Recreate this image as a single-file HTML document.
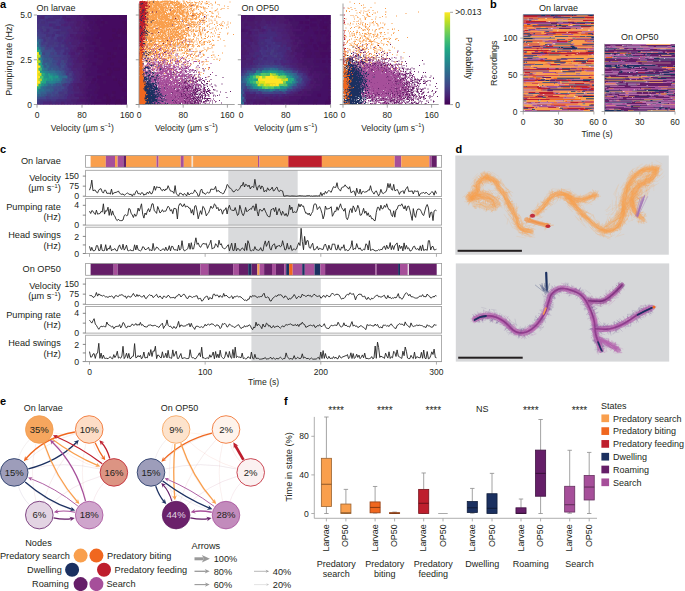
<!DOCTYPE html>
<html><head><meta charset="utf-8"><style>
html,body{margin:0;padding:0;background:#fff;overflow:hidden;width:685px;height:591px;}
svg{display:block;}
text{font-family:"Liberation Sans",sans-serif;}
</style></head><body>
<svg width="685" height="591" viewBox="0 0 685 591">
<text x="0" y="7.8" font-size="11" text-anchor="start" fill="#000" font-weight="bold">a</text>
<text x="490" y="7.8" font-size="11" text-anchor="start" fill="#000" font-weight="bold">b</text>
<text x="0" y="152.6" font-size="11" text-anchor="start" fill="#000" font-weight="bold">c</text>
<text x="455.5" y="152.6" font-size="11" text-anchor="start" fill="#000" font-weight="bold">d</text>
<text x="0" y="405.3" font-size="11" text-anchor="start" fill="#000" font-weight="bold">e</text>
<text x="284" y="404.8" font-size="11" text-anchor="start" fill="#000" font-weight="bold">f</text>
<rect x="37" y="15" width="90" height="89.5" fill="#46085c"/>
<path fill="#453580" d="M37 101.5h3.4v3h-3.4zM38.5 98.9h3.4v3h-3.4zM41.5 98.9h3.4v3h-3.4zM44.5 98.9h3.4v3h-3.4zM50.5 98.9h3.4v3h-3.4zM53.5 98.9h3.4v3h-3.4zM58 96.3h3.4v3h-3.4zM61 96.3h3.4v3h-3.4zM62.5 93.7h3.4v3h-3.4zM58 91.1h3.4v3h-3.4zM61 91.1h3.4v3h-3.4zM65.5 88.5h3.4v3h-3.4zM70 80.7h3.4v3h-3.4zM71.5 78.1h3.4v3h-3.4zM70 75.5h3.4v3h-3.4zM65.5 72.9h3.4v3h-3.4zM67 70.3h3.4v3h-3.4zM70 70.3h3.4v3h-3.4zM62.5 57.3h3.4v3h-3.4zM65.5 57.3h3.4v3h-3.4zM64 54.7h3.4v3h-3.4zM56.5 52.1h3.4v3h-3.4zM55 49.5h3.4v3h-3.4zM58 49.5h3.4v3h-3.4zM65.5 46.9h3.4v3h-3.4zM46 44.3h3.4v3h-3.4zM47.5 41.7h3.4v3h-3.4zM50.5 41.7h3.4v3h-3.4zM56.5 41.7h3.4v3h-3.4zM49 39.1h3.4v3h-3.4zM52 39.1h3.4v3h-3.4zM41.5 36.5h3.4v3h-3.4zM58 33.9h3.4v3h-3.4zM41.5 31.3h3.4v3h-3.4zM47.5 31.3h3.4v3h-3.4zM50.5 31.3h3.4v3h-3.4zM49 28.7h3.4v3h-3.4zM52 28.7h3.4v3h-3.4zM55 28.7h3.4v3h-3.4zM37 26.1h1.9v3h-1.9zM38.5 26.1h3.4v3h-3.4zM44.5 26.1h3.4v3h-3.4zM47.5 26.1h3.4v3h-3.4zM50.5 26.1h3.4v3h-3.4zM37 23.5h3.4v3h-3.4zM38.5 20.9h3.4v3h-3.4zM47.5 20.9h3.4v3h-3.4zM50.5 20.9h3.4v3h-3.4zM53.5 20.9h3.4v3h-3.4zM40 18.3h3.4v3h-3.4zM47.5 15.7h3.4v3h-3.4zM37 15h3.4v1.1h-3.4zM40 15h3.4v1.1h-3.4z"/>
<path fill="#453080" d="M40 101.5h3.4v3h-3.4zM47.5 98.9h3.4v3h-3.4zM64 96.3h3.4v3h-3.4zM65.5 93.7h3.4v3h-3.4zM71.5 72.9h3.4v3h-3.4zM68.5 67.7h3.4v3h-3.4zM65.5 62.5h3.4v3h-3.4zM65.5 52.1h3.4v3h-3.4zM53.5 46.9h3.4v3h-3.4zM56.5 46.9h3.4v3h-3.4zM59.5 46.9h3.4v3h-3.4zM62.5 46.9h3.4v3h-3.4zM58 44.3h3.4v3h-3.4zM59.5 41.7h3.4v3h-3.4zM43 39.1h3.4v3h-3.4zM55 39.1h3.4v3h-3.4zM61 39.1h3.4v3h-3.4zM50.5 36.5h3.4v3h-3.4zM49 33.9h3.4v3h-3.4zM61 33.9h3.4v3h-3.4zM44.5 31.3h3.4v3h-3.4zM53.5 31.3h3.4v3h-3.4zM40 28.7h3.4v3h-3.4zM58 28.7h3.4v3h-3.4zM40 23.5h3.4v3h-3.4zM43 23.5h3.4v3h-3.4zM46 23.5h3.4v3h-3.4zM55 23.5h3.4v3h-3.4zM58 23.5h3.4v3h-3.4zM37 20.9h1.9v3h-1.9zM44.5 20.9h3.4v3h-3.4zM56.5 20.9h3.4v3h-3.4zM37 18.3h3.4v3h-3.4zM43 18.3h3.4v3h-3.4zM55 18.3h3.4v3h-3.4zM58 18.3h3.4v3h-3.4zM37 15.7h1.9v3h-1.9zM50.5 15.7h3.4v3h-3.4zM59.5 15.7h3.4v3h-3.4zM46 15h3.4v1.1h-3.4zM49 15h3.4v1.1h-3.4zM52 15h3.4v1.1h-3.4zM55 15h3.4v1.1h-3.4z"/>
<path fill="#4a257a" d="M43 101.5h3.4v3h-3.4zM46 101.5h3.4v3h-3.4zM58 101.5h3.4v3h-3.4zM64 101.5h3.4v3h-3.4zM67 96.3h3.4v3h-3.4zM68.5 93.7h3.4v3h-3.4zM73 80.7h3.4v3h-3.4zM74.5 78.1h3.4v3h-3.4zM73 70.3h3.4v3h-3.4zM70 65.1h3.4v3h-3.4zM71.5 62.5h3.4v3h-3.4zM70 59.9h3.4v3h-3.4zM68.5 46.9h3.4v3h-3.4zM70 44.3h3.4v3h-3.4zM64 39.1h3.4v3h-3.4zM65.5 36.5h3.4v3h-3.4zM67 33.9h3.4v3h-3.4zM49 23.5h3.4v3h-3.4zM65.5 20.9h3.4v3h-3.4z"/>
<path fill="#4a2575" d="M49 101.5h3.4v3h-3.4zM55 101.5h3.4v3h-3.4zM70 101.5h3.4v3h-3.4zM65.5 98.9h3.4v3h-3.4zM68.5 98.9h3.4v3h-3.4zM70 96.3h3.4v3h-3.4zM73 96.3h3.4v3h-3.4zM76 96.3h3.4v3h-3.4zM71.5 93.7h3.4v3h-3.4zM73 91.1h3.4v3h-3.4zM76 91.1h3.4v3h-3.4zM71.5 88.5h3.4v3h-3.4zM76 85.9h3.4v3h-3.4zM71.5 83.3h3.4v3h-3.4zM76 80.7h3.4v3h-3.4zM77.5 78.1h3.4v3h-3.4zM76 75.5h3.4v3h-3.4zM74.5 72.9h3.4v3h-3.4zM77.5 72.9h3.4v3h-3.4zM76 70.3h3.4v3h-3.4zM71.5 67.7h3.4v3h-3.4zM74.5 67.7h3.4v3h-3.4zM71.5 57.3h3.4v3h-3.4zM77.5 52.1h3.4v3h-3.4zM71.5 46.9h3.4v3h-3.4zM67 44.3h3.4v3h-3.4zM73 44.3h3.4v3h-3.4zM65.5 41.7h3.4v3h-3.4zM67 39.1h3.4v3h-3.4zM68.5 36.5h3.4v3h-3.4zM68.5 31.3h3.4v3h-3.4zM71.5 31.3h3.4v3h-3.4zM74.5 31.3h3.4v3h-3.4zM67 28.7h3.4v3h-3.4zM70 28.7h3.4v3h-3.4zM56.5 26.1h3.4v3h-3.4zM74.5 26.1h3.4v3h-3.4zM61 23.5h3.4v3h-3.4zM67 23.5h3.4v3h-3.4zM68.5 20.9h3.4v3h-3.4zM71.5 20.9h3.4v3h-3.4zM41.5 15.7h3.4v3h-3.4zM65.5 15.7h3.4v3h-3.4zM68.5 15.7h3.4v3h-3.4zM67 15h3.4v1.1h-3.4z"/>
<path fill="#452a7a" d="M52 101.5h3.4v3h-3.4zM56.5 98.9h3.4v3h-3.4zM59.5 98.9h3.4v3h-3.4zM62.5 98.9h3.4v3h-3.4zM67 91.1h3.4v3h-3.4zM70 91.1h3.4v3h-3.4zM68.5 88.5h3.4v3h-3.4zM67 85.9h3.4v3h-3.4zM70 85.9h3.4v3h-3.4zM68.5 83.3h3.4v3h-3.4zM73 75.5h3.4v3h-3.4zM67 65.1h3.4v3h-3.4zM67 59.9h3.4v3h-3.4zM68.5 57.3h3.4v3h-3.4zM62.5 52.1h3.4v3h-3.4zM64 49.5h3.4v3h-3.4zM67 49.5h3.4v3h-3.4zM64 44.3h3.4v3h-3.4zM62.5 41.7h3.4v3h-3.4zM68.5 41.7h3.4v3h-3.4zM58 39.1h3.4v3h-3.4zM56.5 36.5h3.4v3h-3.4zM59.5 36.5h3.4v3h-3.4zM52 33.9h3.4v3h-3.4zM64 33.9h3.4v3h-3.4zM56.5 31.3h3.4v3h-3.4zM65.5 31.3h3.4v3h-3.4zM46 28.7h3.4v3h-3.4zM61 28.7h3.4v3h-3.4zM64 28.7h3.4v3h-3.4zM53.5 26.1h3.4v3h-3.4zM59.5 26.1h3.4v3h-3.4zM62.5 26.1h3.4v3h-3.4zM65.5 26.1h3.4v3h-3.4zM68.5 26.1h3.4v3h-3.4zM52 23.5h3.4v3h-3.4zM59.5 20.9h3.4v3h-3.4zM62.5 20.9h3.4v3h-3.4zM46 18.3h3.4v3h-3.4zM49 18.3h3.4v3h-3.4zM52 18.3h3.4v3h-3.4zM61 18.3h3.4v3h-3.4zM38.5 15.7h3.4v3h-3.4zM53.5 15.7h3.4v3h-3.4zM56.5 15.7h3.4v3h-3.4zM43 15h3.4v1.1h-3.4zM58 15h3.4v1.1h-3.4zM61 15h3.4v1.1h-3.4zM64 15h3.4v1.1h-3.4z"/>
<path fill="#4a2070" d="M61 101.5h3.4v3h-3.4zM73 101.5h3.4v3h-3.4zM71.5 98.9h3.4v3h-3.4zM74.5 98.9h3.4v3h-3.4zM79 91.1h3.4v3h-3.4zM74.5 88.5h3.4v3h-3.4zM77.5 88.5h3.4v3h-3.4zM73 85.9h3.4v3h-3.4zM74.5 83.3h3.4v3h-3.4zM80.5 72.9h3.4v3h-3.4zM79 70.3h3.4v3h-3.4zM80.5 67.7h3.4v3h-3.4zM73 65.1h3.4v3h-3.4zM76 65.1h3.4v3h-3.4zM79 65.1h3.4v3h-3.4zM74.5 62.5h3.4v3h-3.4zM77.5 62.5h3.4v3h-3.4zM80.5 62.5h3.4v3h-3.4zM73 59.9h3.4v3h-3.4zM73 54.7h3.4v3h-3.4zM76 54.7h3.4v3h-3.4zM73 49.5h3.4v3h-3.4zM79 49.5h3.4v3h-3.4zM74.5 46.9h3.4v3h-3.4zM76 44.3h3.4v3h-3.4zM71.5 41.7h3.4v3h-3.4zM74.5 41.7h3.4v3h-3.4zM73 39.1h3.4v3h-3.4zM76 39.1h3.4v3h-3.4zM71.5 36.5h3.4v3h-3.4zM73 33.9h3.4v3h-3.4zM73 28.7h3.4v3h-3.4zM76 28.7h3.4v3h-3.4zM71.5 26.1h3.4v3h-3.4zM77.5 26.1h3.4v3h-3.4zM73 23.5h3.4v3h-3.4zM74.5 20.9h3.4v3h-3.4zM70 18.3h3.4v3h-3.4zM73 18.3h3.4v3h-3.4zM62.5 15.7h3.4v3h-3.4zM74.5 15.7h3.4v3h-3.4zM80.5 15.7h3.4v3h-3.4zM70 15h3.4v1.1h-3.4zM73 15h3.4v1.1h-3.4zM76 15h3.4v1.1h-3.4z"/>
<path fill="#4a2075" d="M67 101.5h3.4v3h-3.4zM79 80.7h3.4v3h-3.4zM79 75.5h3.4v3h-3.4zM77.5 67.7h3.4v3h-3.4zM74.5 57.3h3.4v3h-3.4zM70 54.7h3.4v3h-3.4zM68.5 52.1h3.4v3h-3.4zM74.5 52.1h3.4v3h-3.4zM70 49.5h3.4v3h-3.4zM77.5 41.7h3.4v3h-3.4zM70 39.1h3.4v3h-3.4zM64 23.5h3.4v3h-3.4zM70 23.5h3.4v3h-3.4zM64 18.3h3.4v3h-3.4zM71.5 15.7h3.4v3h-3.4z"/>
<path fill="#4a1b70" d="M76 101.5h3.4v3h-3.4zM79 101.5h3.4v3h-3.4zM74.5 93.7h3.4v3h-3.4zM77.5 93.7h3.4v3h-3.4zM80.5 93.7h3.4v3h-3.4zM76 59.9h3.4v3h-3.4zM71.5 52.1h3.4v3h-3.4zM79 39.1h3.4v3h-3.4zM74.5 36.5h3.4v3h-3.4zM70 33.9h3.4v3h-3.4zM77.5 31.3h3.4v3h-3.4zM80.5 31.3h3.4v3h-3.4zM79 23.5h3.4v3h-3.4zM80.5 20.9h3.4v3h-3.4zM67 18.3h3.4v3h-3.4zM76 18.3h3.4v3h-3.4zM79 18.3h3.4v3h-3.4zM77.5 15.7h3.4v3h-3.4z"/>
<path fill="#4a1b6a" d="M82 101.5h3.4v3h-3.4zM77.5 98.9h3.4v3h-3.4zM79 96.3h3.4v3h-3.4zM82 96.3h3.4v3h-3.4zM82 91.1h3.4v3h-3.4zM80.5 88.5h3.4v3h-3.4zM79 85.9h3.4v3h-3.4zM82 85.9h3.4v3h-3.4zM77.5 83.3h3.4v3h-3.4zM80.5 83.3h3.4v3h-3.4zM83.5 83.3h3.4v3h-3.4zM82 80.7h3.4v3h-3.4zM80.5 78.1h3.4v3h-3.4zM83.5 78.1h3.4v3h-3.4zM82 75.5h3.4v3h-3.4zM83.5 72.9h3.4v3h-3.4zM82 70.3h3.4v3h-3.4zM83.5 67.7h3.4v3h-3.4zM83.5 62.5h3.4v3h-3.4zM79 59.9h3.4v3h-3.4zM82 59.9h3.4v3h-3.4zM77.5 57.3h3.4v3h-3.4zM80.5 57.3h3.4v3h-3.4zM79 54.7h3.4v3h-3.4zM80.5 52.1h3.4v3h-3.4zM83.5 52.1h3.4v3h-3.4zM76 49.5h3.4v3h-3.4zM83.5 46.9h3.4v3h-3.4zM79 44.3h3.4v3h-3.4zM82 44.3h3.4v3h-3.4zM80.5 41.7h3.4v3h-3.4zM83.5 41.7h3.4v3h-3.4zM77.5 36.5h3.4v3h-3.4zM76 33.9h3.4v3h-3.4zM79 33.9h3.4v3h-3.4zM83.5 31.3h3.4v3h-3.4zM79 28.7h3.4v3h-3.4zM82 28.7h3.4v3h-3.4zM80.5 26.1h3.4v3h-3.4zM86.5 26.1h3.4v3h-3.4zM76 23.5h3.4v3h-3.4zM82 23.5h3.4v3h-3.4zM77.5 20.9h3.4v3h-3.4zM82 18.3h3.4v3h-3.4zM82 15h3.4v1.1h-3.4z"/>
<path fill="#4a156a" d="M85 101.5h3.4v3h-3.4zM80.5 98.9h3.4v3h-3.4zM83.5 98.9h3.4v3h-3.4zM85 96.3h3.4v3h-3.4zM83.5 93.7h3.4v3h-3.4zM85 91.1h3.4v3h-3.4zM83.5 88.5h3.4v3h-3.4zM85 85.9h3.4v3h-3.4zM86.5 83.3h3.4v3h-3.4zM85 80.7h3.4v3h-3.4zM88 80.7h3.4v3h-3.4zM85 75.5h3.4v3h-3.4zM82 65.1h3.4v3h-3.4zM85 65.1h3.4v3h-3.4zM85 59.9h3.4v3h-3.4zM83.5 57.3h3.4v3h-3.4zM86.5 57.3h3.4v3h-3.4zM82 54.7h3.4v3h-3.4zM82 49.5h3.4v3h-3.4zM85 49.5h3.4v3h-3.4zM77.5 46.9h3.4v3h-3.4zM86.5 41.7h3.4v3h-3.4zM82 39.1h3.4v3h-3.4zM80.5 36.5h3.4v3h-3.4zM82 33.9h3.4v3h-3.4zM88 28.7h3.4v3h-3.4zM83.5 26.1h3.4v3h-3.4zM85 23.5h3.4v3h-3.4zM83.5 20.9h3.4v3h-3.4zM86.5 20.9h3.4v3h-3.4zM79 15h3.4v1.1h-3.4z"/>
<path fill="#451565" d="M88 101.5h3.4v3h-3.4zM86.5 98.9h3.4v3h-3.4zM88 96.3h3.4v3h-3.4zM89.5 93.7h3.4v3h-3.4zM86.5 88.5h3.4v3h-3.4zM89.5 88.5h3.4v3h-3.4zM86.5 78.1h3.4v3h-3.4zM89.5 78.1h3.4v3h-3.4zM88 75.5h3.4v3h-3.4zM91 75.5h3.4v3h-3.4zM85 70.3h3.4v3h-3.4zM88 70.3h3.4v3h-3.4zM86.5 67.7h3.4v3h-3.4zM88 65.1h3.4v3h-3.4zM86.5 62.5h3.4v3h-3.4zM89.5 62.5h3.4v3h-3.4zM85 54.7h3.4v3h-3.4zM86.5 52.1h3.4v3h-3.4zM88 49.5h3.4v3h-3.4zM91 49.5h3.4v3h-3.4zM80.5 46.9h3.4v3h-3.4zM86.5 46.9h3.4v3h-3.4zM85 44.3h3.4v3h-3.4zM88 44.3h3.4v3h-3.4zM91 44.3h3.4v3h-3.4zM85 39.1h3.4v3h-3.4zM83.5 36.5h3.4v3h-3.4zM85 33.9h3.4v3h-3.4zM88 33.9h3.4v3h-3.4zM86.5 31.3h3.4v3h-3.4zM85 28.7h3.4v3h-3.4zM85 18.3h3.4v3h-3.4zM83.5 15.7h3.4v3h-3.4zM85 15h3.4v1.1h-3.4zM88 15h3.4v1.1h-3.4z"/>
<path fill="#451065" d="M91 101.5h3.4v3h-3.4zM89.5 98.9h3.4v3h-3.4zM92.5 98.9h3.4v3h-3.4zM94 96.3h3.4v3h-3.4zM86.5 93.7h3.4v3h-3.4zM92.5 93.7h3.4v3h-3.4zM95.5 93.7h3.4v3h-3.4zM88 91.1h3.4v3h-3.4zM91 91.1h3.4v3h-3.4zM92.5 88.5h3.4v3h-3.4zM88 85.9h3.4v3h-3.4zM91 85.9h3.4v3h-3.4zM94 85.9h3.4v3h-3.4zM89.5 83.3h3.4v3h-3.4zM92.5 83.3h3.4v3h-3.4zM94 80.7h3.4v3h-3.4zM95.5 78.1h3.4v3h-3.4zM119.5 78.1h3.4v3h-3.4zM94 75.5h3.4v3h-3.4zM86.5 72.9h3.4v3h-3.4zM89.5 72.9h3.4v3h-3.4zM92.5 72.9h3.4v3h-3.4zM95.5 72.9h3.4v3h-3.4zM98.5 72.9h3.4v3h-3.4zM91 70.3h3.4v3h-3.4zM94 70.3h3.4v3h-3.4zM89.5 67.7h3.4v3h-3.4zM92.5 67.7h3.4v3h-3.4zM95.5 67.7h3.4v3h-3.4zM91 65.1h3.4v3h-3.4zM94 65.1h3.4v3h-3.4zM88 59.9h3.4v3h-3.4zM91 59.9h3.4v3h-3.4zM94 59.9h3.4v3h-3.4zM89.5 57.3h3.4v3h-3.4zM92.5 57.3h3.4v3h-3.4zM95.5 57.3h3.4v3h-3.4zM88 54.7h3.4v3h-3.4zM91 54.7h3.4v3h-3.4zM89.5 52.1h3.4v3h-3.4zM92.5 52.1h3.4v3h-3.4zM95.5 52.1h3.4v3h-3.4zM89.5 46.9h3.4v3h-3.4zM92.5 46.9h3.4v3h-3.4zM94 44.3h3.4v3h-3.4zM89.5 41.7h3.4v3h-3.4zM88 39.1h3.4v3h-3.4zM91 39.1h3.4v3h-3.4zM86.5 36.5h3.4v3h-3.4zM89.5 36.5h3.4v3h-3.4zM98.5 36.5h3.4v3h-3.4zM91 33.9h3.4v3h-3.4zM89.5 31.3h3.4v3h-3.4zM92.5 31.3h3.4v3h-3.4zM95.5 31.3h3.4v3h-3.4zM91 28.7h3.4v3h-3.4zM89.5 26.1h3.4v3h-3.4zM88 23.5h3.4v3h-3.4zM91 23.5h3.4v3h-3.4zM92.5 20.9h3.4v3h-3.4zM88 18.3h3.4v3h-3.4zM91 18.3h3.4v3h-3.4zM100 18.3h3.4v3h-3.4zM86.5 15.7h3.4v3h-3.4zM89.5 15.7h3.4v3h-3.4zM92.5 15.7h3.4v3h-3.4zM91 15h3.4v1.1h-3.4z"/>
<path fill="#450b60" d="M94 101.5h3.4v3h-3.4zM97 101.5h3.4v3h-3.4zM100 101.5h3.4v3h-3.4zM103 101.5h3.4v3h-3.4zM109 101.5h3.4v3h-3.4zM112 101.5h3.4v3h-3.4zM121 101.5h3.4v3h-3.4zM124 101.5h3v3h-3zM101.5 98.9h3.4v3h-3.4zM104.5 98.9h3.4v3h-3.4zM110.5 98.9h3.4v3h-3.4zM113.5 98.9h3.4v3h-3.4zM119.5 98.9h3.4v3h-3.4zM122.5 98.9h3.4v3h-3.4zM125.5 98.9h1.5v3h-1.5zM97 96.3h3.4v3h-3.4zM100 96.3h3.4v3h-3.4zM109 96.3h3.4v3h-3.4zM115 96.3h3.4v3h-3.4zM118 96.3h3.4v3h-3.4zM98.5 93.7h3.4v3h-3.4zM101.5 93.7h3.4v3h-3.4zM107.5 93.7h3.4v3h-3.4zM113.5 93.7h3.4v3h-3.4zM116.5 93.7h3.4v3h-3.4zM119.5 93.7h3.4v3h-3.4zM122.5 93.7h3.4v3h-3.4zM125.5 93.7h1.5v3h-1.5zM97 91.1h3.4v3h-3.4zM100 91.1h3.4v3h-3.4zM103 91.1h3.4v3h-3.4zM106 91.1h3.4v3h-3.4zM109 91.1h3.4v3h-3.4zM115 91.1h3.4v3h-3.4zM118 91.1h3.4v3h-3.4zM121 91.1h3.4v3h-3.4zM124 91.1h3v3h-3zM98.5 88.5h3.4v3h-3.4zM101.5 88.5h3.4v3h-3.4zM104.5 88.5h3.4v3h-3.4zM107.5 88.5h3.4v3h-3.4zM110.5 88.5h3.4v3h-3.4zM113.5 88.5h3.4v3h-3.4zM116.5 88.5h3.4v3h-3.4zM119.5 88.5h3.4v3h-3.4zM125.5 88.5h1.5v3h-1.5zM100 85.9h3.4v3h-3.4zM103 85.9h3.4v3h-3.4zM106 85.9h3.4v3h-3.4zM109 85.9h3.4v3h-3.4zM112 85.9h3.4v3h-3.4zM115 85.9h3.4v3h-3.4zM118 85.9h3.4v3h-3.4zM121 85.9h3.4v3h-3.4zM124 85.9h3v3h-3zM98.5 83.3h3.4v3h-3.4zM101.5 83.3h3.4v3h-3.4zM104.5 83.3h3.4v3h-3.4zM107.5 83.3h3.4v3h-3.4zM110.5 83.3h3.4v3h-3.4zM113.5 83.3h3.4v3h-3.4zM116.5 83.3h3.4v3h-3.4zM122.5 83.3h3.4v3h-3.4zM125.5 83.3h1.5v3h-1.5zM97 80.7h3.4v3h-3.4zM100 80.7h3.4v3h-3.4zM106 80.7h3.4v3h-3.4zM109 80.7h3.4v3h-3.4zM112 80.7h3.4v3h-3.4zM115 80.7h3.4v3h-3.4zM121 80.7h3.4v3h-3.4zM124 80.7h3v3h-3zM92.5 78.1h3.4v3h-3.4zM98.5 78.1h3.4v3h-3.4zM101.5 78.1h3.4v3h-3.4zM104.5 78.1h3.4v3h-3.4zM107.5 78.1h3.4v3h-3.4zM110.5 78.1h3.4v3h-3.4zM116.5 78.1h3.4v3h-3.4zM125.5 78.1h1.5v3h-1.5zM100 75.5h3.4v3h-3.4zM103 75.5h3.4v3h-3.4zM106 75.5h3.4v3h-3.4zM109 75.5h3.4v3h-3.4zM115 75.5h3.4v3h-3.4zM118 75.5h3.4v3h-3.4zM121 75.5h3.4v3h-3.4zM124 75.5h3v3h-3zM104.5 72.9h3.4v3h-3.4zM110.5 72.9h3.4v3h-3.4zM113.5 72.9h3.4v3h-3.4zM116.5 72.9h3.4v3h-3.4zM119.5 72.9h3.4v3h-3.4zM122.5 72.9h3.4v3h-3.4zM97 70.3h3.4v3h-3.4zM100 70.3h3.4v3h-3.4zM103 70.3h3.4v3h-3.4zM112 70.3h3.4v3h-3.4zM115 70.3h3.4v3h-3.4zM118 70.3h3.4v3h-3.4zM121 70.3h3.4v3h-3.4zM124 70.3h3v3h-3zM98.5 67.7h3.4v3h-3.4zM101.5 67.7h3.4v3h-3.4zM104.5 67.7h3.4v3h-3.4zM110.5 67.7h3.4v3h-3.4zM119.5 67.7h3.4v3h-3.4zM122.5 67.7h3.4v3h-3.4zM97 65.1h3.4v3h-3.4zM100 65.1h3.4v3h-3.4zM103 65.1h3.4v3h-3.4zM106 65.1h3.4v3h-3.4zM109 65.1h3.4v3h-3.4zM112 65.1h3.4v3h-3.4zM115 65.1h3.4v3h-3.4zM118 65.1h3.4v3h-3.4zM121 65.1h3.4v3h-3.4zM124 65.1h3v3h-3zM92.5 62.5h3.4v3h-3.4zM101.5 62.5h3.4v3h-3.4zM104.5 62.5h3.4v3h-3.4zM107.5 62.5h3.4v3h-3.4zM113.5 62.5h3.4v3h-3.4zM116.5 62.5h3.4v3h-3.4zM119.5 62.5h3.4v3h-3.4zM125.5 62.5h1.5v3h-1.5zM103 59.9h3.4v3h-3.4zM106 59.9h3.4v3h-3.4zM109 59.9h3.4v3h-3.4zM112 59.9h3.4v3h-3.4zM115 59.9h3.4v3h-3.4zM121 59.9h3.4v3h-3.4zM124 59.9h3v3h-3zM98.5 57.3h3.4v3h-3.4zM101.5 57.3h3.4v3h-3.4zM104.5 57.3h3.4v3h-3.4zM110.5 57.3h3.4v3h-3.4zM113.5 57.3h3.4v3h-3.4zM116.5 57.3h3.4v3h-3.4zM119.5 57.3h3.4v3h-3.4zM122.5 57.3h3.4v3h-3.4zM125.5 57.3h1.5v3h-1.5zM94 54.7h3.4v3h-3.4zM103 54.7h3.4v3h-3.4zM106 54.7h3.4v3h-3.4zM109 54.7h3.4v3h-3.4zM115 54.7h3.4v3h-3.4zM118 54.7h3.4v3h-3.4zM121 54.7h3.4v3h-3.4zM98.5 52.1h3.4v3h-3.4zM101.5 52.1h3.4v3h-3.4zM104.5 52.1h3.4v3h-3.4zM110.5 52.1h3.4v3h-3.4zM116.5 52.1h3.4v3h-3.4zM119.5 52.1h3.4v3h-3.4zM122.5 52.1h3.4v3h-3.4zM125.5 52.1h1.5v3h-1.5zM94 49.5h3.4v3h-3.4zM97 49.5h3.4v3h-3.4zM100 49.5h3.4v3h-3.4zM103 49.5h3.4v3h-3.4zM106 49.5h3.4v3h-3.4zM109 49.5h3.4v3h-3.4zM112 49.5h3.4v3h-3.4zM115 49.5h3.4v3h-3.4zM118 49.5h3.4v3h-3.4zM121 49.5h3.4v3h-3.4zM124 49.5h3v3h-3zM95.5 46.9h3.4v3h-3.4zM104.5 46.9h3.4v3h-3.4zM107.5 46.9h3.4v3h-3.4zM110.5 46.9h3.4v3h-3.4zM116.5 46.9h3.4v3h-3.4zM122.5 46.9h3.4v3h-3.4zM125.5 46.9h1.5v3h-1.5zM100 44.3h3.4v3h-3.4zM103 44.3h3.4v3h-3.4zM106 44.3h3.4v3h-3.4zM109 44.3h3.4v3h-3.4zM112 44.3h3.4v3h-3.4zM115 44.3h3.4v3h-3.4zM121 44.3h3.4v3h-3.4zM124 44.3h3v3h-3zM92.5 41.7h3.4v3h-3.4zM101.5 41.7h3.4v3h-3.4zM104.5 41.7h3.4v3h-3.4zM107.5 41.7h3.4v3h-3.4zM110.5 41.7h3.4v3h-3.4zM113.5 41.7h3.4v3h-3.4zM116.5 41.7h3.4v3h-3.4zM119.5 41.7h3.4v3h-3.4zM122.5 41.7h3.4v3h-3.4zM125.5 41.7h1.5v3h-1.5zM100 39.1h3.4v3h-3.4zM103 39.1h3.4v3h-3.4zM106 39.1h3.4v3h-3.4zM112 39.1h3.4v3h-3.4zM115 39.1h3.4v3h-3.4zM118 39.1h3.4v3h-3.4zM121 39.1h3.4v3h-3.4zM124 39.1h3v3h-3zM95.5 36.5h3.4v3h-3.4zM101.5 36.5h3.4v3h-3.4zM104.5 36.5h3.4v3h-3.4zM107.5 36.5h3.4v3h-3.4zM110.5 36.5h3.4v3h-3.4zM119.5 36.5h3.4v3h-3.4zM122.5 36.5h3.4v3h-3.4zM125.5 36.5h1.5v3h-1.5zM97 33.9h3.4v3h-3.4zM100 33.9h3.4v3h-3.4zM103 33.9h3.4v3h-3.4zM106 33.9h3.4v3h-3.4zM109 33.9h3.4v3h-3.4zM115 33.9h3.4v3h-3.4zM121 33.9h3.4v3h-3.4zM124 33.9h3v3h-3zM98.5 31.3h3.4v3h-3.4zM101.5 31.3h3.4v3h-3.4zM104.5 31.3h3.4v3h-3.4zM107.5 31.3h3.4v3h-3.4zM110.5 31.3h3.4v3h-3.4zM113.5 31.3h3.4v3h-3.4zM119.5 31.3h3.4v3h-3.4zM100 28.7h3.4v3h-3.4zM103 28.7h3.4v3h-3.4zM106 28.7h3.4v3h-3.4zM109 28.7h3.4v3h-3.4zM115 28.7h3.4v3h-3.4zM121 28.7h3.4v3h-3.4zM98.5 26.1h3.4v3h-3.4zM101.5 26.1h3.4v3h-3.4zM104.5 26.1h3.4v3h-3.4zM107.5 26.1h3.4v3h-3.4zM110.5 26.1h3.4v3h-3.4zM113.5 26.1h3.4v3h-3.4zM116.5 26.1h3.4v3h-3.4zM119.5 26.1h3.4v3h-3.4zM122.5 26.1h3.4v3h-3.4zM97 23.5h3.4v3h-3.4zM103 23.5h3.4v3h-3.4zM106 23.5h3.4v3h-3.4zM109 23.5h3.4v3h-3.4zM112 23.5h3.4v3h-3.4zM115 23.5h3.4v3h-3.4zM118 23.5h3.4v3h-3.4zM121 23.5h3.4v3h-3.4zM95.5 20.9h3.4v3h-3.4zM98.5 20.9h3.4v3h-3.4zM107.5 20.9h3.4v3h-3.4zM110.5 20.9h3.4v3h-3.4zM113.5 20.9h3.4v3h-3.4zM116.5 20.9h3.4v3h-3.4zM119.5 20.9h3.4v3h-3.4zM125.5 20.9h1.5v3h-1.5zM97 18.3h3.4v3h-3.4zM103 18.3h3.4v3h-3.4zM106 18.3h3.4v3h-3.4zM109 18.3h3.4v3h-3.4zM112 18.3h3.4v3h-3.4zM115 18.3h3.4v3h-3.4zM118 18.3h3.4v3h-3.4zM121 18.3h3.4v3h-3.4zM124 18.3h3v3h-3zM101.5 15.7h3.4v3h-3.4zM104.5 15.7h3.4v3h-3.4zM107.5 15.7h3.4v3h-3.4zM110.5 15.7h3.4v3h-3.4zM113.5 15.7h3.4v3h-3.4zM116.5 15.7h3.4v3h-3.4zM125.5 15.7h1.5v3h-1.5zM100 15h3.4v1.1h-3.4zM103 15h3.4v1.1h-3.4zM115 15h3.4v1.1h-3.4zM118 15h3.4v1.1h-3.4zM121 15h3.4v1.1h-3.4zM124 15h3v1.1h-3z"/>
<path fill="#450b5a" d="M106 101.5h3.4v3h-3.4zM115 101.5h3.4v3h-3.4zM118 101.5h3.4v3h-3.4zM107.5 98.9h3.4v3h-3.4zM116.5 98.9h3.4v3h-3.4zM106 96.3h3.4v3h-3.4zM112 96.3h3.4v3h-3.4zM124 96.3h3v3h-3zM104.5 93.7h3.4v3h-3.4zM112 91.1h3.4v3h-3.4zM122.5 88.5h3.4v3h-3.4zM119.5 83.3h3.4v3h-3.4zM118 80.7h3.4v3h-3.4zM113.5 78.1h3.4v3h-3.4zM122.5 78.1h3.4v3h-3.4zM97 75.5h3.4v3h-3.4zM107.5 72.9h3.4v3h-3.4zM125.5 72.9h1.5v3h-1.5zM109 70.3h3.4v3h-3.4zM107.5 67.7h3.4v3h-3.4zM113.5 67.7h3.4v3h-3.4zM116.5 67.7h3.4v3h-3.4zM125.5 67.7h1.5v3h-1.5zM110.5 62.5h3.4v3h-3.4zM122.5 62.5h3.4v3h-3.4zM118 59.9h3.4v3h-3.4zM107.5 57.3h3.4v3h-3.4zM112 54.7h3.4v3h-3.4zM124 54.7h3v3h-3zM107.5 52.1h3.4v3h-3.4zM113.5 46.9h3.4v3h-3.4zM119.5 46.9h3.4v3h-3.4zM109 39.1h3.4v3h-3.4zM113.5 36.5h3.4v3h-3.4zM116.5 36.5h3.4v3h-3.4zM112 33.9h3.4v3h-3.4zM116.5 31.3h3.4v3h-3.4zM122.5 31.3h3.4v3h-3.4zM125.5 31.3h1.5v3h-1.5zM112 28.7h3.4v3h-3.4zM118 28.7h3.4v3h-3.4zM124 28.7h3v3h-3zM125.5 26.1h1.5v3h-1.5zM124 23.5h3v3h-3zM101.5 20.9h3.4v3h-3.4zM122.5 20.9h3.4v3h-3.4zM119.5 15.7h3.4v3h-3.4zM122.5 15.7h3.4v3h-3.4zM106 15h3.4v1.1h-3.4zM112 15h3.4v1.1h-3.4z"/>
<path fill="#404085" d="M37 98.9h1.9v3h-1.9zM49 96.3h3.4v3h-3.4zM67 75.5h3.4v3h-3.4zM64 70.3h3.4v3h-3.4zM62.5 67.7h3.4v3h-3.4zM58 65.1h3.4v3h-3.4zM58 54.7h3.4v3h-3.4zM47.5 46.9h3.4v3h-3.4zM38.5 36.5h3.4v3h-3.4z"/>
<path fill="#451060" d="M95.5 98.9h3.4v3h-3.4zM98.5 98.9h3.4v3h-3.4zM91 96.3h3.4v3h-3.4zM103 96.3h3.4v3h-3.4zM121 96.3h3.4v3h-3.4zM110.5 93.7h3.4v3h-3.4zM94 91.1h3.4v3h-3.4zM95.5 88.5h3.4v3h-3.4zM97 85.9h3.4v3h-3.4zM95.5 83.3h3.4v3h-3.4zM91 80.7h3.4v3h-3.4zM103 80.7h3.4v3h-3.4zM112 75.5h3.4v3h-3.4zM101.5 72.9h3.4v3h-3.4zM106 70.3h3.4v3h-3.4zM95.5 62.5h3.4v3h-3.4zM98.5 62.5h3.4v3h-3.4zM97 59.9h3.4v3h-3.4zM100 59.9h3.4v3h-3.4zM97 54.7h3.4v3h-3.4zM100 54.7h3.4v3h-3.4zM113.5 52.1h3.4v3h-3.4zM98.5 46.9h3.4v3h-3.4zM101.5 46.9h3.4v3h-3.4zM97 44.3h3.4v3h-3.4zM118 44.3h3.4v3h-3.4zM95.5 41.7h3.4v3h-3.4zM98.5 41.7h3.4v3h-3.4zM94 39.1h3.4v3h-3.4zM97 39.1h3.4v3h-3.4zM92.5 36.5h3.4v3h-3.4zM94 33.9h3.4v3h-3.4zM118 33.9h3.4v3h-3.4zM94 28.7h3.4v3h-3.4zM97 28.7h3.4v3h-3.4zM92.5 26.1h3.4v3h-3.4zM95.5 26.1h3.4v3h-3.4zM94 23.5h3.4v3h-3.4zM100 23.5h3.4v3h-3.4zM89.5 20.9h3.4v3h-3.4zM104.5 20.9h3.4v3h-3.4zM94 18.3h3.4v3h-3.4zM95.5 15.7h3.4v3h-3.4zM98.5 15.7h3.4v3h-3.4zM94 15h3.4v1.1h-3.4zM97 15h3.4v1.1h-3.4zM109 15h3.4v1.1h-3.4z"/>
<path fill="#3a508a" d="M37 96.3h3.4v3h-3.4zM44.5 93.7h3.4v3h-3.4zM46 91.1h3.4v3h-3.4zM49 91.1h3.4v3h-3.4zM52 85.9h3.4v3h-3.4zM59.5 83.3h3.4v3h-3.4zM64 80.7h3.4v3h-3.4zM62.5 72.9h3.4v3h-3.4zM56.5 67.7h3.4v3h-3.4zM49 65.1h3.4v3h-3.4zM52 65.1h3.4v3h-3.4zM55 65.1h3.4v3h-3.4zM50.5 62.5h3.4v3h-3.4zM46 59.9h3.4v3h-3.4zM50.5 57.3h3.4v3h-3.4zM43 54.7h3.4v3h-3.4zM46 54.7h3.4v3h-3.4zM44.5 52.1h3.4v3h-3.4zM47.5 52.1h3.4v3h-3.4zM38.5 41.7h3.4v3h-3.4z"/>
<path fill="#40458a" d="M40 96.3h3.4v3h-3.4zM43 96.3h3.4v3h-3.4zM52 91.1h3.4v3h-3.4zM53.5 88.5h3.4v3h-3.4zM59.5 88.5h3.4v3h-3.4zM58 85.9h3.4v3h-3.4zM67 80.7h3.4v3h-3.4zM65.5 78.1h3.4v3h-3.4zM59.5 62.5h3.4v3h-3.4zM55 59.9h3.4v3h-3.4zM49 54.7h3.4v3h-3.4zM53.5 52.1h3.4v3h-3.4zM50.5 46.9h3.4v3h-3.4zM40 44.3h3.4v3h-3.4zM40 39.1h3.4v3h-3.4zM37 31.3h1.9v3h-1.9z"/>
<path fill="#453a85" d="M46 96.3h3.4v3h-3.4zM52 96.3h3.4v3h-3.4zM55 96.3h3.4v3h-3.4zM62.5 88.5h3.4v3h-3.4zM64 85.9h3.4v3h-3.4zM65.5 83.3h3.4v3h-3.4zM65.5 67.7h3.4v3h-3.4zM64 65.1h3.4v3h-3.4zM56.5 62.5h3.4v3h-3.4zM58 59.9h3.4v3h-3.4zM59.5 57.3h3.4v3h-3.4zM61 54.7h3.4v3h-3.4zM59.5 52.1h3.4v3h-3.4zM61 49.5h3.4v3h-3.4zM49 44.3h3.4v3h-3.4zM55 44.3h3.4v3h-3.4zM41.5 41.7h3.4v3h-3.4zM47.5 36.5h3.4v3h-3.4zM53.5 36.5h3.4v3h-3.4zM40 33.9h3.4v3h-3.4zM43 33.9h3.4v3h-3.4zM55 33.9h3.4v3h-3.4zM38.5 31.3h3.4v3h-3.4zM37 28.7h3.4v3h-3.4zM44.5 15.7h3.4v3h-3.4z"/>
<path fill="#306a8f" d="M37 93.7h1.9v3h-1.9zM50.5 83.3h3.4v3h-3.4zM58 80.7h3.4v3h-3.4zM61 75.5h3.4v3h-3.4zM64 75.5h3.4v3h-3.4zM56.5 72.9h3.4v3h-3.4zM46 65.1h3.4v3h-3.4zM44.5 62.5h3.4v3h-3.4zM37 44.3h3.4v3h-3.4z"/>
<path fill="#35608f" d="M38.5 93.7h3.4v3h-3.4zM40 91.1h3.4v3h-3.4zM43 91.1h3.4v3h-3.4zM44.5 88.5h3.4v3h-3.4zM47.5 88.5h3.4v3h-3.4zM59.5 72.9h3.4v3h-3.4zM58 70.3h3.4v3h-3.4zM50.5 67.7h3.4v3h-3.4zM41.5 62.5h3.4v3h-3.4zM41.5 57.3h3.4v3h-3.4zM40 54.7h3.4v3h-3.4zM37 39.1h3.4v3h-3.4z"/>
<path fill="#355a8a" d="M41.5 93.7h3.4v3h-3.4zM50.5 88.5h3.4v3h-3.4zM46 85.9h3.4v3h-3.4zM49 85.9h3.4v3h-3.4zM43 65.1h3.4v3h-3.4zM47.5 62.5h3.4v3h-3.4zM44.5 57.3h3.4v3h-3.4zM40 49.5h3.4v3h-3.4z"/>
<path fill="#404585" d="M47.5 93.7h3.4v3h-3.4zM53.5 93.7h3.4v3h-3.4zM68.5 78.1h3.4v3h-3.4zM62.5 62.5h3.4v3h-3.4zM61 59.9h3.4v3h-3.4zM52 54.7h3.4v3h-3.4zM55 54.7h3.4v3h-3.4zM41.5 52.1h3.4v3h-3.4zM52 49.5h3.4v3h-3.4zM43 44.3h3.4v3h-3.4z"/>
<path fill="#404a8a" d="M50.5 93.7h3.4v3h-3.4zM55 91.1h3.4v3h-3.4zM56.5 88.5h3.4v3h-3.4zM55 85.9h3.4v3h-3.4zM61 85.9h3.4v3h-3.4zM59.5 67.7h3.4v3h-3.4zM61 65.1h3.4v3h-3.4zM53.5 62.5h3.4v3h-3.4zM43 49.5h3.4v3h-3.4zM46 49.5h3.4v3h-3.4zM49 49.5h3.4v3h-3.4z"/>
<path fill="#454085" d="M56.5 93.7h3.4v3h-3.4zM68.5 72.9h3.4v3h-3.4zM53.5 57.3h3.4v3h-3.4zM56.5 57.3h3.4v3h-3.4zM50.5 52.1h3.4v3h-3.4zM44.5 46.9h3.4v3h-3.4zM44.5 41.7h3.4v3h-3.4zM37 33.9h3.4v3h-3.4z"/>
<path fill="#453a80" d="M59.5 93.7h3.4v3h-3.4zM64 91.1h3.4v3h-3.4zM62.5 83.3h3.4v3h-3.4zM64 59.9h3.4v3h-3.4zM52 44.3h3.4v3h-3.4zM61 44.3h3.4v3h-3.4zM53.5 41.7h3.4v3h-3.4zM46 39.1h3.4v3h-3.4zM44.5 36.5h3.4v3h-3.4zM43 28.7h3.4v3h-3.4zM41.5 26.1h3.4v3h-3.4z"/>
<path fill="#2a758f" d="M37 91.1h3.4v3h-3.4zM55 80.7h3.4v3h-3.4zM40 59.9h3.4v3h-3.4z"/>
<path fill="#209a8a" d="M37 88.5h1.9v3h-1.9zM50.5 78.1h3.4v3h-3.4zM47.5 72.9h3.4v3h-3.4z"/>
<path fill="#2a708f" d="M38.5 88.5h3.4v3h-3.4zM41.5 88.5h3.4v3h-3.4zM40 85.9h3.4v3h-3.4zM59.5 78.1h3.4v3h-3.4zM58 75.5h3.4v3h-3.4z"/>
<path fill="#25aa80" d="M37 85.9h3.4v3h-3.4z"/>
<path fill="#30658f" d="M43 85.9h3.4v3h-3.4zM47.5 83.3h3.4v3h-3.4zM55 70.3h3.4v3h-3.4zM38.5 46.9h3.4v3h-3.4z"/>
<path fill="#e4e41b" d="M37 83.3h1.9v3h-1.9z"/>
<path fill="#2aaf80" d="M38.5 83.3h3.4v3h-3.4zM40 80.7h3.4v3h-3.4zM41.5 78.1h3.4v3h-3.4zM37 49.5h3.4v3h-3.4z"/>
<path fill="#208f8a" d="M41.5 83.3h3.4v3h-3.4zM46 75.5h3.4v3h-3.4zM52 75.5h3.4v3h-3.4zM44.5 72.9h3.4v3h-3.4zM40 65.1h3.4v3h-3.4z"/>
<path fill="#2a7a8f" d="M44.5 83.3h3.4v3h-3.4zM53.5 72.9h3.4v3h-3.4zM46 70.3h3.4v3h-3.4zM37 41.7h1.9v3h-1.9z"/>
<path fill="#355a8f" d="M53.5 83.3h3.4v3h-3.4zM47.5 67.7h3.4v3h-3.4z"/>
<path fill="#3a558a" d="M56.5 83.3h3.4v3h-3.4zM61 80.7h3.4v3h-3.4zM62.5 78.1h3.4v3h-3.4zM61 70.3h3.4v3h-3.4zM53.5 67.7h3.4v3h-3.4zM43 59.9h3.4v3h-3.4zM49 59.9h3.4v3h-3.4zM47.5 57.3h3.4v3h-3.4zM41.5 46.9h3.4v3h-3.4zM37 36.5h1.9v3h-1.9z"/>
<path fill="#ffe425" d="M37 80.7h3.4v3h-3.4zM37 78.1h1.9v3h-1.9zM37 75.5h3.4v3h-3.4zM37 72.9h1.9v3h-1.9zM37 70.3h3.4v3h-3.4zM37 67.7h1.9v3h-1.9zM37 65.1h3.4v3h-3.4zM37 62.5h1.9v3h-1.9zM37 57.3h1.9v3h-1.9z"/>
<path fill="#20a585" d="M43 80.7h3.4v3h-3.4zM44.5 78.1h3.4v3h-3.4zM38.5 62.5h3.4v3h-3.4z"/>
<path fill="#25808f" d="M46 80.7h3.4v3h-3.4zM52 80.7h3.4v3h-3.4z"/>
<path fill="#25858f" d="M49 80.7h3.4v3h-3.4zM53.5 78.1h3.4v3h-3.4zM50.5 72.9h3.4v3h-3.4zM43 70.3h3.4v3h-3.4zM38.5 52.1h3.4v3h-3.4z"/>
<path fill="#aada30" d="M38.5 78.1h3.4v3h-3.4z"/>
<path fill="#20958a" d="M47.5 78.1h3.4v3h-3.4zM43 75.5h3.4v3h-3.4zM55 75.5h3.4v3h-3.4zM40 70.3h3.4v3h-3.4zM37 46.9h1.9v3h-1.9z"/>
<path fill="#2a808f" d="M56.5 78.1h3.4v3h-3.4zM41.5 67.7h3.4v3h-3.4z"/>
<path fill="#4ac56a" d="M40 75.5h3.4v3h-3.4z"/>
<path fill="#209f8a" d="M49 75.5h3.4v3h-3.4z"/>
<path fill="#d4df1b" d="M38.5 72.9h3.4v3h-3.4z"/>
<path fill="#25aa85" d="M41.5 72.9h3.4v3h-3.4z"/>
<path fill="#30708f" d="M49 70.3h3.4v3h-3.4zM52 70.3h3.4v3h-3.4zM44.5 67.7h3.4v3h-3.4z"/>
<path fill="#40bf70" d="M38.5 67.7h3.4v3h-3.4z"/>
<path fill="#45307a" d="M68.5 62.5h3.4v3h-3.4zM67 54.7h3.4v3h-3.4zM62.5 36.5h3.4v3h-3.4zM46 33.9h3.4v3h-3.4zM59.5 31.3h3.4v3h-3.4zM62.5 31.3h3.4v3h-3.4zM41.5 20.9h3.4v3h-3.4z"/>
<path fill="#b5df2a" d="M37 59.9h3.4v3h-3.4z"/>
<path fill="#3a4a8a" d="M52 59.9h3.4v3h-3.4z"/>
<path fill="#258a8f" d="M38.5 57.3h3.4v3h-3.4z"/>
<path fill="#badf2a" d="M37 54.7h3.4v3h-3.4z"/>
<path fill="#efe41b" d="M37 52.1h1.9v3h-1.9z"/>
<rect x="241" y="15" width="89.6" height="89.5" fill="#46085c"/>
<path fill="#306a8f" d="M241 101.5h3.4v3h-3.4zM257.5 88.5h3.4v3h-3.4zM244 80.7h3.4v3h-3.4zM295 80.7h3.4v3h-3.4zM275.5 67.7h3.4v3h-3.4z"/>
<path fill="#4a2575" d="M244 101.5h3.4v3h-3.4zM244 96.3h3.4v3h-3.4zM253 96.3h3.4v3h-3.4zM254.5 93.7h3.4v3h-3.4zM260.5 93.7h3.4v3h-3.4zM269.5 93.7h3.4v3h-3.4zM275.5 93.7h3.4v3h-3.4zM284.5 93.7h3.4v3h-3.4zM292 91.1h3.4v3h-3.4zM299.5 88.5h3.4v3h-3.4zM308.5 78.1h3.4v3h-3.4zM301 70.3h3.4v3h-3.4zM296.5 67.7h3.4v3h-3.4zM244 65.1h3.4v3h-3.4zM247 65.1h3.4v3h-3.4zM245.5 62.5h3.4v3h-3.4zM251.5 62.5h3.4v3h-3.4zM284.5 62.5h3.4v3h-3.4zM287.5 62.5h3.4v3h-3.4zM245.5 57.3h3.4v3h-3.4zM248.5 57.3h3.4v3h-3.4zM284.5 57.3h3.4v3h-3.4zM250 54.7h3.4v3h-3.4zM256 54.7h3.4v3h-3.4zM286 54.7h3.4v3h-3.4zM248.5 52.1h3.4v3h-3.4zM251.5 52.1h3.4v3h-3.4zM284.5 52.1h3.4v3h-3.4zM253 49.5h3.4v3h-3.4zM289 49.5h3.4v3h-3.4zM251.5 46.9h3.4v3h-3.4zM254.5 46.9h3.4v3h-3.4zM250 44.3h3.4v3h-3.4zM253 44.3h3.4v3h-3.4zM256 44.3h3.4v3h-3.4zM280 44.3h3.4v3h-3.4zM251.5 41.7h3.4v3h-3.4zM281.5 41.7h3.4v3h-3.4zM284.5 41.7h3.4v3h-3.4zM256 39.1h3.4v3h-3.4zM274 39.1h3.4v3h-3.4zM277 39.1h3.4v3h-3.4zM280 39.1h3.4v3h-3.4zM283 39.1h3.4v3h-3.4zM263.5 36.5h3.4v3h-3.4zM272.5 36.5h3.4v3h-3.4zM253 33.9h3.4v3h-3.4zM256 33.9h3.4v3h-3.4zM277 33.9h3.4v3h-3.4zM280 33.9h3.4v3h-3.4zM257.5 31.3h3.4v3h-3.4zM260.5 31.3h3.4v3h-3.4zM275.5 31.3h3.4v3h-3.4zM278.5 31.3h3.4v3h-3.4zM253 28.7h3.4v3h-3.4zM256 28.7h3.4v3h-3.4zM265 28.7h3.4v3h-3.4zM274 28.7h3.4v3h-3.4zM260.5 26.1h3.4v3h-3.4zM266.5 26.1h3.4v3h-3.4zM269.5 26.1h3.4v3h-3.4zM272.5 26.1h3.4v3h-3.4zM275.5 26.1h3.4v3h-3.4zM265 23.5h3.4v3h-3.4z"/>
<path fill="#4a1b6a" d="M247 101.5h3.4v3h-3.4zM256 101.5h3.4v3h-3.4zM265 101.5h3.4v3h-3.4zM268 101.5h3.4v3h-3.4zM283 101.5h3.4v3h-3.4zM245.5 98.9h3.4v3h-3.4zM248.5 98.9h3.4v3h-3.4zM254.5 98.9h3.4v3h-3.4zM257.5 98.9h3.4v3h-3.4zM260.5 98.9h3.4v3h-3.4zM263.5 98.9h3.4v3h-3.4zM266.5 98.9h3.4v3h-3.4zM272.5 98.9h3.4v3h-3.4zM275.5 98.9h3.4v3h-3.4zM278.5 98.9h3.4v3h-3.4zM265 96.3h3.4v3h-3.4zM283 96.3h3.4v3h-3.4zM286 96.3h3.4v3h-3.4zM293.5 93.7h3.4v3h-3.4zM296.5 93.7h3.4v3h-3.4zM299.5 93.7h3.4v3h-3.4zM301 91.1h3.4v3h-3.4zM302.5 88.5h3.4v3h-3.4zM305.5 88.5h3.4v3h-3.4zM308.5 88.5h3.4v3h-3.4zM310 85.9h3.4v3h-3.4zM308.5 83.3h3.4v3h-3.4zM311.5 83.3h3.4v3h-3.4zM313 80.7h3.4v3h-3.4zM311.5 78.1h3.4v3h-3.4zM311.5 72.9h3.4v3h-3.4zM307 70.3h3.4v3h-3.4zM305.5 67.7h3.4v3h-3.4zM298 65.1h3.4v3h-3.4zM301 65.1h3.4v3h-3.4zM304 65.1h3.4v3h-3.4zM296.5 62.5h3.4v3h-3.4zM299.5 62.5h3.4v3h-3.4zM242.5 57.3h3.4v3h-3.4zM299.5 57.3h3.4v3h-3.4zM241 52.1h1.9v3h-1.9zM242.5 52.1h3.4v3h-3.4zM290.5 52.1h3.4v3h-3.4zM241 49.5h3.4v3h-3.4zM244 49.5h3.4v3h-3.4zM292 49.5h3.4v3h-3.4zM242.5 46.9h3.4v3h-3.4zM290.5 46.9h3.4v3h-3.4zM293.5 46.9h3.4v3h-3.4zM241 44.3h3.4v3h-3.4zM247 44.3h3.4v3h-3.4zM292 44.3h3.4v3h-3.4zM295 44.3h3.4v3h-3.4zM242.5 41.7h3.4v3h-3.4zM290.5 41.7h3.4v3h-3.4zM296.5 41.7h3.4v3h-3.4zM250 39.1h3.4v3h-3.4zM292 39.1h3.4v3h-3.4zM298 39.1h3.4v3h-3.4zM241 36.5h1.9v3h-1.9zM242.5 36.5h3.4v3h-3.4zM245.5 36.5h3.4v3h-3.4zM248.5 36.5h3.4v3h-3.4zM241 33.9h3.4v3h-3.4zM247 33.9h3.4v3h-3.4zM289 33.9h3.4v3h-3.4zM292 33.9h3.4v3h-3.4zM241 31.3h1.9v3h-1.9zM242.5 31.3h3.4v3h-3.4zM287.5 31.3h3.4v3h-3.4zM290.5 31.3h3.4v3h-3.4zM247 28.7h3.4v3h-3.4zM289 28.7h3.4v3h-3.4zM241 26.1h1.9v3h-1.9zM242.5 26.1h3.4v3h-3.4zM251.5 26.1h3.4v3h-3.4zM257.5 26.1h3.4v3h-3.4zM284.5 26.1h3.4v3h-3.4zM287.5 26.1h3.4v3h-3.4zM241 23.5h3.4v3h-3.4zM247 23.5h3.4v3h-3.4zM250 23.5h3.4v3h-3.4zM253 23.5h3.4v3h-3.4zM286 23.5h3.4v3h-3.4zM289 23.5h3.4v3h-3.4zM241 20.9h1.9v3h-1.9zM242.5 20.9h3.4v3h-3.4zM245.5 20.9h3.4v3h-3.4zM248.5 20.9h3.4v3h-3.4zM251.5 20.9h3.4v3h-3.4zM257.5 20.9h3.4v3h-3.4zM278.5 20.9h3.4v3h-3.4zM281.5 20.9h3.4v3h-3.4zM287.5 20.9h3.4v3h-3.4zM244 18.3h3.4v3h-3.4zM253 18.3h3.4v3h-3.4zM256 18.3h3.4v3h-3.4zM259 18.3h3.4v3h-3.4zM265 18.3h3.4v3h-3.4zM268 18.3h3.4v3h-3.4zM277 18.3h3.4v3h-3.4zM280 18.3h3.4v3h-3.4zM283 18.3h3.4v3h-3.4zM245.5 15.7h3.4v3h-3.4zM254.5 15.7h3.4v3h-3.4zM257.5 15.7h3.4v3h-3.4zM260.5 15.7h3.4v3h-3.4zM263.5 15.7h3.4v3h-3.4zM266.5 15.7h3.4v3h-3.4zM269.5 15.7h3.4v3h-3.4zM278.5 15.7h3.4v3h-3.4zM281.5 15.7h3.4v3h-3.4zM247 15h3.4v1.1h-3.4zM253 15h3.4v1.1h-3.4zM262 15h3.4v1.1h-3.4zM265 15h3.4v1.1h-3.4zM268 15h3.4v1.1h-3.4zM274 15h3.4v1.1h-3.4zM277 15h3.4v1.1h-3.4zM283 15h3.4v1.1h-3.4z"/>
<path fill="#4a2070" d="M250 101.5h3.4v3h-3.4zM247 96.3h3.4v3h-3.4zM250 96.3h3.4v3h-3.4zM256 96.3h3.4v3h-3.4zM262 96.3h3.4v3h-3.4zM268 96.3h3.4v3h-3.4zM271 96.3h3.4v3h-3.4zM277 96.3h3.4v3h-3.4zM245.5 93.7h3.4v3h-3.4zM248.5 93.7h3.4v3h-3.4zM251.5 93.7h3.4v3h-3.4zM287.5 93.7h3.4v3h-3.4zM290.5 93.7h3.4v3h-3.4zM295 91.1h3.4v3h-3.4zM304 85.9h3.4v3h-3.4zM307 75.5h3.4v3h-3.4zM305.5 72.9h3.4v3h-3.4zM304 70.3h3.4v3h-3.4zM299.5 67.7h3.4v3h-3.4zM241 65.1h3.4v3h-3.4zM295 65.1h3.4v3h-3.4zM242.5 62.5h3.4v3h-3.4zM290.5 62.5h3.4v3h-3.4zM293.5 62.5h3.4v3h-3.4zM241 59.9h3.4v3h-3.4zM244 59.9h3.4v3h-3.4zM247 59.9h3.4v3h-3.4zM250 59.9h3.4v3h-3.4zM241 57.3h1.9v3h-1.9zM251.5 57.3h3.4v3h-3.4zM290.5 57.3h3.4v3h-3.4zM244 54.7h3.4v3h-3.4zM289 54.7h3.4v3h-3.4zM292 54.7h3.4v3h-3.4zM287.5 52.1h3.4v3h-3.4zM247 49.5h3.4v3h-3.4zM286 49.5h3.4v3h-3.4zM241 46.9h1.9v3h-1.9zM245.5 46.9h3.4v3h-3.4zM248.5 46.9h3.4v3h-3.4zM244 44.3h3.4v3h-3.4zM286 44.3h3.4v3h-3.4zM289 44.3h3.4v3h-3.4zM241 41.7h1.9v3h-1.9zM254.5 41.7h3.4v3h-3.4zM287.5 41.7h3.4v3h-3.4zM253 39.1h3.4v3h-3.4zM289 39.1h3.4v3h-3.4zM251.5 36.5h3.4v3h-3.4zM281.5 36.5h3.4v3h-3.4zM284.5 36.5h3.4v3h-3.4zM287.5 36.5h3.4v3h-3.4zM250 33.9h3.4v3h-3.4zM286 33.9h3.4v3h-3.4zM245.5 31.3h3.4v3h-3.4zM254.5 31.3h3.4v3h-3.4zM281.5 31.3h3.4v3h-3.4zM284.5 31.3h3.4v3h-3.4zM250 28.7h3.4v3h-3.4zM259 28.7h3.4v3h-3.4zM271 28.7h3.4v3h-3.4zM283 28.7h3.4v3h-3.4zM254.5 26.1h3.4v3h-3.4zM278.5 26.1h3.4v3h-3.4zM281.5 26.1h3.4v3h-3.4zM259 23.5h3.4v3h-3.4zM262 23.5h3.4v3h-3.4zM268 23.5h3.4v3h-3.4zM274 23.5h3.4v3h-3.4zM277 23.5h3.4v3h-3.4zM280 23.5h3.4v3h-3.4zM283 23.5h3.4v3h-3.4zM254.5 20.9h3.4v3h-3.4zM260.5 20.9h3.4v3h-3.4zM263.5 20.9h3.4v3h-3.4zM269.5 20.9h3.4v3h-3.4zM275.5 20.9h3.4v3h-3.4zM262 18.3h3.4v3h-3.4z"/>
<path fill="#4a156a" d="M253 101.5h3.4v3h-3.4zM259 101.5h3.4v3h-3.4zM262 101.5h3.4v3h-3.4zM271 101.5h3.4v3h-3.4zM274 101.5h3.4v3h-3.4zM277 101.5h3.4v3h-3.4zM280 101.5h3.4v3h-3.4zM286 101.5h3.4v3h-3.4zM269.5 98.9h3.4v3h-3.4zM281.5 98.9h3.4v3h-3.4zM284.5 98.9h3.4v3h-3.4zM287.5 98.9h3.4v3h-3.4zM290.5 98.9h3.4v3h-3.4zM293.5 98.9h3.4v3h-3.4zM289 96.3h3.4v3h-3.4zM292 96.3h3.4v3h-3.4zM295 96.3h3.4v3h-3.4zM298 96.3h3.4v3h-3.4zM302.5 93.7h3.4v3h-3.4zM305.5 93.7h3.4v3h-3.4zM308.5 93.7h3.4v3h-3.4zM298 91.1h3.4v3h-3.4zM304 91.1h3.4v3h-3.4zM313 85.9h3.4v3h-3.4zM314.5 83.3h3.4v3h-3.4zM317.5 83.3h3.4v3h-3.4zM310 80.7h3.4v3h-3.4zM317.5 78.1h3.4v3h-3.4zM313 75.5h3.4v3h-3.4zM316 75.5h3.4v3h-3.4zM308.5 72.9h3.4v3h-3.4zM314.5 72.9h3.4v3h-3.4zM317.5 72.9h3.4v3h-3.4zM313 70.3h3.4v3h-3.4zM308.5 67.7h3.4v3h-3.4zM310 65.1h3.4v3h-3.4zM298 59.9h3.4v3h-3.4zM301 59.9h3.4v3h-3.4zM307 59.9h3.4v3h-3.4zM296.5 57.3h3.4v3h-3.4zM295 54.7h3.4v3h-3.4zM298 54.7h3.4v3h-3.4zM301 54.7h3.4v3h-3.4zM296.5 52.1h3.4v3h-3.4zM299.5 52.1h3.4v3h-3.4zM301 49.5h3.4v3h-3.4zM296.5 46.9h3.4v3h-3.4zM293.5 41.7h3.4v3h-3.4zM299.5 41.7h3.4v3h-3.4zM290.5 36.5h3.4v3h-3.4zM293.5 36.5h3.4v3h-3.4zM296.5 36.5h3.4v3h-3.4zM248.5 31.3h3.4v3h-3.4zM244 28.7h3.4v3h-3.4zM292 28.7h3.4v3h-3.4zM295 28.7h3.4v3h-3.4zM298 28.7h3.4v3h-3.4zM290.5 26.1h3.4v3h-3.4zM244 23.5h3.4v3h-3.4zM284.5 20.9h3.4v3h-3.4zM241 18.3h3.4v3h-3.4zM247 18.3h3.4v3h-3.4zM250 18.3h3.4v3h-3.4zM286 18.3h3.4v3h-3.4zM241 15.7h1.9v3h-1.9zM242.5 15.7h3.4v3h-3.4zM248.5 15.7h3.4v3h-3.4zM251.5 15.7h3.4v3h-3.4zM272.5 15.7h3.4v3h-3.4zM241 15h3.4v1.1h-3.4zM256 15h3.4v1.1h-3.4zM271 15h3.4v1.1h-3.4zM280 15h3.4v1.1h-3.4zM286 15h3.4v1.1h-3.4z"/>
<path fill="#451565" d="M289 101.5h3.4v3h-3.4zM292 101.5h3.4v3h-3.4zM295 101.5h3.4v3h-3.4zM296.5 98.9h3.4v3h-3.4zM302.5 98.9h3.4v3h-3.4zM304 96.3h3.4v3h-3.4zM307 91.1h3.4v3h-3.4zM310 91.1h3.4v3h-3.4zM311.5 88.5h3.4v3h-3.4zM314.5 88.5h3.4v3h-3.4zM317.5 88.5h3.4v3h-3.4zM316 85.9h3.4v3h-3.4zM319 85.9h3.4v3h-3.4zM320.5 83.3h3.4v3h-3.4zM316 80.7h3.4v3h-3.4zM319 80.7h3.4v3h-3.4zM314.5 78.1h3.4v3h-3.4zM320.5 78.1h3.4v3h-3.4zM319 75.5h3.4v3h-3.4zM322 75.5h3.4v3h-3.4zM320.5 72.9h3.4v3h-3.4zM323.5 72.9h3.4v3h-3.4zM326.5 72.9h3.4v3h-3.4zM310 70.3h3.4v3h-3.4zM316 70.3h3.4v3h-3.4zM319 70.3h3.4v3h-3.4zM311.5 67.7h3.4v3h-3.4zM307 65.1h3.4v3h-3.4zM313 65.1h3.4v3h-3.4zM316 65.1h3.4v3h-3.4zM325 65.1h3.4v3h-3.4zM302.5 62.5h3.4v3h-3.4zM305.5 62.5h3.4v3h-3.4zM308.5 62.5h3.4v3h-3.4zM311.5 62.5h3.4v3h-3.4zM304 59.9h3.4v3h-3.4zM310 59.9h3.4v3h-3.4zM302.5 57.3h3.4v3h-3.4zM305.5 57.3h3.4v3h-3.4zM308.5 57.3h3.4v3h-3.4zM311.5 57.3h3.4v3h-3.4zM295 49.5h3.4v3h-3.4zM298 49.5h3.4v3h-3.4zM299.5 46.9h3.4v3h-3.4zM302.5 46.9h3.4v3h-3.4zM298 44.3h3.4v3h-3.4zM302.5 41.7h3.4v3h-3.4zM295 39.1h3.4v3h-3.4zM301 39.1h3.4v3h-3.4zM295 33.9h3.4v3h-3.4zM298 33.9h3.4v3h-3.4zM301 33.9h3.4v3h-3.4zM310 33.9h3.4v3h-3.4zM293.5 31.3h3.4v3h-3.4zM302.5 31.3h3.4v3h-3.4zM241 28.7h3.4v3h-3.4zM293.5 26.1h3.4v3h-3.4zM299.5 26.1h3.4v3h-3.4zM292 23.5h3.4v3h-3.4zM295 23.5h3.4v3h-3.4zM290.5 20.9h3.4v3h-3.4zM293.5 20.9h3.4v3h-3.4zM296.5 20.9h3.4v3h-3.4zM292 18.3h3.4v3h-3.4zM307 18.3h3.4v3h-3.4zM284.5 15.7h3.4v3h-3.4zM287.5 15.7h3.4v3h-3.4zM290.5 15.7h3.4v3h-3.4zM244 15h3.4v1.1h-3.4zM250 15h3.4v1.1h-3.4zM259 15h3.4v1.1h-3.4zM289 15h3.4v1.1h-3.4zM292 15h3.4v1.1h-3.4z"/>
<path fill="#451065" d="M298 101.5h3.4v3h-3.4zM301 101.5h3.4v3h-3.4zM304 101.5h3.4v3h-3.4zM307 101.5h3.4v3h-3.4zM310 101.5h3.4v3h-3.4zM316 101.5h3.4v3h-3.4zM319 101.5h3.4v3h-3.4zM322 101.5h3.4v3h-3.4zM299.5 98.9h3.4v3h-3.4zM305.5 98.9h3.4v3h-3.4zM308.5 98.9h3.4v3h-3.4zM311.5 98.9h3.4v3h-3.4zM317.5 98.9h3.4v3h-3.4zM320.5 98.9h3.4v3h-3.4zM323.5 98.9h3.4v3h-3.4zM301 96.3h3.4v3h-3.4zM307 96.3h3.4v3h-3.4zM310 96.3h3.4v3h-3.4zM313 96.3h3.4v3h-3.4zM316 96.3h3.4v3h-3.4zM319 96.3h3.4v3h-3.4zM322 96.3h3.4v3h-3.4zM325 96.3h3.4v3h-3.4zM311.5 93.7h3.4v3h-3.4zM314.5 93.7h3.4v3h-3.4zM320.5 93.7h3.4v3h-3.4zM323.5 93.7h3.4v3h-3.4zM326.5 93.7h3.4v3h-3.4zM313 91.1h3.4v3h-3.4zM316 91.1h3.4v3h-3.4zM319 91.1h3.4v3h-3.4zM322 91.1h3.4v3h-3.4zM325 91.1h3.4v3h-3.4zM320.5 88.5h3.4v3h-3.4zM323.5 88.5h3.4v3h-3.4zM326.5 88.5h3.4v3h-3.4zM329.5 88.5h1.1v3h-1.1zM322 85.9h3.4v3h-3.4zM325 85.9h3.4v3h-3.4zM323.5 83.3h3.4v3h-3.4zM326.5 83.3h3.4v3h-3.4zM322 80.7h3.4v3h-3.4zM325 80.7h3.4v3h-3.4zM323.5 78.1h3.4v3h-3.4zM326.5 78.1h3.4v3h-3.4zM329.5 78.1h1.1v3h-1.1zM325 75.5h3.4v3h-3.4zM322 70.3h3.4v3h-3.4zM328 70.3h2.6v3h-2.6zM314.5 67.7h3.4v3h-3.4zM317.5 67.7h3.4v3h-3.4zM320.5 67.7h3.4v3h-3.4zM326.5 67.7h3.4v3h-3.4zM329.5 67.7h1.1v3h-1.1zM319 65.1h3.4v3h-3.4zM322 65.1h3.4v3h-3.4zM328 65.1h2.6v3h-2.6zM314.5 62.5h3.4v3h-3.4zM317.5 62.5h3.4v3h-3.4zM320.5 62.5h3.4v3h-3.4zM323.5 62.5h3.4v3h-3.4zM326.5 62.5h3.4v3h-3.4zM313 59.9h3.4v3h-3.4zM319 59.9h3.4v3h-3.4zM325 59.9h3.4v3h-3.4zM314.5 57.3h3.4v3h-3.4zM317.5 57.3h3.4v3h-3.4zM320.5 57.3h3.4v3h-3.4zM323.5 57.3h3.4v3h-3.4zM326.5 57.3h3.4v3h-3.4zM329.5 57.3h1.1v3h-1.1zM304 54.7h3.4v3h-3.4zM310 54.7h3.4v3h-3.4zM313 54.7h3.4v3h-3.4zM325 54.7h3.4v3h-3.4zM302.5 52.1h3.4v3h-3.4zM311.5 52.1h3.4v3h-3.4zM304 49.5h3.4v3h-3.4zM310 49.5h3.4v3h-3.4zM313 49.5h3.4v3h-3.4zM316 49.5h3.4v3h-3.4zM328 49.5h2.6v3h-2.6zM305.5 46.9h3.4v3h-3.4zM308.5 46.9h3.4v3h-3.4zM311.5 46.9h3.4v3h-3.4zM301 44.3h3.4v3h-3.4zM307 44.3h3.4v3h-3.4zM310 44.3h3.4v3h-3.4zM316 44.3h3.4v3h-3.4zM305.5 41.7h3.4v3h-3.4zM311.5 41.7h3.4v3h-3.4zM314.5 41.7h3.4v3h-3.4zM304 39.1h3.4v3h-3.4zM307 39.1h3.4v3h-3.4zM313 39.1h3.4v3h-3.4zM319 39.1h3.4v3h-3.4zM322 39.1h3.4v3h-3.4zM299.5 36.5h3.4v3h-3.4zM302.5 36.5h3.4v3h-3.4zM305.5 36.5h3.4v3h-3.4zM311.5 36.5h3.4v3h-3.4zM314.5 36.5h3.4v3h-3.4zM320.5 36.5h3.4v3h-3.4zM304 33.9h3.4v3h-3.4zM307 33.9h3.4v3h-3.4zM313 33.9h3.4v3h-3.4zM322 33.9h3.4v3h-3.4zM296.5 31.3h3.4v3h-3.4zM299.5 31.3h3.4v3h-3.4zM305.5 31.3h3.4v3h-3.4zM308.5 31.3h3.4v3h-3.4zM311.5 31.3h3.4v3h-3.4zM301 28.7h3.4v3h-3.4zM307 28.7h3.4v3h-3.4zM310 28.7h3.4v3h-3.4zM316 28.7h3.4v3h-3.4zM322 28.7h3.4v3h-3.4zM296.5 26.1h3.4v3h-3.4zM302.5 26.1h3.4v3h-3.4zM308.5 26.1h3.4v3h-3.4zM317.5 26.1h3.4v3h-3.4zM298 23.5h3.4v3h-3.4zM301 23.5h3.4v3h-3.4zM304 23.5h3.4v3h-3.4zM307 23.5h3.4v3h-3.4zM316 23.5h3.4v3h-3.4zM311.5 20.9h3.4v3h-3.4zM314.5 20.9h3.4v3h-3.4zM323.5 20.9h3.4v3h-3.4zM289 18.3h3.4v3h-3.4zM295 18.3h3.4v3h-3.4zM298 18.3h3.4v3h-3.4zM301 18.3h3.4v3h-3.4zM304 18.3h3.4v3h-3.4zM319 18.3h3.4v3h-3.4zM293.5 15.7h3.4v3h-3.4zM296.5 15.7h3.4v3h-3.4zM299.5 15.7h3.4v3h-3.4zM302.5 15.7h3.4v3h-3.4zM308.5 15.7h3.4v3h-3.4zM311.5 15.7h3.4v3h-3.4zM323.5 15.7h3.4v3h-3.4zM295 15h3.4v1.1h-3.4zM298 15h3.4v1.1h-3.4zM301 15h3.4v1.1h-3.4zM304 15h3.4v1.1h-3.4zM307 15h3.4v1.1h-3.4zM310 15h3.4v1.1h-3.4z"/>
<path fill="#451060" d="M313 101.5h3.4v3h-3.4zM314.5 98.9h3.4v3h-3.4zM326.5 98.9h3.4v3h-3.4zM329.5 93.7h1.1v3h-1.1zM328 91.1h2.6v3h-2.6zM328 85.9h2.6v3h-2.6zM328 80.7h2.6v3h-2.6zM328 75.5h2.6v3h-2.6zM329.5 72.9h1.1v3h-1.1zM325 70.3h3.4v3h-3.4zM323.5 67.7h3.4v3h-3.4zM329.5 62.5h1.1v3h-1.1zM316 59.9h3.4v3h-3.4zM307 54.7h3.4v3h-3.4zM316 54.7h3.4v3h-3.4zM319 54.7h3.4v3h-3.4zM305.5 52.1h3.4v3h-3.4zM308.5 52.1h3.4v3h-3.4zM314.5 52.1h3.4v3h-3.4zM317.5 52.1h3.4v3h-3.4zM307 49.5h3.4v3h-3.4zM319 49.5h3.4v3h-3.4zM322 49.5h3.4v3h-3.4zM325 49.5h3.4v3h-3.4zM317.5 46.9h3.4v3h-3.4zM320.5 46.9h3.4v3h-3.4zM326.5 46.9h3.4v3h-3.4zM329.5 46.9h1.1v3h-1.1zM304 44.3h3.4v3h-3.4zM328 44.3h2.6v3h-2.6zM308.5 41.7h3.4v3h-3.4zM320.5 41.7h3.4v3h-3.4zM323.5 41.7h3.4v3h-3.4zM316 39.1h3.4v3h-3.4zM325 39.1h3.4v3h-3.4zM328 39.1h2.6v3h-2.6zM308.5 36.5h3.4v3h-3.4zM317.5 36.5h3.4v3h-3.4zM323.5 36.5h3.4v3h-3.4zM329.5 36.5h1.1v3h-1.1zM316 33.9h3.4v3h-3.4zM319 33.9h3.4v3h-3.4zM325 33.9h3.4v3h-3.4zM317.5 31.3h3.4v3h-3.4zM326.5 31.3h3.4v3h-3.4zM304 28.7h3.4v3h-3.4zM313 28.7h3.4v3h-3.4zM319 28.7h3.4v3h-3.4zM328 28.7h2.6v3h-2.6zM311.5 26.1h3.4v3h-3.4zM314.5 26.1h3.4v3h-3.4zM326.5 26.1h3.4v3h-3.4zM329.5 26.1h1.1v3h-1.1zM328 23.5h2.6v3h-2.6zM302.5 20.9h3.4v3h-3.4zM308.5 20.9h3.4v3h-3.4zM317.5 20.9h3.4v3h-3.4zM326.5 20.9h3.4v3h-3.4zM316 18.3h3.4v3h-3.4zM328 18.3h2.6v3h-2.6zM314.5 15.7h3.4v3h-3.4zM329.5 15.7h1.1v3h-1.1zM313 15h3.4v1.1h-3.4zM316 15h3.4v1.1h-3.4zM319 15h3.4v1.1h-3.4zM328 15h2.6v1.1h-2.6z"/>
<path fill="#450b60" d="M325 101.5h3.4v3h-3.4zM328 101.5h2.6v3h-2.6zM328 96.3h2.6v3h-2.6zM317.5 93.7h3.4v3h-3.4zM329.5 83.3h1.1v3h-1.1zM322 59.9h3.4v3h-3.4zM328 59.9h2.6v3h-2.6zM322 54.7h3.4v3h-3.4zM328 54.7h2.6v3h-2.6zM320.5 52.1h3.4v3h-3.4zM323.5 52.1h3.4v3h-3.4zM326.5 52.1h3.4v3h-3.4zM329.5 52.1h1.1v3h-1.1zM314.5 46.9h3.4v3h-3.4zM323.5 46.9h3.4v3h-3.4zM313 44.3h3.4v3h-3.4zM319 44.3h3.4v3h-3.4zM322 44.3h3.4v3h-3.4zM325 44.3h3.4v3h-3.4zM317.5 41.7h3.4v3h-3.4zM326.5 41.7h3.4v3h-3.4zM329.5 41.7h1.1v3h-1.1zM310 39.1h3.4v3h-3.4zM326.5 36.5h3.4v3h-3.4zM328 33.9h2.6v3h-2.6zM314.5 31.3h3.4v3h-3.4zM320.5 31.3h3.4v3h-3.4zM323.5 31.3h3.4v3h-3.4zM329.5 31.3h1.1v3h-1.1zM325 28.7h3.4v3h-3.4zM305.5 26.1h3.4v3h-3.4zM320.5 26.1h3.4v3h-3.4zM310 23.5h3.4v3h-3.4zM313 23.5h3.4v3h-3.4zM319 23.5h3.4v3h-3.4zM322 23.5h3.4v3h-3.4zM325 23.5h3.4v3h-3.4zM299.5 20.9h3.4v3h-3.4zM305.5 20.9h3.4v3h-3.4zM320.5 20.9h3.4v3h-3.4zM329.5 20.9h1.1v3h-1.1zM310 18.3h3.4v3h-3.4zM313 18.3h3.4v3h-3.4zM322 18.3h3.4v3h-3.4zM325 18.3h3.4v3h-3.4zM305.5 15.7h3.4v3h-3.4zM317.5 15.7h3.4v3h-3.4zM320.5 15.7h3.4v3h-3.4zM326.5 15.7h3.4v3h-3.4zM322 15h3.4v1.1h-3.4zM325 15h3.4v1.1h-3.4z"/>
<path fill="#2a7a8f" d="M241 98.9h1.9v3h-1.9zM272.5 88.5h3.4v3h-3.4zM286 85.9h3.4v3h-3.4zM248.5 83.3h3.4v3h-3.4zM290.5 83.3h3.4v3h-3.4zM293.5 78.1h3.4v3h-3.4z"/>
<path fill="#454085" d="M242.5 98.9h3.4v3h-3.4zM290.5 88.5h3.4v3h-3.4zM295 85.9h3.4v3h-3.4zM296.5 83.3h3.4v3h-3.4zM295 70.3h3.4v3h-3.4zM280 65.1h3.4v3h-3.4z"/>
<path fill="#4a1b70" d="M251.5 98.9h3.4v3h-3.4zM274 96.3h3.4v3h-3.4zM280 96.3h3.4v3h-3.4zM307 85.9h3.4v3h-3.4zM310 75.5h3.4v3h-3.4zM302.5 67.7h3.4v3h-3.4zM292 59.9h3.4v3h-3.4zM295 59.9h3.4v3h-3.4zM293.5 57.3h3.4v3h-3.4zM241 54.7h3.4v3h-3.4zM245.5 52.1h3.4v3h-3.4zM293.5 52.1h3.4v3h-3.4zM245.5 41.7h3.4v3h-3.4zM241 39.1h3.4v3h-3.4zM244 39.1h3.4v3h-3.4zM247 39.1h3.4v3h-3.4zM244 33.9h3.4v3h-3.4zM262 28.7h3.4v3h-3.4zM286 28.7h3.4v3h-3.4zM245.5 26.1h3.4v3h-3.4zM248.5 26.1h3.4v3h-3.4zM256 23.5h3.4v3h-3.4zM266.5 20.9h3.4v3h-3.4zM272.5 20.9h3.4v3h-3.4zM271 18.3h3.4v3h-3.4zM274 18.3h3.4v3h-3.4zM275.5 15.7h3.4v3h-3.4z"/>
<path fill="#450b5a" d="M329.5 98.9h1.1v3h-1.1zM323.5 26.1h3.4v3h-3.4z"/>
<path fill="#35658f" d="M241 96.3h3.4v3h-3.4zM284.5 88.5h3.4v3h-3.4z"/>
<path fill="#4a2075" d="M259 96.3h3.4v3h-3.4zM281.5 93.7h3.4v3h-3.4zM305.5 83.3h3.4v3h-3.4zM307 80.7h3.4v3h-3.4zM292 65.1h3.4v3h-3.4zM241 62.5h1.9v3h-1.9zM248.5 62.5h3.4v3h-3.4zM289 59.9h3.4v3h-3.4zM287.5 57.3h3.4v3h-3.4zM247 54.7h3.4v3h-3.4zM250 49.5h3.4v3h-3.4zM248.5 41.7h3.4v3h-3.4zM286 39.1h3.4v3h-3.4zM254.5 36.5h3.4v3h-3.4zM283 33.9h3.4v3h-3.4zM251.5 31.3h3.4v3h-3.4zM277 28.7h3.4v3h-3.4zM280 28.7h3.4v3h-3.4zM271 23.5h3.4v3h-3.4z"/>
<path fill="#2a758f" d="M241 93.7h1.9v3h-1.9zM278.5 88.5h3.4v3h-3.4zM245.5 83.3h3.4v3h-3.4zM292 75.5h3.4v3h-3.4zM251.5 72.9h3.4v3h-3.4zM259 70.3h3.4v3h-3.4zM283 70.3h3.4v3h-3.4z"/>
<path fill="#453580" d="M242.5 93.7h3.4v3h-3.4zM259 91.1h3.4v3h-3.4zM293.5 88.5h3.4v3h-3.4zM298 85.9h3.4v3h-3.4zM301 75.5h3.4v3h-3.4zM290.5 67.7h3.4v3h-3.4zM283 65.1h3.4v3h-3.4zM257.5 62.5h3.4v3h-3.4zM263.5 62.5h3.4v3h-3.4zM266.5 62.5h3.4v3h-3.4zM272.5 62.5h3.4v3h-3.4zM278.5 62.5h3.4v3h-3.4zM265 59.9h3.4v3h-3.4zM271 59.9h3.4v3h-3.4zM260.5 57.3h3.4v3h-3.4zM278.5 57.3h3.4v3h-3.4zM262 54.7h3.4v3h-3.4zM265 54.7h3.4v3h-3.4zM271 54.7h3.4v3h-3.4zM260.5 52.1h3.4v3h-3.4zM275.5 52.1h3.4v3h-3.4zM259 49.5h3.4v3h-3.4zM265 49.5h3.4v3h-3.4zM266.5 46.9h3.4v3h-3.4zM272.5 46.9h3.4v3h-3.4zM265 44.3h3.4v3h-3.4zM277 44.3h3.4v3h-3.4zM272.5 41.7h3.4v3h-3.4z"/>
<path fill="#4a257a" d="M257.5 93.7h3.4v3h-3.4zM244 91.1h3.4v3h-3.4zM247 91.1h3.4v3h-3.4zM289 91.1h3.4v3h-3.4zM241 67.7h1.9v3h-1.9zM289 65.1h3.4v3h-3.4zM281.5 62.5h3.4v3h-3.4zM280 59.9h3.4v3h-3.4zM286 59.9h3.4v3h-3.4zM254.5 57.3h3.4v3h-3.4zM283 54.7h3.4v3h-3.4zM256 49.5h3.4v3h-3.4zM257.5 46.9h3.4v3h-3.4zM284.5 46.9h3.4v3h-3.4zM257.5 36.5h3.4v3h-3.4zM260.5 36.5h3.4v3h-3.4zM275.5 36.5h3.4v3h-3.4zM278.5 36.5h3.4v3h-3.4zM263.5 31.3h3.4v3h-3.4z"/>
<path fill="#452a7a" d="M263.5 93.7h3.4v3h-3.4zM266.5 93.7h3.4v3h-3.4zM272.5 93.7h3.4v3h-3.4zM278.5 93.7h3.4v3h-3.4zM253 91.1h3.4v3h-3.4zM296.5 88.5h3.4v3h-3.4zM301 85.9h3.4v3h-3.4zM304 80.7h3.4v3h-3.4zM305.5 78.1h3.4v3h-3.4zM302.5 72.9h3.4v3h-3.4zM298 70.3h3.4v3h-3.4zM242.5 67.7h3.4v3h-3.4zM293.5 67.7h3.4v3h-3.4zM250 65.1h3.4v3h-3.4zM254.5 62.5h3.4v3h-3.4zM253 59.9h3.4v3h-3.4zM256 59.9h3.4v3h-3.4zM274 59.9h3.4v3h-3.4zM283 59.9h3.4v3h-3.4zM263.5 57.3h3.4v3h-3.4zM281.5 57.3h3.4v3h-3.4zM253 54.7h3.4v3h-3.4zM259 54.7h3.4v3h-3.4zM254.5 52.1h3.4v3h-3.4zM257.5 52.1h3.4v3h-3.4zM281.5 52.1h3.4v3h-3.4zM277 49.5h3.4v3h-3.4zM280 49.5h3.4v3h-3.4zM283 49.5h3.4v3h-3.4zM263.5 46.9h3.4v3h-3.4zM278.5 46.9h3.4v3h-3.4zM281.5 46.9h3.4v3h-3.4zM287.5 46.9h3.4v3h-3.4zM259 44.3h3.4v3h-3.4zM262 44.3h3.4v3h-3.4zM268 44.3h3.4v3h-3.4zM283 44.3h3.4v3h-3.4zM257.5 41.7h3.4v3h-3.4zM263.5 41.7h3.4v3h-3.4zM275.5 41.7h3.4v3h-3.4zM278.5 41.7h3.4v3h-3.4zM259 39.1h3.4v3h-3.4zM262 39.1h3.4v3h-3.4zM271 39.1h3.4v3h-3.4zM266.5 36.5h3.4v3h-3.4zM259 33.9h3.4v3h-3.4zM262 33.9h3.4v3h-3.4zM265 33.9h3.4v3h-3.4zM268 33.9h3.4v3h-3.4zM271 33.9h3.4v3h-3.4zM274 33.9h3.4v3h-3.4zM266.5 31.3h3.4v3h-3.4zM269.5 31.3h3.4v3h-3.4zM272.5 31.3h3.4v3h-3.4zM268 28.7h3.4v3h-3.4zM263.5 26.1h3.4v3h-3.4z"/>
<path fill="#3a558a" d="M241 91.1h3.4v3h-3.4zM241 83.3h1.9v3h-1.9zM299.5 78.1h3.4v3h-3.4zM241 75.5h3.4v3h-3.4zM250 70.3h3.4v3h-3.4zM257.5 67.7h3.4v3h-3.4z"/>
<path fill="#453080" d="M250 91.1h3.4v3h-3.4zM286 91.1h3.4v3h-3.4zM302.5 83.3h3.4v3h-3.4zM302.5 78.1h3.4v3h-3.4zM304 75.5h3.4v3h-3.4zM241 70.3h3.4v3h-3.4zM245.5 67.7h3.4v3h-3.4zM248.5 67.7h3.4v3h-3.4zM260.5 62.5h3.4v3h-3.4zM275.5 62.5h3.4v3h-3.4zM262 59.9h3.4v3h-3.4zM268 59.9h3.4v3h-3.4zM277 59.9h3.4v3h-3.4zM257.5 57.3h3.4v3h-3.4zM266.5 57.3h3.4v3h-3.4zM269.5 57.3h3.4v3h-3.4zM272.5 57.3h3.4v3h-3.4zM275.5 57.3h3.4v3h-3.4zM268 54.7h3.4v3h-3.4zM280 54.7h3.4v3h-3.4zM263.5 52.1h3.4v3h-3.4zM272.5 52.1h3.4v3h-3.4zM278.5 52.1h3.4v3h-3.4zM262 49.5h3.4v3h-3.4zM268 49.5h3.4v3h-3.4zM260.5 46.9h3.4v3h-3.4zM269.5 46.9h3.4v3h-3.4zM275.5 46.9h3.4v3h-3.4zM271 44.3h3.4v3h-3.4zM274 44.3h3.4v3h-3.4zM266.5 41.7h3.4v3h-3.4zM269.5 41.7h3.4v3h-3.4zM265 39.1h3.4v3h-3.4zM268 39.1h3.4v3h-3.4zM269.5 36.5h3.4v3h-3.4z"/>
<path fill="#453a85" d="M256 91.1h3.4v3h-3.4zM242.5 88.5h3.4v3h-3.4zM299.5 83.3h3.4v3h-3.4zM301 80.7h3.4v3h-3.4zM241 72.9h1.9v3h-1.9zM299.5 72.9h3.4v3h-3.4zM259 65.1h3.4v3h-3.4z"/>
<path fill="#404585" d="M262 91.1h3.4v3h-3.4zM265 91.1h3.4v3h-3.4zM271 91.1h3.4v3h-3.4zM283 91.1h3.4v3h-3.4zM248.5 88.5h3.4v3h-3.4zM242.5 72.9h3.4v3h-3.4zM251.5 67.7h3.4v3h-3.4zM254.5 67.7h3.4v3h-3.4zM284.5 67.7h3.4v3h-3.4z"/>
<path fill="#40458a" d="M268 91.1h3.4v3h-3.4zM287.5 88.5h3.4v3h-3.4zM292 85.9h3.4v3h-3.4zM265 65.1h3.4v3h-3.4zM268 65.1h3.4v3h-3.4zM271 65.1h3.4v3h-3.4z"/>
<path fill="#404085" d="M274 91.1h3.4v3h-3.4zM277 91.1h3.4v3h-3.4zM244 85.9h3.4v3h-3.4zM296.5 72.9h3.4v3h-3.4zM292 70.3h3.4v3h-3.4zM287.5 67.7h3.4v3h-3.4zM262 65.1h3.4v3h-3.4zM277 65.1h3.4v3h-3.4z"/>
<path fill="#453a80" d="M280 91.1h3.4v3h-3.4zM245.5 88.5h3.4v3h-3.4zM244 70.3h3.4v3h-3.4zM256 65.1h3.4v3h-3.4zM269.5 62.5h3.4v3h-3.4zM274 54.7h3.4v3h-3.4zM269.5 52.1h3.4v3h-3.4zM271 49.5h3.4v3h-3.4z"/>
<path fill="#35608f" d="M241 88.5h1.9v3h-1.9zM275.5 88.5h3.4v3h-3.4zM293.5 83.3h3.4v3h-3.4zM241 80.7h3.4v3h-3.4zM244 75.5h3.4v3h-3.4zM293.5 72.9h3.4v3h-3.4zM266.5 67.7h3.4v3h-3.4z"/>
<path fill="#404a8a" d="M251.5 88.5h3.4v3h-3.4zM298 75.5h3.4v3h-3.4zM253 70.3h3.4v3h-3.4zM281.5 67.7h3.4v3h-3.4z"/>
<path fill="#3a508a" d="M254.5 88.5h3.4v3h-3.4zM241 85.9h3.4v3h-3.4zM242.5 83.3h3.4v3h-3.4zM298 80.7h3.4v3h-3.4zM296.5 78.1h3.4v3h-3.4zM247 70.3h3.4v3h-3.4zM260.5 67.7h3.4v3h-3.4zM278.5 67.7h3.4v3h-3.4z"/>
<path fill="#30658f" d="M260.5 88.5h3.4v3h-3.4zM289 85.9h3.4v3h-3.4zM242.5 78.1h3.4v3h-3.4zM295 75.5h3.4v3h-3.4zM286 70.3h3.4v3h-3.4zM263.5 67.7h3.4v3h-3.4z"/>
<path fill="#30708f" d="M263.5 88.5h3.4v3h-3.4zM290.5 72.9h3.4v3h-3.4zM269.5 67.7h3.4v3h-3.4z"/>
<path fill="#2a708f" d="M266.5 88.5h3.4v3h-3.4zM281.5 88.5h3.4v3h-3.4zM250 85.9h3.4v3h-3.4zM248.5 72.9h3.4v3h-3.4zM272.5 67.7h3.4v3h-3.4z"/>
<path fill="#25858f" d="M269.5 88.5h3.4v3h-3.4zM277 70.3h3.4v3h-3.4z"/>
<path fill="#355a8a" d="M247 85.9h3.4v3h-3.4zM241 78.1h1.9v3h-1.9zM289 70.3h3.4v3h-3.4z"/>
<path fill="#208a8f" d="M253 85.9h3.4v3h-3.4zM284.5 72.9h3.4v3h-3.4z"/>
<path fill="#208f8f" d="M256 85.9h3.4v3h-3.4zM283 85.9h3.4v3h-3.4zM247 80.7h3.4v3h-3.4zM289 75.5h3.4v3h-3.4z"/>
<path fill="#209f8a" d="M259 85.9h3.4v3h-3.4zM254.5 72.9h3.4v3h-3.4zM268 70.3h3.4v3h-3.4z"/>
<path fill="#4ac56a" d="M262 85.9h3.4v3h-3.4z"/>
<path fill="#65ca60" d="M265 85.9h3.4v3h-3.4zM278.5 83.3h3.4v3h-3.4zM281.5 83.3h3.4v3h-3.4z"/>
<path fill="#50c56a" d="M268 85.9h3.4v3h-3.4z"/>
<path fill="#5aca65" d="M271 85.9h3.4v3h-3.4z"/>
<path fill="#2aaf80" d="M274 85.9h3.4v3h-3.4zM287.5 78.1h3.4v3h-3.4z"/>
<path fill="#35ba7a" d="M277 85.9h3.4v3h-3.4z"/>
<path fill="#20958a" d="M280 85.9h3.4v3h-3.4zM251.5 83.3h3.4v3h-3.4zM262 70.3h3.4v3h-3.4z"/>
<path fill="#25aa80" d="M254.5 83.3h3.4v3h-3.4zM289 80.7h3.4v3h-3.4z"/>
<path fill="#bfdf25" d="M257.5 83.3h3.4v3h-3.4zM269.5 72.9h3.4v3h-3.4z"/>
<path fill="#80d450" d="M260.5 83.3h3.4v3h-3.4z"/>
<path fill="#dae41b" d="M263.5 83.3h3.4v3h-3.4zM262 80.7h3.4v3h-3.4z"/>
<path fill="#c5df20" d="M266.5 83.3h3.4v3h-3.4z"/>
<path fill="#f4e420" d="M269.5 83.3h3.4v3h-3.4z"/>
<path fill="#fae425" d="M272.5 83.3h3.4v3h-3.4z"/>
<path fill="#ffe425" d="M275.5 83.3h3.4v3h-3.4zM265 80.7h3.4v3h-3.4zM268 80.7h3.4v3h-3.4zM271 80.7h3.4v3h-3.4zM274 80.7h3.4v3h-3.4zM277 80.7h3.4v3h-3.4zM280 80.7h3.4v3h-3.4zM257.5 78.1h3.4v3h-3.4zM260.5 78.1h3.4v3h-3.4zM263.5 78.1h3.4v3h-3.4zM266.5 78.1h3.4v3h-3.4zM269.5 78.1h3.4v3h-3.4zM272.5 78.1h3.4v3h-3.4zM275.5 78.1h3.4v3h-3.4zM278.5 78.1h3.4v3h-3.4zM259 75.5h3.4v3h-3.4zM265 75.5h3.4v3h-3.4zM268 75.5h3.4v3h-3.4zM271 75.5h3.4v3h-3.4z"/>
<path fill="#5ac565" d="M284.5 83.3h3.4v3h-3.4z"/>
<path fill="#208f8a" d="M287.5 83.3h3.4v3h-3.4zM265 70.3h3.4v3h-3.4zM280 70.3h3.4v3h-3.4z"/>
<path fill="#25af80" d="M250 80.7h3.4v3h-3.4z"/>
<path fill="#40ba75" d="M253 80.7h3.4v3h-3.4zM275.5 72.9h3.4v3h-3.4z"/>
<path fill="#9fda3a" d="M256 80.7h3.4v3h-3.4zM277 75.5h3.4v3h-3.4z"/>
<path fill="#e4e41b" d="M259 80.7h3.4v3h-3.4zM274 75.5h3.4v3h-3.4z"/>
<path fill="#75cf55" d="M283 80.7h3.4v3h-3.4z"/>
<path fill="#20aa85" d="M286 80.7h3.4v3h-3.4zM281.5 72.9h3.4v3h-3.4z"/>
<path fill="#258a8f" d="M292 80.7h3.4v3h-3.4z"/>
<path fill="#25808f" d="M245.5 78.1h3.4v3h-3.4zM247 75.5h3.4v3h-3.4zM287.5 72.9h3.4v3h-3.4z"/>
<path fill="#20a585" d="M248.5 78.1h3.4v3h-3.4zM254.5 78.1h3.4v3h-3.4zM250 75.5h3.4v3h-3.4zM286 75.5h3.4v3h-3.4zM257.5 72.9h3.4v3h-3.4zM278.5 72.9h3.4v3h-3.4z"/>
<path fill="#25aa85" d="M251.5 78.1h3.4v3h-3.4zM290.5 78.1h3.4v3h-3.4z"/>
<path fill="#badf25" d="M281.5 78.1h3.4v3h-3.4z"/>
<path fill="#cadf20" d="M284.5 78.1h3.4v3h-3.4z"/>
<path fill="#4abf70" d="M253 75.5h3.4v3h-3.4z"/>
<path fill="#aada35" d="M256 75.5h3.4v3h-3.4z"/>
<path fill="#9ada3a" d="M262 75.5h3.4v3h-3.4z"/>
<path fill="#7ad450" d="M280 75.5h3.4v3h-3.4z"/>
<path fill="#6acf5a" d="M283 75.5h3.4v3h-3.4z"/>
<path fill="#355a8f" d="M245.5 72.9h3.4v3h-3.4z"/>
<path fill="#55c565" d="M260.5 72.9h3.4v3h-3.4zM263.5 72.9h3.4v3h-3.4z"/>
<path fill="#45bf70" d="M266.5 72.9h3.4v3h-3.4z"/>
<path fill="#9ada40" d="M272.5 72.9h3.4v3h-3.4z"/>
<path fill="#2a808f" d="M256 70.3h3.4v3h-3.4z"/>
<path fill="#209f85" d="M271 70.3h3.4v3h-3.4z"/>
<path fill="#209a8a" d="M274 70.3h3.4v3h-3.4z"/>
<path fill="#45307a" d="M253 65.1h3.4v3h-3.4zM286 65.1h3.4v3h-3.4zM259 59.9h3.4v3h-3.4zM277 54.7h3.4v3h-3.4zM266.5 52.1h3.4v3h-3.4zM274 49.5h3.4v3h-3.4zM260.5 41.7h3.4v3h-3.4z"/>
<path fill="#3a4a8a" d="M274 65.1h3.4v3h-3.4z"/>
<line x1="37" y1="104.5" x2="37" y2="107.7" stroke="#8a8a8a" stroke-width="0.8"/>
<text x="37" y="118.3" font-size="8.5" text-anchor="middle" fill="#231f20">0</text>
<line x1="82" y1="104.5" x2="82" y2="107.7" stroke="#8a8a8a" stroke-width="0.8"/>
<text x="82" y="118.3" font-size="8.5" text-anchor="middle" fill="#231f20">80</text>
<line x1="127" y1="104.5" x2="127" y2="107.7" stroke="#8a8a8a" stroke-width="0.8"/>
<text x="127" y="118.3" font-size="8.5" text-anchor="middle" fill="#231f20">160</text>
<text x="82.3" y="130.8" font-size="8.6" text-anchor="middle" fill="#231f20">Velocity (µm s<tspan dy="-3.6" font-size="5.6">−1</tspan><tspan dy="3.6">)</tspan></text>
<line x1="139" y1="104.5" x2="139" y2="107.7" stroke="#8a8a8a" stroke-width="0.8"/>
<text x="139" y="118.3" font-size="8.5" text-anchor="middle" fill="#231f20">0</text>
<line x1="183.2" y1="104.5" x2="183.2" y2="107.7" stroke="#8a8a8a" stroke-width="0.8"/>
<text x="183.2" y="118.3" font-size="8.5" text-anchor="middle" fill="#231f20">80</text>
<line x1="227.4" y1="104.5" x2="227.4" y2="107.7" stroke="#8a8a8a" stroke-width="0.8"/>
<text x="227.4" y="118.3" font-size="8.5" text-anchor="middle" fill="#231f20">160</text>
<text x="186.5" y="130.8" font-size="8.6" text-anchor="middle" fill="#231f20">Velocity (µm s<tspan dy="-3.6" font-size="5.6">−1</tspan><tspan dy="3.6">)</tspan></text>
<line x1="241" y1="104.5" x2="241" y2="107.7" stroke="#8a8a8a" stroke-width="0.8"/>
<text x="241" y="118.3" font-size="8.5" text-anchor="middle" fill="#231f20">0</text>
<line x1="285.8" y1="104.5" x2="285.8" y2="107.7" stroke="#8a8a8a" stroke-width="0.8"/>
<text x="285.8" y="118.3" font-size="8.5" text-anchor="middle" fill="#231f20">80</text>
<line x1="330.6" y1="104.5" x2="330.6" y2="107.7" stroke="#8a8a8a" stroke-width="0.8"/>
<text x="330.6" y="118.3" font-size="8.5" text-anchor="middle" fill="#231f20">160</text>
<text x="285.8" y="130.8" font-size="8.6" text-anchor="middle" fill="#231f20">Velocity (µm s<tspan dy="-3.6" font-size="5.6">−1</tspan><tspan dy="3.6">)</tspan></text>
<line x1="343" y1="104.5" x2="343" y2="107.7" stroke="#8a8a8a" stroke-width="0.8"/>
<text x="343" y="118.3" font-size="8.5" text-anchor="middle" fill="#231f20">0</text>
<line x1="387.3" y1="104.5" x2="387.3" y2="107.7" stroke="#8a8a8a" stroke-width="0.8"/>
<text x="387.3" y="118.3" font-size="8.5" text-anchor="middle" fill="#231f20">80</text>
<line x1="431.6" y1="104.5" x2="431.6" y2="107.7" stroke="#8a8a8a" stroke-width="0.8"/>
<text x="431.6" y="118.3" font-size="8.5" text-anchor="middle" fill="#231f20">160</text>
<text x="392.8" y="130.8" font-size="8.6" text-anchor="middle" fill="#231f20">Velocity (µm s<tspan dy="-3.6" font-size="5.6">−1</tspan><tspan dy="3.6">)</tspan></text>
<line x1="33.8" y1="15" x2="37" y2="15" stroke="#8a8a8a" stroke-width="0.8"/>
<line x1="33.8" y1="59.75" x2="37" y2="59.75" stroke="#8a8a8a" stroke-width="0.8"/>
<line x1="33.8" y1="104.5" x2="37" y2="104.5" stroke="#8a8a8a" stroke-width="0.8"/>
<line x1="135.8" y1="15" x2="139" y2="15" stroke="#8a8a8a" stroke-width="0.8"/>
<line x1="135.8" y1="59.75" x2="139" y2="59.75" stroke="#8a8a8a" stroke-width="0.8"/>
<line x1="135.8" y1="104.5" x2="139" y2="104.5" stroke="#8a8a8a" stroke-width="0.8"/>
<line x1="237.8" y1="15" x2="241" y2="15" stroke="#8a8a8a" stroke-width="0.8"/>
<line x1="237.8" y1="59.75" x2="241" y2="59.75" stroke="#8a8a8a" stroke-width="0.8"/>
<line x1="237.8" y1="104.5" x2="241" y2="104.5" stroke="#8a8a8a" stroke-width="0.8"/>
<line x1="339.8" y1="15" x2="343" y2="15" stroke="#8a8a8a" stroke-width="0.8"/>
<line x1="339.8" y1="59.75" x2="343" y2="59.75" stroke="#8a8a8a" stroke-width="0.8"/>
<line x1="339.8" y1="104.5" x2="343" y2="104.5" stroke="#8a8a8a" stroke-width="0.8"/>
<text x="32" y="18.2" font-size="8.5" text-anchor="end" fill="#231f20">5.0</text>
<text x="32" y="62.8" font-size="8.5" text-anchor="end" fill="#231f20">2.5</text>
<text x="32" y="107.5" font-size="8.5" text-anchor="end" fill="#231f20">0</text>
<text x="12.3" y="59.7" font-size="8.9" text-anchor="middle" fill="#231f20" transform="rotate(-90 12.3 59.7)">Pumping rate (Hz)</text>
<text x="36.5" y="11.2" font-size="9" text-anchor="start" fill="#231f20">On larvae</text>
<text x="241.5" y="11.2" font-size="9" text-anchor="start" fill="#231f20">On OP50</text>
<path transform="scale(0.5)" fill="none" stroke="#F99F4D" stroke-width="2.4" d="m284 2h2m8 0h2m1 0h2m4 0h2m1 0h2m0 0h2m4 0h2m8 0h2m1 0h2m0 0h2m-1 0h2m-1 0h2m0 0h2m0 0h2m1 0h2m0 0h2m6 0h2m3 0h2m-1 0h2m9 0h2m0 0h2m10 0h2m-99 1h2m1 0h2m-1 0h2m-1 0h2m1 0h2m-1 0h2m4 0h2m-1 0h2m-1 0h2m0 0h2m-1 0h2m-1 0h2m0 0h2m-1 0h2m0 0h2m0 0h2m-1 0h2m-1 0h2m2 0h2m3 0h2m-1 0h2m-1 0h2m0 0h2m0 0h2m2 0h2m-1 0h2m3 0h2m2 0h2m0 0h2m-1 0h2m1 0h2m3 0h2m0 0h2m-1 0h2m15 0h2m24 0h2m3 0h2m7 0h2m-130 1h2m0 0h2m1 0h2m7 0h2m1 0h2m-1 0h2m-1 0h2m-1 0h2m2 0h2m-1 0h2m1 0h2m0 0h2m-1 0h2m0 0h2m0 0h2m-1 0h2m0 0h2m4 0h2m-1 0h2m-1 0h2m0 0h2m0 0h2m-1 0h2m3 0h2m2 0h2m1 0h2m3 0h2m-1 0h2m-1 0h2m3 0h2m6 0h2m4 0h2m13 0h2m14 0h2m7 0h2m2 0h2m11 0h2m27 0h2m-177 1h2m1 0h2m1 0h2m1 0h2m0 0h2m-1 0h2m-1 0h2m-1 0h2m0 0h2m2 0h2m-1 0h2m-1 0h2m1 0h2m1 0h2m0 0h2m-1 0h2m0 0h2m1 0h2m-1 0h2m-1 0h2m-1 0h2m6 0h2m1 0h2m-1 0h2m3 0h2m0 0h2m0 0h2m-1 0h2m0 0h2m0 0h2m-1 0h2m-1 0h2m2 0h2m-1 0h2m17 0h2m1 0h2m1 0h2m1 0h2m4 0h2m1 0h2m-114 1h2m2 0h2m-1 0h2m0 0h2m-1 0h2m-1 0h2m-1 0h2m0 0h2m0 0h2m1 0h2m-1 0h2m-1 0h2m-1 0h2m1 0h2m-1 0h2m1 0h2m0 0h2m-1 0h2m-1 0h2m-1 0h2m-1 0h2m1 0h2m6 0h2m-1 0h2m-1 0h2m2 0h2m3 0h2m-1 0h2m4 0h2m0 0h2m8 0h2m0 0h2m-1 0h2m7 0h2m0 0h2m3 0h2m0 0h2m3 0h2m0 0h2m7 0h2m2 0h2m1 0h2m8 0h2m19 0h2m-150 1h2m2 0h2m-1 0h2m0 0h2m-1 0h2m6 0h2m-1 0h2m-1 0h2m-1 0h2m0 0h2m2 0h2m1 0h2m4 0h2m0 0h2m1 0h2m5 0h2m0 0h2m1 0h2m-1 0h2m2 0h2m-1 0h2m-1 0h2m0 0h2m1 0h2m1 0h2m-1 0h2m1 0h2m1 0h2m-1 0h2m4 0h2m3 0h2m33 0h2m8 0h2m0 0h2m5 0h2m-141 1h2m0 0h2m1 0h2m-1 0h2m1 0h2m2 0h2m-1 0h2m1 0h2m3 0h2m3 0h2m0 0h2m-1 0h2m0 0h2m0 0h2m1 0h2m-1 0h2m3 0h2m0 0h2m-1 0h2m0 0h2m-1 0h2m-1 0h2m0 0h2m-1 0h2m7 0h2m-1 0h2m7 0h2m1 0h2m-1 0h2m0 0h2m0 0h2m2 0h2m2 0h2m8 0h2m8 0h2m19 0h2m-131 1h2m-1 0h2m3 0h2m2 0h2m1 0h2m2 0h2m-1 0h2m-1 0h2m0 0h2m-1 0h2m-1 0h2m2 0h2m-1 0h2m1 0h2m1 0h2m0 0h2m2 0h2m1 0h2m-1 0h2m-1 0h2m1 0h2m-1 0h2m1 0h2m1 0h2m-1 0h2m4 0h2m4 0h2m-1 0h2m0 0h2m-1 0h2m-1 0h2m-1 0h2m4 0h2m6 0h2m6 0h2m5 0h2m0 0h2m12 0h2m14 0h2m16 0h2m-152 1h2m2 0h2m0 0h2m-1 0h2m0 0h2m0 0h2m1 0h2m6 0h2m0 0h2m0 0h2m-1 0h2m-1 0h2m-1 0h2m-1 0h2m-1 0h2m-1 0h2m1 0h2m1 0h2m1 0h2m-1 0h2m9 0h2m-1 0h2m2 0h2m1 0h2m0 0h2m1 0h2m2 0h2m2 0h2m0 0h2m1 0h2m5 0h2m-1 0h2m3 0h2m2 0h2m0 0h2m2 0h2m1 0h2m4 0h2m25 0h2m-1 0h2m12 0h2m-158 1h2m0 0h2m0 0h2m-1 0h2m1 0h2m2 0h2m-1 0h2m-1 0h2m0 0h2m-1 0h2m-1 0h2m-1 0h2m-1 0h2m-1 0h2m1 0h2m4 0h2m0 0h2m2 0h2m-1 0h2m1 0h2m2 0h2m0 0h2m-1 0h2m4 0h2m0 0h2m-1 0h2m9 0h2m-1 0h2m0 0h2m-1 0h2m6 0h2m0 0h2m1 0h2m4 0h2m3 0h2m0 0h2m0 0h2m2 0h2m0 0h2m4 0h2m-113 1h2m0 0h2m0 0h2m0 0h2m3 0h2m6 0h2m-1 0h2m3 0h2m0 0h2m-1 0h2m-1 0h2m0 0h2m-1 0h2m0 0h2m-1 0h2m4 0h2m-1 0h2m-1 0h2m-1 0h2m-1 0h2m-1 0h2m1 0h2m-1 0h2m2 0h2m-1 0h2m2 0h2m4 0h2m9 0h2m-1 0h2m6 0h2m-1 0h2m-1 0h2m9 0h2m3 0h2m1 0h2m4 0h2m52 0h2m-168 1h2m-1 0h2m1 0h2m3 0h2m-1 0h2m0 0h2m0 0h2m1 0h2m-1 0h2m3 0h2m3 0h2m-1 0h2m3 0h2m-1 0h2m-1 0h2m0 0h2m-1 0h2m-1 0h2m-1 0h2m5 0h2m-1 0h2m15 0h2m4 0h2m-1 0h2m-1 0h2m0 0h2m0 0h2m0 0h2m-1 0h2m4 0h2m3 0h2m1 0h2m1 0h2m0 0h2m8 0h2m-1 0h2m0 0h2m2 0h2m15 0h2m37 0h2m-175 1h2m-1 0h2m0 0h2m0 0h2m-1 0h2m-1 0h2m-1 0h2m4 0h2m0 0h2m2 0h2m1 0h2m1 0h2m2 0h2m2 0h2m0 0h2m-1 0h2m1 0h2m1 0h2m9 0h2m1 0h2m0 0h2m5 0h2m0 0h2m2 0h2m-1 0h2m1 0h2m2 0h2m1 0h2m-1 0h2m-1 0h2m0 0h2m-1 0h2m-1 0h2m27 0h2m-1 0h2m2 0h2m-1 0h2m-124 1h2m-1 0h2m3 0h2m0 0h2m-1 0h2m3 0h2m0 0h2m-1 0h2m-1 0h2m-1 0h2m1 0h2m-1 0h2m-1 0h2m-1 0h2m-1 0h2m-1 0h2m-1 0h2m1 0h2m1 0h2m0 0h2m0 0h2m-1 0h2m-1 0h2m0 0h2m0 0h2m-1 0h2m0 0h2m0 0h2m1 0h2m-1 0h2m4 0h2m-1 0h2m1 0h2m-1 0h2m1 0h2m-1 0h2m-1 0h2m1 0h2m1 0h2m0 0h2m0 0h2m1 0h2m4 0h2m-1 0h2m2 0h2m13 0h2m1 0h2m5 0h2m-122 1h2m-1 0h2m0 0h2m6 0h2m0 0h2m0 0h2m0 0h2m1 0h2m5 0h2m0 0h2m0 0h2m-1 0h2m-1 0h2m3 0h2m5 0h2m-1 0h2m-1 0h2m-1 0h2m5 0h2m1 0h2m-1 0h2m1 0h2m5 0h2m2 0h2m1 0h2m1 0h2m0 0h2m9 0h2m1 0h2m2 0h2m0 0h2m8 0h2m11 0h2m0 0h2m0 0h2m11 0h2m-143 1h2m-1 0h2m0 0h2m0 0h2m0 0h2m3 0h2m4 0h2m0 0h2m-1 0h2m-1 0h2m-1 0h2m-1 0h2m1 0h2m-1 0h2m-1 0h2m0 0h2m0 0h2m0 0h2m2 0h2m0 0h2m0 0h2m5 0h2m-1 0h2m-1 0h2m1 0h2m5 0h2m4 0h2m-1 0h2m1 0h2m2 0h2m0 0h2m18 0h2m-1 0h2m24 0h2m4 0h2m28 0h2m2 0h2m6 0h2m-173 1h2m0 0h2m1 0h2m0 0h2m-1 0h2m-1 0h2m-1 0h2m-1 0h2m-1 0h2m-1 0h2m2 0h2m-1 0h2m-1 0h2m1 0h2m0 0h2m-1 0h2m0 0h2m-1 0h2m2 0h2m2 0h2m-1 0h2m0 0h2m1 0h2m1 0h2m4 0h2m-1 0h2m-1 0h2m2 0h2m-1 0h2m2 0h2m-1 0h2m-1 0h2m1 0h2m1 0h2m4 0h2m1 0h2m2 0h2m-1 0h2m-1 0h2m-1 0h2m-1 0h2m9 0h2m3 0h2m0 0h2m1 0h2m13 0h2m25 0h2m-153 1h2m0 0h2m-1 0h2m0 0h2m0 0h2m2 0h2m-1 0h2m-1 0h2m1 0h2m-1 0h2m0 0h2m-1 0h2m-1 0h2m3 0h2m-1 0h2m0 0h2m0 0h2m4 0h2m0 0h2m-1 0h2m-1 0h2m-1 0h2m-1 0h2m2 0h2m5 0h2m-1 0h2m0 0h2m4 0h2m5 0h2m1 0h2m1 0h2m6 0h2m0 0h2m3 0h2m2 0h2m1 0h2m3 0h2m8 0h2m43 0h2m-162 1h2m0 0h2m0 0h2m-1 0h2m-1 0h2m1 0h2m0 0h2m-1 0h2m0 0h2m1 0h2m1 0h2m2 0h2m-1 0h2m0 0h2m0 0h2m-1 0h2m1 0h2m-1 0h2m1 0h2m-1 0h2m3 0h2m1 0h2m1 0h2m0 0h2m0 0h2m10 0h2m1 0h2m2 0h2m-1 0h2m-1 0h2m1 0h2m-1 0h2m-1 0h2m0 0h2m2 0h2m41 0h2m21 0h2m-151 1h2m-1 0h2m0 0h2m1 0h2m1 0h2m0 0h2m4 0h2m1 0h2m-1 0h2m-1 0h2m-1 0h2m1 0h2m-1 0h2m-1 0h2m0 0h2m1 0h2m-1 0h2m-1 0h2m-1 0h2m1 0h2m0 0h2m-1 0h2m6 0h2m4 0h2m0 0h2m1 0h2m1 0h2m-1 0h2m0 0h2m1 0h2m0 0h2m1 0h2m4 0h2m-1 0h2m8 0h2m4 0h2m1 0h2m1 0h2m41 0h2m-149 1h2m-1 0h2m-1 0h2m4 0h2m2 0h2m0 0h2m2 0h2m0 0h2m0 0h2m0 0h2m0 0h2m1 0h2m1 0h2m0 0h2m-1 0h2m0 0h2m0 0h2m-1 0h2m-1 0h2m-1 0h2m-1 0h2m-1 0h2m1 0h2m-1 0h2m1 0h2m1 0h2m1 0h2m2 0h2m-1 0h2m-1 0h2m1 0h2m-1 0h2m5 0h2m3 0h2m0 0h2m0 0h2m-1 0h2m0 0h2m0 0h2m1 0h2m7 0h2m1 0h2m11 0h2m28 0h2m-149 1h2m0 0h2m2 0h2m-1 0h2m-1 0h2m-1 0h2m-1 0h2m-1 0h2m-1 0h2m0 0h2m0 0h2m-1 0h2m1 0h2m-1 0h2m0 0h2m-1 0h2m1 0h2m0 0h2m1 0h2m-1 0h2m-1 0h2m0 0h2m1 0h2m2 0h2m-1 0h2m-1 0h2m0 0h2m-1 0h2m9 0h2m-1 0h2m0 0h2m0 0h2m-1 0h2m1 0h2m-1 0h2m1 0h2m1 0h2m-1 0h2m-1 0h2m3 0h2m1 0h2m10 0h2m3 0h2m23 0h2m7 0h2m0 0h2m-140 1h2m-1 0h2m-1 0h2m4 0h2m1 0h2m-1 0h2m-1 0h2m-1 0h2m-1 0h2m-1 0h2m-1 0h2m1 0h2m3 0h2m0 0h2m-1 0h2m0 0h2m-1 0h2m2 0h2m-1 0h2m0 0h2m2 0h2m-1 0h2m-1 0h2m0 0h2m-1 0h2m10 0h2m0 0h2m0 0h2m2 0h2m-1 0h2m1 0h2m1 0h2m0 0h2m-1 0h2m-1 0h2m-1 0h2m1 0h2m-1 0h2m6 0h2m-1 0h2m0 0h2m22 0h2m21 0h2m10 0h2m-155 1h2m0 0h2m1 0h2m1 0h2m-1 0h2m-1 0h2m-1 0h2m1 0h2m0 0h2m4 0h2m0 0h2m-1 0h2m3 0h2m2 0h2m0 0h2m-1 0h2m1 0h2m0 0h2m-1 0h2m0 0h2m0 0h2m-1 0h2m0 0h2m6 0h2m-1 0h2m0 0h2m1 0h2m-1 0h2m-1 0h2m2 0h2m0 0h2m1 0h2m0 0h2m0 0h2m1 0h2m-1 0h2m0 0h2m2 0h2m-1 0h2m7 0h2m2 0h2m15 0h2m1 0h2m5 0h2m-130 1h2m-1 0h2m1 0h2m0 0h2m0 0h2m-1 0h2m-1 0h2m1 0h2m-1 0h2m2 0h2m-1 0h2m-1 0h2m0 0h2m2 0h2m-1 0h2m-1 0h2m-1 0h2m-1 0h2m-1 0h2m0 0h2m0 0h2m0 0h2m-1 0h2m2 0h2m8 0h2m1 0h2m0 0h2m0 0h2m2 0h2m3 0h2m4 0h2m0 0h2m1 0h2m3 0h2m-1 0h2m-1 0h2m0 0h2m-1 0h2m-1 0h2m16 0h2m-1 0h2m28 0h2m-141 1h2m2 0h2m0 0h2m0 0h2m-1 0h2m0 0h2m-1 0h2m-1 0h2m-1 0h2m0 0h2m0 0h2m-1 0h2m-1 0h2m0 0h2m2 0h2m-1 0h2m-1 0h2m1 0h2m1 0h2m2 0h2m-1 0h2m3 0h2m2 0h2m1 0h2m1 0h2m-1 0h2m0 0h2m2 0h2m11 0h2m-1 0h2m-1 0h2m-1 0h2m2 0h2m8 0h2m-1 0h2m2 0h2m2 0h2m-1 0h2m0 0h2m2 0h2m0 0h2m3 0h2m1 0h2m1 0h2m19 0h2m-143 1h2m2 0h2m0 0h2m-1 0h2m0 0h2m0 0h2m-1 0h2m2 0h2m-1 0h2m2 0h2m0 0h2m-1 0h2m4 0h2m-1 0h2m-1 0h2m-1 0h2m1 0h2m-1 0h2m2 0h2m-1 0h2m0 0h2m4 0h2m-1 0h2m0 0h2m1 0h2m0 0h2m-1 0h2m-1 0h2m0 0h2m3 0h2m0 0h2m-1 0h2m-1 0h2m4 0h2m-1 0h2m-1 0h2m-1 0h2m0 0h2m4 0h2m2 0h2m8 0h2m-1 0h2m-1 0h2m-1 0h2m-1 0h2m6 0h2m0 0h2m3 0h2m-1 0h2m28 0h2m-156 1h2m-1 0h2m3 0h2m-1 0h2m0 0h2m0 0h2m6 0h2m1 0h2m-1 0h2m-1 0h2m0 0h2m0 0h2m0 0h2m-1 0h2m0 0h2m-1 0h2m-1 0h2m0 0h2m2 0h2m0 0h2m0 0h2m-1 0h2m-1 0h2m1 0h2m-1 0h2m-1 0h2m-1 0h2m-1 0h2m0 0h2m0 0h2m-1 0h2m-1 0h2m1 0h2m3 0h2m7 0h2m0 0h2m1 0h2m-1 0h2m6 0h2m9 0h2m-1 0h2m7 0h2m0 0h2m2 0h2m7 0h2m-128 1h2m0 0h2m-1 0h2m0 0h2m5 0h2m-1 0h2m-1 0h2m-1 0h2m4 0h2m-1 0h2m1 0h2m0 0h2m1 0h2m2 0h2m0 0h2m2 0h2m0 0h2m-1 0h2m-1 0h2m2 0h2m2 0h2m7 0h2m1 0h2m2 0h2m2 0h2m6 0h2m4 0h2m4 0h2m0 0h2m8 0h2m0 0h2m13 0h2m9 0h2m-135 1h2m0 0h2m1 0h2m-1 0h2m-1 0h2m-1 0h2m1 0h2m0 0h2m-1 0h2m-1 0h2m2 0h2m0 0h2m-1 0h2m-1 0h2m-1 0h2m0 0h2m1 0h2m-1 0h2m1 0h2m-1 0h2m-1 0h2m-1 0h2m-1 0h2m1 0h2m0 0h2m1 0h2m0 0h2m-1 0h2m-1 0h2m-1 0h2m-1 0h2m-1 0h2m3 0h2m1 0h2m1 0h2m-1 0h2m0 0h2m1 0h2m-1 0h2m-1 0h2m0 0h2m0 0h2m5 0h2m0 0h2m0 0h2m3 0h2m-1 0h2m5 0h2m0 0h2m-1 0h2m2 0h2m0 0h2m-1 0h2m5 0h2m5 0h2m5 0h2m-132 1h2m0 0h2m0 0h2m0 0h2m-1 0h2m-1 0h2m0 0h2m-1 0h2m-1 0h2m-1 0h2m2 0h2m2 0h2m0 0h2m0 0h2m1 0h2m0 0h2m1 0h2m-1 0h2m-1 0h2m-1 0h2m2 0h2m-1 0h2m-1 0h2m1 0h2m1 0h2m2 0h2m2 0h2m-1 0h2m0 0h2m-1 0h2m2 0h2m-1 0h2m-1 0h2m-1 0h2m0 0h2m2 0h2m0 0h2m-1 0h2m4 0h2m-1 0h2m0 0h2m4 0h2m3 0h2m0 0h2m-1 0h2m-1 0h2m1 0h2m0 0h2m3 0h2m3 0h2m23 0h2m8 0h2m-1 0h2m-153 1h2m-1 0h2m-1 0h2m0 0h2m-1 0h2m-1 0h2m2 0h2m-1 0h2m-1 0h2m-1 0h2m0 0h2m-1 0h2m-1 0h2m-1 0h2m0 0h2m-1 0h2m0 0h2m-1 0h2m-1 0h2m1 0h2m3 0h2m-1 0h2m-1 0h2m0 0h2m-1 0h2m0 0h2m1 0h2m-1 0h2m0 0h2m0 0h2m-1 0h2m-1 0h2m0 0h2m0 0h2m-1 0h2m5 0h2m-1 0h2m-1 0h2m6 0h2m-1 0h2m8 0h2m0 0h2m-1 0h2m2 0h2m1 0h2m5 0h2m-1 0h2m-1 0h2m1 0h2m3 0h2m27 0h2m2 0h2m-144 1h2m0 0h2m2 0h2m3 0h2m-1 0h2m0 0h2m1 0h2m-1 0h2m1 0h2m0 0h2m-1 0h2m-1 0h2m-1 0h2m-1 0h2m-1 0h2m-1 0h2m-1 0h2m2 0h2m-1 0h2m0 0h2m-1 0h2m0 0h2m-1 0h2m0 0h2m0 0h2m-1 0h2m0 0h2m-1 0h2m-1 0h2m-1 0h2m-1 0h2m0 0h2m-1 0h2m5 0h2m0 0h2m0 0h2m-1 0h2m-1 0h2m-1 0h2m2 0h2m0 0h2m-1 0h2m4 0h2m3 0h2m-1 0h2m-1 0h2m0 0h2m19 0h2m0 0h2m-1 0h2m12 0h2m10 0h2m6 0h2m2 0h2m-157 1h2m0 0h2m-1 0h2m5 0h2m-1 0h2m1 0h2m-1 0h2m0 0h2m-1 0h2m0 0h2m-1 0h2m-1 0h2m-1 0h2m2 0h2m1 0h2m-1 0h2m1 0h2m-1 0h2m-1 0h2m-1 0h2m1 0h2m-1 0h2m-1 0h2m2 0h2m-1 0h2m-1 0h2m3 0h2m3 0h2m2 0h2m-1 0h2m0 0h2m2 0h2m3 0h2m-1 0h2m-1 0h2m2 0h2m6 0h2m13 0h2m-1 0h2m5 0h2m14 0h2m29 0h2m-158 1h2m2 0h2m0 0h2m0 0h2m0 0h2m-1 0h2m0 0h2m-1 0h2m-1 0h2m-1 0h2m-1 0h2m1 0h2m-1 0h2m0 0h2m0 0h2m-1 0h2m-1 0h2m-1 0h2m-1 0h2m4 0h2m1 0h2m2 0h2m2 0h2m0 0h2m-1 0h2m-1 0h2m12 0h2m5 0h2m-1 0h2m0 0h2m5 0h2m6 0h2m-1 0h2m2 0h2m4 0h2m5 0h2m3 0h2m9 0h2m-1 0h2m-127 1h2m1 0h2m1 0h2m1 0h2m1 0h2m-1 0h2m2 0h2m-1 0h2m-1 0h2m4 0h2m-1 0h2m0 0h2m0 0h2m2 0h2m-1 0h2m0 0h2m-1 0h2m0 0h2m-1 0h2m3 0h2m-1 0h2m-1 0h2m-1 0h2m-1 0h2m-1 0h2m-1 0h2m-1 0h2m0 0h2m5 0h2m0 0h2m4 0h2m2 0h2m1 0h2m3 0h2m1 0h2m-1 0h2m-1 0h2m-1 0h2m-1 0h2m0 0h2m1 0h2m1 0h2m7 0h2m0 0h2m0 0h2m8 0h2m8 0h2m-133 1h2m1 0h2m3 0h2m0 0h2m3 0h2m1 0h2m3 0h2m0 0h2m0 0h2m-1 0h2m2 0h2m5 0h2m3 0h2m-1 0h2m-1 0h2m0 0h2m-1 0h2m2 0h2m2 0h2m1 0h2m-1 0h2m-1 0h2m-1 0h2m-1 0h2m-1 0h2m0 0h2m0 0h2m4 0h2m3 0h2m4 0h2m2 0h2m3 0h2m1 0h2m-1 0h2m1 0h2m0 0h2m0 0h2m2 0h2m12 0h2m10 0h2m10 0h2m-149 1h2m-1 0h2m1 0h2m-1 0h2m-1 0h2m0 0h2m-1 0h2m-1 0h2m0 0h2m-1 0h2m0 0h2m-1 0h2m-1 0h2m-1 0h2m-1 0h2m-1 0h2m-1 0h2m1 0h2m0 0h2m-1 0h2m-1 0h2m-1 0h2m6 0h2m0 0h2m0 0h2m-1 0h2m0 0h2m1 0h2m1 0h2m1 0h2m-1 0h2m2 0h2m0 0h2m1 0h2m-1 0h2m-1 0h2m0 0h2m-1 0h2m-1 0h2m-1 0h2m0 0h2m-1 0h2m1 0h2m3 0h2m-1 0h2m3 0h2m-1 0h2m-1 0h2m-1 0h2m-1 0h2m5 0h2m0 0h2m0 0h2m4 0h2m-1 0h2m5 0h2m5 0h2m-125 1h2m0 0h2m0 0h2m0 0h2m-1 0h2m0 0h2m0 0h2m4 0h2m0 0h2m-1 0h2m0 0h2m-1 0h2m-1 0h2m-1 0h2m-1 0h2m2 0h2m-1 0h2m0 0h2m0 0h2m-1 0h2m1 0h2m-1 0h2m0 0h2m-1 0h2m3 0h2m2 0h2m-1 0h2m1 0h2m0 0h2m2 0h2m1 0h2m-1 0h2m1 0h2m-1 0h2m0 0h2m2 0h2m6 0h2m1 0h2m-1 0h2m0 0h2m27 0h2m6 0h2m10 0h2m-140 1h2m-1 0h2m-1 0h2m0 0h2m0 0h2m-1 0h2m0 0h2m0 0h2m-1 0h2m1 0h2m0 0h2m-1 0h2m-1 0h2m-1 0h2m-1 0h2m0 0h2m0 0h2m2 0h2m-1 0h2m7 0h2m5 0h2m0 0h2m-1 0h2m1 0h2m-1 0h2m-1 0h2m0 0h2m1 0h2m-1 0h2m-1 0h2m6 0h2m4 0h2m10 0h2m-1 0h2m1 0h2m-1 0h2m4 0h2m15 0h2m0 0h2m-1 0h2m-1 0h2m1 0h2m1 0h2m19 0h2m-147 1h2m-1 0h2m2 0h2m-1 0h2m0 0h2m0 0h2m0 0h2m0 0h2m-1 0h2m-1 0h2m1 0h2m-1 0h2m1 0h2m2 0h2m0 0h2m-1 0h2m1 0h2m0 0h2m-1 0h2m-1 0h2m4 0h2m0 0h2m5 0h2m2 0h2m0 0h2m1 0h2m2 0h2m1 0h2m4 0h2m6 0h2m3 0h2m0 0h2m42 0h2m4 0h2m-143 1h2m1 0h2m0 0h2m0 0h2m0 0h2m-1 0h2m-1 0h2m-1 0h2m-1 0h2m-1 0h2m2 0h2m-1 0h2m1 0h2m1 0h2m1 0h2m-1 0h2m-1 0h2m0 0h2m3 0h2m-1 0h2m-1 0h2m-1 0h2m0 0h2m1 0h2m-1 0h2m0 0h2m3 0h2m2 0h2m2 0h2m-1 0h2m0 0h2m-1 0h2m0 0h2m-1 0h2m1 0h2m-1 0h2m0 0h2m2 0h2m1 0h2m2 0h2m-1 0h2m2 0h2m7 0h2m2 0h2m8 0h2m3 0h2m3 0h2m5 0h2m31 0h2m-159 1h2m1 0h2m-1 0h2m0 0h2m3 0h2m2 0h2m-1 0h2m-1 0h2m-1 0h2m0 0h2m5 0h2m-1 0h2m-1 0h2m0 0h2m-1 0h2m-1 0h2m-1 0h2m-1 0h2m0 0h2m-1 0h2m0 0h2m0 0h2m-1 0h2m2 0h2m-1 0h2m2 0h2m0 0h2m2 0h2m5 0h2m2 0h2m-1 0h2m1 0h2m-1 0h2m7 0h2m-1 0h2m2 0h2m-1 0h2m4 0h2m-1 0h2m1 0h2m0 0h2m6 0h2m10 0h2m21 0h2m-1 0h2m20 0h2m-176 1h2m1 0h2m3 0h2m0 0h2m0 0h2m7 0h2m1 0h2m1 0h2m-1 0h2m-1 0h2m-1 0h2m0 0h2m1 0h2m-1 0h2m0 0h2m-1 0h2m0 0h2m0 0h2m0 0h2m5 0h2m-1 0h2m-1 0h2m-1 0h2m1 0h2m0 0h2m2 0h2m-1 0h2m4 0h2m-1 0h2m0 0h2m4 0h2m3 0h2m2 0h2m0 0h2m-1 0h2m2 0h2m3 0h2m0 0h2m3 0h2m3 0h2m2 0h2m1 0h2m2 0h2m1 0h2m-128 1h2m-1 0h2m-1 0h2m1 0h2m3 0h2m-1 0h2m-1 0h2m-1 0h2m0 0h2m0 0h2m-1 0h2m-1 0h2m-1 0h2m0 0h2m0 0h2m0 0h2m-1 0h2m-1 0h2m-1 0h2m-1 0h2m0 0h2m2 0h2m-1 0h2m0 0h2m0 0h2m-1 0h2m1 0h2m-1 0h2m-1 0h2m-1 0h2m0 0h2m1 0h2m0 0h2m0 0h2m-1 0h2m-1 0h2m-1 0h2m1 0h2m0 0h2m-1 0h2m-1 0h2m3 0h2m-1 0h2m-1 0h2m7 0h2m-1 0h2m14 0h2m2 0h2m2 0h2m-1 0h2m1 0h2m10 0h2m16 0h2m17 0h2m3 0h2m10 0h2m-180 1h2m0 0h2m0 0h2m0 0h2m-1 0h2m-1 0h2m0 0h2m-1 0h2m2 0h2m2 0h2m-1 0h2m0 0h2m-1 0h2m2 0h2m2 0h2m-1 0h2m0 0h2m-1 0h2m-1 0h2m1 0h2m-1 0h2m-1 0h2m-1 0h2m-1 0h2m3 0h2m-1 0h2m-1 0h2m2 0h2m0 0h2m0 0h2m1 0h2m1 0h2m9 0h2m-1 0h2m2 0h2m1 0h2m8 0h2m0 0h2m1 0h2m39 0h2m10 0h2m-153 1h2m0 0h2m-1 0h2m-1 0h2m2 0h2m0 0h2m-1 0h2m-1 0h2m-1 0h2m-1 0h2m2 0h2m0 0h2m-1 0h2m-1 0h2m2 0h2m0 0h2m0 0h2m-1 0h2m0 0h2m0 0h2m0 0h2m-1 0h2m0 0h2m0 0h2m0 0h2m1 0h2m2 0h2m0 0h2m0 0h2m0 0h2m1 0h2m0 0h2m3 0h2m2 0h2m3 0h2m1 0h2m-1 0h2m1 0h2m11 0h2m5 0h2m1 0h2m5 0h2m11 0h2m8 0h2m21 0h2m12 0h2m-173 1h2m0 0h2m-1 0h2m1 0h2m2 0h2m1 0h2m-1 0h2m-1 0h2m1 0h2m-1 0h2m2 0h2m5 0h2m1 0h2m0 0h2m-1 0h2m0 0h2m0 0h2m-1 0h2m0 0h2m3 0h2m-1 0h2m1 0h2m-1 0h2m-1 0h2m-1 0h2m-1 0h2m0 0h2m2 0h2m0 0h2m0 0h2m0 0h2m-1 0h2m2 0h2m6 0h2m-1 0h2m3 0h2m-1 0h2m5 0h2m1 0h2m-1 0h2m1 0h2m1 0h2m1 0h2m3 0h2m5 0h2m22 0h2m8 0h2m-158 1h2m-1 0h2m-1 0h2m-1 0h2m-1 0h2m-1 0h2m-1 0h2m2 0h2m-1 0h2m-1 0h2m-1 0h2m1 0h2m-1 0h2m-1 0h2m-1 0h2m0 0h2m1 0h2m-1 0h2m-1 0h2m-1 0h2m4 0h2m-1 0h2m5 0h2m-1 0h2m-1 0h2m-1 0h2m-1 0h2m-1 0h2m-1 0h2m2 0h2m-1 0h2m1 0h2m0 0h2m-1 0h2m-1 0h2m-1 0h2m3 0h2m0 0h2m5 0h2m-1 0h2m1 0h2m1 0h2m-1 0h2m2 0h2m1 0h2m2 0h2m-1 0h2m-1 0h2m-1 0h2m8 0h2m0 0h2m-1 0h2m22 0h2m25 0h2m9 0h2m-173 1h2m-1 0h2m-1 0h2m3 0h2m-1 0h2m-1 0h2m-1 0h2m-1 0h2m1 0h2m-1 0h2m-1 0h2m0 0h2m-1 0h2m0 0h2m2 0h2m-1 0h2m1 0h2m0 0h2m0 0h2m1 0h2m1 0h2m-1 0h2m3 0h2m1 0h2m-1 0h2m1 0h2m0 0h2m3 0h2m-1 0h2m1 0h2m13 0h2m1 0h2m2 0h2m4 0h2m4 0h2m-1 0h2m5 0h2m6 0h2m37 0h2m4 0h2m2 0h2m-161 1h2m1 0h2m1 0h2m1 0h2m-1 0h2m-1 0h2m-1 0h2m-1 0h2m-1 0h2m-1 0h2m0 0h2m3 0h2m-1 0h2m-1 0h2m1 0h2m-1 0h2m2 0h2m0 0h2m2 0h2m0 0h2m-1 0h2m0 0h2m-1 0h2m-1 0h2m-1 0h2m-1 0h2m-1 0h2m2 0h2m1 0h2m0 0h2m0 0h2m-1 0h2m2 0h2m5 0h2m4 0h2m5 0h2m0 0h2m5 0h2m-1 0h2m0 0h2m-1 0h2m29 0h2m-1 0h2m29 0h2m-164 1h2m-1 0h2m-1 0h2m-1 0h2m-1 0h2m-1 0h2m-1 0h2m3 0h2m2 0h2m-1 0h2m4 0h2m0 0h2m-1 0h2m-1 0h2m-1 0h2m1 0h2m6 0h2m-1 0h2m-1 0h2m-1 0h2m1 0h2m-1 0h2m1 0h2m2 0h2m1 0h2m-1 0h2m0 0h2m1 0h2m0 0h2m0 0h2m3 0h2m0 0h2m-1 0h2m-1 0h2m1 0h2m3 0h2m2 0h2m-1 0h2m10 0h2m4 0h2m2 0h2m4 0h2m0 0h2m12 0h2m-131 1h2m1 0h2m0 0h2m-1 0h2m0 0h2m0 0h2m-1 0h2m-1 0h2m-1 0h2m4 0h2m0 0h2m0 0h2m-1 0h2m4 0h2m1 0h2m0 0h2m-1 0h2m-1 0h2m-1 0h2m-1 0h2m-1 0h2m-1 0h2m0 0h2m-1 0h2m-1 0h2m-1 0h2m-1 0h2m0 0h2m1 0h2m1 0h2m0 0h2m-1 0h2m-1 0h2m1 0h2m4 0h2m2 0h2m0 0h2m-1 0h2m0 0h2m2 0h2m0 0h2m0 0h2m9 0h2m0 0h2m-1 0h2m0 0h2m7 0h2m2 0h2m17 0h2m11 0h2m23 0h2m-176 1h2m-1 0h2m1 0h2m-1 0h2m0 0h2m2 0h2m-1 0h2m1 0h2m1 0h2m0 0h2m1 0h2m-1 0h2m-1 0h2m7 0h2m0 0h2m-1 0h2m3 0h2m-1 0h2m0 0h2m0 0h2m2 0h2m0 0h2m10 0h2m2 0h2m-1 0h2m0 0h2m-1 0h2m-1 0h2m-1 0h2m0 0h2m4 0h2m7 0h2m1 0h2m12 0h2m15 0h2m-127 1h2m0 0h2m1 0h2m0 0h2m0 0h2m1 0h2m1 0h2m0 0h2m-1 0h2m0 0h2m0 0h2m3 0h2m0 0h2m-1 0h2m1 0h2m0 0h2m1 0h2m0 0h2m-1 0h2m1 0h2m-1 0h2m3 0h2m4 0h2m6 0h2m0 0h2m3 0h2m6 0h2m-1 0h2m8 0h2m16 0h2m5 0h2m4 0h2m1 0h2m16 0h2m25 0h2m-172 1h2m5 0h2m-1 0h2m1 0h2m-1 0h2m-1 0h2m1 0h2m-1 0h2m0 0h2m-1 0h2m0 0h2m4 0h2m-1 0h2m2 0h2m-1 0h2m-1 0h2m-1 0h2m4 0h2m-1 0h2m0 0h2m2 0h2m4 0h2m-1 0h2m2 0h2m3 0h2m1 0h2m1 0h2m-1 0h2m-1 0h2m0 0h2m-1 0h2m0 0h2m8 0h2m0 0h2m0 0h2m0 0h2m20 0h2m30 0h2m10 0h2m-159 1h2m0 0h2m1 0h2m-1 0h2m-1 0h2m-1 0h2m0 0h2m1 0h2m-1 0h2m1 0h2m0 0h2m-1 0h2m11 0h2m5 0h2m6 0h2m2 0h2m4 0h2m-1 0h2m-1 0h2m2 0h2m5 0h2m-1 0h2m1 0h2m-1 0h2m2 0h2m8 0h2m0 0h2m3 0h2m13 0h2m8 0h2m14 0h2m11 0h2m-155 1h2m-1 0h2m-1 0h2m1 0h2m-1 0h2m-1 0h2m-1 0h2m3 0h2m1 0h2m3 0h2m-1 0h2m2 0h2m0 0h2m0 0h2m-1 0h2m-1 0h2m-1 0h2m1 0h2m0 0h2m-1 0h2m1 0h2m2 0h2m1 0h2m-1 0h2m0 0h2m-1 0h2m0 0h2m0 0h2m5 0h2m-1 0h2m1 0h2m0 0h2m-1 0h2m9 0h2m4 0h2m3 0h2m8 0h2m11 0h2m3 0h2m13 0h2m-138 1h2m0 0h2m-1 0h2m2 0h2m2 0h2m4 0h2m-1 0h2m1 0h2m1 0h2m-1 0h2m0 0h2m3 0h2m-1 0h2m-1 0h2m0 0h2m1 0h2m-1 0h2m-1 0h2m-1 0h2m0 0h2m3 0h2m-1 0h2m-1 0h2m-1 0h2m-1 0h2m-1 0h2m0 0h2m-1 0h2m1 0h2m-1 0h2m0 0h2m-1 0h2m1 0h2m7 0h2m5 0h2m1 0h2m0 0h2m-1 0h2m-1 0h2m-1 0h2m4 0h2m3 0h2m0 0h2m2 0h2m39 0h2m-153 1h2m0 0h2m2 0h2m-1 0h2m3 0h2m-1 0h2m-1 0h2m-1 0h2m-1 0h2m2 0h2m0 0h2m0 0h2m0 0h2m0 0h2m0 0h2m0 0h2m8 0h2m0 0h2m1 0h2m-1 0h2m1 0h2m-1 0h2m1 0h2m2 0h2m1 0h2m0 0h2m5 0h2m3 0h2m3 0h2m1 0h2m-1 0h2m3 0h2m-1 0h2m3 0h2m0 0h2m14 0h2m1 0h2m4 0h2m2 0h2m-128 1h2m1 0h2m0 0h2m-1 0h2m2 0h2m3 0h2m0 0h2m3 0h2m-1 0h2m-1 0h2m-1 0h2m-1 0h2m1 0h2m1 0h2m3 0h2m-1 0h2m0 0h2m0 0h2m2 0h2m0 0h2m-1 0h2m3 0h2m5 0h2m-1 0h2m-1 0h2m1 0h2m3 0h2m7 0h2m-1 0h2m0 0h2m0 0h2m-1 0h2m3 0h2m-1 0h2m7 0h2m1 0h2m3 0h2m1 0h2m3 0h2m3 0h2m22 0h2m-149 1h2m-1 0h2m0 0h2m3 0h2m2 0h2m-1 0h2m-1 0h2m-1 0h2m-1 0h2m0 0h2m0 0h2m-1 0h2m-1 0h2m0 0h2m-1 0h2m-1 0h2m-1 0h2m1 0h2m0 0h2m-1 0h2m6 0h2m-1 0h2m0 0h2m1 0h2m9 0h2m-1 0h2m-1 0h2m0 0h2m1 0h2m-1 0h2m-1 0h2m1 0h2m-1 0h2m0 0h2m0 0h2m3 0h2m4 0h2m-1 0h2m5 0h2m5 0h2m6 0h2m0 0h2m4 0h2m15 0h2m-1 0h2m-136 1h2m-1 0h2m0 0h2m-1 0h2m1 0h2m-1 0h2m-1 0h2m0 0h2m0 0h2m-1 0h2m3 0h2m0 0h2m-1 0h2m0 0h2m0 0h2m0 0h2m-1 0h2m-1 0h2m2 0h2m2 0h2m0 0h2m-1 0h2m0 0h2m0 0h2m-1 0h2m0 0h2m0 0h2m1 0h2m-1 0h2m8 0h2m-1 0h2m1 0h2m0 0h2m-1 0h2m-1 0h2m5 0h2m2 0h2m9 0h2m3 0h2m2 0h2m14 0h2m11 0h2m-132 1h2m3 0h2m-1 0h2m-1 0h2m1 0h2m0 0h2m-1 0h2m6 0h2m0 0h2m0 0h2m0 0h2m3 0h2m-1 0h2m0 0h2m-1 0h2m-1 0h2m0 0h2m0 0h2m0 0h2m-1 0h2m5 0h2m-1 0h2m2 0h2m-1 0h2m2 0h2m-1 0h2m-1 0h2m4 0h2m-1 0h2m-1 0h2m-1 0h2m3 0h2m-1 0h2m3 0h2m1 0h2m1 0h2m22 0h2m1 0h2m11 0h2m-1 0h2m6 0h2m15 0h2m-160 1h2m0 0h2m0 0h2m3 0h2m-1 0h2m-1 0h2m0 0h2m-1 0h2m0 0h2m0 0h2m2 0h2m-1 0h2m-1 0h2m0 0h2m-1 0h2m-1 0h2m-1 0h2m0 0h2m0 0h2m3 0h2m0 0h2m4 0h2m-1 0h2m-1 0h2m3 0h2m-1 0h2m0 0h2m-1 0h2m3 0h2m0 0h2m-1 0h2m-1 0h2m-1 0h2m0 0h2m-1 0h2m-1 0h2m1 0h2m-1 0h2m-1 0h2m4 0h2m-1 0h2m2 0h2m35 0h2m14 0h2m7 0h2m23 0h2m-175 1h2m3 0h2m-1 0h2m-1 0h2m1 0h2m0 0h2m5 0h2m0 0h2m0 0h2m0 0h2m1 0h2m1 0h2m-1 0h2m-1 0h2m3 0h2m3 0h2m0 0h2m-1 0h2m-1 0h2m0 0h2m3 0h2m-1 0h2m2 0h2m-1 0h2m-1 0h2m5 0h2m-1 0h2m4 0h2m-1 0h2m-1 0h2m-1 0h2m-1 0h2m9 0h2m0 0h2m11 0h2m-1 0h2m10 0h2m-119 1h2m2 0h2m0 0h2m9 0h2m3 0h2m0 0h2m10 0h2m3 0h2m1 0h2m1 0h2m4 0h2m-1 0h2m1 0h2m3 0h2m2 0h2m4 0h2m10 0h2m0 0h2m5 0h2m4 0h2m4 0h2m6 0h2m-1 0h2m2 0h2m-1 0h2m6 0h2m13 0h2m27 0h2m-174 1h2m-1 0h2m0 0h2m3 0h2m-1 0h2m-1 0h2m-1 0h2m-1 0h2m0 0h2m3 0h2m1 0h2m-1 0h2m0 0h2m2 0h2m-1 0h2m2 0h2m-1 0h2m1 0h2m7 0h2m-1 0h2m3 0h2m2 0h2m0 0h2m0 0h2m0 0h2m1 0h2m0 0h2m0 0h2m-1 0h2m2 0h2m0 0h2m2 0h2m1 0h2m-1 0h2m0 0h2m0 0h2m3 0h2m11 0h2m9 0h2m33 0h2m1 0h2m26 0h2m-186 1h2m-1 0h2m0 0h2m-1 0h2m0 0h2m-1 0h2m0 0h2m0 0h2m-1 0h2m-1 0h2m0 0h2m-1 0h2m1 0h2m0 0h2m0 0h2m0 0h2m2 0h2m-1 0h2m0 0h2m-1 0h2m0 0h2m2 0h2m0 0h2m0 0h2m-1 0h2m3 0h2m-1 0h2m-1 0h2m1 0h2m1 0h2m3 0h2m-1 0h2m2 0h2m3 0h2m1 0h2m1 0h2m-1 0h2m0 0h2m-1 0h2m0 0h2m5 0h2m2 0h2m7 0h2m0 0h2m11 0h2m6 0h2m-129 1h2m4 0h2m-1 0h2m0 0h2m-1 0h2m-1 0h2m3 0h2m1 0h2m1 0h2m-1 0h2m8 0h2m-1 0h2m0 0h2m1 0h2m-1 0h2m-1 0h2m0 0h2m3 0h2m0 0h2m2 0h2m-1 0h2m5 0h2m0 0h2m2 0h2m-1 0h2m0 0h2m-1 0h2m-1 0h2m-1 0h2m18 0h2m12 0h2m4 0h2m-116 1h2m-1 0h2m-1 0h2m0 0h2m2 0h2m1 0h2m2 0h2m-1 0h2m4 0h2m1 0h2m0 0h2m0 0h2m2 0h2m1 0h2m3 0h2m-1 0h2m0 0h2m0 0h2m6 0h2m-1 0h2m1 0h2m-1 0h2m2 0h2m-1 0h2m0 0h2m1 0h2m9 0h2m0 0h2m5 0h2m-1 0h2m2 0h2m0 0h2m-1 0h2m14 0h2m4 0h2m13 0h2m10 0h2m-144 1h2m0 0h2m1 0h2m-1 0h2m0 0h2m1 0h2m-1 0h2m2 0h2m-1 0h2m9 0h2m0 0h2m-1 0h2m-1 0h2m-1 0h2m-1 0h2m-1 0h2m1 0h2m2 0h2m1 0h2m2 0h2m-1 0h2m-1 0h2m1 0h2m-1 0h2m-1 0h2m0 0h2m-1 0h2m0 0h2m-1 0h2m3 0h2m1 0h2m0 0h2m-1 0h2m0 0h2m9 0h2m12 0h2m22 0h2m4 0h2m6 0h2m11 0h2m-156 1h2m0 0h2m-1 0h2m0 0h2m6 0h2m2 0h2m-1 0h2m0 0h2m4 0h2m2 0h2m-1 0h2m-1 0h2m-1 0h2m-1 0h2m-1 0h2m-1 0h2m0 0h2m-1 0h2m6 0h2m-1 0h2m0 0h2m0 0h2m1 0h2m-1 0h2m4 0h2m5 0h2m-1 0h2m-1 0h2m-1 0h2m4 0h2m1 0h2m0 0h2m20 0h2m30 0h2m13 0h2m0 0h2m-151 1h2m2 0h2m-1 0h2m-1 0h2m2 0h2m-1 0h2m-1 0h2m6 0h2m-1 0h2m1 0h2m1 0h2m3 0h2m1 0h2m-1 0h2m4 0h2m0 0h2m-1 0h2m0 0h2m4 0h2m0 0h2m1 0h2m-1 0h2m0 0h2m0 0h2m5 0h2m-1 0h2m0 0h2m1 0h2m4 0h2m30 0h2m10 0h2m21 0h2m-157 1h2m-1 0h2m1 0h2m0 0h2m-1 0h2m3 0h2m0 0h2m-1 0h2m0 0h2m2 0h2m-1 0h2m2 0h2m0 0h2m1 0h2m-1 0h2m4 0h2m0 0h2m0 0h2m-1 0h2m0 0h2m2 0h2m-1 0h2m6 0h2m0 0h2m11 0h2m1 0h2m-1 0h2m4 0h2m-1 0h2m-1 0h2m0 0h2m-1 0h2m20 0h2m8 0h2m-120 1h2m-1 0h2m-1 0h2m-1 0h2m1 0h2m-1 0h2m1 0h2m-1 0h2m-1 0h2m2 0h2m-1 0h2m0 0h2m-1 0h2m0 0h2m1 0h2m0 0h2m1 0h2m0 0h2m0 0h2m8 0h2m-1 0h2m0 0h2m0 0h2m0 0h2m2 0h2m1 0h2m-1 0h2m0 0h2m2 0h2m5 0h2m-1 0h2m1 0h2m0 0h2m0 0h2m4 0h2m23 0h2m11 0h2m0 0h2m-127 1h2m1 0h2m-1 0h2m-1 0h2m0 0h2m0 0h2m1 0h2m0 0h2m-1 0h2m0 0h2m0 0h2m-1 0h2m-1 0h2m0 0h2m-1 0h2m-1 0h2m-1 0h2m0 0h2m2 0h2m2 0h2m0 0h2m-1 0h2m0 0h2m-1 0h2m-1 0h2m9 0h2m-1 0h2m0 0h2m-1 0h2m-1 0h2m2 0h2m4 0h2m0 0h2m6 0h2m5 0h2m3 0h2m1 0h2m-1 0h2m4 0h2m17 0h2m33 0h2m-160 1h2m-1 0h2m-1 0h2m5 0h2m3 0h2m0 0h2m-1 0h2m0 0h2m-1 0h2m-1 0h2m-1 0h2m0 0h2m-1 0h2m10 0h2m10 0h2m-1 0h2m0 0h2m-1 0h2m5 0h2m5 0h2m1 0h2m-1 0h2m0 0h2m3 0h2m0 0h2m7 0h2m-1 0h2m4 0h2m5 0h2m-1 0h2m-106 1h2m0 0h2m-1 0h2m11 0h2m0 0h2m0 0h2m3 0h2m1 0h2m3 0h2m-1 0h2m5 0h2m0 0h2m2 0h2m1 0h2m0 0h2m1 0h2m1 0h2m2 0h2m1 0h2m-1 0h2m-1 0h2m3 0h2m2 0h2m9 0h2m0 0h2m2 0h2m1 0h2m2 0h2m-1 0h2m7 0h2m2 0h2m26 0h2m-145 1h2m0 0h2m-1 0h2m5 0h2m3 0h2m0 0h2m-1 0h2m2 0h2m0 0h2m0 0h2m6 0h2m9 0h2m2 0h2m-1 0h2m0 0h2m-1 0h2m-1 0h2m-1 0h2m1 0h2m1 0h2m2 0h2m1 0h2m15 0h2m1 0h2m8 0h2m21 0h2m13 0h2m7 0h2m7 0h2m10 0h2m-167 1h2m0 0h2m1 0h2m0 0h2m0 0h2m-1 0h2m3 0h2m-1 0h2m0 0h2m-1 0h2m-1 0h2m3 0h2m-1 0h2m0 0h2m-1 0h2m9 0h2m-1 0h2m0 0h2m-1 0h2m1 0h2m2 0h2m1 0h2m1 0h2m6 0h2m0 0h2m2 0h2m-1 0h2m3 0h2m0 0h2m8 0h2m-1 0h2m9 0h2m4 0h2m-108 1h2m1 0h2m2 0h2m-1 0h2m-1 0h2m-1 0h2m-1 0h2m1 0h2m0 0h2m0 0h2m4 0h2m-1 0h2m0 0h2m1 0h2m1 0h2m-1 0h2m0 0h2m0 0h2m1 0h2m2 0h2m4 0h2m2 0h2m-1 0h2m3 0h2m7 0h2m9 0h2m4 0h2m5 0h2m3 0h2m14 0h2m0 0h2m6 0h2m1 0h2m7 0h2m-140 1h2m-1 0h2m0 0h2m-1 0h2m0 0h2m0 0h2m0 0h2m3 0h2m5 0h2m1 0h2m-1 0h2m8 0h2m2 0h2m2 0h2m2 0h2m-1 0h2m3 0h2m-1 0h2m-1 0h2m0 0h2m-1 0h2m3 0h2m11 0h2m1 0h2m0 0h2m1 0h2m15 0h2m1 0h2m4 0h2m3 0h2m6 0h2m7 0h2m1 0h2m-138 1h2m-1 0h2m-1 0h2m1 0h2m-1 0h2m0 0h2m1 0h2m3 0h2m5 0h2m0 0h2m0 0h2m8 0h2m5 0h2m1 0h2m-1 0h2m3 0h2m2 0h2m5 0h2m2 0h2m-1 0h2m1 0h2m1 0h2m2 0h2m0 0h2m4 0h2m7 0h2m1 0h2m15 0h2m8 0h2m4 0h2m2 0h2m-138 1h2m-1 0h2m0 0h2m3 0h2m0 0h2m4 0h2m-1 0h2m-1 0h2m1 0h2m0 0h2m-1 0h2m8 0h2m1 0h2m4 0h2m1 0h2m-1 0h2m3 0h2m-1 0h2m1 0h2m-1 0h2m-1 0h2m4 0h2m3 0h2m4 0h2m-1 0h2m1 0h2m-1 0h2m0 0h2m5 0h2m13 0h2m11 0h2m2 0h2m2 0h2m-123 1h2m3 0h2m2 0h2m-1 0h2m-1 0h2m1 0h2m0 0h2m-1 0h2m4 0h2m-1 0h2m5 0h2m5 0h2m-1 0h2m-1 0h2m-1 0h2m5 0h2m1 0h2m6 0h2m2 0h2m-1 0h2m2 0h2m0 0h2m0 0h2m3 0h2m-1 0h2m-1 0h2m32 0h2m-118 1h2m0 0h2m-1 0h2m2 0h2m-1 0h2m1 0h2m-1 0h2m2 0h2m5 0h2m1 0h2m2 0h2m8 0h2m-1 0h2m0 0h2m8 0h2m2 0h2m2 0h2m2 0h2m-1 0h2m4 0h2m-1 0h2m8 0h2m2 0h2m0 0h2m4 0h2m14 0h2m11 0h2m13 0h2m-140 1h2m1 0h2m8 0h2m1 0h2m0 0h2m-1 0h2m-1 0h2m-1 0h2m1 0h2m-1 0h2m0 0h2m0 0h2m0 0h2m6 0h2m0 0h2m2 0h2m-1 0h2m-1 0h2m0 0h2m1 0h2m0 0h2m-1 0h2m-1 0h2m-1 0h2m2 0h2m0 0h2m-1 0h2m3 0h2m-1 0h2m5 0h2m7 0h2m0 0h2m-1 0h2m0 0h2m2 0h2m-1 0h2m1 0h2m0 0h2m4 0h2m10 0h2m3 0h2m9 0h2m-138 1h2m-1 0h2m-1 0h2m-1 0h2m1 0h2m1 0h2m2 0h2m0 0h2m2 0h2m0 0h2m2 0h2m2 0h2m2 0h2m1 0h2m-1 0h2m1 0h2m0 0h2m2 0h2m0 0h2m0 0h2m-1 0h2m2 0h2m-1 0h2m-1 0h2m4 0h2m-1 0h2m-1 0h2m0 0h2m2 0h2m-1 0h2m-1 0h2m4 0h2m0 0h2m0 0h2m7 0h2m1 0h2m22 0h2m1 0h2m19 0h2m-1 0h2m-143 1h2m2 0h2m-1 0h2m0 0h2m2 0h2m0 0h2m3 0h2m3 0h2m1 0h2m3 0h2m2 0h2m0 0h2m-1 0h2m1 0h2m3 0h2m1 0h2m11 0h2m20 0h2m2 0h2m9 0h2m9 0h2m26 0h2m1 0h2m-147 1h2m2 0h2m-1 0h2m1 0h2m-1 0h2m1 0h2m4 0h2m-1 0h2m0 0h2m1 0h2m8 0h2m1 0h2m1 0h2m8 0h2m-1 0h2m-1 0h2m3 0h2m0 0h2m1 0h2m0 0h2m0 0h2m-1 0h2m10 0h2m5 0h2m1 0h2m1 0h2m8 0h2m1 0h2m7 0h2m0 0h2m49 0h2m-168 1h2m1 0h2m0 0h2m2 0h2m0 0h2m-1 0h2m2 0h2m1 0h2m-1 0h2m5 0h2m2 0h2m1 0h2m0 0h2m0 0h2m11 0h2m3 0h2m-1 0h2m8 0h2m8 0h2m3 0h2m9 0h2m5 0h2m9 0h2m2 0h2m-117 1h2m1 0h2m-1 0h2m10 0h2m2 0h2m6 0h2m-1 0h2m-1 0h2m6 0h2m3 0h2m-1 0h2m-1 0h2m1 0h2m4 0h2m-1 0h2m1 0h2m-1 0h2m5 0h2m6 0h2m-1 0h2m0 0h2m5 0h2m2 0h2m1 0h2m10 0h2m35 0h2m-143 1h2m1 0h2m1 0h2m-1 0h2m1 0h2m-1 0h2m-1 0h2m1 0h2m1 0h2m1 0h2m11 0h2m3 0h2m2 0h2m1 0h2m1 0h2m-1 0h2m2 0h2m8 0h2m7 0h2m1 0h2m3 0h2m-1 0h2m0 0h2m2 0h2m43 0h2m-131 1h2m9 0h2m-1 0h2m-1 0h2m7 0h2m3 0h2m0 0h2m-1 0h2m0 0h2m2 0h2m4 0h2m-1 0h2m4 0h2m7 0h2m3 0h2m11 0h2m4 0h2m5 0h2m30 0h2m6 0h2m6 0h2m-143 1h2m1 0h2m-1 0h2m-1 0h2m1 0h2m0 0h2m-1 0h2m1 0h2m-1 0h2m-1 0h2m0 0h2m2 0h2m0 0h2m2 0h2m-1 0h2m-1 0h2m-1 0h2m-1 0h2m4 0h2m-1 0h2m1 0h2m-1 0h2m5 0h2m1 0h2m-1 0h2m8 0h2m-1 0h2m1 0h2m5 0h2m12 0h2m10 0h2m34 0h2m-137 1h2m0 0h2m3 0h2m2 0h2m-1 0h2m5 0h2m4 0h2m0 0h2m10 0h2m-1 0h2m-1 0h2m11 0h2m4 0h2m33 0h2m2 0h2m6 0h2m22 0h2m-134 1h2m-1 0h2m0 0h2m3 0h2m1 0h2m-1 0h2m1 0h2m-1 0h2m0 0h2m0 0h2m4 0h2m-1 0h2m-1 0h2m4 0h2m-1 0h2m-1 0h2m3 0h2m0 0h2m-1 0h2m1 0h2m11 0h2m13 0h2m2 0h2m10 0h2m4 0h2m27 0h2m-129 1h2m-1 0h2m-1 0h2m1 0h2m-1 0h2m2 0h2m-1 0h2m11 0h2m5 0h2m11 0h2m-1 0h2m-1 0h2m6 0h2m4 0h2m5 0h2m-1 0h2m9 0h2m0 0h2m3 0h2m2 0h2m5 0h2m32 0h2m-134 1h2m4 0h2m9 0h2m2 0h2m-1 0h2m3 0h2m2 0h2m-1 0h2m6 0h2m7 0h2m0 0h2m0 0h2m0 0h2m6 0h2m1 0h2m9 0h2m4 0h2m7 0h2m30 0h2m-114 1h2m0 0h2m8 0h2m-1 0h2m0 0h2m2 0h2m5 0h2m1 0h2m2 0h2m1 0h2m0 0h2m1 0h2m-1 0h2m-1 0h2m1 0h2m3 0h2m1 0h2m0 0h2m2 0h2m2 0h2m2 0h2m9 0h2m-1 0h2m0 0h2m0 0h2m14 0h2m4 0h2m2 0h2m7 0h2m-132 1h2m0 0h2m2 0h2m0 0h2m-1 0h2m0 0h2m0 0h2m4 0h2m2 0h2m3 0h2m1 0h2m2 0h2m7 0h2m-1 0h2m11 0h2m28 0h2m3 0h2m9 0h2m1 0h2m2 0h2m4 0h2m1 0h2m-122 1h2m-1 0h2m-1 0h2m5 0h2m4 0h2m-1 0h2m-1 0h2m-1 0h2m1 0h2m-1 0h2m-1 0h2m-1 0h2m4 0h2m0 0h2m-1 0h2m-1 0h2m10 0h2m1 0h2m2 0h2m2 0h2m0 0h2m1 0h2m23 0h2m18 0h2m0 0h2m32 0h2m-144 1h2m7 0h2m2 0h2m6 0h2m4 0h2m0 0h2m10 0h2m12 0h2m7 0h2m16 0h2m33 0h2m-119 1h2m4 0h2m2 0h2m3 0h2m0 0h2m6 0h2m-1 0h2m-1 0h2m1 0h2m0 0h2m-1 0h2m2 0h2m0 0h2m3 0h2m1 0h2m2 0h2m-1 0h2m8 0h2m4 0h2m15 0h2m2 0h2m70 0h2m-158 1h2m-1 0h2m0 0h2m-1 0h2m-1 0h2m3 0h2m1 0h2m0 0h2m3 0h2m-1 0h2m0 0h2m0 0h2m5 0h2m-1 0h2m2 0h2m-1 0h2m3 0h2m3 0h2m8 0h2m7 0h2m8 0h2m1 0h2m4 0h2m13 0h2m-108 1h2m-1 0h2m1 0h2m-1 0h2m-1 0h2m5 0h2m-1 0h2m0 0h2m4 0h2m2 0h2m7 0h2m4 0h2m0 0h2m-1 0h2m8 0h2m-1 0h2m0 0h2m1 0h2m16 0h2m9 0h2m3 0h2m3 0h2m0 0h2m19 0h2m-125 1h2m5 0h2m2 0h2m0 0h2m3 0h2m2 0h2m1 0h2m-1 0h2m4 0h2m1 0h2m1 0h2m4 0h2m-1 0h2m1 0h2m0 0h2m3 0h2m42 0h2m5 0h2m16 0h2m-126 1h2m8 0h2m1 0h2m1 0h2m0 0h2m0 0h2m8 0h2m-1 0h2m0 0h2m2 0h2m-1 0h2m55 0h2m17 0h2m10 0h2m15 0h2m0 0h2m-144 1h2m0 0h2m1 0h2m0 0h2m0 0h2m1 0h2m0 0h2m10 0h2m7 0h2m4 0h2m8 0h2m1 0h2m0 0h2m2 0h2m19 0h2m7 0h2m3 0h2m4 0h2m3 0h2m2 0h2m9 0h2m14 0h2m12 0h2m-155 1h2m3 0h2m6 0h2m14 0h2m-1 0h2m4 0h2m9 0h2m1 0h2m2 0h2m2 0h2m2 0h2m8 0h2m-1 0h2m16 0h2m-89 1h2m2 0h2m-1 0h2m15 0h2m2 0h2m7 0h2m4 0h2m19 0h2m6 0h2m4 0h2m15 0h2m9 0h2m0 0h2m8 0h2m-120 1h2m12 0h2m7 0h2m5 0h2m-1 0h2m19 0h2m-1 0h2m2 0h2m27 0h2m56 0h2m-144 1h2m1 0h2m-1 0h2m2 0h2m2 0h2m12 0h2m0 0h2m5 0h2m11 0h2m4 0h2m6 0h2m10 0h2m9 0h2m9 0h2m-1 0h2m15 0h2m20 0h2m-136 1h2m0 0h2m3 0h2m2 0h2m2 0h2m2 0h2m0 0h2m2 0h2m3 0h2m1 0h2m-1 0h2m2 0h2m2 0h2m3 0h2m-1 0h2m5 0h2m0 0h2m2 0h2m4 0h2m31 0h2m-108 1h2m-1 0h2m3 0h2m4 0h2m-1 0h2m3 0h2m3 0h2m1 0h2m6 0h2m4 0h2m1 0h2m1 0h2m2 0h2m1 0h2m3 0h2m24 0h2m8 0h2m-86 1h2m6 0h2m11 0h2m1 0h2m-1 0h2m2 0h2m3 0h2m-1 0h2m10 0h2m7 0h2m1 0h2m12 0h2m3 0h2m12 0h2m46 0h2m4 0h2m-159 1h2m0 0h2m0 0h2m7 0h2m1 0h2m3 0h2m19 0h2m3 0h2m0 0h2m-1 0h2m16 0h2m15 0h2m1 0h2m19 0h2m2 0h2m30 0h2m4 0h2m-144 1h2m-1 0h2m8 0h2m0 0h2m-1 0h2m25 0h2m1 0h2m23 0h2m21 0h2m-92 1h2m-1 0h2m1 0h2m10 0h2m1 0h2m4 0h2m1 0h2m0 0h2m1 0h2m0 0h2m15 0h2m1 0h2m8 0h2m38 0h2m38 0h2m-153 1h2m3 0h2m-1 0h2m-1 0h2m9 0h2m13 0h2m3 0h2m16 0h2m5 0h2m43 0h2m15 0h2m-119 1h2m1 0h2m36 0h2m11 0h2m6 0h2m-1 0h2m2 0h2m5 0h2m25 0h2m7 0h2m4 0h2m2 0h2m-126 1h2m-1 0h2m3 0h2m1 0h2m0 0h2m12 0h2m5 0h2m1 0h2m3 0h2m1 0h2m67 0h2m2 0h2m-105 1h2m0 0h2m8 0h2m-1 0h2m0 0h2m4 0h2m7 0h2m6 0h2m10 0h2m3 0h2m-76 1h2m10 0h2m-1 0h2m6 0h2m12 0h2m9 0h2m10 0h2m5 0h2m11 0h2m2 0h2m4 0h2m11 0h2m-90 1h2m5 0h2m17 0h2m-1 0h2m11 0h2m1 0h2m9 0h2m21 0h2m-80 1h2m0 0h2m-1 0h2m4 0h2m4 0h2m17 0h2m5 0h2m66 0h2m-110 1h2m15 0h2m5 0h2m-1 0h2m7 0h2m0 0h2m34 0h2m9 0h2m30 0h2m-133 1h2m10 0h2m11 0h2m5 0h2m12 0h2m38 0h2m34 0h2m-114 1h2m1 0h2m6 0h2m7 0h2m4 0h2m1 0h2m20 0h2m6 0h2m6 0h2m14 0h2m3 0h2m-93 1h2m8 0h2m21 0h2m16 0h2m-53 1h2m3 0h2m0 0h2m-1 0h2m8 0h2m9 0h2m26 0h2m23 0h2m-90 1h2m11 0h2m20 0h2m27 0h2m12 0h2m-76 1h2m11 0h2m8 0h2m4 0h2m0 0h2m-1 0h2m1 0h2m26 0h2m64 0h2m-128 1h2m11 0h2m2 0h2m8 0h2m2 0h2m2 0h2m8 0h2m6 0h2m14 0h2m30 0h2m-109 1h2m29 0h2m2 0h2m6 0h2m4 0h2m3 0h2m5 0h2m-1 0h2m62 0h2m5 0h2m-123 1h2m9 0h2m4 0h2m14 0h2m12 0h2m50 0h2m8 0h2m-104 1h2m16 0h2m2 0h2m8 0h2m1 0h2m0 0h2m9 0h2m-1 0h2m62 0h2m-134 1h2m-1 0h2m1 0h2m16 0h2m36 0h2m-57 1h2m15 0h2m23 0h2m-52 1h2m6 0h2m23 0h2m10 0h2m2 0h2m7 0h2m21 0h2m-83 1h2m18 0h2m-19 1h2m6 0h2m8 0h2m30 0h2m14 0h2m-67 1h2m7 0h2m4 0h2m53 0h2m0 0h2m37 0h2m3 0h2m-97 1h2m8 0h2m23 0h2m3 0h2m49 0h2m-87 1h2m14 0h2m1 0h2m73 0h2m-101 1h2m5 0h2m25 0h2m-56 1h2m4 0h2m9 0h2m41 0h2m23 1h2m26 0h2m-95 1h2m40 0h2m-54 1h2m12 0h2m2 0h2m65 0h2m5 0h2m-84 1h2m16 0h2m7 0h2m-34 1h2m91 0h2m18 0h2m-133 1h2m12 0h2m-12 1h2m72 0h2m-14 1h2m9 0h2m16 0h2m-83 1h2m8 0h2m4 0h2m30 0h2m43 0h2m-60 1h2m8 0h2m16 0h2m3 1h2m-52 1h2m8 0h2m4 0h2m59 0h2m-113 1h2m40 0h2m7 0h2m21 0h2m16 0h2m41 1h2m-115 1h2m57 0h2m15 0h2m-56 1h2m22 0h2m20 0h2m11 0h2m-96 1h2m12 0h2m14 0h2m-25 1h2m2 1h2m33 0h2m10 1h2m-58 2h2m30 0h2"/>
<path transform="scale(0.5)" fill="none" stroke="#651E68" stroke-width="2.4" d="m383 11h2m-45 9h2m-38 4h2m6 0h2m71 7h2m21 2h2m-1 1h2m-61 3h2m53 4h2m-43 1h2m33 6h2m-57 2h2m29 0h2m-1 5h2m-65 2h2m94 3h2m-95 5h2m-15 2h2m29 14h2m-10 6h2m48 3h2m-25 2h2m-62 2h2m22 5h2m-1 0h2m59 3h2m-50 1h2m-5 2h2m69 0h2m-102 1h2m52 2h2m44 0h2m-106 9h2m4 4h2m72 2h2m-61 5h2m45 1h2m-43 1h2m71 1h2m-77 1h2m45 2h2m-5 3h2m6 0h2m31 0h2m-77 1h2m34 0h2m-50 1h2m63 1h2m0 0h2m20 0h2m-70 1h2m49 0h2m-20 1h2m9 0h2m3 0h2m17 0h2m-71 1h2m30 0h2m-40 1h2m28 0h2m28 0h2m-51 1h2m1 0h2m9 0h2m20 0h2m6 0h2m-49 1h2m6 0h2m2 0h2m-43 1h2m29 0h2m-8 1h2m1 0h2m4 0h2m-13 1h2m7 0h2m34 0h2m39 0h2m-76 1h2m18 0h2m1 0h2m9 0h2m6 0h2m6 0h2m-71 1h2m-1 0h2m39 0h2m-1 0h2m59 0h2m-80 1h2m3 0h2m23 0h2m2 0h2m-38 1h2m16 0h2m2 0h2m1 0h2m4 0h2m33 0h2m-78 1h2m10 0h2m-1 0h2m12 0h2m2 0h2m22 0h2m-1 0h2m-72 1h2m21 0h2m32 0h2m0 0h2m22 0h2m33 0h2m-107 1h2m8 0h2m23 0h2m13 0h2m7 0h2m-1 0h2m-95 1h2m36 0h2m23 0h2m12 0h2m-1 0h2m3 0h2m0 0h2m10 0h2m-70 1h2m7 0h2m6 0h2m9 0h2m2 0h2m1 0h2m2 0h2m-44 1h2m3 0h2m6 0h2m5 0h2m10 0h2m20 0h2m8 0h2m12 0h2m8 0h2m-90 1h2m14 0h2m5 0h2m-1 0h2m13 0h2m7 0h2m1 0h2m5 0h2m6 0h2m-69 1h2m17 0h2m-1 0h2m4 0h2m2 0h2m11 0h2m1 0h2m0 0h2m-1 0h2m-1 0h2m0 0h2m7 0h2m2 0h2m6 0h2m-1 0h2m-88 1h2m8 0h2m21 0h2m13 0h2m-1 0h2m0 0h2m-1 0h2m12 0h2m11 0h2m7 0h2m8 0h2m-95 1h2m14 0h2m20 0h2m11 0h2m5 0h2m2 0h2m2 0h2m1 0h2m18 0h2m-56 1h2m7 0h2m-1 0h2m1 0h2m3 0h2m5 0h2m15 0h2m4 0h2m-97 1h2m2 0h2m29 0h2m8 0h2m6 0h2m-1 0h2m4 0h2m14 0h2m0 0h2m9 0h2m-86 1h2m18 0h2m3 0h2m3 0h2m12 0h2m4 0h2m0 0h2m0 0h2m11 0h2m15 0h2m-85 1h2m34 0h2m-1 0h2m3 0h2m0 0h2m3 0h2m-1 0h2m-1 0h2m-1 0h2m0 0h2m-1 0h2m28 0h2m6 0h2m0 0h2m-64 1h2m27 0h2m-1 0h2m4 0h2m2 0h2m1 0h2m25 0h2m19 0h2m-126 1h2m1 0h2m8 0h2m-1 0h2m6 0h2m18 0h2m3 0h2m1 0h2m3 0h2m1 0h2m4 0h2m6 0h2m-1 0h2m5 0h2m5 0h2m-86 1h2m10 0h2m13 0h2m-1 0h2m0 0h2m-1 0h2m-1 0h2m1 0h2m4 0h2m22 0h2m4 0h2m2 0h2m0 0h2m7 0h2m-1 0h2m2 0h2m4 0h2m8 0h2m-99 1h2m-1 0h2m9 0h2m11 0h2m-1 0h2m3 0h2m8 0h2m1 0h2m0 0h2m6 0h2m8 0h2m2 0h2m-100 1h2m21 0h2m11 0h2m7 0h2m-1 0h2m1 0h2m5 0h2m5 0h2m10 0h2m-1 0h2m1 0h2m-1 0h2m-1 0h2m0 0h2m4 0h2m13 0h2m-1 0h2m22 0h2m-135 1h2m26 0h2m9 0h2m3 0h2m-1 0h2m0 0h2m0 0h2m9 0h2m5 0h2m2 0h2m0 0h2m-1 0h2m-1 0h2m2 0h2m-1 0h2m-1 0h2m-1 0h2m3 0h2m4 0h2m3 0h2m3 0h2m11 0h2m7 0h2m-90 1h2m5 0h2m4 0h2m1 0h2m-1 0h2m-1 0h2m0 0h2m3 0h2m-1 0h2m-1 0h2m0 0h2m0 0h2m2 0h2m0 0h2m0 0h2m3 0h2m8 0h2m11 0h2m20 0h2m-99 1h2m2 0h2m9 0h2m4 0h2m0 0h2m3 0h2m0 0h2m7 0h2m5 0h2m1 0h2m4 0h2m-1 0h2m0 0h2m3 0h2m16 0h2m-1 0h2m-100 1h2m33 0h2m0 0h2m5 0h2m2 0h2m-1 0h2m1 0h2m0 0h2m1 0h2m-1 0h2m-1 0h2m0 0h2m-1 0h2m1 0h2m2 0h2m0 0h2m7 0h2m0 0h2m1 0h2m8 0h2m-92 1h2m5 0h2m9 0h2m5 0h2m2 0h2m1 0h2m-1 0h2m2 0h2m13 0h2m-1 0h2m0 0h2m1 0h2m2 0h2m4 0h2m4 0h2m4 0h2m-1 0h2m9 0h2m6 0h2m-89 1h2m-1 0h2m2 0h2m0 0h2m2 0h2m0 0h2m17 0h2m2 0h2m-1 0h2m-1 0h2m2 0h2m-1 0h2m3 0h2m4 0h2m2 0h2m1 0h2m-1 0h2m0 0h2m-1 0h2m3 0h2m4 0h2m-81 1h2m5 0h2m-1 0h2m-1 0h2m0 0h2m2 0h2m2 0h2m1 0h2m4 0h2m0 0h2m4 0h2m-1 0h2m-1 0h2m-1 0h2m0 0h2m5 0h2m10 0h2m-1 0h2m0 0h2m3 0h2m4 0h2m-1 0h2m4 0h2m0 0h2m3 0h2m10 0h2m-111 1h2m1 0h2m2 0h2m3 0h2m1 0h2m5 0h2m4 0h2m-1 0h2m4 0h2m2 0h2m4 0h2m1 0h2m0 0h2m3 0h2m5 0h2m1 0h2m7 0h2m7 0h2m5 0h2m1 0h2m6 0h2m7 0h2m0 0h2m-127 1h2m11 0h2m7 0h2m4 0h2m1 0h2m2 0h2m3 0h2m3 0h2m-1 0h2m1 0h2m-1 0h2m-1 0h2m0 0h2m5 0h2m-1 0h2m1 0h2m-1 0h2m3 0h2m3 0h2m0 0h2m2 0h2m0 0h2m1 0h2m2 0h2m0 0h2m0 0h2m15 0h2m0 0h2m0 0h2m-96 1h2m-1 0h2m-1 0h2m10 0h2m7 0h2m0 0h2m1 0h2m1 0h2m1 0h2m2 0h2m0 0h2m-1 0h2m0 0h2m3 0h2m0 0h2m-1 0h2m-1 0h2m0 0h2m4 0h2m1 0h2m-1 0h2m3 0h2m-1 0h2m8 0h2m-1 0h2m0 0h2m-1 0h2m22 0h2m-107 1h2m-1 0h2m4 0h2m4 0h2m8 0h2m-1 0h2m-1 0h2m0 0h2m-1 0h2m2 0h2m0 0h2m0 0h2m1 0h2m0 0h2m5 0h2m7 0h2m2 0h2m1 0h2m0 0h2m5 0h2m3 0h2m1 0h2m1 0h2m-1 0h2m-1 0h2m-1 0h2m0 0h2m41 0h2m-155 1h2m2 0h2m4 0h2m0 0h2m-1 0h2m2 0h2m11 0h2m-1 0h2m2 0h2m-1 0h2m-1 0h2m0 0h2m11 0h2m0 0h2m2 0h2m-1 0h2m1 0h2m-1 0h2m-1 0h2m0 0h2m6 0h2m1 0h2m0 0h2m0 0h2m-1 0h2m1 0h2m14 0h2m30 0h2m-115 1h2m8 0h2m1 0h2m-1 0h2m-1 0h2m-1 0h2m9 0h2m-1 0h2m-1 0h2m0 0h2m5 0h2m2 0h2m-1 0h2m-1 0h2m1 0h2m3 0h2m4 0h2m3 0h2m10 0h2m-1 0h2m7 0h2m4 0h2m-1 0h2m30 0h2m-133 1h2m1 0h2m2 0h2m2 0h2m0 0h2m0 0h2m8 0h2m2 0h2m-1 0h2m1 0h2m0 0h2m-1 0h2m1 0h2m0 0h2m-1 0h2m9 0h2m4 0h2m6 0h2m-1 0h2m3 0h2m2 0h2m1 0h2m6 0h2m1 0h2m10 0h2m0 0h2m-104 1h2m11 0h2m6 0h2m10 0h2m-1 0h2m2 0h2m2 0h2m0 0h2m-1 0h2m0 0h2m3 0h2m4 0h2m-1 0h2m-1 0h2m3 0h2m-1 0h2m-1 0h2m13 0h2m0 0h2m5 0h2m4 0h2m-128 1h2m27 0h2m1 0h2m1 0h2m1 0h2m3 0h2m0 0h2m4 0h2m0 0h2m0 0h2m4 0h2m1 0h2m0 0h2m0 0h2m-1 0h2m-1 0h2m-1 0h2m0 0h2m0 0h2m0 0h2m3 0h2m-1 0h2m4 0h2m0 0h2m0 0h2m-1 0h2m-1 0h2m0 0h2m4 0h2m1 0h2m6 0h2m-119 1h2m16 0h2m3 0h2m9 0h2m1 0h2m11 0h2m0 0h2m4 0h2m-1 0h2m3 0h2m6 0h2m2 0h2m0 0h2m-1 0h2m4 0h2m0 0h2m0 0h2m2 0h2m5 0h2m0 0h2m-1 0h2m2 0h2m-1 0h2m9 0h2m4 0h2m-131 1h2m-1 0h2m20 0h2m15 0h2m4 0h2m4 0h2m-1 0h2m-1 0h2m5 0h2m-1 0h2m2 0h2m0 0h2m-1 0h2m3 0h2m-1 0h2m3 0h2m4 0h2m-1 0h2m1 0h2m0 0h2m0 0h2m5 0h2m-1 0h2m11 0h2m0 0h2m9 0h2m0 0h2m8 0h2m9 0h2m-143 1h2m-1 0h2m11 0h2m2 0h2m2 0h2m-1 0h2m5 0h2m7 0h2m1 0h2m3 0h2m7 0h2m4 0h2m4 0h2m-1 0h2m1 0h2m-1 0h2m1 0h2m-1 0h2m-1 0h2m0 0h2m0 0h2m-1 0h2m2 0h2m-1 0h2m2 0h2m6 0h2m8 0h2m1 0h2m-1 0h2m2 0h2m17 0h2m-126 1h2m21 0h2m0 0h2m8 0h2m-1 0h2m0 0h2m3 0h2m-1 0h2m0 0h2m1 0h2m0 0h2m0 0h2m-1 0h2m1 0h2m-1 0h2m-1 0h2m1 0h2m3 0h2m0 0h2m0 0h2m-1 0h2m-1 0h2m-1 0h2m-1 0h2m14 0h2m0 0h2m21 0h2m2 0h2m-108 1h2m-1 0h2m5 0h2m2 0h2m1 0h2m1 0h2m2 0h2m1 0h2m-1 0h2m6 0h2m2 0h2m0 0h2m0 0h2m4 0h2m-1 0h2m2 0h2m3 0h2m0 0h2m0 0h2m2 0h2m4 0h2m2 0h2m2 0h2m4 0h2m5 0h2m-108 1h2m0 0h2m-1 0h2m0 0h2m0 0h2m16 0h2m-1 0h2m-1 0h2m0 0h2m-1 0h2m1 0h2m-1 0h2m0 0h2m1 0h2m-1 0h2m0 0h2m-1 0h2m-1 0h2m2 0h2m3 0h2m-1 0h2m-1 0h2m1 0h2m-1 0h2m0 0h2m0 0h2m3 0h2m7 0h2m-1 0h2m1 0h2m0 0h2m-1 0h2m0 0h2m10 0h2m-117 1h2m21 0h2m0 0h2m2 0h2m4 0h2m0 0h2m0 0h2m0 0h2m6 0h2m0 0h2m1 0h2m5 0h2m1 0h2m7 0h2m1 0h2m0 0h2m0 0h2m0 0h2m-1 0h2m-1 0h2m0 0h2m4 0h2m-1 0h2m-1 0h2m2 0h2m0 0h2m0 0h2m1 0h2m-1 0h2m1 0h2m-1 0h2m47 0h2m-146 1h2m11 0h2m-1 0h2m3 0h2m11 0h2m4 0h2m1 0h2m9 0h2m0 0h2m4 0h2m0 0h2m0 0h2m-1 0h2m0 0h2m0 0h2m0 0h2m1 0h2m0 0h2m0 0h2m0 0h2m3 0h2m4 0h2m2 0h2m2 0h2m-72 1h2m3 0h2m0 0h2m2 0h2m5 0h2m2 0h2m6 0h2m-1 0h2m1 0h2m-1 0h2m0 0h2m1 0h2m-1 0h2m1 0h2m-1 0h2m-1 0h2m1 0h2m-1 0h2m0 0h2m2 0h2m-1 0h2m2 0h2m-1 0h2m2 0h2m-1 0h2m2 0h2m0 0h2m1 0h2m-1 0h2m-1 0h2m0 0h2m-131 1h2m23 0h2m-1 0h2m2 0h2m23 0h2m-1 0h2m-1 0h2m2 0h2m-1 0h2m-1 0h2m-1 0h2m1 0h2m0 0h2m3 0h2m0 0h2m2 0h2m6 0h2m-1 0h2m0 0h2m4 0h2m0 0h2m2 0h2m1 0h2m7 0h2m2 0h2m2 0h2m12 0h2m-103 1h2m0 0h2m1 0h2m1 0h2m2 0h2m-1 0h2m2 0h2m0 0h2m12 0h2m1 0h2m-1 0h2m-1 0h2m-1 0h2m0 0h2m3 0h2m0 0h2m2 0h2m0 0h2m-1 0h2m-1 0h2m13 0h2m16 0h2m-92 1h2m4 0h2m-1 0h2m0 0h2m0 0h2m1 0h2m1 0h2m-1 0h2m2 0h2m-1 0h2m-1 0h2m2 0h2m-1 0h2m3 0h2m-1 0h2m2 0h2m-1 0h2m-1 0h2m-1 0h2m6 0h2m-1 0h2m0 0h2m0 0h2m1 0h2m-1 0h2m0 0h2m-1 0h2m2 0h2m0 0h2m1 0h2m1 0h2m0 0h2m0 0h2m-105 1h2m10 0h2m11 0h2m1 0h2m7 0h2m1 0h2m0 0h2m0 0h2m7 0h2m6 0h2m4 0h2m-1 0h2m0 0h2m1 0h2m-1 0h2m0 0h2m0 0h2m3 0h2m-1 0h2m4 0h2m0 0h2m0 0h2m0 0h2m13 0h2m-1 0h2m2 0h2m-1 0h2m20 0h2m-127 1h2m4 0h2m15 0h2m-1 0h2m-1 0h2m0 0h2m0 0h2m2 0h2m-1 0h2m0 0h2m-1 0h2m-1 0h2m2 0h2m1 0h2m4 0h2m0 0h2m-1 0h2m-1 0h2m-1 0h2m2 0h2m-1 0h2m-1 0h2m-1 0h2m0 0h2m4 0h2m2 0h2m-1 0h2m7 0h2m1 0h2m7 0h2m1 0h2m2 0h2m1 0h2m2 0h2m-131 1h2m11 0h2m0 0h2m4 0h2m12 0h2m2 0h2m1 0h2m2 0h2m5 0h2m6 0h2m4 0h2m-1 0h2m-1 0h2m1 0h2m0 0h2m-1 0h2m1 0h2m1 0h2m0 0h2m-1 0h2m0 0h2m4 0h2m-1 0h2m-1 0h2m-1 0h2m2 0h2m-1 0h2m2 0h2m1 0h2m2 0h2m0 0h2m1 0h2m18 0h2m-140 1h2m17 0h2m29 0h2m0 0h2m-1 0h2m1 0h2m-1 0h2m-1 0h2m1 0h2m-1 0h2m1 0h2m5 0h2m0 0h2m6 0h2m3 0h2m1 0h2m1 0h2m0 0h2m0 0h2m3 0h2m-1 0h2m-1 0h2m3 0h2m2 0h2m22 0h2m-124 1h2m2 0h2m10 0h2m3 0h2m3 0h2m4 0h2m1 0h2m1 0h2m2 0h2m-1 0h2m0 0h2m0 0h2m1 0h2m-1 0h2m0 0h2m1 0h2m-1 0h2m0 0h2m0 0h2m0 0h2m1 0h2m0 0h2m-1 0h2m5 0h2m4 0h2m1 0h2m12 0h2m-117 1h2m16 0h2m10 0h2m4 0h2m3 0h2m-1 0h2m6 0h2m-1 0h2m5 0h2m5 0h2m1 0h2m5 0h2m-1 0h2m-1 0h2m-1 0h2m0 0h2m3 0h2m0 0h2m0 0h2m-1 0h2m4 0h2m-1 0h2m-1 0h2m-1 0h2m-1 0h2m-1 0h2m-1 0h2m0 0h2m2 0h2m3 0h2m4 0h2m5 0h2m4 0h2m16 0h2m-132 1h2m9 0h2m1 0h2m-1 0h2m0 0h2m0 0h2m4 0h2m2 0h2m1 0h2m-1 0h2m1 0h2m0 0h2m-1 0h2m-1 0h2m-1 0h2m-1 0h2m0 0h2m-1 0h2m0 0h2m6 0h2m-1 0h2m0 0h2m1 0h2m-1 0h2m-1 0h2m3 0h2m-1 0h2m0 0h2m-1 0h2m1 0h2m-1 0h2m-1 0h2m-1 0h2m1 0h2m2 0h2m10 0h2m-101 1h2m10 0h2m18 0h2m-1 0h2m4 0h2m4 0h2m3 0h2m2 0h2m8 0h2m7 0h2m1 0h2m-1 0h2m1 0h2m1 0h2m1 0h2"/>
<path transform="scale(0.5)" fill="none" stroke="#A64F9A" stroke-width="2.4" d="m338 76h2m15 3h2m13 1h2m-5 2h2m-27 1h2m31 0h2m2 0h2m-96 1h2m77 1h2m-55 4h2m26 0h2m-47 1h2m12 0h2m31 0h2m16 0h2m-31 2h2m-45 1h2m26 0h2m-9 3h2m10 0h2m-25 1h2m48 0h2m-30 1h2m0 0h2m-22 1h2m2 0h2m71 0h2m-91 1h2m16 0h2m25 0h2m5 0h2m11 0h2m-37 1h2m26 0h2m-44 2h2m3 0h2m33 0h2m36 0h2m-93 1h2m16 0h2m-2 1h2m18 0h2m5 1h2m2 0h2m-37 1h2m27 0h2m-49 1h2m28 0h2m4 0h2m0 0h2m14 0h2m-48 1h2m14 0h2m2 0h2m63 0h2m-76 1h2m9 0h2m30 0h2m2 0h2m-66 1h2m16 0h2m28 0h2m-48 1h2m-1 0h2m16 0h2m11 0h2m5 0h2m19 0h2m20 0h2m20 0h2m-96 1h2m-1 0h2m12 0h2m-1 0h2m-35 1h2m53 0h2m-34 1h2m7 0h2m45 0h2m49 0h2m-128 1h2m30 0h2m36 0h2m6 0h2m-79 1h2m4 0h2m-1 0h2m14 0h2m5 0h2m40 0h2m1 0h2m-80 1h2m1 0h2m3 0h2m0 0h2m1 0h2m4 0h2m1 0h2m13 0h2m1 0h2m18 0h2m4 0h2m-1 0h2m-71 1h2m20 0h2m3 0h2m15 0h2m13 0h2m14 0h2m8 0h2m39 0h2m-126 1h2m5 0h2m5 0h2m7 0h2m14 0h2m3 0h2m8 0h2m1 0h2m-52 1h2m14 0h2m16 0h2m1 0h2m1 0h2m4 0h2m12 0h2m15 0h2m5 0h2m-91 1h2m7 0h2m5 0h2m13 0h2m29 0h2m-1 0h2m1 0h2m-1 0h2m3 0h2m8 0h2m-88 1h2m26 0h2m1 0h2m6 0h2m-1 0h2m2 0h2m9 0h2m8 0h2m-1 0h2m1 0h2m0 0h2m17 0h2m10 0h2m0 0h2m-1 0h2m0 0h2m-87 1h2m0 0h2m0 0h2m0 0h2m1 0h2m9 0h2m0 0h2m9 0h2m27 0h2m27 0h2m3 0h2m-109 1h2m3 0h2m-1 0h2m3 0h2m10 0h2m-1 0h2m4 0h2m29 0h2m7 0h2m2 0h2m-78 1h2m-1 0h2m-1 0h2m6 0h2m0 0h2m7 0h2m-1 0h2m0 0h2m3 0h2m1 0h2m-1 0h2m2 0h2m1 0h2m8 0h2m4 0h2m0 0h2m14 0h2m5 0h2m-92 1h2m7 0h2m-1 0h2m1 0h2m8 0h2m8 0h2m3 0h2m2 0h2m5 0h2m14 0h2m3 0h2m23 0h2m16 0h2m21 0h2m-123 1h2m-1 0h2m7 0h2m6 0h2m3 0h2m15 0h2m14 0h2m7 0h2m6 0h2m6 0h2m-97 1h2m5 0h2m0 0h2m1 0h2m2 0h2m0 0h2m2 0h2m-1 0h2m-1 0h2m-1 0h2m3 0h2m2 0h2m7 0h2m2 0h2m2 0h2m-1 0h2m7 0h2m4 0h2m1 0h2m-73 1h2m8 0h2m5 0h2m1 0h2m8 0h2m10 0h2m6 0h2m0 0h2m2 0h2m23 0h2m-77 1h2m26 0h2m2 0h2m12 0h2m2 0h2m4 0h2m-62 1h2m2 0h2m3 0h2m5 0h2m1 0h2m-1 0h2m2 0h2m2 0h2m1 0h2m-1 0h2m2 0h2m2 0h2m0 0h2m1 0h2m4 0h2m-1 0h2m5 0h2m0 0h2m6 0h2m5 0h2m4 0h2m-1 0h2m3 0h2m2 0h2m-88 1h2m0 0h2m5 0h2m-1 0h2m5 0h2m3 0h2m2 0h2m-1 0h2m0 0h2m6 0h2m-1 0h2m2 0h2m16 0h2m14 0h2m0 0h2m1 0h2m2 0h2m-95 1h2m3 0h2m0 0h2m2 0h2m14 0h2m-1 0h2m0 0h2m3 0h2m1 0h2m3 0h2m2 0h2m-1 0h2m2 0h2m0 0h2m-1 0h2m3 0h2m-1 0h2m0 0h2m1 0h2m2 0h2m5 0h2m28 0h2m1 0h2m-106 1h2m3 0h2m0 0h2m0 0h2m11 0h2m8 0h2m-1 0h2m2 0h2m4 0h2m1 0h2m8 0h2m1 0h2m3 0h2m5 0h2m-1 0h2m6 0h2m-1 0h2m2 0h2m20 0h2m18 0h2m-133 1h2m-1 0h2m7 0h2m-1 0h2m4 0h2m-1 0h2m7 0h2m1 0h2m-1 0h2m0 0h2m0 0h2m-1 0h2m0 0h2m1 0h2m3 0h2m1 0h2m-1 0h2m9 0h2m7 0h2m5 0h2m4 0h2m2 0h2m-83 1h2m4 0h2m-1 0h2m7 0h2m6 0h2m-1 0h2m0 0h2m-1 0h2m2 0h2m0 0h2m-1 0h2m-1 0h2m0 0h2m3 0h2m0 0h2m-1 0h2m0 0h2m0 0h2m0 0h2m12 0h2m-1 0h2m2 0h2m2 0h2m-1 0h2m2 0h2m-80 1h2m-1 0h2m7 0h2m6 0h2m6 0h2m3 0h2m1 0h2m2 0h2m3 0h2m6 0h2m3 0h2m0 0h2m3 0h2m3 0h2m5 0h2m4 0h2m-91 1h2m1 0h2m10 0h2m-1 0h2m0 0h2m1 0h2m5 0h2m1 0h2m3 0h2m0 0h2m0 0h2m6 0h2m-1 0h2m4 0h2m13 0h2m-1 0h2m1 0h2m-1 0h2m13 0h2m1 0h2m3 0h2m-99 1h2m-1 0h2m6 0h2m12 0h2m1 0h2m4 0h2m0 0h2m1 0h2m6 0h2m1 0h2m1 0h2m1 0h2m2 0h2m0 0h2m0 0h2m0 0h2m9 0h2m3 0h2m14 0h2m7 0h2m-109 1h2m2 0h2m5 0h2m0 0h2m3 0h2m6 0h2m3 0h2m-1 0h2m-1 0h2m-1 0h2m2 0h2m0 0h2m-1 0h2m1 0h2m0 0h2m0 0h2m4 0h2m6 0h2m0 0h2m11 0h2m-1 0h2m-1 0h2m2 0h2m-1 0h2m6 0h2m4 0h2m-1 0h2m-101 1h2m0 0h2m-1 0h2m2 0h2m-1 0h2m3 0h2m0 0h2m4 0h2m8 0h2m1 0h2m4 0h2m0 0h2m0 0h2m0 0h2m-1 0h2m4 0h2m-1 0h2m-1 0h2m22 0h2m2 0h2m9 0h2m-97 1h2m5 0h2m-1 0h2m-1 0h2m1 0h2m1 0h2m5 0h2m8 0h2m1 0h2m0 0h2m0 0h2m0 0h2m0 0h2m2 0h2m5 0h2m0 0h2m3 0h2m3 0h2m0 0h2m-1 0h2m4 0h2m0 0h2m1 0h2m6 0h2m2 0h2m18 0h2m-114 1h2m4 0h2m-1 0h2m6 0h2m11 0h2m5 0h2m7 0h2m-1 0h2m1 0h2m3 0h2m0 0h2m-1 0h2m0 0h2m9 0h2m3 0h2m-1 0h2m3 0h2m-82 1h2m2 0h2m1 0h2m0 0h2m1 0h2m0 0h2m0 0h2m0 0h2m4 0h2m-1 0h2m3 0h2m1 0h2m-1 0h2m1 0h2m0 0h2m-1 0h2m4 0h2m9 0h2m10 0h2m2 0h2m1 0h2m6 0h2m1 0h2m12 0h2m36 0h2m-138 1h2m2 0h2m1 0h2m4 0h2m2 0h2m4 0h2m-1 0h2m-1 0h2m-1 0h2m-1 0h2m0 0h2m-1 0h2m0 0h2m-1 0h2m3 0h2m2 0h2m-1 0h2m0 0h2m2 0h2m1 0h2m17 0h2m1 0h2m1 0h2m31 0h2m-112 1h2m-1 0h2m0 0h2m2 0h2m-1 0h2m-1 0h2m1 0h2m1 0h2m-1 0h2m7 0h2m1 0h2m1 0h2m2 0h2m-1 0h2m6 0h2m-1 0h2m-1 0h2m0 0h2m4 0h2m4 0h2m3 0h2m5 0h2m3 0h2m8 0h2m-1 0h2m-93 1h2m0 0h2m2 0h2m-1 0h2m0 0h2m1 0h2m-1 0h2m4 0h2m-1 0h2m1 0h2m0 0h2m0 0h2m1 0h2m-1 0h2m-1 0h2m1 0h2m0 0h2m1 0h2m6 0h2m2 0h2m1 0h2m0 0h2m6 0h2m0 0h2m3 0h2m5 0h2m1 0h2m-1 0h2m6 0h2m-93 1h2m4 0h2m0 0h2m3 0h2m4 0h2m4 0h2m2 0h2m-1 0h2m4 0h2m-1 0h2m11 0h2m-1 0h2m0 0h2m0 0h2m-1 0h2m-1 0h2m5 0h2m0 0h2m4 0h2m-1 0h2m3 0h2m6 0h2m0 0h2m7 0h2m-1 0h2m6 0h2m5 0h2m-114 1h2m-1 0h2m-1 0h2m3 0h2m5 0h2m1 0h2m-1 0h2m3 0h2m-1 0h2m1 0h2m8 0h2m1 0h2m1 0h2m2 0h2m-1 0h2m5 0h2m5 0h2m1 0h2m3 0h2m5 0h2m-1 0h2m1 0h2m6 0h2m-90 1h2m4 0h2m2 0h2m-1 0h2m1 0h2m4 0h2m-1 0h2m1 0h2m-1 0h2m4 0h2m8 0h2m-1 0h2m0 0h2m0 0h2m-1 0h2m-1 0h2m-1 0h2m2 0h2m1 0h2m13 0h2m1 0h2m0 0h2m3 0h2m1 0h2m5 0h2m-90 1h2m-1 0h2m-1 0h2m-1 0h2m-1 0h2m0 0h2m0 0h2m2 0h2m-1 0h2m7 0h2m0 0h2m3 0h2m-1 0h2m0 0h2m-1 0h2m-1 0h2m-1 0h2m-1 0h2m-1 0h2m-1 0h2m2 0h2m-1 0h2m1 0h2m4 0h2m-1 0h2m6 0h2m-1 0h2m-1 0h2m1 0h2m1 0h2m-1 0h2m0 0h2m0 0h2m1 0h2m0 0h2m5 0h2m-86 1h2m-1 0h2m3 0h2m6 0h2m7 0h2m-1 0h2m-1 0h2m1 0h2m0 0h2m-1 0h2m5 0h2m-1 0h2m0 0h2m1 0h2m1 0h2m0 0h2m1 0h2m1 0h2m2 0h2m-1 0h2m3 0h2m1 0h2m0 0h2m-1 0h2m0 0h2m6 0h2m1 0h2m-1 0h2m2 0h2m3 0h2m-101 1h2m0 0h2m-1 0h2m4 0h2m-1 0h2m0 0h2m-1 0h2m0 0h2m-1 0h2m-1 0h2m1 0h2m0 0h2m-1 0h2m0 0h2m-1 0h2m1 0h2m-1 0h2m1 0h2m1 0h2m3 0h2m0 0h2m1 0h2m-1 0h2m1 0h2m3 0h2m-1 0h2m1 0h2m3 0h2m-1 0h2m-1 0h2m-1 0h2m5 0h2m0 0h2m14 0h2m-96 1h2m-1 0h2m0 0h2m0 0h2m6 0h2m0 0h2m2 0h2m0 0h2m0 0h2m-1 0h2m-1 0h2m2 0h2m-1 0h2m1 0h2m3 0h2m2 0h2m6 0h2m0 0h2m2 0h2m0 0h2m-1 0h2m-1 0h2m4 0h2m-1 0h2m-1 0h2m-1 0h2m19 0h2m0 0h2m32 0h2m-115 1h2m2 0h2m0 0h2m-1 0h2m6 0h2m0 0h2m3 0h2m1 0h2m1 0h2m-1 0h2m-1 0h2m4 0h2m2 0h2m0 0h2m-1 0h2m7 0h2m8 0h2m2 0h2m1 0h2m9 0h2m0 0h2m1 0h2m1 0h2m4 0h2m-98 1h2m5 0h2m4 0h2m-1 0h2m-1 0h2m0 0h2m-1 0h2m-1 0h2m0 0h2m3 0h2m1 0h2m2 0h2m1 0h2m-1 0h2m0 0h2m1 0h2m-1 0h2m16 0h2m1 0h2m0 0h2m10 0h2m-91 1h2m0 0h2m-1 0h2m-1 0h2m-1 0h2m0 0h2m1 0h2m-1 0h2m0 0h2m0 0h2m0 0h2m4 0h2m0 0h2m-1 0h2m0 0h2m0 0h2m3 0h2m1 0h2m0 0h2m7 0h2m2 0h2m3 0h2m-1 0h2m0 0h2m0 0h2m0 0h2m0 0h2m-1 0h2m2 0h2m-1 0h2m1 0h2m0 0h2m4 0h2m1 0h2m14 0h2m-104 1h2m0 0h2m2 0h2m4 0h2m1 0h2m0 0h2m-1 0h2m0 0h2m-1 0h2m-1 0h2m0 0h2m2 0h2m1 0h2m1 0h2m-1 0h2m3 0h2m-1 0h2m0 0h2m1 0h2m4 0h2m10 0h2m9 0h2m3 0h2m-1 0h2m10 0h2m8 0h2m9 0h2m0 0h2m-104 1h2m-1 0h2m1 0h2m-1 0h2m1 0h2m0 0h2m-1 0h2m-1 0h2m0 0h2m-1 0h2m2 0h2m-1 0h2m-1 0h2m3 0h2m0 0h2m0 0h2m-1 0h2m0 0h2m0 0h2m-1 0h2m-1 0h2m-1 0h2m6 0h2m1 0h2m14 0h2m-1 0h2m-1 0h2m3 0h2m6 0h2m2 0h2m11 0h2m-114 1h2m-1 0h2m-1 0h2m-1 0h2m8 0h2m4 0h2m0 0h2m1 0h2m-1 0h2m-1 0h2m1 0h2m0 0h2m1 0h2m-1 0h2m0 0h2m-1 0h2m-1 0h2m0 0h2m-1 0h2m-1 0h2m4 0h2m-1 0h2m-1 0h2m-1 0h2m0 0h2m-1 0h2m3 0h2m0 0h2m1 0h2m-1 0h2m1 0h2m-1 0h2m0 0h2m3 0h2m0 0h2m16 0h2m-97 1h2m2 0h2m-1 0h2m1 0h2m-1 0h2m4 0h2m-1 0h2m0 0h2m0 0h2m0 0h2m0 0h2m1 0h2m0 0h2m-1 0h2m0 0h2m3 0h2m2 0h2m1 0h2m-1 0h2m0 0h2m3 0h2m-1 0h2m2 0h2m1 0h2m0 0h2m1 0h2m2 0h2m6 0h2m1 0h2m12 0h2m0 0h2m0 0h2m-99 1h2m-1 0h2m2 0h2m0 0h2m1 0h2m-1 0h2m1 0h2m-1 0h2m0 0h2m8 0h2m1 0h2m1 0h2m1 0h2m2 0h2m-1 0h2m-1 0h2m-1 0h2m0 0h2m0 0h2m0 0h2m3 0h2m-1 0h2m4 0h2m3 0h2m7 0h2m0 0h2m24 0h2m-106 1h2m0 0h2m-1 0h2m2 0h2m0 0h2m2 0h2m-1 0h2m-1 0h2m2 0h2m1 0h2m-1 0h2m1 0h2m-1 0h2m2 0h2m0 0h2m-1 0h2m-1 0h2m0 0h2m-1 0h2m-1 0h2m0 0h2m-1 0h2m0 0h2m-1 0h2m0 0h2m0 0h2m3 0h2m2 0h2m0 0h2m-1 0h2m0 0h2m0 0h2m0 0h2m16 0h2m18 0h2m-109 1h2m2 0h2m-1 0h2m1 0h2m-1 0h2m0 0h2m-1 0h2m-1 0h2m-1 0h2m2 0h2m0 0h2m2 0h2m-1 0h2m0 0h2m-1 0h2m-1 0h2m-1 0h2m2 0h2m1 0h2m-1 0h2m-1 0h2m1 0h2m-1 0h2m-1 0h2m1 0h2m0 0h2m2 0h2m0 0h2m0 0h2m1 0h2m-1 0h2m-1 0h2m0 0h2m4 0h2m0 0h2m1 0h2m2 0h2m0 0h2m-82 1h2m2 0h2m1 0h2m2 0h2m-1 0h2m8 0h2m3 0h2m0 0h2m0 0h2m1 0h2m3 0h2m-1 0h2m-1 0h2m1 0h2m2 0h2m0 0h2m-1 0h2m-1 0h2m-1 0h2m3 0h2m-1 0h2m5 0h2m-1 0h2m1 0h2m-1 0h2m12 0h2m3 0h2m8 0h2m3 0h2m-108 1h2m1 0h2m2 0h2m0 0h2m0 0h2m-1 0h2m1 0h2m1 0h2m0 0h2m0 0h2m0 0h2m4 0h2m2 0h2m-1 0h2m0 0h2m-1 0h2m-1 0h2m0 0h2m1 0h2m0 0h2m-1 0h2m4 0h2m0 0h2m0 0h2m-1 0h2m1 0h2m-1 0h2m-1 0h2m7 0h2m-1 0h2m0 0h2m-1 0h2m3 0h2m1 0h2m-1 0h2m1 0h2m8 0h2m-1 0h2m-100 1h2m5 0h2m-1 0h2m1 0h2m0 0h2m4 0h2m2 0h2m-1 0h2m0 0h2m3 0h2m2 0h2m0 0h2m-1 0h2m-1 0h2m-1 0h2m7 0h2m-1 0h2m-1 0h2m1 0h2m11 0h2m-1 0h2m2 0h2m1 0h2m0 0h2m1 0h2m10 0h2m-1 0h2m-1 0h2m5 0h2m5 0h2m-106 1h2m0 0h2m-1 0h2m0 0h2m4 0h2m-1 0h2m2 0h2m1 0h2m1 0h2m2 0h2m1 0h2m-1 0h2m-1 0h2m1 0h2m-1 0h2m-1 0h2m0 0h2m0 0h2m2 0h2m-1 0h2m-1 0h2m2 0h2m-1 0h2m0 0h2m2 0h2m1 0h2m-1 0h2m1 0h2m2 0h2m3 0h2m1 0h2m3 0h2m1 0h2m0 0h2m0 0h2m11 0h2m-107 1h2m0 0h2m1 0h2m5 0h2m1 0h2m-1 0h2m0 0h2m3 0h2m1 0h2m0 0h2m-1 0h2m0 0h2m-1 0h2m-1 0h2m-1 0h2m0 0h2m2 0h2m0 0h2m2 0h2m0 0h2m0 0h2m4 0h2m-1 0h2m-1 0h2m2 0h2m-1 0h2m1 0h2m6 0h2m-1 0h2m21 0h2m6 0h2m0 0h2m0 0h2m1 0h2m-112 1h2m-1 0h2m4 0h2m0 0h2m1 0h2m-1 0h2m2 0h2m-1 0h2m-1 0h2m0 0h2m0 0h2m-1 0h2m6 0h2m0 0h2m1 0h2m-1 0h2m-1 0h2m0 0h2m1 0h2m5 0h2m1 0h2m2 0h2m-1 0h2m0 0h2m3 0h2m9 0h2m-1 0h2m0 0h2m-1 0h2m2 0h2m5 0h2m7 0h2m7 0h2m0 0h2m-115 1h2m1 0h2m-1 0h2m1 0h2m3 0h2m0 0h2m0 0h2m-1 0h2m0 0h2m-1 0h2m-1 0h2m0 0h2m0 0h2m2 0h2m-1 0h2m2 0h2m-1 0h2m1 0h2m-1 0h2m1 0h2m1 0h2m2 0h2m-1 0h2m-1 0h2m2 0h2m0 0h2m-1 0h2m-1 0h2m-1 0h2m0 0h2m-1 0h2m-1 0h2m2 0h2m4 0h2m0 0h2m2 0h2m7 0h2m6 0h2m8 0h2m-111 1h2m-1 0h2m0 0h2m1 0h2m2 0h2m-1 0h2m1 0h2m4 0h2m1 0h2m0 0h2m-1 0h2m2 0h2m0 0h2m0 0h2m2 0h2m-1 0h2m-1 0h2m-1 0h2m3 0h2m-1 0h2m0 0h2m4 0h2m1 0h2m2 0h2m-1 0h2m-1 0h2m-1 0h2m0 0h2m-1 0h2m-1 0h2m1 0h2m1 0h2m13 0h2m4 0h2m11 0h2m-112 1h2m4 0h2m1 0h2m-1 0h2m0 0h2m0 0h2m0 0h2m-1 0h2m1 0h2m-1 0h2m4 0h2m2 0h2m4 0h2m3 0h2m0 0h2m-1 0h2m-1 0h2m1 0h2m-1 0h2m1 0h2m0 0h2m-1 0h2m-1 0h2m-1 0h2m-1 0h2m0 0h2m3 0h2m-1 0h2m-1 0h2m-1 0h2m0 0h2m-1 0h2m6 0h2m5 0h2m-84 1h2m3 0h2m1 0h2m0 0h2m1 0h2m0 0h2m0 0h2m0 0h2m5 0h2m0 0h2m1 0h2m-1 0h2m-1 0h2m0 0h2m-1 0h2m0 0h2m-1 0h2m-1 0h2m1 0h2m1 0h2m2 0h2m1 0h2m3 0h2m-1 0h2m-1 0h2m0 0h2m0 0h2m0 0h2m1 0h2m0 0h2m-1 0h2m3 0h2m-1 0h2m3 0h2m-1 0h2m3 0h2m1 0h2m15 0h2m-114 1h2m1 0h2m0 0h2m-1 0h2m-1 0h2m1 0h2m-1 0h2m3 0h2m0 0h2m0 0h2m-1 0h2m-1 0h2m-1 0h2m0 0h2m1 0h2m-1 0h2m0 0h2m-1 0h2m0 0h2m-1 0h2m-1 0h2m-1 0h2m2 0h2m0 0h2m-1 0h2m-1 0h2m4 0h2m0 0h2m1 0h2m1 0h2m6 0h2m-1 0h2m9 0h2m-1 0h2m9 0h2m0 0h2m1 0h2m11 0h2m-111 1h2m0 0h2m5 0h2m0 0h2m0 0h2m3 0h2m-1 0h2m-1 0h2m2 0h2m-1 0h2m4 0h2m0 0h2m1 0h2m-1 0h2m-1 0h2m0 0h2m0 0h2m-1 0h2m0 0h2m3 0h2m5 0h2m0 0h2m6 0h2m-1 0h2m19 0h2m-1 0h2m20 0h2m-113 1h2m5 0h2m-1 0h2m0 0h2m0 0h2m4 0h2m-1 0h2m-1 0h2m3 0h2m0 0h2m-1 0h2m1 0h2m1 0h2m0 0h2m2 0h2m0 0h2m-1 0h2m0 0h2m-1 0h2m1 0h2m0 0h2m2 0h2m0 0h2m8 0h2m-1 0h2m5 0h2m5 0h2m13 0h2m0 0h2m9 0h2m-115 1h2m2 0h2m1 0h2m-1 0h2m4 0h2m1 0h2m-1 0h2m3 0h2m2 0h2m-1 0h2m1 0h2m1 0h2m4 0h2m0 0h2m2 0h2m1 0h2m-1 0h2m1 0h2m1 0h2m1 0h2m-1 0h2m1 0h2m3 0h2m-1 0h2m-1 0h2m1 0h2m12 0h2m3 0h2m27 0h2m-1 0h2m-122 1h2m-1 0h2m6 0h2m2 0h2m-1 0h2m3 0h2m-1 0h2m-1 0h2m1 0h2m-1 0h2m-1 0h2m2 0h2m-1 0h2m1 0h2m0 0h2m8 0h2m-1 0h2m0 0h2m1 0h2m0 0h2m2 0h2m4 0h2m6 0h2m-1 0h2m-1 0h2m-1 0h2m0 0h2m1 0h2m-1 0h2m11 0h2m10 0h2m1 0h2m8 0h2m-123 1h2m2 0h2m-1 0h2m3 0h2m1 0h2m0 0h2m-1 0h2m1 0h2m1 0h2m4 0h2m-1 0h2m-1 0h2m1 0h2m2 0h2m1 0h2m-1 0h2m-1 0h2m-1 0h2m2 0h2m0 0h2m-1 0h2m0 0h2m0 0h2m0 0h2m0 0h2m-1 0h2m-1 0h2m0 0h2m-1 0h2m-1 0h2m0 0h2m0 0h2m2 0h2m3 0h2m0 0h2m3 0h2m-86 1h2m0 0h2m1 0h2m1 0h2m1 0h2m-1 0h2m-1 0h2m1 0h2m0 0h2m-1 0h2m1 0h2m-1 0h2m0 0h2m3 0h2m-1 0h2m1 0h2m0 0h2m-1 0h2m1 0h2m0 0h2m2 0h2m-1 0h2m-1 0h2m-1 0h2m-1 0h2m-1 0h2m1 0h2m1 0h2m-1 0h2m4 0h2m0 0h2m8 0h2m-1 0h2m1 0h2m-1 0h2m-1 0h2m3 0h2m4 0h2m0 0h2m2 0h2m2 0h2m11 0h2m-118 1h2m1 0h2m2 0h2m7 0h2m-1 0h2m2 0h2m0 0h2m0 0h2m-1 0h2m1 0h2m-1 0h2m1 0h2m0 0h2m0 0h2m-1 0h2m0 0h2m-1 0h2m-1 0h2m0 0h2m1 0h2m0 0h2m-1 0h2m0 0h2m-1 0h2m-1 0h2m-1 0h2m-1 0h2m2 0h2m0 0h2m-1 0h2m0 0h2m5 0h2m1 0h2m2 0h2m15 0h2m-1 0h2m1 0h2m-95 1h2m0 0h2m-1 0h2m-1 0h2m-1 0h2m6 0h2m-1 0h2m6 0h2m0 0h2m2 0h2m-1 0h2m2 0h2m1 0h2m-1 0h2m0 0h2m0 0h2m-1 0h2m-1 0h2m0 0h2m-1 0h2m-1 0h2m-1 0h2m0 0h2m-1 0h2m3 0h2m3 0h2m-1 0h2m-1 0h2m2 0h2m1 0h2m0 0h2m4 0h2m0 0h2m0 0h2m0 0h2m0 0h2m-1 0h2m22 0h2m-118 1h2m2 0h2m0 0h2m-1 0h2m-1 0h2m2 0h2m-1 0h2m-1 0h2m-1 0h2m-1 0h2m3 0h2m-1 0h2m-1 0h2m0 0h2m0 0h2m0 0h2m-1 0h2m-1 0h2m0 0h2m0 0h2m1 0h2m-1 0h2m0 0h2m-1 0h2m-1 0h2m-1 0h2m-1 0h2m0 0h2m-1 0h2m-1 0h2m-1 0h2m7 0h2m1 0h2m0 0h2m0 0h2m0 0h2m-1 0h2m3 0h2m7 0h2m2 0h2m-1 0h2m-89 1h2m-1 0h2m-1 0h2m-1 0h2m4 0h2m-1 0h2m-1 0h2m1 0h2m0 0h2m1 0h2m5 0h2m-1 0h2m0 0h2m-1 0h2m1 0h2m0 0h2m2 0h2m1 0h2m-1 0h2m-1 0h2m1 0h2m3 0h2m3 0h2m-1 0h2m0 0h2m-1 0h2m1 0h2m3 0h2m-1 0h2m3 0h2m4 0h2m0 0h2m-1 0h2m4 0h2m8 0h2m17 0h2m-123 1h2m-1 0h2m-1 0h2m-1 0h2m0 0h2m-1 0h2m0 0h2m1 0h2m1 0h2m1 0h2m0 0h2m2 0h2m5 0h2m-1 0h2m0 0h2m0 0h2m-1 0h2m0 0h2m-1 0h2m1 0h2m0 0h2m0 0h2m-1 0h2m0 0h2m0 0h2m0 0h2m5 0h2m-1 0h2m0 0h2m2 0h2m-1 0h2m-1 0h2m-1 0h2m1 0h2m4 0h2m3 0h2m-86 1h2m0 0h2m2 0h2m1 0h2m0 0h2m5 0h2m-1 0h2m-1 0h2m-1 0h2m0 0h2m-1 0h2m-1 0h2m1 0h2m1 0h2m0 0h2m-1 0h2m-1 0h2m1 0h2m-1 0h2m2 0h2m3 0h2m0 0h2m0 0h2m3 0h2m3 0h2m-1 0h2m-1 0h2m-1 0h2m2 0h2m-1 0h2m-1 0h2m-1 0h2m0 0h2m2 0h2m6 0h2m-1 0h2m1 0h2m3 0h2m-95 1h2m-1 0h2m-1 0h2m0 0h2m6 0h2m-1 0h2m0 0h2m5 0h2m0 0h2m2 0h2m-1 0h2m-1 0h2m0 0h2m-1 0h2m-1 0h2m2 0h2m-1 0h2m-1 0h2m-1 0h2m-1 0h2m3 0h2m-1 0h2m0 0h2m0 0h2m-1 0h2m-1 0h2m1 0h2m0 0h2m-1 0h2m7 0h2m1 0h2m4 0h2m0 0h2m3 0h2m-89 1h2m6 0h2m0 0h2m-1 0h2m2 0h2m-1 0h2m-1 0h2m1 0h2m-1 0h2m-1 0h2m1 0h2m2 0h2m1 0h2m0 0h2m2 0h2m0 0h2m-1 0h2m1 0h2m-1 0h2m5 0h2m0 0h2m-1 0h2m2 0h2m1 0h2m0 0h2m-1 0h2m0 0h2m2 0h2m0 0h2m11 0h2m4 0h2m10 0h2m24 0h2m-131 1h2m-1 0h2m0 0h2m-1 0h2m-1 0h2m-1 0h2m-1 0h2m0 0h2m0 0h2m-1 0h2m2 0h2m0 0h2m0 0h2m-1 0h2m3 0h2m-1 0h2m1 0h2m-1 0h2m-1 0h2m1 0h2m-1 0h2m0 0h2m0 0h2m3 0h2m2 0h2m-1 0h2m-1 0h2m-1 0h2m6 0h2m6 0h2m-1 0h2m1 0h2m0 0h2m1 0h2m2 0h2m4 0h2m0 0h2m1 0h2m-96 1h2m3 0h2m-1 0h2m-1 0h2m0 0h2m2 0h2m0 0h2m-1 0h2m-1 0h2m0 0h2m-1 0h2m5 0h2m0 0h2m0 0h2m-1 0h2m-1 0h2m2 0h2m0 0h2m1 0h2m2 0h2m-1 0h2m-1 0h2m-1 0h2m4 0h2m0 0h2m-1 0h2m-1 0h2m4 0h2m-1 0h2m2 0h2m-1 0h2m3 0h2m2 0h2m-1 0h2m14 0h2m-99 1h2m2 0h2m1 0h2m-1 0h2m-1 0h2m-1 0h2m1 0h2m-1 0h2m-1 0h2m-1 0h2m2 0h2m3 0h2m1 0h2m2 0h2m1 0h2m-1 0h2m-1 0h2m-1 0h2m-1 0h2m-1 0h2m-1 0h2m-1 0h2m1 0h2m-1 0h2m-1 0h2m-1 0h2m0 0h2m-1 0h2m0 0h2m-1 0h2m0 0h2m1 0h2m-1 0h2m-1 0h2m-1 0h2m-1 0h2m2 0h2m-1 0h2m-1 0h2m0 0h2m1 0h2m13 0h2m0 0h2m1 0h2m3 0h2m5 0h2m-106 1h2m1 0h2m0 0h2m0 0h2m1 0h2m9 0h2m0 0h2m0 0h2m-1 0h2m-1 0h2m-1 0h2m-1 0h2m-1 0h2m0 0h2m-1 0h2m0 0h2m-1 0h2m-1 0h2m1 0h2m-1 0h2m0 0h2m2 0h2m0 0h2m0 0h2m-1 0h2m1 0h2m0 0h2m0 0h2m-1 0h2m-1 0h2m2 0h2m-1 0h2m4 0h2m4 0h2m3 0h2m-1 0h2m7 0h2m4 0h2m-103 1h2m-1 0h2m2 0h2m-1 0h2m2 0h2m0 0h2m0 0h2m-1 0h2m-1 0h2m1 0h2m2 0h2m1 0h2m-1 0h2m1 0h2m-1 0h2m2 0h2m5 0h2m0 0h2m0 0h2m-1 0h2m4 0h2m5 0h2m-1 0h2m0 0h2m1 0h2m0 0h2m2 0h2m1 0h2m-1 0h2m0 0h2m3 0h2m0 0h2m-1 0h2m-1 0h2m19 0h2m-110 1h2m0 0h2m2 0h2m-1 0h2m-1 0h2m-1 0h2m0 0h2m0 0h2m-1 0h2m0 0h2m0 0h2m-1 0h2m-1 0h2m-1 0h2m0 0h2m-1 0h2m-1 0h2m3 0h2m0 0h2m1 0h2m0 0h2m0 0h2m1 0h2m4 0h2m0 0h2m1 0h2m1 0h2m1 0h2m0 0h2m3 0h2m8 0h2m3 0h2m8 0h2m0 0h2m-95 1h2m2 0h2m1 0h2m-1 0h2m1 0h2m0 0h2m1 0h2m4 0h2m0 0h2m-1 0h2m-1 0h2m0 0h2m1 0h2m-1 0h2m0 0h2m0 0h2m2 0h2m1 0h2m1 0h2m-1 0h2m1 0h2m-1 0h2m-1 0h2m-1 0h2m-1 0h2m2 0h2m-1 0h2m0 0h2m2 0h2m2 0h2m1 0h2m0 0h2m0 0h2m0 0h2m1 0h2m8 0h2m-1 0h2m0 0h2m18 0h2m-1 0h2m18 0h2m-136 1h2m3 0h2m-1 0h2m0 0h2m2 0h2m-1 0h2m-1 0h2m1 0h2m-1 0h2m-1 0h2m5 0h2m-1 0h2m0 0h2m-1 0h2m-1 0h2m-1 0h2m-1 0h2m0 0h2m-1 0h2m0 0h2m-1 0h2m1 0h2m-1 0h2m-1 0h2m-1 0h2m-1 0h2m-1 0h2m1 0h2m1 0h2m0 0h2m0 0h2m2 0h2m3 0h2m-1 0h2m-1 0h2m3 0h2m1 0h2m9 0h2m0 0h2m1 0h2m2 0h2m4 0h2m-105 1h2m5 0h2m5 0h2m-1 0h2m0 0h2m4 0h2m1 0h2m1 0h2m-1 0h2m0 0h2m-1 0h2m0 0h2m-1 0h2m-1 0h2m3 0h2m-1 0h2m-1 0h2m1 0h2m4 0h2m-1 0h2m1 0h2m0 0h2m3 0h2m0 0h2m2 0h2m0 0h2m-1 0h2m-1 0h2m1 0h2m0 0h2m-1 0h2m-1 0h2m13 0h2m-98 1h2m-1 0h2m0 0h2m1 0h2m0 0h2m-1 0h2m-1 0h2m2 0h2m-1 0h2m-1 0h2m0 0h2m2 0h2m-1 0h2m0 0h2m-1 0h2m3 0h2m0 0h2m0 0h2m0 0h2m0 0h2m-1 0h2m-1 0h2m1 0h2m1 0h2m-1 0h2m2 0h2m1 0h2m0 0h2m0 0h2m-1 0h2m4 0h2m-1 0h2m-1 0h2m3 0h2m4 0h2m1 0h2m1 0h2m0 0h2m7 0h2m7 0h2m29 0h2m-137 1h2m1 0h2m2 0h2m1 0h2m1 0h2m-1 0h2m0 0h2m-1 0h2m0 0h2m3 0h2m2 0h2m-1 0h2m-1 0h2m-1 0h2m0 0h2m-1 0h2m0 0h2m2 0h2m0 0h2m-1 0h2m0 0h2m-1 0h2m-1 0h2m-1 0h2m0 0h2m-1 0h2m-1 0h2m2 0h2m-1 0h2m-1 0h2m-1 0h2m3 0h2m3 0h2m1 0h2m0 0h2m0 0h2m-1 0h2m-1 0h2m-1 0h2m3 0h2m-1 0h2m1 0h2m-1 0h2m0 0h2m49 0h2m-145 1h2m1 0h2m0 0h2m-1 0h2m-1 0h2m0 0h2m-1 0h2m0 0h2m1 0h2m1 0h2m0 0h2m1 0h2m-1 0h2m1 0h2m-1 0h2m0 0h2m0 0h2m1 0h2m-1 0h2m4 0h2m-1 0h2m0 0h2m-1 0h2m-1 0h2m-1 0h2m0 0h2m1 0h2m0 0h2m0 0h2m3 0h2m0 0h2m3 0h2m2 0h2m-1 0h2m-1 0h2m2 0h2m6 0h2m1 0h2m6 0h2m11 0h2m-113 1h2m11 0h2m0 0h2m0 0h2m0 0h2m1 0h2m2 0h2m-1 0h2m-1 0h2m-1 0h2m-1 0h2m-1 0h2m0 0h2m0 0h2m0 0h2m3 0h2m1 0h2m-1 0h2m-1 0h2m-1 0h2m-1 0h2m-1 0h2m-1 0h2m0 0h2m0 0h2m-1 0h2m-1 0h2m1 0h2m-1 0h2m0 0h2m3 0h2m-1 0h2m1 0h2m-1 0h2m-1 0h2m0 0h2m3 0h2m-1 0h2m3 0h2m1 0h2m2 0h2m2 0h2m13 0h2m-114 1h2m0 0h2m-1 0h2m2 0h2m0 0h2m-1 0h2m0 0h2m0 0h2m-1 0h2m-1 0h2m-1 0h2m-1 0h2m2 0h2m-1 0h2m1 0h2m-1 0h2m0 0h2m2 0h2m-1 0h2m-1 0h2m-1 0h2m1 0h2m0 0h2m4 0h2m1 0h2m0 0h2m0 0h2m0 0h2m-1 0h2m-1 0h2m1 0h2m-1 0h2m2 0h2m1 0h2m3 0h2m-1 0h2m-1 0h2m-1 0h2m1 0h2m-1 0h2m4 0h2m18 0h2m0 0h2m10 0h2m-120 1h2m9 0h2m2 0h2m0 0h2m3 0h2m2 0h2m0 0h2m-1 0h2m0 0h2m2 0h2m-1 0h2m0 0h2m4 0h2m0 0h2m-1 0h2m1 0h2m-1 0h2m-1 0h2m-1 0h2m3 0h2m-1 0h2m-1 0h2m3 0h2m3 0h2m4 0h2m1 0h2m6 0h2m6 0h2m21 0h2m-124 1h2m0 0h2m2 0h2m2 0h2m-1 0h2m2 0h2m-1 0h2m1 0h2m0 0h2m-1 0h2m2 0h2m1 0h2m0 0h2m0 0h2m0 0h2m-1 0h2m1 0h2m0 0h2m-1 0h2m3 0h2m0 0h2m0 0h2m0 0h2m-1 0h2m-1 0h2m1 0h2m-1 0h2m3 0h2m3 0h2m-1 0h2m0 0h2m7 0h2m-1 0h2m-1 0h2m9 0h2m-95 1h2m0 0h2m0 0h2m-1 0h2m6 0h2m1 0h2m2 0h2m-1 0h2m-1 0h2m3 0h2m-1 0h2m-1 0h2m2 0h2m0 0h2m-1 0h2m-1 0h2m0 0h2m0 0h2m3 0h2m1 0h2m0 0h2m-1 0h2m1 0h2m1 0h2m-1 0h2m0 0h2m1 0h2m1 0h2m-1 0h2m0 0h2m6 0h2m-1 0h2m2 0h2m7 0h2m10 0h2m-1 0h2m7 0h2m13 0h2m-132 1h2m8 0h2m2 0h2m2 0h2m1 0h2m1 0h2m1 0h2m1 0h2m0 0h2m-1 0h2m5 0h2m1 0h2m2 0h2m8 0h2m2 0h2m6 0h2m0 0h2m15 0h2"/>
<path transform="scale(0.5)" fill="none" stroke="#BE1E2D" stroke-width="2.4" d="m280 3h2m-1 0h2m-1 0h2m-1 0h2m0 0h2m1 0h2m3 0h2m-17 1h2m-1 0h2m-1 0h2m0 0h2m-1 0h2m-1 0h2m1 0h2m0 0h2m-1 0h2m-13 1h2m-1 0h2m-1 0h2m0 0h2m-1 0h2m-1 0h2m-1 0h2m-1 0h2m-1 0h2m-1 0h2m1 0h2m-15 1h2m-1 0h2m-1 0h2m-1 0h2m-1 0h2m-1 0h2m0 0h2m1 0h2m2 0h2m-1 0h2m2 0h2m-21 1h2m-1 0h2m-1 0h2m-1 0h2m-1 0h2m-1 0h2m-1 0h2m-1 0h2m1 0h2m-1 0h2m0 0h2m-16 1h2m-1 0h2m-1 0h2m-1 0h2m-1 0h2m-1 0h2m-1 0h2m-1 0h2m-1 0h2m0 0h2m2 0h2m-16 1h2m-1 0h2m-1 0h2m-1 0h2m0 0h2m-1 0h2m-1 0h2m-1 0h2m0 0h2m1 0h2m-14 1h2m-1 0h2m-1 0h2m-1 0h2m-1 0h2m-1 0h2m-1 0h2m1 0h2m-1 0h2m-1 0h2m3 0h2m-19 1h2m-1 0h2m-1 0h2m-1 0h2m-1 0h2m-1 0h2m-1 0h2m-1 0h2m-1 0h2m0 0h2m0 0h2m-1 0h2m0 0h2m-17 1h2m-1 0h2m0 0h2m-1 0h2m-1 0h2m1 0h2m2 0h2m-1 0h2m-14 1h2m-1 0h2m-1 0h2m-1 0h2m0 0h2m0 0h2m-1 0h2m-1 0h2m3 0h2m2 0h2m-1 0h2m-22 1h2m0 0h2m-1 0h2m-1 0h2m1 0h2m-1 0h2m-1 0h2m8 0h2m-21 1h2m0 0h2m-1 0h2m-1 0h2m-1 0h2m-1 0h2m-1 0h2m0 0h2m-1 0h2m-11 1h2m-1 0h2m0 0h2m-1 0h2m-1 0h2m-1 0h2m-1 0h2m-1 0h2m-1 0h2m5 0h2m-18 1h2m-1 0h2m-1 0h2m-1 0h2m-1 0h2m-1 0h2m-1 0h2m-1 0h2m0 0h2m-1 0h2m-1 0h2m-1 0h2m0 0h2m-17 1h2m-1 0h2m-1 0h2m0 0h2m-1 0h2m0 0h2m-1 0h2m-1 0h2m-11 1h2m-1 0h2m-1 0h2m-1 0h2m-1 0h2m-1 0h2m0 0h2m-1 0h2m-1 0h2m-1 0h2m-1 0h2m-1 0h2m-13 1h2m-1 0h2m-1 0h2m-1 0h2m-1 0h2m0 0h2m-1 0h2m0 0h2m-1 0h2m-1 0h2m-14 1h2m-1 0h2m-1 0h2m-1 0h2m-1 0h2m-1 0h2m0 0h2m-1 0h2m0 0h2m-1 0h2m0 0h2m-14 1h2m-1 0h2m-1 0h2m-1 0h2m0 0h2m-1 0h2m-1 0h2m-1 0h2m-1 0h2m-12 1h2m0 0h2m-1 0h2m-1 0h2m-1 0h2m-1 0h2m-1 0h2m0 0h2m-1 0h2m-1 0h2m-13 1h2m-1 0h2m0 0h2m-1 0h2m-1 0h2m-1 0h2m-1 0h2m0 0h2m-1 0h2m-1 0h2m-13 1h2m-1 0h2m-1 0h2m-1 0h2m0 0h2m-1 0h2m-1 0h2m0 0h2m-1 0h2m-1 0h2m0 0h2m1 0h2m-18 1h2m-1 0h2m-1 0h2m-1 0h2m-1 0h2m-1 0h2m-1 0h2m2 0h2m5 0h2m-19 1h2m-1 0h2m-1 0h2m-1 0h2m-1 0h2m-1 0h2m1 0h2m-1 0h2m0 0h2m0 0h2m-1 0h2m-15 1h2m-1 0h2m-1 0h2m-1 0h2m-1 0h2m-1 0h2m-1 0h2m2 0h2m-1 0h2m-14 1h2m-1 0h2m-1 0h2m-1 0h2m-1 0h2m-1 0h2m0 0h2m-1 0h2m-1 0h2m-1 0h2m-1 0h2m-13 1h2m-1 0h2m-1 0h2m-1 0h2m-1 0h2m0 0h2m-1 0h2m1 0h2m3 0h2m0 0h2m-19 1h2m-1 0h2m-1 0h2m-1 0h2m-1 0h2m-1 0h2m-1 0h2m-1 0h2m-1 0h2m0 0h2m-12 1h2m-1 0h2m-1 0h2m-1 0h2m-1 0h2m-1 0h2m-1 0h2m0 0h2m-1 0h2m-11 1h2m-1 0h2m-1 0h2m-1 0h2m-1 0h2m-1 0h2m-1 0h2m0 0h2m-1 0h2m-10 1h2m-1 0h2m-1 0h2m-1 0h2m-1 0h2m-1 0h2m-1 0h2m1 0h2m-1 0h2m0 0h2m-15 1h2m-1 0h2m-1 0h2m-1 0h2m-1 0h2m-1 0h2m-1 0h2m-1 0h2m-1 0h2m-1 0h2m-1 0h2m-12 1h2m-1 0h2m-1 0h2m-1 0h2m-1 0h2m-1 0h2m-1 0h2m0 0h2m-1 0h2m-1 0h2m-1 0h2m-1 0h2m2 0h2m-18 1h2m0 0h2m0 0h2m-1 0h2m-1 0h2m-1 0h2m-1 0h2m2 0h2m-1 0h2m-15 1h2m-1 0h2m0 0h2m-1 0h2m2 0h2m0 0h2m-1 0h2m-1 0h2m-14 1h2m-1 0h2m-1 0h2m-1 0h2m-1 0h2m0 0h2m-1 0h2m-1 0h2m-1 0h2m-1 0h2m1 0h2m0 0h2m-15 1h2m-1 0h2m-1 0h2m-1 0h2m-1 0h2m-1 0h2m-1 0h2m-10 1h2m-1 0h2m-1 0h2m-1 0h2m-1 0h2m-1 0h2m-1 0h2m0 0h2m-1 0h2m-11 1h2m-1 0h2m0 0h2m-1 0h2m-1 0h2m-1 0h2m0 0h2m5 0h2m-17 1h2m-1 0h2m0 0h2m-1 0h2m-1 0h2m-1 0h2m1 0h2m0 0h2m-12 1h2m-1 0h2m-1 0h2m-1 0h2m-1 0h2m-1 0h2m0 0h2m-9 1h2m-1 0h2m0 0h2m-1 0h2m-1 0h2m-1 0h2m-1 0h2m-1 0h2m-11 1h2m-1 0h2m-1 0h2m-1 0h2m-1 0h2m-1 0h2m-1 0h2m-1 0h2m0 0h2m-1 0h2m-12 1h2m-1 0h2m-1 0h2m-1 0h2m-1 0h2m-1 0h2m-1 0h2m-1 0h2m-1 0h2m0 0h2m-12 1h2m-1 0h2m-1 0h2m-1 0h2m1 0h2m-1 0h2m3 0h2m-1 0h2m-15 1h2m-1 0h2m-1 0h2m-1 0h2m0 0h2m-1 0h2m-1 0h2m-1 0h2m-1 0h2m-1 0h2m-12 1h2m-1 0h2m-1 0h2m-1 0h2m-1 0h2m-1 0h2m-1 0h2m0 0h2m1 0h2m1 0h2m-15 1h2m-1 0h2m-1 0h2m-1 0h2m0 0h2m-1 0h2m-1 0h2m6 0h2m-18 1h2m0 0h2m1 0h2m-1 0h2m-1 0h2m1 0h2m-12 1h2m-1 0h2m-1 0h2m-1 0h2m-1 0h2m-1 0h2m-1 0h2m-1 0h2m2 0h2m-13 1h2m0 0h2m-1 0h2m-1 0h2m-1 0h2m-1 0h2m2 0h2m-1 0h2m-12 1h2m-1 0h2m0 0h2m0 0h2m-8 1h2m-1 0h2m-1 0h2m-1 0h2m-1 0h2m0 0h2m0 0h2m-1 0h2m0 0h2m-13 1h2m-1 0h2m-1 0h2m0 0h2m-1 0h2m-1 0h2m0 0h2m-10 1h2m-1 0h2m-1 0h2m-1 0h2m-1 0h2m0 0h2m-1 0h2m-1 0h2m-10 1h2m-1 0h2m-1 0h2m0 0h2m-1 0h2m-1 0h2m-1 0h2m1 0h2m-12 1h2m-1 0h2m-1 0h2m-1 0h2m-1 0h2m-1 0h2m-1 0h2m-1 0h2m5 0h2m-16 1h2m-1 0h2m-1 0h2m-1 0h2m-1 0h2m-1 0h2m-1 0h2m0 0h2m-9 1h2m-1 0h2m-1 0h2m-1 0h2m-1 0h2m2 0h2m0 0h2m-13 1h2m-1 0h2m-1 0h2m-1 0h2m-1 0h2m-1 0h2m-1 0h2m1 0h2m-11 1h2m-1 0h2m-1 0h2m-1 0h2m1 0h2m-1 0h2m2 0h2m0 0h2m-15 1h2m-1 0h2m-1 0h2m-1 0h2m-1 0h2m-1 0h2m-1 0h2m0 0h2m0 0h2m-11 1h2m-1 0h2m0 0h2m-1 0h2m-1 0h2m-1 0h2m-1 0h2m-10 1h2m-1 0h2m-1 0h2m-1 0h2m-1 0h2m0 0h2m-1 0h2m-1 0h2m3 0h2m-15 1h2m-1 0h2m-1 0h2m-1 0h2m-1 0h2m-1 0h2m-1 0h2m-1 0h2m-1 0h2m-1 0h2m5 0h2m-18 1h2m-1 0h2m-1 0h2m-1 0h2m-1 0h2m0 0h2m3 0h2m-13 1h2m-1 0h2m-1 0h2m-1 0h2m1 0h2m-1 0h2m-8 1h2m-1 0h2m-1 0h2m-1 0h2m-1 0h2m-1 0h2m1 0h2m-11 1h2m-1 0h2m-1 0h2m-1 0h2m0 0h2m-1 0h2m-1 0h2m1 0h2m-1 0h2m-13 1h2m0 0h2m-1 0h2m-1 0h2m-1 0h2m-1 0h2m-8 1h2m0 0h2m-1 0h2m-1 0h2m-4 1h2m-1 0h2m2 0h2m2 0h2m-13 1h2m-1 0h2m0 0h2m-1 0h2m0 0h2m-1 0h2m-1 0h2m-1 0h2m-11 1h2m1 0h2m-1 0h2m-1 0h2m1 0h2m-1 0h2m-11 1h2m0 0h2m0 0h2m5 0h2m-13 1h2m-1 0h2m-1 0h2m-1 0h2m-1 0h2m0 0h2m-1 0h2m-1 0h2m0 0h2m-12 1h2m-1 0h2m-1 0h2m-1 0h2m-1 0h2m-6 1h2m-1 0h2m-1 0h2m-1 0h2m-1 0h2m-1 0h2m-1 0h2m-8 1h2m0 0h2m0 0h2m-1 0h2m0 0h2m-9 1h2m-1 0h2m0 0h2m-1 0h2m1 0h2m-1 0h2m-1 0h2m-10 1h2m-1 0h2m0 0h2m-5 1h2m-1 0h2m-4 1h2m0 0h2m-1 0h2m-1 0h2m-1 0h2m-1 0h2m-8 1h2m2 0h2m-1 0h2m2 0h2m-10 1h2m0 0h2m0 0h2m-1 0h2m2 0h2m-1 0h2m-12 1h2m-1 0h2m1 0h2m0 0h2m-9 1h2m-1 0h2m1 0h2m0 0h2m3 0h2m-12 1h2m-1 0h2m0 0h2m-1 0h2m-1 0h2m-8 1h2m2 0h2m2 0h2m-1 0h2m-10 1h2m-1 0h2m-1 0h2m-4 1h2m-1 0h2m0 0h2m0 0h2m-7 1h2m-1 0h2m-1 0h2m1 0h2m-7 1h2m0 0h2m2 0h2m-8 1h2m0 0h2m-4 1h2m-1 0h2m-1 0h2m-1 0h2m2 0h2m-10 1h2m1 0h2m1 0h2m-1 0h2m2 0h2m-12 1h2m-1 0h2m0 0h2m-1 0h2m-1 0h2m-5 1h2m-4 1h2m-1 0h2m0 0h2m-4 1h2m-1 0h2m-1 0h2m-1 0h2m-6 1h2m-1 0h2m0 0h2m-1 0h2m0 0h2m-9 1h2m-1 0h2m2 0h2m0 0h2m-9 1h2m-1 0h2m-1 0h2m0 0h2m2 0h2m-7 1h2m-1 0h2m-6 1h2m0 0h2m0 0h2m-1 1h2m0 0h2m-9 1h2m-1 0h2m-1 0h2m1 0h2m-6 1h2m0 0h2m-1 0h2m-1 0h2m-7 1h2m-1 0h2m-1 0h2m-1 0h2m-4 1h2m-1 0h2m1 0h2m-6 1h2m-1 0h2m-1 0h2m-1 1h2m-5 1h2m1 0h2m-6 1h2m-1 0h2m-1 0h2m1 0h2m-7 1h2m-2 1h2m0 0h2m-1 0h2m-4 1h2m-1 0h2m-2 1h2m-1 0h2m-5 1h2m1 0h2m-4 1h2m0 0h2m-1 0h2m-6 1h2m3 0h2m-7 1h2m-1 0h2m-3 1h2m0 0h2m-1 0h2m-5 1h2m0 1h2m1 0h2m-3 1h2m-4 1h2m-2 2h2m-1 0h2m0 1h2m-5 1h2m0 0h2m-4 1h2m-1 0h2m-5 2h2m-1 0h2m-1 0h2m-1 0h2m-2 2h2m-4 1h2m-2 2h2m-1 0h2m-4 2h2m0 2h2"/>
<path transform="scale(0.5)" fill="none" stroke="#1B3060" stroke-width="2.4" d="m306 4h2m-24 3h2m-5 1h2m-1 0h2m-4 7h2m-3 1h2m4 4h2m0 0h2m-4 1h2m-3 3h2m-1 0h2m6 0h2m-14 3h2m7 1h2m-8 3h2m-4 2h2m6 0h2m-11 3h2m2 1h2m8 1h2m-18 1h2m0 1h2m-1 1h2m21 0h2m-20 2h2m-2 1h2m5 0h2m5 0h2m-1 0h2m-25 3h2m8 3h2m-11 3h2m-3 3h2m1 0h2m6 0h2m-4 3h2m-3 2h2m3 0h2m0 2h2m-13 1h2m4 0h2m0 0h2m-8 1h2m10 0h2m-17 2h2m5 0h2m1 0h2m-11 2h2m9 1h2m-16 1h2m9 0h2m-2 5h2m-11 2h2m8 2h2m7 2h2m-23 1h2m-2 2h2m4 2h2m0 0h2m-7 7h2m-4 4h2m-3 1h2m9 4h2m-3 1h2m9 0h2m-23 1h2m15 0h2m-13 1h2m0 0h2m3 1h2m-15 2h2m0 0h2m3 0h2m7 0h2m-11 1h2m-6 1h2m7 0h2m-10 3h2m5 0h2m2 2h2m-16 1h2m6 0h2m-10 2h2m8 2h2m-1 0h2m-1 2h2m3 0h2m-15 4h2m-3 3h2m13 0h2m5 0h2m-7 1h2m0 0h2m11 1h2m-38 1h2m8 1h2m2 0h2m1 0h2m-17 1h2m8 0h2m-4 1h2m2 0h2m-1 0h2m-10 1h2m-1 0h2m-1 0h2m5 0h2m-1 0h2m22 0h2m-40 1h2m-2 1h2m35 0h2m-40 1h2m2 0h2m11 0h2m-21 2h2m14 0h2m0 0h2m-15 2h2m3 0h2m8 0h2m-11 1h2m0 0h2m9 0h2m1 0h2m-17 1h2m1 0h2m10 0h2m-23 1h2m18 0h2m-17 1h2m-9 1h2m0 0h2m-1 0h2m9 0h2m-1 0h2m-5 1h2m1 0h2m4 0h2m8 0h2m-32 1h2m9 0h2m0 0h2m13 0h2m-33 1h2m1 0h2m-1 0h2m5 0h2m0 0h2m18 0h2m-34 1h2m0 0h2m0 0h2m13 0h2m0 0h2m0 0h2m-25 1h2m-1 0h2m0 0h2m3 0h2m3 0h2m9 0h2m2 0h2m-25 1h2m-1 0h2m-4 1h2m2 0h2m0 0h2m0 0h2m3 0h2m1 0h2m7 0h2m-27 1h2m-1 0h2m5 0h2m20 0h2m-32 1h2m0 0h2m-1 0h2m0 0h2m3 0h2m1 0h2m-13 1h2m-1 0h2m1 0h2m2 0h2m9 0h2m-1 0h2m-27 1h2m-1 0h2m4 0h2m-1 0h2m1 0h2m-1 0h2m13 0h2m-26 1h2m2 0h2m4 0h2m-1 0h2m-1 0h2m8 0h2m-28 1h2m-1 0h2m1 0h2m2 0h2m5 0h2m-1 0h2m0 0h2m-17 1h2m1 0h2m3 0h2m-1 0h2m2 0h2m-18 1h2m0 0h2m-1 0h2m0 0h2m-1 0h2m4 0h2m-1 0h2m12 0h2m-28 1h2m-1 0h2m-1 0h2m-1 0h2m0 0h2m3 0h2m1 0h2m12 0h2m-30 1h2m-1 0h2m0 0h2m-1 0h2m0 0h2m-1 0h2m-1 0h2m-1 0h2m-1 0h2m-1 0h2m1 0h2m1 0h2m3 0h2m9 0h2m-32 1h2m0 0h2m-1 0h2m-1 0h2m-1 0h2m-1 0h2m-1 0h2m-1 0h2m-1 0h2m6 0h2m0 0h2m-1 0h2m1 0h2m-28 1h2m0 0h2m0 0h2m-1 0h2m0 0h2m1 0h2m-1 0h2m-1 0h2m-1 0h2m0 0h2m1 0h2m2 0h2m0 0h2m4 0h2m-32 1h2m4 0h2m2 0h2m0 0h2m1 0h2m0 0h2m8 0h2m-29 1h2m-1 0h2m-1 0h2m1 0h2m-1 0h2m-1 0h2m3 0h2m0 0h2m3 0h2m0 0h2m0 0h2m-23 1h2m0 0h2m1 0h2m-1 0h2m-1 0h2m2 0h2m-1 0h2m1 0h2m-1 0h2m-1 0h2m1 0h2m5 0h2m-29 1h2m3 0h2m-1 0h2m0 0h2m0 0h2m-1 0h2m0 0h2m1 0h2m-20 1h2m-1 0h2m-1 0h2m0 0h2m0 0h2m-1 0h2m0 0h2m-1 0h2m0 0h2m3 0h2m0 0h2m1 0h2m-1 0h2m0 0h2m2 0h2m-31 1h2m0 0h2m0 0h2m-1 0h2m-1 0h2m0 0h2m0 0h2m0 0h2m-1 0h2m0 0h2m-1 0h2m-1 0h2m1 0h2m-1 0h2m5 0h2m-30 1h2m0 0h2m-1 0h2m0 0h2m0 0h2m0 0h2m-1 0h2m0 0h2m2 0h2m0 0h2m0 0h2m3 0h2m-1 0h2m-1 0h2m0 0h2m-30 1h2m0 0h2m-1 0h2m0 0h2m0 0h2m-1 0h2m0 0h2m-1 0h2m2 0h2m0 0h2m6 0h2m2 0h2m0 0h2m11 0h2m-47 1h2m3 0h2m-1 0h2m-1 0h2m0 0h2m1 0h2m0 0h2m4 0h2m-1 0h2m-1 0h2m-1 0h2m3 0h2m6 0h2m-37 1h2m-1 0h2m-1 0h2m-1 0h2m-1 0h2m-1 0h2m1 0h2m0 0h2m0 0h2m0 0h2m-1 0h2m1 0h2m1 0h2m2 0h2m1 0h2m-1 0h2m-1 0h2m-30 1h2m-1 0h2m1 0h2m-1 0h2m-1 0h2m0 0h2m-1 0h2m10 0h2m-1 0h2m0 0h2m0 0h2m-1 0h2m2 0h2m-36 1h2m-1 0h2m1 0h2m0 0h2m1 0h2m-1 0h2m0 0h2m1 0h2m-1 0h2m-1 0h2m1 0h2m3 0h2m2 0h2m3 0h2m-36 1h2m-1 0h2m0 0h2m-1 0h2m-1 0h2m-1 0h2m0 0h2m-1 0h2m-1 0h2m0 0h2m-1 0h2m-1 0h2m-1 0h2m-1 0h2m-1 0h2m-1 0h2m-1 0h2m-1 0h2m0 0h2m-1 0h2m0 0h2m6 0h2m-35 1h2m-1 0h2m-1 0h2m-1 0h2m-1 0h2m1 0h2m-1 0h2m1 0h2m1 0h2m1 0h2m0 0h2m0 0h2m-1 0h2m-1 0h2m11 0h2m-38 1h2m-1 0h2m0 0h2m-1 0h2m-1 0h2m-1 0h2m0 0h2m-1 0h2m-1 0h2m-1 0h2m-1 0h2m1 0h2m1 0h2m-1 0h2m0 0h2m1 0h2m2 0h2m0 0h2m-32 1h2m-1 0h2m-1 0h2m-1 0h2m-1 0h2m0 0h2m1 0h2m-1 0h2m-1 0h2m-1 0h2m0 0h2m3 0h2m0 0h2m2 0h2m2 0h2m-31 1h2m-1 0h2m-1 0h2m-1 0h2m-1 0h2m-1 0h2m-1 0h2m-1 0h2m-1 0h2m1 0h2m-1 0h2m-1 0h2m-1 0h2m-1 0h2m-1 0h2m0 0h2m1 0h2m-1 0h2m-1 0h2m-1 0h2m6 0h2m1 0h2m-37 1h2m0 0h2m0 0h2m-1 0h2m0 0h2m0 0h2m-1 0h2m0 0h2m-1 0h2m0 0h2m-1 0h2m0 0h2m-1 0h2m-1 0h2m-1 0h2m-1 0h2m0 0h2m0 0h2m4 0h2m-33 1h2m-1 0h2m-1 0h2m-1 0h2m-1 0h2m0 0h2m-1 0h2m1 0h2m-1 0h2m0 0h2m-1 0h2m1 0h2m0 0h2m-1 0h2m-1 0h2m6 0h2m6 0h2m-41 1h2m-1 0h2m-1 0h2m-1 0h2m-1 0h2m0 0h2m0 0h2m0 0h2m-1 0h2m0 0h2m-1 0h2m-1 0h2m-1 0h2m-1 0h2m-1 0h2m2 0h2m10 0h2m-34 1h2m-1 0h2m0 0h2m-1 0h2m-1 0h2m-1 0h2m-1 0h2m-1 0h2m0 0h2m1 0h2m0 0h2m0 0h2m0 0h2m0 0h2m0 0h2m-1 0h2m3 0h2m5 0h2m-39 1h2m-1 0h2m-1 0h2m-1 0h2m-1 0h2m-1 0h2m-1 0h2m0 0h2m-1 0h2m-1 0h2m-1 0h2m-1 0h2m-1 0h2m-1 0h2m-1 0h2m-1 0h2m2 0h2m0 0h2m-1 0h2m2 0h2m0 0h2m1 0h2m1 0h2m2 0h2m-41 1h2m-1 0h2m-1 0h2m-1 0h2m-1 0h2m-1 0h2m-1 0h2m0 0h2m-1 0h2m-1 0h2m-1 0h2m-1 0h2m0 0h2m-1 0h2m-1 0h2m-1 0h2m2 0h2m1 0h2m2 0h2m17 0h2m-48 1h2m-1 0h2m0 0h2m-1 0h2m-1 0h2m-1 0h2m-1 0h2m-1 0h2m-1 0h2m-1 0h2m-1 0h2m7 0h2m0 0h2m1 0h2m0 0h2m3 0h2m3 0h2m1 0h2m-43 1h2m-1 0h2m-1 0h2m-1 0h2m-1 0h2m-1 0h2m-1 0h2m1 0h2m-1 0h2m-1 0h2m-1 0h2m-1 0h2m-1 0h2m0 0h2m-1 0h2m-1 0h2m-1 0h2m-1 0h2m0 0h2m-1 0h2m-1 0h2m-1 0h2m0 0h2m2 0h2m1 0h2m8 0h2m-46 1h2m-1 0h2m-1 0h2m-1 0h2m-1 0h2m0 0h2m-1 0h2m-1 0h2m0 0h2m-1 0h2m-1 0h2m-1 0h2m-1 0h2m-1 0h2m-1 0h2m-1 0h2m-1 0h2m-1 0h2m1 0h2m0 0h2m0 0h2m0 0h2m0 0h2m-32 1h2m-1 0h2m-1 0h2m0 0h2m-1 0h2m0 0h2m-1 0h2m-1 0h2m-1 0h2m-1 0h2m-1 0h2m-1 0h2m-1 0h2m0 0h2m-1 0h2m0 0h2m-1 0h2m3 0h2m-1 0h2m0 0h2m7 0h2m-39 1h2m1 0h2m1 0h2m-1 0h2m-1 0h2m-1 0h2m-1 0h2m-1 0h2m-1 0h2m-1 0h2m-1 0h2m0 0h2m2 0h2m0 0h2m0 0h2m-1 0h2m-1 0h2m3 0h2m-32 1h2m1 0h2m-1 0h2m-1 0h2m-1 0h2m-1 0h2m-1 0h2m-1 0h2m0 0h2m-1 0h2m-1 0h2m0 0h2m-1 0h2m0 0h2m0 0h2m-1 0h2m-1 0h2m-1 0h2m13 0h2m3 0h2m-46 1h2m-1 0h2m-1 0h2m-1 0h2m-1 0h2m-1 0h2m-1 0h2m-1 0h2m-1 0h2m-1 0h2m-1 0h2m0 0h2m-1 0h2m-1 0h2m1 0h2m0 0h2m-1 0h2m1 0h2m0 0h2m13 0h2m-40 1h2m-1 0h2m0 0h2m0 0h2m0 0h2m1 0h2m0 0h2m-1 0h2m0 0h2m2 0h2m-1 0h2m-1 0h2m-1 0h2m1 0h2m0 0h2m-1 0h2m-32 1h2m-1 0h2m-1 0h2m-1 0h2m-1 0h2m-1 0h2m-1 0h2m1 0h2m-1 0h2m-1 0h2m-1 0h2m-1 0h2m-1 0h2m0 0h2m0 0h2m1 0h2m0 0h2m0 0h2m-1 0h2m-1 0h2m0 0h2m-1 0h2m2 0h2m8 0h2m2 0h2m-50 1h2m-1 0h2m-1 0h2m-1 0h2m-1 0h2m-1 0h2m-1 0h2m-1 0h2m-1 0h2m-1 0h2m-1 0h2m0 0h2m-1 0h2m-1 0h2m-1 0h2m0 0h2m1 0h2m-1 0h2m-1 0h2m0 0h2m-1 0h2m-1 0h2m2 0h2m2 0h2m2 0h2m21 0h2m-63 1h2m-1 0h2m-1 0h2m-1 0h2m-1 0h2m-1 0h2m-1 0h2m-1 0h2m-1 0h2m-1 0h2m-1 0h2m-1 0h2m-1 0h2m-1 0h2m-1 0h2m-1 0h2m6 0h2m-1 0h2m0 0h2m-1 0h2m-1 0h2m-1 0h2m-31 1h2m-1 0h2m-1 0h2m0 0h2m0 0h2m-1 0h2m-1 0h2m-1 0h2m0 0h2m0 0h2m1 0h2m0 0h2m-1 0h2m0 0h2m-1 0h2m-1 0h2m4 0h2m-1 0h2m8 0h2m0 0h2m-44 1h2m-1 0h2m-1 0h2m-1 0h2m0 0h2m0 0h2m-1 0h2m-1 0h2m-1 0h2m-1 0h2m0 0h2m-1 0h2m1 0h2m0 0h2m-22 1h2m-1 0h2m-1 0h2m-1 0h2m-1 0h2m-1 0h2m-1 0h2m-1 0h2m-1 0h2m-1 0h2m-1 0h2m-1 0h2m-1 0h2m-1 0h2m-1 0h2m-1 0h2m-1 0h2m-1 0h2m-1 0h2m0 0h2m5 0h2m4 0h2m0 0h2m-36 1h2m-1 0h2m0 0h2m-1 0h2m-1 0h2m-1 0h2m-1 0h2m-1 0h2m-1 0h2m-1 0h2m-1 0h2m-1 0h2m1 0h2m-1 0h2m-1 0h2m-1 0h2m-1 0h2m0 0h2m2 0h2m5 0h2m13 0h2m-48 1h2m0 0h2m-1 0h2m-1 0h2m-1 0h2m-1 0h2m-1 0h2m-1 0h2m-1 0h2m-1 0h2m0 0h2m-1 0h2m-1 0h2m-1 0h2m-1 0h2m-1 0h2m1 0h2m-1 0h2m1 0h2m9 0h2m13 0h2m-50 1h2m0 0h2m-1 0h2m0 0h2m3 0h2m2 0h2m-1 0h2m5 0h2m4 0h2"/>
<path transform="scale(0.5)" fill="none" stroke="#F0671F" stroke-width="2.4" d="m278 12h2m-1 4h2m-3 1h2m1 1h2m-3 3h2m-3 7h2m-2 20h2m-1 38h2m-2 7h2m-1 2h2m-1 0h2m-5 1h2m-1 1h2m0 0h2m-6 1h2m-1 0h2m0 0h2m-2 1h2m-5 3h2m-1 0h2m2 0h2m0 0h2m-7 1h2m-1 0h2m-1 0h2m2 0h2m-10 1h2m0 0h2m-1 0h2m-4 1h2m-1 0h2m-1 0h2m-3 2h2m-3 1h2m-1 0h2m0 0h2m-1 0h2m-5 1h2m-1 0h2m-5 1h2m-1 0h2m-1 0h2m0 0h2m-5 1h2m-1 0h2m-1 0h2m-3 1h2m1 0h2m-6 1h2m-1 0h2m-1 0h2m-1 0h2m-6 1h2m-1 0h2m-1 0h2m-1 0h2m-1 0h2m-1 0h2m-7 1h2m1 0h2m-5 1h2m-1 0h2m-1 0h2m-4 1h2m-1 1h2m-1 0h2m-1 0h2m-1 0h2m-1 0h2m-7 1h2m0 0h2m-1 0h2m0 0h2m-7 1h2m0 0h2m-1 0h2m-1 0h2m-6 1h2m0 0h2m-1 0h2m-1 0h2m-5 1h2m0 0h2m0 0h2m-7 1h2m-1 0h2m-1 0h2m1 0h2m-7 1h2m-1 0h2m-1 0h2m-1 0h2m-1 0h2m-1 0h2m0 0h2m-8 1h2m0 0h2m-1 0h2m-5 1h2m-1 0h2m-1 0h2m-1 0h2m-6 1h2m-1 0h2m-1 0h2m-1 0h2m-1 0h2m-6 1h2m-1 0h2m-1 0h2m-1 0h2m-1 0h2m-1 0h2m-1 0h2m-7 1h2m-1 0h2m-4 1h2m-1 0h2m-1 0h2m-1 0h2m-1 0h2m1 0h2m-9 1h2m-1 0h2m-1 0h2m-1 0h2m-1 0h2m-6 1h2m-1 0h2m-1 0h2m0 0h2m0 0h2m-7 1h2m-1 0h2m-1 0h2m-1 0h2m-5 1h2m-1 0h2m-1 0h2m-5 1h2m-1 0h2m-1 0h2m-1 0h2m-1 0h2m1 0h2m-9 1h2m-1 0h2m-1 0h2m-1 0h2m-1 0h2m-6 1h2m-1 0h2m-1 0h2m-1 0h2m-1 0h2m1 0h2m-9 1h2m-1 0h2m-1 0h2m-1 0h2m-4 1h2m-1 0h2m-1 0h2m-1 0h2m-6 1h2m-1 0h2m-1 0h2m-1 0h2m-5 1h2m-1 0h2m-1 0h2m0 0h2m-1 0h2m-7 1h2m-1 0h2m-1 0h2m-1 0h2m-1 0h2m0 0h2m-8 1h2m-1 0h2m-1 0h2m-1 0h2m-1 0h2m-1 0h2m0 0h2m-8 1h2m-1 0h2m-1 0h2m0 0h2m-1 0h2m-7 1h2m-1 0h2m-1 0h2m0 0h2m2 0h2m-11 1h2m-1 0h2m-1 0h2m-1 0h2m-1 0h2m-1 0h2m-1 0h2m-1 0h2m-9 1h2m-1 0h2m-1 0h2m-1 0h2m-5 1h2m-1 0h2m-1 0h2m-1 0h2m-1 0h2m-1 0h2m-7 1h2m0 0h2m-1 0h2m-1 0h2m-1 0h2m-7 1h2m-1 0h2m-1 0h2m-1 0h2m-1 0h2m-1 0h2m1 0h2m0 0h2m-11 1h2m-1 0h2m-1 0h2m-1 0h2m-1 0h2m-6 1h2m-1 0h2m-1 0h2m-1 0h2m0 0h2m-8 1h2m-1 0h2m-1 0h2m0 0h2m-1 0h2m-1 0h2m-8 1h2m-1 0h2m-1 0h2m-1 0h2m0 0h2m-1 0h2m0 0h2m-10 1h2m-1 0h2m-1 0h2m0 0h2m-1 0h2m-1 0h2m0 0h2m-10 1h2m-1 0h2m-1 0h2m-1 0h2m-1 0h2m-1 0h2m-1 0h2m0 0h2m-10 1h2m-1 0h2m-1 0h2m-1 0h2m-1 0h2m-6 1h2m-1 0h2m-1 0h2m-1 0h2m-1 0h2m0 0h2m-1 0h2m-9 1h2m-1 0h2m-1 0h2m-1 0h2m-1 0h2m-1 0h2m-1 0h2m-1 0h2m-9 1h2m-1 0h2m-1 0h2m0 0h2m0 0h2m-7 1h2m-1 0h2m-1 0h2m-1 0h2m-1 0h2m-7 1h2m-1 0h2m-1 0h2m0 0h2m-1 0h2m-1 0h2m-1 0h2m-9 1h2m-1 0h2m-1 0h2m-1 0h2m-1 0h2m-1 0h2m-1 0h2m-8 1h2m0 0h2m-1 0h2m-1 0h2m-1 0h2m2 0h2m-1 0h2m-1 0h2m-13 1h2m-1 0h2m-1 0h2m-1 0h2m-1 0h2m-1 0h2m-1 0h2m-1 0h2m2 0h2m-13 1h2m-1 0h2m-1 0h2m-1 0h2m-1 0h2m-1 0h2m0 0h2m-9 1h2m-1 0h2m-1 0h2m-1 0h2m2 0h2m-1 0h2m1 0h2m-13 1h2m-1 0h2m-1 0h2m-1 0h2m-1 0h2m-1 0h2m-1 0h2m-1 0h2m0 0h2m-11 1h2m-1 0h2m1 0h2m-1 0h2m-1 0h2m0 0h2m-10 1h2m-1 0h2m-1 0h2m-1 0h2m-1 0h2m-1 0h2m-1 0h2m4 0h2m-14 1h2m-1 0h2m-1 0h2m-1 0h2m-1 0h2m0 0h2m0 0h2m0 0h2m-12 1h2m-1 0h2m-1 0h2m-1 0h2m-1 0h2m-1 0h2m-1 0h2m0 0h2m-9 1h2m-1 0h2m-1 0h2m-1 0h2m-1 0h2m2 0h2m-11 1h2m-1 0h2m-1 0h2m-1 0h2m-1 0h2m-1 0h2m0 0h2m-9 1h2m-1 0h2m-1 0h2m-1 0h2m-1 0h2m-1 0h2m-1 0h2m0 0h2m-10 1h2m-1 0h2m-1 0h2m0 0h2m3 0h2m-10 1h2m-1 0h2m-1 0h2m-1 0h2m-1 0h2m-1 0h2m9 0h2m-19 1h2m-1 0h2m-1 0h2m-1 0h2m-1 0h2m1 0h2m-9 1h2m-1 0h2m-1 0h2m-1 0h2m-1 0h2m-1 0h2m0 0h2m-8 1h2m-1 0h2m0 0h2m-1 0h2m-1 0h2m1 0h2m-11 1h2m-1 0h2m0 0h2m-1 0h2m-1 0h2m-1 0h2m-1 0h2m0 0h2m-11 1h2m-1 0h2m-1 0h2m-1 0h2m-1 0h2m0 0h2m-1 0h2m-1 0h2m-9 1h2m0 0h2m-1 0h2m-1 0h2m-1 0h2m0 0h2m0 0h2m-12 1h2m-1 0h2m-1 0h2m-1 0h2m-1 0h2m-1 0h2m-1 0h2m-1 0h2m1 0h2m-1 0h2m0 0h2m-15 1h2m-1 0h2m-1 0h2m-1 0h2m-1 0h2m-1 0h2m0 0h2m-1 0h2m-10 1h2m-1 0h2m-1 0h2m-1 0h2m0 0h2m-1 0h2m-1 0h2m-1 0h2m-1 0h2m0 0h2m-1 0h2m-14 1h2m0 0h2m-1 0h2m-1 0h2m-1 0h2m-1 0h2m2 0h2m0 0h2m-14 1h2m-1 0h2m-1 0h2m-1 0h2m-1 0h2m-1 0h2m0 0h2m-1 0h2m-1 0h2m-11 1h2m-1 0h2m-1 0h2m-1 0h2m-1 0h2m-1 0h2m0 0h2m1 0h2m1 0h2m0 0h2m-16 1h2m-1 0h2m-1 0h2m-1 0h2m-1 0h2m-1 0h2m-1 0h2m-1 0h2m3 0h2m-15 1h2m-1 0h2m-1 0h2m-1 0h2m-1 0h2m-1 0h2m0 0h2m-1 0h2m0 0h2m-12 1h2m-1 0h2m-1 0h2m-1 0h2m-1 0h2m2 0h2m-10 1h2m-1 0h2m-1 0h2m-1 0h2m-1 0h2m-1 0h2m-1 0h2m0 0h2m0 0h2m-12 1h2m-1 0h2m-1 0h2m-1 0h2m-1 0h2m-1 0h2m0 0h2m-1 0h2m-1 0h2m0 0h2m-13 1h2m-1 0h2m-1 0h2m-1 0h2m-1 0h2m-1 0h2m-1 0h2m-1 0h2m0 0h2m-11 1h2m-1 0h2m-1 0h2m-1 0h2m-1 0h2m-1 0h2m-1 0h2m-1 0h2m-1 0h2m-9 1h2m-1 0h2m-1 0h2m-1 0h2m-1 0h2m-1 0h2m-1 0h2m-1 0h2m-1 0h2m5 0h2m-18 1h2m-1 0h2m-1 0h2m-1 0h2m-1 0h2m-1 0h2m0 0h2m-1 0h2m-1 0h2m-11 1h2m-1 0h2m-1 0h2m-1 0h2m-1 0h2m-1 0h2m-1 0h2m0 0h2m-1 0h2m2 0h2m-15 1h2m-1 0h2m-1 0h2m-1 0h2m-1 0h2m-1 0h2m-1 0h2m-1 0h2m-1 0h2m0 0h2m-12 1h2m-1 0h2m-1 0h2m-1 0h2m-1 0h2m-1 0h2m-1 0h2m-1 0h2m-1 0h2m-10 1h2m-1 0h2m-1 0h2m-1 0h2m-1 0h2m-1 0h2m-1 0h2m0 0h2m-1 0h2m-1 0h2m-1 0h2m-12 1h2m-1 0h2m-1 0h2m0 0h2m-1 0h2m-1 0h2m-1 0h2m-1 0h2m-1 0h2m1 0h2m-15 1h2m-1 0h2m-1 0h2m-1 0h2m-1 0h2m-1 0h2m-1 0h2m-1 0h2m-1 0h2m0 0h2m-1 0h2m0 0h2m3 0h2m-20 1h2m-1 0h2m-1 0h2m-1 0h2m-1 0h2m-1 0h2m-1 0h2m-1 0h2m0 0h2m-1 0h2m-12 1h2m-1 0h2m-1 0h2m-1 0h2m-1 0h2m-1 0h2m-1 0h2m-1 0h2m0 0h2m-1 0h2m-1 0h2m-13 1h2m-1 0h2m-1 0h2m-1 0h2m0 0h2m-1 0h2m-1 0h2m-1 0h2m-1 0h2m-1 0h2m-12 1h2m-1 0h2m0 0h2m-1 0h2m-1 0h2m0 0h2m0 0h2m-1 0h2"/>
<path transform="scale(0.5)" fill="none" stroke="#F99F4D" stroke-width="2.4" d="m699 4h2m48 2h2m-43 1h2m8 0h2m6 3h2m-6 1h2m-23 4h2m26 0h2m10 0h2m-48 1h2m29 0h2m-31 1h2m10 0h2m59 0h2m-69 2h2m32 1h2m-47 1h2m17 0h2m32 0h2m-26 1h2m4 0h2m6 0h2m-45 1h2m4 0h2m31 0h2m21 1h2m14 0h2m-1 0h2m63 0h2m-120 1h2m18 0h2m-27 1h2m5 0h2m4 0h2m19 0h2m1 0h2m59 1h2m-80 1h2m-1 0h2m8 1h2m24 0h2m-39 1h2m-1 0h2m-35 1h2m2 0h2m4 0h2m12 0h2m8 0h2m-2 1h2m55 0h2m-57 1h2m0 0h2m23 0h2m-59 1h2m5 0h2m12 0h2m21 0h2m18 0h2m-58 1h2m14 0h2m26 0h2m-31 2h2m-41 1h2m15 0h2m9 0h2m-1 0h2m7 0h2m19 0h2m-22 1h2m11 0h2m-29 3h2m3 0h2m-16 1h2m4 0h2m31 0h2m2 1h2m-27 1h2m17 0h2m-46 1h2m18 0h2m-1 0h2m16 0h2m2 0h2m1 0h2m12 0h2m3 0h2m-67 1h2m14 0h2m12 0h2m20 0h2m29 0h2m-90 1h2m8 0h2m5 0h2m10 0h2m4 0h2m22 0h2m13 0h2m-82 1h2m28 0h2m9 0h2m2 0h2m-37 1h2m23 0h2m13 0h2m6 0h2m6 0h2m11 0h2m-55 2h2m10 0h2m1 0h2m23 0h2m-46 1h2m18 0h2m5 0h2m-22 1h2m10 0h2m-30 1h2m4 0h2m9 0h2m9 0h2m29 0h2m1 0h2m-75 1h2m23 0h2m-1 0h2m14 0h2m1 0h2m27 0h2m-67 1h2m20 0h2m9 0h2m24 0h2m-4 1h2m-1 0h2m24 0h2m2 0h2m-63 1h2m5 0h2m2 0h2m12 0h2m21 0h2m7 0h2m-62 1h2m3 0h2m-1 0h2m5 0h2m5 0h2m4 0h2m-62 1h2m34 0h2m68 0h2m-102 1h2m15 0h2m-1 0h2m20 0h2m11 0h2m-51 1h2m4 0h2m41 0h2m-39 2h2m0 0h2m2 0h2m15 0h2m22 0h2m1 0h2m4 0h2m17 0h2m-91 1h2m3 0h2m44 0h2m9 0h2m13 0h2m-74 1h2m2 0h2m15 0h2m3 0h2m-1 0h2m4 0h2m1 0h2m0 0h2m43 0h2m-80 1h2m2 0h2m5 0h2m7 0h2m0 0h2m0 0h2m20 0h2m5 0h2m-30 1h2m10 0h2m-1 0h2m1 0h2m3 0h2m13 0h2m-72 1h2m2 0h2m2 0h2m10 0h2m16 0h2m0 0h2m14 0h2m25 0h2m-94 1h2m15 0h2m-1 0h2m18 0h2m17 0h2m4 0h2m-51 1h2m16 0h2m1 0h2m20 0h2m-58 1h2m6 0h2m27 0h2m0 0h2m19 0h2m-1 0h2m6 0h2m3 0h2m-76 1h2m17 0h2m25 0h2m3 0h2m2 0h2m6 0h2m-47 1h2m3 0h2m4 0h2m9 0h2m81 0h2m-92 1h2m8 0h2m21 0h2m18 0h2m-59 1h2m9 0h2m2 0h2m14 0h2m15 0h2m1 0h2m7 0h2m11 0h2m-93 1h2m14 0h2m14 0h2m0 0h2m28 0h2m0 0h2m3 0h2m16 0h2m-95 1h2m12 0h2m13 0h2m7 0h2m1 0h2m7 0h2m28 0h2m10 0h2m-94 1h2m9 0h2m4 0h2m9 0h2m4 0h2m-39 1h2m29 0h2m1 0h2m8 0h2m21 0h2m32 0h2m-80 1h2m-1 0h2m3 0h2m12 0h2m-1 0h2m0 0h2m3 0h2m-1 0h2m-55 1h2m11 0h2m1 0h2m7 0h2m10 0h2m4 0h2m0 0h2m1 0h2m0 0h2m28 0h2m-1 0h2m-69 1h2m11 0h2m2 0h2m14 0h2m6 0h2m10 0h2m13 0h2m-25 1h2m-63 1h2m9 0h2m37 0h2m35 0h2m-82 1h2m7 0h2m6 0h2m2 0h2m10 0h2m3 0h2m17 0h2m-1 0h2m4 0h2m-58 1h2m21 0h2m13 0h2m7 0h2m11 0h2m-79 1h2m9 0h2m7 0h2m-1 0h2m1 0h2m11 0h2m4 0h2m7 0h2m28 0h2m-40 1h2m7 0h2m21 0h2m6 0h2m-77 1h2m1 0h2m-1 0h2m8 0h2m17 0h2m20 0h2m0 0h2m-51 1h2m5 0h2m3 0h2m2 0h2m0 0h2m13 0h2m-24 1h2m0 0h2m2 0h2m6 0h2m16 0h2m-47 1h2m0 0h2m14 0h2m23 0h2m8 0h2m24 0h2m-76 1h2m16 0h2m29 0h2m-1 0h2m-48 1h2m0 0h2m22 0h2m-1 0h2m8 0h2m8 0h2m25 0h2m-96 1h2m16 0h2m10 0h2m0 0h2m4 0h2m15 0h2m0 0h2m-56 1h2m19 0h2m7 0h2m1 0h2m-1 0h2m14 0h2m12 0h2m1 0h2m-67 1h2m17 0h2m5 0h2m9 0h2m8 0h2m9 0h2m-52 1h2m4 0h2m1 0h2m3 0h2m4 0h2m0 0h2m22 0h2m2 0h2m18 0h2m-80 1h2m48 0h2m9 0h2m17 0h2m-66 1h2m31 0h2m14 0h2m2 0h2m-65 1h2m5 0h2m22 0h2m-47 1h2m7 0h2m15 0h2m-1 0h2m8 0h2m21 0h2m0 0h2m-1 0h2m-61 1h2m25 0h2m2 0h2m1 0h2m4 0h2m11 0h2m24 0h2m18 0h2m11 0h2m-115 1h2m21 0h2m6 0h2m40 0h2m2 0h2m-62 1h2m1 0h2m5 0h2m9 0h2m4 0h2m1 0h2m-29 2h2m4 0h2m15 0h2m-1 0h2m2 0h2m14 0h2m24 0h2m-94 1h2m37 0h2m15 0h2m12 0h2m1 0h2m26 0h2m-104 1h2m3 0h2m2 0h2m3 0h2m13 0h2m11 0h2m11 0h2m-34 1h2m10 0h2m8 0h2m12 0h2m-50 1h2m39 0h2m-36 1h2m-1 0h2m15 0h2m1 0h2m0 0h2m4 0h2m32 0h2m-34 1h2m0 0h2m4 0h2m3 0h2m-65 1h2m3 0h2m1 0h2m2 0h2m5 0h2m14 0h2m3 0h2m0 0h2m28 0h2m41 0h2m-115 1h2m0 0h2m28 0h2m5 0h2m0 0h2m10 0h2m19 0h2m3 0h2m4 0h2m-86 1h2m17 0h2m-1 0h2m35 0h2m-1 0h2m-53 1h2m3 0h2m24 0h2m2 0h2m19 0h2m9 0h2m-51 1h2m5 0h2m17 0h2m-37 1h2m1 0h2m6 0h2m2 0h2m4 0h2m3 0h2m20 0h2m-67 1h2m0 0h2m16 0h2m7 0h2m8 0h2m-1 0h2m-1 0h2m-17 1h2m7 0h2m1 0h2m59 0h2m-100 1h2m6 0h2m13 0h2m-1 0h2m31 0h2m7 0h2m-63 1h2m8 0h2m2 0h2m13 0h2m4 0h2m4 0h2m0 0h2m24 0h2m-1 0h2m19 0h2m12 0h2m-98 1h2m43 0h2m-48 1h2m9 0h2m4 0h2m18 0h2m-53 1h2m2 0h2m14 0h2m-1 0h2m2 0h2m0 0h2m5 0h2m0 0h2m3 0h2m7 0h2m4 0h2m9 0h2m41 1h2m-97 1h2m14 0h2m57 0h2m-70 1h2m55 0h2m0 0h2m20 0h2m-65 1h2m47 0h2m-88 1h2m8 0h2m19 0h2m16 0h2m21 0h2m-78 1h2m19 0h2m11 0h2m7 0h2m9 0h2m3 0h2m16 0h2m-58 1h2m5 0h2m10 0h2m6 0h2m49 0h2m-83 1h2m3 0h2m3 0h2m5 0h2m2 0h2m7 0h2m11 0h2m1 0h2m-52 1h2m15 0h2m70 0h2m-98 1h2m12 0h2m70 0h2m-93 1h2m3 0h2m5 0h2m8 0h2m21 0h2m-27 1h2m0 0h2m3 0h2m0 0h2m11 0h2m12 0h2m5 0h2m-41 1h2m6 0h2m0 0h2m11 0h2m22 0h2m-15 1h2m42 0h2m3 0h2m-99 1h2m25 0h2m9 0h2m1 0h2m16 0h2"/>
<path transform="scale(0.5)" fill="none" stroke="#651E68" stroke-width="2.4" d="m780 89h2m-58 1h2m30 1h2m-45 1h2m1 3h2m29 0h2m-31 1h2m13 0h2m-24 1h2m12 2h2m-6 1h2m1 0h2m-4 1h2m-29 1h2m22 0h2m74 0h2m-32 1h2m-37 1h2m-26 1h2m12 0h2m4 0h2m34 0h2m-55 1h2m41 1h2m14 0h2m-58 1h2m-8 1h2m8 0h2m-3 1h2m56 0h2m-65 1h2m4 0h2m36 0h2m18 0h2m-63 1h2m2 0h2m10 0h2m21 0h2m-43 1h2m49 0h2m-57 1h2m0 0h2m32 0h2m56 0h2m-104 1h2m4 0h2m15 0h2m5 0h2m15 0h2m9 0h2m6 0h2m-71 1h2m15 0h2m4 0h2m8 0h2m20 0h2m30 0h2m6 0h2m-93 1h2m2 0h2m41 0h2m20 0h2m7 0h2m-85 1h2m3 0h2m8 0h2m27 0h2m6 0h2m13 0h2m8 0h2m-76 1h2m4 0h2m21 0h2m0 0h2m6 0h2m2 0h2m24 0h2m1 0h2m8 0h2m-86 1h2m1 0h2m0 0h2m19 0h2m5 0h2m14 0h2m5 0h2m2 0h2m6 0h2m-70 1h2m0 0h2m4 0h2m25 0h2m3 0h2m0 0h2m0 0h2m3 0h2m97 0h2m-147 1h2m3 0h2m6 0h2m9 0h2m8 0h2m3 0h2m0 0h2m13 0h2m2 0h2m7 0h2m6 0h2m5 0h2m12 0h2m-74 1h2m26 0h2m8 0h2m22 0h2m4 0h2m-1 0h2m7 0h2m5 0h2m-109 1h2m7 0h2m0 0h2m0 0h2m2 0h2m-1 0h2m-1 0h2m-1 0h2m1 0h2m21 0h2m12 0h2m-57 1h2m7 0h2m1 0h2m-1 0h2m2 0h2m11 0h2m13 0h2m2 0h2m0 0h2m10 0h2m-74 1h2m-1 0h2m2 0h2m3 0h2m4 0h2m7 0h2m4 0h2m36 0h2m-71 1h2m15 0h2m6 0h2m-1 0h2m-1 0h2m3 0h2m10 0h2m0 0h2m0 0h2m-1 0h2m0 0h2m4 0h2m-1 0h2m4 0h2m1 0h2m0 0h2m42 0h2m-111 1h2m1 0h2m0 0h2m0 0h2m5 0h2m12 0h2m16 0h2m-1 0h2m0 0h2m6 0h2m9 0h2m3 0h2m18 0h2m-1 0h2m3 0h2m43 0h2m-144 1h2m9 0h2m-1 0h2m1 0h2m4 0h2m4 0h2m0 0h2m4 0h2m3 0h2m-1 0h2m0 0h2m5 0h2m2 0h2m1 0h2m1 0h2m8 0h2m3 0h2m9 0h2m6 0h2m-101 1h2m-1 0h2m10 0h2m16 0h2m0 0h2m0 0h2m-1 0h2m9 0h2m-1 0h2m1 0h2m11 0h2m3 0h2m0 0h2m1 0h2m1 0h2m4 0h2m2 0h2m5 0h2m-99 1h2m-1 0h2m5 0h2m1 0h2m0 0h2m1 0h2m13 0h2m3 0h2m5 0h2m2 0h2m-1 0h2m-1 0h2m2 0h2m2 0h2m0 0h2m2 0h2m-1 0h2m-1 0h2m3 0h2m0 0h2m3 0h2m6 0h2m0 0h2m21 0h2m29 0h2m-144 1h2m-1 0h2m1 0h2m5 0h2m2 0h2m-1 0h2m7 0h2m7 0h2m2 0h2m3 0h2m1 0h2m7 0h2m2 0h2m0 0h2m3 0h2m6 0h2m31 0h2m7 0h2m-117 1h2m4 0h2m6 0h2m0 0h2m1 0h2m1 0h2m-1 0h2m6 0h2m5 0h2m5 0h2m0 0h2m-1 0h2m0 0h2m0 0h2m12 0h2m-1 0h2m7 0h2m10 0h2m-84 1h2m3 0h2m-1 0h2m-1 0h2m7 0h2m-1 0h2m1 0h2m16 0h2m3 0h2m-1 0h2m0 0h2m6 0h2m1 0h2m5 0h2m5 0h2m7 0h2m-1 0h2m4 0h2m-94 1h2m-1 0h2m-1 0h2m-1 0h2m4 0h2m16 0h2m-1 0h2m-1 0h2m-1 0h2m0 0h2m2 0h2m-1 0h2m-1 0h2m0 0h2m4 0h2m4 0h2m2 0h2m5 0h2m0 0h2m0 0h2m7 0h2m8 0h2m-87 1h2m2 0h2m0 0h2m1 0h2m-1 0h2m2 0h2m2 0h2m3 0h2m7 0h2m0 0h2m0 0h2m8 0h2m-1 0h2m0 0h2m-1 0h2m-1 0h2m3 0h2m-1 0h2m3 0h2m0 0h2m11 0h2m-1 0h2m12 0h2m5 0h2m1 0h2m1 0h2m1 0h2m14 0h2m-123 1h2m0 0h2m1 0h2m4 0h2m8 0h2m2 0h2m0 0h2m3 0h2m2 0h2m-1 0h2m-1 0h2m1 0h2m4 0h2m1 0h2m0 0h2m0 0h2m9 0h2m-1 0h2m0 0h2m4 0h2m1 0h2m-1 0h2m4 0h2m0 0h2m0 0h2m12 0h2m21 0h2m-123 1h2m2 0h2m0 0h2m9 0h2m0 0h2m1 0h2m2 0h2m4 0h2m0 0h2m0 0h2m3 0h2m1 0h2m4 0h2m0 0h2m-1 0h2m2 0h2m1 0h2m6 0h2m1 0h2m27 0h2m3 0h2m1 0h2m0 0h2m2 0h2m5 0h2m-133 1h2m-1 0h2m2 0h2m1 0h2m1 0h2m-1 0h2m5 0h2m5 0h2m4 0h2m-1 0h2m9 0h2m2 0h2m2 0h2m9 0h2m0 0h2m6 0h2m-1 0h2m0 0h2m0 0h2m-1 0h2m2 0h2m-1 0h2m9 0h2m5 0h2m19 0h2m-116 1h2m3 0h2m4 0h2m-1 0h2m-1 0h2m1 0h2m-1 0h2m3 0h2m7 0h2m3 0h2m-1 0h2m0 0h2m0 0h2m0 0h2m2 0h2m0 0h2m-1 0h2m2 0h2m-1 0h2m3 0h2m1 0h2m1 0h2m0 0h2m-1 0h2m-1 0h2m9 0h2m-1 0h2m0 0h2m6 0h2m7 0h2m5 0h2m-119 1h2m4 0h2m0 0h2m0 0h2m-1 0h2m0 0h2m3 0h2m9 0h2m0 0h2m0 0h2m5 0h2m7 0h2m5 0h2m1 0h2m-1 0h2m0 0h2m-1 0h2m5 0h2m-1 0h2m1 0h2m-1 0h2m14 0h2m1 0h2m-96 1h2m1 0h2m1 0h2m0 0h2m5 0h2m0 0h2m1 0h2m-1 0h2m1 0h2m2 0h2m0 0h2m0 0h2m3 0h2m1 0h2m-1 0h2m2 0h2m-1 0h2m4 0h2m7 0h2m14 0h2m2 0h2m3 0h2m16 0h2m-1 0h2m18 0h2m-122 1h2m4 0h2m3 0h2m4 0h2m0 0h2m1 0h2m0 0h2m-1 0h2m1 0h2m4 0h2m0 0h2m-1 0h2m10 0h2m0 0h2m-1 0h2m-1 0h2m3 0h2m-1 0h2m1 0h2m0 0h2m3 0h2m-1 0h2m-1 0h2m-1 0h2m2 0h2m0 0h2m1 0h2m12 0h2m8 0h2m2 0h2m16 0h2m-132 1h2m0 0h2m-1 0h2m3 0h2m-1 0h2m6 0h2m-1 0h2m-1 0h2m1 0h2m-1 0h2m-1 0h2m0 0h2m5 0h2m4 0h2m2 0h2m0 0h2m-1 0h2m6 0h2m6 0h2m2 0h2m2 0h2m6 0h2m5 0h2m25 0h2m-1 0h2m6 0h2m15 0h2m-135 1h2m0 0h2m0 0h2m2 0h2m3 0h2m-1 0h2m-1 0h2m2 0h2m0 0h2m2 0h2m0 0h2m-1 0h2m-1 0h2m2 0h2m1 0h2m0 0h2m2 0h2m0 0h2m-1 0h2m0 0h2m4 0h2m6 0h2m-1 0h2m6 0h2m-1 0h2m-1 0h2m-1 0h2m4 0h2m2 0h2m0 0h2m29 0h2m-1 0h2m24 0h2m2 0h2m-154 1h2m0 0h2m0 0h2m2 0h2m0 0h2m-1 0h2m1 0h2m0 0h2m3 0h2m5 0h2m1 0h2m0 0h2m-1 0h2m-1 0h2m-1 0h2m-1 0h2m-1 0h2m0 0h2m0 0h2m0 0h2m0 0h2m-1 0h2m3 0h2m2 0h2m3 0h2m0 0h2m2 0h2m0 0h2m4 0h2m0 0h2m9 0h2m5 0h2m0 0h2m0 0h2m-1 0h2m20 0h2m-126 1h2m1 0h2m0 0h2m-1 0h2m3 0h2m3 0h2m6 0h2m-1 0h2m-1 0h2m0 0h2m3 0h2m-1 0h2m0 0h2m0 0h2m0 0h2m1 0h2m1 0h2m0 0h2m-1 0h2m3 0h2m0 0h2m-1 0h2m10 0h2m3 0h2m11 0h2m1 0h2m10 0h2m-1 0h2m11 0h2m-1 0h2m1 0h2m-1 0h2m-122 1h2m1 0h2m-1 0h2m3 0h2m3 0h2m4 0h2m0 0h2m0 0h2m3 0h2m2 0h2m-1 0h2m0 0h2m-1 0h2m0 0h2m0 0h2m7 0h2m0 0h2m1 0h2m-1 0h2m3 0h2m-1 0h2m4 0h2m2 0h2m0 0h2m-1 0h2m0 0h2m2 0h2m0 0h2m1 0h2m0 0h2m0 0h2m8 0h2m3 0h2m-1 0h2m5 0h2m2 0h2m5 0h2m-122 1h2m-1 0h2m5 0h2m-1 0h2m1 0h2m0 0h2m4 0h2m1 0h2m0 0h2m6 0h2m0 0h2m2 0h2m0 0h2m1 0h2m-1 0h2m-1 0h2m0 0h2m-1 0h2m-1 0h2m9 0h2m0 0h2m0 0h2m7 0h2m-1 0h2m-1 0h2m3 0h2m11 0h2m1 0h2m5 0h2m-1 0h2m0 0h2m16 0h2m-133 1h2m0 0h2m5 0h2m4 0h2m1 0h2m-1 0h2m6 0h2m5 0h2m6 0h2m-1 0h2m-1 0h2m-1 0h2m-1 0h2m1 0h2m0 0h2m5 0h2m-1 0h2m-1 0h2m-1 0h2m1 0h2m5 0h2m-1 0h2m3 0h2m0 0h2m-1 0h2m0 0h2m4 0h2m1 0h2m0 0h2m-1 0h2m-1 0h2m2 0h2m0 0h2m0 0h2m0 0h2m-1 0h2m2 0h2m3 0h2m-1 0h2m5 0h2m-125 1h2m3 0h2m-1 0h2m2 0h2m0 0h2m3 0h2m0 0h2m2 0h2m-1 0h2m0 0h2m3 0h2m0 0h2m5 0h2m1 0h2m0 0h2m1 0h2m-1 0h2m0 0h2m0 0h2m2 0h2m1 0h2m0 0h2m-1 0h2m2 0h2m0 0h2m0 0h2m1 0h2m-1 0h2m0 0h2m-1 0h2m8 0h2m-1 0h2m0 0h2m-1 0h2m0 0h2m-1 0h2m3 0h2m8 0h2m0 0h2m2 0h2m8 0h2m1 0h2m-130 1h2m3 0h2m2 0h2m1 0h2m12 0h2m1 0h2m0 0h2m-1 0h2m-1 0h2m3 0h2m0 0h2m0 0h2m1 0h2m4 0h2m0 0h2m-1 0h2m1 0h2m2 0h2m3 0h2m0 0h2m0 0h2m-1 0h2m-1 0h2m6 0h2m0 0h2m-1 0h2m4 0h2m0 0h2m1 0h2m-1 0h2m1 0h2m-1 0h2m-1 0h2m12 0h2m7 0h2m23 0h2m3 0h2m10 0h2m-159 1h2m1 0h2m0 0h2m3 0h2m0 0h2m0 0h2m-1 0h2m0 0h2m3 0h2m7 0h2m-1 0h2m8 0h2m0 0h2m-1 0h2m0 0h2m6 0h2m-1 0h2m-1 0h2m0 0h2m7 0h2m-1 0h2m0 0h2m-1 0h2m1 0h2m-1 0h2m3 0h2m-1 0h2m2 0h2m0 0h2m1 0h2m-1 0h2m13 0h2m14 0h2m-133 1h2m0 0h2m-1 0h2m-1 0h2m0 0h2m-1 0h2m4 0h2m1 0h2m-1 0h2m3 0h2m2 0h2m3 0h2m0 0h2m-1 0h2m-1 0h2m0 0h2m5 0h2m-1 0h2m-1 0h2m4 0h2m-1 0h2m0 0h2m7 0h2m3 0h2m-1 0h2m0 0h2m-1 0h2m0 0h2m6 0h2m0 0h2m4 0h2m2 0h2m-1 0h2m0 0h2m1 0h2m0 0h2m9 0h2m0 0h2m1 0h2m34 0h2m-156 1h2m-1 0h2m1 0h2m-1 0h2m1 0h2m-1 0h2m1 0h2m2 0h2m-1 0h2m-1 0h2m7 0h2m-1 0h2m1 0h2m-1 0h2m0 0h2m-1 0h2m-1 0h2m4 0h2m1 0h2m-1 0h2m0 0h2m-1 0h2m-1 0h2m-1 0h2m0 0h2m1 0h2m-1 0h2m-1 0h2m-1 0h2m0 0h2m0 0h2m8 0h2m-1 0h2m-1 0h2m-1 0h2m1 0h2m0 0h2m-1 0h2m-1 0h2m7 0h2m2 0h2m2 0h2m10 0h2m5 0h2m4 0h2m18 0h2m1 0h2m12 0h2m-166 1h2m4 0h2m6 0h2m-1 0h2m-1 0h2m4 0h2m1 0h2m2 0h2m4 0h2m-1 0h2m2 0h2m1 0h2m4 0h2m-1 0h2m0 0h2m2 0h2m-1 0h2m3 0h2m1 0h2m1 0h2m-1 0h2m-1 0h2m0 0h2m0 0h2m1 0h2m-1 0h2m-1 0h2m-1 0h2m4 0h2m-1 0h2m0 0h2m1 0h2m-1 0h2m11 0h2m0 0h2m2 0h2m0 0h2m-1 0h2m12 0h2m40 0h2m-173 1h2m3 0h2m-1 0h2m3 0h2m1 0h2m4 0h2m5 0h2m-1 0h2m2 0h2m0 0h2m-1 0h2m-1 0h2m1 0h2m3 0h2m-1 0h2m0 0h2m0 0h2m2 0h2m1 0h2m-1 0h2m0 0h2m0 0h2m0 0h2m3 0h2m-1 0h2m0 0h2m-1 0h2m2 0h2m-1 0h2m0 0h2m0 0h2m0 0h2m4 0h2m4 0h2m1 0h2m3 0h2m3 0h2m0 0h2m0 0h2m1 0h2m17 0h2m35 0h2m-172 1h2m1 0h2m-1 0h2m3 0h2m0 0h2m0 0h2m2 0h2m-1 0h2m1 0h2m0 0h2m-1 0h2m-1 0h2m2 0h2m0 0h2m2 0h2m-1 0h2m-1 0h2m0 0h2m-1 0h2m1 0h2m0 0h2m6 0h2m5 0h2m-1 0h2m-1 0h2m0 0h2m0 0h2m6 0h2m0 0h2m1 0h2m0 0h2m-1 0h2m9 0h2m1 0h2m-1 0h2m12 0h2m12 0h2m6 0h2m3 0h2m6 0h2m-149 1h2m6 0h2m2 0h2m2 0h2m0 0h2m1 0h2m0 0h2m7 0h2m2 0h2m6 0h2m0 0h2m0 0h2m1 0h2m-1 0h2m-1 0h2m1 0h2m-1 0h2m5 0h2m3 0h2m0 0h2m1 0h2m-1 0h2m-1 0h2m7 0h2m0 0h2m-1 0h2m3 0h2m-1 0h2m-1 0h2m-1 0h2m-1 0h2m0 0h2m0 0h2m1 0h2m-1 0h2m0 0h2m1 0h2m4 0h2m18 0h2m2 0h2m4 0h2m-1 0h2m-149 1h2m2 0h2m0 0h2m2 0h2m2 0h2m1 0h2m10 0h2m2 0h2m2 0h2m6 0h2m1 0h2m3 0h2m-1 0h2m1 0h2m-1 0h2m-1 0h2m-1 0h2m2 0h2m0 0h2m3 0h2m0 0h2m-1 0h2m2 0h2m0 0h2m0 0h2m-1 0h2m0 0h2m4 0h2m0 0h2m-1 0h2m2 0h2m5 0h2m0 0h2m-1 0h2m1 0h2m4 0h2m6 0h2m0 0h2m-1 0h2m3 0h2m-1 0h2m4 0h2m-1 0h2m1 0h2m6 0h2m-152 1h2m1 0h2m3 0h2m2 0h2m-1 0h2m-1 0h2m0 0h2m6 0h2m8 0h2m8 0h2m-1 0h2m4 0h2m-1 0h2m-1 0h2m1 0h2m-1 0h2m-1 0h2m-1 0h2m-1 0h2m-1 0h2m0 0h2m-1 0h2m-1 0h2m2 0h2m0 0h2m0 0h2m-1 0h2m0 0h2m1 0h2m-1 0h2m0 0h2m0 0h2m3 0h2m-1 0h2m2 0h2m1 0h2m-1 0h2m0 0h2m0 0h2m6 0h2m-1 0h2m15 0h2m11 0h2m17 0h2m-164 1h2m-1 0h2m4 0h2m19 0h2m2 0h2m-1 0h2m0 0h2m0 0h2m-1 0h2m4 0h2m5 0h2m-1 0h2m3 0h2m-1 0h2m-1 0h2m1 0h2m-1 0h2m1 0h2m-1 0h2m2 0h2m0 0h2m-1 0h2m1 0h2m-1 0h2m-1 0h2m-1 0h2m0 0h2m0 0h2m2 0h2m1 0h2m0 0h2m-1 0h2m-1 0h2m-1 0h2m0 0h2m-1 0h2m-1 0h2m1 0h2m1 0h2m8 0h2m11 0h2m7 0h2m14 0h2m3 0h2m4 0h2m-164 1h2m6 0h2m-1 0h2m-1 0h2m-1 0h2m5 0h2m-1 0h2m1 0h2m-1 0h2m-1 0h2m1 0h2m3 0h2m2 0h2m0 0h2m5 0h2m-1 0h2m-1 0h2m-1 0h2m-1 0h2m1 0h2m-1 0h2m1 0h2m2 0h2m0 0h2m1 0h2m1 0h2m0 0h2m-1 0h2m2 0h2m1 0h2m-1 0h2m-1 0h2m-1 0h2m1 0h2m-1 0h2m-1 0h2m2 0h2m-1 0h2m-1 0h2m-1 0h2m-1 0h2m1 0h2m1 0h2m-1 0h2m12 0h2m-1 0h2m-1 0h2m5 0h2m5 0h2m2 0h2m3 0h2m6 0h2m4 0h2m-158 1h2m5 0h2m0 0h2m-1 0h2m3 0h2m1 0h2m0 0h2m-1 0h2m2 0h2m-1 0h2m6 0h2m2 0h2m-1 0h2m-1 0h2m-1 0h2m-1 0h2m1 0h2m-1 0h2m1 0h2m0 0h2m-1 0h2m0 0h2m2 0h2m-1 0h2m0 0h2m0 0h2m0 0h2m0 0h2m-1 0h2m-1 0h2m-1 0h2m-1 0h2m-1 0h2m-1 0h2m4 0h2m0 0h2m-1 0h2m-1 0h2m0 0h2m8 0h2m-1 0h2m-1 0h2m0 0h2m1 0h2m1 0h2m0 0h2m0 0h2m6 0h2m0 0h2m0 0h2m14 0h2m14 0h2m-151 1h2m0 0h2m1 0h2m5 0h2m3 0h2m0 0h2m1 0h2m3 0h2m-1 0h2m2 0h2m4 0h2m-1 0h2m-1 0h2m1 0h2m-1 0h2m4 0h2m1 0h2m-1 0h2m1 0h2m-1 0h2m0 0h2m-1 0h2m-1 0h2m1 0h2m0 0h2m-1 0h2m1 0h2m-1 0h2m-1 0h2m4 0h2m-1 0h2m1 0h2m0 0h2m1 0h2m1 0h2m-1 0h2m-1 0h2m-1 0h2m3 0h2m1 0h2m3 0h2m2 0h2m2 0h2m1 0h2m4 0h2m-1 0h2m4 0h2m2 0h2m-134 1h2m0 0h2m6 0h2m-1 0h2m2 0h2m-1 0h2m-1 0h2m0 0h2m-1 0h2m0 0h2m3 0h2m1 0h2m2 0h2m2 0h2m-1 0h2m3 0h2m-1 0h2m-1 0h2m-1 0h2m-1 0h2m0 0h2m3 0h2m-1 0h2m0 0h2m3 0h2m1 0h2m-1 0h2m0 0h2m2 0h2m0 0h2m-1 0h2m2 0h2m6 0h2m-1 0h2m-1 0h2m0 0h2m-1 0h2m2 0h2m-1 0h2m4 0h2m3 0h2m10 0h2m1 0h2m-1 0h2m4 0h2m14 0h2m-154 1h2m3 0h2m-1 0h2m-1 0h2m7 0h2m4 0h2m1 0h2m2 0h2m3 0h2m-1 0h2m-1 0h2m-1 0h2m-1 0h2m-1 0h2m-1 0h2m-1 0h2m0 0h2m-1 0h2m-1 0h2m0 0h2m0 0h2m0 0h2m0 0h2m-1 0h2m1 0h2m2 0h2m-1 0h2m1 0h2m2 0h2m0 0h2m-1 0h2m5 0h2m0 0h2m1 0h2m3 0h2m1 0h2m-1 0h2m-1 0h2m6 0h2m2 0h2m2 0h2m-1 0h2m3 0h2m3 0h2m15 0h2m2 0h2m4 0h2m0 0h2m22 0h2m-174 1h2m2 0h2m12 0h2m1 0h2m-1 0h2m-1 0h2m-1 0h2m2 0h2m0 0h2m2 0h2m1 0h2m-1 0h2m3 0h2m2 0h2m0 0h2m-1 0h2m-1 0h2m2 0h2m-1 0h2m0 0h2m-1 0h2m-1 0h2m-1 0h2m-1 0h2m1 0h2m-1 0h2m0 0h2m-1 0h2m-1 0h2m-1 0h2m-1 0h2m1 0h2m1 0h2m0 0h2m3 0h2m-1 0h2m0 0h2m-1 0h2m-1 0h2m0 0h2m-1 0h2m2 0h2m11 0h2m-1 0h2m1 0h2m-1 0h2m0 0h2m3 0h2m14 0h2m-144 1h2m5 0h2m2 0h2m0 0h2m4 0h2m6 0h2m11 0h2m0 0h2m2 0h2m-1 0h2m1 0h2m2 0h2m-1 0h2m-1 0h2m0 0h2m1 0h2m-1 0h2m0 0h2m-1 0h2m-1 0h2m-1 0h2m0 0h2m2 0h2m-1 0h2m-1 0h2m0 0h2m-1 0h2m-1 0h2m-1 0h2m2 0h2m-1 0h2m4 0h2m-1 0h2m1 0h2m1 0h2m-1 0h2m4 0h2m2 0h2m-1 0h2m1 0h2m1 0h2m14 0h2m-1 0h2m-124 1h2m2 0h2m0 0h2m1 0h2m1 0h2m-1 0h2m1 0h2m1 0h2m1 0h2m4 0h2m7 0h2m1 0h2m1 0h2m1 0h2m1 0h2m-1 0h2m-1 0h2m6 0h2m1 0h2m-1 0h2m1 0h2m-1 0h2m0 0h2m3 0h2m2 0h2m2 0h2m0 0h2m-1 0h2m0 0h2m-1 0h2m0 0h2m0 0h2m2 0h2m13 0h2m5 0h2m25 0h2m5 0h2m-161 1h2m14 0h2m-1 0h2m3 0h2m3 0h2m0 0h2m0 0h2m0 0h2m0 0h2m-1 0h2m2 0h2m-1 0h2m-1 0h2m-1 0h2m0 0h2m1 0h2m0 0h2m-1 0h2m1 0h2m5 0h2m0 0h2m0 0h2m-1 0h2m5 0h2m3 0h2m2 0h2m-1 0h2m0 0h2m-1 0h2m-1 0h2m1 0h2m1 0h2m2 0h2m2 0h2m-1 0h2m-1 0h2m2 0h2m-1 0h2m3 0h2m19 0h2m-141 1h2m0 0h2m-1 0h2m6 0h2m11 0h2m1 0h2m3 0h2m-1 0h2m0 0h2m0 0h2m-1 0h2m12 0h2m-1 0h2m-1 0h2m-1 0h2m1 0h2m8 0h2m-1 0h2m-1 0h2m-1 0h2m2 0h2m-1 0h2m8 0h2m5 0h2m0 0h2m1 0h2m0 0h2m6 0h2m0 0h2m0 0h2m-1 0h2m2 0h2m-1 0h2m2 0h2m2 0h2m5 0h2m-1 0h2m6 0h2m-144 1h2m2 0h2m8 0h2m-1 0h2m5 0h2m0 0h2m1 0h2m-1 0h2m0 0h2m0 0h2m3 0h2m5 0h2m2 0h2m-1 0h2m0 0h2m3 0h2m-1 0h2m11 0h2m-1 0h2m0 0h2m-1 0h2m0 0h2m-1 0h2m1 0h2m-1 0h2m-1 0h2m0 0h2m-1 0h2m5 0h2m2 0h2m-1 0h2m2 0h2m-1 0h2m2 0h2m8 0h2m3 0h2m14 0h2m36 0h2m-176 1h2m1 0h2m-1 0h2m0 0h2m2 0h2m0 0h2m3 0h2m-1 0h2m4 0h2m4 0h2m2 0h2m-1 0h2m2 0h2m0 0h2m0 0h2m0 0h2m2 0h2m3 0h2m0 0h2m0 0h2m3 0h2m-1 0h2m0 0h2m-1 0h2m-1 0h2m4 0h2m-1 0h2m2 0h2m-1 0h2m4 0h2m3 0h2m4 0h2m-1 0h2m2 0h2m5 0h2m8 0h2m0 0h2m-1 0h2m0 0h2m2 0h2m0 0h2m8 0h2m-138 1h2m8 0h2m12 0h2m-1 0h2m1 0h2m2 0h2m-1 0h2m2 0h2m4 0h2m6 0h2m0 0h2m6 0h2m2 0h2m-1 0h2m0 0h2m-1 0h2m-1 0h2m7 0h2m-1 0h2m0 0h2m2 0h2m-1 0h2m7 0h2m0 0h2m2 0h2m-1 0h2m0 0h2m-1 0h2m-1 0h2m0 0h2m-1 0h2m0 0h2m2 0h2m5 0h2m0 0h2m0 0h2m-131 1h2m20 0h2m3 0h2m0 0h2m1 0h2m0 0h2m-1 0h2m-1 0h2m2 0h2m-1 0h2m-1 0h2m-1 0h2m0 0h2m1 0h2m0 0h2m11 0h2m3 0h2m-1 0h2m0 0h2m-1 0h2m3 0h2m0 0h2m1 0h2m0 0h2m-1 0h2m0 0h2m1 0h2m2 0h2m1 0h2m6 0h2m-1 0h2m4 0h2m13 0h2m-1 0h2m5 0h2m14 0h2m-149 1h2m0 0h2m0 0h2m7 0h2m20 0h2m5 0h2m0 0h2m1 0h2m3 0h2m-1 0h2m0 0h2m1 0h2m0 0h2m-1 0h2m3 0h2m9 0h2m-1 0h2m0 0h2m2 0h2m-1 0h2m-1 0h2m0 0h2m-1 0h2m-1 0h2m-1 0h2m0 0h2m-1 0h2m-1 0h2m-1 0h2m6 0h2m4 0h2m-1 0h2m-1 0h2m-1 0h2m7 0h2m1 0h2m20 0h2m22 0h2m-177 1h2m10 0h2m8 0h2m6 0h2m2 0h2m9 0h2m0 0h2m2 0h2m-1 0h2m-1 0h2m-1 0h2m-1 0h2m2 0h2m3 0h2m0 0h2m0 0h2m1 0h2m3 0h2m0 0h2m1 0h2m0 0h2m0 0h2m-1 0h2m-1 0h2m-1 0h2m0 0h2m3 0h2m0 0h2m5 0h2m-1 0h2m2 0h2m-1 0h2m-1 0h2m2 0h2m5 0h2m3 0h2m-1 0h2m4 0h2m1 0h2m0 0h2m1 0h2m2 0h2m0 0h2m7 0h2m-148 1h2m6 0h2m2 0h2m2 0h2m2 0h2m1 0h2m2 0h2m-1 0h2m-1 0h2m2 0h2m10 0h2m3 0h2m2 0h2m2 0h2m-1 0h2m0 0h2m6 0h2m1 0h2m3 0h2m0 0h2m1 0h2m-1 0h2m4 0h2m7 0h2m2 0h2m2 0h2m0 0h2m3 0h2m10 0h2m6 0h2m-148 1h2m-1 0h2m8 0h2m4 0h2m8 0h2m7 0h2m0 0h2m2 0h2m6 0h2m6 0h2m0 0h2m-1 0h2m0 0h2m2 0h2m-1 0h2m-1 0h2m1 0h2m2 0h2m-1 0h2m3 0h2m-1 0h2m-1 0h2m1 0h2m3 0h2m1 0h2m-1 0h2m-1 0h2m-1 0h2m6 0h2m0 0h2m-1 0h2m-1 0h2m0 0h2m0 0h2m3 0h2m4 0h2m0 0h2m-1 0h2m8 0h2m7 0h2m-145 1h2m15 0h2m1 0h2m1 0h2m9 0h2m0 0h2m1 0h2m-1 0h2m1 0h2m3 0h2m0 0h2m0 0h2m1 0h2m6 0h2m-1 0h2m2 0h2m0 0h2m0 0h2m-1 0h2m1 0h2m-1 0h2m4 0h2m0 0h2m5 0h2m3 0h2m-1 0h2m-1 0h2m-1 0h2m-1 0h2m-1 0h2m1 0h2m-1 0h2m-1 0h2m0 0h2m5 0h2m3 0h2m-1 0h2m10 0h2m28 0h2m-169 1h2m14 0h2m-1 0h2m8 0h2m3 0h2m1 0h2m5 0h2m1 0h2m2 0h2m-1 0h2m6 0h2m7 0h2m2 0h2m2 0h2m0 0h2m1 0h2m0 0h2m0 0h2m-1 0h2m1 0h2m1 0h2m-1 0h2m5 0h2m-1 0h2m2 0h2m5 0h2m1 0h2m-1 0h2m2 0h2m3 0h2m0 0h2m2 0h2m2 0h2m1 0h2m6 0h2m-145 1h2m4 0h2m4 0h2m-1 0h2m0 0h2m4 0h2m8 0h2m15 0h2m-1 0h2m11 0h2m1 0h2m0 0h2m0 0h2m3 0h2m-1 0h2m-1 0h2m-1 0h2m1 0h2m-1 0h2m-1 0h2m-1 0h2m1 0h2m5 0h2m0 0h2m-1 0h2m2 0h2m1 0h2m10 0h2m0 0h2m0 0h2m-1 0h2m12 0h2m5 0h2m0 0h2m19 0h2m6 0h2m-170 1h2m6 0h2m1 0h2m6 0h2m-1 0h2m6 0h2m-1 0h2m-1 0h2m11 0h2m0 0h2m1 0h2m0 0h2m-1 0h2m-1 0h2m0 0h2m4 0h2m3 0h2m5 0h2m3 0h2m-1 0h2m3 0h2m-1 0h2m0 0h2m0 0h2m-1 0h2m-1 0h2m-1 0h2m3 0h2m-1 0h2m2 0h2m-1 0h2m0 0h2m-1 0h2m0 0h2m1 0h2m11 0h2m5 0h2m-1 0h2m0 0h2m9 0h2m7 0h2m12 0h2m-170 1h2m0 0h2m2 0h2m1 0h2m3 0h2m2 0h2m7 0h2m7 0h2m2 0h2m5 0h2m0 0h2m-1 0h2m-1 0h2m3 0h2m2 0h2m2 0h2m5 0h2m2 0h2m2 0h2m1 0h2m-1 0h2m2 0h2m-1 0h2m0 0h2m0 0h2m1 0h2m4 0h2m0 0h2m5 0h2m-1 0h2m6 0h2m0 0h2m-1 0h2m9 0h2m8 0h2m-1 0h2m7 0h2m13 0h2m-167 1h2m6 0h2m-1 0h2m3 0h2m0 0h2m8 0h2m3 0h2m0 0h2m1 0h2m0 0h2m5 0h2m2 0h2m13 0h2m1 0h2m3 0h2m5 0h2m-1 0h2m3 0h2m4 0h2m-1 0h2m0 0h2m6 0h2m3 0h2m0 0h2m5 0h2m0 0h2m-118 1h2m6 0h2m6 0h2m-1 0h2m-1 0h2m2 0h2m-1 0h2m0 0h2m2 0h2m5 0h2m0 0h2m-1 0h2m-1 0h2m-1 0h2m4 0h2m-1 0h2m2 0h2m3 0h2m4 0h2m-1 0h2m-1 0h2m-1 0h2m-1 0h2m-1 0h2m-1 0h2m3 0h2m-1 0h2m0 0h2m5 0h2m-1 0h2m0 0h2m-1 0h2m-1 0h2m-1 0h2m2 0h2m1 0h2m15 0h2m15 0h2m5 0h2m20 0h2m-172 1h2m-1 0h2m12 0h2m6 0h2m1 0h2m1 0h2m0 0h2m5 0h2m0 0h2m5 0h2m2 0h2m0 0h2m1 0h2m0 0h2m7 0h2m2 0h2m3 0h2m2 0h2m1 0h2m4 0h2m0 0h2m1 0h2m1 0h2m3 0h2m-1 0h2m0 0h2m1 0h2m-1 0h2m-1 0h2m3 0h2m-1 0h2m3 0h2m1 0h2m1 0h2m10 0h2m-1 0h2m3 0h2m-1 0h2m-1 0h2m-137 1h2m6 0h2m1 0h2m2 0h2m10 0h2m11 0h2m1 0h2m2 0h2m-1 0h2m-1 0h2m2 0h2m0 0h2m1 0h2m5 0h2m-1 0h2m-1 0h2m2 0h2m4 0h2m-1 0h2m-1 0h2m0 0h2m2 0h2m-1 0h2m3 0h2m8 0h2m1 0h2m0 0h2m6 0h2m0 0h2m3 0h2m-136 1h2m28 0h2m3 0h2m2 0h2m2 0h2m1 0h2m6 0h2m1 0h2m1 0h2m1 0h2m1 0h2m-1 0h2m-1 0h2m-1 0h2m0 0h2m-1 0h2m1 0h2m1 0h2m13 0h2m2 0h2m0 0h2m9 0h2m4 0h2m4 0h2m10 0h2m34 0h2m-171 1h2m5 0h2m11 0h2m4 0h2m6 0h2m0 0h2m2 0h2m5 0h2m8 0h2m2 0h2m-1 0h2m16 0h2m5 0h2m-1 0h2m-1 0h2m0 0h2m7 0h2m0 0h2m-1 0h2m7 0h2m1 0h2m7 0h2m1 0h2m-1 0h2m1 0h2m7 0h2m9 0h2m2 0h2m5 0h2m-163 1h2m23 0h2m3 0h2m13 0h2m5 0h2m-1 0h2m-1 0h2m-1 0h2m3 0h2m0 0h2m8 0h2m0 0h2m0 0h2m-1 0h2m-1 0h2m7 0h2m-1 0h2m6 0h2m0 0h2m4 0h2m-1 0h2m-1 0h2m5 0h2m1 0h2m0 0h2m-1 0h2m0 0h2m5 0h2m-1 0h2m3 0h2m14 0h2m-125 1h2m7 0h2m-1 0h2m1 0h2m1 0h2m0 0h2m4 0h2m-1 0h2m14 0h2m2 0h2m8 0h2m2 0h2m3 0h2m0 0h2m5 0h2m0 0h2m-1 0h2m2 0h2m26 0h2m3 0h2m6 0h2m9 0h2m4 0h2m9 0h2m-143 1h2m6 0h2m0 0h2m1 0h2m-1 0h2m-1 0h2m15 0h2m0 0h2m0 0h2m-1 0h2m6 0h2m-1 0h2m6 0h2m1 0h2m6 0h2m9 0h2m0 0h2m2 0h2m-1 0h2m3 0h2m3 0h2m3 0h2m-1 0h2m8 0h2m-1 0h2m15 0h2m-157 1h2m18 0h2m9 0h2m0 0h2m-1 0h2m-1 0h2m5 0h2m0 0h2m7 0h2m15 0h2m5 0h2m-1 0h2m0 0h2m1 0h2m3 0h2m0 0h2m0 0h2m-1 0h2m2 0h2m6 0h2m2 0h2m0 0h2m-1 0h2m-1 0h2m-1 0h2m20 0h2m3 0h2m-1 0h2m-137 1h2m8 0h2m15 0h2m-1 0h2m1 0h2m3 0h2m7 0h2m4 0h2m1 0h2m11 0h2m1 0h2m15 0h2m-1 0h2m4 0h2m8 0h2m5 0h2m4 0h2m6 0h2m0 0h2m17 0h2m-152 1h2m10 0h2m11 0h2m0 0h2m1 0h2m4 0h2m7 0h2m1 0h2m6 0h2m-1 0h2m0 0h2m2 0h2m9 0h2m9 0h2m6 0h2m1 0h2m-1 0h2m-1 0h2m0 0h2m4 0h2m3 0h2m19 0h2m5 0h2m1 0h2m-127 1h2m16 0h2m0 0h2m3 0h2m-1 0h2m7 0h2m0 0h2m-1 0h2m-1 0h2m2 0h2m-1 0h2m-1 0h2m0 0h2m-1 0h2m-1 0h2m1 0h2m-1 0h2m2 0h2m0 0h2m1 0h2m5 0h2m3 0h2m-1 0h2m2 0h2m-1 0h2m5 0h2m8 0h2m2 0h2m3 0h2m1 0h2m11 0h2m-154 1h2m21 0h2m27 0h2m3 0h2m7 0h2m3 0h2m-1 0h2m2 0h2m7 0h2m3 0h2m2 0h2m3 0h2m-1 0h2m-1 0h2m-1 0h2m1 0h2m0 0h2m10 0h2m0 0h2m1 0h2m2 0h2m0 0h2m8 0h2m10 0h2m-122 1h2m13 0h2m0 0h2m9 0h2m1 0h2m1 0h2m5 0h2m-1 0h2m2 0h2m1 0h2m1 0h2m4 0h2m1 0h2m11 0h2m6 0h2m14 0h2m9 0h2m23 0h2m-127 1h2m6 0h2m4 0h2m1 0h2m2 0h2m0 0h2m1 0h2m1 0h2m-1 0h2m5 0h2m6 0h2m0 0h2m0 0h2m0 0h2m2 0h2m0 0h2m2 0h2m2 0h2m2 0h2m11 0h2m2 0h2m2 0h2m-106 1h2m5 0h2m9 0h2m1 0h2m-1 0h2m0 0h2m1 0h2m6 0h2m21 0h2m1 0h2m2 0h2m3 0h2m0 0h2m2 0h2m6 0h2m-1 0h2m30 0h2m-1 0h2m10 0h2m1 0h2m9 0h2m-172 1h2m27 0h2m3 0h2m21 0h2m15 0h2m7 0h2m-1 0h2m1 0h2m7 0h2m1 0h2m10 0h2m8 0h2m24 0h2m22 0h2m-165 1h2m9 0h2m35 0h2m14 0h2m1 0h2m2 0h2m3 0h2m-1 0h2m3 0h2m0 0h2m3 0h2m-1 0h2m2 0h2m2 0h2m-1 0h2m7 0h2m0 0h2m-1 0h2m11 0h2m0 0h2m5 0h2m27 0h2m-151 1h2m12 0h2m34 0h2m0 0h2m0 0h2m15 0h2m-1 0h2m0 0h2m3 0h2m6 0h2m2 0h2m-1 0h2m11 0h2m1 0h2m1 0h2m26 0h2m-162 1h2m-1 0h2m7 0h2m9 0h2m16 0h2m12 0h2m12 0h2m-1 0h2m-1 0h2m5 0h2m0 0h2m1 0h2m10 0h2m0 0h2m0 0h2m20 0h2m5 0h2m8 0h2m2 0h2m4 0h2m-123 1h2m0 0h2m15 0h2m7 0h2m9 0h2m1 0h2m3 0h2m6 0h2m10 0h2m9 0h2m9 0h2m7 0h2m2 0h2m0 0h2m4 0h2m0 0h2m0 0h2m14 0h2m-111 1h2m3 0h2m1 0h2m14 0h2m4 0h2m9 0h2m11 0h2m0 0h2m1 0h2m0 0h2m44 0h2"/>
<path transform="scale(0.5)" fill="none" stroke="#A64F9A" stroke-width="2.4" d="m734 89h2m-25 12h2m15 3h2m64 0h2m-75 1h2m56 0h2m-76 1h2m32 1h2m16 0h2m15 0h2m-47 2h2m-25 1h2m18 0h2m37 0h2m-62 2h2m10 0h2m-18 1h2m115 0h2m-99 2h2m13 0h2m7 0h2m41 0h2m-89 1h2m13 0h2m16 0h2m-25 1h2m-1 0h2m17 0h2m6 0h2m33 0h2m-39 1h2m25 0h2m1 0h2m32 0h2m-87 1h2m5 0h2m5 1h2m8 0h2m17 0h2m17 0h2m-60 1h2m18 0h2m4 0h2m-45 1h2m38 0h2m-26 1h2m0 0h2m-12 1h2m15 0h2m14 0h2m10 0h2m-1 0h2m0 0h2m-1 0h2m5 0h2m-66 1h2m7 0h2m4 0h2m6 0h2m2 0h2m5 0h2m8 0h2m2 0h2m1 0h2m4 0h2m2 0h2m8 0h2m-72 1h2m12 0h2m2 0h2m15 0h2m5 0h2m-28 1h2m9 0h2m0 0h2m2 0h2m14 0h2m0 0h2m-1 0h2m-1 0h2m2 0h2m6 0h2m9 0h2m-54 1h2m3 0h2m0 0h2m7 0h2m1 0h2m7 0h2m-1 0h2m-1 0h2m0 0h2m-1 0h2m12 0h2m0 0h2m12 0h2m-1 0h2m-89 1h2m3 0h2m8 0h2m2 0h2m0 0h2m9 0h2m-1 0h2m6 0h2m26 0h2m17 0h2m-75 1h2m1 0h2m2 0h2m4 0h2m3 0h2m3 0h2m5 0h2m-1 0h2m3 0h2m8 0h2m21 0h2m-88 1h2m3 0h2m2 0h2m1 0h2m2 0h2m0 0h2m3 0h2m19 0h2m10 0h2m17 0h2m-82 1h2m0 0h2m0 0h2m-1 0h2m0 0h2m2 0h2m7 0h2m7 0h2m0 0h2m1 0h2m4 0h2m0 0h2m-1 0h2m11 0h2m15 0h2m17 0h2m-82 1h2m4 0h2m2 0h2m12 0h2m-1 0h2m-1 0h2m2 0h2m-1 0h2m1 0h2m-1 0h2m0 0h2m0 0h2m1 0h2m-1 0h2m-1 0h2m6 0h2m0 0h2m2 0h2m-1 0h2m10 0h2m-67 1h2m0 0h2m3 0h2m7 0h2m3 0h2m-1 0h2m-1 0h2m1 0h2m2 0h2m2 0h2m-1 0h2m-1 0h2m3 0h2m2 0h2m9 0h2m1 0h2m4 0h2m1 0h2m-1 0h2m9 0h2m-98 1h2m4 0h2m12 0h2m-1 0h2m-1 0h2m-1 0h2m1 0h2m-1 0h2m0 0h2m3 0h2m7 0h2m0 0h2m9 0h2m-1 0h2m-1 0h2m-1 0h2m4 0h2m1 0h2m1 0h2m0 0h2m0 0h2m15 0h2m-93 1h2m2 0h2m-1 0h2m0 0h2m1 0h2m-1 0h2m4 0h2m10 0h2m1 0h2m11 0h2m-1 0h2m-1 0h2m0 0h2m-1 0h2m1 0h2m0 0h2m6 0h2m-1 0h2m3 0h2m0 0h2m6 0h2m5 0h2m2 0h2m-1 0h2m-75 1h2m1 0h2m7 0h2m0 0h2m-1 0h2m3 0h2m-1 0h2m2 0h2m-1 0h2m1 0h2m0 0h2m1 0h2m4 0h2m-1 0h2m0 0h2m-1 0h2m6 0h2m-1 0h2m3 0h2m-81 1h2m25 0h2m-1 0h2m-1 0h2m2 0h2m3 0h2m-1 0h2m-1 0h2m-1 0h2m-1 0h2m-1 0h2m2 0h2m0 0h2m5 0h2m3 0h2m0 0h2m-1 0h2m-1 0h2m-1 0h2m0 0h2m1 0h2m-1 0h2m3 0h2m3 0h2m6 0h2m1 0h2m4 0h2m-92 1h2m3 0h2m-1 0h2m-1 0h2m3 0h2m1 0h2m-1 0h2m4 0h2m4 0h2m-1 0h2m-1 0h2m1 0h2m-1 0h2m3 0h2m0 0h2m-1 0h2m0 0h2m6 0h2m-1 0h2m1 0h2m8 0h2m0 0h2m11 0h2m1 0h2m-90 1h2m4 0h2m5 0h2m4 0h2m1 0h2m1 0h2m-1 0h2m0 0h2m2 0h2m1 0h2m0 0h2m-1 0h2m3 0h2m-1 0h2m-1 0h2m-1 0h2m-1 0h2m-1 0h2m0 0h2m-1 0h2m3 0h2m1 0h2m-1 0h2m0 0h2m-1 0h2m0 0h2m-1 0h2m3 0h2m1 0h2m1 0h2m8 0h2m-92 1h2m3 0h2m3 0h2m-1 0h2m0 0h2m5 0h2m4 0h2m-1 0h2m-1 0h2m5 0h2m-1 0h2m10 0h2m-1 0h2m2 0h2m0 0h2m1 0h2m1 0h2m-1 0h2m4 0h2m-1 0h2m11 0h2m1 0h2m-1 0h2m0 0h2m3 0h2m-89 1h2m11 0h2m-1 0h2m3 0h2m1 0h2m0 0h2m-1 0h2m3 0h2m0 0h2m-1 0h2m-1 0h2m2 0h2m2 0h2m-1 0h2m3 0h2m-1 0h2m0 0h2m1 0h2m8 0h2m0 0h2m0 0h2m0 0h2m1 0h2m0 0h2m5 0h2m3 0h2m-1 0h2m-1 0h2m-97 1h2m0 0h2m8 0h2m-1 0h2m0 0h2m4 0h2m2 0h2m1 0h2m2 0h2m2 0h2m3 0h2m6 0h2m1 0h2m1 0h2m-1 0h2m-1 0h2m-1 0h2m-1 0h2m-1 0h2m-1 0h2m3 0h2m-1 0h2m0 0h2m4 0h2m6 0h2m2 0h2m2 0h2m0 0h2m1 0h2m4 0h2m-1 0h2m-88 1h2m4 0h2m2 0h2m-1 0h2m-1 0h2m-1 0h2m-1 0h2m2 0h2m-1 0h2m1 0h2m0 0h2m-1 0h2m-1 0h2m3 0h2m-1 0h2m-1 0h2m-1 0h2m0 0h2m0 0h2m-1 0h2m0 0h2m1 0h2m-1 0h2m1 0h2m-1 0h2m13 0h2m1 0h2m0 0h2m-90 1h2m7 0h2m11 0h2m0 0h2m0 0h2m2 0h2m-1 0h2m0 0h2m-1 0h2m2 0h2m-1 0h2m1 0h2m-1 0h2m-1 0h2m0 0h2m-1 0h2m1 0h2m1 0h2m-1 0h2m1 0h2m0 0h2m0 0h2m2 0h2m1 0h2m4 0h2m1 0h2m-1 0h2m1 0h2m-1 0h2m3 0h2m-87 1h2m11 0h2m-1 0h2m3 0h2m1 0h2m1 0h2m0 0h2m1 0h2m-1 0h2m-1 0h2m-1 0h2m-1 0h2m-1 0h2m2 0h2m0 0h2m0 0h2m0 0h2m-1 0h2m-1 0h2m-1 0h2m-1 0h2m2 0h2m-1 0h2m0 0h2m0 0h2m-1 0h2m-1 0h2m5 0h2m-1 0h2m2 0h2m-1 0h2m0 0h2m-1 0h2m-1 0h2m1 0h2m-1 0h2m8 0h2m1 0h2m-1 0h2m-1 0h2m2 0h2m5 0h2m1 0h2m-115 1h2m5 0h2m5 0h2m1 0h2m2 0h2m2 0h2m2 0h2m-1 0h2m2 0h2m1 0h2m5 0h2m-1 0h2m0 0h2m-1 0h2m-1 0h2m1 0h2m-1 0h2m-1 0h2m-1 0h2m0 0h2m0 0h2m-1 0h2m1 0h2m-1 0h2m2 0h2m-1 0h2m1 0h2m0 0h2m-1 0h2m-1 0h2m-1 0h2m2 0h2m1 0h2m-1 0h2m9 0h2m-1 0h2m0 0h2m6 0h2m16 0h2m-115 1h2m1 0h2m6 0h2m0 0h2m0 0h2m-1 0h2m5 0h2m-1 0h2m-1 0h2m-1 0h2m0 0h2m-1 0h2m2 0h2m-1 0h2m-1 0h2m1 0h2m3 0h2m0 0h2m0 0h2m-1 0h2m-1 0h2m0 0h2m-1 0h2m-1 0h2m-1 0h2m-1 0h2m2 0h2m3 0h2m0 0h2m-1 0h2m-1 0h2m2 0h2m0 0h2m-1 0h2m-1 0h2m2 0h2m0 0h2m10 0h2m-107 1h2m6 0h2m8 0h2m5 0h2m1 0h2m-1 0h2m-1 0h2m-1 0h2m1 0h2m-1 0h2m-1 0h2m-1 0h2m1 0h2m-1 0h2m0 0h2m-1 0h2m-1 0h2m1 0h2m-1 0h2m1 0h2m-1 0h2m-1 0h2m-1 0h2m-1 0h2m-1 0h2m-1 0h2m0 0h2m-1 0h2m2 0h2m0 0h2m-1 0h2m-1 0h2m-1 0h2m0 0h2m1 0h2m-1 0h2m2 0h2m1 0h2m0 0h2m0 0h2m1 0h2m6 0h2m4 0h2m2 0h2m-109 1h2m-1 0h2m4 0h2m1 0h2m-1 0h2m3 0h2m1 0h2m-1 0h2m1 0h2m-1 0h2m-1 0h2m2 0h2m0 0h2m0 0h2m2 0h2m0 0h2m-1 0h2m0 0h2m-1 0h2m2 0h2m3 0h2m-1 0h2m-1 0h2m0 0h2m-1 0h2m0 0h2m0 0h2m-1 0h2m0 0h2m-1 0h2m1 0h2m-1 0h2m0 0h2m-1 0h2m-1 0h2m-1 0h2m-1 0h2m-1 0h2m0 0h2m1 0h2m2 0h2m-1 0h2m-1 0h2m2 0h2m0 0h2m12 0h2m-110 1h2m1 0h2m4 0h2m-1 0h2m-1 0h2m-1 0h2m0 0h2m4 0h2m-1 0h2m-1 0h2m4 0h2m1 0h2m1 0h2m-1 0h2m-1 0h2m-1 0h2m0 0h2m0 0h2m-1 0h2m1 0h2m2 0h2m-1 0h2m-1 0h2m-1 0h2m-1 0h2m1 0h2m0 0h2m-1 0h2m-1 0h2m-1 0h2m-1 0h2m0 0h2m-1 0h2m-1 0h2m0 0h2m0 0h2m-1 0h2m8 0h2m3 0h2m3 0h2m2 0h2m-90 1h2m0 0h2m3 0h2m0 0h2m-1 0h2m-1 0h2m1 0h2m-1 0h2m-1 0h2m2 0h2m0 0h2m-1 0h2m-1 0h2m-1 0h2m1 0h2m-1 0h2m-1 0h2m2 0h2m-1 0h2m0 0h2m1 0h2m-1 0h2m0 0h2m-1 0h2m0 0h2m-1 0h2m1 0h2m2 0h2m-1 0h2m1 0h2m0 0h2m-1 0h2m-1 0h2m-1 0h2m-1 0h2m-1 0h2m-1 0h2m-1 0h2m-1 0h2m1 0h2m-1 0h2m5 0h2m-1 0h2m1 0h2m2 0h2m1 0h2m2 0h2m17 0h2m-123 1h2m6 0h2m14 0h2m-1 0h2m0 0h2m-1 0h2m-1 0h2m-1 0h2m0 0h2m1 0h2m-1 0h2m-1 0h2m-1 0h2m-1 0h2m0 0h2m0 0h2m0 0h2m-1 0h2m-1 0h2m-1 0h2m-1 0h2m-1 0h2m-1 0h2m0 0h2m0 0h2m-1 0h2m2 0h2m-1 0h2m-1 0h2m1 0h2m0 0h2m-1 0h2m0 0h2m0 0h2m-1 0h2m5 0h2m1 0h2m-1 0h2m-1 0h2m1 0h2m0 0h2m1 0h2m2 0h2m4 0h2m22 0h2m-128 1h2m6 0h2m6 0h2m3 0h2m1 0h2m1 0h2m-1 0h2m-1 0h2m0 0h2m-1 0h2m-1 0h2m0 0h2m-1 0h2m-1 0h2m0 0h2m0 0h2m-1 0h2m0 0h2m0 0h2m-1 0h2m0 0h2m-1 0h2m-1 0h2m-1 0h2m-1 0h2m-1 0h2m-1 0h2m0 0h2m-1 0h2m0 0h2m0 0h2m2 0h2m0 0h2m0 0h2m2 0h2m4 0h2m0 0h2m-1 0h2m4 0h2m0 0h2m-1 0h2m1 0h2m1 0h2m0 0h2m-1 0h2m-1 0h2m3 0h2m1 0h2m0 0h2m-113 1h2m3 0h2m11 0h2m0 0h2m-1 0h2m-1 0h2m0 0h2m0 0h2m0 0h2m-1 0h2m-1 0h2m0 0h2m-1 0h2m-1 0h2m1 0h2m2 0h2m-1 0h2m2 0h2m-1 0h2m0 0h2m0 0h2m-1 0h2m-1 0h2m0 0h2m-1 0h2m0 0h2m-1 0h2m0 0h2m-1 0h2m-1 0h2m1 0h2m0 0h2m-1 0h2m-1 0h2m-1 0h2m5 0h2m0 0h2m-1 0h2m3 0h2m-1 0h2m29 0h2m9 0h2m-133 1h2m4 0h2m6 0h2m1 0h2m-1 0h2m2 0h2m-1 0h2m1 0h2m0 0h2m-1 0h2m-1 0h2m0 0h2m5 0h2m-1 0h2m1 0h2m0 0h2m2 0h2m1 0h2m0 0h2m0 0h2m-1 0h2m-1 0h2m-1 0h2m-1 0h2m2 0h2m0 0h2m1 0h2m-1 0h2m-1 0h2m-1 0h2m3 0h2m-1 0h2m4 0h2m2 0h2m4 0h2m-1 0h2m-93 1h2m-1 0h2m11 0h2m-1 0h2m3 0h2m0 0h2m0 0h2m-1 0h2m-1 0h2m-1 0h2m0 0h2m0 0h2m0 0h2m0 0h2m0 0h2m-1 0h2m1 0h2m-1 0h2m-1 0h2m-1 0h2m-1 0h2m-1 0h2m0 0h2m0 0h2m2 0h2m-1 0h2m0 0h2m-1 0h2m-1 0h2m-1 0h2m0 0h2m-1 0h2m-1 0h2m0 0h2m-1 0h2m-1 0h2m0 0h2m0 0h2m0 0h2m0 0h2m0 0h2m1 0h2m-1 0h2m2 0h2m-1 0h2m9 0h2m13 0h2m3 0h2m-123 1h2m1 0h2m2 0h2m0 0h2m5 0h2m5 0h2m0 0h2m0 0h2m-1 0h2m-1 0h2m0 0h2m-1 0h2m0 0h2m6 0h2m1 0h2m0 0h2m1 0h2m-1 0h2m-1 0h2m-1 0h2m-1 0h2m-1 0h2m-1 0h2m1 0h2m-1 0h2m-1 0h2m0 0h2m-1 0h2m0 0h2m0 0h2m2 0h2m-1 0h2m-1 0h2m0 0h2m-1 0h2m-1 0h2m2 0h2m-1 0h2m0 0h2m2 0h2m2 0h2m16 0h2m-106 1h2m-1 0h2m4 0h2m7 0h2m2 0h2m-1 0h2m0 0h2m2 0h2m-1 0h2m-1 0h2m0 0h2m0 0h2m-1 0h2m5 0h2m0 0h2m-1 0h2m0 0h2m2 0h2m-1 0h2m-1 0h2m-1 0h2m-1 0h2m-1 0h2m-1 0h2m1 0h2m0 0h2m-1 0h2m-1 0h2m-1 0h2m1 0h2m-1 0h2m-1 0h2m-1 0h2m1 0h2m-1 0h2m-1 0h2m-1 0h2m1 0h2m6 0h2m-1 0h2m0 0h2m-1 0h2m6 0h2m-107 1h2m12 0h2m-1 0h2m1 0h2m8 0h2m-1 0h2m-1 0h2m2 0h2m1 0h2m-1 0h2m-1 0h2m-1 0h2m-1 0h2m0 0h2m-1 0h2m-1 0h2m0 0h2m1 0h2m1 0h2m-1 0h2m-1 0h2m0 0h2m-1 0h2m-1 0h2m0 0h2m-1 0h2m1 0h2m1 0h2m2 0h2m-1 0h2m0 0h2m-1 0h2m5 0h2m-1 0h2m-1 0h2m2 0h2m0 0h2m0 0h2m-1 0h2m-1 0h2m0 0h2m4 0h2m0 0h2m-1 0h2m-109 1h2m2 0h2m-1 0h2m2 0h2m4 0h2m1 0h2m6 0h2m-1 0h2m-1 0h2m1 0h2m0 0h2m0 0h2m-1 0h2m0 0h2m-1 0h2m-1 0h2m-1 0h2m-1 0h2m0 0h2m-1 0h2m-1 0h2m1 0h2m0 0h2m-1 0h2m-1 0h2m-1 0h2m-1 0h2m0 0h2m0 0h2m1 0h2m1 0h2m-1 0h2m-1 0h2m0 0h2m-1 0h2m0 0h2m3 0h2m4 0h2m2 0h2m0 0h2m-1 0h2m-1 0h2m1 0h2m3 0h2m6 0h2m0 0h2m-106 1h2m3 0h2m0 0h2m3 0h2m1 0h2m4 0h2m-1 0h2m1 0h2m-1 0h2m1 0h2m0 0h2m-1 0h2m3 0h2m-1 0h2m0 0h2m-1 0h2m-1 0h2m0 0h2m-1 0h2m-1 0h2m-1 0h2m-1 0h2m1 0h2m-1 0h2m-1 0h2m-1 0h2m-1 0h2m0 0h2m-1 0h2m-1 0h2m0 0h2m-1 0h2m-1 0h2m-1 0h2m0 0h2m-1 0h2m-1 0h2m-1 0h2m-1 0h2m-1 0h2m-1 0h2m1 0h2m2 0h2m4 0h2m7 0h2m-1 0h2m1 0h2m-1 0h2m11 0h2m22 0h2m-142 1h2m0 0h2m0 0h2m11 0h2m-1 0h2m0 0h2m1 0h2m-1 0h2m2 0h2m0 0h2m0 0h2m0 0h2m0 0h2m-1 0h2m-1 0h2m-1 0h2m-1 0h2m-1 0h2m0 0h2m-1 0h2m-1 0h2m-1 0h2m-1 0h2m-1 0h2m0 0h2m1 0h2m0 0h2m-1 0h2m-1 0h2m0 0h2m-1 0h2m-1 0h2m-1 0h2m-1 0h2m-1 0h2m-1 0h2m0 0h2m-1 0h2m-1 0h2m-1 0h2m-1 0h2m-1 0h2m-1 0h2m1 0h2m-1 0h2m-1 0h2m-1 0h2m-1 0h2m0 0h2m-1 0h2m0 0h2m0 0h2m8 0h2m1 0h2m3 0h2m7 0h2m1 0h2m2 0h2m-121 1h2m3 0h2m1 0h2m0 0h2m3 0h2m5 0h2m-1 0h2m1 0h2m0 0h2m-1 0h2m1 0h2m-1 0h2m0 0h2m0 0h2m-1 0h2m2 0h2m-1 0h2m-1 0h2m0 0h2m-1 0h2m1 0h2m-1 0h2m4 0h2m-1 0h2m-1 0h2m-1 0h2m-1 0h2m-1 0h2m1 0h2m0 0h2m-1 0h2m-1 0h2m-1 0h2m0 0h2m1 0h2m0 0h2m3 0h2m-1 0h2m2 0h2m3 0h2m0 0h2m-1 0h2m4 0h2m4 0h2m5 0h2m-110 1h2m0 0h2m-1 0h2m0 0h2m-1 0h2m4 0h2m2 0h2m-1 0h2m-1 0h2m-1 0h2m-1 0h2m-1 0h2m0 0h2m0 0h2m-1 0h2m-1 0h2m-1 0h2m-1 0h2m-1 0h2m-1 0h2m-1 0h2m2 0h2m-1 0h2m1 0h2m-1 0h2m-1 0h2m-1 0h2m-1 0h2m2 0h2m-1 0h2m-1 0h2m-1 0h2m-1 0h2m-1 0h2m1 0h2m-1 0h2m-1 0h2m0 0h2m-1 0h2m-1 0h2m1 0h2m-1 0h2m-1 0h2m-1 0h2m-1 0h2m0 0h2m-1 0h2m-1 0h2m-1 0h2m6 0h2m0 0h2m1 0h2m10 0h2m-1 0h2m-1 0h2m-107 1h2m3 0h2m0 0h2m0 0h2m-1 0h2m1 0h2m1 0h2m0 0h2m6 0h2m-1 0h2m0 0h2m0 0h2m-1 0h2m-1 0h2m-1 0h2m-1 0h2m-1 0h2m-1 0h2m4 0h2m-1 0h2m-1 0h2m-1 0h2m0 0h2m0 0h2m0 0h2m1 0h2m-1 0h2m1 0h2m0 0h2m-1 0h2m-1 0h2m-1 0h2m0 0h2m-1 0h2m1 0h2m4 0h2m-1 0h2m1 0h2m1 0h2m-1 0h2m0 0h2m8 0h2m-1 0h2m-1 0h2m2 0h2m-106 1h2m2 0h2m0 0h2m5 0h2m-1 0h2m0 0h2m-1 0h2m0 0h2m1 0h2m-1 0h2m0 0h2m0 0h2m2 0h2m0 0h2m-1 0h2m-1 0h2m3 0h2m-1 0h2m-1 0h2m-1 0h2m-1 0h2m-1 0h2m2 0h2m-1 0h2m-1 0h2m-1 0h2m-1 0h2m-1 0h2m-1 0h2m0 0h2m-1 0h2m-1 0h2m0 0h2m-1 0h2m-1 0h2m1 0h2m-1 0h2m-1 0h2m7 0h2m1 0h2m-1 0h2m-1 0h2m0 0h2m0 0h2m0 0h2m7 0h2m18 0h2m-108 1h2m0 0h2m2 0h2m4 0h2m-1 0h2m0 0h2m0 0h2m1 0h2m1 0h2m-1 0h2m-1 0h2m-1 0h2m-1 0h2m1 0h2m-1 0h2m1 0h2m1 0h2m0 0h2m-1 0h2m-1 0h2m2 0h2m-1 0h2m-1 0h2m-1 0h2m-1 0h2m-1 0h2m-1 0h2m-1 0h2m-1 0h2m2 0h2m-1 0h2m0 0h2m-1 0h2m-1 0h2m-1 0h2m2 0h2m-1 0h2m-1 0h2m0 0h2m-1 0h2m6 0h2m5 0h2m1 0h2m5 0h2m23 0h2m-136 1h2m7 0h2m7 0h2m1 0h2m0 0h2m3 0h2m-1 0h2m0 0h2m-1 0h2m0 0h2m-1 0h2m-1 0h2m-1 0h2m1 0h2m-1 0h2m-1 0h2m-1 0h2m0 0h2m-1 0h2m-1 0h2m-1 0h2m1 0h2m-1 0h2m-1 0h2m-1 0h2m-1 0h2m1 0h2m2 0h2m0 0h2m-1 0h2m-1 0h2m-1 0h2m-1 0h2m-1 0h2m1 0h2m-1 0h2m0 0h2m-1 0h2m-1 0h2m-1 0h2m0 0h2m-1 0h2m-1 0h2m-1 0h2m0 0h2m1 0h2m-1 0h2m-1 0h2m2 0h2m1 0h2m0 0h2m-1 0h2m2 0h2m1 0h2m0 0h2m11 0h2m-104 1h2m-1 0h2m0 0h2m-1 0h2m-1 0h2m2 0h2m-1 0h2m3 0h2m0 0h2m-1 0h2m-1 0h2m3 0h2m-1 0h2m-1 0h2m1 0h2m-1 0h2m1 0h2m-1 0h2m-1 0h2m-1 0h2m0 0h2m-1 0h2m0 0h2m-1 0h2m-1 0h2m-1 0h2m1 0h2m-1 0h2m-1 0h2m-1 0h2m0 0h2m-1 0h2m-1 0h2m-1 0h2m1 0h2m1 0h2m3 0h2m-1 0h2m-1 0h2m4 0h2m1 0h2m0 0h2m0 0h2m0 0h2m9 0h2m-114 1h2m9 0h2m-1 0h2m1 0h2m3 0h2m2 0h2m2 0h2m-1 0h2m2 0h2m2 0h2m-1 0h2m-1 0h2m-1 0h2m-1 0h2m3 0h2m-1 0h2m0 0h2m-1 0h2m1 0h2m-1 0h2m-1 0h2m-1 0h2m-1 0h2m-1 0h2m-1 0h2m-1 0h2m0 0h2m1 0h2m-1 0h2m-1 0h2m-1 0h2m-1 0h2m-1 0h2m0 0h2m-1 0h2m0 0h2m1 0h2m2 0h2m0 0h2m2 0h2m-1 0h2m2 0h2m-1 0h2m0 0h2m23 0h2m-126 1h2m7 0h2m-1 0h2m4 0h2m4 0h2m0 0h2m-1 0h2m4 0h2m-1 0h2m-1 0h2m0 0h2m0 0h2m2 0h2m0 0h2m-1 0h2m0 0h2m0 0h2m-1 0h2m-1 0h2m0 0h2m-1 0h2m-1 0h2m-1 0h2m0 0h2m-1 0h2m-1 0h2m-1 0h2m-1 0h2m-1 0h2m0 0h2m0 0h2m-1 0h2m0 0h2m-1 0h2m1 0h2m-1 0h2m-1 0h2m0 0h2m1 0h2m0 0h2m-1 0h2m0 0h2m0 0h2m1 0h2m1 0h2m-1 0h2m0 0h2m-1 0h2m4 0h2m10 0h2m2 0h2m11 0h2m-120 1h2m0 0h2m-1 0h2m0 0h2m3 0h2m3 0h2m3 0h2m2 0h2m0 0h2m-1 0h2m-1 0h2m-1 0h2m1 0h2m-1 0h2m-1 0h2m-1 0h2m1 0h2m1 0h2m-1 0h2m-1 0h2m-1 0h2m0 0h2m2 0h2m-1 0h2m-1 0h2m0 0h2m-1 0h2m0 0h2m-1 0h2m-1 0h2m-1 0h2m-1 0h2m-1 0h2m0 0h2m-1 0h2m1 0h2m0 0h2m2 0h2m-1 0h2m1 0h2m-1 0h2m1 0h2m0 0h2m1 0h2m2 0h2m4 0h2m9 0h2m6 0h2m-123 1h2m4 0h2m6 0h2m1 0h2m0 0h2m0 0h2m2 0h2m-1 0h2m-1 0h2m-1 0h2m7 0h2m0 0h2m-1 0h2m-1 0h2m0 0h2m0 0h2m1 0h2m1 0h2m-1 0h2m-1 0h2m0 0h2m-1 0h2m2 0h2m-1 0h2m3 0h2m0 0h2m0 0h2m0 0h2m1 0h2m-1 0h2m2 0h2m0 0h2m2 0h2m2 0h2m-1 0h2m10 0h2m0 0h2m-107 1h2m4 0h2m4 0h2m2 0h2m6 0h2m0 0h2m3 0h2m-1 0h2m-1 0h2m0 0h2m0 0h2m3 0h2m0 0h2m-1 0h2m-1 0h2m0 0h2m-1 0h2m0 0h2m3 0h2m-1 0h2m0 0h2m-1 0h2m-1 0h2m1 0h2m-1 0h2m-1 0h2m-1 0h2m-1 0h2m1 0h2m-1 0h2m3 0h2m10 0h2m3 0h2m4 0h2m1 0h2m-114 1h2m6 0h2m6 0h2m-1 0h2m7 0h2m2 0h2m7 0h2m-1 0h2m1 0h2m0 0h2m0 0h2m0 0h2m-1 0h2m0 0h2m-1 0h2m-1 0h2m-1 0h2m2 0h2m1 0h2m-1 0h2m-1 0h2m-1 0h2m0 0h2m0 0h2m-1 0h2m2 0h2m-1 0h2m-1 0h2m-1 0h2m-1 0h2m2 0h2m1 0h2m1 0h2m2 0h2m1 0h2m-1 0h2m3 0h2m0 0h2m2 0h2m0 0h2m7 0h2m-121 1h2m13 0h2m4 0h2m0 0h2m-1 0h2m-1 0h2m0 0h2m-1 0h2m3 0h2m4 0h2m-1 0h2m-1 0h2m3 0h2m-1 0h2m3 0h2m-1 0h2m0 0h2m-1 0h2m3 0h2m-1 0h2m-1 0h2m-1 0h2m1 0h2m-1 0h2m0 0h2m0 0h2m-1 0h2m0 0h2m1 0h2m1 0h2m-1 0h2m0 0h2m0 0h2m0 0h2m-1 0h2m9 0h2m11 0h2m0 0h2m-113 1h2m-1 0h2m8 0h2m8 0h2m2 0h2m-1 0h2m-1 0h2m2 0h2m-1 0h2m0 0h2m-1 0h2m-1 0h2m3 0h2m-1 0h2m-1 0h2m1 0h2m1 0h2m-1 0h2m-1 0h2m3 0h2m-1 0h2m2 0h2m0 0h2m1 0h2m-1 0h2m-1 0h2m0 0h2m-1 0h2m-1 0h2m0 0h2m1 0h2m5 0h2m0 0h2m6 0h2m-1 0h2m3 0h2m-1 0h2m11 0h2m-109 1h2m10 0h2m0 0h2m6 0h2m0 0h2m0 0h2m0 0h2m1 0h2m-1 0h2m0 0h2m-1 0h2m1 0h2m3 0h2m0 0h2m-1 0h2m1 0h2m0 0h2m1 0h2m0 0h2m0 0h2m-1 0h2m0 0h2m-1 0h2m1 0h2m-1 0h2m5 0h2m0 0h2m1 0h2m-1 0h2m4 0h2m2 0h2m-1 0h2m3 0h2m-96 1h2m1 0h2m2 0h2m-1 0h2m7 0h2m0 0h2m0 0h2m-1 0h2m0 0h2m1 0h2m2 0h2m-1 0h2m0 0h2m1 0h2m0 0h2m0 0h2m-1 0h2m-1 0h2m-1 0h2m2 0h2m-1 0h2m0 0h2m1 0h2m2 0h2m0 0h2m-1 0h2m4 0h2m0 0h2m3 0h2m-1 0h2m0 0h2m0 0h2m-1 0h2m-1 0h2m-1 0h2m-1 0h2m-1 0h2m-1 0h2m-1 0h2m-1 0h2m5 0h2m6 0h2m5 0h2m-115 1h2m5 0h2m1 0h2m11 0h2m-1 0h2m-1 0h2m3 0h2m-1 0h2m-1 0h2m0 0h2m-1 0h2m1 0h2m3 0h2m-1 0h2m0 0h2m0 0h2m1 0h2m1 0h2m6 0h2m0 0h2m-1 0h2m-1 0h2m0 0h2m-1 0h2m8 0h2m0 0h2m-1 0h2m-1 0h2m6 0h2m2 0h2m0 0h2m-1 0h2m0 0h2m-100 1h2m4 0h2m-1 0h2m8 0h2m4 0h2m2 0h2m-1 0h2m6 0h2m-1 0h2m1 0h2m0 0h2m-1 0h2m6 0h2m0 0h2m0 0h2m-1 0h2m2 0h2m2 0h2m-1 0h2m-1 0h2m1 0h2m-1 0h2m-1 0h2m-1 0h2m-1 0h2m1 0h2m-1 0h2m0 0h2m4 0h2m0 0h2m0 0h2m1 0h2m6 0h2m1 0h2m-113 1h2m10 0h2m18 0h2m2 0h2m-1 0h2m2 0h2m-1 0h2m1 0h2m1 0h2m-1 0h2m-1 0h2m-1 0h2m0 0h2m-1 0h2m-1 0h2m-1 0h2m-1 0h2m-1 0h2m0 0h2m1 0h2m-1 0h2m-1 0h2m1 0h2m1 0h2m0 0h2m0 0h2m7 0h2m0 0h2m14 0h2m-97 1h2m0 0h2m-1 0h2m8 0h2m9 0h2m-1 0h2m-1 0h2m0 0h2m1 0h2m0 0h2m-1 0h2m-1 0h2m0 0h2m0 0h2m0 0h2m0 0h2m-1 0h2m0 0h2m2 0h2m3 0h2m6 0h2m6 0h2m0 0h2m7 0h2m5 0h2m11 0h2m-111 1h2m5 0h2m8 0h2m2 0h2m1 0h2m-1 0h2m0 0h2m0 0h2m1 0h2m-1 0h2m1 0h2m-1 0h2m-1 0h2m2 0h2m5 0h2m-1 0h2m1 0h2m1 0h2m-1 0h2m-1 0h2m-1 0h2m-1 0h2m-1 0h2m0 0h2m-1 0h2m-1 0h2m-1 0h2m0 0h2m1 0h2m1 0h2m2 0h2m0 0h2m-1 0h2m2 0h2m0 0h2m1 0h2m0 0h2m1 0h2m2 0h2m0 0h2m6 0h2m-1 0h2m1 0h2m0 0h2m-96 1h2m18 0h2m-1 0h2m3 0h2m1 0h2m1 0h2m1 0h2m-1 0h2m2 0h2m3 0h2m1 0h2m8 0h2m-1 0h2m6 0h2m1 0h2m-1 0h2m1 0h2m1 0h2m0 0h2m-1 0h2m7 0h2m1 0h2m-101 1h2m6 0h2m-1 0h2m3 0h2m5 0h2m3 0h2m0 0h2m-1 0h2m-1 0h2m4 0h2m-1 0h2m4 0h2m8 0h2m5 0h2m6 0h2m2 0h2m-1 0h2m3 0h2m3 0h2m4 0h2m2 0h2m7 0h2m-1 0h2m-94 1h2m8 0h2m2 0h2m-1 0h2m1 0h2m-1 0h2m2 0h2m0 0h2m0 0h2m5 0h2m0 0h2m0 0h2m-1 0h2m-1 0h2m0 0h2m2 0h2m24 0h2m-1 0h2m4 0h2m10 0h2m10 0h2m-126 1h2m30 0h2m3 0h2m-1 0h2m0 0h2m7 0h2m10 0h2m0 0h2m-1 0h2m2 0h2m-1 0h2m-1 0h2m1 0h2m5 0h2m0 0h2m2 0h2m-1 0h2m5 0h2m-1 0h2m3 0h2m36 0h2m-124 1h2m4 0h2m4 0h2m0 0h2m-1 0h2m2 0h2m4 0h2m-1 0h2m-1 0h2m5 0h2m5 0h2m1 0h2m-1 0h2m2 0h2m0 0h2m1 0h2m-1 0h2m2 0h2m1 0h2m0 0h2m0 0h2m3 0h2m-1 0h2m0 0h2m5 0h2m1 0h2m3 0h2m-109 1h2m0 0h2m20 0h2m0 0h2m-1 0h2m22 0h2m-1 0h2m-1 0h2m-1 0h2m-1 0h2m0 0h2m-1 0h2m1 0h2m7 0h2m0 0h2m1 0h2m0 0h2m-1 0h2m4 0h2m13 0h2m1 0h2m0 0h2m3 0h2m0 0h2m0 0h2m3 0h2m-96 1h2m19 0h2m0 0h2m10 0h2m0 0h2m1 0h2m0 0h2m1 0h2m4 0h2m-1 0h2m7 0h2m1 0h2m-1 0h2m0 0h2m0 0h2m-93 1h2m13 0h2m4 0h2m0 0h2m0 0h2m1 0h2m-1 0h2m9 0h2m9 0h2m0 0h2m4 0h2m3 0h2m-1 0h2m-1 0h2m4 0h2m-1 0h2m-1 0h2m-1 0h2m4 0h2m0 0h2m0 0h2m10 0h2m28 0h2m8 0h2m-121 1h2m17 0h2m7 0h2m0 0h2m8 0h2m0 0h2m-1 0h2m0 0h2m8 0h2m2 0h2m0 0h2m-1 0h2m22 0h2m-80 1h2m4 0h2m3 0h2m-1 0h2m-1 0h2m0 0h2m-1 0h2m9 0h2m-1 0h2m6 0h2m6 0h2m9 0h2m9 0h2m0 0h2m0 0h2m4 0h2m8 0h2m3 0h2m-118 1h2m24 0h2m4 0h2m5 0h2m1 0h2m15 0h2m14 0h2m1 0h2m-1 0h2m2 0h2m0 0h2m-1 0h2m0 0h2m3 0h2m3 0h2m31 0h2m-126 1h2m23 0h2m-1 0h2m13 0h2m2 0h2m1 0h2m7 0h2m18 0h2m13 0h2m20 0h2m-102 1h2m18 0h2m21 0h2m0 0h2m0 0h2m2 0h2m1 0h2m13 0h2m0 0h2m1 0h2m1 0h2m7 0h2m-1 0h2m-89 1h2m2 0h2m-1 0h2m13 0h2m-1 0h2m15 0h2m0 0h2m0 0h2m6 0h2m0 0h2m17 0h2m5 0h2m-75 1h2m10 0h2m13 0h2m16 0h2m-1 0h2m13 0h2m-1 0h2m-1 0h2m5 0h2m-76 1h2m28 0h2m6 0h2m4 0h2m6 0h2m-45 1h2m0 0h2m12 0h2m2 0h2m10 0h2m1 0h2m12 0h2m0 0h2m5 0h2m27 0h2m-112 1h2m1 0h2m31 0h2m24 0h2m11 0h2m-63 1h2m16 0h2m44 0h2m-74 1h2m28 0h2m5 0h2m0 0h2m-1 0h2m9 0h2m-1 0h2m0 0h2m8 0h2m18 0h2m3 0h2m-84 1h2m24 0h2m6 0h2m38 0h2m-58 1h2m14 0h2m2 0h2m2 0h2m0 0h2m7 0h2m3 0h2m-1 0h2m5 0h2m8 0h2m-62 1h2m25 0h2m3 0h2m36 0h2"/>
<path transform="scale(0.5)" fill="none" stroke="#1B3060" stroke-width="2.4" d="m705 94h2m-5 13h2m-15 3h2m3 1h2m16 1h2m12 0h2m-29 1h2m16 1h2m1 0h2m-19 1h2m-18 1h2m6 0h2m1 1h2m-6 1h2m3 0h2m1 0h2m11 0h2m-24 1h2m28 0h2m-36 1h2m12 0h2m-14 1h2m13 0h2m-14 1h2m1 0h2m0 0h2m8 0h2m-24 1h2m8 0h2m2 0h2m1 0h2m16 0h2m-33 1h2m3 0h2m13 0h2m-21 1h2m4 0h2m5 0h2m21 0h2m-38 1h2m2 0h2m1 0h2m-1 0h2m11 0h2m11 0h2m-32 1h2m-1 0h2m1 0h2m23 0h2m-34 1h2m3 0h2m-4 1h2m1 0h2m-1 0h2m0 0h2m10 0h2m-28 1h2m0 0h2m10 0h2m1 0h2m-1 0h2m0 0h2m1 0h2m6 0h2m-31 1h2m1 0h2m-1 0h2m0 0h2m0 0h2m4 0h2m0 0h2m1 0h2m-20 1h2m7 0h2m0 0h2m-1 0h2m5 0h2m0 0h2m-22 1h2m1 0h2m6 0h2m0 0h2m6 0h2m-21 1h2m0 0h2m-1 0h2m1 0h2m4 0h2m10 0h2m-1 0h2m-33 1h2m0 0h2m7 0h2m1 0h2m6 0h2m1 0h2m3 0h2m0 0h2m-32 1h2m-1 0h2m1 0h2m3 0h2m3 0h2m-1 0h2m-1 0h2m-1 0h2m0 0h2m-23 1h2m2 0h2m5 0h2m1 0h2m0 0h2m1 0h2m6 0h2m-1 0h2m3 0h2m-27 1h2m0 0h2m4 0h2m-1 0h2m0 0h2m0 0h2m1 0h2m-1 0h2m-25 1h2m3 0h2m0 0h2m-1 0h2m1 0h2m2 0h2m-1 0h2m-1 0h2m-1 0h2m2 0h2m2 0h2m4 0h2m-37 1h2m1 0h2m4 0h2m-1 0h2m2 0h2m-1 0h2m-1 0h2m0 0h2m10 0h2m-1 0h2m-1 0h2m1 0h2m-36 1h2m-1 0h2m2 0h2m-1 0h2m2 0h2m2 0h2m0 0h2m0 0h2m1 0h2m1 0h2m5 0h2m1 0h2m-36 1h2m-1 0h2m9 0h2m0 0h2m-1 0h2m-1 0h2m-1 0h2m-1 0h2m-1 0h2m2 0h2m1 0h2m6 0h2m-36 1h2m0 0h2m1 0h2m-1 0h2m-1 0h2m-1 0h2m-1 0h2m-1 0h2m-1 0h2m0 0h2m0 0h2m0 0h2m0 0h2m1 0h2m0 0h2m2 0h2m8 0h2m-40 1h2m1 0h2m2 0h2m6 0h2m-1 0h2m3 0h2m2 0h2m0 0h2m0 0h2m8 0h2m-42 1h2m0 0h2m0 0h2m0 0h2m-1 0h2m1 0h2m1 0h2m-1 0h2m0 0h2m-1 0h2m2 0h2m-1 0h2m0 0h2m-1 0h2m1 0h2m-1 0h2m-1 0h2m2 0h2m9 0h2m-46 1h2m-1 0h2m0 0h2m2 0h2m1 0h2m-1 0h2m-1 0h2m-1 0h2m1 0h2m-1 0h2m4 0h2m3 0h2m2 0h2m-32 1h2m2 0h2m0 0h2m5 0h2m-1 0h2m1 0h2m-1 0h2m-1 0h2m-1 0h2m1 0h2m0 0h2m0 0h2m10 0h2m0 0h2m-45 1h2m4 0h2m0 0h2m6 0h2m1 0h2m1 0h2m0 0h2m-1 0h2m1 0h2m-1 0h2m-1 0h2m0 0h2m4 0h2m2 0h2m-44 1h2m-1 0h2m1 0h2m1 0h2m2 0h2m-1 0h2m2 0h2m-1 0h2m-1 0h2m-1 0h2m0 0h2m-1 0h2m0 0h2m6 0h2m-1 0h2m13 0h2m-49 1h2m0 0h2m0 0h2m-1 0h2m2 0h2m1 0h2m-1 0h2m-1 0h2m-1 0h2m-1 0h2m-1 0h2m0 0h2m-1 0h2m-1 0h2m-1 0h2m3 0h2m-1 0h2m2 0h2m10 0h2m-42 1h2m0 0h2m-1 0h2m0 0h2m-1 0h2m0 0h2m-1 0h2m1 0h2m-1 0h2m1 0h2m-1 0h2m3 0h2m-1 0h2m1 0h2m-1 0h2m-1 0h2m-1 0h2m-1 0h2m-1 0h2m1 0h2m-42 1h2m2 0h2m-1 0h2m-1 0h2m0 0h2m2 0h2m-1 0h2m-1 0h2m0 0h2m0 0h2m1 0h2m-1 0h2m-1 0h2m-1 0h2m0 0h2m-1 0h2m-1 0h2m1 0h2m-1 0h2m2 0h2m-1 0h2m-36 1h2m0 0h2m0 0h2m-1 0h2m-1 0h2m-1 0h2m-1 0h2m2 0h2m2 0h2m2 0h2m-1 0h2m0 0h2m-1 0h2m16 0h2m-47 1h2m2 0h2m-1 0h2m-1 0h2m-1 0h2m0 0h2m0 0h2m0 0h2m0 0h2m-1 0h2m0 0h2m1 0h2m1 0h2m0 0h2m-1 0h2m2 0h2m1 0h2m1 0h2m2 0h2m17 0h2m-59 1h2m-1 0h2m3 0h2m0 0h2m-1 0h2m0 0h2m-1 0h2m4 0h2m0 0h2m-1 0h2m1 0h2m-1 0h2m-1 0h2m0 0h2m1 0h2m0 0h2m1 0h2m-40 1h2m-1 0h2m0 0h2m0 0h2m1 0h2m-1 0h2m-1 0h2m0 0h2m0 0h2m-1 0h2m-1 0h2m-1 0h2m-1 0h2m-1 0h2m-1 0h2m0 0h2m0 0h2m-1 0h2m0 0h2m0 0h2m0 0h2m-1 0h2m-34 1h2m1 0h2m0 0h2m-1 0h2m-1 0h2m0 0h2m-1 0h2m-1 0h2m0 0h2m-1 0h2m-1 0h2m-1 0h2m-1 0h2m-1 0h2m-1 0h2m-1 0h2m-1 0h2m0 0h2m-1 0h2m0 0h2m-1 0h2m2 0h2m0 0h2m-1 0h2m-34 1h2m0 0h2m-1 0h2m0 0h2m-1 0h2m-1 0h2m-1 0h2m-1 0h2m0 0h2m0 0h2m-1 0h2m0 0h2m-1 0h2m-1 0h2m-1 0h2m-1 0h2m-1 0h2m-1 0h2m-1 0h2m-1 0h2m-1 0h2m1 0h2m1 0h2m2 0h2m0 0h2m1 0h2m-41 1h2m3 0h2m-1 0h2m-1 0h2m-1 0h2m4 0h2m-1 0h2m-1 0h2m-1 0h2m-1 0h2m-1 0h2m-1 0h2m2 0h2m-1 0h2m0 0h2m-1 0h2m1 0h2m-1 0h2m8 0h2m-47 1h2m-1 0h2m1 0h2m0 0h2m0 0h2m0 0h2m-1 0h2m0 0h2m-1 0h2m-1 0h2m0 0h2m-1 0h2m-1 0h2m1 0h2m1 0h2m0 0h2m-1 0h2m-1 0h2m0 0h2m-1 0h2m-1 0h2m1 0h2m2 0h2m-43 1h2m1 0h2m0 0h2m-1 0h2m-1 0h2m-1 0h2m2 0h2m0 0h2m-1 0h2m-1 0h2m-1 0h2m1 0h2m0 0h2m1 0h2m-1 0h2m1 0h2m-1 0h2m-1 0h2m0 0h2m3 0h2m3 0h2m-44 1h2m1 0h2m-1 0h2m0 0h2m-1 0h2m-1 0h2m0 0h2m-1 0h2m-1 0h2m-1 0h2m-1 0h2m-1 0h2m-1 0h2m-1 0h2m-1 0h2m-1 0h2m-1 0h2m-1 0h2m-1 0h2m-1 0h2m1 0h2m1 0h2m4 0h2m6 0h2m5 0h2m-53 1h2m-1 0h2m0 0h2m-1 0h2m-1 0h2m-1 0h2m-1 0h2m-1 0h2m-1 0h2m-1 0h2m-1 0h2m-1 0h2m-1 0h2m1 0h2m0 0h2m1 0h2m0 0h2m2 0h2m-1 0h2m-1 0h2m-1 0h2m2 0h2m1 0h2m3 0h2m1 0h2m-44 1h2m0 0h2m-1 0h2m-1 0h2m-1 0h2m1 0h2m1 0h2m1 0h2m-1 0h2m-1 0h2m0 0h2m-1 0h2m-1 0h2m0 0h2m2 0h2m2 0h2m-1 0h2m2 0h2m-39 1h2m-1 0h2m2 0h2m-1 0h2m0 0h2m-1 0h2m-1 0h2m-1 0h2m-1 0h2m0 0h2m0 0h2m-1 0h2m-1 0h2m-1 0h2m0 0h2m-1 0h2m-1 0h2m-1 0h2m-1 0h2m-1 0h2m-1 0h2m-1 0h2m1 0h2m1 0h2m6 0h2m-44 1h2m1 0h2m3 0h2m-1 0h2m-1 0h2m-1 0h2m-1 0h2m-1 0h2m-1 0h2m-1 0h2m1 0h2m-1 0h2m-1 0h2m0 0h2m0 0h2m-1 0h2m-1 0h2m-1 0h2m-1 0h2m0 0h2m0 0h2m-1 0h2m2 0h2m-1 0h2m-40 1h2m0 0h2m0 0h2m1 0h2m-1 0h2m-1 0h2m-1 0h2m-1 0h2m0 0h2m-1 0h2m-1 0h2m-1 0h2m-1 0h2m-1 0h2m-1 0h2m0 0h2m0 0h2m0 0h2m-1 0h2m0 0h2m-1 0h2m7 0h2m-1 0h2m-1 0h2m-41 1h2m2 0h2m-1 0h2m-1 0h2m-1 0h2m-1 0h2m1 0h2m-1 0h2m-1 0h2m0 0h2m-1 0h2m-1 0h2m0 0h2m-1 0h2m0 0h2m0 0h2m-1 0h2m-1 0h2m0 0h2m-1 0h2m1 0h2m-1 0h2m-34 1h2m-1 0h2m0 0h2m-1 0h2m-1 0h2m0 0h2m1 0h2m-1 0h2m-1 0h2m-1 0h2m-1 0h2m0 0h2m-1 0h2m-1 0h2m-1 0h2m-1 0h2m-1 0h2m-1 0h2m5 0h2m-1 0h2m6 0h2m2 0h2m-46 1h2m0 0h2m1 0h2m1 0h2m1 0h2m0 0h2m-1 0h2m0 0h2m-1 0h2m-1 0h2m3 0h2m-1 0h2m1 0h2m0 0h2m-1 0h2m-1 0h2m0 0h2m8 0h2m-1 0h2m-47 1h2m-1 0h2m2 0h2m-1 0h2m0 0h2m2 0h2m-1 0h2m-1 0h2m-1 0h2m-1 0h2m-1 0h2m-1 0h2m-1 0h2m0 0h2m-1 0h2m1 0h2m-1 0h2m3 0h2m4 0h2m6 0h2m-47 1h2m-1 0h2m-1 0h2m0 0h2m0 0h2m-1 0h2m-1 0h2m-1 0h2m-1 0h2m-1 0h2m0 0h2m-1 0h2m-1 0h2m-1 0h2m0 0h2m0 0h2m-1 0h2m5 0h2m-1 0h2m-1 0h2m-1 0h2m3 0h2m2 0h2m-42 1h2m-1 0h2m-1 0h2m-1 0h2m1 0h2m2 0h2m-1 0h2m-1 0h2m-1 0h2m-1 0h2m-1 0h2m-1 0h2m-1 0h2m-1 0h2m-1 0h2m1 0h2m-1 0h2m0 0h2m-1 0h2m0 0h2m-1 0h2m0 0h2m-1 0h2m13 0h2m-48 1h2m0 0h2m-1 0h2m0 0h2m-1 0h2m-1 0h2m-1 0h2m-1 0h2m0 0h2m-1 0h2m-1 0h2m-1 0h2m-1 0h2m-1 0h2m-1 0h2m-1 0h2m-1 0h2m-1 0h2m0 0h2m-1 0h2m0 0h2m-1 0h2m0 0h2m0 0h2m-1 0h2m1 0h2m-1 0h2m2 0h2m-1 0h2m-1 0h2m-42 1h2m-1 0h2m1 0h2m-1 0h2m1 0h2m-1 0h2m0 0h2m-1 0h2m-1 0h2m-1 0h2m-1 0h2m-1 0h2m-1 0h2m-1 0h2m-1 0h2m-1 0h2m0 0h2m0 0h2m-1 0h2m-1 0h2m-1 0h2m1 0h2m3 0h2m-1 0h2m2 0h2m-43 1h2m-1 0h2m-1 0h2m0 0h2m0 0h2m-1 0h2m0 0h2m0 0h2m-1 0h2m-1 0h2m3 0h2m0 0h2m-1 0h2m-1 0h2m0 0h2m-1 0h2m-1 0h2m2 0h2m5 0h2m-39 1h2m0 0h2m0 0h2m-1 0h2m-1 0h2m-1 0h2m0 0h2m-1 0h2m-1 0h2m-1 0h2m0 0h2m-1 0h2m-1 0h2m0 0h2m-1 0h2m-1 0h2m-1 0h2m-1 0h2m-1 0h2m-1 0h2m-1 0h2m0 0h2m1 0h2m-1 0h2m-1 0h2m1 0h2m-1 0h2m0 0h2m7 0h2m-50 1h2m-1 0h2m1 0h2m-1 0h2m-1 0h2m-1 0h2m-1 0h2m0 0h2m-1 0h2m0 0h2m-1 0h2m-1 0h2m-1 0h2m-1 0h2m-1 0h2m-1 0h2m-1 0h2m-1 0h2m1 0h2m-1 0h2m-1 0h2m1 0h2m-1 0h2m-1 0h2m1 0h2m7 0h2m-45 1h2m-1 0h2m-1 0h2m2 0h2m-1 0h2m-1 0h2m1 0h2m-1 0h2m-1 0h2m-1 0h2m0 0h2m-1 0h2m-1 0h2m-1 0h2m0 0h2m0 0h2m-1 0h2m0 0h2m-1 0h2m0 0h2m-1 0h2m0 0h2m2 0h2m-1 0h2m-1 0h2m-40 1h2m1 0h2m-1 0h2m2 0h2m-1 0h2m-1 0h2m-1 0h2m1 0h2m-1 0h2m-1 0h2m-1 0h2m-1 0h2m-1 0h2m-1 0h2m-1 0h2m0 0h2m-1 0h2m-1 0h2m0 0h2m2 0h2m-1 0h2m-1 0h2m2 0h2m-1 0h2m-38 1h2m-1 0h2m0 0h2m-1 0h2m-1 0h2m1 0h2m0 0h2m-1 0h2m1 0h2m-1 0h2m-1 0h2m-1 0h2m-1 0h2m-1 0h2m0 0h2m-1 0h2m0 0h2m-1 0h2m0 0h2m0 0h2m0 0h2m2 0h2m-1 0h2m3 0h2m2 0h2m-48 1h2m1 0h2m-1 0h2m-1 0h2m2 0h2m-1 0h2m-1 0h2m0 0h2m-1 0h2m1 0h2m1 0h2m-1 0h2m-1 0h2m0 0h2m0 0h2m-1 0h2m-1 0h2m-1 0h2m2 0h2m-1 0h2m0 0h2m-39 1h2m1 0h2m0 0h2m-1 0h2m-1 0h2m-1 0h2m-1 0h2m0 0h2m-1 0h2m-1 0h2m-1 0h2m-1 0h2m0 0h2m-1 0h2m-1 0h2m-1 0h2m-1 0h2m1 0h2m4 0h2m0 0h2m-1 0h2m2 0h2m-39 1h2m-1 0h2m-1 0h2m-1 0h2m-1 0h2m-1 0h2m0 0h2m2 0h2m-1 0h2m-1 0h2m-1 0h2m-1 0h2m1 0h2m-1 0h2m-1 0h2m1 0h2m-1 0h2m-1 0h2m0 0h2m-1 0h2m0 0h2m1 0h2m-31 1h2m-1 0h2m-1 0h2m-1 0h2m2 0h2m-1 0h2m-1 0h2m-1 0h2m0 0h2m0 0h2m-1 0h2m0 0h2m-1 0h2m0 0h2m0 0h2m-1 0h2m-1 0h2m-1 0h2m-1 0h2m2 0h2m2 0h2m-1 0h2m8 0h2m-50 1h2m0 0h2m-1 0h2m0 0h2m-1 0h2m-1 0h2m0 0h2m-1 0h2m-1 0h2m-1 0h2m-1 0h2m-1 0h2m-1 0h2m-1 0h2m0 0h2m-1 0h2m-1 0h2m0 0h2m-1 0h2m-1 0h2m2 0h2m-1 0h2m-1 0h2m0 0h2m4 0h2m-41 1h2m-1 0h2m-1 0h2m-1 0h2m0 0h2m3 0h2m2 0h2m-1 0h2m0 0h2m-1 0h2m-1 0h2m0 0h2m-1 0h2m0 0h2m0 0h2m-1 0h2m-1 0h2m0 0h2m0 0h2m-1 0h2m-29 1h2m2 0h2m1 0h2m-1 0h2m0 0h2m-1 0h2m0 0h2m-1 0h2m1 0h2m-1 0h2m-1 0h2m1 0h2m-1 0h2m-1 0h2m-27 1h2m-1 0h2m-1 0h2m1 0h2m-1 0h2m-1 0h2m-1 0h2m-1 0h2m-1 0h2m0 0h2m0 0h2m-1 0h2m-1 0h2m-1 0h2m-1 0h2m-1 0h2m-1 0h2m0 0h2m-1 0h2m1 0h2m0 0h2m-33 1h2m5 0h2m1 0h2m0 0h2m-1 0h2m0 0h2m0 0h2m-1 0h2m-1 0h2m-1 0h2m-1 0h2m0 0h2m-1 0h2m0 0h2m-1 0h2m1 0h2m-1 0h2m3 0h2m-38 1h2m0 0h2m0 0h2m4 0h2m0 0h2m0 0h2m0 0h2m-1 0h2m-1 0h2m-1 0h2m0 0h2m-1 0h2m-1 0h2m-1 0h2m-1 0h2m14 0h2m-43 1h2m-1 0h2m-1 0h2m0 0h2m0 0h2m-1 0h2m-1 0h2m0 0h2m-1 0h2m0 0h2m0 0h2m1 0h2m-1 0h2m1 0h2m-1 0h2m-1 0h2m0 0h2m-1 0h2m-1 0h2m-1 0h2m0 0h2m-1 0h2m7 0h2m-45 1h2m0 0h2m0 0h2m-1 0h2m-1 0h2m2 0h2m1 0h2m-1 0h2m0 0h2m0 0h2m-1 0h2m3 0h2m2 0h2m4 0h2m-33 1h2m0 0h2m0 0h2m-1 0h2m-1 0h2m0 0h2m-1 0h2m-1 0h2m0 0h2m1 0h2m0 0h2m-1 0h2m-1 0h2m-1 0h2m2 0h2m1 0h2m-1 0h2m0 0h2m0 0h2m3 0h2m-40 1h2m-1 0h2m0 0h2m0 0h2m-1 0h2m0 0h2m-1 0h2m-1 0h2m-1 0h2m1 0h2m-1 0h2m1 0h2m0 0h2m-1 0h2m-1 0h2m0 0h2m-1 0h2m3 0h2m1 0h2m7 0h2m-41 1h2m2 0h2m0 0h2m-1 0h2m-1 0h2m0 0h2m-1 0h2m-1 0h2m-1 0h2m-1 0h2m-1 0h2m-1 0h2m-1 0h2m0 0h2m1 0h2m3 0h2m-1 0h2m7 0h2m-44 1h2m1 0h2m-1 0h2m0 0h2m0 0h2m-1 0h2m0 0h2m0 0h2m-1 0h2m1 0h2m1 0h2m-1 0h2m-1 0h2m-1 0h2m-1 0h2m1 0h2m0 0h2m3 0h2m0 0h2m-31 1h2m0 0h2m0 0h2m-1 0h2m3 0h2m-1 0h2m0 0h2m-1 0h2m-1 0h2m0 0h2m-1 0h2m0 0h2m3 0h2m-1 0h2m5 0h2m-41 1h2m10 0h2m1 0h2m-1 0h2m-1 0h2m2 0h2m0 0h2m7 0h2m-1 0h2m3 0h2m2 0h2m-44 1h2m2 0h2m-1 0h2m0 0h2m0 0h2m-1 0h2m-1 0h2m-1 0h2m0 0h2m-1 0h2m-1 0h2m-1 0h2m-1 0h2m1 0h2m0 0h2m13 0h2m-40 1h2m0 0h2m-1 0h2m-1 0h2m0 0h2m-1 0h2m0 0h2m-1 0h2m-1 0h2m1 0h2m-1 0h2m-1 0h2m-1 0h2m-1 0h2m-1 0h2m1 0h2m-1 0h2m1 0h2m0 0h2m-1 0h2m-1 0h2m2 0h2m-32 1h2m-1 0h2m0 0h2m-1 0h2m3 0h2m-1 0h2m-1 0h2m1 0h2m-1 0h2m1 0h2m7 0h2m0 0h2m17 0h2m-55 1h2m0 0h2m2 0h2m2 0h2m-1 0h2m-1 0h2m-1 0h2m-1 0h2m1 0h2m-1 0h2m0 0h2m0 0h2m-1 0h2m-1 0h2m0 0h2m-1 0h2m-1 0h2m0 0h2m6 0h2m-40 1h2m-1 0h2m-1 0h2m2 0h2m2 0h2m-1 0h2m0 0h2m0 0h2m1 0h2m-1 0h2m-1 0h2m1 0h2m-1 0h2m4 0h2m5 0h2m-39 1h2m0 0h2m1 0h2m-1 0h2m2 0h2m-1 0h2m-1 0h2m5 0h2m-1 0h2m1 0h2m-1 0h2m0 0h2m-1 0h2m1 0h2m1 0h2m0 0h2m-1 0h2m5 0h2m-44 1h2m0 0h2m0 0h2m1 0h2m3 0h2m-1 0h2m-1 0h2m1 0h2m4 0h2m3 0h2m2 0h2m-29 1h2m-1 0h2m2 0h2m-1 0h2m1 0h2m-1 0h2m0 0h2m0 0h2m-1 0h2m-1 0h2m1 0h2m2 0h2m-1 0h2m0 0h2m-1 0h2m6 0h2m-1 0h2m-42 1h2m6 0h2m2 0h2m1 0h2m1 0h2m2 0h2"/>
<path transform="scale(0.5)" fill="none" stroke="#F0671F" stroke-width="2.4" d="m694 84h2m-8 15h2m-2 1h2m-1 2h2m-4 1h2m2 0h2m-4 2h2m-5 2h2m1 0h2m-2 2h2m-1 1h2m-3 2h2m-3 1h2m5 3h2m-6 1h2m-2 1h2m-7 1h2m8 1h2m-12 1h2m7 0h2m-8 1h2m1 0h2m-1 0h2m-9 2h2m5 0h2m4 0h2m-15 2h2m3 0h2m7 0h2m-16 2h2m5 0h2m-9 1h2m-1 0h2m0 0h2m0 0h2m-5 1h2m0 0h2m0 0h2m-5 1h2m4 1h2m-1 0h2m-11 1h2m6 0h2m-11 1h2m1 1h2m11 0h2m-9 1h2m-8 1h2m4 0h2m-11 1h2m0 0h2m-1 1h2m10 0h2m-15 1h2m1 0h2m-5 1h2m4 0h2m-9 1h2m-1 0h2m0 0h2m0 0h2m-8 1h2m0 0h2m-1 0h2m-1 0h2m6 0h2m-6 1h2m-10 1h2m-1 0h2m-1 0h2m3 0h2m7 0h2m-14 1h2m1 0h2m-8 1h2m3 0h2m-8 1h2m1 1h2m13 0h2m-15 1h2m-1 0h2m4 0h2m-14 1h2m0 0h2m0 0h2m-1 0h2m2 0h2m-1 0h2m-1 0h2m-1 0h2m-13 1h2m3 0h2m-1 0h2m-9 1h2m-1 0h2m0 0h2m-1 0h2m-1 0h2m-4 1h2m3 1h2m0 0h2m-7 1h2m11 0h2m-19 1h2m-1 0h2m-1 0h2m1 0h2m1 0h2m-1 0h2m-11 1h2m0 0h2m0 0h2m-6 1h2m-1 0h2m0 0h2m-1 0h2m-1 0h2m2 0h2m0 0h2m-13 1h2m1 0h2m0 0h2m-1 0h2m0 0h2m4 0h2m-15 1h2m-1 0h2m0 0h2m-1 0h2m2 0h2m-12 1h2m-1 0h2m-1 0h2m5 0h2m3 0h2m-15 1h2m-1 0h2m-1 0h2m-1 0h2m1 0h2m0 0h2m4 0h2m-17 1h2m1 0h2m-1 0h2m-5 1h2m2 0h2m-1 0h2m-1 0h2m4 0h2m-14 1h2m0 0h2m0 0h2m3 0h2m-12 1h2m-1 0h2m-1 0h2m-1 0h2m0 0h2m2 0h2m-11 1h2m0 0h2m-1 0h2m0 0h2m-1 0h2m-8 1h2m-1 0h2m-1 0h2m-1 0h2m-1 0h2m4 0h2m-10 1h2m-1 0h2m-1 0h2m0 0h2m0 0h2m-1 0h2m-1 0h2m-12 1h2m-1 0h2m-1 0h2m0 0h2m-1 0h2m-1 0h2m0 0h2m-1 0h2m-11 1h2m-1 0h2m0 0h2m-1 0h2m7 0h2m-15 1h2m0 0h2m0 0h2m-1 0h2m-1 0h2m-1 0h2m0 0h2m2 0h2m-14 1h2m0 0h2m-1 0h2m0 0h2m-1 0h2m0 0h2m-11 1h2m-1 0h2m-1 0h2m1 0h2m0 0h2m-1 0h2m10 0h2m-21 1h2m0 0h2m0 0h2m-1 0h2m-1 0h2m8 0h2m-17 1h2m-1 0h2m0 0h2m-1 0h2m2 0h2m1 0h2m-14 1h2m-1 0h2m1 0h2m2 0h2m-9 1h2m-2 1h2m2 0h2m-3 1h2m2 0h2m-8 1h2m-1 0h2m0 0h2m-7 1h2m3 0h2m5 0h2m-12 1h2m2 0h2m0 0h2m-11 1h2m-1 0h2m9 0h2m-12 1h2m-1 0h2m-1 0h2m-5 1h2m4 0h2m0 0h2m-9 1h2m0 0h2m2 0h2m-1 0h2m-1 0h2m-5 1h2m-1 1h2m-1 0h2m-1 0h2m4 0h2m-17 1h2m-1 0h2m-1 0h2m10 0h2m-17 1h2m0 0h2m0 1h2m1 0h2m-3 1h2m-1 0h2m-5 1h2m-1 0h2m-6 1h2m7 0h2m-10 1h2m0 0h2m3 0h2m0 0h2m-8 1h2m-6 4h2m8 0h2m-12 1h2m1 0h2m2 3h2m-1 0h2m1 0h2m-11 1h2m1 0h2m1 0h2m-10 1h2m0 0h2"/>
<path transform="scale(0.5)" fill="none" stroke="#BE1E2D" stroke-width="2.4" d="m687 16h2m-2 14h2m-1 0h2m-2 7h2m-3 4h2m-2 3h2m-1 0h2m-2 1h2m-3 2h2m-2 14h2m-1 3h2m-3 4h2m-1 3h2m-3 3h2m-1 2h2m-1 2h2m-3 1h2m-3 6h2m-2 3h2m-3 2h2m-1 0h2m-3 1h2m-1 5h2m-2 1h2m1 0h2m-4 1h2m-4 9h2m-1 1h2m-3 5h2m-1 3h2m-3 2h2m-2 2h2m-1 0h2m-3 2h2m-1 1h2m-2 2h2m-3 1h2m-1 2h2"/>
<line x1="139" y1="3.5" x2="139" y2="104.5" stroke="#8a8a8a" stroke-width="0.8"/>
<line x1="135.8" y1="104.5" x2="234.7" y2="104.5" stroke="#8a8a8a" stroke-width="0.8"/>
<line x1="343" y1="3.5" x2="343" y2="104.5" stroke="#8a8a8a" stroke-width="0.8"/>
<line x1="339.8" y1="104.5" x2="438.7" y2="104.5" stroke="#8a8a8a" stroke-width="0.8"/>
<defs><linearGradient id="cb" x1="0" y1="1" x2="0" y2="0"><stop offset="0" stop-color="#440154"/><stop offset="0.1" stop-color="#482475"/><stop offset="0.2" stop-color="#414487"/><stop offset="0.3" stop-color="#355f8d"/><stop offset="0.4" stop-color="#2a788e"/><stop offset="0.5" stop-color="#21918c"/><stop offset="0.6" stop-color="#22a884"/><stop offset="0.7" stop-color="#44bf70"/><stop offset="0.8" stop-color="#7ad151"/><stop offset="0.9" stop-color="#bddf26"/><stop offset="1" stop-color="#fde725"/></linearGradient></defs>
<rect x="444.5" y="12.3" width="5.6" height="92.3" fill="url(#cb)"/>
<line x1="450.1" y1="12.3" x2="453" y2="12.3" stroke="#8a8a8a" stroke-width="0.8"/>
<line x1="450.1" y1="104.6" x2="453" y2="104.6" stroke="#8a8a8a" stroke-width="0.8"/>
<text x="455.3" y="15.4" font-size="8.5" text-anchor="start" fill="#231f20">&gt;0.013</text>
<text x="455.3" y="107.7" font-size="8.5" text-anchor="start" fill="#231f20">0</text>
<text x="466.3" y="58.2" font-size="9.1" text-anchor="middle" fill="#231f20" transform="rotate(90 466.3 58.2)">Probability</text>
<g transform="translate(523.2 111.5) scale(1 -0.73)">
<path fill="#F99F4D" transform="translate(0 -0.1)" d="M36.6 0h21.8v1.2h-21.8zM58.4 0h6.6v1.2h-6.6zM65 0h5.7v1.2h-5.7zM60.4 1h6.4v1.2h-6.4zM0 2h8.7v1.2h-8.7zM11.8 2h24.6v1.2h-24.6zM36.4 2h2.4v1.2h-2.4zM55.4 2h1.6v1.2h-1.6zM64.7 2h6v1.2h-6zM10 3h7.9v1.2h-7.9zM17.9 3h26.3v1.2h-26.3zM8 4h28.4v1.2h-28.4zM11 5h1.4v1.2h-1.4zM14 5h10.9v1.2h-10.9zM33.1 5h37.6v1.2h-37.6zM2.3 6h13.4v1.2h-13.4zM36.9 6h1v1.2h-1zM44.3 6h1.5v1.2h-1.5zM0 7h4.2v1.2h-4.2zM4.2 7h4.3v1.2h-4.3zM9.3 7h0.8v1.2h-0.8zM57.4 7h13.3v1.2h-13.3zM0 8h9.2v1.2h-9.2zM23.9 8h3.6v1.2h-3.6zM42.4 8h23.6v1.2h-23.6zM0 9h13.7v1.2h-13.7zM54.6 9h12.8v1.2h-12.8zM27 10h32.4v1.2h-32.4zM62 10h8.7v1.2h-8.7zM0 11h2.3v1.2h-2.3zM3.2 11h1.9v1.2h-1.9zM9 11h0.8v1.2h-0.8zM9.8 11h18.6v1.2h-18.6zM55.1 11h15.6v1.2h-15.6zM0 13h23.6v1.2h-23.6zM24.6 13h17.4v1.2h-17.4zM3.8 14h28.5v1.2h-28.5zM66.6 14h4.1v1.2h-4.1zM0 15h14.7v1.2h-14.7zM17.3 15h27.5v1.2h-27.5zM44.8 15h25.2v1.2h-25.2zM70 15h0.7v1.2h-0.7zM57.8 16h12.9v1.2h-12.9zM4.1 17h5v1.2h-5zM9.1 17h53.7v1.2h-53.7zM51.8 18h18.9v1.2h-18.9zM49.8 19h20.9v1.2h-20.9zM0 20h12.1v1.2h-12.1zM20 20h4.7v1.2h-4.7zM36.2 20h18.6v1.2h-18.6zM3.1 21h10.8v1.2h-10.8zM29.8 21h20.5v1.2h-20.5zM50.3 21h10v1.2h-10zM15.1 22h21.2v1.2h-21.2zM36.3 22h6.2v1.2h-6.2zM43.3 22h8.7v1.2h-8.7zM2.5 23h12.8v1.2h-12.8zM46.2 23h24.5v1.2h-24.5zM0 24h5.1v1.2h-5.1zM0 25h5.4v1.2h-5.4zM12.1 25h3.7v1.2h-3.7zM32.6 25h19.2v1.2h-19.2zM36.3 26h7.6v1.2h-7.6zM45.1 26h22.1v1.2h-22.1zM0 27h42.4v1.2h-42.4zM42.4 27h5.4v1.2h-5.4zM52.3 27h1.9v1.2h-1.9zM57.4 27h1.2v1.2h-1.2zM62 27h8.7v1.2h-8.7zM0 28h23.3v1.2h-23.3zM23.3 28h0.8v1.2h-0.8zM29.7 28h6v1.2h-6zM35.7 28h10.4v1.2h-10.4zM46.1 28h0.8v1.2h-0.8zM46.9 28h12.6v1.2h-12.6zM12.3 29h5.2v1.2h-5.2zM0 30h8.1v1.2h-8.1zM23.4 30h0.8v1.2h-0.8zM0 31h14.7v1.2h-14.7zM27.3 31h4.4v1.2h-4.4zM31.7 31h26.4v1.2h-26.4zM34.2 32h5.4v1.2h-5.4zM67 32h3.7v1.2h-3.7zM0 33h13.7v1.2h-13.7zM17.7 34h5.7v1.2h-5.7zM0 35h18.9v1.2h-18.9zM20.2 35h1.5v1.2h-1.5zM31.5 35h4.6v1.2h-4.6zM0 36h0.8v1.2h-0.8zM0.8 36h8v1.2h-8zM8.8 36h27.1v1.2h-27.1zM41.4 36h4.4v1.2h-4.4zM66.5 36h2.4v1.2h-2.4zM0 37h42.7v1.2h-42.7zM42.7 37h9.1v1.2h-9.1zM36.3 39h2.8v1.2h-2.8zM40.4 39h25.4v1.2h-25.4zM2.4 40h24.2v1.2h-24.2zM36.7 40h0.8v1.2h-0.8zM67.1 40h0.8v1.2h-0.8zM11.7 41h41.6v1.2h-41.6zM53.3 41h6.7v1.2h-6.7zM67.1 42h3.6v1.2h-3.6zM21.8 43h5.5v1.2h-5.5zM0 44h0.8v1.2h-0.8zM12.1 44h0.8v1.2h-0.8zM40.3 44h2.9v1.2h-2.9zM50.8 44h19.9v1.2h-19.9zM5.2 45h1.1v1.2h-1.1zM17 45h13.2v1.2h-13.2zM0 46h19v1.2h-19zM27.9 46h21.4v1.2h-21.4zM49.3 46h15.2v1.2h-15.2zM64.5 46h0.8v1.2h-0.8zM68.3 46h2.4v1.2h-2.4zM0 47h4.7v1.2h-4.7zM21.2 47h38.2v1.2h-38.2zM59.4 47h11.3v1.2h-11.3zM0 48h9.4v1.2h-9.4zM12.8 48h57.9v1.2h-57.9zM0 50h0.8v1.2h-0.8zM11.9 50h53.7v1.2h-53.7zM0 51h6.3v1.2h-6.3zM9.1 51h5.4v1.2h-5.4zM21 51h31.8v1.2h-31.8zM57 51h13.7v1.2h-13.7zM0 52h0.8v1.2h-0.8zM13.1 52h2.5v1.2h-2.5zM15.6 52h16.4v1.2h-16.4zM42.8 52h27.9v1.2h-27.9zM6.8 53h12.6v1.2h-12.6zM32.9 53h3.6v1.2h-3.6zM36.5 53h34.2v1.2h-34.2zM0 54h39.2v1.2h-39.2zM51.9 54h18.8v1.2h-18.8zM25.8 55h19.4v1.2h-19.4zM58.3 55h4.3v1.2h-4.3zM1.3 56h42.8v1.2h-42.8zM46.9 57h23.8v1.2h-23.8zM0.8 58h8.2v1.2h-8.2zM9 58h4.3v1.2h-4.3zM54.3 58h1.5v1.2h-1.5zM6.9 59h6.3v1.2h-6.3zM14.2 60h55.5v1.2h-55.5zM69.7 60h1v1.2h-1zM0 61h1.7v1.2h-1.7zM10.3 61h37.5v1.2h-37.5zM47.8 61h17.7v1.2h-17.7zM2 62h49.2v1.2h-49.2zM54.7 62h16v1.2h-16zM8 63h19v1.2h-19zM37.2 64h33.5v1.2h-33.5zM11.8 65h10.2v1.2h-10.2zM27.9 65h17.2v1.2h-17.2zM49.1 65h5.5v1.2h-5.5zM0 66h24.3v1.2h-24.3zM27.3 66h9.8v1.2h-9.8zM41.5 66h18.2v1.2h-18.2zM69 66h1.7v1.2h-1.7zM3.9 67h27.1v1.2h-27.1zM42.6 67h13.3v1.2h-13.3zM62.8 67h7.9v1.2h-7.9zM3.5 68h13.5v1.2h-13.5zM49.1 68h0.9v1.2h-0.9zM37.2 69h12v1.2h-12zM49.2 69h1.1v1.2h-1.1zM28.6 70h42.1v1.2h-42.1zM22.5 71h10.7v1.2h-10.7zM44.3 71h11.3v1.2h-11.3zM55.6 71h7.9v1.2h-7.9zM66 71h4.7v1.2h-4.7zM24 72h13.1v1.2h-13.1zM37.1 72h0.8v1.2h-0.8zM60.6 72h3.9v1.2h-3.9zM0 73h4.1v1.2h-4.1zM15.5 73h55.2v1.2h-55.2zM0 74h68.7v1.2h-68.7zM69.9 74h0.8v1.2h-0.8zM10.2 75h60.5v1.2h-60.5zM35.8 76h5.6v1.2h-5.6zM65.5 76h5.2v1.2h-5.2zM48.4 77h22.3v1.2h-22.3zM0 78h6.5v1.2h-6.5zM6.5 78h10.7v1.2h-10.7zM21.7 78h29.9v1.2h-29.9zM3.1 80h5.1v1.2h-5.1zM3.9 81h14.2v1.2h-14.2zM23.8 81h10.9v1.2h-10.9zM38 81h10.6v1.2h-10.6zM51.8 81h4.6v1.2h-4.6zM0.8 82h10.7v1.2h-10.7zM32.1 82h1.7v1.2h-1.7zM48.3 82h16.3v1.2h-16.3zM27.5 83h43.2v1.2h-43.2zM0 84h19.7v1.2h-19.7zM21.1 84h4.4v1.2h-4.4zM26.3 84h7v1.2h-7zM33.3 84h5.8v1.2h-5.8zM52.8 84h9.2v1.2h-9.2zM0 85h13.4v1.2h-13.4zM15.4 85h2.6v1.2h-2.6zM18.8 85h15.2v1.2h-15.2zM54 87h16.7v1.2h-16.7zM52.1 88h16.8v1.2h-16.8zM0 89h2.8v1.2h-2.8zM30 89h17.4v1.2h-17.4zM64.6 90h6.1v1.2h-6.1zM0 91h1.6v1.2h-1.6zM1.6 91h6.2v1.2h-6.2zM8.6 91h13.2v1.2h-13.2zM28.6 91h12.5v1.2h-12.5zM41.1 91h5.4v1.2h-5.4zM50 91h9.2v1.2h-9.2zM17 92h0.8v1.2h-0.8zM17.8 92h6v1.2h-6zM48 92h0.8v1.2h-0.8zM51.1 92h8v1.2h-8zM0 93h44.4v1.2h-44.4zM44.4 93h26.3v1.2h-26.3zM0.9 94h2v1.2h-2zM3.7 94h25.4v1.2h-25.4zM44.4 94h21.6v1.2h-21.6zM66 94h4.7v1.2h-4.7zM9.3 95h12.3v1.2h-12.3zM48.3 95h15.7v1.2h-15.7zM43.8 96h17.7v1.2h-17.7zM0 97h25.1v1.2h-25.1zM36 97h6.1v1.2h-6.1zM49.8 97h11.8v1.2h-11.8zM62.4 97h6.9v1.2h-6.9zM70.1 97h0.6v1.2h-0.6zM0 98h33.7v1.2h-33.7zM22 99h2.4v1.2h-2.4zM27.5 99h25.4v1.2h-25.4zM52.5 100h4.1v1.2h-4.1zM56.6 100h11.7v1.2h-11.7zM0 101h15.1v1.2h-15.1zM15.1 101h11.5v1.2h-11.5zM27.4 101h24.5v1.2h-24.5zM7.2 102h24.6v1.2h-24.6zM0 103h70.7v1.2h-70.7zM30.1 104h40.6v1.2h-40.6zM50.2 105h7.4v1.2h-7.4zM6.7 106h3.5v1.2h-3.5zM11.9 106h8.6v1.2h-8.6zM20.5 106h2.5v1.2h-2.5zM32.5 106h13.6v1.2h-13.6zM69.6 106h1.1v1.2h-1.1zM18.1 107h11.4v1.2h-11.4zM55.4 107h2.6v1.2h-2.6zM0 108h9v1.2h-9zM9 108h3.2v1.2h-3.2zM12.2 108h8.6v1.2h-8.6zM54.3 108h11.6v1.2h-11.6zM65.9 108h2.3v1.2h-2.3zM69 108h1.7v1.2h-1.7zM1.5 109h1.3v1.2h-1.3zM3.6 109h18.5v1.2h-18.5zM26 109h19.8v1.2h-19.8zM7.2 110h2.9v1.2h-2.9zM10.1 110h19.3v1.2h-19.3zM29.4 110h40.4v1.2h-40.4zM29.6 111h19.7v1.2h-19.7zM58.9 111h11.8v1.2h-11.8zM0 112h5.3v1.2h-5.3zM17.2 112h7.9v1.2h-7.9zM25.1 112h25.9v1.2h-25.9zM51 112h19.7v1.2h-19.7zM58.3 113h12.4v1.2h-12.4zM3.7 114h5.9v1.2h-5.9zM9.6 114h12.7v1.2h-12.7zM17.6 115h19.2v1.2h-19.2zM48 115h22.7v1.2h-22.7zM33.5 116h4.9v1.2h-4.9zM68.1 116h2.6v1.2h-2.6zM45 117h4.5v1.2h-4.5zM33.9 118h1.8v1.2h-1.8zM38 118h32.7v1.2h-32.7zM0 119h3.8v1.2h-3.8zM7.2 119h6.3v1.2h-6.3zM48.4 119h1.8v1.2h-1.8zM50.2 119h1.9v1.2h-1.9zM63.8 119h6.9v1.2h-6.9zM0 122h2.8v1.2h-2.8zM51 122h19.7v1.2h-19.7zM23.1 123h21.6v1.2h-21.6zM64.5 123h1v1.2h-1zM65.5 123h5.2v1.2h-5.2zM12.4 124h41.8v1.2h-41.8zM54.2 124h5.6v1.2h-5.6zM0 125h33.9v1.2h-33.9zM16.2 126h23.6v1.2h-23.6zM52.2 126h18.5v1.2h-18.5zM31.3 127h31.9v1.2h-31.9zM0 128h30v1.2h-30zM37.8 130h32.9v1.2h-32.9zM53.5 131h10.9v1.2h-10.9z"/>
<path fill="#F0671F" transform="translate(0 -0.1)" d="M8.9 1h0.8v1.2h-0.8zM45.2 1h0.8v1.2h-0.8zM0 3h9.2v1.2h-9.2zM66.8 3h1.6v1.2h-1.6zM60.7 4h1.2v1.2h-1.2zM30.8 7h14v1.2h-14zM13.7 9h40.9v1.2h-40.9zM30.8 12h3.2v1.2h-3.2zM42 13h16.3v1.2h-16.3zM40.7 14h3.1v1.2h-3.1zM26.6 16h31.2v1.2h-31.2zM1 18h21.7v1.2h-21.7zM22.7 19h18.3v1.2h-18.3zM43.4 19h6.4v1.2h-6.4zM0 21h3.1v1.2h-3.1zM10 22h5.1v1.2h-5.1zM63.4 22h7.3v1.2h-7.3zM0 23h2.5v1.2h-2.5zM51.8 25h14.7v1.2h-14.7zM67.2 26h3.5v1.2h-3.5zM8.1 30h15.3v1.2h-15.3zM21.6 32h3.5v1.2h-3.5zM39.6 32h17.5v1.2h-17.5zM64.5 34h6.2v1.2h-6.2zM21.7 35h9.8v1.2h-9.8zM0 38h1.6v1.2h-1.6zM2.4 38h6v1.2h-6zM16.2 38h14.6v1.2h-14.6zM31.8 38h2.6v1.2h-2.6zM37.2 38h1.3v1.2h-1.3zM62 38h8.7v1.2h-8.7zM0 39h19.1v1.2h-19.1zM39.1 39h1.3v1.2h-1.3zM65.8 39h0.8v1.2h-0.8zM37.5 40h0.8v1.2h-0.8zM44.3 43h2.2v1.2h-2.2zM14.5 44h25.8v1.2h-25.8zM10.7 45h6.3v1.2h-6.3zM30.2 45h3.7v1.2h-3.7zM57 45h13.7v1.2h-13.7zM4.7 47h3.5v1.2h-3.5zM8.2 47h4.5v1.2h-4.5zM9.4 48h3.4v1.2h-3.4zM10.6 50h1.3v1.2h-1.3zM65.6 50h5.1v1.2h-5.1zM14.5 51h6.5v1.2h-6.5zM0 53h1.6v1.2h-1.6zM44.1 56h8.3v1.2h-8.3zM46.9 59h0.8v1.2h-0.8zM60 59h10.7v1.2h-10.7zM1.2 60h8.9v1.2h-8.9zM1.7 61h8.6v1.2h-8.6zM19.9 64h6.2v1.2h-6.2zM0 65h9.4v1.2h-9.4zM9.4 65h1.4v1.2h-1.4zM10.8 65h1v1.2h-1zM22 65h5.9v1.2h-5.9zM45.1 65h4v1.2h-4zM54.6 65h3.2v1.2h-3.2zM68 65h2.7v1.2h-2.7zM61.1 66h5.1v1.2h-5.1zM66.2 66h2.8v1.2h-2.8zM55.9 67h2.4v1.2h-2.4zM0 68h3.5v1.2h-3.5zM17 68h31.3v1.2h-31.3zM9.4 72h3.4v1.2h-3.4zM68.7 74h1.2v1.2h-1.2zM0 76h0.8v1.2h-0.8zM18.4 76h17.4v1.2h-17.4zM41.4 76h0.8v1.2h-0.8zM45.3 76h20.2v1.2h-20.2zM0 79h8.5v1.2h-8.5zM34.8 80h8.6v1.2h-8.6zM0 81h1.1v1.2h-1.1zM35.5 81h2.5v1.2h-2.5zM48.6 81h3.2v1.2h-3.2zM56.4 81h6.1v1.2h-6.1zM15 82h13.1v1.2h-13.1zM8.6 87h11.2v1.2h-11.2zM36.8 87h0.8v1.2h-0.8zM0 90h19.9v1.2h-19.9zM22.6 90h3.2v1.2h-3.2zM28.5 90h3.1v1.2h-3.1zM31.6 90h17v1.2h-17zM48.6 90h16v1.2h-16zM7.8 91h0.8v1.2h-0.8zM46.5 91h0.8v1.2h-0.8zM42.1 97h5.2v1.2h-5.2zM42.2 98h2.3v1.2h-2.3zM24.4 99h3.1v1.2h-3.1zM31.8 100h17.4v1.2h-17.4zM51.9 101h16v1.2h-16zM0 105h6.1v1.2h-6.1zM10.4 105h10.6v1.2h-10.6zM25.4 105h13.3v1.2h-13.3zM57.6 105h5.6v1.2h-5.6zM64.2 105h4v1.2h-4zM70.4 105h0.3v1.2h-0.3zM46.1 106h18.8v1.2h-18.8zM0 111h1.3v1.2h-1.3zM49.3 111h9.6v1.2h-9.6zM0 113h12.9v1.2h-12.9zM47.6 113h5.3v1.2h-5.3zM66.5 114h4.2v1.2h-4.2zM0 115h10.9v1.2h-10.9zM36.8 115h10.4v1.2h-10.4zM0 116h10.1v1.2h-10.1zM11.3 116h19.3v1.2h-19.3zM0 117h9.2v1.2h-9.2zM0.8 118h14.3v1.2h-14.3zM13.5 119h3.4v1.2h-3.4zM16.9 119h20v1.2h-20zM36.9 119h11.5v1.2h-11.5zM56.6 119h7.2v1.2h-7.2zM45.6 120h1.3v1.2h-1.3zM44.7 123h18.3v1.2h-18.3zM8.8 124h3.6v1.2h-3.6zM33.9 125h0.8v1.2h-0.8zM39 125h9v1.2h-9zM14.6 126h1.6v1.2h-1.6zM44.3 126h7.9v1.2h-7.9zM0 127h5.8v1.2h-5.8zM9.9 127h21.4v1.2h-21.4zM63.2 127h7.5v1.2h-7.5z"/>
<path fill="#BE1E2D" transform="translate(0 -0.1)" d="M13.2 1h13.6v1.2h-13.6zM57 2h7.7v1.2h-7.7zM44.2 3h21.8v1.2h-21.8zM39.9 4h20.8v1.2h-20.8zM0 5h1.9v1.2h-1.9zM1.9 5h9.1v1.2h-9.1zM24.9 5h8.2v1.2h-8.2zM70.4 6h0.3v1.2h-0.3zM27.5 8h14.9v1.2h-14.9zM67.4 9h3.3v1.2h-3.3zM28.4 11h9.3v1.2h-9.3zM37.7 11h17.4v1.2h-17.4zM3.2 12h4.6v1.2h-4.6zM11.4 12h3.3v1.2h-3.3zM24.8 12h0.8v1.2h-0.8zM47 12h23.7v1.2h-23.7zM61.4 13h9.3v1.2h-9.3zM0 16h19.8v1.2h-19.8zM19.8 16h6.8v1.2h-6.8zM22.7 18h17.4v1.2h-17.4zM0 19h19v1.2h-19zM12.1 20h0.8v1.2h-0.8zM12.9 20h1.6v1.2h-1.6zM24.7 20h11.5v1.2h-11.5zM54.8 20h4.5v1.2h-4.5zM13.9 21h15.9v1.2h-15.9zM60.3 21h10.4v1.2h-10.4zM15.3 23h30.9v1.2h-30.9zM16.4 24h15.8v1.2h-15.8zM46.6 24h6.4v1.2h-6.4zM5.4 25h6.7v1.2h-6.7zM15.8 25h4.9v1.2h-4.9zM20.7 25h9.6v1.2h-9.6zM1 26h35.3v1.2h-35.3zM43.9 26h1.2v1.2h-1.2zM55 27h2.4v1.2h-2.4zM17.5 29h1.7v1.2h-1.7zM53.8 29h10.5v1.2h-10.5zM66 29h4.7v1.2h-4.7zM50.9 30h19.8v1.2h-19.8zM14.7 31h2.4v1.2h-2.4zM17.1 31h10.2v1.2h-10.2zM67.8 31h2.9v1.2h-2.9zM0 32h20.8v1.2h-20.8zM58.3 32h7.9v1.2h-7.9zM13.7 33h4.5v1.2h-4.5zM37.5 33h20.8v1.2h-20.8zM58.3 33h12.4v1.2h-12.4zM3.8 34h11.8v1.2h-11.8zM47 34h3.3v1.2h-3.3zM52.7 34h11.8v1.2h-11.8zM36.1 35h32.9v1.2h-32.9zM35.9 36h1v1.2h-1zM51.8 37h18.9v1.2h-18.9zM1.6 38h0.8v1.2h-0.8zM8.4 38h7.8v1.2h-7.8zM38.5 38h22.7v1.2h-22.7zM66.6 39h4.1v1.2h-4.1zM45.4 40h19.9v1.2h-19.9zM60 41h10.7v1.2h-10.7zM0 42h14.5v1.2h-14.5zM21.1 42h1v1.2h-1zM32.2 42h15.9v1.2h-15.9zM0 43h17.7v1.2h-17.7zM13.7 44h0.8v1.2h-0.8zM43.2 44h7.6v1.2h-7.6zM65.3 46h3v1.2h-3zM5 49h30.6v1.2h-30.6zM66.9 49h3.8v1.2h-3.8zM0.8 50h9.8v1.2h-9.8zM1.6 52h8.6v1.2h-8.6zM32 52h3v1.2h-3zM1.6 53h5.2v1.2h-5.2zM0 56h1.3v1.2h-1.3zM52.4 56h8.9v1.2h-8.9zM63.3 56h7.4v1.2h-7.4zM0 57h46.9v1.2h-46.9zM23.3 58h2.6v1.2h-2.6zM58.8 58h11.9v1.2h-11.9zM13.2 59h33.7v1.2h-33.7zM47.7 59h12.3v1.2h-12.3zM27.8 63h24.1v1.2h-24.1zM26.1 64h7.6v1.2h-7.6zM57.8 65h10.2v1.2h-10.2zM50 68h9.6v1.2h-9.6zM59.6 68h11.1v1.2h-11.1zM0 69h21.6v1.2h-21.6zM50.3 69h1.9v1.2h-1.9zM64.8 69h0.8v1.2h-0.8zM65.6 69h5.1v1.2h-5.1zM15 70h12.8v1.2h-12.8zM27.8 70h0.8v1.2h-0.8zM42.2 76h3.1v1.2h-3.1zM0 77h25.8v1.2h-25.8zM37.3 77h3.3v1.2h-3.3zM40.6 77h7.8v1.2h-7.8zM51.6 78h0.8v1.2h-0.8zM52.4 78h13.1v1.2h-13.1zM23.8 79h1.2v1.2h-1.2zM26 79h44.3v1.2h-44.3zM0 80h3.1v1.2h-3.1zM8.2 80h8.8v1.2h-8.8zM20.1 80h14.7v1.2h-14.7zM43.4 80h12.4v1.2h-12.4zM56.6 80h14.1v1.2h-14.1zM18.1 81h5.7v1.2h-5.7zM62.5 81h8.2v1.2h-8.2zM0 83h21.6v1.2h-21.6zM21.6 83h5.9v1.2h-5.9zM39.1 84h13.7v1.2h-13.7zM62 84h7.6v1.2h-7.6zM13.4 85h2v1.2h-2zM0 86h39.9v1.2h-39.9zM54.2 86h16.5v1.2h-16.5zM40.3 87h8.5v1.2h-8.5zM22.6 88h7.2v1.2h-7.2zM5.7 89h3.5v1.2h-3.5zM17 89h13v1.2h-13zM51.9 89h18.8v1.2h-18.8zM0 92h16v1.2h-16zM59.1 92h11.6v1.2h-11.6zM26.7 95h18.3v1.2h-18.3zM0 96h19.4v1.2h-19.4zM33.7 96h10.1v1.2h-10.1zM61.5 96h9.2v1.2h-9.2zM25.1 97h10.9v1.2h-10.9zM44.5 98h21.9v1.2h-21.9zM45 102h11.7v1.2h-11.7zM8.2 105h1.2v1.2h-1.2zM21 105h4.4v1.2h-4.4zM63.2 105h1v1.2h-1zM0 107h18.1v1.2h-18.1zM29.5 107h25.9v1.2h-25.9zM61.9 107h8.8v1.2h-8.8zM20.8 108h33.5v1.2h-33.5zM45.8 109h13.4v1.2h-13.4zM0 110h7.2v1.2h-7.2zM1.3 111h3.7v1.2h-3.7zM7 111h7v1.2h-7zM0 114h3.7v1.2h-3.7zM22.3 114h11.6v1.2h-11.6zM57.4 114h7.2v1.2h-7.2zM64.6 114h1.9v1.2h-1.9zM10.9 115h6.7v1.2h-6.7zM47.2 115h0.8v1.2h-0.8zM10.1 116h1.2v1.2h-1.2zM30.6 116h2.9v1.2h-2.9zM38.4 116h4.4v1.2h-4.4zM57.3 116h5.6v1.2h-5.6zM62.9 116h5.2v1.2h-5.2zM67.6 120h3.1v1.2h-3.1zM0 121h7.5v1.2h-7.5zM2.8 122h29.9v1.2h-29.9zM0 123h23.1v1.2h-23.1zM0 124h5.7v1.2h-5.7zM8 124h0.8v1.2h-0.8zM59.8 124h10.9v1.2h-10.9zM48 125h22.7v1.2h-22.7zM5.8 127h3.3v1.2h-3.3zM9.1 127h0.8v1.2h-0.8zM61.5 128h9.2v1.2h-9.2zM0 129h14.3v1.2h-14.3zM41 129h17.2v1.2h-17.2zM58.2 129h12.5v1.2h-12.5zM0 130h31.8v1.2h-31.8zM34.7 130h3.1v1.2h-3.1zM0 131h17.9v1.2h-17.9zM22.2 131h5.1v1.2h-5.1zM31.6 131h2.6v1.2h-2.6zM34.2 131h14.5v1.2h-14.5zM50.1 131h3.4v1.2h-3.4zM64.4 131h1.5v1.2h-1.5zM69.7 131h1v1.2h-1z"/>
<path fill="#1B3060" transform="translate(0 -0.1)" d="M0 0h1.5v1.2h-1.5zM8.9 0h27.7v1.2h-27.7zM44.3 1h0.9v1.2h-0.9zM66.8 1h3.6v1.2h-3.6zM8.7 2h3.1v1.2h-3.1zM9.2 3h0.8v1.2h-0.8zM0 4h5.1v1.2h-5.1zM36.4 4h3.5v1.2h-3.5zM61.9 4h8.8v1.2h-8.8zM66 8h4.7v1.2h-4.7zM59.4 10h2.6v1.2h-2.6zM2.3 11h0.9v1.2h-0.9zM58.3 13h3.1v1.2h-3.1zM0 14h3v1.2h-3zM39.9 14h0.8v1.2h-0.8zM47.6 14h2.4v1.2h-2.4zM14.7 15h2.6v1.2h-2.6zM0 17h1.4v1.2h-1.4zM62.8 17h7.9v1.2h-7.9zM19 19h3.7v1.2h-3.7zM59.3 20h11.4v1.2h-11.4zM5.1 24h11.3v1.2h-11.3zM32.2 24h2.6v1.2h-2.6zM37 24h9.6v1.2h-9.6zM53 24h8.2v1.2h-8.2zM63.8 24h6.9v1.2h-6.9zM0 26h1v1.2h-1zM47.8 27h4.5v1.2h-4.5zM58.6 27h2.2v1.2h-2.2zM60.8 27h1.2v1.2h-1.2zM65.2 29h0.8v1.2h-0.8zM24.2 30h3.7v1.2h-3.7zM27.9 30h23v1.2h-23zM2 34h1.8v1.2h-1.8zM15.6 34h2.1v1.2h-2.1zM23.4 34h1.4v1.2h-1.4zM34.4 34h12.6v1.2h-12.6zM50.3 34h2.4v1.2h-2.4zM18.9 35h1.3v1.2h-1.3zM69 35h1.7v1.2h-1.7zM45.8 36h20.7v1.2h-20.7zM68.9 36h1.8v1.2h-1.8zM19.1 39h7.8v1.2h-7.8zM26.9 39h7.7v1.2h-7.7zM38.3 40h7.1v1.2h-7.1zM22.1 42h4.3v1.2h-4.3zM48.1 42h19v1.2h-19zM17.7 43h4.1v1.2h-4.1zM59.8 43h10.9v1.2h-10.9zM0 45h5.2v1.2h-5.2zM33.9 45h23.1v1.2h-23.1zM3.2 49h0.8v1.2h-0.8zM35.6 49h0.8v1.2h-0.8zM6.3 51h2.8v1.2h-2.8zM39.2 54h12.7v1.2h-12.7zM56.6 55h1.7v1.2h-1.7zM32.1 58h3.5v1.2h-3.5zM38.8 58h8.7v1.2h-8.7zM0 63h8v1.2h-8zM27 63h0.8v1.2h-0.8zM62.4 63h8.3v1.2h-8.3zM11.5 64h2.5v1.2h-2.5zM14 64h5.9v1.2h-5.9zM33.7 64h3.5v1.2h-3.5zM0 67h3.9v1.2h-3.9zM31 67h11.6v1.2h-11.6zM58.3 67h4.5v1.2h-4.5zM48.3 68h0.8v1.2h-0.8zM21.6 69h15.6v1.2h-15.6zM52.2 69h12.6v1.2h-12.6zM0 70h15v1.2h-15zM0 72h9.4v1.2h-9.4zM21.1 72h2.9v1.2h-2.9zM37.9 72h5.7v1.2h-5.7zM52.8 72h7.8v1.2h-7.8zM66.6 72h4.1v1.2h-4.1zM4.1 73h11.4v1.2h-11.4zM0.8 76h13.1v1.2h-13.1zM25.8 77h4.1v1.2h-4.1zM29.9 77h7.4v1.2h-7.4zM17 80h3.1v1.2h-3.1zM1.1 81h2.8v1.2h-2.8zM34.7 81h0.8v1.2h-0.8zM0 82h0.8v1.2h-0.8zM28.1 82h0.8v1.2h-0.8zM28.9 82h3.2v1.2h-3.2zM46.2 82h2.1v1.2h-2.1zM64.6 82h6.1v1.2h-6.1zM69.6 84h1.1v1.2h-1.1zM34 85h5.5v1.2h-5.5zM39.5 85h23.4v1.2h-23.4zM39.9 86h14.3v1.2h-14.3zM0 87h8.6v1.2h-8.6zM19.8 87h6.9v1.2h-6.9zM35.2 87h1.6v1.2h-1.6zM37.6 87h2.7v1.2h-2.7zM48.8 87h5.2v1.2h-5.2zM29.8 88h22.3v1.2h-22.3zM47.4 89h3.7v1.2h-3.7zM21.8 91h6.8v1.2h-6.8zM49 91h1v1.2h-1zM59.2 91h11.5v1.2h-11.5zM31.9 92h16.1v1.2h-16.1zM0 94h0.9v1.2h-0.9zM2.9 94h0.8v1.2h-0.8zM0 95h9.3v1.2h-9.3zM21.6 95h1v1.2h-1zM45 95h3.3v1.2h-3.3zM68.4 95h2.3v1.2h-2.3zM47.3 97h2.5v1.2h-2.5zM33.7 98h8.5v1.2h-8.5zM66.4 98h4.3v1.2h-4.3zM0 99h9.5v1.2h-9.5zM0 100h31.8v1.2h-31.8zM49.2 100h3.3v1.2h-3.3zM68.3 100h2.4v1.2h-2.4zM26.6 101h0.8v1.2h-0.8zM67.9 101h2.8v1.2h-2.8zM0 102h7.2v1.2h-7.2zM31.8 102h13.2v1.2h-13.2zM56.7 102h5.5v1.2h-5.5zM63 102h1.5v1.2h-1.5zM64.5 102h0.8v1.2h-0.8zM65.3 102h0.8v1.2h-0.8zM66.1 102h4.6v1.2h-4.6zM4.2 104h4.4v1.2h-4.4zM0 106h6.7v1.2h-6.7zM10.2 106h1.7v1.2h-1.7zM64.9 106h4.7v1.2h-4.7zM22.1 109h3.9v1.2h-3.9zM70.6 110h0.1v1.2h-0.1zM5 111h2v1.2h-2zM12.9 113h12.2v1.2h-12.2zM33.9 114h1v1.2h-1zM9.2 117h3.5v1.2h-3.5zM32.6 117h4.9v1.2h-4.9zM37.5 117h7.5v1.2h-7.5zM49.5 117h21.2v1.2h-21.2zM0 118h0.8v1.2h-0.8zM15.1 118h16.7v1.2h-16.7zM31.8 118h2.1v1.2h-2.1zM35.7 118h2.3v1.2h-2.3zM3.8 119h3.4v1.2h-3.4zM53.3 121h10.7v1.2h-10.7zM64 121h6.7v1.2h-6.7zM32.7 122h12.1v1.2h-12.1zM5.7 124h2.3v1.2h-2.3zM32.1 128h29.4v1.2h-29.4zM31.8 130h2.9v1.2h-2.9zM17.9 131h4.3v1.2h-4.3zM27.3 131h4.3v1.2h-4.3zM48.7 131h1.4v1.2h-1.4zM65.9 131h3.8v1.2h-3.8z"/>
<path fill="#651E68" transform="translate(0 -0.1)" d="M38.8 2h16.6v1.2h-16.6zM66 3h0.8v1.2h-0.8zM13.5 8h10.4v1.2h-10.4zM5.1 11h3.9v1.2h-3.9zM14.7 12h2.5v1.2h-2.5zM23.6 13h1v1.2h-1zM1.4 17h2.7v1.2h-2.7zM0 18h1v1.2h-1zM14.5 20h5.5v1.2h-5.5zM0 22h10v1.2h-10zM42.5 22h0.8v1.2h-0.8zM52 22h11.4v1.2h-11.4zM54.2 27h0.8v1.2h-0.8zM24.1 28h5.6v1.2h-5.6zM59.5 28h11.2v1.2h-11.2zM19.2 29h34.6v1.2h-34.6zM20.8 32h0.8v1.2h-0.8zM25.1 32h9.1v1.2h-9.1zM57.1 32h1.2v1.2h-1.2zM66.2 32h0.8v1.2h-0.8zM0 34h2v1.2h-2zM30.8 38h1v1.2h-1zM35.4 39h0.9v1.2h-0.9zM0 40h2.4v1.2h-2.4zM26.6 40h10.1v1.2h-10.1zM65.3 40h1.8v1.2h-1.8zM67.9 40h2.8v1.2h-2.8zM14.5 42h6.6v1.2h-6.6zM26.4 42h5.8v1.2h-5.8zM27.3 43h16.2v1.2h-16.2zM12.9 44h0.8v1.2h-0.8zM6.3 45h4.4v1.2h-4.4zM19 46h8.9v1.2h-8.9zM12.7 47h8.5v1.2h-8.5zM0 49h3.2v1.2h-3.2zM4 49h1v1.2h-1zM36.4 49h7.3v1.2h-7.3zM43.7 49h3.2v1.2h-3.2zM46.9 49h20v1.2h-20zM52.8 51h4.2v1.2h-4.2zM32 53h0.9v1.2h-0.9zM0 55h16.3v1.2h-16.3zM16.3 55h9.5v1.2h-9.5zM45.2 55h11.4v1.2h-11.4zM13.3 58h10v1.2h-10zM47.5 58h6v1.2h-6zM0 60h1.2v1.2h-1.2zM10.1 60h4.1v1.2h-4.1zM0 62h2v1.2h-2zM51.2 62h3.5v1.2h-3.5zM0 64h11.5v1.2h-11.5zM37.1 66h4.4v1.2h-4.4zM59.7 66h1.4v1.2h-1.4zM17 71h2.8v1.2h-2.8zM33.2 71h11.1v1.2h-11.1zM43.6 72h9.2v1.2h-9.2zM64.5 72h2.1v1.2h-2.1zM0 75h4.6v1.2h-4.6zM4.6 75h5.6v1.2h-5.6zM65.5 78h5.2v1.2h-5.2zM8.5 79h15.3v1.2h-15.3zM25 79h1v1.2h-1zM70.3 79h0.4v1.2h-0.4zM11.5 82h3.5v1.2h-3.5zM33.8 82h12.4v1.2h-12.4zM25.5 84h0.8v1.2h-0.8zM18 85h0.8v1.2h-0.8zM26.7 87h8.5v1.2h-8.5zM0 88h22.6v1.2h-22.6zM68.9 88h1.8v1.2h-1.8zM9.2 89h7.8v1.2h-7.8zM51.1 89h0.8v1.2h-0.8zM19.9 90h2.7v1.2h-2.7zM25.8 90h2.7v1.2h-2.7zM47.3 91h1.7v1.2h-1.7zM22.6 95h4.1v1.2h-4.1zM61.6 97h0.8v1.2h-0.8zM9.5 99h2.1v1.2h-2.1zM52.9 99h17.8v1.2h-17.8zM6.1 105h2.1v1.2h-2.1zM9.4 105h1v1.2h-1zM68.2 105h2.2v1.2h-2.2zM23 106h9.5v1.2h-9.5zM0 109h1.5v1.2h-1.5zM14 111h15.6v1.2h-15.6zM5.3 112h5.8v1.2h-5.8zM11.1 112h0.8v1.2h-0.8zM35.5 113h12.1v1.2h-12.1zM52.9 113h1.2v1.2h-1.2zM34.9 114h22.5v1.2h-22.5zM12.7 117h0.8v1.2h-0.8zM13.5 117h15.4v1.2h-15.4zM27.6 120h6.5v1.2h-6.5zM48.9 120h12.2v1.2h-12.2zM61.1 120h0.8v1.2h-0.8zM7.5 121h1.5v1.2h-1.5zM9 121h26.4v1.2h-26.4zM39.8 121h13.5v1.2h-13.5zM44.8 122h6.2v1.2h-6.2zM0 126h11.9v1.2h-11.9zM11.9 126h2.7v1.2h-2.7zM30 128h2.1v1.2h-2.1zM14.3 129h26.7v1.2h-26.7z"/>
<path fill="#A64F9A" transform="translate(0 -0.1)" d="M1.5 0h7.4v1.2h-7.4zM0 1h8.9v1.2h-8.9zM9.7 1h3.5v1.2h-3.5zM26.8 1h17.5v1.2h-17.5zM46 1h14.4v1.2h-14.4zM70.4 1h0.3v1.2h-0.3zM68.4 3h2.3v1.2h-2.3zM5.1 4h2.9v1.2h-2.9zM12.4 5h1.6v1.2h-1.6zM0 6h2.3v1.2h-2.3zM15.7 6h21.2v1.2h-21.2zM37.9 6h6.4v1.2h-6.4zM45.8 6h24.6v1.2h-24.6zM8.5 7h0.8v1.2h-0.8zM10.1 7h11.6v1.2h-11.6zM21.7 7h9.1v1.2h-9.1zM44.8 7h12.6v1.2h-12.6zM9.2 8h4.3v1.2h-4.3zM0 10h27v1.2h-27zM0 12h3.2v1.2h-3.2zM7.8 12h3.6v1.2h-3.6zM17.2 12h7.6v1.2h-7.6zM25.6 12h5.2v1.2h-5.2zM34 12h2.3v1.2h-2.3zM36.3 12h10.7v1.2h-10.7zM3 14h0.8v1.2h-0.8zM32.3 14h7.6v1.2h-7.6zM43.8 14h3.8v1.2h-3.8zM50 14h7.3v1.2h-7.3zM57.3 14h9.3v1.2h-9.3zM40.1 18h11.7v1.2h-11.7zM41 19h2.4v1.2h-2.4zM34.8 24h2.2v1.2h-2.2zM61.2 24h2.6v1.2h-2.6zM30.3 25h2.3v1.2h-2.3zM66.5 25h4.2v1.2h-4.2zM0 29h12.3v1.2h-12.3zM64.3 29h0.9v1.2h-0.9zM58.1 31h9.7v1.2h-9.7zM18.2 33h19.3v1.2h-19.3zM24.8 34h9.6v1.2h-9.6zM36.9 36h4.5v1.2h-4.5zM34.4 38h2.8v1.2h-2.8zM61.2 38h0.8v1.2h-0.8zM34.6 39h0.8v1.2h-0.8zM0 41h11.7v1.2h-11.7zM43.5 43h0.8v1.2h-0.8zM46.5 43h13.3v1.2h-13.3zM0.8 44h11.3v1.2h-11.3zM0.8 52h0.8v1.2h-0.8zM10.2 52h2.9v1.2h-2.9zM35 52h7.8v1.2h-7.8zM19.4 53h12.6v1.2h-12.6zM62.6 55h8.1v1.2h-8.1zM61.3 56h2v1.2h-2zM0 58h0.8v1.2h-0.8zM25.9 58h6.2v1.2h-6.2zM35.6 58h3.2v1.2h-3.2zM53.5 58h0.8v1.2h-0.8zM55.8 58h3v1.2h-3zM0 59h6.9v1.2h-6.9zM65.5 61h5.2v1.2h-5.2zM51.9 63h10.5v1.2h-10.5zM24.3 66h3v1.2h-3zM0 71h17v1.2h-17zM19.8 71h2.7v1.2h-2.7zM63.5 71h2.5v1.2h-2.5zM12.8 72h8.3v1.2h-8.3zM13.9 76h4.5v1.2h-4.5zM17.2 78h4.5v1.2h-4.5zM55.8 80h0.8v1.2h-0.8zM19.7 84h1.4v1.2h-1.4zM62.9 85h7.8v1.2h-7.8zM2.8 89h2.9v1.2h-2.9zM16 92h1v1.2h-1zM23.8 92h8.1v1.2h-8.1zM48.8 92h2.3v1.2h-2.3zM29.1 94h15.3v1.2h-15.3zM64 95h4.4v1.2h-4.4zM19.4 96h14.3v1.2h-14.3zM69.3 97h0.8v1.2h-0.8zM11.6 99h10.4v1.2h-10.4zM62.2 102h0.8v1.2h-0.8zM0 104h3.4v1.2h-3.4zM3.4 104h0.8v1.2h-0.8zM8.6 104h21.5v1.2h-21.5zM38.7 105h11.5v1.2h-11.5zM58 107h3.9v1.2h-3.9zM68.2 108h0.8v1.2h-0.8zM2.8 109h0.8v1.2h-0.8zM59.2 109h3.4v1.2h-3.4zM62.6 109h8.1v1.2h-8.1zM69.8 110h0.8v1.2h-0.8zM11.9 112h5.3v1.2h-5.3zM25.1 113h9.5v1.2h-9.5zM34.6 113h0.9v1.2h-0.9zM54.1 113h4.2v1.2h-4.2zM42.8 116h14.5v1.2h-14.5zM28.9 117h3.7v1.2h-3.7zM52.1 119h4.5v1.2h-4.5zM0 120h27.6v1.2h-27.6zM34.1 120h11.5v1.2h-11.5zM46.9 120h2v1.2h-2zM61.9 120h5.7v1.2h-5.7zM35.4 121h4.4v1.2h-4.4zM63 123h1.5v1.2h-1.5zM34.7 125h4.3v1.2h-4.3zM39.8 126h4.5v1.2h-4.5z"/>
<path fill="#f4eeee" d="M37.5 55h1.3v1h-1zM24.3 90h1.6v1h-1zM25.3 84h1.4v1h-1zM62.6 68h1.2v1h-1zM21.6 127h2v1h-1zM29.4 93h1.8v1h-1zM17.1 8h1.8v1h-1zM14.3 94h1.2v1h-1zM60.4 25h1.6v1h-1zM44.4 25h1.2v1h-1zM46.8 33h0.9v1h-1zM65.7 61h1.7v1h-1zM64.5 111h1.4v1h-1zM33.4 110h1.8v1h-1zM5.5 18h1.1v1h-1zM65.3 85h0.8v1h-1zM68.4 77h0.9v1h-1zM65.6 111h1.5v1h-1zM46.8 117h1.6v1h-1zM8.2 61h1v1h-1zM4.3 126h1.2v1h-1zM47.3 128h1.1v1h-1zM46.5 106h0.9v1h-1zM68.6 95h1v1h-1zM4.3 91h1.6v1h-1zM19.2 23h1.9v1h-1zM35.5 5h1.3v1h-1zM15.2 15h1.9v1h-1zM50.7 20h1.6v1h-1zM53.3 79h1.3v1h-1zM1.9 67h0.8v1h-1zM25.1 123h1.5v1h-1zM20.6 45h1.9v1h-1zM1.2 12h1.1v1h-1zM15.6 34h1.6v1h-1zM1.1 1h0.8v1h-1zM30.5 93h1.6v1h-1zM1.9 95h1.2v1h-1zM43 108h1.7v1h-1zM27.4 113h1.9v1h-1zM58.2 113h1.3v1h-1zM14.8 37h0.9v1h-1zM14.3 35h1.1v1h-1zM68.5 77h1.5v1h-1zM47.7 83h1.4v1h-1zM55.4 18h1.4v1h-1z"/>
</g>
<rect x="523.2" y="14.4" width="70.7" height="0.9" fill="#1B3060"/>
<g transform="translate(604.6 111.5) scale(1 -0.73)">
<path fill="#F99F4D" transform="translate(0 -0.1)" d="M42.9 1h19.8v1.2h-19.8zM63.8 1h6.6v1.2h-6.6zM4.7 2h11.6v1.2h-11.6zM1.3 8h9.6v1.2h-9.6zM22.1 8h3.7v1.2h-3.7zM43 9h3v1.2h-3zM56.9 9h13.5v1.2h-13.5zM43.9 14h1.9v1.2h-1.9zM47.9 14h4.2v1.2h-4.2zM39.5 16h18.6v1.2h-18.6zM68.1 16h2.3v1.2h-2.3zM10.8 17h0.8v1.2h-0.8zM65 19h5.4v1.2h-5.4zM0 20h9.3v1.2h-9.3zM12.6 20h0.8v1.2h-0.8zM15.2 20h8.1v1.2h-8.1zM24.1 20h6v1.2h-6zM34.5 22h7.8v1.2h-7.8zM0 25h4.2v1.2h-4.2zM4.8 27h45.2v1.2h-45.2zM23.8 29h0.8v1.2h-0.8zM66.2 29h0.8v1.2h-0.8zM67 29h1.8v1.2h-1.8zM4.1 31h4.8v1.2h-4.8zM36.4 31h10.4v1.2h-10.4zM56.9 31h5v1.2h-5zM61.9 31h8.5v1.2h-8.5zM0 36h13.8v1.2h-13.8zM44.5 39h13.8v1.2h-13.8zM11.6 40h3.2v1.2h-3.2zM20.2 41h21.5v1.2h-21.5zM0 42h42.8v1.2h-42.8zM42.8 42h15.4v1.2h-15.4zM1.9 45h15.9v1.2h-15.9zM36.7 45h3.3v1.2h-3.3zM44.3 45h4.2v1.2h-4.2zM0 46h22.4v1.2h-22.4zM22.4 46h15.1v1.2h-15.1zM53.3 46h3.1v1.2h-3.1zM23.4 47h19.4v1.2h-19.4zM36.5 48h29.5v1.2h-29.5zM58.9 56h3v1.2h-3zM56.9 59h13.5v1.2h-13.5zM0 60h1.1v1.2h-1.1zM7.4 60h3.9v1.2h-3.9zM37.2 66h29v1.2h-29zM0 68h4.1v1.2h-4.1zM6.9 68h7v1.2h-7zM19.2 68h0.8v1.2h-0.8zM31.4 68h11.4v1.2h-11.4zM47.8 68h0.8v1.2h-0.8zM23.1 70h0.8v1.2h-0.8zM56.7 76h10.1v1.2h-10.1zM19.2 77h6.9v1.2h-6.9zM0 78h2.6v1.2h-2.6zM2.6 78h4.3v1.2h-4.3zM36.7 82h0.8v1.2h-0.8zM22.5 84h6v1.2h-6zM70.2 85h0.2v1.2h-0.2zM15.8 86h3.8v1.2h-3.8zM49.2 86h17.5v1.2h-17.5zM35.5 88h8.3v1.2h-8.3zM41.8 91h13.8v1.2h-13.8zM55.6 91h9.8v1.2h-9.8z"/>
<path fill="#F0671F" transform="translate(0 -0.1)" d="M23.5 1h5.5v1.2h-5.5zM28.5 6h7v1.2h-7zM11.8 14h4.1v1.2h-4.1zM27.7 14h16.2v1.2h-16.2zM56.5 23h5.4v1.2h-5.4zM0 24h0.8v1.2h-0.8zM21.3 24h2.5v1.2h-2.5zM51.3 24h2.9v1.2h-2.9zM55.7 24h7.1v1.2h-7.1zM68.4 24h0.8v1.2h-0.8zM53.8 34h9.6v1.2h-9.6zM31.4 37h2.7v1.2h-2.7zM0 38h11v1.2h-11zM67.4 38h3v1.2h-3zM17.8 45h2.5v1.2h-2.5zM4.1 47h2.1v1.2h-2.1zM45.9 47h1.9v1.2h-1.9zM45 55h6v1.2h-6zM63.6 57h6.8v1.2h-6.8zM57.7 60h12.7v1.2h-12.7zM15.7 62h2.1v1.2h-2.1zM21.1 64h1.6v1.2h-1.6zM25.1 65h0.8v1.2h-0.8zM1.3 73h6.1v1.2h-6.1zM0 74h9.1v1.2h-9.1zM10 74h2.1v1.2h-2.1zM23.6 74h0.9v1.2h-0.9zM51.9 74h4.3v1.2h-4.3zM15.2 79h6.1v1.2h-6.1zM23.4 79h3.4v1.2h-3.4zM0 80h22.9v1.2h-22.9zM33 80h8.4v1.2h-8.4zM42.6 80h11v1.2h-11zM61 80h9.4v1.2h-9.4zM11.1 85h5.4v1.2h-5.4zM10.9 88h7.5v1.2h-7.5z"/>
<path fill="#BE1E2D" transform="translate(0 -0.1)" d="M9.2 0h2.8v1.2h-2.8zM47.8 10h2v1.2h-2zM30.6 12h7.5v1.2h-7.5zM0 26h1.6v1.2h-1.6zM14 26h1.2v1.2h-1.2zM16.3 26h7.6v1.2h-7.6zM46.3 26h0.8v1.2h-0.8zM68.4 26h0.8v1.2h-0.8zM33.4 53h7v1.2h-7zM32.9 70h2.6v1.2h-2.6zM6.1 75h1.1v1.2h-1.1zM8 75h0.8v1.2h-0.8zM35.6 75h2.2v1.2h-2.2zM39.2 75h1.1v1.2h-1.1zM43.1 75h0.8v1.2h-0.8z"/>
<path fill="#1B3060" transform="translate(0 -0.1)" d="M0 0h9.2v1.2h-9.2zM12 0h3.7v1.2h-3.7zM15.7 0h0.8v1.2h-0.8zM24.1 0h39.6v1.2h-39.6zM63.7 0h2v1.2h-2zM0 1h19.3v1.2h-19.3zM65.5 2h1.6v1.2h-1.6zM67.1 2h3.3v1.2h-3.3zM0 3h1.8v1.2h-1.8zM9.4 3h0.8v1.2h-0.8zM10.2 3h3.6v1.2h-3.6zM34.3 3h22.6v1.2h-22.6zM60.5 3h6.3v1.2h-6.3zM66.8 3h3.6v1.2h-3.6zM0 4h1v1.2h-1zM24.3 4h9.2v1.2h-9.2zM54.6 4h8.6v1.2h-8.6zM49.4 5h10.1v1.2h-10.1zM62.5 5h0.8v1.2h-0.8zM0 6h2v1.2h-2zM20.8 6h1.3v1.2h-1.3zM22.1 6h6.4v1.2h-6.4zM26.6 7h39.4v1.2h-39.4zM0 8h1.3v1.2h-1.3zM10.9 8h7.1v1.2h-7.1zM18 8h4.1v1.2h-4.1zM35.3 8h0.8v1.2h-0.8zM44.8 11h10v1.2h-10zM54.8 11h8.1v1.2h-8.1zM0 12h27v1.2h-27zM53.7 12h2.8v1.2h-2.8zM29 13h2.4v1.2h-2.4zM68.4 13h2v1.2h-2zM7.6 14h4.2v1.2h-4.2zM15.9 14h8.7v1.2h-8.7zM24.6 14h3.1v1.2h-3.1zM45.8 14h2.1v1.2h-2.1zM30.8 15h28.3v1.2h-28.3zM0 16h3.8v1.2h-3.8zM35.2 17h0.8v1.2h-0.8zM0 18h0.8v1.2h-0.8zM10 18h2.7v1.2h-2.7zM29.3 19h0.8v1.2h-0.8zM9.3 20h2v1.2h-2zM23.3 20h0.8v1.2h-0.8zM30.1 20h16.7v1.2h-16.7zM49.2 21h4.8v1.2h-4.8zM0 22h4v1.2h-4zM7.7 22h2.7v1.2h-2.7zM61.9 23h8.5v1.2h-8.5zM54.2 24h1.5v1.2h-1.5zM5 25h1.8v1.2h-1.8zM10.3 25h10v1.2h-10zM60.6 25h3.2v1.2h-3.2zM1.6 26h2.9v1.2h-2.9zM62 26h6.4v1.2h-6.4zM0 27h4.8v1.2h-4.8zM50 27h0.8v1.2h-0.8zM50.8 27h3.6v1.2h-3.6zM0 28h14.6v1.2h-14.6zM14.6 28h3.1v1.2h-3.1zM27.5 28h19.1v1.2h-19.1zM46.6 28h17.3v1.2h-17.3zM40.8 29h25.4v1.2h-25.4zM44 30h0.8v1.2h-0.8zM66.4 30h4v1.2h-4zM69.8 32h0.6v1.2h-0.6zM36.6 33h7v1.2h-7zM0 34h5.7v1.2h-5.7zM68.8 34h0.8v1.2h-0.8zM23.4 36h9.3v1.2h-9.3zM12.3 37h9v1.2h-9zM66.1 39h4v1.2h-4zM70.1 39h0.3v1.2h-0.3zM19.4 40h25.5v1.2h-25.5zM3.7 41h4.1v1.2h-4.1zM7.8 41h9v1.2h-9zM25.9 43h0.9v1.2h-0.9zM0 44h2.3v1.2h-2.3zM2.3 44h18.9v1.2h-18.9zM52.9 44h17.5v1.2h-17.5zM0 45h1.9v1.2h-1.9zM21.5 45h3.3v1.2h-3.3zM34.1 45h2.6v1.2h-2.6zM40 45h4.3v1.2h-4.3zM48.5 45h13.6v1.2h-13.6zM49.8 47h20.6v1.2h-20.6zM0 49h4.7v1.2h-4.7zM12.1 49h2.1v1.2h-2.1zM27.1 49h0.8v1.2h-0.8zM30.2 49h2.6v1.2h-2.6zM42.2 49h8.6v1.2h-8.6zM0 50h0.8v1.2h-0.8zM32.5 50h1.4v1.2h-1.4zM33.9 50h15.8v1.2h-15.8zM49.7 50h0.8v1.2h-0.8zM50.5 50h19.9v1.2h-19.9zM59.1 51h11.3v1.2h-11.3zM7.7 53h0.8v1.2h-0.8zM13.7 53h4.5v1.2h-4.5zM22.1 53h6.4v1.2h-6.4zM31.3 53h2.1v1.2h-2.1zM40.4 53h8.8v1.2h-8.8zM50 53h15.1v1.2h-15.1zM14.2 54h3.8v1.2h-3.8zM58.5 54h3.7v1.2h-3.7zM62.2 54h8.2v1.2h-8.2zM8.1 55h4.7v1.2h-4.7zM16.3 55h4v1.2h-4zM65 55h3.2v1.2h-3.2zM15.1 56h1.8v1.2h-1.8zM61.9 56h0.8v1.2h-0.8zM37.8 58h4.9v1.2h-4.9zM0 59h1v1.2h-1zM4.1 59h11.1v1.2h-11.1zM22.7 59h1.4v1.2h-1.4zM24.1 59h7v1.2h-7zM40.3 59h16.6v1.2h-16.6zM11.3 60h4.1v1.2h-4.1zM15.4 60h14.5v1.2h-14.5zM0 61h10v1.2h-10zM10 61h2.4v1.2h-2.4zM19.4 61h5.6v1.2h-5.6zM28.7 61h6.5v1.2h-6.5zM55.5 61h6.4v1.2h-6.4zM68.7 61h1.7v1.2h-1.7zM0 62h6.9v1.2h-6.9zM10 62h0.8v1.2h-0.8zM10.8 62h4.1v1.2h-4.1zM17.8 62h17.2v1.2h-17.2zM35 62h18v1.2h-18zM68.5 62h1.9v1.2h-1.9zM0 63h15.8v1.2h-15.8zM17.8 63h3.5v1.2h-3.5zM22.1 63h28.8v1.2h-28.8zM0 67h17.5v1.2h-17.5zM17.4 69h4.6v1.2h-4.6zM36.3 69h34.1v1.2h-34.1zM66.9 70h0.8v1.2h-0.8zM50 71h13.4v1.2h-13.4zM64.2 71h6.2v1.2h-6.2zM0 72h16.4v1.2h-16.4zM40.2 72h3.9v1.2h-3.9zM49.4 72h21v1.2h-21zM46.2 73h8.8v1.2h-8.8zM9.1 74h0.9v1.2h-0.9zM8.8 75h26.8v1.2h-26.8zM37.8 75h1.4v1.2h-1.4zM21.4 76h2.2v1.2h-2.2zM24.4 76h3.5v1.2h-3.5zM41.2 76h4.1v1.2h-4.1zM19.9 78h6.6v1.2h-6.6zM42.2 78h4v1.2h-4zM57.2 78h0.9v1.2h-0.9zM58.1 78h12.3v1.2h-12.3zM0 79h10.8v1.2h-10.8zM10.8 79h4.4v1.2h-4.4zM26.8 79h3.8v1.2h-3.8zM36.3 79h22.5v1.2h-22.5zM58.8 79h3.8v1.2h-3.8zM64.5 79h5.7v1.2h-5.7zM53.6 80h4.4v1.2h-4.4zM12.4 81h23.5v1.2h-23.5zM33.1 82h3.6v1.2h-3.6zM37.5 82h2.3v1.2h-2.3zM39.8 82h15.9v1.2h-15.9zM0 83h4.3v1.2h-4.3zM0 84h9.1v1.2h-9.1zM12 84h10.5v1.2h-10.5zM52.8 84h1v1.2h-1zM53.8 84h11.3v1.2h-11.3zM65.1 84h5.3v1.2h-5.3zM23.8 85h4.6v1.2h-4.6zM0 86h12.5v1.2h-12.5zM32.6 86h6.6v1.2h-6.6zM0 88h2.4v1.2h-2.4zM8 88h2.9v1.2h-2.9zM18.4 88h17.1v1.2h-17.1zM43.8 88h5v1.2h-5zM51.4 88h9.6v1.2h-9.6zM61.8 88h1.2v1.2h-1.2zM66.9 88h3.5v1.2h-3.5zM66.7 89h3.7v1.2h-3.7z"/>
<path fill="#651E68" transform="translate(0 -0.1)" d="M16.5 0h2.4v1.2h-2.4zM18.9 0h5.2v1.2h-5.2zM65.7 0h4.7v1.2h-4.7zM19.3 1h4.2v1.2h-4.2zM29 1h13.9v1.2h-13.9zM62.7 1h1.1v1.2h-1.1zM0.8 2h3.9v1.2h-3.9zM16.3 2h27.5v1.2h-27.5zM43.8 2h12.3v1.2h-12.3zM56.1 2h7.5v1.2h-7.5zM13.8 3h20.5v1.2h-20.5zM1 4h23.3v1.2h-23.3zM63.2 4h7.2v1.2h-7.2zM0 5h1.7v1.2h-1.7zM1.7 5h6.9v1.2h-6.9zM8.6 5h10.1v1.2h-10.1zM18.7 5h0.8v1.2h-0.8zM26.4 5h10.9v1.2h-10.9zM37.3 5h12.1v1.2h-12.1zM59.5 5h3v1.2h-3zM63.3 5h2.5v1.2h-2.5zM49 6h0.8v1.2h-0.8zM12 7h10.2v1.2h-10.2zM66 7h4.4v1.2h-4.4zM25.8 8h9.5v1.2h-9.5zM36.1 8h6.5v1.2h-6.5zM7.7 10h9.9v1.2h-9.9zM20.9 10h16.4v1.2h-16.4zM37.3 10h4.3v1.2h-4.3zM49.8 10h1.5v1.2h-1.5zM59 10h5.6v1.2h-5.6zM1.8 11h0.8v1.2h-0.8zM22 11h4.1v1.2h-4.1zM26.1 11h3.9v1.2h-3.9zM30 11h2.4v1.2h-2.4zM32.4 11h5.2v1.2h-5.2zM37.6 11h6.4v1.2h-6.4zM44 11h0.8v1.2h-0.8zM62.9 11h2.8v1.2h-2.8zM27 12h3.6v1.2h-3.6zM0 13h13.4v1.2h-13.4zM13.4 13h15.6v1.2h-15.6zM31.4 13h4.1v1.2h-4.1zM41.2 13h1.8v1.2h-1.8zM43 13h8.1v1.2h-8.1zM51.1 13h2.1v1.2h-2.1zM53.2 13h9.3v1.2h-9.3zM62.5 13h5.9v1.2h-5.9zM0 14h4.6v1.2h-4.6zM0 15h9.1v1.2h-9.1zM14.4 15h1.2v1.2h-1.2zM15.6 15h15.2v1.2h-15.2zM63.5 15h6.9v1.2h-6.9zM3.8 16h2.9v1.2h-2.9zM6.7 16h28.9v1.2h-28.9zM35.6 16h3.9v1.2h-3.9zM58.1 16h9.2v1.2h-9.2zM67.3 16h0.8v1.2h-0.8zM14.3 17h7.8v1.2h-7.8zM6.9 18h3.1v1.2h-3.1zM18.4 18h25.8v1.2h-25.8zM51.1 18h7.2v1.2h-7.2zM58.3 18h12.1v1.2h-12.1zM0 19h15.7v1.2h-15.7zM16.5 19h7.6v1.2h-7.6zM24.1 19h5.2v1.2h-5.2zM30.1 19h34.9v1.2h-34.9zM11.3 20h1.3v1.2h-1.3zM46.8 20h12.7v1.2h-12.7zM0 21h2.5v1.2h-2.5zM13.1 21h5.5v1.2h-5.5zM18.6 21h1.9v1.2h-1.9zM23.9 21h21.3v1.2h-21.3zM63.7 21h6.7v1.2h-6.7zM4 22h3.7v1.2h-3.7zM10.4 22h8.9v1.2h-8.9zM19.3 22h15.2v1.2h-15.2zM42.3 22h9.2v1.2h-9.2zM51.5 22h14.6v1.2h-14.6zM66.9 22h3.5v1.2h-3.5zM0 23h14.9v1.2h-14.9zM0.8 24h20.5v1.2h-20.5zM23.8 24h27.5v1.2h-27.5zM69.2 24h0.8v1.2h-0.8zM70 24h0.4v1.2h-0.4zM32 25h5.3v1.2h-5.3zM38.2 25h0.9v1.2h-0.9zM39.1 25h4.7v1.2h-4.7zM44.6 25h1v1.2h-1zM45.6 25h13.7v1.2h-13.7zM63.8 25h0.8v1.2h-0.8zM64.6 25h5.8v1.2h-5.8zM4.5 26h9.5v1.2h-9.5zM23.9 26h22.4v1.2h-22.4zM47.1 26h14.9v1.2h-14.9zM54.4 27h3.3v1.2h-3.3zM57.7 27h12.7v1.2h-12.7zM0 29h23.8v1.2h-23.8zM32.3 29h8.5v1.2h-8.5zM68.8 29h1.6v1.2h-1.6zM0 30h1.6v1.2h-1.6zM14.7 30h0.8v1.2h-0.8zM31.7 30h1.4v1.2h-1.4zM39.7 30h4.3v1.2h-4.3zM44.8 30h8.9v1.2h-8.9zM62.5 30h3.9v1.2h-3.9zM0 31h4.1v1.2h-4.1zM35.2 31h1.2v1.2h-1.2zM2.3 32h23.3v1.2h-23.3zM25.6 32h41v1.2h-41zM66.6 32h3.2v1.2h-3.2zM0 33h36.6v1.2h-36.6zM43.6 33h6.7v1.2h-6.7zM12.9 34h0.8v1.2h-0.8zM19.9 34h6.2v1.2h-6.2zM63.4 34h5.4v1.2h-5.4zM69.6 34h0.8v1.2h-0.8zM0 35h15.2v1.2h-15.2zM15.2 35h22v1.2h-22zM37.2 35h14.1v1.2h-14.1zM51.3 35h19.1v1.2h-19.1zM13.8 36h5v1.2h-5zM18.8 36h4.6v1.2h-4.6zM32.7 36h33.8v1.2h-33.8zM21.3 37h2.2v1.2h-2.2zM35.4 37h9.1v1.2h-9.1zM44.5 37h25.9v1.2h-25.9zM11 38h56.4v1.2h-56.4zM0 39h1.6v1.2h-1.6zM13 39h7.2v1.2h-7.2zM21.3 39h18.9v1.2h-18.9zM0 40h2.5v1.2h-2.5zM2.5 40h9.1v1.2h-9.1zM14.8 40h3v1.2h-3zM17.8 40h0.8v1.2h-0.8zM44.9 40h17.2v1.2h-17.2zM68.3 40h2.1v1.2h-2.1zM0 41h3.7v1.2h-3.7zM16.8 41h3.4v1.2h-3.4zM41.7 41h11v1.2h-11zM52.7 41h17.7v1.2h-17.7zM58.2 42h9.2v1.2h-9.2zM0 43h21.7v1.2h-21.7zM21.7 43h4.2v1.2h-4.2zM26.8 43h0.9v1.2h-0.9zM27.7 43h3.7v1.2h-3.7zM32.2 43h3.8v1.2h-3.8zM36 43h3v1.2h-3zM21.2 44h31.7v1.2h-31.7zM20.3 45h1.2v1.2h-1.2zM62.1 45h6.1v1.2h-6.1zM68.2 45h2.2v1.2h-2.2zM46 46h0.8v1.2h-0.8zM46.8 46h6.5v1.2h-6.5zM56.4 46h14v1.2h-14zM0 47h4.1v1.2h-4.1zM6.2 47h7.2v1.2h-7.2zM13.4 47h10v1.2h-10zM42.8 47h3.1v1.2h-3.1zM47.8 47h2v1.2h-2zM0 48h17.4v1.2h-17.4zM17.4 48h19.1v1.2h-19.1zM66 48h4.4v1.2h-4.4zM4.7 49h7.4v1.2h-7.4zM27.9 49h2.3v1.2h-2.3zM34.1 49h8.1v1.2h-8.1zM54.1 49h16.3v1.2h-16.3zM0.8 50h30.9v1.2h-30.9zM31.7 50h0.8v1.2h-0.8zM13.2 51h1.6v1.2h-1.6zM14.8 51h29v1.2h-29zM43.8 51h13.7v1.2h-13.7zM0 52h70.4v1.2h-70.4zM0 53h7.7v1.2h-7.7zM18.2 53h3.9v1.2h-3.9zM44 54h10.3v1.2h-10.3zM57.7 54h0.8v1.2h-0.8zM0 55h7.1v1.2h-7.1zM12.8 55h3.5v1.2h-3.5zM20.3 55h4v1.2h-4zM24.3 55h9.5v1.2h-9.5zM33.8 55h11.2v1.2h-11.2zM51 55h14v1.2h-14zM68.2 55h2.2v1.2h-2.2zM0 56h15.1v1.2h-15.1zM29.9 56h13.2v1.2h-13.2zM48.2 56h8.7v1.2h-8.7zM56.9 56h2v1.2h-2zM62.7 56h7.7v1.2h-7.7zM0 57h19.9v1.2h-19.9zM19.9 57h6.8v1.2h-6.8zM39.7 57h23.9v1.2h-23.9zM0 58h18v1.2h-18zM18 58h19.8v1.2h-19.8zM42.7 58h18.9v1.2h-18.9zM67.1 58h3.3v1.2h-3.3zM31.1 59h9.2v1.2h-9.2zM1.1 60h6.3v1.2h-6.3zM34 60h19.2v1.2h-19.2zM53.2 60h3.7v1.2h-3.7zM56.9 60h0.8v1.2h-0.8zM12.4 61h7v1.2h-7zM25 61h3.7v1.2h-3.7zM35.2 61h8.4v1.2h-8.4zM43.6 61h11.9v1.2h-11.9zM61.9 61h6.8v1.2h-6.8zM6.9 62h3.1v1.2h-3.1zM14.9 62h0.8v1.2h-0.8zM53 62h15.5v1.2h-15.5zM15.8 63h1.2v1.2h-1.2zM50.9 63h4.2v1.2h-4.2zM55.1 63h14.4v1.2h-14.4zM69.5 63h0.9v1.2h-0.9zM1.3 64h3.9v1.2h-3.9zM5.2 64h15.9v1.2h-15.9zM35.7 64h1v1.2h-1zM36.7 64h3.3v1.2h-3.3zM47.5 64h22.9v1.2h-22.9zM0 65h25.1v1.2h-25.1zM25.9 65h10.4v1.2h-10.4zM36.3 65h1.6v1.2h-1.6zM37.9 65h26.6v1.2h-26.6zM64.5 65h2.6v1.2h-2.6zM67.1 65h3.3v1.2h-3.3zM33.6 66h3.6v1.2h-3.6zM66.2 66h4.2v1.2h-4.2zM17.5 67h52.9v1.2h-52.9zM4.1 68h1.9v1.2h-1.9zM20 68h11.4v1.2h-11.4zM48.6 68h21.8v1.2h-21.8zM0 69h16.4v1.2h-16.4zM22 69h14.3v1.2h-14.3zM0 70h23.1v1.2h-23.1zM23.9 70h9v1.2h-9zM42.4 70h24.5v1.2h-24.5zM67.7 70h2.7v1.2h-2.7zM0 71h36.6v1.2h-36.6zM36.6 71h13.4v1.2h-13.4zM63.4 71h0.8v1.2h-0.8zM16.4 72h21.6v1.2h-21.6zM38 72h2.2v1.2h-2.2zM25.8 73h2.2v1.2h-2.2zM40.8 73h5.4v1.2h-5.4zM56.2 74h14.2v1.2h-14.2zM7.2 75h0.8v1.2h-0.8zM40.3 75h2.8v1.2h-2.8zM43.9 75h26.5v1.2h-26.5zM23.6 76h0.8v1.2h-0.8zM27.9 76h13.3v1.2h-13.3zM45.3 76h11.4v1.2h-11.4zM66.8 76h3.6v1.2h-3.6zM0 77h13.6v1.2h-13.6zM26.1 77h44.3v1.2h-44.3zM9.2 78h2.3v1.2h-2.3zM38.8 78h2v1.2h-2zM46.2 78h11v1.2h-11zM30.6 79h5.7v1.2h-5.7zM22.9 80h10.1v1.2h-10.1zM58 80h0.8v1.2h-0.8zM58.8 80h2.2v1.2h-2.2zM0 81h9.5v1.2h-9.5zM57.8 81h2.9v1.2h-2.9zM62.1 81h5.8v1.2h-5.8zM67.9 81h2.5v1.2h-2.5zM0 82h22.6v1.2h-22.6zM22.6 82h10.5v1.2h-10.5zM55.7 82h0.8v1.2h-0.8zM56.5 82h13.9v1.2h-13.9zM4.3 83h2.8v1.2h-2.8zM7.1 83h24.6v1.2h-24.6zM31.7 83h12.2v1.2h-12.2zM43.9 83h7.5v1.2h-7.5zM51.4 83h19v1.2h-19zM9.1 84h2.9v1.2h-2.9zM28.5 84h24.3v1.2h-24.3zM0 85h1.6v1.2h-1.6zM1.6 85h0.8v1.2h-0.8zM2.4 85h8.7v1.2h-8.7zM16.5 85h7.3v1.2h-7.3zM28.4 85h2.9v1.2h-2.9zM45.5 85h0.9v1.2h-0.9zM46.4 85h9.4v1.2h-9.4zM61.1 85h9.1v1.2h-9.1zM12.5 86h2.5v1.2h-2.5zM19.6 86h13v1.2h-13zM0.9 87h3.8v1.2h-3.8zM69.7 87h0.7v1.2h-0.7zM48.8 88h2.6v1.2h-2.6zM61 88h0.8v1.2h-0.8zM0 89h2.9v1.2h-2.9zM2.9 89h2.9v1.2h-2.9zM10.8 89h5.5v1.2h-5.5zM16.3 89h4.4v1.2h-4.4zM20.7 89h1.9v1.2h-1.9zM36 89h23.3v1.2h-23.3zM59.3 89h7.4v1.2h-7.4zM0 90h18.9v1.2h-18.9zM21.2 90h0.8v1.2h-0.8zM22.8 90h7.8v1.2h-7.8zM30.6 90h13.8v1.2h-13.8zM44.4 90h16.6v1.2h-16.6zM61 90h2.9v1.2h-2.9zM63.9 90h6.5v1.2h-6.5zM0 91h28v1.2h-28zM66.2 91h4.2v1.2h-4.2z"/>
<path fill="#A64F9A" transform="translate(0 -0.1)" d="M0 2h0.8v1.2h-0.8zM63.6 2h1.9v1.2h-1.9zM1.8 3h7.6v1.2h-7.6zM56.9 3h3.6v1.2h-3.6zM33.5 4h7.2v1.2h-7.2zM40.7 4h13.9v1.2h-13.9zM19.5 5h6.9v1.2h-6.9zM65.8 5h4.6v1.2h-4.6zM2 6h18.8v1.2h-18.8zM35.5 6h5.8v1.2h-5.8zM41.3 6h7.7v1.2h-7.7zM49.8 6h1.6v1.2h-1.6zM51.4 6h19v1.2h-19zM0 7h12v1.2h-12zM22.2 7h4.4v1.2h-4.4zM42.6 8h27.8v1.2h-27.8zM0 9h43v1.2h-43zM46 9h6.4v1.2h-6.4zM52.4 9h3.1v1.2h-3.1zM55.5 9h1.4v1.2h-1.4zM0 10h5.9v1.2h-5.9zM5.9 10h1.8v1.2h-1.8zM17.6 10h3.3v1.2h-3.3zM41.6 10h6.2v1.2h-6.2zM51.3 10h7.7v1.2h-7.7zM64.6 10h5.8v1.2h-5.8zM0 11h1.8v1.2h-1.8zM2.6 11h14.8v1.2h-14.8zM17.4 11h0.8v1.2h-0.8zM18.2 11h3.8v1.2h-3.8zM65.7 11h4.7v1.2h-4.7zM38.1 12h15.6v1.2h-15.6zM56.5 12h13.9v1.2h-13.9zM35.5 13h5.7v1.2h-5.7zM4.6 14h3v1.2h-3zM52.1 14h18.3v1.2h-18.3zM9.1 15h5.3v1.2h-5.3zM59.1 15h4.4v1.2h-4.4zM0 17h3.9v1.2h-3.9zM3.9 17h2.6v1.2h-2.6zM6.5 17h4.3v1.2h-4.3zM11.6 17h1.9v1.2h-1.9zM13.5 17h0.8v1.2h-0.8zM22.1 17h0.8v1.2h-0.8zM22.9 17h3v1.2h-3zM25.9 17h9.3v1.2h-9.3zM36 17h9.8v1.2h-9.8zM45.8 17h24.6v1.2h-24.6zM0.8 18h6.1v1.2h-6.1zM12.7 18h5.7v1.2h-5.7zM44.2 18h6.9v1.2h-6.9zM15.7 19h0.8v1.2h-0.8zM13.4 20h1.8v1.2h-1.8zM59.5 20h10.9v1.2h-10.9zM2.5 21h10.6v1.2h-10.6zM20.5 21h3.4v1.2h-3.4zM45.2 21h4v1.2h-4zM54 21h9.7v1.2h-9.7zM66.1 22h0.8v1.2h-0.8zM14.9 23h41.6v1.2h-41.6zM62.8 24h0.8v1.2h-0.8zM63.6 24h4.8v1.2h-4.8zM4.2 25h0.8v1.2h-0.8zM6.8 25h3.5v1.2h-3.5zM20.3 25h7.3v1.2h-7.3zM27.6 25h4.4v1.2h-4.4zM37.3 25h0.9v1.2h-0.9zM43.8 25h0.8v1.2h-0.8zM59.3 25h1.3v1.2h-1.3zM15.2 26h1.1v1.2h-1.1zM69.2 26h1.2v1.2h-1.2zM17.7 28h9.8v1.2h-9.8zM63.9 28h6.5v1.2h-6.5zM24.6 29h7.7v1.2h-7.7zM1.6 30h13.1v1.2h-13.1zM15.5 30h16.2v1.2h-16.2zM33.1 30h6.6v1.2h-6.6zM53.7 30h8.8v1.2h-8.8zM8.9 31h26.3v1.2h-26.3zM46.8 31h10.1v1.2h-10.1zM0 32h2.3v1.2h-2.3zM50.3 33h20.1v1.2h-20.1zM5.7 34h4.3v1.2h-4.3zM10 34h2.9v1.2h-2.9zM13.7 34h6.2v1.2h-6.2zM26.1 34h27.7v1.2h-27.7zM66.5 36h3.9v1.2h-3.9zM0 37h2.5v1.2h-2.5zM2.5 37h9.8v1.2h-9.8zM23.5 37h5.9v1.2h-5.9zM29.4 37h2v1.2h-2zM34.1 37h1.3v1.2h-1.3zM1.6 39h11.4v1.2h-11.4zM20.2 39h1.1v1.2h-1.1zM40.2 39h4.3v1.2h-4.3zM58.3 39h7.8v1.2h-7.8zM18.6 40h0.8v1.2h-0.8zM62.1 40h0.8v1.2h-0.8zM62.9 40h5.4v1.2h-5.4zM67.4 42h3v1.2h-3zM31.4 43h0.8v1.2h-0.8zM39 43h31.4v1.2h-31.4zM24.8 45h9.3v1.2h-9.3zM37.5 46h8.5v1.2h-8.5zM14.2 49h12.9v1.2h-12.9zM32.8 49h1.3v1.2h-1.3zM50.8 49h3.3v1.2h-3.3zM0 51h9.1v1.2h-9.1zM9.1 51h4.1v1.2h-4.1zM57.5 51h0.8v1.2h-0.8zM58.3 51h0.8v1.2h-0.8zM8.5 53h5.2v1.2h-5.2zM28.5 53h2.8v1.2h-2.8zM49.2 53h0.8v1.2h-0.8zM65.1 53h5.3v1.2h-5.3zM0 54h14.2v1.2h-14.2zM18 54h26v1.2h-26zM54.3 54h3.4v1.2h-3.4zM7.1 55h1v1.2h-1zM16.9 56h13v1.2h-13zM43.1 56h5.1v1.2h-5.1zM26.7 57h13v1.2h-13zM61.6 58h5.5v1.2h-5.5zM1 59h3.1v1.2h-3.1zM15.2 59h7.5v1.2h-7.5zM29.9 60h4.1v1.2h-4.1zM17 63h0.8v1.2h-0.8zM21.3 63h0.8v1.2h-0.8zM0 64h1.3v1.2h-1.3zM22.7 64h13v1.2h-13zM40 64h7.5v1.2h-7.5zM0 66h33.6v1.2h-33.6zM6 68h0.9v1.2h-0.9zM13.9 68h5.3v1.2h-5.3zM42.8 68h5v1.2h-5zM16.4 69h1v1.2h-1zM35.5 70h6.9v1.2h-6.9zM44.1 72h5.3v1.2h-5.3zM0 73h1.3v1.2h-1.3zM7.4 73h18.4v1.2h-18.4zM28 73h12.8v1.2h-12.8zM55 73h15.4v1.2h-15.4zM12.1 74h7.6v1.2h-7.6zM19.7 74h3.9v1.2h-3.9zM24.5 74h17.3v1.2h-17.3zM41.8 74h10.1v1.2h-10.1zM0 75h6.1v1.2h-6.1zM0 76h21.4v1.2h-21.4zM13.6 77h5.6v1.2h-5.6zM6.9 78h2.3v1.2h-2.3zM11.5 78h8.4v1.2h-8.4zM26.5 78h2.7v1.2h-2.7zM29.2 78h9.6v1.2h-9.6zM40.8 78h1.4v1.2h-1.4zM21.3 79h2.1v1.2h-2.1zM62.6 79h1.9v1.2h-1.9zM70.2 79h0.2v1.2h-0.2zM41.4 80h1.2v1.2h-1.2zM9.5 81h2.9v1.2h-2.9zM35.9 81h21.9v1.2h-21.9zM60.7 81h1.4v1.2h-1.4zM31.3 85h14.2v1.2h-14.2zM55.8 85h5.3v1.2h-5.3zM15 86h0.8v1.2h-0.8zM39.2 86h10v1.2h-10zM66.7 86h3.7v1.2h-3.7zM0 87h0.9v1.2h-0.9zM4.7 87h50.5v1.2h-50.5zM55.2 87h14.5v1.2h-14.5zM2.4 88h5.6v1.2h-5.6zM63 88h1.5v1.2h-1.5zM64.5 88h2.4v1.2h-2.4zM5.8 89h5v1.2h-5zM22.6 89h5.5v1.2h-5.5zM28.1 89h7.9v1.2h-7.9zM18.9 90h2.3v1.2h-2.3zM22 90h0.8v1.2h-0.8zM28 91h13.8v1.2h-13.8zM65.4 91h0.8v1.2h-0.8z"/>
<path fill="#f4eeee" d="M51.8 2h1.1v1h-1zM5.6 78h1.6v1h-1zM10.7 71h0.9v1h-1zM54.3 76h0.8v1h-1zM1.7 84h1.4v1h-1zM66.2 18h1.5v1h-1zM42.9 9h0.9v1h-1zM18.8 78h1.2v1h-1zM45.7 74h1.3v1h-1zM18.3 27h1.5v1h-1zM27.6 19h0.8v1h-1zM56.4 7h1.4v1h-1zM31.1 54h1.9v1h-1zM41.5 28h1.8v1h-1zM17.3 90h1.6v1h-1zM55.1 51h1.7v1h-1zM41.4 40h1.3v1h-1zM13.1 77h1.8v1h-1zM24.9 81h1.2v1h-1zM45.2 23h0.9v1h-1zM12.5 63h0.9v1h-1zM54 69h1.8v1h-1zM34.9 60h1.8v1h-1zM59.4 72h0.9v1h-1zM27.2 60h0.9v1h-1zM46.4 81h1.6v1h-1zM46.9 1h0.8v1h-1zM34.4 72h0.8v1h-1zM24.3 53h1.2v1h-1zM24.9 43h1.6v1h-1zM28.6 29h1.8v1h-1zM42 35h1.1v1h-1z"/>
</g>
<line x1="523.2" y1="111.5" x2="593.9" y2="111.5" stroke="#8a8a8a" stroke-width="0.7"/>
<line x1="523.2" y1="111.5" x2="523.2" y2="114.5" stroke="#8a8a8a" stroke-width="0.7"/>
<text x="523.2" y="124.6" font-size="8.5" text-anchor="middle" fill="#231f20">0</text>
<line x1="558.55" y1="111.5" x2="558.55" y2="114.5" stroke="#8a8a8a" stroke-width="0.7"/>
<text x="558.55" y="124.6" font-size="8.5" text-anchor="middle" fill="#231f20">30</text>
<line x1="593.9" y1="111.5" x2="593.9" y2="114.5" stroke="#8a8a8a" stroke-width="0.7"/>
<text x="593.9" y="124.6" font-size="8.5" text-anchor="middle" fill="#231f20">60</text>
<line x1="604.6" y1="111.5" x2="675" y2="111.5" stroke="#8a8a8a" stroke-width="0.7"/>
<line x1="604.6" y1="111.5" x2="604.6" y2="114.5" stroke="#8a8a8a" stroke-width="0.7"/>
<text x="604.6" y="124.6" font-size="8.5" text-anchor="middle" fill="#231f20">0</text>
<line x1="639.8" y1="111.5" x2="639.8" y2="114.5" stroke="#8a8a8a" stroke-width="0.7"/>
<text x="639.8" y="124.6" font-size="8.5" text-anchor="middle" fill="#231f20">30</text>
<line x1="675" y1="111.5" x2="675" y2="114.5" stroke="#8a8a8a" stroke-width="0.7"/>
<text x="675" y="124.6" font-size="8.5" text-anchor="middle" fill="#231f20">60</text>
<line x1="523.2" y1="14.6" x2="523.2" y2="111.5" stroke="#8a8a8a" stroke-width="0.7"/>
<line x1="604.6" y1="43.8" x2="604.6" y2="111.5" stroke="#8a8a8a" stroke-width="0.7"/>
<line x1="520.2" y1="111.5" x2="523.2" y2="111.5" stroke="#8a8a8a" stroke-width="0.7"/>
<text x="517.5" y="114.6" font-size="8.5" text-anchor="end" fill="#231f20">0</text>
<line x1="520.2" y1="74.8" x2="523.2" y2="74.8" stroke="#8a8a8a" stroke-width="0.7"/>
<text x="517.5" y="77.9" font-size="8.5" text-anchor="end" fill="#231f20">50</text>
<line x1="520.2" y1="38.1" x2="523.2" y2="38.1" stroke="#8a8a8a" stroke-width="0.7"/>
<text x="517.5" y="41.2" font-size="8.5" text-anchor="end" fill="#231f20">100</text>
<line x1="601.6" y1="111.5" x2="604.6" y2="111.5" stroke="#8a8a8a" stroke-width="0.7"/>
<line x1="601.6" y1="74.8" x2="604.6" y2="74.8" stroke="#8a8a8a" stroke-width="0.7"/>
<text x="497.5" y="63.3" font-size="9" text-anchor="middle" fill="#231f20" transform="rotate(-90 497.5 63.3)">Recordings</text>
<text x="597" y="137" font-size="8.6" text-anchor="middle" fill="#231f20">Time (s)</text>
<text x="558.4" y="11.4" font-size="9" text-anchor="middle" fill="#231f20">On larvae</text>
<text x="639.8" y="39.6" font-size="9" text-anchor="middle" fill="#231f20">On OP50</text>
<rect x="228.28" y="170.3" width="69.39" height="26.1" fill="#d9dadc"/>
<rect x="228.28" y="198.5" width="69.39" height="26.6" fill="#d9dadc"/>
<rect x="228.28" y="227.2" width="69.39" height="26.4" fill="#d9dadc"/>
<rect x="85.6" y="155.4" width="356" height="11.9" fill="#fff"/>
<rect x="90.6" y="155.4" width="15.2" height="11.9" fill="#F99F4D"/>
<rect x="105.8" y="155.4" width="9.2" height="11.9" fill="#A64F9A"/>
<rect x="115" y="155.4" width="2.6" height="11.9" fill="#F99F4D"/>
<rect x="117.6" y="155.4" width="5.8" height="11.9" fill="#A64F9A"/>
<rect x="123.4" y="155.4" width="2.6" height="11.9" fill="#651E68"/>
<rect x="126" y="155.4" width="30.5" height="11.9" fill="#F99F4D"/>
<rect x="156.5" y="155.4" width="2.1" height="11.9" fill="#A64F9A"/>
<rect x="158.6" y="155.4" width="22.1" height="11.9" fill="#F99F4D"/>
<rect x="180.7" y="155.4" width="3.1" height="11.9" fill="#A64F9A"/>
<rect x="183.8" y="155.4" width="7.9" height="11.9" fill="#F99F4D"/>
<rect x="191.7" y="155.4" width="1.4" height="11.9" fill="#f3e3d3"/>
<rect x="193.1" y="155.4" width="64.9" height="11.9" fill="#F99F4D"/>
<rect x="258" y="155.4" width="1.5" height="11.9" fill="#A64F9A"/>
<rect x="259.5" y="155.4" width="28.8" height="11.9" fill="#F99F4D"/>
<rect x="288.3" y="155.4" width="33.6" height="11.9" fill="#BE1E2D"/>
<rect x="321.9" y="155.4" width="72.8" height="11.9" fill="#F99F4D"/>
<rect x="394.7" y="155.4" width="6.6" height="11.9" fill="#A64F9A"/>
<rect x="401.3" y="155.4" width="28.1" height="11.9" fill="#F99F4D"/>
<rect x="429.4" y="155.4" width="2.1" height="11.9" fill="#A64F9A"/>
<rect x="431.5" y="155.4" width="5.2" height="11.9" fill="#651E68"/>
<rect x="85.6" y="155.4" width="356" height="11.9" fill="none" stroke="#9a9a9a" stroke-width="0.8"/>
<rect x="85.6" y="170.3" width="356" height="26.1" fill="none" stroke="#9a9a9a" stroke-width="0.8"/>
<rect x="85.6" y="198.5" width="356" height="26.6" fill="none" stroke="#9a9a9a" stroke-width="0.8"/>
<rect x="85.6" y="227.2" width="356" height="26.4" fill="none" stroke="#9a9a9a" stroke-width="0.8"/>
<line x1="82.8" y1="196.2" x2="85.6" y2="196.2" stroke="#666" stroke-width="0.8"/>
<text x="79" y="199.35" font-size="8.75" text-anchor="end" fill="#231f20">0</text>
<line x1="82.8" y1="186.15" x2="85.6" y2="186.15" stroke="#666" stroke-width="0.8"/>
<text x="79" y="189.3" font-size="8.75" text-anchor="end" fill="#231f20">75</text>
<line x1="82.8" y1="176.1" x2="85.6" y2="176.1" stroke="#666" stroke-width="0.8"/>
<text x="79" y="179.25" font-size="8.75" text-anchor="end" fill="#231f20">150</text>
<line x1="82.8" y1="225" x2="85.6" y2="225" stroke="#666" stroke-width="0.8"/>
<text x="79" y="228.15" font-size="8.75" text-anchor="end" fill="#231f20">0</text>
<line x1="82.8" y1="215.15" x2="85.6" y2="215.15" stroke="#666" stroke-width="0.8"/>
<line x1="82.8" y1="205.3" x2="85.6" y2="205.3" stroke="#666" stroke-width="0.8"/>
<text x="79" y="208.45" font-size="8.75" text-anchor="end" fill="#231f20">4</text>
<line x1="82.8" y1="253.5" x2="85.6" y2="253.5" stroke="#666" stroke-width="0.8"/>
<text x="79" y="256.65" font-size="8.75" text-anchor="end" fill="#231f20">0</text>
<line x1="82.8" y1="244.95" x2="85.6" y2="244.95" stroke="#666" stroke-width="0.8"/>
<line x1="82.8" y1="236.4" x2="85.6" y2="236.4" stroke="#666" stroke-width="0.8"/>
<text x="79" y="239.55" font-size="8.75" text-anchor="end" fill="#231f20">2</text>
<text x="60.8" y="164.1" font-size="9.2" text-anchor="end" fill="#231f20">On larvae</text>
<text x="60.8" y="181" font-size="9.2" text-anchor="end" fill="#231f20">Velocity</text>
<text x="60.8" y="191.2" font-size="9.2" text-anchor="end" fill="#231f20">(µm s<tspan dy="-3.6" font-size="5.6">−1</tspan><tspan dy="3.6">)</tspan></text>
<text x="60.8" y="209.8" font-size="9.2" text-anchor="end" fill="#231f20">Pumping rate</text>
<text x="60.8" y="220" font-size="9.2" text-anchor="end" fill="#231f20">(Hz)</text>
<text x="60.8" y="238" font-size="9.2" text-anchor="end" fill="#231f20">Head swings</text>
<text x="60.8" y="248.5" font-size="9.2" text-anchor="end" fill="#231f20">(Hz)</text>
<polyline fill="none" stroke="#222" stroke-width="0.9" stroke-linejoin="round" points="89.5,190.2 90.7,186.8 91.8,180.1 93,190.8 94.1,190.2 95.3,190.2 96.4,192.2 97.6,192.9 98.8,190.1 99.9,188.9 101.1,188.8 102.2,191.9 103.4,193.1 104.5,190.2 105.7,190.3 106.8,193.3 108,193.3 109.2,193.1 110.3,194.2 111.5,189.1 112.6,194.4 113.8,192.8 114.9,192.6 116.1,192.3 117.3,192 118.4,190.9 119.6,193.2 120.7,193.9 121.9,194.5 123,193.8 124.2,195.3 125.4,194.5 126.5,193.5 127.7,193 128.8,194 130,194.6 131.1,194.2 132.3,196.2 133.4,193.9 134.6,194.9 135.8,191.5 136.9,190.6 138.1,193.9 139.2,193.3 140.4,194.7 141.5,192.7 142.7,192.9 143.9,195.3 145,194 146.2,194.5 147.3,192.1 148.5,193.6 149.6,191.4 150.8,193.7 152,193.7 153.1,190.7 154.3,186.1 155.4,190.3 156.6,186.7 157.7,187.3 158.9,187.5 160,187.3 161.2,189.9 162.4,190.8 163.5,189 164.7,190.9 165.8,189 167,189.3 168.1,185.7 169.3,188.5 170.5,191.1 171.6,191.2 172.8,191.6 173.9,193.4 175.1,185.6 176.2,193.2 177.4,194.9 178.6,196.1 179.7,193.2 180.9,193.3 182,194 183.2,195.4 184.3,193.5 185.5,194.4 186.6,196 187.8,192.4 189,195 190.1,193.8 191.3,193.2 192.4,193.5 193.6,192.8 194.7,189.9 195.9,191.8 197.1,193.1 198.2,196.2 199.4,195.5 200.5,190.4 201.7,189 202.8,193 204,192.8 205.2,194.4 206.3,193.5 207.5,192.1 208.6,193 209.8,192.6 210.9,189 212.1,189.3 213.2,189.4 214.4,189.2 215.6,186.4 216.7,191.7 217.9,190.6 219,190.9 220.2,192.5 221.3,192.7 222.5,193.7 223.7,193.5 224.8,191 226,188.7 227.1,184.5 228.3,185.5 229.4,187.9 230.6,188.2 231.7,189.5 232.9,191.6 234.1,191.9 235.2,190.4 236.4,189.5 237.5,190.4 238.7,189.7 239.8,188.6 241,185.5 242.2,185.8 243.3,182.3 244.5,187 245.6,184.3 246.8,184.9 247.9,186.7 249.1,185 250.3,189 251.4,186.9 252.6,186.5 253.7,187.6 254.9,179.3 256,186.3 257.2,190.2 258.3,186.2 259.5,185.3 260.7,189.1 261.8,185.9 263,187.2 264.1,191.9 265.3,190.4 266.4,191.6 267.6,187.8 268.8,190.1 269.9,190.1 271.1,189 272.2,187.1 273.4,191 274.5,190.5 275.7,188.2 276.9,187 278,190.1 279.2,191.7 280.3,190.2 281.5,190.6 282.6,191 283.8,196.2 284.9,196.1 286.1,195.8 287.3,195.7 288.4,195.9 289.6,196.1 290.7,196.1 291.9,195.9 293,196 294.2,196 295.4,196.1 296.5,196.2 297.7,196 298.8,195.8 300,195.7 301.1,195.9 302.3,195.8 303.5,196 304.6,196 305.8,196.1 306.9,195.7 308.1,195.8 309.2,195.5 310.4,196.1 311.5,195.9 312.7,196.2 313.9,195.9 315,196 316.2,195.8 317.3,196 318.5,195.8 319.6,196.1 320.8,192.4 322,195.8 323.1,193.3 324.3,194.4 325.4,191.4 326.6,193.4 327.7,191.7 328.9,190.3 330.1,191.6 331.2,192.3 332.4,189.2 333.5,186.6 334.7,187.4 335.8,187.4 337,182.7 338.1,188.3 339.3,189.4 340.5,191.1 341.6,187.7 342.8,187.1 343.9,186.9 345.1,184.8 346.2,186.6 347.4,187.2 348.6,189.1 349.7,186.7 350.9,192.6 352,192.2 353.2,191.1 354.3,191.4 355.5,195.6 356.7,188.2 357.8,192.4 359,193.7 360.1,189.1 361.3,194.2 362.4,191.6 363.6,191.4 364.7,192.3 365.9,191.8 367.1,191.6 368.2,189.9 369.4,190.2 370.5,185.7 371.7,190.7 372.8,192.3 374,194.1 375.2,191.6 376.3,190.9 377.5,193.7 378.6,195.9 379.8,193.6 380.9,189.3 382.1,192.8 383.3,193.5 384.4,192.7 385.6,192.1 386.7,190 387.9,183.4 389,187.8 390.2,183.6 391.3,189 392.5,190.3 393.7,184.4 394.8,190.6 396,190.5 397.1,189.3 398.3,191.5 399.4,194.4 400.6,191.8 401.8,191.7 402.9,190.6 404.1,193.6 405.2,190 406.4,188.3 407.5,186.6 408.7,191.6 409.9,191.2 411,191.3 412.2,190.8 413.3,194 414.5,190.7 415.6,191.2 416.8,191.4 417.9,190.9 419.1,196 420.3,193.7 421.4,193.1 422.6,192.9 423.7,192.4 424.9,193.7 426,192.1 427.2,193.3 428.4,194.4 429.5,194.6 430.7,192.9 431.8,191.8 433,192.2 434.1,195.2 435.3,190.8 436.5,193.6"/>
<polyline fill="none" stroke="#222" stroke-width="0.9" stroke-linejoin="round" points="89.5,211.2 90.7,213.5 91.8,210.6 93,211.2 94.1,213.2 95.3,214.5 96.4,210.1 97.6,214.2 98.8,213.7 99.9,213.6 101.1,211.4 102.2,212.1 103.4,203.8 104.5,214.1 105.7,210.6 106.8,211.2 108,207.2 109.2,215.4 110.3,208.9 111.5,215.3 112.6,210.9 113.8,215.2 114.9,216.2 116.1,219.5 117.3,220.6 118.4,219.1 119.6,220.6 120.7,220.6 121.9,220.6 123,220 124.2,215.7 125.4,214.6 126.5,215.8 127.7,215.2 128.8,208.5 130,209.1 131.1,213.2 132.3,215 133.4,217.5 134.6,213.9 135.8,216.3 136.9,214.4 138.1,208.1 139.2,211.1 140.4,207.7 141.5,203.8 142.7,214.3 143.9,218.1 145,213 146.2,214.8 147.3,211.1 148.5,208.6 149.6,211.9 150.8,208.5 152,203.8 153.1,203.9 154.3,210.8 155.4,211.6 156.6,213.4 157.7,206.5 158.9,209.6 160,213 161.2,211.9 162.4,209.7 163.5,211.8 164.7,211.1 165.8,211.2 167,208.4 168.1,206.2 169.3,207.7 170.5,211.1 171.6,209.6 172.8,213.7 173.9,208.4 175.1,208.5 176.2,208.9 177.4,219 178.6,206.3 179.7,203.8 180.9,203.8 182,206.3 183.2,206.2 184.3,203.8 185.5,207.1 186.6,206.3 187.8,206.4 189,208.2 190.1,208.2 191.3,213.2 192.4,209.6 193.6,215.1 194.7,206.2 195.9,205.6 197.1,211.3 198.2,218.8 199.4,214.4 200.5,210.7 201.7,214.4 202.8,206.4 204,207.5 205.2,210.8 206.3,215.9 207.5,213.7 208.6,212.9 209.8,209.4 210.9,206.1 212.1,208.3 213.2,207.8 214.4,203.9 215.6,205 216.7,208.8 217.9,207.4 219,210.9 220.2,209.1 221.3,209.7 222.5,214.2 223.7,210.2 224.8,210.1 226,207.7 227.1,214 228.3,208.2 229.4,205.2 230.6,209.2 231.7,210.3 232.9,210.3 234.1,210.6 235.2,207.5 236.4,211.7 237.5,215.5 238.7,214 239.8,205.3 241,209.5 242.2,213.8 243.3,215.7 244.5,212.6 245.6,207.4 246.8,211.8 247.9,210.7 249.1,210 250.3,208.7 251.4,209.3 252.6,206.2 253.7,206 254.9,210.7 256,203.8 257.2,211.4 258.3,216 259.5,209.6 260.7,209.6 261.8,211.2 263,210.3 264.1,208.1 265.3,211.1 266.4,213.4 267.6,216 268.8,216.7 269.9,216.8 271.1,209.6 272.2,209.3 273.4,208.1 274.5,211.6 275.7,207.4 276.9,215 278,211.2 279.2,208.5 280.3,211.9 281.5,215.3 282.6,211.2 283.8,213.7 284.9,215.7 286.1,213.4 287.3,216.4 288.4,214.2 289.6,205.1 290.7,209.7 291.9,207 293,212.9 294.2,211.7 295.4,212.4 296.5,212.3 297.7,208.9 298.8,203.8 300,207 301.1,204.2 302.3,206.3 303.5,206 304.6,210.3 305.8,213.3 306.9,212.9 308.1,214.8 309.2,213 310.4,215.9 311.5,213.5 312.7,211.6 313.9,204.6 315,203.8 316.2,204.4 317.3,209.6 318.5,208.1 319.6,206.6 320.8,209.5 322,213.4 323.1,218.9 324.3,215.1 325.4,206 326.6,209.3 327.7,208.8 328.9,208.6 330.1,208 331.2,206.7 332.4,216.3 333.5,214.2 334.7,211.2 335.8,211.5 337,206.8 338.1,210.3 339.3,207.2 340.5,203.8 341.6,207.7 342.8,209.3 343.9,211.2 345.1,208.3 346.2,217.5 347.4,219.7 348.6,216.4 349.7,210.4 350.9,208.5 352,212.7 353.2,205.9 354.3,208 355.5,211.8 356.7,209.4 357.8,205.3 359,208.4 360.1,215.2 361.3,215.1 362.4,212.6 363.6,208.3 364.7,213.3 365.9,211.1 367.1,215.4 368.2,212.8 369.4,216.8 370.5,215.5 371.7,218.8 372.8,218.5 374,220.5 375.2,220.6 376.3,212.4 377.5,207.3 378.6,207.3 379.8,210.4 380.9,205.2 382.1,209 383.3,208.4 384.4,205.4 385.6,207.3 386.7,203.8 387.9,207.7 389,209.8 390.2,209.8 391.3,214.6 392.5,216.6 393.7,210.8 394.8,217.2 396,209.8 397.1,209.2 398.3,205.6 399.4,205.3 400.6,205.8 401.8,203.8 402.9,206.5 404.1,209 405.2,205.7 406.4,210.6 407.5,206.5 408.7,206 409.9,210.2 411,215.2 412.2,220.4 413.3,208.6 414.5,215.2 415.6,217.4 416.8,210.9 417.9,209 419.1,209.1 420.3,209.6 421.4,211.8 422.6,214.7 423.7,215.5 424.9,210.9 426,206.9 427.2,204.5 428.4,207.8 429.5,217.6 430.7,212.4 431.8,212.1 433,220.6 434.1,211 435.3,210.1 436.5,210.7"/>
<polyline fill="none" stroke="#222" stroke-width="0.9" stroke-linejoin="round" points="89.5,246.3 90.7,250.7 91.8,247.3 93,250.7 94.1,250.8 95.3,250.1 96.4,245.6 97.6,245.7 98.8,250.7 99.9,250.4 101.1,244.3 102.2,250.4 103.4,250.7 104.5,250.5 105.7,244.7 106.8,250.8 108,248.3 109.2,249.1 110.3,245.5 111.5,250.9 112.6,249.5 113.8,249.5 114.9,248.5 116.1,250.7 117.3,250.9 118.4,247.1 119.6,244.9 120.7,248.5 121.9,249.5 123,244.2 124.2,250.1 125.4,248.3 126.5,245.1 127.7,250.5 128.8,250.9 130,249.7 131.1,250.5 132.3,250.6 133.4,250.7 134.6,244.8 135.8,250 136.9,245.1 138.1,249.8 139.2,250.3 140.4,250.9 141.5,250.1 142.7,246.7 143.9,247.2 145,249.6 146.2,249.4 147.3,248.7 148.5,247.2 149.6,250.5 150.8,249.8 152,250.8 153.1,243.4 154.3,250.4 155.4,249.4 156.6,247 157.7,247.6 158.9,249.4 160,250.5 161.2,250.5 162.4,249.1 163.5,248.8 164.7,250.6 165.8,247.1 167,250.5 168.1,249.9 169.3,245.7 170.5,250.9 171.6,246.3 172.8,246.5 173.9,249.6 175.1,250 176.2,249.5 177.4,250.9 178.6,245.1 179.7,250.2 180.9,248.7 182,240.7 183.2,248.6 184.3,250.9 185.5,250.3 186.6,249.5 187.8,248.6 189,243.2 190.1,249.3 191.3,242.7 192.4,249 193.6,248.9 194.7,243.6 195.9,237.8 197.1,244.4 198.2,242.9 199.4,246 200.5,247.4 201.7,245.3 202.8,243.6 204,243.6 205.2,244.2 206.3,243.4 207.5,248.4 208.6,245.7 209.8,243.5 210.9,240.2 212.1,249.1 213.2,248 214.4,247.8 215.6,243.7 216.7,245.1 217.9,247.3 219,240.2 220.2,244.9 221.3,243.7 222.5,247.6 223.7,248.3 224.8,248.9 226,247.7 227.1,246.1 228.3,244.7 229.4,250.8 230.6,246.7 231.7,243.2 232.9,250.4 234.1,250.4 235.2,243.1 236.4,250.9 237.5,248.5 238.7,248.8 239.8,250.7 241,249.7 242.2,247.9 243.3,248.7 244.5,250.7 245.6,243.3 246.8,250.4 247.9,240.7 249.1,243.8 250.3,250.6 251.4,250.8 252.6,249.9 253.7,250.6 254.9,246.6 256,249.5 257.2,249.9 258.3,250.4 259.5,250 260.7,247.6 261.8,250.5 263,250.8 264.1,244.9 265.3,240.9 266.4,246.4 267.6,243.6 268.8,240.9 269.9,248.2 271.1,250.1 272.2,246 273.4,244.4 274.5,243.8 275.7,249.1 276.9,246 278,246.4 279.2,245.1 280.3,246.9 281.5,246 282.6,240.7 283.8,245.6 284.9,250 286.1,249.5 287.3,243.2 288.4,248.9 289.6,248.8 290.7,245.3 291.9,250.5 293,249.6 294.2,248.7 295.4,249.9 296.5,249 297.7,245.4 298.8,242.7 300,245.5 301.1,228.3 302.3,241.5 303.5,249.8 304.6,236.4 305.8,244.9 306.9,240.7 308.1,240.7 309.2,247.5 310.4,248.3 311.5,245.3 312.7,243.2 313.9,250.1 315,249.5 316.2,248.6 317.3,246.3 318.5,249.9 319.6,248.2 320.8,248.8 322,249.4 323.1,249.4 324.3,245.2 325.4,244 326.6,247.5 327.7,250.5 328.9,245.2 330.1,249.1 331.2,249.8 332.4,244 333.5,244.2 334.7,244.1 335.8,249.6 337,249.8 338.1,244.8 339.3,249.5 340.5,250.2 341.6,246.9 342.8,248.2 343.9,244.7 345.1,250.6 346.2,249.3 347.4,250.7 348.6,250.5 349.7,248.8 350.9,246.9 352,240.7 353.2,249.9 354.3,248.5 355.5,249.1 356.7,243.6 357.8,247.3 359,249.2 360.1,247.8 361.3,250.2 362.4,250.5 363.6,249 364.7,249.9 365.9,243.8 367.1,244.8 368.2,250 369.4,240.7 370.5,250.5 371.7,249.8 372.8,249.3 374,250.1 375.2,250.9 376.3,250.7 377.5,250.6 378.6,249.5 379.8,250.3 380.9,249.3 382.1,249.7 383.3,246.9 384.4,246.1 385.6,249.6 386.7,245.2 387.9,248.7 389,247.9 390.2,242.6 391.3,249.7 392.5,245.5 393.7,249.5 394.8,245.4 396,244.4 397.1,242.9 398.3,250.8 399.4,245.1 400.6,248.5 401.8,246.1 402.9,250.9 404.1,242.9 405.2,249.3 406.4,245.4 407.5,248.8 408.7,247.8 409.9,250.9 411,250.9 412.2,249.4 413.3,246.7 414.5,246.1 415.6,249 416.8,249.3 417.9,248.5 419.1,250.4 420.3,245.8 421.4,250.7 422.6,244.9 423.7,250.5 424.9,249.8 426,249.5 427.2,250.4 428.4,240.7 429.5,240.7 430.7,250 431.8,246.8 433,246.3 434.1,250 435.3,249.7 436.5,249.2"/>
<rect x="251.41" y="278.3" width="69.39" height="26.1" fill="#d9dadc"/>
<rect x="251.41" y="306.5" width="69.39" height="26.6" fill="#d9dadc"/>
<rect x="251.41" y="335.2" width="69.39" height="26.4" fill="#d9dadc"/>
<rect x="85.6" y="263.4" width="356" height="11.9" fill="#fff"/>
<rect x="90.6" y="263.4" width="23.1" height="11.9" fill="#651E68"/>
<rect x="113.7" y="263.4" width="3.9" height="11.9" fill="#A64F9A"/>
<rect x="117.6" y="263.4" width="82.8" height="11.9" fill="#651E68"/>
<rect x="200.4" y="263.4" width="7.9" height="11.9" fill="#A64F9A"/>
<rect x="208.3" y="263.4" width="24.9" height="11.9" fill="#651E68"/>
<rect x="233.2" y="263.4" width="5.8" height="11.9" fill="#A64F9A"/>
<rect x="239" y="263.4" width="9.2" height="11.9" fill="#651E68"/>
<rect x="248.2" y="263.4" width="3.4" height="11.9" fill="#1B3060"/>
<rect x="251.6" y="263.4" width="5.8" height="11.9" fill="#651E68"/>
<rect x="257.4" y="263.4" width="2.1" height="11.9" fill="#F99F4D"/>
<rect x="259.5" y="263.4" width="4.6" height="11.9" fill="#A64F9A"/>
<rect x="264.1" y="263.4" width="7.9" height="11.9" fill="#651E68"/>
<rect x="272" y="263.4" width="3.9" height="11.9" fill="#A64F9A"/>
<rect x="275.9" y="263.4" width="8.4" height="11.9" fill="#651E68"/>
<rect x="284.3" y="263.4" width="1.9" height="11.9" fill="#A64F9A"/>
<rect x="286.2" y="263.4" width="2.9" height="11.9" fill="#1B3060"/>
<rect x="289.1" y="263.4" width="3.6" height="11.9" fill="#F0671F"/>
<rect x="292.7" y="263.4" width="9.5" height="11.9" fill="#A64F9A"/>
<rect x="302.2" y="263.4" width="2.6" height="11.9" fill="#1B3060"/>
<rect x="304.8" y="263.4" width="9.7" height="11.9" fill="#A64F9A"/>
<rect x="314.5" y="263.4" width="5.8" height="11.9" fill="#1B3060"/>
<rect x="320.3" y="263.4" width="4.8" height="11.9" fill="#A64F9A"/>
<rect x="325.1" y="263.4" width="50.4" height="11.9" fill="#651E68"/>
<rect x="375.5" y="263.4" width="1.1" height="11.9" fill="#A64F9A"/>
<rect x="376.6" y="263.4" width="21.5" height="11.9" fill="#651E68"/>
<rect x="398.1" y="263.4" width="1.9" height="11.9" fill="#1B3060"/>
<rect x="400" y="263.4" width="7.8" height="11.9" fill="#A64F9A"/>
<rect x="407.8" y="263.4" width="1.2" height="11.9" fill="#e8dde6"/>
<rect x="409" y="263.4" width="27.7" height="11.9" fill="#651E68"/>
<rect x="85.6" y="263.4" width="356" height="11.9" fill="none" stroke="#9a9a9a" stroke-width="0.8"/>
<rect x="85.6" y="278.3" width="356" height="26.1" fill="none" stroke="#9a9a9a" stroke-width="0.8"/>
<rect x="85.6" y="306.5" width="356" height="26.6" fill="none" stroke="#9a9a9a" stroke-width="0.8"/>
<rect x="85.6" y="335.2" width="356" height="26.4" fill="none" stroke="#9a9a9a" stroke-width="0.8"/>
<line x1="82.8" y1="304.2" x2="85.6" y2="304.2" stroke="#666" stroke-width="0.8"/>
<text x="79" y="307.35" font-size="8.75" text-anchor="end" fill="#231f20">0</text>
<line x1="82.8" y1="294.15" x2="85.6" y2="294.15" stroke="#666" stroke-width="0.8"/>
<text x="79" y="297.3" font-size="8.75" text-anchor="end" fill="#231f20">75</text>
<line x1="82.8" y1="284.1" x2="85.6" y2="284.1" stroke="#666" stroke-width="0.8"/>
<text x="79" y="287.25" font-size="8.75" text-anchor="end" fill="#231f20">150</text>
<line x1="82.8" y1="333" x2="85.6" y2="333" stroke="#666" stroke-width="0.8"/>
<text x="79" y="336.15" font-size="8.75" text-anchor="end" fill="#231f20">0</text>
<line x1="82.8" y1="323.15" x2="85.6" y2="323.15" stroke="#666" stroke-width="0.8"/>
<line x1="82.8" y1="313.3" x2="85.6" y2="313.3" stroke="#666" stroke-width="0.8"/>
<text x="79" y="316.45" font-size="8.75" text-anchor="end" fill="#231f20">4</text>
<line x1="82.8" y1="361.5" x2="85.6" y2="361.5" stroke="#666" stroke-width="0.8"/>
<text x="79" y="364.65" font-size="8.75" text-anchor="end" fill="#231f20">0</text>
<line x1="82.8" y1="352.95" x2="85.6" y2="352.95" stroke="#666" stroke-width="0.8"/>
<line x1="82.8" y1="344.4" x2="85.6" y2="344.4" stroke="#666" stroke-width="0.8"/>
<text x="79" y="347.55" font-size="8.75" text-anchor="end" fill="#231f20">2</text>
<text x="60.8" y="272.1" font-size="9.2" text-anchor="end" fill="#231f20">On OP50</text>
<text x="60.8" y="289" font-size="9.2" text-anchor="end" fill="#231f20">Velocity</text>
<text x="60.8" y="299.2" font-size="9.2" text-anchor="end" fill="#231f20">(µm s<tspan dy="-3.6" font-size="5.6">−1</tspan><tspan dy="3.6">)</tspan></text>
<text x="60.8" y="317.8" font-size="9.2" text-anchor="end" fill="#231f20">Pumping rate</text>
<text x="60.8" y="328" font-size="9.2" text-anchor="end" fill="#231f20">(Hz)</text>
<text x="60.8" y="346" font-size="9.2" text-anchor="end" fill="#231f20">Head swings</text>
<text x="60.8" y="356.5" font-size="9.2" text-anchor="end" fill="#231f20">(Hz)</text>
<polyline fill="none" stroke="#222" stroke-width="0.9" stroke-linejoin="round" points="89.5,295.4 90.7,295.6 91.8,295.7 93,297.3 94.1,297.2 95.3,295.8 96.4,292.5 97.6,296.1 98.8,293.8 99.9,295.1 101.1,295.2 102.2,296.2 103.4,295.4 104.5,296 105.7,297 106.8,296.7 108,297.5 109.2,296.4 110.3,296.6 111.5,296 112.6,296.5 113.8,298.4 114.9,296.2 116.1,295.5 117.3,296.3 118.4,296.6 119.6,294.9 120.7,295.2 121.9,294.6 123,295.4 124.2,296.5 125.4,296 126.5,298.4 127.7,296.3 128.8,296.2 130,297.2 131.1,296.9 132.3,295.1 133.4,293.4 134.6,295.8 135.8,296.8 136.9,294.4 138.1,296.4 139.2,294.9 140.4,296.3 141.5,296.9 142.7,296.8 143.9,295.2 145,297.8 146.2,298.7 147.3,297 148.5,295.5 149.6,294.7 150.8,295.6 152,295.4 153.1,297.6 154.3,296.7 155.4,295.4 156.6,294.3 157.7,296.9 158.9,297.4 160,295.9 161.2,297.4 162.4,298.9 163.5,296.2 164.7,296.3 165.8,297.5 167,297 168.1,295.2 169.3,296.1 170.5,298 171.6,297.6 172.8,297.6 173.9,297.4 175.1,298.4 176.2,296.3 177.4,296.1 178.6,294.3 179.7,294.6 180.9,297 182,295.9 183.2,294.4 184.3,294.3 185.5,296.1 186.6,298.2 187.8,298.6 189,296.1 190.1,296.2 191.3,296.9 192.4,297.5 193.6,296.6 194.7,296.6 195.9,295.9 197.1,295.8 198.2,299.1 199.4,298.5 200.5,298.3 201.7,301.1 202.8,300.6 204,298.6 205.2,297 206.3,296.3 207.5,296.4 208.6,299.9 209.8,297.4 210.9,298.3 212.1,298.9 213.2,294.4 214.4,294 215.6,296.1 216.7,294.9 217.9,295.4 219,297.3 220.2,295.4 221.3,296.9 222.5,297.2 223.7,293.4 224.8,296.3 226,295.1 227.1,296 228.3,297.3 229.4,298 230.6,296.8 231.7,295.8 232.9,298.8 234.1,296.6 235.2,296.9 236.4,296.3 237.5,296.1 238.7,297 239.8,296.6 241,297 242.2,298.3 243.3,299 244.5,300.5 245.6,300 246.8,300.9 247.9,299.1 249.1,299.2 250.3,295.9 251.4,297.3 252.6,295.5 253.7,296.1 254.9,295.8 256,296.5 257.2,297.6 258.3,296.8 259.5,296.9 260.7,296.5 261.8,296.6 263,294.4 264.1,293.2 265.3,297.4 266.4,297.6 267.6,296.9 268.8,297.7 269.9,300.7 271.1,301.1 272.2,299.2 273.4,297.6 274.5,296.8 275.7,295.9 276.9,296.4 278,294.8 279.2,295.1 280.3,294.7 281.5,295.1 282.6,296.9 283.8,298 284.9,295.9 286.1,296.5 287.3,297.7 288.4,299.9 289.6,298.3 290.7,299.1 291.9,297.3 293,296.8 294.2,294.5 295.4,296.4 296.5,298.8 297.7,297.2 298.8,296.2 300,297.5 301.1,297.2 302.3,294 303.5,295.5 304.6,295.5 305.8,296.5 306.9,296 308.1,295 309.2,295.9 310.4,295.4 311.5,297.2 312.7,295.8 313.9,294.3 315,294.6 316.2,296 317.3,296.5 318.5,296.1 319.6,295.7 320.8,298.1 322,297.5 323.1,295.7 324.3,295.8 325.4,297.4 326.6,295.2 327.7,295.6 328.9,296.7 330.1,296.5 331.2,294.5 332.4,293 333.5,294.3 334.7,295.4 335.8,294.5 337,294.2 338.1,294.5 339.3,295.2 340.5,297.6 341.6,299.2 342.8,298.2 343.9,298.5 345.1,297.2 346.2,295.2 347.4,294.4 348.6,295 349.7,292.9 350.9,293.3 352,294.6 353.2,293.4 354.3,295.6 355.5,299.9 356.7,296.4 357.8,295.2 359,294.1 360.1,294.3 361.3,294.3 362.4,296.6 363.6,296.6 364.7,296.1 365.9,298.9 367.1,299.4 368.2,297.2 369.4,299.1 370.5,299.8 371.7,298.1 372.8,298.9 374,297.5 375.2,296.4 376.3,295.5 377.5,295.1 378.6,296.9 379.8,296.5 380.9,297.2 382.1,296.7 383.3,295.8 384.4,295.3 385.6,298.1 386.7,298.6 387.9,295.4 389,297.9 390.2,297.2 391.3,298.7 392.5,297.8 393.7,298.2 394.8,297.3 396,298 397.1,296.2 398.3,293.6 399.4,297.9 400.6,297.6 401.8,299.3 402.9,298.3 404.1,295.8 405.2,293.8 406.4,292.7 407.5,293.8 408.7,295.9 409.9,294.3 411,296.7 412.2,296.8 413.3,296.8 414.5,298 415.6,298.1 416.8,298.1 417.9,297.9 419.1,296.4 420.3,296.1 421.4,296.5 422.6,294.6 423.7,296.7 424.9,296.5 426,296.9 427.2,294 428.4,295.6 429.5,296.2 430.7,298 431.8,297.8 433,296.3 434.1,297.1 435.3,295.5 436.5,296"/>
<polyline fill="none" stroke="#222" stroke-width="0.9" stroke-linejoin="round" points="89.5,320.2 90.7,321.7 91.8,323.1 93,320.7 94.1,318.7 95.3,324.1 96.4,325.3 97.6,327.5 98.8,329.3 99.9,327.5 101.1,326.1 102.2,326.7 103.4,326.2 104.5,326.6 105.7,326.9 106.8,322 108,324.5 109.2,324.9 110.3,326 111.5,326.8 112.6,326.1 113.8,328.7 114.9,327 116.1,326.5 117.3,326.3 118.4,326.5 119.6,324.6 120.7,327.9 121.9,326 123,322.5 124.2,323.4 125.4,326.7 126.5,328.1 127.7,326.1 128.8,326.3 130,326.5 131.1,325.8 132.3,323.9 133.4,325.3 134.6,325.1 135.8,323.5 136.9,325.4 138.1,324.3 139.2,325.3 140.4,322.4 141.5,325.3 142.7,324.6 143.9,326.3 145,326.7 146.2,327 147.3,326.8 148.5,325 149.6,325.1 150.8,324.9 152,325.8 153.1,325.8 154.3,325.4 155.4,325.4 156.6,326.4 157.7,326.6 158.9,327.5 160,325.7 161.2,324.6 162.4,323.2 163.5,328.5 164.7,326 165.8,325.3 167,319.9 168.1,325.2 169.3,326.6 170.5,326 171.6,327.7 172.8,328.4 173.9,326.3 175.1,328.1 176.2,328.2 177.4,325.5 178.6,321.4 179.7,327.2 180.9,324.9 182,325.5 183.2,326.2 184.3,326 185.5,326.1 186.6,324.7 187.8,324.9 189,323.4 190.1,326.9 191.3,323.3 192.4,326.6 193.6,327.4 194.7,329.4 195.9,326.4 197.1,326.2 198.2,326.4 199.4,327.3 200.5,327.2 201.7,326.6 202.8,327.6 204,326.6 205.2,324.3 206.3,326 207.5,324.4 208.6,324.2 209.8,325.2 210.9,323.9 212.1,324 213.2,324.2 214.4,325.5 215.6,326.4 216.7,324.7 217.9,325.3 219,325.9 220.2,328.6 221.3,327.3 222.5,323.6 223.7,324.3 224.8,323.3 226,324.7 227.1,327.1 228.3,326.3 229.4,324 230.6,325 231.7,326 232.9,326.2 234.1,327.5 235.2,327 236.4,326.3 237.5,325 238.7,324.7 239.8,326.8 241,328.6 242.2,327.5 243.3,327.5 244.5,325.6 245.6,327.1 246.8,325.7 247.9,326.4 249.1,324.8 250.3,325.5 251.4,328.1 252.6,329.7 253.7,327.1 254.9,327.7 256,322.2 257.2,325.9 258.3,323.9 259.5,325.2 260.7,326.6 261.8,328.7 263,324 264.1,326.5 265.3,326.7 266.4,323.1 267.6,324 268.8,326.4 269.9,325.4 271.1,327.7 272.2,327.5 273.4,325.6 274.5,327.5 275.7,326.7 276.9,326.3 278,326 279.2,327.2 280.3,328.2 281.5,327 282.6,325.7 283.8,327.1 284.9,325.6 286.1,324.6 287.3,325.1 288.4,324.5 289.6,324.3 290.7,323.9 291.9,324.9 293,325.3 294.2,325.3 295.4,324.4 296.5,326 297.7,324.3 298.8,326.5 300,323.9 301.1,324.4 302.3,322.2 303.5,324.2 304.6,324.5 305.8,327.3 306.9,326.9 308.1,326.1 309.2,325.6 310.4,325.1 311.5,325.5 312.7,325.9 313.9,324.8 315,327.4 316.2,327.1 317.3,325.6 318.5,326 319.6,324.6 320.8,326.3 322,326.6 323.1,325.5 324.3,323.7 325.4,326.6 326.6,328.3 327.7,328.4 328.9,328.5 330.1,326.7 331.2,325.2 332.4,325.7 333.5,325.6 334.7,325.1 335.8,325.2 337,325.4 338.1,322.2 339.3,324.5 340.5,326.7 341.6,326.9 342.8,326.1 343.9,322.8 345.1,325.8 346.2,325 347.4,326.5 348.6,326.4 349.7,327.1 350.9,324.2 352,321.6 353.2,326.2 354.3,324.9 355.5,326.4 356.7,325.9 357.8,327.5 359,327 360.1,326 361.3,325.6 362.4,326.9 363.6,327.3 364.7,328.6 365.9,329.6 367.1,324.5 368.2,325.4 369.4,325.2 370.5,325 371.7,325.6 372.8,325.9 374,326 375.2,324 376.3,325.6 377.5,324.4 378.6,327.1 379.8,327.7 380.9,326.8 382.1,328.1 383.3,325 384.4,325.3 385.6,325.2 386.7,326.2 387.9,325.5 389,326.6 390.2,324.6 391.3,323.9 392.5,325.9 393.7,327 394.8,328.1 396,328.5 397.1,325.5 398.3,324.8 399.4,323.6 400.6,324.3 401.8,324.2 402.9,324.4 404.1,325.8 405.2,321.9 406.4,324.6 407.5,325.2 408.7,326.7 409.9,327.3 411,322.9 412.2,325.7 413.3,326.5 414.5,326 415.6,326 416.8,324.7 417.9,325.8 419.1,325 420.3,325.4 421.4,325.5 422.6,325.9 423.7,326.8 424.9,326.8 426,327.6 427.2,324.7 428.4,326.1 429.5,325.7 430.7,327.1 431.8,327.2 433,326.8 434.1,324.6 435.3,325.1 436.5,325.1"/>
<polyline fill="none" stroke="#222" stroke-width="0.9" stroke-linejoin="round" points="89.5,351.6 90.7,357.2 91.8,356.9 93,354 94.1,353.6 95.3,358.4 96.4,353.7 97.6,353.1 98.8,343.3 99.9,358.3 101.1,353.1 102.2,358.6 103.4,355.1 104.5,358.3 105.7,358.4 106.8,358.2 108,358.8 109.2,357.5 110.3,356.7 111.5,358.4 112.6,358.8 113.8,354.6 114.9,357.6 116.1,355.6 117.3,351.2 118.4,358.1 119.6,357.3 120.7,358.2 121.9,356 123,346.3 124.2,358.6 125.4,356.7 126.5,353.2 127.7,358.2 128.8,353.4 130,358.8 131.1,358.2 132.3,356.3 133.4,356.2 134.6,343.6 135.8,357.8 136.9,357.4 138.1,355.5 139.2,357 140.4,355.3 141.5,358.9 142.7,357.2 143.9,352 145,358.1 146.2,357.4 147.3,357.9 148.5,352.5 149.6,355.7 150.8,349.6 152,356.5 153.1,351 154.3,351.2 155.4,346.2 156.6,358.6 157.7,355 158.9,355.4 160,357.2 161.2,358 162.4,351.8 163.5,357.5 164.7,357.1 165.8,353.2 167,357.9 168.1,350.3 169.3,357.7 170.5,357.8 171.6,358.4 172.8,349.9 173.9,356.4 175.1,353.8 176.2,351.2 177.4,358.4 178.6,358.5 179.7,356 180.9,353.5 182,358.5 183.2,358.2 184.3,357.7 185.5,358.1 186.6,358.6 187.8,358.5 189,358.2 190.1,349.7 191.3,356.3 192.4,358 193.6,357.7 194.7,358.8 195.9,358.6 197.1,356.7 198.2,355.2 199.4,352.8 200.5,356.7 201.7,347.2 202.8,358.1 204,357.6 205.2,358.8 206.3,358.2 207.5,357.9 208.6,358.6 209.8,354.8 210.9,357.3 212.1,355.3 213.2,352 214.4,358.8 215.6,351.5 216.7,357.6 217.9,354.1 219,357.9 220.2,350.2 221.3,356.5 222.5,357.7 223.7,358.7 224.8,357.1 226,351.7 227.1,354.8 228.3,357.5 229.4,351.4 230.6,357.3 231.7,358.3 232.9,349.5 234.1,358.1 235.2,347.1 236.4,357.6 237.5,356.4 238.7,357.2 239.8,357.1 241,357.9 242.2,353.1 243.3,358.6 244.5,358 245.6,358.9 246.8,358.6 247.9,356.8 249.1,357.3 250.3,358.8 251.4,352.1 252.6,358.1 253.7,359.2 254.9,354.3 256,358.4 257.2,358.3 258.3,358.3 259.5,359.2 260.7,359.1 261.8,359 263,358.7 264.1,358.4 265.3,357.5 266.4,359.2 267.6,358.8 268.8,358.9 269.9,357.6 271.1,357.6 272.2,359.2 273.4,357.7 274.5,358.7 275.7,359.2 276.9,358.2 278,359.1 279.2,358.2 280.3,357.2 281.5,358.3 282.6,359.3 283.8,358.4 284.9,358.6 286.1,352.9 287.3,356.7 288.4,357.9 289.6,359.3 290.7,358 291.9,359.3 293,358.8 294.2,355.6 295.4,358.9 296.5,358.6 297.7,357.2 298.8,358.2 300,358.6 301.1,358.1 302.3,353.8 303.5,358.3 304.6,357.1 305.8,357.9 306.9,358.8 308.1,358.2 309.2,359.3 310.4,358.7 311.5,358 312.7,359.1 313.9,359.2 315,359 316.2,359.1 317.3,358 318.5,357.4 319.6,359.3 320.8,352 322,358.5 323.1,350.6 324.3,358.4 325.4,353.5 326.6,357.9 327.7,358.8 328.9,356.3 330.1,358.6 331.2,358.1 332.4,358.6 333.5,356.6 334.7,358.4 335.8,357 337,358.8 338.1,358.6 339.3,355.5 340.5,357.5 341.6,358.1 342.8,356.5 343.9,356.6 345.1,355.8 346.2,355.8 347.4,354.5 348.6,358.7 349.7,357.4 350.9,352.8 352,358.5 353.2,353.5 354.3,358.5 355.5,357.3 356.7,354.2 357.8,357.4 359,355.1 360.1,358.7 361.3,357.2 362.4,354.9 363.6,357.8 364.7,353.1 365.9,358.6 367.1,358.3 368.2,358.8 369.4,358.6 370.5,358.3 371.7,356.6 372.8,358.8 374,358 375.2,346 376.3,358.3 377.5,342.1 378.6,347.4 379.8,357.5 380.9,356 382.1,357 383.3,357.3 384.4,358.5 385.6,353.1 386.7,355.9 387.9,358.1 389,351.8 390.2,358.5 391.3,356.8 392.5,357.8 393.7,351.3 394.8,352.5 396,356.5 397.1,349.9 398.3,356.2 399.4,356.9 400.6,357.7 401.8,358.4 402.9,351.2 404.1,355.7 405.2,347 406.4,351.3 407.5,358 408.7,358.6 409.9,358.5 411,355.3 412.2,357.5 413.3,358.6 414.5,352.1 415.6,358.7 416.8,356.6 417.9,357.2 419.1,357.7 420.3,357.8 421.4,352.3 422.6,358.3 423.7,350 424.9,358.1 426,358.8 427.2,351.5 428.4,358.8 429.5,358.4 430.7,355.8 431.8,351.8 433,354.5 434.1,349.1 435.3,357.4 436.5,357.8"/>
<line x1="82.8" y1="361.6" x2="441.6" y2="361.6" stroke="#9a9a9a" stroke-width="0.8"/>
<line x1="89.5" y1="361.6" x2="89.5" y2="364.6" stroke="#9a9a9a" stroke-width="0.8"/>
<text x="89.5" y="374.8" font-size="8.5" text-anchor="middle" fill="#231f20">0</text>
<line x1="205.15" y1="361.6" x2="205.15" y2="364.6" stroke="#9a9a9a" stroke-width="0.8"/>
<text x="205.15" y="374.8" font-size="8.5" text-anchor="middle" fill="#231f20">100</text>
<line x1="320.8" y1="361.6" x2="320.8" y2="364.6" stroke="#9a9a9a" stroke-width="0.8"/>
<text x="320.8" y="374.8" font-size="8.5" text-anchor="middle" fill="#231f20">200</text>
<line x1="436.45" y1="361.6" x2="436.45" y2="364.6" stroke="#9a9a9a" stroke-width="0.8"/>
<text x="436.45" y="374.8" font-size="8.5" text-anchor="middle" fill="#231f20">300</text>
<line x1="89.5" y1="253.6" x2="89.5" y2="256.8" stroke="#9a9a9a" stroke-width="0.8"/>
<line x1="205.15" y1="253.6" x2="205.15" y2="256.8" stroke="#9a9a9a" stroke-width="0.8"/>
<line x1="320.8" y1="253.6" x2="320.8" y2="256.8" stroke="#9a9a9a" stroke-width="0.8"/>
<line x1="436.45" y1="253.6" x2="436.45" y2="256.8" stroke="#9a9a9a" stroke-width="0.8"/>
<text x="263.6" y="385" font-size="8.6" text-anchor="middle" fill="#231f20">Time (s)</text>
<rect x="455.3" y="155.5" width="213.5" height="99.2" fill="#d6d7d9"/>
<rect x="455.8" y="263.4" width="213.4" height="98.2" fill="#d6d7d9"/>
<rect x="457.6" y="249.8" width="64.3" height="2" fill="#231f20"/>
<rect x="458.2" y="356.7" width="64.5" height="2" fill="#231f20"/>
<polyline fill="none" stroke="#f7a04e" stroke-opacity="0.35" stroke-width="4.5" stroke-linecap="round" stroke-linejoin="round" points="486.3,176.8 487.6,177.2 489.4,177.8 491.4,178.5 493.4,179.4 495,180.4 496.2,181.6 497.1,183.1 497.8,184.7 498.6,186.3 499.4,187.7 500.3,188.9 501.2,190 502,191.1 502.9,192.3 503.8,193.6 504.7,195.2 505.6,196.9 506.4,198.7 507.3,200.5 508.2,202.3 509.1,204 510,205.7 510.8,207.5 511.7,209.2 512.6,211.1 513.5,213.1 514.4,215.2 515.2,217.4 516.1,219.4 517,221.3 517.8,223 518.4,224.6 519.2,226.1 520.1,227.5 521.3,228.6 523.1,229.5 525.4,230.2 527.9,230.8 530,231.2 531.5,231.5"/>
<polyline fill="none" stroke="#f7a04e" stroke-opacity="0.3" stroke-width="0.8" stroke-linejoin="round" points="484.2,177.4 486.5,177.6 488.9,178 491,178.8 492.5,180.4 493.8,182.5 495.1,184.6 496.4,186.3 497.1,187.8 497.4,189.2 497.9,190.3 499.1,190.6 500.8,190.4 502.5,190 503.4,190.4 503.4,191.8 503.2,194.2 503.8,196.8 505.2,199.1 506.7,201 507.7,202.7 508.1,204.4 508.4,206.3 509,208 509.9,209.5 511.1,210.7 512.5,212.2 514,213.8 515.2,216.3 516.2,219.1 516.5,222.1 516.9,224.3 517.3,225.8 518.2,226.8 518.9,227.9 519.9,228.6 521.5,229.2 524.2,229.4 527.5,229.5 530.9,229.3 533.8,228.6"/>
<polyline fill="none" stroke="#f7a04e" stroke-opacity="0.3" stroke-width="0.8" stroke-linejoin="round" points="487.7,177.7 487.7,178.5 489,179.3 491.4,180.2 494.2,181.3 496,182.6 496.7,184.4 496.7,186.4 496.8,188.1 497.5,189.4 498.6,190.4 499.9,191.3 500.9,192 502.2,192.4 503.8,192.2 505.6,191.9 507,192.3 507.8,194 508,196.3 508.1,198.9 508.2,201.4 508.6,203.8 509.5,206.2 510.9,208.2 512.5,210.2 513.8,211.9 514.8,213.6 515.4,215.1 516,217 516.5,218.8 517.3,221 518,222.9 518.6,225.2 519,227.2 519.8,229 521.2,230.2 523.4,230.9 525.9,231.4 528.1,231.8 530.6,232.7 533,233.9"/>
<polyline fill="none" stroke="#f7a04e" stroke-opacity="0.3" stroke-width="0.8" stroke-linejoin="round" points="485.5,177.7 486.9,177.7 489,177.6 491.3,177.8 493.8,178.5 495.2,179.4 496,180.2 496.2,180.8 497.1,182.1 498,184.4 498.9,187.5 499.1,190 499.5,191.7 500.5,192.7 502.2,193.7 503.8,195.1 504.6,196.8 504.9,198.5 505.3,200 506.2,201.3 507.6,202.7 509.1,204.5 510.2,206.6 510.7,208.9 511,210.8 511.6,212.4 512.8,214.2 514.2,216.1 515.9,218 517,219.4 517.6,220.6 517.5,221.9 517.4,223.4 517.8,225.1 518.9,226.8 520.2,228.1 522.1,229.1 524.5,229.8 527.3,230.1 529.9,229.7 531.9,228.6"/>
<polyline fill="none" stroke="#f7a04e" stroke-opacity="0.3" stroke-width="0.8" stroke-linejoin="round" points="485,178.2 486.3,177.2 488,176.1 489.9,175.8 492.4,177 494.7,179.5 496.6,182.7 498,185.6 499.2,187.9 500.2,189.5 500.8,190.6 501.2,191.3 501.8,191.4 502.8,191.3 503.7,191.5 504.1,192.7 504.2,194.6 504.4,196.6 505.3,198.5 506.3,200 507.3,201.5 508,203 508.7,205 509.7,207.3 511.2,209.5 512.8,211.5 514.2,213 515.4,214.7 516.3,216.3 517.3,217.9 517.9,219.2 517.9,220.7 517.5,222.6 517.8,225 519.3,227.5 521.9,229.8 525.1,231.7 528.2,232.7 530.5,232.8 531.3,232.5 530.8,232.3"/>
<polyline fill="none" stroke="#f7a04e" stroke-opacity="0.3" stroke-width="0.8" stroke-linejoin="round" points="482.4,179.4 486.2,178.1 489.7,177.3 492,177.5 493.3,178.3 494.1,179.6 495.1,181.2 496.5,183 498,184.7 499.3,186.1 500.2,187.2 500.9,188.2 501.2,189.2 501.4,190.3 502,191.5 503.5,192.8 505.1,194.2 506.4,196.2 506.9,198.6 507.1,201 507.2,203.2 507.5,204.8 508.2,206.4 509.3,208 511,209.7 512.8,211.7 514.4,214.1 515.6,216.6 516.9,218.9 518.3,220.8 519.3,222.5 519.4,224 518.6,225.5 518.1,226.5 518.4,227.2 520.3,227.7 523.2,228.2 526.6,228.6 529,229.2 529.8,230.2 529,231.8"/>
<polyline fill="none" stroke="#f7a04e" stroke-opacity="0.3" stroke-width="0.8" stroke-linejoin="round" points="488,183.7 488.8,180.5 490.1,178.9 491.3,179.1 492.2,179.9 492.8,180.8 493.4,182 494.8,183.5 496.8,185.2 498.8,186 500,186.8 500.4,187.4 500.4,188.8 500.4,190 500.6,191.6 501.1,193.2 502.3,194.8 503.9,196.4 505.5,197.9 506.8,199.6 508.2,201 510,202.7 512.1,204.9 513.3,207.7 513.3,210.3 512.9,212.3 512.8,213.7 513.2,215.3 513.8,217.5 514.4,220.4 515.3,222.9 516.2,224.9 517.6,226.1 518.9,227 520.3,227.8 521.3,228.5 523.3,229 526.1,229.3 529.3,229.7 531.6,230.5 532.9,231.8"/>
<polyline fill="none" stroke="#f7a04e" stroke-opacity="0.3" stroke-width="0.8" stroke-linejoin="round" points="481.5,174.4 484.6,177.3 487.9,179.7 490.7,181 492.8,180.9 494.1,180.3 495,180.5 496,182.2 497.5,184.3 499.3,185.9 500.8,186.9 501.8,188 502.5,189.5 503.1,191.2 503.7,192.6 503.9,194 504.7,195.6 505.6,197.2 507.1,198.9 507.9,201.1 508.5,203.8 509,206.5 510,208.2 511.5,208.8 512.9,208.8 513.9,209.2 514.2,210.7 514.5,213.3 515.2,216.7 516.4,219.9 517.5,222.7 518.3,224.6 518.8,225.9 519.4,226.7 520.4,227.7 522,229.1 524.4,230.3 527.3,231.1 530,231.2 532.1,230.9 533.1,230.5"/>
<polyline fill="none" stroke="#f7a04e" stroke-opacity="0.3" stroke-width="0.8" stroke-linejoin="round" points="484.9,180 487.3,179.2 489.5,178.8 491.1,178.8 492.6,179.1 494.1,179.7 495.2,180.7 496.3,182.1 497.1,183.6 498.1,185.2 499.2,186.5 500.3,187.5 501.3,188.3 502.1,189.3 503,190.7 504.2,192.6 505.9,195.1 507.6,197.9 509.1,200.1 509.8,201.4 510,201.9 509.8,202.5 510,203.5 510.7,205.1 511.7,206.9 512.9,208.8 514.2,211 515.7,213.2 516.7,215.7 517.1,218.5 516.9,221.3 517,223.4 517.6,225.1 518.5,226.4 519.3,227.5 519.9,228.7 521.2,230 523.5,231.3 526.9,231.9 530.3,231.8 533.2,230.9"/>
<path fill="none" stroke="#f7a04e" stroke-opacity="0.35" stroke-width="0.6" d="M496.15 179.33l2.19 -0.06M506.08 194.44l3.97 -2.19M508.56 206.46l-1.85 0.92M528.17 229.21l1.6 -3.42M510.48 203.31l2.18 0.72M498.12 188.62l-3.2 1.18M494.82 182.48l-1.57 0.29M493.85 181.47l-3.01 0.37M513.14 208.57l1.32 -1.18M510.48 203.31l1.6 -2.27M499.05 189.91l-3.91 -1.55M513.14 208.57l1.29 -3.09M520.46 225.25l2.75 -0.93M510.3 209.92l-3.44 1.24M501.6 193.13l-4.8 0.05M509.6 201.59l3.13 -0.13M504.14 197.56l-3.92 2.08M505.02 199.36l-2.75 1.26M500.79 192.06l-2.66 3.34M516.7 216.74l1.95 0.93M517.55 218.76l3.04 -0.39M488.03 175.73l-0.96 -3.36M501.6 193.13l-2.52 4.31M487.08 178.73l-2.02 4.02M523.59 228l2.67 -3.72M499.27 184.03l2.35 -1.32M517.55 218.76l1.41 -1M512.03 213.7l-2.2 0.4M490.78 179.96l-0.69 3.56M522.67 231.01l-0.57 4.56M506.8 203.01l-3.95 2.4M516.32 223.62l-2.25 1.16M490.78 179.96l-2.18 1.34M514.04 210.46l4.4 -3.14M498.48 182.43l2.77 -1.9M505.17 192.83l3.22 -0.47M495.66 183.81l-4.13 0.78M511.36 205.03l3.34 -0.98M497.22 187.05l-3.57 2.11M504.24 191.4l4.47 -2.05M519.86 223.96l3.98 -1.04M517.55 218.76l2.26 -1.04M493.85 181.47l-3.02 4.08M513.8 217.98l-1.02 1.64M505.17 192.83l3.28 -1.13M522 227.19l2.69 -4.4M527.57 232.31l-1.1 2.1M517.86 227.02l-1.78 1.07M513.14 208.57l2.69 -0.43M485.79 178.29l4.48 2.87M487.08 178.73l0.27 4.06M521.13 226.31l3.38 -3.72M514.94 212.49l2.9 -2.51M500.79 192.06l-1.48 0.35M488.84 179.29l0.47 1.53M519.23 222.41l1.18 -1.65M490.78 179.96l0 3.22M505.17 192.83l5.18 -1.32M486.81 175.31l1.43 -3.82M517.86 227.02l-4.24 -0.35"/>
<polyline fill="none" stroke="#f7a04e" stroke-opacity="0.35" stroke-width="4.5" stroke-linecap="round" stroke-linejoin="round" points="487,176.5 485.8,177.2 484.1,178.2 482.1,179.3 480.3,180.6 479,181.9 478.3,183.2 478.1,184.7 478.1,186.2 478,187.7 477.5,189.2 476.6,190.7 475.4,192.2 474.2,193.6 473,194.9 472,196 471.3,196.8 470.7,197.4 470.2,197.9 469.8,198.2 469.5,198.5"/>
<polyline fill="none" stroke="#f7a04e" stroke-opacity="0.3" stroke-width="0.8" stroke-linejoin="round" points="485,177.7 484.6,177.3 483.3,177.6 481.6,178.9 480,180.6 479.2,182.2 479,183.6 478.9,185 478.5,186.6 478.2,188.1 478.1,189.8 477.7,191.5 477,193.5 475.2,195.2 473.6,196.4 472.1,197 471.6,196.9 471.1,196.7 471.4,196.7 472.5,197.1 474.7,197.7"/>
<polyline fill="none" stroke="#f7a04e" stroke-opacity="0.3" stroke-width="0.8" stroke-linejoin="round" points="491.1,174 488.4,176.2 485.8,178.2 483.7,179.8 481.9,181.1 480.3,182.2 479,183.4 478,185.1 477.4,187.2 477.3,189.5 477.3,191.3 476.8,192.6 475.7,193.3 474.4,193.7 473.1,194.1 472.3,195 471.7,195.9 471.4,197.2 471.3,198.2 471.8,199.5 472.8,200.8"/>
<polyline fill="none" stroke="#f7a04e" stroke-opacity="0.3" stroke-width="0.8" stroke-linejoin="round" points="489.7,181.4 488.7,179.6 486.9,178.3 484.2,178.3 481.4,178.7 479,179.8 477.8,180.9 477.2,182.5 476.9,184.5 477.1,186.6 477.2,188.1 476.9,188.9 475.5,189.7 473.8,190.8 472.4,192.3 471.9,193.7 472.1,195 472.3,196.8 471.8,198.7 469.9,200.4 467,201.6"/>
<polyline fill="none" stroke="#f7a04e" stroke-opacity="0.3" stroke-width="0.8" stroke-linejoin="round" points="485.3,176.6 484.3,177.3 482.8,178.2 481.2,178.8 479.4,179.8 478,181 477,183 476.6,185.2 476.6,187.4 477,189.2 476.9,190.3 476.3,191.1 475.4,192 475.3,193.3 475.2,194.7 475.1,196 474.1,196.4 472.9,196.2 472,195.8 472.3,196.5 473.3,198.1"/>
<polyline fill="none" stroke="#f7a04e" stroke-opacity="0.3" stroke-width="0.8" stroke-linejoin="round" points="484.8,170.8 484.6,175.1 483.5,178.5 482.1,180.7 480.8,182.1 479.7,182.7 478.8,183.3 477.7,183.7 476.9,184.8 476.6,185.7 476.9,186.9 477.3,187.9 476.8,189.7 475.6,191.9 473.8,194.4 472.3,196.3 471.1,197.2 470.3,197.2 470.2,197.3 471.2,198.3 473.1,200.3"/>
<polyline fill="none" stroke="#f7a04e" stroke-opacity="0.3" stroke-width="0.8" stroke-linejoin="round" points="490.1,172.7 487.2,175.2 484.5,177.1 482.4,178.4 481,180 479.8,182.1 479.5,184.3 479.4,186 479.5,187.2 478.7,188.1 477.3,189.3 475.6,190.6 474.5,192.2 473.7,193.9 472.8,195.7 471.8,197.2 470.9,198.4 470.7,199.1 470.8,199 471,197.7 471.2,195.5"/>
<polyline fill="none" stroke="#f7a04e" stroke-opacity="0.3" stroke-width="0.8" stroke-linejoin="round" points="486.1,177.3 485.8,176.6 484.4,177 482.5,178.7 480.4,180.9 478.9,182.7 478.1,183.8 477.5,184.4 476.8,185.2 476.4,186.4 476.2,188 476.3,189.9 476,192 475.1,194 473.7,195.4 472.3,196.3 471.4,196.8 471,197.2 471.2,197.6 471.8,198.1 472.7,198.6"/>
<polyline fill="none" stroke="#f7a04e" stroke-opacity="0.3" stroke-width="0.8" stroke-linejoin="round" points="480.6,179.8 483,178 483.5,178 482.4,179.8 481.1,182.2 480.1,183.8 479.7,184.4 479.4,184.9 479.2,185.7 479.2,187.2 478.7,188.8 477.6,190.5 475.6,192.1 473.4,194.2 471.5,196.1 470.7,197.5 470.8,198.1 471.3,198.2 471.4,198.3 470.7,198.1 469.2,197.6"/>
<path fill="none" stroke="#f7a04e" stroke-opacity="0.35" stroke-width="0.6" d="M472.39 197.92l3.49 2.74M476.63 193.2l2.95 3.59M479.21 179.49l-1.66 -1.96M468.72 197.07l-2.82 -0.89M474.26 191.13l-2.76 -2.5M470.83 194.95l-4.26 -0.54M472.39 197.92l2.27 3.16M476.63 193.2l2.32 0.54M471.74 198.58l2.05 4.16M476.45 187.28l-1.74 -0.28M487.8 177.86l2.44 3.19M481.21 178.06l-1 -1.66M470.83 194.95l-2.3 -2.05M477.58 181.21l-2.98 -1.39M486.2 175.14l-2.48 -1.97M481.21 178.06l-2.72 -2.71M483.26 176.83l-3 -4.12M474.14 195.98l2.02 1.33M473.17 197.05l3.28 2.15M481.21 178.06l-2.58 -1.92M487.8 177.86l4.1 3.42M470.14 195.71l-3.24 -1.39M476.63 193.2l1.14 3.05M471.74 198.58l-0.48 2.76M471.22 199.06l2.21 0.91M481.21 178.06l0.59 -4.77M475.36 189.7l-3.93 -2.4M471.8 193.87l1.21 -4.08M471.22 199.06l1.66 0.95M472.39 197.92l2.43 1.42M487.8 177.86l0.58 1.79M474.14 195.98l2.89 2.75M486.2 175.14l0.1 -2.34M481.42 181.74l1.14 2.74M476.51 186.1l-5.47 0.48M476.16 188.38l-2.94 -3.73M476.51 186.1l-1.27 -1.83M487.8 177.86l2.33 3.2M483.26 176.83l-0.51 -2.59M476.63 193.2l1.28 1.21M481.42 181.74l2.58 4.36M473.02 192.55l-3.56 -0.29M476.51 186.1l-2.67 -0.09M477.85 191.63l2.55 4.79M475.34 194.68l3.45 -0.73M471.74 198.58l1.13 1.04M480.42 182.59l3.29 1.29M478.84 190.02l1.49 0.67M469.13 196.71l-0.24 -4.89M477.85 191.63l1.7 2.7M473.17 197.05l0.97 4.41M479.9 183.49l1.83 -1.12M476.63 193.2l2.39 2.75M485.04 175.83l1.19 -3.52M471.74 198.58l0.78 2.46M474.14 195.98l4.07 1.92M486.58 178.58l0.96 2.89M476.51 186.1l-5.1 -0.57M476.45 187.28l-4.34 -2.52M483.26 176.83l-2.36 -2.48"/>
<polyline fill="none" stroke="#f7a04e" stroke-opacity="0.3" stroke-width="8" stroke-linecap="round" stroke-linejoin="round" points="469.5,198 471,197.5 473.2,196.7 475.7,195.9 478.2,195.3 480.4,195 482.3,195.2 484.1,195.6 485.9,196.3 487.6,197.1 489.2,198 490.9,199.1 492.6,200.4 494.2,201.8 495.5,203 496.5,203.8"/>
<polyline fill="none" stroke="#f7a04e" stroke-opacity="0.28" stroke-width="0.8" stroke-linejoin="round" points="468.3,205.5 470.5,200.9 472.8,197.3 475.2,195.1 478.1,194.3 481.2,194.1 484.2,193.9 486.7,193.9 488.6,193.9 489.9,194.4 491.2,195.3 492,196.8 492.9,199 493.5,201.8 494.5,204.6 495.5,207.2"/>
<polyline fill="none" stroke="#f7a04e" stroke-opacity="0.28" stroke-width="0.8" stroke-linejoin="round" points="474.3,193.4 472.3,196.5 472.7,198.4 475.1,199.1 478.2,198.7 480.3,198.2 481.7,197.6 483,197.8 484.7,198.1 486.5,198.5 488.2,198.4 489.8,198.5 491.7,199.1 494.5,200.8 498.2,203.8 502.4,207.8"/>
<polyline fill="none" stroke="#f7a04e" stroke-opacity="0.28" stroke-width="0.8" stroke-linejoin="round" points="470.8,202.7 471.2,201.2 473,199.5 475.8,197.7 478,196 479.6,194.8 481.1,194.8 483.1,195.3 485.2,195.8 487.2,196.5 489,197.7 490.8,200 493,202.3 495.3,203.6 497.5,202.3 499.2,198.9"/>
<polyline fill="none" stroke="#f7a04e" stroke-opacity="0.28" stroke-width="0.8" stroke-linejoin="round" points="478.8,194.6 475.2,196.3 472.9,197.9 472.5,198.8 473.3,198.4 476,197.3 479.3,196.8 482.9,197.1 485.7,198 487.6,198.7 489.1,199.3 490.4,199.5 491.8,199.7 493.3,199.6 495.4,200.2 497.6,201.2"/>
<polyline fill="none" stroke="#f7a04e" stroke-opacity="0.28" stroke-width="0.8" stroke-linejoin="round" points="477.4,202.6 474.6,199.9 473.7,197.9 474.8,197 476.7,196.7 478.6,196.5 480.8,196.8 483.7,197 487.3,198.3 490.4,199.3 492.2,200.4 492.4,200.6 491.6,201.1 491,201.8 490.7,202.6 490.6,202.9"/>
<polyline fill="none" stroke="#f7a04e" stroke-opacity="0.28" stroke-width="0.8" stroke-linejoin="round" points="467.3,195.2 469.7,196 472,196.2 473.8,196.1 475.8,195.6 477.6,194.9 479.2,194.1 480.7,193.9 482.6,194.6 484.8,196.3 486.6,198.2 488.1,200.1 489.9,201.3 491.7,201.7 493.3,200.7 494.2,198.6"/>
<polyline fill="none" stroke="#f7a04e" stroke-opacity="0.28" stroke-width="0.8" stroke-linejoin="round" points="470.8,197.5 472.3,197.1 474,196 475.9,194.6 478.6,193.9 481.7,194.2 485.2,195.1 488,196.3 489.6,197.7 489.8,199.3 489.1,200.5 488.9,201.3 489.9,201.7 492.6,202.4 496.8,203.8 501.9,205.8"/>
<polyline fill="none" stroke="#f7a04e" stroke-opacity="0.28" stroke-width="0.8" stroke-linejoin="round" points="468,195.4 469.5,196.4 471.6,196.7 474.2,196.4 477.3,195.6 480.6,194.7 483.6,194.3 485.5,194.8 486.7,195.9 487.3,197 488.3,197.7 489.6,198.2 491.4,199.3 493.4,201.6 494.8,205.5 495.7,210.6"/>
<polyline fill="none" stroke="#f7a04e" stroke-opacity="0.28" stroke-width="0.8" stroke-linejoin="round" points="472.9,192.8 473.8,194.9 476.1,195.4 478.7,194.6 480.6,194.1 480.7,194.9 480.4,196.5 481.6,198.1 484.3,199.1 487.8,199.3 490.1,198.7 491.5,198.3 491.9,198.8 492.7,200.7 493.9,203.9 495.7,207.6"/>
<polyline fill="none" stroke="#f7a04e" stroke-opacity="0.28" stroke-width="0.8" stroke-linejoin="round" points="468.3,204.1 470.8,200.9 473.2,198 475,196.2 476.7,195.5 478.4,195.9 480.4,196.4 482.2,196.6 483.8,196.2 485.7,195.6 488.3,194.8 491.3,195.1 493.9,196.5 495.8,198.8 497,200.6 497.8,201.6"/>
<polyline fill="none" stroke="#f7a04e" stroke-opacity="0.28" stroke-width="0.8" stroke-linejoin="round" points="468.7,204.4 470.2,201.3 472.9,198.8 476.2,197.2 479.1,196.6 481.2,196.8 483.3,197.5 486.2,198.4 489.4,198.7 491.3,198.7 491.3,198.4 490.3,198.5 490.5,198.7 491.4,199.4 492.2,200.4 491.7,201.3"/>
<polyline fill="none" stroke="#f7a04e" stroke-opacity="0.28" stroke-width="0.8" stroke-linejoin="round" points="470.9,198.4 471.4,198.5 472.6,197.6 474.3,196.2 476.1,195.1 478.3,194.8 480.9,195.5 484.4,196.5 487.5,197.2 490,197.3 491.5,196.8 492.7,197.1 494.1,197.7 495.8,198.3 497.8,197.4 499.8,195.4"/>
<path fill="none" stroke="#f7a04e" stroke-opacity="0.35" stroke-width="0.6" d="M494.4 198.27l0.83 -1.47M487.69 200.36l-0.53 1.58M481.63 197.89l-0.72 3.37M477.85 192.48l2.28 -3.36M476.37 198.62l4.52 1.89M490.76 202.53l-1.32 3.27M485.16 193.02l1.02 -2.17M478.51 198.04l-2.49 3.14M492.59 196.86l1.83 -0.4M483.01 192.46l0.11 -3.84M489.16 201.29l-1.9 1.77M483.13 198.24l-0.86 1.42M477.85 192.48l-1.5 -3.23M468.62 195.34l0.22 -3.53M486.25 199.59l1.42 2.69M496.04 199.67l2.14 -4.15M493.7 205.09l-0.48 4.12M487.69 200.36l-1.26 1.2M496.04 199.67l4.51 -1.85M494.4 198.27l1.22 -1.97M494.4 198.27l3.6 -1.12M488.89 194.66l4.4 -1.19M490.76 202.53l-3.45 0.54M483.01 192.46l-1.79 -3.81M496.04 199.67l4.17 -1.8M487.69 200.36l0 2.51M492.32 203.86l-2.12 0.91M487.11 193.79l2.42 -4.18M480.15 197.79l-1.57 3.96M492.32 203.86l-0.25 2.68M488.89 194.66l0.85 -1.65M477.85 192.48l0.1 -2.15M488.89 194.66l3.62 0.59M486.25 199.59l-1.49 3.47M489.16 201.29l-2.31 0.17M476.37 198.62l1.14 1.21M478.51 198.04l0.57 2.15M486.25 199.59l-3.1 0.91M480.65 192.21l-1.43 -3.43M486.25 199.59l-1.21 2.66M472.3 194.07l1.12 -2.85M485.16 193.02l0.15 -2.58M470.08 194.86l-2.46 -3M497.36 200.84l2.74 -3.54M474.97 193.2l-0.32 -2.42M486.25 199.59l-0.74 3.01M470.08 194.86l-0.81 -2.77M494.4 198.27l3.85 -2.89M471.95 200.13l0.01 3.63M480.65 192.21l-1.3 -2.84"/>
<polyline fill="none" stroke="#f7a04e" stroke-opacity="0.2" stroke-width="6" stroke-linecap="round" stroke-linejoin="round" points="474.6,203.8 476,204.1 478,204.5 480.4,205 482.8,205.5 485,206 487.2,206.5 489.5,207 491.7,207.5 493.6,207.9 495,208.2"/>
<polyline fill="none" stroke="#f7a04e" stroke-opacity="0.22" stroke-width="0.8" stroke-linejoin="round" points="473.5,203.6 474.4,204.7 476.2,205.5 478.2,206.4 480.2,207.3 482.1,208.6 485,209.4 488.6,210 492.2,209.9 494,210 494.1,210.3"/>
<polyline fill="none" stroke="#f7a04e" stroke-opacity="0.22" stroke-width="0.8" stroke-linejoin="round" points="477.7,197.4 478.5,200.4 480,203.2 482.3,205.3 484.6,206.3 486.9,206.7 488.7,206.9 490.7,207.3 491.9,207 492.2,205.4 491.3,202.5"/>
<polyline fill="none" stroke="#f7a04e" stroke-opacity="0.22" stroke-width="0.8" stroke-linejoin="round" points="476.4,203.6 476.5,204.6 477.5,204.9 479.5,204.4 482.6,204 485.6,204 488.2,205 490.3,206.2 492,207.2 493.3,207.1 494,205.9"/>
<polyline fill="none" stroke="#f7a04e" stroke-opacity="0.22" stroke-width="0.8" stroke-linejoin="round" points="478.3,201.3 478.3,202.4 479.9,203.8 482.6,205.2 485.1,206.7 486.5,208 487.1,208.9 488.4,209 491.1,208 495.7,205.5 500.9,202"/>
<polyline fill="none" stroke="#f7a04e" stroke-opacity="0.22" stroke-width="0.8" stroke-linejoin="round" points="476.3,204.2 477.2,204.1 478.8,204.3 481,205 483.3,206.1 485.5,206.8 487.4,206.6 489.3,206.3 491,206.5 492.7,207.7 494.1,209.5"/>
<polyline fill="none" stroke="#f7a04e" stroke-opacity="0.22" stroke-width="0.8" stroke-linejoin="round" points="480.1,209.6 479.4,207.6 479.6,205.7 480.7,204.7 482,204.8 483.9,206.1 486.2,207.4 489.1,208.2 491.8,208.1 494,207.5 495.7,206.6"/>
<polyline fill="none" stroke="#f7a04e" stroke-opacity="0.22" stroke-width="0.8" stroke-linejoin="round" points="473.4,202.5 475.2,203.9 476.7,204.6 477.6,204.7 479.1,204.6 481.2,204.9 484.1,205.4 486.6,205.9 488.7,205.9 490,205.6 491,204.7"/>
<polyline fill="none" stroke="#f7a04e" stroke-opacity="0.22" stroke-width="0.8" stroke-linejoin="round" points="482.9,202.2 480.1,204 479.7,205.7 481.5,206.8 484.9,207.4 488.1,207.4 491.2,207.2 493.6,206.6 495.7,205.9 497.4,205.3 498.9,204.8"/>
<path fill="none" stroke="#f7a04e" stroke-opacity="0.35" stroke-width="0.6" d="M474.17 205.85l0.81 3.12M476.45 202.04l0.39 -1.73M486.73 208.53l-1.01 3.12M475.59 206.15l0.85 2.5M476.45 202.04l0.73 -3.5M492.19 205.43l2.65 -1.15M475.03 201.75l0.41 -2.12M478.46 202.47l-0.4 -2.78M486.73 208.53l-0.55 3.11M480.8 202.96l2.45 -1.92M474.17 205.85l-0.66 1.55M483.22 203.47l0.48 -2.33M492.19 205.43l2.15 -3.17M492.19 205.43l1.67 -2.67M493.19 209.95l-2.62 2.33M474.17 205.85l-1.67 0.83M474.17 205.85l1.46 3.05M483.22 203.47l-0.96 -2.09M486.73 208.53l0.09 1.91M489.06 209.04l-1.57 1.16M475.59 206.15l0.49 2.82M478.46 202.47l1.83 -1.26M493.19 209.95l-1.61 1.88M485.45 203.95l-0.18 -2.4M491.29 209.53l1.13 2.97M483.22 203.47l0.62 -2.75M484.55 208.05l-0.53 2.77M489.96 204.94l1.04 -1.39M494.1 205.85l1.55 -3.45M492.19 205.43l3.38 -1.55"/>
<polyline fill="none" stroke="#f39040" stroke-opacity="0.6" stroke-width="4.5" stroke-linecap="round" stroke-linejoin="round" points="526.4,219.5 527.7,219.9 529.5,220.5 531.6,221.1 533.8,221.8 536,222.5 538.4,223.2 541.1,223.9 543.7,224.6 546,225.3 547.6,225.7"/>
<polyline fill="none" stroke="#f39040" stroke-opacity="0.5" stroke-width="0.8" stroke-linejoin="round" points="529.7,215.1 529.5,218.1 530.4,220 532.1,220.8 534.2,221.1 536.2,221.7 538.4,222.2 541,223.1 543.5,224 545.4,225.1 546.3,226.1"/>
<polyline fill="none" stroke="#f39040" stroke-opacity="0.5" stroke-width="0.8" stroke-linejoin="round" points="527.2,218.9 527.1,218.7 528.3,219 530.5,219.8 532.9,221 535.2,222.2 537.2,223.2 540,223.8 543.4,224.1 547.3,224.1 551,223.9"/>
<polyline fill="none" stroke="#f39040" stroke-opacity="0.5" stroke-width="0.8" stroke-linejoin="round" points="528.6,219.4 529.5,219.4 531,219.6 532.9,220.2 534.6,221.1 536.1,222.1 537.7,223.1 540,224.1 543,225 546.5,225.7 549.9,226.1"/>
<polyline fill="none" stroke="#f39040" stroke-opacity="0.5" stroke-width="0.8" stroke-linejoin="round" points="525.5,223.2 527,222.2 528.9,221.9 531.4,222.2 534.2,222.7 537.1,223.2 539.7,223.6 542.1,223.9 544.3,223.9 546.4,223.8 548.1,223.5"/>
<polyline fill="none" stroke="#f39040" stroke-opacity="0.5" stroke-width="0.8" stroke-linejoin="round" points="524.4,220.5 526.6,220.8 529.3,221.2 532.1,221.5 534.6,222 536.8,222.3 538.7,222.8 541.2,223.1 543.6,223.4 546.3,223.6 548.7,223.8"/>
<polyline fill="none" stroke="#f39040" stroke-opacity="0.5" stroke-width="0.8" stroke-linejoin="round" points="527.1,218.7 527.1,219.6 528.1,220.4 530.3,221 533.4,221.5 536.5,222 539.5,222.7 542.3,223.8 545.5,225 549.4,225.5 553.7,225.1"/>
<path fill="none" stroke="#f39040" stroke-opacity="0.35" stroke-width="0.6" d="M527.19 221.4l-0.97 1.71M541.47 222.4l1.07 -1.77M529.93 218.97l1.52 -3.09M529.93 218.97l0.84 -3.71M529.93 218.97l0.91 -2M545.58 226.78l0.49 2.39M546.4 223.74l0.9 -2.01M535.57 224.01l-2.61 2.8M545.58 226.78l-0.72 3.59M529.93 218.97l1.98 -3.13M528.98 221.98l-3.3 2.05M526.88 218l1.39 -1.25"/>
<polyline fill="none" stroke="#f7a04e" stroke-opacity="0.35" stroke-width="4.5" stroke-linecap="round" stroke-linejoin="round" points="535.9,214 536.7,213.3 537.7,212.3 539,211.1 540.3,209.7 541.8,208.2 543.4,206.3 545.2,204.1 547.1,201.8 548.9,199.7 550.5,198 551.7,196.8 552.6,195.9 553.5,195.3 554.5,194.9 555.8,194.5 557.4,194.2 559.3,194 561.3,193.9 563.5,194.1 565.6,194.5 567.7,195.4 569.9,196.9 572.2,198.4 574.6,199.7 577.2,200.3 580.3,200.1 583.8,199.3 587.4,198.3 590.5,197.2 592.8,196.4 594.1,195.9 594.6,195.4 594.7,195 594.7,194.7 594.7,194.5"/>
<polyline fill="none" stroke="#f7a04e" stroke-opacity="0.3" stroke-width="0.8" stroke-linejoin="round" points="534.7,215.8 536.6,215.2 538.3,213.8 539.6,211.8 540.8,210 542.3,208.8 544.2,207.6 546,205.9 547.3,203.6 548.2,201 548.9,198.7 549.6,196.8 550.7,195.7 552.2,195 554,194.4 555.6,193.7 557.5,193.2 559.3,193.3 561.3,193.7 563.3,194.1 565.3,194.3 567.2,195.1 569.3,196.5 571.9,197.9 574.9,198.8 577.7,199 580.6,198.9 583.7,198.6 587.5,198.6 591.4,198.2 594.7,197.6 597,196.9 598.3,196.2 598.4,195.2 597.3,193.1 595.5,190.1"/>
<polyline fill="none" stroke="#f7a04e" stroke-opacity="0.3" stroke-width="0.8" stroke-linejoin="round" points="539.5,217.2 538.5,215.3 538.4,213.6 539.4,212 541.1,210.3 542.9,208.6 544.5,206.6 545.7,204.3 546.9,201.5 548.2,198.7 549.7,196 551,194 552.1,192.3 552.8,191.7 553.4,191.5 554.3,192.2 556.3,193.1 558.7,194.1 561.6,194.5 563.7,194.4 566,194.1 568.2,194.8 571.1,196.9 573.8,199.7 576,201.7 578,202.2 580.2,201.1 583,199.7 585.8,198.3 588.3,197.6 590.2,196.8 591.8,196.5 593.1,196.1 594.2,195.8 595.2,195.4 596.3,194.9"/>
<polyline fill="none" stroke="#f7a04e" stroke-opacity="0.3" stroke-width="0.8" stroke-linejoin="round" points="534.8,215.2 536,214.3 537.1,213.7 538,213.1 539.4,211.8 541.3,209.1 544.1,205.7 547.2,201.9 549.8,199.1 551.3,197.4 552.2,197 553.1,196.8 554,196 554.8,194.7 555.4,193.1 556.5,192 558.1,191.3 560.3,191.4 562.2,192.1 564.1,193.2 565.4,194.6 566.7,196.1 568.4,197.8 570.5,199.7 573,201.6 575.5,203 578.5,202.5 582,200.8 585.8,198.4 589.5,196.9 592.5,196.3 594.2,196.4 594.8,196.3 594.9,195.8 595,194.9 595.3,193.9"/>
<polyline fill="none" stroke="#f7a04e" stroke-opacity="0.3" stroke-width="0.8" stroke-linejoin="round" points="533.7,210.7 535.3,212.8 537.1,213.2 539,212.1 540.7,210.4 542.2,208.9 543.4,207.4 544.5,205.7 545.7,203.6 547.6,201.4 550.2,199.5 552.3,197.7 553.5,196.1 553.7,195 553.9,194.6 555,194.4 556.7,194.2 558.8,193.9 561.1,194.1 563.6,194.7 566.2,195.3 568.4,196.2 570.5,197.4 572.6,198.8 574.9,199.7 577.8,200.2 581.2,200.1 584.8,199.5 587.7,198.4 590,197.1 591.2,195.9 592.5,195 593.7,194.8 594.9,195 594.9,195.5 594.2,196"/>
<polyline fill="none" stroke="#f7a04e" stroke-opacity="0.3" stroke-width="0.8" stroke-linejoin="round" points="531.4,210.4 532.9,211.6 534.8,211.5 537.1,210.2 539.4,209 541.5,208.2 543.4,207.1 545.3,205 547.2,202.2 548.7,199.4 549.6,197.3 549.8,195.7 549.6,194.7 550,194.6 551.4,194.6 553.6,194.2 556.2,193 558.5,191.9 560.9,191.8 563.6,192.6 566.5,193.8 568.8,194.8 570.6,195.8 572.1,196.7 574.1,197.7 577,198.7 580.7,199.1 584.5,198.9 587.9,198 590.9,197.4 593.4,196.7 594.9,196.2 595.6,195.2 595.7,195.2 595.5,196.4 595.2,199"/>
<polyline fill="none" stroke="#f7a04e" stroke-opacity="0.3" stroke-width="0.8" stroke-linejoin="round" points="537.2,216.9 537.3,214.8 537.5,213.4 537.7,212.5 538.3,211.7 539.7,210.1 541.7,207.9 544.4,205 546.8,202.6 548.8,200.5 550.2,198.7 551.4,196.7 552.7,194.8 553.9,193.3 554.5,192.8 555.2,193.1 556.6,193.4 558.5,193.3 560.5,192.8 562.5,192.7 564.6,193.1 567.1,194.2 570,195.8 573.4,197.5 576.8,198.9 579.7,199.5 582.2,199.1 584.4,198.2 586.6,197.3 588.9,196.4 591,195.9 592.7,195.4 593.7,195.1 594.9,194.8 596.4,194.6 598.7,194.3"/>
<polyline fill="none" stroke="#f7a04e" stroke-opacity="0.3" stroke-width="0.8" stroke-linejoin="round" points="537.6,215 536.9,213.7 536.8,212.3 537,210.8 537.7,209.3 538.9,207.6 540.9,205.9 543.5,203.7 546.2,201.4 548.4,199.1 550.5,197.4 552.4,196.5 554,195.8 554.9,195 555.2,194.8 556,195.1 557.8,195.8 560.3,195.8 563,195.1 565.2,194.1 567.4,193.8 569.2,194.9 571.1,197 572.2,199 573.2,200.3 574.5,200.6 577.5,199.9 581.6,198.6 586.1,197.4 589.9,196.6 592.7,196 593.9,195.7 594.4,195.2 594.2,195 593.3,194.2 592,192.9"/>
<polyline fill="none" stroke="#f7a04e" stroke-opacity="0.3" stroke-width="0.8" stroke-linejoin="round" points="534.9,210.5 537.1,212.1 538.5,212.8 539.5,212.9 540.6,212 542.2,210.8 544.1,208.5 546.1,205.5 547.8,202.2 549.7,199.3 551.6,197.5 553.2,196.4 553.9,195.7 554.1,195.1 554.3,194.9 555.6,194.8 557.9,195 560.7,195 563.2,195.5 565.2,195.9 566.4,196.2 567.7,196.2 569.2,196.9 571.5,198.1 574.3,199.8 577.7,200.7 581.6,200.3 585.8,198.9 589.6,197.4 592.6,196.4 594.7,196.3 595.6,196.2 596.1,196 596.2,195.2 596.4,194.4 596.7,193.3"/>
<path fill="none" stroke="#f7a04e" stroke-opacity="0.35" stroke-width="0.6" d="M571.45 199.79l-0.73 2.08M591.01 198.69l2.53 1.85M561.22 195.49l-1.35 5.22M538.79 213.45l1.44 0.62M542.99 209.23l1.12 2.85M544.02 203.12l-3.56 -1.2M542.99 209.23l1.43 1.35M544.02 203.12l-3.64 -1.94M551.6 199.12l5.2 -0.15M548.33 202.83l4.49 2.03M536.62 211.17l-5.22 -0.44M571.45 199.79l0.53 4.71M596.16 195.8l2.43 0.19M552.86 193.9l-0.97 -4.97M559.27 192.4l0.16 -2.59M559.27 192.4l-1.34 -2.12M548.33 202.83l1.56 1.52M559.35 195.54l-2.17 4.93M571.45 199.79l-0.48 4.13M554.94 196.38l-2.4 4.62M552.86 193.9l-3.81 -3.43M542.99 209.23l4.21 0.5M593.11 195.01l-2.77 1.75M551.73 194.67l-3.31 -1.9M577.3 201.87l0 1.58M572.92 197.01l2.39 -2.95M557.26 192.62l-0.15 -2.87M545.93 200.79l1.92 -1.85M584.26 200.85l-0.3 1.7M538.79 213.45l2.62 4.11M596.26 194.65l2.71 2.48M592.19 194.95l-2 -3.58M550.08 200.76l3.41 1.54M596.16 195.8l4.77 0.5M561.45 192.34l-0.13 -4.24M557.62 195.75l1.25 3.32M569.04 198.17l-0.07 2.09M593.11 194.46l-4.97 1.04M557.62 195.75l-0.78 1.45M561.45 192.34l0.14 -3.76M540.06 212.23l4.83 -0.25M566.88 196.76l-0.43 2.09M593.08 194.65l-0.25 -1.56M574.22 201.2l-0.37 4.57M568.6 194.13l2.17 -4.04M596.16 195.8l2.63 1.39M593.41 197.85l2.04 2.37M583.36 197.83l0.93 -1.25M540.61 207.17l-2.78 -0.74M584.26 200.85l1.92 3.53M548.33 202.83l3.1 3.45M564.96 195.94l0.91 3.17M596.26 194.65l2.38 -4.03M552.86 193.9l-1.52 -4.35M552.77 197.98l1.17 1.32M589.97 195.72l-0.95 -2M589.97 195.72l-1.49 -1.29M570.8 195.56l1.35 -3.91M557.26 192.62l0.77 -2.12M551.73 194.67l-3.15 -3.83"/>
<polyline fill="none" stroke="#f7a04e" stroke-opacity="0.35" stroke-width="4.5" stroke-linecap="round" stroke-linejoin="round" points="565.6,196 567.8,198.2 570.8,201.5 574.4,205.1 577.9,208.8 581,212 583.6,214.7 586,217.1 588.3,219.4 590.5,221.6 592.8,223.6 595.1,225.6 597.5,227.6 599.8,229.3 602.2,230.6 604.5,231.4 606.9,231.5 609.4,231 611.9,230 614.1,228.8 616.1,227.5 617.7,226 619.1,224.3 620.2,222.4 621.2,220.2 622,217.8 622.6,215 623,211.9 623.3,208.6 623.5,205.2 624,202 624.6,198.9 625.2,195.7 625.9,192.5 626.8,189.5 627.8,186.7 629,184 630.4,181.5 632,179.1 633.7,176.9 635.6,175 637.7,173.4 640.1,172 642.6,170.8 645,169.9 647.3,169.2 649.5,168.8 651.8,168.8 653.9,168.9 655.7,169.1 657,169.2"/>
<polyline fill="none" stroke="#f7a04e" stroke-opacity="0.3" stroke-width="0.8" stroke-linejoin="round" points="565.5,197.8 568.1,198.3 571,200.6 573.6,204.3 576.4,208.5 579.2,211.6 581.9,213.8 584.7,215.7 587.8,218.4 591.3,221.5 594.3,224.4 596.4,226.4 597.6,227.7 598.9,228.7 600.3,229.5 601.8,230.3 603.3,230.5 605.3,230.6 608.2,230.1 611.8,229.4 615.5,228.4 618.3,227 619.9,225.3 620.6,223.1 621.4,220.8 622.3,217.8 622.9,214.6 623.2,211.1 623.5,207.9 624.2,205 625,202.4 625.7,199.6 626.4,196.6 626.9,193.4 627.3,190.4 627.6,187.3 628.6,184.7 629.7,182.1 631.2,179.8 632.8,177.2 635.2,174.8 637.9,172.5 640.7,170.7 643,169.5 645,169.2 647,169.5 649.4,170 652.1,169.7 653.8,168.6 653.6,167.1 651.4,165.3"/>
<polyline fill="none" stroke="#f7a04e" stroke-opacity="0.3" stroke-width="0.8" stroke-linejoin="round" points="560.8,194.4 565.2,196.1 569.5,199.3 573.4,203.1 577.4,207.2 581.4,210.7 584.7,214 587.4,217.2 589.6,220.2 591.5,222.6 593,224.4 594.8,226.2 597,228.2 599.8,229.9 602.2,230.5 604.1,229.9 605.8,229.1 607.7,228.6 610.1,228.7 612.7,228.4 615.6,227.5 618.1,226 620.1,224.2 621.4,222.3 622.4,219.9 623,217.4 623.4,214.4 623.2,211.3 623.1,208.2 622.8,205.3 623,202.3 623,198.7 623.2,194.7 623.8,190.8 624.7,188.1 625.5,185.7 626.4,183 628,179.7 630.2,176.7 632.6,174.8 634.8,173.7 636.9,172.7 639.4,171.4 641.9,170.4 644.7,169.8 647.3,169.5 650,169.3 652.5,169.3 654.8,169.1 656.3,168.9 656.9,168.3"/>
<polyline fill="none" stroke="#f7a04e" stroke-opacity="0.3" stroke-width="0.8" stroke-linejoin="round" points="566.8,192.6 568.9,196.1 572.1,200.4 575.8,204.9 579.1,209 581.7,212.3 583.3,214.7 585.1,216.7 586.9,218.7 589.6,220.9 592.8,223.5 596.2,226.2 599,228.7 601.4,230.6 603.9,231.6 606.8,231.6 609.9,230.9 612.6,230.2 614.5,229.5 616.1,229 617.5,227.8 619,226.4 620.5,224.5 621.8,222.3 622.8,219.4 623.4,216.3 623.4,213.2 622.9,210.4 622.5,207.8 622.6,204.8 623.7,201.8 624.8,199 625.6,196.5 625.8,193.9 626.3,190.6 627,186.7 628.3,183.2 629.4,180.5 631.1,179 633.1,177.8 635.7,176.5 638.5,174.8 641.2,173 643.8,171.1 646.4,169.5 649.2,168.9 651.7,169.2 653.9,170 655.7,170 657.8,168.7 659.9,166.3"/>
<polyline fill="none" stroke="#f7a04e" stroke-opacity="0.3" stroke-width="0.8" stroke-linejoin="round" points="564.9,195.5 567.3,198.3 570.5,202.1 574.1,206.2 577.7,210.4 580.9,213.7 583.4,215.8 585.8,217.3 587.9,218.9 590,221 592,223.5 594.2,226 597.1,228.2 600.2,229.3 603.3,230.1 605.6,230.3 607.8,230.7 610,230.5 612.8,229.8 615.1,228.5 617.1,227 618.4,225.5 619.5,223.7 620.1,222 620.4,220.4 620.9,218.8 621.7,216.4 622.5,213.1 622.9,209.3 622.8,205.3 622.7,201.4 623,197.9 623.7,194.4 624.5,191.4 625.5,188.5 627,186.5 629,184.7 631.5,182.4 633.4,179.2 635,175.9 636.4,173.6 638,172.4 640,171.8 642.1,171 644.5,170.1 646.7,169.3 648.9,169 650.6,168.8 652.4,168.8 654.2,169.1 656.3,169.7"/>
<polyline fill="none" stroke="#f7a04e" stroke-opacity="0.3" stroke-width="0.8" stroke-linejoin="round" points="571.1,191.5 570,195.5 571.1,200 573.9,204.1 577.1,207.5 579.8,210.1 581.7,212.4 583.8,215 586.3,217.6 589.6,220.2 593.1,222.5 596.7,224.7 599.2,226.7 601,228.4 602.1,229.8 603.4,230.8 605.3,231.1 607.7,231.4 610.2,231.1 612.6,230.6 614.7,229.3 616.6,227.8 618.2,225.4 619.2,222.5 619.7,219.1 620.3,215.9 621.3,212.6 622.8,209.5 624,206.5 624.8,204 625.2,201.7 625.8,198.9 626.3,195.4 626.8,191.5 627,188 627.5,185.2 628.3,183.3 629.3,181.8 630.8,180.1 632.6,177.8 635,175.4 637.3,173.3 639.6,171.7 642,170.6 645.1,170.2 648.3,170.1 651,169.8 652.8,169.4 654,169 654.9,169.1 655.5,169.5"/>
<polyline fill="none" stroke="#f7a04e" stroke-opacity="0.3" stroke-width="0.8" stroke-linejoin="round" points="563.8,192.6 566.6,196.9 570.3,201.6 574.2,206 577.9,209.8 581.1,212.9 584.3,215.3 587.3,217.2 590,218.8 592.2,220.3 594.1,222.4 595.8,225.1 597.7,227.9 600,230.3 602.8,231.4 605.4,231.7 607.4,231.4 609,231.3 610.7,231 613,230.3 615.2,229 617.1,227 618.7,224.6 620.3,221.8 621.5,219.6 622.5,217.5 622.9,215.7 622.9,212.8 622.8,209.3 622.9,205.2 623.4,201.5 624.2,197.9 625.2,194.3 626.5,191 628,188.3 629.7,185.8 631.4,183.3 632.9,180.7 634.1,178.2 635.1,176.1 636.1,174.1 637.8,172.6 640.2,171 643.1,169.9 645.8,168.8 648,168.3 649.8,167.7 651.4,167.6 653.1,167.9 655.1,169.2 657,171.2"/>
<polyline fill="none" stroke="#f7a04e" stroke-opacity="0.3" stroke-width="0.8" stroke-linejoin="round" points="559.2,190.1 563.4,195.4 567.9,201.1 572.2,206.5 576.3,210.9 579.7,214.1 582.6,216.1 585.1,217.9 587.6,219.4 590.2,221.1 593,222.9 595.7,224.9 598.3,226.9 600.6,228.6 602.9,230.2 605.5,231.5 608.5,232.2 611.2,232.1 612.8,231.4 613.7,230.3 614.8,229.1 616.6,227.6 618.7,226 620.4,223.9 621.7,221.6 622.9,218.8 624,215.6 624.4,212.1 624.5,208.8 624.5,205.7 624.9,203.1 625.7,200.1 626.2,197 626.8,193.5 627,190.4 627.5,187.5 628.1,184.9 629.4,182.4 630.9,179.6 633.2,176.3 635.4,173.2 638,171.2 640.5,170.4 643.1,170.6 645.8,170.9 648.4,171.3 651.2,171.8 653.9,172.1 656.4,171.7 658.1,169.8 658.9,166.7"/>
<polyline fill="none" stroke="#f7a04e" stroke-opacity="0.3" stroke-width="0.8" stroke-linejoin="round" points="564.9,198.6 567.6,199.5 571,201.7 574.8,204.8 578.3,208.1 581.3,211.2 583.8,214 586.5,216.8 588.9,219.4 590.9,221.8 592.5,224 594.2,226.1 596.7,227.7 599.7,228.9 603,229.6 605.6,230.4 607.6,230.9 609.4,230.9 611.7,230 614.3,228.8 616.7,227.4 618.4,226.1 619.5,224.6 620,222.8 620.4,220.5 620.8,217.3 621.7,213.8 622.2,210.3 622.9,207.4 623.4,204.9 624.1,202.4 624.2,199.6 624.5,196.5 624.9,193.6 626.3,190.9 627.9,188.4 629.8,185.9 631.4,183.7 633,182 634.7,180.5 636.9,178.5 639.1,176.2 641.3,174 643.5,172 646,170.2 648.2,169 649.9,168.5 651.1,168.9 652.4,169.3 654.2,169.4 656.1,169.2"/>
<path fill="none" stroke="#f7a04e" stroke-opacity="0.35" stroke-width="0.6" d="M618.94 227.01l1.21 3.57M606.61 229.92l1.41 -1.93M638.52 174.73l-0.66 1.64M598.44 226.29l0.97 -4.89M584.72 213.57l1.38 -1.26M634.64 173.75l-2.38 -2.63M649.56 170.4l-1.26 3.51M620.46 217.46l-4.61 2.6M626.13 199.15l3.25 -2.67M622.45 201.71l-3.03 -0.89M602.65 229.15l-1.55 -3.13M584.72 213.57l3.14 -2.9M624.18 215.21l4.13 0.01M579.03 207.73l2.32 -2.37M596.55 228.82l-2.51 2.57M622.65 220.74l3.86 3.74M596.16 224.38l1.89 0.1M582.46 215.76l-2.39 4.23M575.49 204.06l0.69 -1.77M604.46 232.97l-0.64 4.26M579.87 213.1l-2.24 2.3M598.44 226.29l1.39 -2.07M655.83 167.54l0.86 -2.11M596.16 224.38l3.11 -1.09M621.69 208.44l-2.29 0.59M584.72 213.57l2.19 -1.02M632.6 175.8l-3.41 -0.88M655.6 170.68l-0.42 3.92M566.74 194.91l4.42 -2.44M649.49 167.25l0.07 -2.96M591.78 224.8l0.72 3.32M608.87 229.49l-1.74 -4.09M621.99 205.01l-2.89 0.93M611.14 228.65l-1.85 -1.71M568.89 197.16l4.33 -1.07M612.61 231.43l2.16 1.56M589.35 218.31l2.71 -2.86M651.89 167.21l0.39 -2.87M624.83 208.71l3.66 1.07M630.42 184.79l2.94 2.73M615.04 230.14l3.1 1.01M609.97 232.44l1.42 4.54M600.62 227.94l1.28 -4.25M566.61 199.33l-3.16 1.53M621.99 205.01l-3.57 -2.94M624.56 212.02l1.5 -0.13M622.45 201.71l-1.18 -1.22M564.46 197.09l-1 2.33M584.86 218.25l-1.4 0.67M601.69 232.15l1.83 5.16M629.23 187.37l1.65 1.51M599.05 230.67l0.17 1.61M626.73 196.02l2.59 4.31M617.7 223.53l-1.62 0.48M633.24 180.06l1.34 1.88M620.42 225.13l0.92 4.83M632.6 175.8l-0.02 -4.98M617.7 223.53l-1.02 -1.16M651.89 167.21l0.17 -5.37M654.08 167.35l-0.95 -1.36"/>
<polyline fill="none" stroke="#f7a04e" stroke-opacity="0.35" stroke-width="4.5" stroke-linecap="round" stroke-linejoin="round" points="657,170 656.3,171.3 655.3,173.1 654.2,175.1 652.7,177.2 651.1,178.9 649.1,180.1 646.7,181.1 644.1,182 641.7,183.1 639.5,184.7 637.5,186.9 635.5,189.6 633.8,192.5 632.5,195.4 631.7,198.3 631.7,201.1 632.2,204.1 633.2,206.9 634.4,209.6 635.6,212 637,214 638.8,215.9 640.7,217.5 642.3,218.7 643.4,219.7"/>
<polyline fill="none" stroke="#f7a04e" stroke-opacity="0.3" stroke-width="0.8" stroke-linejoin="round" points="655.7,167.4 656.1,170.1 656.1,173.5 655.4,176.9 653.9,179 651.8,179.7 648.9,179.8 645.7,180.6 642.3,181.9 640.2,183.6 639.3,185.1 639.3,187.3 638.4,190.1 636.8,193.2 634.7,196.1 632.8,198.6 631.9,201.1 632.5,203.7 634,206.2 635.5,209 636.1,211.7 636.4,214.7 637.4,216.9 639.3,218.1 641.7,218.2 644.1,217.7"/>
<polyline fill="none" stroke="#f7a04e" stroke-opacity="0.3" stroke-width="0.8" stroke-linejoin="round" points="656.7,166.2 657,168.5 656.7,171.2 655.4,174.1 653.5,177.3 651.3,180.3 649.5,182.5 647.5,183.5 645.2,183.8 641.9,184.2 638.5,185.2 635.2,187.1 632.8,189.3 631.2,191.8 630.7,194.6 630.8,197.8 631.6,201.3 632,204.8 632.4,208.4 632.7,211.3 633.8,213.4 635.5,214.4 638.2,215.3 640.8,216.2 642.6,217.9 643.3,219.8"/>
<polyline fill="none" stroke="#f7a04e" stroke-opacity="0.3" stroke-width="0.8" stroke-linejoin="round" points="656.6,170.2 656.2,171.3 655.9,173.2 655.4,175.7 654.3,178.2 652.3,179.9 649.8,180.9 646.7,181.5 643.6,182.2 640.7,183.3 638.7,184.8 637.2,186.8 635.5,189.4 633.6,192.3 631.8,195.7 630.6,199.3 630,203.1 630.4,206.3 631.7,208.8 633.5,210.6 635.4,212.4 637.3,214.3 639.2,216.2 640.7,217.7 641.9,218.3 642.4,218"/>
<polyline fill="none" stroke="#f7a04e" stroke-opacity="0.3" stroke-width="0.8" stroke-linejoin="round" points="656.8,172.9 656.8,173.2 656.8,174.1 656.5,175.4 655.5,176.8 653.3,178.6 650.4,180.6 647.2,182.6 644.3,184.1 642,185.3 640.3,186.7 638.8,188.7 637.1,191.1 635,193.6 633.1,195.9 632,197.9 632.1,199.9 632.8,201.8 633.8,204.2 634.8,207.2 635.8,210.5 637.2,213.1 638.8,214.9 640.5,216 642,217.1 643,218.2"/>
<polyline fill="none" stroke="#f7a04e" stroke-opacity="0.3" stroke-width="0.8" stroke-linejoin="round" points="654.2,170.7 654.1,171.6 653.2,172.8 651.8,174.2 650.8,175.9 650.1,177.3 649,178.3 646.8,179 643.8,179.9 640.7,181.3 638,183.7 635.7,187.1 633.4,191 631.7,194.5 630.5,197.3 630.1,198.8 630.3,200.5 631.3,202.6 632.7,205.6 634.3,208.7 635.5,211.9 636.7,214.4 638.5,216.5 640.8,218.2 643,220 644.6,222"/>
<polyline fill="none" stroke="#f7a04e" stroke-opacity="0.3" stroke-width="0.8" stroke-linejoin="round" points="659.8,167 657.2,169.2 655.6,172 655,174.9 654.3,177.5 652.6,179.5 650,180.6 647.1,181.6 644.4,182.8 641.8,184.7 639.3,186.8 636.6,188.6 634.2,190.4 632.6,192.2 631.9,194.8 631.8,197.7 631.7,200.9 632.2,204.2 633.4,207.5 635,210.8 636.3,213.6 637.3,215.8 639,217.5 641.3,219 644.3,220.6 647,222.5"/>
<polyline fill="none" stroke="#f7a04e" stroke-opacity="0.3" stroke-width="0.8" stroke-linejoin="round" points="656.5,173 655.3,172.5 653.5,173.4 651.7,175.4 650.6,177.6 650.2,179.3 649.3,180.3 647.3,181.1 644.3,182.1 641.5,183.3 639.3,184.5 637.7,186.2 635.8,188.2 633.9,190.8 632.4,193.6 631.9,196.5 632.4,199.2 633.3,202.2 634.2,205.1 634.9,208.4 635.1,211.5 635.8,214 637.4,215.8 640.1,217.7 642.5,220.5 644.4,224.1"/>
<polyline fill="none" stroke="#f7a04e" stroke-opacity="0.3" stroke-width="0.8" stroke-linejoin="round" points="655,166.6 655.8,169.1 655.3,172.3 653.5,175.8 651.3,178.4 649.1,179.9 647.1,180.5 645,181.3 643.3,182.4 641.9,183.8 641,185 639.6,186.7 637.7,189.1 635.2,192.3 632.7,195.7 630.6,198.7 630.1,201.5 630.7,204.8 632.7,207.8 634.7,210.3 636.7,211.9 638.8,213.5 641.4,215.7 643.4,218.1 644.4,219.8 644.1,220.5"/>
<path fill="none" stroke="#f7a04e" stroke-opacity="0.35" stroke-width="0.6" d="M638.33 183.65l-2.97 -0.55M635.78 208.92l0.88 -1.58M635.23 193.13l3.83 2.76M651.92 180.24l0.47 1.51M634.2 188.76l-5.24 0.92M644.79 183.4l2.19 2.91M648.51 178.67l-2.57 -2.02M646.16 179.58l-0.77 -2.38M649.66 181.6l0.84 2.67M642.61 184.35l3.67 2.27M643.29 217.55l3 -1.75M644.79 183.4l0.65 4.9M641.26 219.95l0.38 3.75M638.17 212.95l5.1 -0.85M643.29 217.55l2.15 -4.23M646.16 179.58l1.03 -4.01M640.73 181.83l-3.72 -2.27M631.76 207.58l-2.1 -2.42M635.9 215.14l-2.24 2.85M630.74 204.56l-2.95 -1.48M646.16 179.58l-3.19 -4.03M656.71 173.85l2.13 0.48M646.16 179.58l0.87 -4.09M639.68 218.7l-1.53 4.16M632.98 210.36l-3.65 -1.73M655.45 176.03l4.57 -0.74M644.79 183.4l-0.29 1.87M632.36 191.83l-3.82 -2.19M639.84 214.69l3.64 -3.47M640.73 181.83l-0.94 -4.24M633.72 203.56l5.11 -1.6M634.64 206.31l2.67 -0.59M632.36 191.83l-2.32 -4.78M655.63 169.23l-2.75 0.05M644.79 183.4l2.47 2.96M635.78 208.92l2.21 0.12M647.21 182.55l-1.5 3.7M632.36 191.83l-3.49 -2.45M634.64 206.31l3.2 -4.09M635.23 193.13l0.3 2.05M638.33 183.65l-1.26 -1.74M635.23 193.13l2.16 -0.35M638.17 212.95l0.84 -2.34M650.28 177.56l-1.49 -5.23M638.33 183.65l-0.41 -2.26M636.24 185.98l-1.4 -5.15M648.51 178.67l-0.29 -3.56M636.24 185.98l-4.22 -3.42M648.51 178.67l0.79 -5M632.36 191.83l-3.72 -0.36M635.9 215.14l-2.93 -0.18M650.28 177.56l-4.63 -1.73M633.72 203.56l1.16 -1.33M643.29 217.55l2.62 -4M632.36 191.83l-2.96 -3.97M632.36 191.83l-1.59 0.44M635.9 215.14l0.93 3.85M638.78 187.86l1.53 1.71M640.73 181.83l-2.77 -2.16M638.78 187.86l2.12 0.29"/>
<polyline fill="none" stroke="#f7a04e" stroke-opacity="0.2" stroke-width="6" stroke-linecap="round" stroke-linejoin="round" points="604,228 605.5,227 607.5,225.7 609.9,224.1 612.5,222.2 615,220 617.5,217.4 620.1,214.4 622.8,211.2 625.4,208 628,205 630.7,202.1 633.4,199 636.1,196.2 638.4,193.7 640,192"/>
<polyline fill="none" stroke="#f7a04e" stroke-opacity="0.25" stroke-width="0.8" stroke-linejoin="round" points="603.8,229.9 604.2,228 605.5,225.9 607.7,223.9 610.7,222.2 613.9,220 616.6,216.6 619,212.5 621.2,209 623.6,206.2 626.1,203.9 629.1,201.3 632.4,198.5 635.1,196.2 636,194.7 635,193.7"/>
<polyline fill="none" stroke="#f7a04e" stroke-opacity="0.25" stroke-width="0.8" stroke-linejoin="round" points="605.9,225.3 607,226.3 608.7,226.5 610.9,225.8 613,223.8 615.3,220.8 617.8,217 620.8,213.1 623.7,209.8 626.4,207.2 629.1,205.2 632.1,203 635.4,200.6 638.8,198.2 642.6,196.5 646.5,195.6"/>
<polyline fill="none" stroke="#f7a04e" stroke-opacity="0.25" stroke-width="0.8" stroke-linejoin="round" points="603.3,228.6 603.8,227.5 605.7,226 608.7,223.8 612.4,221 615.6,218 618.7,215.1 621.6,212.4 624.4,209.7 626.7,206.6 628.1,203 629.3,199.6 630.7,197 632.9,195 635.9,192.5 639.1,189.3"/>
<polyline fill="none" stroke="#f7a04e" stroke-opacity="0.25" stroke-width="0.8" stroke-linejoin="round" points="610.6,231.6 608.7,228.2 608.5,225.4 610.5,223.3 613.5,221.5 616.9,219.4 619.6,216.5 621.9,212.9 623.7,209.1 625.7,205.4 628.1,202.5 631.1,199.9 634.4,197.4 637.1,194.5 638.5,191.4 638.7,188.6"/>
<polyline fill="none" stroke="#f7a04e" stroke-opacity="0.25" stroke-width="0.8" stroke-linejoin="round" points="601.6,227.7 604.2,227.2 606.6,226.2 608.9,225 611.4,223.5 614.2,221.1 617.3,217.5 620.3,213.1 622.7,209.3 624.8,206.6 627.2,204.1 630.3,201.4 634,198.6 636.9,197.1 638,197.1 637.2,198.4"/>
<polyline fill="none" stroke="#f7a04e" stroke-opacity="0.25" stroke-width="0.8" stroke-linejoin="round" points="606.7,233 606.3,227.6 607.3,223.8 609.5,222.2 612.6,221.5 615.5,220.7 618.3,218.4 620.4,214.8 621.9,210.7 623.2,206.8 625.3,203.3 628.7,199.7 632.1,196.2 634.2,192.9 634,190.2 631.9,188.1"/>
<polyline fill="none" stroke="#f7a04e" stroke-opacity="0.25" stroke-width="0.8" stroke-linejoin="round" points="605.9,221.5 605.2,225.5 605.7,227 607.7,225.7 611,223.1 614.6,220.7 618.1,219.2 620.7,217.5 622.8,215.3 624.5,211.6 626.7,207.5 629.7,202.9 633.2,199 636,196.1 636.9,194.6 635.7,194.2"/>
<polyline fill="none" stroke="#f7a04e" stroke-opacity="0.25" stroke-width="0.8" stroke-linejoin="round" points="604.2,226.8 606.5,226 608.5,224.3 609.8,221.8 611,219.3 613.1,217 616,215 619.2,213 622.3,211.1 625.3,208.7 628.5,205.8 631.6,202.3 634.9,198.9 637.7,195.6 639.9,192.2 641.1,188.8"/>
<path fill="none" stroke="#f7a04e" stroke-opacity="0.35" stroke-width="0.6" d="M637.65 197.6l1.43 2.25M611.12 220.59l-1.51 -3.59M624.39 212.53l2.08 2.32M613.87 223.76l2.02 1.75M606.6 228.79l1.49 1.6M637.65 197.6l1.29 1.48M621.16 209.85l-2.25 -1.58M608.67 222.4l-0.28 -1.77M616.51 221.46l2.51 2.69M602.84 226.25l-0.25 -2.91M636.85 192.31l-2.31 -0.88M608.67 222.4l-0.79 -3.57M613.87 223.76l0.28 2.46M627.02 209.35l2.15 0.69M637.65 197.6l0.41 1.59M606.34 223.97l0.38 -3.06M639.92 195.17l1.55 0.81M626.44 203.59l-2.6 -2.15M618.49 213.07l-2.38 -2.16M613.87 223.76l2.06 0.35M627.02 209.35l0.71 3.61M637.65 197.6l2.7 2.75M637.65 197.6l1.7 1.56M626.44 203.59l-0.77 -1.55M636.85 192.31l-1.42 -2.53M605.16 229.75l2.58 1.61M623.84 206.61l-2.81 -2.49M611.18 225.77l0.29 2.35M634.58 194.73l-1.37 -0.91M608.68 227.45l1.82 1.13"/>
<path fill="none" stroke="#f7a04e" stroke-opacity="0.2" stroke-width="0.7" stroke-linecap="round" d="M496.2 190.4l4.6 3.6M492.5 178l3.5 8.8M514 224.7l6.3 8.3M511.6 208.6l5.7 9.2M515.1 217.7l5.7 4M493.6 176.4l3.5 9M521.3 224l3.1 5.5M497.9 186.2l5.7 5.8M516 210.6l1 7.4M516.9 223.2l4.2 7.3M518.3 227.3l6.4 4.2M514 228.3l7.1 2.7M517.5 216.6l2 5.4M500 189.6l5.4 7.8M515.6 225.9l5.3 8M509.2 206.8l1.1 6.9M492.8 176.1l6.2 6M502.7 188.5l3.5 6M504.2 198.7l2.7 6.1M486.4 174.2l5.4 0.5M483.3 181.5l10.3 -1M518.8 225.7l4.3 3.9M501.1 192.6l3.4 4.1M497.7 188.6l6.2 1.4M493.5 182.7l3.1 6M484 173.8l8.4 4.6M499.8 192l4.8 5.9M506.4 195.3l2.2 7.6M504.2 200.5l5.7 3.9M504.4 195.8l2.8 6.7M493.3 179.8l6.3 2.8M518.5 217l3.5 4.1M505 198.1l7.8 7.1M512 211.7l2.3 5.5M495.5 180.6l5.6 5.4M503 199.6l4 8.7M511.9 222.8l8.9 5.7M494.9 181.4l4.5 8.5M492.8 182.4l3.5 3.8M494.9 176l4.1 9.9M488.3 183.5l10.5 3.2M484.7 176.9l9.6 0.2M511.1 218.5l8.5 5.7M516.3 203.5l0.4 5.7M505.3 187.9l7.5 4.8M495.2 178.3l1.1 5.3M524.7 229.9l8.7 2.6M523.3 228.4l7.2 2.3M520.3 219.7l3.3 7.8M525.2 232.1l6.5 -0.7M496.7 182.3l2.4 8.3M524.9 235.7l10 1.7M518.2 229.1l7.9 3.9M514.1 221.4l2.1 5.3M482 182.2l7.2 1M483.6 176.8l10.2 3.3M519 228.5l9.9 3.1M518.1 206.2l-2.2 8.4M520.4 219.9l2.8 8.2M503.2 183.7l3.6 5.5M493.3 181.2l2.5 6.4M491 179l5.2 4.5M524.7 230l5.7 1M495.2 192.5l4.1 3.8M499.9 188.8l3 10.2M503.8 195.6l3.2 5.2M514.4 213l2.4 9.2M527.2 234.6l6.1 -0.9M502.4 192.2l3.6 8.8M505.7 191.1l-1.4 10.7M513.9 227.5l5.6 5.3M489.9 180.7l9.3 1.6M505.7 194l6.9 7.3M511.6 222.7l5.1 2.9M496.7 189.9l8.3 4.8M487.7 177.4l10.3 3M510.7 211.8l7.5 6M505.5 197.8l4.3 3M524.2 228.6l7.9 -0.7M511.8 201.3l1.2 5.8M515 216.3l2.8 5.4M497.7 180.3l2.1 7.2M486.1 179.6l8.7 -1M499 180.7l-1 6.5M524.7 232.7l5.2 2.9M520.8 229.3l10 3.7M523.2 230.8l9.8 2.5M499.4 190.9l5 2.9M518.1 213.7l3.2 4.7M508.6 219.9l4 7.9M491.8 176.3l7.2 3.2M504.1 214.4l3.8 5.2M515.1 210.6l6.2 6.9M486.9 174.8l3.6 4.7M509 200.1l3.8 7.6M499.7 189.9l4.1 3.4M504.1 202.9l10.4 0.8M507.8 207.5l4.7 6.2M521.8 229.1l6.4 5.5M526.6 225.1l9.3 1M501 193.3l5 5.7M504.5 197.7l3 8.2M528.8 235.3l5.5 -0.9M488.6 177.9l5.5 2M507.2 197.7l3.3 4.3M501.3 194.1l3.7 5.8M496.7 181.2l6.5 8.1M510.6 207.7l1.2 6.2M514.4 205.4l0.8 7.5M487.1 173.9l5.9 3M482.6 174.2l8.5 -0.9M508.1 211l4.7 6M517.7 227.7l8.1 5.5M508.1 214.4l4.4 7.5M519.8 232.5l8.4 1.7M514.2 212.9l2.1 7.2M503.9 191.5l3.4 8.2M516.1 206.5l0.3 10M524.2 233.6l7.5 -1.5M498.8 188l6.9 7M501.1 191.5l4.4 8.1M506.1 199.8l2.5 10.4M510.8 213.7l8.7 1.9M492.3 176.8l5.3 6.6M516.8 226.6l6.1 6M487.6 178.2l8.7 4.7M495.5 186.2l3.3 6.8M491.9 172l7.3 4.7M510 206l5.4 8.6M512.6 201.6l1.4 8M499.6 181.3l4.3 4.8M507.4 198l1.4 10.6M507.8 204.1l7.6 6.6M500.3 178.6l5.5 9.5M490.2 181.7l7.9 -0.6M516.2 224.1l8.4 7M523.4 232.7l4.8 -2.8M489.2 174.4l3.6 5.2M497.2 179.3l2.6 5.5M504.2 204.5l4 7.6M493.7 178.8l4.4 3.4M525.8 230.3l7.4 2.5M514.3 221.7l8.6 4.1M489.2 175.5l6 7.8M517.7 216l-2 7.6M512.1 213.1l5.6 5.9M501.7 188.7l5.5 6.6M495 183.5l6 7.9M495.7 184.1l5.6 7.8M517.7 219l-0.1 10.2M513.9 210.9l3.1 4M484 177.8l6.9 4M516.5 215.4l-0.5 7.9M523.8 223.2l4.3 4.5M515.8 219.8l6.4 7.8M507.9 194.5l2.5 4.9M517.8 228.6l7.6 2.7M497.8 181.5l0.2 5.3M516.7 236.3l8.5 1.6M508.9 214.9l6 5.1M519.1 227.8l5.2 2.7M485.2 175.8l9.3 0.1M506.4 187.6l4.7 8.5M512.3 199.9l-2.8 6.2M515.3 221.8l7.6 4.8M514.6 215.1l2 8.9M486.5 175.5l5.6 8.2M516.9 212.9l0.5 6.1M509.2 200.3l2.2 5.8M503.4 192.8l2.2 5.7M521.3 230.7l7.7 -1.9M518.6 215.2l0.4 6.6M516.5 221.5l2.6 4.4M518.2 215.5l0.6 7M524.5 228.5l8.8 2.4M495.1 183.8l5.9 9.2M488.1 177.1l5.5 3.6M494.1 181.8l3.5 6.6M502.9 188.1l2.3 7M501 200.3l6.5 7.1M505.2 192.5l1.5 6M512.7 211.2l0.8 5.7M505.2 203l6.8 6.1M524.1 219.7l-4.5 9.6M483.7 178.3l10.4 1.8M506.2 192.1l1.6 8M516.2 221.9l4.5 8.3M485.3 181.3l9 1.6M497.5 187.6l3.4 3.7M481.1 178l9.6 2.8M491.4 180.2l4.1 3.4M507.4 203.7l5 8.2M513.4 210.4l-0.1 10.5M519.1 224.6l8.3 7.2M499.4 190.9l4.6 6M522.3 232l7.7 0.5M507.9 201.6l5.3 3.7M483.7 181.3l9.6 -2.1M518.4 223.9l4.8 5M529.7 237.3l4.5 -2.2M518.4 232.8l9.4 1.3M515.3 209.6l3.1 10M512.8 217.1l1.4 7.5M487.9 175.1l5.6 3.5M498.2 181.7l1.3 7.5M519 224.4l3.7 3.6M521.4 229.9l6.4 5.3M526.7 230.3l8.2 -1.2M506.9 208.7l3.6 5M520.5 232l5.6 4.6M516.4 220.4l2.9 4.4M521.3 227l7 -1M503.8 196.1l3.5 9M487.9 175.5l5.2 9.6M496 181l0.7 7.5M509.3 201.7l3.4 5.3M493.6 180l0.8 7.6M510.5 216.4l3 4.2M502.1 185.2l4.4 4.8M507.6 188.8l4.4 7.5M522.2 231.1l5.5 -0M521.4 219l1.4 4.9M510.2 204.2l7.2 7.4M521.2 232.8l8.8 -3.8M517.2 213.4l3.2 7.1M513.4 217.3l1.4 5.5M498.8 181.5l5.3 5.7M519.3 214.3l3.2 8.7M509.3 205.1l4.1 4M513.1 219.2l5.8 7.5M502.9 196.4l4.1 5.1M506.8 199.7l4.7 5.5M521.2 222l-1 8.2M489.8 179.4l6.7 4.1M514.1 207.7l-1.8 6.8M505.2 196.2l4.6 7.1M524.6 227.5l6.7 -2.8M528 229.8l3.6 4.1M517.7 216.6l2.5 10.2M507.7 203.6l5.8 8.2M497.9 177.3l4 4.9M510.6 215.6l3.2 6.6M502.2 194l3 5.2M522.1 231.9l5.7 -0.5M495.9 178.2l7.9 6.9M505.9 200.3l6.7 8.7M509.4 209.2l3.6 5.2M505.1 209.9l4.8 5.7M512.2 206.3l4 8.3M491.7 179.9l4 6.2M521.9 228.9l10.7 0.1M488.3 177.5l6.7 4.7M497.4 190.2l4.1 5.6M508.4 201.1l5.2 8.3M509.6 206.2l2.7 5M498.3 180.6l5.5 4.4M522.8 226.8l5.9 3.2M529.2 227.3l6.2 2.3M526.3 229.2l6.9 2.1M502.3 191.4l3.8 4.7M518.3 228.1l6.7 2.4M506.1 189.1l1 6.8M501.1 179l-1.8 7.2M513.8 205.6l0.4 9.1M487.7 177l9.3 5.6M516.3 206.9l-1.4 10.3M520 232.7l6.7 -0.5M515.1 223.3l7.8 6.6M515.8 227.6l3.3 4.9M485.6 174.3l5.2 4.5M521.6 234.5l10.2 2.4M508.3 199.6l2.6 7.4M505.7 198.8l0.5 5.4M489.1 171.2l6.8 5.9M507.1 193.5l3.7 5.2M507.6 207.9l5.2 7.8M484.2 175.7l10.4 2.6M504.1 189.1l5.6 9.1M492.6 181.6l6 3.9M523.9 233.6l7.1 -1.7M505 201.4l5.2 8.5M508.9 200.1l-0.7 7.4M521.5 221.3l1.2 9.4M484.6 172.3l6 7.6M501.8 191.9l4.3 8.5M522.2 232.9l7.9 2.5M517.9 228.2l10.6 0.5M513.7 221.7l3.7 5M504.8 203.6l6.2 8.3M498.9 182.6l-0.2 8.8M499.7 199.1l6.6 4.8M499.2 182l3.2 4M505.3 201.5l-1 7.1M498.2 186.1l5.6 4M496.1 180.1l1.8 8.3M508.3 218.1l-1.3 5.9M507.9 213l5.5 7.4M505.2 202.1l4.8 7.4M491.9 177.7l6.3 4.1M489.5 181.3l9 -0.4"/>
<path fill="none" stroke="#f7a04e" stroke-opacity="0.2" stroke-width="0.7" stroke-linecap="round" d="M531.9 210.9l10.5 -2.6M582.5 202.7l9.6 -0.6M541.1 213.5l3.1 -6.1M547 202.1l5.4 -8.9M589 192.8l7.2 0.5M569.6 200.9l9.4 0.1M577.6 201l7.4 1.1M538.5 215.2l5.5 -4.4M539.8 211.4l4.9 -3.8M588.3 195.3l4.1 -3.1M586.2 198.3l8.8 -2.4M550.7 195.7l8.8 1.8M551.5 199.4l3.5 -4.4M573.8 199.2l6.9 3.3M561.7 189.6l8.4 -0.5M577.6 202l7.5 -1.1M574.4 199.5l5.2 -1.1M579.6 198l7 3.8M570.1 203.7l9.5 0.4M531.4 212.8l5.3 -3.7M581.5 196.4l8.9 -4.6M543.8 207l6 -8.8M564.2 193.5l4.1 4.3M573.4 198.9l6.8 -2.7M598 199.2l-5.3 -9.3M583.6 196.7l6.5 0.1M574.1 199.1l9.1 -3.3M566.1 197.4l8.9 2M559 192l9.3 5.3M543.6 200.2l5.5 -2.5M569.5 201.7l9.9 1.3M564 189l7.2 5.4M567.3 193.3l4.5 2.5M573.1 204.3l5.6 1.1M584.2 204.3l5.4 -8.3M531.9 213.9l8 -6.1M572.5 201.1l5.8 1.6M539.8 205.5l7.6 -6.3M583.4 197.1l6 -4.4M552.9 200.5l7.3 -3.7M575.2 204.5l5.1 -1.5M571.1 195.4l5.2 5.7M570.9 192.7l8.8 6.2M581.7 202.7l5.3 -1M564 198.8l8.1 -0.7M548.7 199.8l4.8 -6.4M542.5 205l6.1 -0.7M568.9 198.1l5.7 5.3M536.4 211.2l7.9 -3.2M544.4 204.7l3.6 -6.9M551.4 191.8l10.2 0.8M548.4 200.4l2.8 -8.5M533.7 213.6l5.4 -2.5M544.7 204.9l5.2 -4.6M554.2 204.4l3.9 -4.6M585.7 201.4l5.8 -2.7M589.1 195.1l9.8 -0.4M551.4 197.3l6.7 -2.2M589 193.1l5.8 -0.3M562 188.8l9.4 4.5M573.5 195.7l7.6 0.7M573.5 201l5.3 1.4M532.1 215.3l3.8 -6M571.9 196.4l8.5 2.7M594.3 199.9l1.1 -9.1M540.1 211.5l3.5 -3.7M555.1 197.2l7.1 0.1M552.6 197.9l8.4 -4M583.6 197.2l7.6 -2.5M567.5 191.6l5.1 6.2M562.6 197.4l6.9 2M547.5 206.5l3.1 -5.6M556.4 195.6l5.2 -3.5M571.7 199.1l9.4 -1.3M572.4 198.3l6.2 4.2M538.1 214.4l4 -6M545.7 206.2l4.4 -7.1M567.6 193.1l8.4 7M544.8 210.3l8.6 -6.7M550.2 198.6l7.2 -3.3M539.3 211.9l5.7 -7.9M545 197.9l7.5 -5.9M581.9 197.8l6.9 -2.8M549.8 198.6l3.6 -3.9M594.9 200.2l-2.2 -10.5M560.4 197.1l6.5 3.1M543.2 208l5.6 -3.9M547.9 201.1l6.5 -5.1M558.7 189.2l5.9 1.4M579.9 201.2l5.6 -1.9M534.2 217.9l4.9 -8M577.9 205l5.3 0.4M583.1 199.1l4.2 -2.8M542.2 203.3l4.9 -2.9M555.3 191.7l8.5 1.9M533.5 215.2l3.6 -4.2M543.8 201.6l3.8 -4.3M576.5 197.7l9.2 2.9M563.2 192.2l4.2 5.1M580 199l10.4 -2.2M570.6 196.2l6.3 4.9M555.4 195.8l5.8 2.4M552.6 193.2l5.7 -1.4M568 195.5l4.3 6.7M544.5 202.4l8.6 -5.7M538.2 211.1l4.1 -5.7M583.7 196.1l4.9 -1.4M567.7 196.7l8.1 5.9M592.1 200.6l6.9 -4.3M556.7 194.3l10.2 1.3M571.2 194.7l8.2 6M594.3 197.7l1.1 -5.3M541.2 211.4l3.5 -4.3M535.7 213.5l1.5 -8.4M544.3 197.5l6.2 -5.1M570.6 202.1l6.8 -5.5M554.8 193l9.6 2.2M578.5 196.2l8.6 0.3M584.6 200.1l4.3 -3.3M582.7 202.1l8.8 -5.9M572.4 200.8l7 0.6M539.2 211.7l8.5 -6.2M550 195.5l7.9 -5.2M543 204.3l4.5 -4.8M537.1 214.3l6.3 -6.3M558.1 196.7l6.7 -3.1M583.3 201.4l8.5 3.1M537.7 213.5l5.3 -2.5M572.8 194.9l4.3 4.1M575.9 199l5.2 0.2M566.9 194.5l5.2 2M543 204.2l4.8 -7.1M558.1 192.1l9.6 2.5M579.3 204.1l5 -3.3M565.9 194.1l5 6.1M585.5 194.8l5.2 3.1M588.7 198.4l4 -3.4M540 210.6l4.5 -8.5M580.4 202.7l9.4 -4.4M575.5 198.8l4.4 3.4M545 204.1l7 -6.3M568.7 194.6l4.1 5.3M538.1 209.1l6.4 -5.3M594.5 199.5l-2.9 -7.8M568.8 195.4l5.6 0.5M543.6 201.9l7.6 -7.6M542.8 209.6l6.4 -7.2M580.5 201.7l6.1 -5.2M558.6 190.8l5.7 -0.9M554.8 192.7l9.6 2.4M535.1 215l5.1 -2.7M566 191.8l9.5 3.3M542.6 207.6l4.9 -2.5M559.2 190.5l9.5 5M584.7 200l9.7 -2.5M583.3 199.7l7.7 -1.4M541.9 208.5l6.1 -8.8M592.2 201.2l4.4 -3.5M550.3 199.1l4.7 -3.9M546 203.8l1.9 -6.6M586.4 195.1l9.6 1.8M592.6 190.2l5.9 4.7M558.1 193.8l7.4 2.6M554.7 196.2l7 -0.9M549.8 205.4l1.5 -10.3M582.2 201.9l5.4 -1.6M563.6 194.5l6.2 2M575.7 193.5l4.6 4.5M557.6 195.4l5.9 -4.4M575.6 200.9l8.2 -3.5M558.5 194.2l6.3 0.3M568.9 194.9l4.4 6M531.8 213.7l8.5 -5.1M558.8 190.4l5.7 3.9M540.6 206.4l4.1 -3.8M544.6 207.3l9.2 -5.4M576.3 202.9l4.4 -8.9M547.2 204.5l3.5 -7.1M579.4 199.7l10.5 -0.3M565.6 196.5l8 7.3M575.2 203.1l4.7 -3.2M534.2 212.8l4.2 -9.4M542.7 202.5l2.9 -4.7M586.5 199.1l9.8 -3.5M582.9 202.7l4.3 -3.8M565.2 192.9l5.2 0.7M590.3 202.2l6.4 -6M536.4 214l4.3 -7.1M589.1 195.7l6.8 -1.8M591.7 199.2l3.6 -7.7M559.7 191.2l9.8 0.5M548.5 201.7l6.5 -6.5M547.6 205.1l0.9 -9.1M530.7 213.8l5.2 -6.9M560.4 191.8l4.5 3.3M590.3 197.5l3.9 -5.6M539.8 205.3l4.9 -5.6M543.5 208.6l5.3 -5.9M576.2 198.6l7.6 -0.9M543.5 204.2l6.5 -7M542.3 209.4l2.3 -5.3M574.5 200.9l6.8 -4.4M586.3 200.7l5.1 -2.1M587 204.5l4 -3.2M564 193l7.1 3.1M537.6 215.6l2.1 -7.8M584.5 197.5l8.8 -0.4M547.8 204.8l3.9 -7.9M552.4 194.1l4.4 -2.4M556.8 196.4l9 -3.3M556.5 195.7l8.2 -2M565.3 193.5l5.5 4.1M551.3 200.1l1.3 -4.9M574.4 203.2l5 2.1M581.8 198.9l6.8 -0.8M577.2 197.7l6.3 1.5M557.4 192.3l8.9 -0.3M587.3 198.5l6.9 -5.2M537.5 209.5l8.2 -7.1M558.9 192.1l6.7 1.9M586.1 196.7l7.2 -0.1M554.5 197.2l5.7 -3.2M533.1 213l6.7 -6.6M554.5 194.7l5.2 -0.3M576.3 198.8l4.4 -3.2M546.3 194.4l9 -3.9M546.9 199.2l8.6 -5.1M585.1 198l7.7 -1.4M567.9 195.8l5.4 6.5M590.4 197.3l5.9 -2.8M569.3 202.2l7.3 0.8M570.9 201l8.3 5.3M583.2 196.1l8.1 -3.7M557.9 194.7l9.9 1.1M537.4 212.7l0.5 -10.1M550.1 202.3l8 -5.5M586.8 203l4.9 -4.5M537.3 219l5.6 -2.3M544.7 208.9l0.4 -10.7M560.8 194.1l5.4 -0.1M552.6 199l4.7 -3.5M552.7 194.3l6.7 -0.3M557.5 195.6l7.3 4M577.7 199.3l6.1 -3.8M563.9 190.7l5.6 5.9M558.4 197.4l6.3 3.2M541.6 206.6l3.7 -3.8M555.5 194.5l7.4 2.3M563.9 194.9l5.5 3.7M537.3 205.4l7.2 -4.9M553.5 200.6l0.3 -6.1M559.2 192.3l7 -0.3M544.5 204.7l4.2 -3.4M568.5 195.2l9.3 4M562.4 189.8l5.3 1.9M592.9 200.1l5.4 -5.9M568.3 191.5l7.8 6.3M572.4 194.2l1.5 9.9M574.7 201.6l8 -1.9M591.5 196.6l2.2 -5.8M569.3 197.9l7 5.2M552.6 188.7l6.3 0.7M557.2 195l5.4 -1.1M589.4 196.1l8.6 -1.1M557.8 193.9l8.9 5.5M593.9 200.2l3.8 -9.6M535.1 216.8l4.1 -6.9M538.2 206.6l7.4 -2.2M537.6 214.7l1.4 -8.4M572.6 191.8l6.8 5.8M541.8 208.1l5.2 -2.1M575.8 196.7l8.7 1.5M570.1 195l7 5.9M575.4 195.9l6.5 8.5M542.4 203.7l2.1 -5.3M546.5 196.8l8.1 -3.4M570 195.2l4.7 2.2M540.7 213.8l3.2 -7.9"/>
<path fill="none" stroke="#f7a04e" stroke-opacity="0.2" stroke-width="0.7" stroke-linecap="round" d="M623.8 201.1l-0.5 -7.2M620.5 187.7l4.1 -3M589.3 221l2.6 5M622.7 204.6l-0.6 -9.3M583.4 213.4l6.3 6M585.7 220.2l6.3 4.4M627 191.8l3.7 -4.7M636.9 172l9 3M631 185l8.4 -4.8M571.6 201.3l6.7 0.7M613.3 228.9l6.2 -0.5M631.5 178l7.8 -3.1M610.1 226.9l9.9 -2.9M607.4 229.1l6.1 -5.1M622.5 194.6l8.4 -6M576.4 209l4.5 5.1M638.6 170.6l7.9 -3.8M632.3 178.4l6.9 -5.8M575.1 215.8l3.3 4.7M562.7 193.5l6.9 5.7M617.9 207.9l2.9 -8.8M622.9 218.3l1.6 -5.6M569.5 197.6l2.3 4.8M585.4 215.5l7.3 6.9M615 227.2l7.3 -7.4M628.4 173.1l5.7 -4.4M626.2 184.9l6.1 -6.7M630.2 183.8l0.2 -6M620.8 202.1l0.2 -5.4M630.3 195.9l-6.3 -7.1M588.2 216.1l5.3 8.6M618 224.9l1.4 -6.6M623.7 190l5.7 -9M618.3 218.5l0.3 -5.4M601.6 229.2l10 3.2M577.2 213.3l5.1 1.9M576.6 205.7l6.1 6.4M580.3 214.2l6 9M648 168.1l10.7 -2.5M624 184.6l3.2 -5.3M634 180.4l4.5 -3.9M629.4 183.6l4.4 -4M575.1 209.6l8.2 6M630.8 181.2l5 -4.6M585 216.2l6.2 6.8M629.8 184.1l1.9 -10.3M631.5 181.6l3.7 -6.3M587.6 217.6l7.3 8M606.7 230.2l5.9 -1.8M638.9 171l5.7 -3M628.9 193.2l1.1 -7.9M569.8 203.6l5.6 5.7M621 218.8l0.9 -7.5M622.6 195l4.4 -6.9M639.3 172.7l9.2 -3M563 194.5l5.9 6.5M591.7 223.1l4.4 4.4M622.8 203.5l-1.3 -6.1M594.7 224.2l5.7 4M606 231.4l6.4 -4.5M631.3 177.4l5.7 -2M613.1 229.7l7.6 -4.2M637.8 171.5l6.7 -4.1M640.9 168l5.2 -3.5M644.5 167.1l5.3 3.2M584.2 213.8l6.2 3.5M579.4 215.4l9.6 3.5M579.8 208.2l1.6 8.1M636 170.6l6.9 -2.6M571.4 202.5l3.6 4.2M641.8 176.7l7.5 -5.5M626.9 189.8l2.3 -8.7M650.3 166.3l9.8 1.7M641.6 175.1l7.3 -4.2M640.3 172.1l6.1 -7.7M592.2 223.1l5.7 4.8M580.8 212.5l3.2 7.3M613.8 227.4l7.5 -4.1M633.9 181.2l3.9 -4.6M599.8 230.6l7.4 -3.5M597.1 227.4l9.6 5.1M625.1 193.9l3 -5.5M572.1 200.3l4.2 4.3M623 223.7l2.7 -9M646.7 169.3l10.3 0.9M602.3 228.2l9.9 4.1M628.8 183.4l6.1 -6.2M595.5 233.3l7.6 3.3M623.3 198.6l7.3 -4.7M634.5 172.3l6.9 -2.9M654.6 164.7l6.5 2.2M592.2 219.8l6.4 5.7M633.9 188.2l-2.3 -8M624.8 201.1l1.7 -5.7M626.6 208.2l2.3 -7.6M627.5 175.5l5.3 -4.7M629.9 190.7l4.3 -3.4M562.4 198.5l9.1 5.9M648.3 175.3l9.6 -3.2M597.9 220.1l3.8 10M574.3 206.4l6.2 4.3M598.3 227.8l6.4 3.8M615.6 225.8l6.6 -5.4M584.1 217.4l8.9 3.7M620 231l-4 -10.1M571.9 203.9l8.3 6.4M567.3 195.3l5 2.5M566.8 195.8l4 3.8M619.5 219l2 -7.5M628.4 179.8l6.7 -7.9M623.5 203.9l3.4 -9.6M619 198.3l6.8 -7.9M591.9 228.2l10.6 -1.8M628.1 179l5.1 -7.5M637.5 174l7.5 -4.8M622.7 219.5l1.8 -9.3M566.3 201l8.3 5.9M643.9 166.9l8.8 -1.2M584.5 214l5.1 5.4M636.1 181.8l-0.4 -8M639.3 172.4l10.9 -0.8M650.5 166.8l10.9 -1M630.2 187l2.4 -4.5M646.7 168.1l10.3 0.5M573.9 194.5l0.5 7.8M586.3 212.3l6.6 2.4M573 196.8l1.2 5M610.2 230.4l7.5 0.1M582.6 209.7l4.6 6.2M627.2 196.7l4.9 -6.3M633.5 180.8l1.5 -7.5M570.7 203.4l6.6 2.3M623.6 221.2l-1 -7M623.8 199.8l2 -8.4M634.2 178.9l4.9 -4.8M621.9 202.3l4.6 -3.9M583.4 213.6l3.3 9.5M620.6 222.5l3.5 -7.2M632.5 176.1l7.3 -4M627.9 210.1l-0.5 -7.2M628.9 207.4l-0.1 -10.4M581.7 213.8l5.5 6.6M625 187.1l7.6 -5.7M623.1 195.2l3.7 -9.5M618.7 218.9l5.9 -6.2M622 189.7l4.2 -3.9M622.4 225.5l2.3 -5.7M625.3 196.8l4 -4.3M581 216.7l8.6 3.8M625.5 195l4.8 -7.3M623.1 200.5l6.6 -3.3M622.5 210.2l0.8 -6.8M607.1 232.6l6.6 -3M583.7 213.5l3.6 4.9M622.1 213.8l2.6 -6.8M626.6 192.8l1 -5.5M626.9 211.2l-2.7 -7.8M597.2 223.2l5 4.4M633.4 179.9l3.6 -4.5M578.7 211.1l2.9 6M609.4 232.3l8.9 -2M571.4 202.3l8.2 7.1M625.5 204.7l-1.4 -6.3M565.8 196.7l7.4 4.1M624.9 186.2l7.2 -4.7M580.1 207.2l2.6 5.2M626.8 203.7l2.3 -8.1M646.8 167.6l9.2 2.1M617 216.1l2.9 -7.3M629.2 194.9l4.4 -6.1M624.7 221.6l1.8 -9.3M635.9 171l8.1 -1.8M573.7 205.8l4.1 4.5M617.3 229.7l5 -8.7M623.1 209.5l-1.6 -5.8M622.7 202.3l2.8 -10.6M632.7 193.1l-0.7 -9.5M610.6 228l3.5 -4.2M602.4 232.4l8 -2.6M626.1 190.7l2.9 -4.4M603.2 228.4l8 -1.1M600.8 233.4l8 -1.2M585.7 220l6.8 6.9M645.9 169.3l9 -3.1M625.1 209.7l1.5 -7.1M604.7 232.1l7.4 -3.1M636 175.3l7 -6.1M640 178l3 -5M626.3 189.5l2.8 -9.3M620.3 219.2l6.8 -8.1M626.4 191.9l0.7 -6.8M627.3 206.8l0.5 -9.5M640.2 171.5l7.7 -5.5M570.5 198.7l7.6 7.9M580.7 209.6l2.1 6.3M630.3 185.4l7 -3.7M567.3 198l8.5 2.3M644.2 166.8l9.4 -0M641.9 174.1l6.1 -8.4M584.6 214.2l6.4 6.4M569.3 192.7l3.1 6.2M613.1 229.4l6.7 -7.9M627.8 201l1.7 -6.8M576.8 206.5l8.1 6.3M620.9 206.8l0.3 -9.8M570.7 206.7l5.2 3.7M651.3 167.9l7.5 -0.2M612.9 226.7l7.5 1.1M605 232.6l8 -1.9M595.8 227.4l4.9 5.1M601.1 227.4l4.8 2.8M623.9 185.5l6.3 -5.2M588.2 221.1l5.9 6.4M625.3 192l7.6 -5.7M615.9 225.4l3.3 -5.2M564.3 193.7l4.9 3.4M571.3 197.3l5.8 7.3M602.6 232.7l8.9 -1M608.9 235l6.3 -5.7M639.5 177.1l3.1 -5.2M617.4 227.8l3.3 -5.6M593.3 214.6l1.7 10.4M625.7 197.5l2.9 -6.4M626.7 190.8l0.1 -8.5M619.8 203.5l2.8 -7.7M627.3 220l-4.9 -8.7M585.2 216l4.6 3.5M622.3 219l2.5 -9.1M645.6 167.9l10.6 0.6M640.6 173l4.7 -3.5M612.1 234.8l2.3 -7M622.2 203.6l-2.2 -6.9M574.7 203l3.7 7.9M593.4 229.1l4.4 3.1M625.5 207.2l-0.3 -9.8M573.8 197.9l4.8 5.2M625.1 208.1l1.7 -7.5M624.2 222l1.7 -9.5M620.8 226.3l3.6 -5.2M587.7 221.7l5.9 2.1M602.7 234.5l8.9 -5.3M636.4 172.8l7.3 -4.2M597.3 223.1l5.9 6.9M567.4 201.8l3.4 4.8M640.8 175.6l6.1 -3M613.2 227.4l6.2 -7.2M600.4 233.2l7.9 -1.1M596.5 220.4l7.1 8.4M614.3 231.5l5.4 -6.9M597.2 231.2l8.8 -1.5M593.7 221.9l7.2 8.1M598.5 234.5l8.4 -0.2M580.1 211.4l5.7 8.3M620.9 195.9l2.3 -7.9M593.9 222.7l4.6 2.7M629.8 178.2l8.4 -4.7M623.9 190.8l3.5 -9.1M653.3 164.8l7.7 0.4M615.3 229.1l2.2 -5.8M631 180.3l6.1 -3M624.9 223.3l3.2 -6.5M580.1 208l5.7 7.6M571.7 209l8.3 2.7M584.5 216.5l4.2 8.6M592 219.5l4.5 4.8M560.5 193.3l9.7 -1.5M623.5 202.2l-1.4 -8.3M619.6 220.1l2.4 -5M619.7 209.9l1 -6.5M576.3 204.5l6.7 8.4M615.1 205.3l2 -9M606.3 225.3l4.4 9.6M567.6 190.9l5.8 5.8M561.4 198l10.9 -0.1M637.4 175.7l9.3 -0.4M629.5 182.4l3.1 -4.9M574.3 200.6l2.3 6.1M581 216l10.2 3.2M647.4 174.8l9.9 -0.6M623.1 218.7l3.1 -9.6M564.1 200.3l9.4 3.8M652.4 171.4l7.6 -5.4M582.6 207.9l2.6 6.3M569 201.2l4.9 2.1M599.5 229.7l7.9 4.1M569.5 201.3l7.8 5.3M597.3 230.7l8.5 5.2M620.1 228.5l1.7 -9.5M624.3 224.7l0.7 -7.1M651.1 172.2l7 -1.1M598.3 230.2l10.1 3.9M579.8 209.8l4.6 5.6M596.1 225.9l4.2 6.1M620.6 219.6l3.3 -8.7M592.5 225.3l7.4 8.1M644 171.6l6.3 -5.3M628.7 177.2l5.7 -3.8M643.3 170.7l5.8 -3.8M626.6 211.8l0.3 -9.3M627.7 190.3l3.2 -8M621 226.6l-3.1 -6.2M622.4 226.2l0.3 -8.1M563 198.3l6.7 5.4M622.6 213.9l2.1 -8M599.8 225l3.7 4.2M644.7 170.7l8.9 -3.4M618.2 226l2.8 -4.7M575.7 212.2l8.2 4.2M624.6 216.4l0.8 -10M629.4 186.2l7.1 -5.7M628 196.9l0.2 -5.5M620.2 196.9l3.9 -3.4M578.5 213.2l9.4 3.9M604.1 226.1l0.4 5.8M622 209.7l1.4 -8.2M622.3 193l5.1 -8M652.9 167l7.3 1.9M575 202.6l3.1 10.3M626.2 216l-0.8 -7.3M626.8 179l4.1 -5.1M622.7 211.4l-4.3 -6.1M619.4 206.3l1.4 -7.7M569.8 204.7l9.4 0.4M567.2 206.2l5.3 5.6M599.7 231.3l7.2 -0.7M628.7 192.4l0.9 -8.3M635.7 175.7l4.6 -3.8M628.1 200.9l0.6 -6.9M629.5 183.9l3.9 -7.4M625.2 209.6l-1.9 -6.9M625.3 188.8l4.5 -8.5M632.3 188.2l-1.7 -10.5M595.7 230.3l5.1 1.2M570.8 198.4l5.4 6.8M578.2 199.6l0.2 10.3M639.9 169.5l7.7 -1.9M594.9 224.6l5.8 2.6M590.1 217.4l4.3 5.5M627.3 204.8l0.1 -9.4M626.8 215.4l-0.6 -7M590.8 221.4l4.8 7.4M607.7 231l6.9 -5.1M570.2 196l4.1 6.6M578.9 213l2.9 4.2M579.1 209.2l4.2 4.1M578.1 206.9l6.7 5.6M583.3 211.6l6.6 8.2M620.7 205.5l2.3 -5.8M634.8 183l1.4 -7.2M567.6 196.2l3.7 3.5M601.4 234.9l8.5 4.3M580.6 212.6l4.3 7.6M566 197.8l1.7 4.9M570.6 198.8l4.1 10.1M569.1 202.9l7.8 3.9M564 198.6l6.1 5.1M628.6 185.8l6.7 -8.6M620.1 218l5.1 -6M562.9 192.7l9 5.9M636.4 169.3l7.9 1M575 209.9l3.1 5.4M614.4 230l6.5 -8.6M628.3 177.6l10.1 -3.6M621.4 209.6l-0.1 -10.4M567.1 202.6l9.9 2.7M649.4 166.9l9.5 0.5M617.9 221.2l5 -6.4M626.6 211.7l-2.9 -9.6M626.2 202.7l1.1 -7.1M623.7 206.9l4 -3.4M640.9 170.7l9.9 1.8M622.4 211l1.4 -8.5M626.2 204.6l1.9 -8.9M595.4 232l5.5 5M623.4 213.2l-0.4 -6.1M644.9 172.3l8.5 -4.4M637.6 174.1l5.4 -2.3M626.4 182.7l4.9 -5.3M567.4 197l1.3 7.3M582.1 215.7l8.2 6M651.5 167.5l5.4 3.7M643 167.8l7 1.7M633.2 173.2l4.8 -5.6M597.2 226.2l3.9 3.7M568 197.6l4 4.2M633.3 176.3l3.8 -4.8M642.5 168.9l8.1 0.3M619.6 229l3.1 -9.8M582.1 216.2l3.9 4.2M564.7 199l5.6 6.3M588.7 221.2l3.6 4.6M576.7 217.5l7.2 8.3M614 229.3l4.7 -6.5M625.3 213.6l-2 -9.2M618.6 207.1l4.2 -10M569.4 197.3l3.6 3.8M585.1 218.1l4.1 3.3M633 178.3l7.5 -1.5M637.2 170.9l5.8 -0.1M575.9 209.7l5.1 9.3M625.9 187.8l7.9 -3M622.3 226.4l2.1 -8.5M580.9 210.4l2.6 4.5M579 209.8l4.3 7.9M570.9 200.5l6 8.3M577.7 212.3l4 9M566.5 197.6l7.6 6M596.6 226.8l8.9 5.9M642.9 171.1l10.6 1M613 229.9l1.7 -8.1M576.1 213.4l7.9 3M574.5 207.5l10 3.8M575.1 207.6l3.5 5M571 199.1l2.9 8.8M564.2 192.9l6.9 5.2M621.7 208.9l2.7 -4.2M641.2 177.8l7.7 -5.4M568.1 205.3l10.6 2.5M624.5 214.5l-0.8 -5.7M571.3 200.5l5.6 9.4M580.1 213.7l6.4 1.6M617 224.8l4.8 -1.8M634.5 180.8l2.4 -6.1M576.3 205.9l3.9 5.7M567.9 205.3l8.8 5.7M566.4 193.4l5.5 7.8M626.3 194.1l2.7 -9.9M617.2 230.9l4 -6.5M620.9 188.2l3.2 -5.9M614.4 229.5l5.2 -4.9M625.4 199.5l0.9 -6.8M588.7 223.6l9.1 3.8M633.7 173.3l9.2 1.1M575.4 204.3l2.6 6.7M630.6 203.7l-7.2 -7.7M612 230.8l6.3 -2.9M584.4 210.7l8.8 5.4M590.7 222.7l8.3 3.2M570.6 204.3l5.8 4M597.6 225.8l5.5 3.7M590.8 225.4l5.7 1.2M638.6 177.9l6 -6.9M628.8 208.3l-3.2 -8.8M615.4 226.7l6.1 -5.5M645.5 173.9l8 -4.8M621.9 226.3l5.6 -7.7M626.2 216.6l-3 -10M612.5 228.3l3.2 -8.2M618.9 222.1l0.7 -9.2M613 232.3l7.7 -3.3M614.8 226.6l3.5 -5.3M620.5 230l2.9 -7.9M575.8 202.1l4.5 4.1M623.1 194.4l3.1 -7.5M628.9 187.9l1.6 -6.8M634.3 170.8l8.7 3.8M638 176.1l4.4 -6.8M580.2 218.7l5.7 8.8M638 171.9l4.4 -3.3M609.6 229.6l10 -2.8M602.3 229.4l5.5 1.3M640.7 168l6.7 -3.3M653.3 168.6l7.1 0.1M583.1 206.1l3.3 6.9M640.7 169.1l9.4 -5.3M625 193.7l-2 -5.9M614.3 231.7l8.2 -7.1M615.5 237.3l5.4 -5.3M643.5 172.3l7.1 -3.7M627.8 194.8l1.8 -8.4M604.2 228.1l7.1 0.5M622.2 193l4.1 -10.1M623.5 220.2l1.8 -5.8M588.4 222l5.4 7M580.5 213.4l6.5 3.6M595.2 231.3l7 1.8M563.8 198.5l8.1 0.6M569.3 203.6l5.5 0.3M652.7 165.3l9.7 4.4M647.1 168.4l9.5 1.3M617.6 222.2l4.9 -4.1M624.6 211.5l-2.6 -6.2M625.3 186.6l2.6 -5.7M628.5 179.9l10.1 -4.2M604.2 230.7l5.2 -1M631.8 177.2l6.6 -4.1M593.4 215.8l4.7 8.8M567.8 197l4.1 6.8M619.6 212.7l3.1 -5.4M624.3 217.1l-0.2 -8.8M610.7 233.2l5.7 -5M643.7 168.8l6 -2.9M582.1 215.7l5.6 2.4M583.2 214.8l4.8 4.8M600.9 231.5l5.6 0.7M625 202.1l0.3 -9.6M629.6 186l5.9 -5.6M570.3 203.1l5.2 6.7M615 223.1l4.9 -9.3M608.1 228.6l7.1 0.8M625.6 217.1l2.4 -6.9M632.5 179.8l3.9 -6.8M639.6 171.6l5.5 -2.1M582.4 209.3l6.3 3.6M617.4 236.2l6.6 -1.9M626.7 193l7.3 -7.5M609.8 224.3l3.4 -3.8M569.2 199.7l2.1 6.3M629.4 195.4l2.2 -5M626.9 191.6l-0.3 -5.8M634.5 178l4.8 -6.6M565.4 198.2l4.8 9.6M648.9 170l7.8 1M621.4 197.6l4.1 -3.6M626.1 215.2l-4 -7.7M585.3 212.7l5.3 6.9M564.9 197.6l9.2 4.3M609.8 229.7l5.1 0.4M598.6 228l10.1 2.2M639.1 172.9l6.1 -1.4M565.7 197l5.9 -0M590.2 227.2l7.6 7.6M611.1 227.1l6.3 -2.5M623.6 224.9l2.2 -4.8M622.3 205.5l2.1 -9.4M620.4 226.5l7.2 -8M588.9 225.7l4.6 5.4M645.1 171.7l10.5 -1.8M639.6 170.9l4.7 -3.3M569.5 195.6l1 5.6M607.4 238.3l7.3 -3.5M573.2 200.8l3 4.2M577.1 205.3l4.3 8.7M627.1 185.9l3.7 -5.4M623.7 210.1l-1 -9.3M599.4 234.6l9 2.1M625.6 208.6l-1.6 -5.7M648.2 169.8l9.1 1.1M621.3 197.5l3.3 -6.3M595.8 230.3l5.2 4.1M574.7 203.4l3.3 7.4M609.5 231.8l3.3 -3.8M607.8 232.1l4.8 -1.9M626.9 206l1.3 -9.9M635.7 177.6l4.2 -6.5M601.1 232.9l8.7 1.3M600.2 229.8l7.5 -0.2M601.1 229.7l5.8 1.1M648.4 165.5l10.4 0.7M632.1 188.7l0.1 -6.3M627.7 197.9l4.3 -7.2M623.5 198.8l1.3 -6.4M582.6 210.7l7.9 2.8M648.5 168.3l5.6 5.5M579 217.9l6 3.8M569.6 202.4l8.1 6M642.8 178.8l7 -6.9M597.9 224.8l7.5 4.9M637.2 177.4l4.7 -4.2M622.5 218.2l1.5 -5.7M570.2 198.7l5.5 5.9M600.4 234.5l9.9 3.2M595.3 221.2l4.8 6M579.5 204.8l5.8 8.8M570 200.2l1.1 5.1M565.3 203.3l8.4 3.4M629.4 181.7l4.9 -6.9M564.9 199.1l3.2 4.6M646.9 168.8l10.4 -2.3M571.1 200.4l10.1 4.2M621.2 214.6l1.3 -5.1M638.1 173.5l9.4 -0.2M628.7 184.5l5.5 -3.6M648.2 168.6l7.9 -1.3M625.6 200.3l0.4 -7.5M620.3 220.5l-3.5 -7.4M572 206.7l7 5.7M567.8 196.9l6.6 8.7M624.4 211.7l3.3 -7"/>
<path fill="none" stroke="#f7a04e" stroke-opacity="0.2" stroke-width="0.7" stroke-linecap="round" d="M652.1 172l-2.1 9M651.5 181.3l-5.2 1.6M653 176.4l-9.5 3M633.4 198l-3 9.9M645.8 186l-6 1.5M642.7 177.4l-4.7 8.8M653.9 169.7l-1.2 8.3M634.2 207.1l1.4 6.9M662.1 173.6l-7.4 6.5M628.1 207.5l3.5 8.3M633.6 192l-4.1 9.7M640.6 189.8l-6.8 3.7M639.7 213l5.7 3.2M632.3 199.4l1.2 5.6M657.1 181.1l-10.2 0.5M638.5 222.3l5.2 1.1M630.9 197.4l3.7 9M634.4 187.4l-3.4 4.7M652.8 186.3l-9 -1.4M640.9 190.5l-9.7 4.3M650.3 182.7l-9 3.5M635.9 195.3l-4.2 3.7M645.5 184.6l-8.4 0.3M632.3 203.7l1.4 7.7M638.2 181.7l-5.1 8.1M632.4 193.7l-1.6 8.8M633.5 197.8l-1.5 8.9M654.8 179.2l-7.2 3.9M632.5 205l2.1 7.4M633.4 192.9l-5.5 6.7M652.7 172l-1.1 5.5M629.4 197.2l-0.2 6.4M655.4 169.8l-2.9 7.4M633.6 202.1l2.2 8.8M650.7 178.4l-8.9 4.3M630.4 210.7l6.9 4.5M634.9 208.3l4 4M635.5 191.4l-3.2 9.9M630.9 201.2l-0 7.4M643.2 182.4l-5.4 6M635.6 204l6.1 5.8M644.5 183.6l-4.5 8.5M638.2 191.5l-2.1 6M632.9 193.1l1.4 10.3M655 172.2l-2 4.9M631.8 204.4l3 6.6M654.1 173.9l-5.1 6.4M653.8 178.3l-7.1 4.5M635.6 211.2l7.3 4M659.9 166.5l-2.3 9.4M642 182.4l-0.9 7M642.7 188.3l-3.6 5.9M653.9 176.3l-5 4.8M632.3 205.7l-0.4 10M633.2 188.4l-2.4 5.9M629.5 200.6l-1.6 9M635.5 208.4l0.7 9.6M650.6 174.6l-7.4 3.1M641.3 184l-4.7 5.7M645.3 183l-8.1 1.1M654.8 174l-6.4 7.4M634.4 200.9l-0.6 8.5M651.6 180.2l-7.5 4.8M636.5 212l5.7 2.6M631.8 212.3l7.4 5.5M647.9 177.6l-6.4 6.8M643.1 186.1l-6.6 1.8M651.2 173.1l-5.9 6.8M633.3 209.4l4.1 5.9M637.1 194l-8.2 7.4M634.3 210.5l9.8 2.6M633.7 213.5l9.5 3.6M652.9 175.6l-0.7 6.8M646.9 182.1l-9 6.3M634.1 209.2l4.9 9.1M656.1 167.5l-2.8 4.7M648.4 180.2l-8.4 4.8M627.9 202.6l5.2 8M636 212.7l4.7 2.2M653.4 172.4l-3.1 5.6M646 179.5l-5.9 8.6M635 198.1l-4.3 4.9M629.1 209.1l6.2 3.8M634.7 202.9l-2.7 8.6M654.6 175.8l-6.9 5.3M630.1 212.7l5.4 4.2M643.8 176.7l-8.5 5.4M635.7 189.7l-3.3 6.6M630 212.2l3.6 5.2M647.9 183l-10.4 0.5M631.3 198.3l2.3 5.4M637.7 213.6l3.6 3.6M632.9 197l0.9 9.8M631.2 190l1.3 6.9M633.8 195.4l1.9 6.4M653.4 169.8l-4.5 6.4M655 167.4l1.2 7.6M634.8 193.4l-4.5 6.5M652.4 171.9l-1.3 7.1M632.1 201.1l2.4 9M645.4 182.3l-9.6 2.2M629.9 208.3l4.8 3.4M627.6 204.4l6.7 7.4M636 188l-1 7.9M646.5 179.3l-4.1 7.1M653 170.5l-3.5 8.6M633.3 191.2l-0.2 6.5M634.5 208.2l4.9 4.7M635.4 208.5l3.4 8M637.1 188.9l-4.3 3.2M635.5 205.9l3.5 6.3M636.9 186.2l-7.5 7.1M636.6 221l5.5 0.8M638.2 181l-7.3 4.2M633.7 188.6l-1.8 5.8M636.1 214l2.4 6M658.6 171.2l-3.9 5.9M643.1 181.7l-4.2 4.4M631.4 199l0.8 5.9M652.6 167.4l0.7 10.3M653.4 179.3l-9.9 1.8M654.1 167.7l-4.5 3M658.2 167.3l-0.2 8.1M644.5 178.2l-8.7 6.3M637.7 214.8l7.5 5.5M631.9 197.6l4 8.8M639.7 180.7l-4.7 3.7M639.7 185.3l-4.9 2.5M649.3 179.2l-7 2.2M650.4 180.8l-5.6 6.3M638.2 208.1l-1 7.3M634.9 188.7l-5.3 4.5M642.2 182.6l-2.4 7.3M643.6 212l3.2 4.7M641.6 188.1l-6 3.9M655.5 175.2l-4.4 9.5M634 198.2l-0.2 7.1M643.5 180.9l-8.8 6.3M658.7 168.7l-1.4 8.6M634.9 207.4l4 6.5M639 187.8l-2.7 5.2M628.6 195.6l1.8 7.4M632.5 207.5l5.3 5.8M637.8 181.7l-2.8 4.2M655.3 179.6l-7.4 6.1M639.2 185.3l-3 7.3M651.2 178.2l-6.4 1.3M637.1 199l-2.2 7.7M638 215.4l2.6 5.9M633.9 201.1l-6 8.3M649.9 183.6l-6.9 -4.2M644.2 187l-5.7 1.2M649 175.3l-4.1 5.6M641.2 182.1l-4 8.8M631.4 208.6l4.7 7.4M629.6 203.5l5 4.8M639.4 194.6l-7.8 7.4M650.5 181.8l-4.5 3.3M631.8 198.8l2.7 7.7M640.6 188.2l-7.4 0.5M635 186.7l-3.6 5.8M632.1 206.5l2.4 5M644 184.7l-4.7 2.3M653.5 175.2l-7.8 1.9M635.4 200.2l-2.1 8M652.9 184.2l-3.8 4M631.5 199.1l0.3 5.5M632.3 192.6l-4 4.1M635 188.4l-4.7 6.4M636.2 204.4l-0.4 5.2M653.7 169.9l1.4 4.9M636.1 214.3l8.9 0.5M633.3 203l0.5 9.4M659.7 171.1l-3.9 3.8M639.2 183.7l-3.7 9.2M654.9 173l-7.9 2.6M655.3 169.5l-3.7 3.9M633.8 213l4.2 3M638.3 190l-4.9 5.9M633.9 209.5l6.2 4.8M656.9 167.4l-3 7.4M634.8 185.5l-2.1 8.9M656.2 173l-6 3.3M648.6 177.7l-7.2 5.3M632.9 187.7l-2.4 10.7M635 206.7l0.5 6.8M636.2 193.1l-2.9 8.7M630.8 210.6l10.1 3.9M636.9 190l-4.8 3.9M636.3 185.4l-4.7 8.4M649.7 175l-6.9 1.8M653.4 171.9l-7.7 5.8M651 170.3l6.1 6M645.4 183.6l-6.4 3.4M639.5 192.4l-6 5.6M636.7 214.5l2.1 9.6M635.4 193.7l-2.1 7.1M653.4 175.1l-3.7 3.9M637.3 208.5l4.4 4.8M636.5 214.1l6.8 3.8M655 169.2l-2.4 6.5M644.3 179.1l-6.9 3.9M632 199l-0.3 9.6M634.3 192.2l-2.1 8.5M638 199.8l-8.8 2.6M648.6 185.7l-6.3 -1.7M635.6 187.7l-2.2 6.7M641.9 215.8l4.7 5.1M646.3 182.3l-5.1 0.3M634.1 189.1l0.9 5.2M636.2 195.2l-4 4.8M644.2 187.3l-6.2 0.3M642.5 181.3l-8.2 5.7M648.4 174.1l-7.5 5.8M634.5 212.1l7.8 3.7M632.1 207.9l2.2 6.4M630.4 203.5l4.4 5.4M641.2 192.6l-10.4 1.4M654.8 181.4l-4.8 1.9M658.9 171.1l-3.6 3.5M658.7 169.2l-7.1 3.7M634.4 210.8l4.2 5.6M636.4 210.7l3.9 8.8M629.4 204.5l4.4 4.2M630.3 209.8l1.9 10.7M652 176.7l-4.7 2.1M635.9 197l-0.3 5.6M638.1 183l-1.6 7.5M653.3 170.3l1.9 6M655.7 175.9l-4.6 2.1M638.3 180.8l-1.8 4.8M643.4 179.5l-8.8 3M628 201.6l2 4.9M626 198.3l0.7 9.7M630.8 210.2l5.3 3.9M637.7 213.5l2.6 9.3M638.9 183.9l-2.1 6.2M637.6 198.4l-1.1 7.3M642.1 183.7l-4.1 3.7M653.7 179.7l-7.8 -0.8M632.6 200.7l5.3 8.5M628.2 201.8l2.3 8.8M637.7 221.5l9.2 0.8M630.6 194.3l-1.5 5.5M634.9 216.7l6 1.1M630.4 201.5l0.6 5.6M643.5 185l-8.2 5.5M631.3 204.3l4.1 4.3M655.3 170.3l-5.4 7M631.4 205.2l3 4M638.6 184.2l-4.6 4.4M655.6 173.4l-4.1 4.7M654.2 180.4l-6.4 2.8M632.9 199l5.3 8.2M634.4 188.3l-3.2 9.5M661.6 168.5l-5.8 8.6M638.5 213.1l5.4 4M654.6 177.2l-7.4 2.8"/>
<path fill="none" stroke="#f7a04e" stroke-opacity="0.2" stroke-width="0.7" stroke-linecap="round" d="M484.2 181.5l-4 3.3M475.1 191.8l-6.5 8.5M479.7 188.3l-2.5 5.5M487.9 173.7l-7.8 7.2M484.3 172l-5.8 8.5M475 198.4l-4.7 2.9M476.6 193.5l-6.4 5.1M473.3 194.9l-6.1 7.3M473.4 196.1l-6.3 3.2M483.3 193l-4.3 4.9M477.2 186.4l0.7 5.1M471.2 186.7l-1.4 6.5M475.1 191l-4.9 3.9M472.4 193.3l-1.4 5.6M479.8 190.3l-8.3 4.8M486 175.5l-6.3 7.4M478.4 178.2l-3 7.2M475.1 179.4l-1.5 7M477.6 180.6l1.1 9M475.7 187.3l-4.9 6.5M487.3 174.9l-4.7 2.8M470.5 190.2l-8 7.2M476.3 176.7l-5.6 7.8M480.2 183.1l-1.2 9.1M487.2 178.9l-10.5 3.2M486.9 178.5l-6 -2.5M487.7 175.7l-2.6 5.5M473.3 196.6l-5.1 5.5M488 175.1l-4.2 2.9M483.3 182.1l-4.1 8.4M476.8 181.4l-2.3 5.6M477.7 173.6l-4.8 5.2M469.6 193.7l-3.2 3.9M479 186.9l-2.2 5.9M488.9 171.6l-8.2 1.8M480.6 178.8l-2.9 5.4M476.3 197.8l-7.1 1.5M473.5 185.1l-1.8 7M486.3 173.3l-5.3 6M477.3 177.7l-1.4 9M480.1 187.6l-4.5 4.8M490.1 174.2l-6.7 -0.7M474.3 196.1l-3.5 7M488.3 180l-10.2 1.8M474.4 193.2l-10 3.5M481.7 179.3l-3.2 5.1M489.1 180.8l-10.6 2.9M490.9 176.5l-6 5M476.2 185l1.2 6.7M476.3 181.3l-2.5 8.9M474.6 186.4l-3.5 6.1M474.9 197.1l-5.2 3.2M476.9 182.1l-4.4 6.5M488.8 176.9l-5.1 0.9M475.6 196.4l-9 5.7M477.8 191.2l-2.5 6.7M480.6 184.6l-1.9 5.7M490.5 173.7l-7.1 7.3M477.7 187.8l-1.6 7.1M470.4 194.5l-1.5 7.8M481.6 180.7l-0.5 5.1M487.7 180.5l-2.5 5.6M477.5 192.7l-4.3 5M489.2 176.7l-8.9 3.8M483.9 175.1l-8.9 5.3M491.2 174.9l-7.2 7.6M488.5 176.6l-8.7 6M471.4 191.1l-3 4.4M485.5 179.5l-6.7 1.3M486.9 180.5l-5.8 8M479.2 189.2l-7.4 1.9M488.8 178.2l-10.3 2.6M483.1 172.6l-5 6.7M476.3 186.5l-7 6.1M472.3 191.5l-4.9 8.7M477.7 183.5l-1.6 8.6M480 181.8l-3.9 3.6M476.2 181.9l0.5 7.3M471.8 195.6l-2.7 4.5M474 181.2l1.8 9.6M477.8 190.3l-2.7 7.6M478.7 180.2l0.2 10.8M478.4 184.9l0.8 6.4M482.6 176.2l-7.5 6.5M476.3 186.7l-5.5 6.6M488.1 177.7l-5.4 4M481 185.3l-1.8 6.3M476.3 183.8l2 7.4M475.1 182.2l-3.7 6.1M479.3 179.8l-1.4 9.8M484.9 177.1l-6.1 1.5M486.3 180.2l-10.1 2M479.4 178.3l-2.6 9.7M476.2 189.6l-6 4M487.9 182.9l-9.2 0.6M477.4 175.9l-4.2 7.6M474.3 195.9l-2.4 4.9M475.3 181.9l1 6.3M482.6 171.6l-7.2 7.8M483.8 178.6l-5.4 0.5M483.7 172.1l-3.5 6.5M484.3 180.1l-4 8.1M482.2 182.9l1.3 7.9M484.1 171l-4.3 4.9M484.1 174.3l-2.9 4.8M485.9 177.7l-1.3 5.2M487.2 177.3l-5 0.9M484 173.3l-4.5 10M480.6 180.5l-2.8 10.1M487 176.5l-6 5.4M474.3 183.5l0.8 10.9M487.1 181.7l-4.3 3.2M480.1 189.8l-3 4.1M480.1 181.9l-1.3 5.1M474.7 179.8l1.1 10.3M478.4 189.7l-5.2 7.8M490.6 175.1l-5.8 5.7M477.8 186.8l-6.1 4.9M477.8 185.5l-5.4 9.4M473.5 192l-4.3 5"/>
<path fill="none" stroke="#f7a04e" stroke-opacity="0.2" stroke-width="0.7" stroke-linecap="round" d="M476.2 193.8l6.8 3.5M465.6 198l6.4 -4.6M481.3 195.4l5.6 3.9M477.6 195l9.6 -3.6M492 196.1l6 6.3M486 191.2l6.6 2.8M479.1 198.7l6.6 -0.4M487 203.7l8.4 1.2M477.2 197.1l7.4 1.4M492.8 198.4l6 8.3M471.7 191.7l7.6 5.2M480.4 195.6l8.9 3.2M467.7 194.5l6.1 -2.9M492 195.5l5.1 6.6M486.9 197.7l5.8 6M488.4 197.5l5.2 1.8M470.5 200.7l9.5 -2.3M490.4 190.8l4 6.9M468 199.6l5.5 -4M478.5 202.3l5.9 1.2M485.3 203.4l5.6 6.1M465.4 199.7l7.6 -4.8M466.2 195.4l9.5 1.8M493.2 199.7l-0.7 6.6M491.6 199.7l8.2 4.3M478.3 190.8l6.7 -0.3M476.1 192l6.3 -0M471.2 199.5l10 -3.3M477.3 196.1l8.4 4M491.6 200.6l9.6 2.8M494.7 208.8l5 -1.9M478.1 193.1l9.3 1M482.5 191.4l6 2.6M489.9 198.4l4 3.8M464.6 201.7l10.6 0.3M492.6 200l3.3 5.4M468.3 202.6l6.1 -7.3M473.4 195.2l5.2 -6.2M487.6 200.9l3.8 3.3M471 197.1l8.9 -3.3M491.7 199l4.7 5.9M473.9 199.3l5.8 -4.2M478.6 193.2l5.1 -0.6M479.5 201.4l5 -7.9M484.5 194.7l7.1 5.5M488.3 196.5l7 0.2M465.8 197.6l7 -4.6M479 191.6l9.1 3.7M477.7 200.8l6.5 -1.5M483.1 189.2l8 6.8M466.1 196.4l4.2 -5M476 194.1l6.1 3.4M491.7 204.4l9 -0.3M489.5 199.2l5.3 3.6M469.6 200.9l7.5 -6.7M493.7 195.7l5.7 3.1M472.1 196.6l6.5 -1.2M472.7 200.3l8.8 -2.4M498 196.6l2.2 10.4M488.8 195.9l6.3 6.4M490.5 190.5l6.9 0.1M479.1 194.6l9.8 3.8M474.4 196.9l7 -2.4M470.9 196l5.6 2.6M470.4 200.3l10.3 -2.5M469.6 196.5l5.4 -0.8M487.3 195.2l6.1 0.7M479.6 197.6l8.4 -0.9M465.6 197.2l10.9 -0.9M468.3 199.8l5.8 -4.7M479.6 200.5l9.2 -4.8M468.9 199l6 -1.5M468.5 198.2l4.5 -2.6M487.5 193.6l2.9 5.6M483.2 195.1l7.8 1M481.2 190.4l9.4 1.6M469.8 199.2l9.2 0M489.8 196.5l3.7 7.3M481.5 193.2l6.5 0.5M472.4 189.7l5.1 -0.5M483.2 194.4l6.6 -0.6M487 190.6l6.3 4.9M471.1 198.5l10.9 0.8M481 194.2l6.8 4.8M487.3 197l5.6 0.1M466.9 198.8l9 1.4M481.9 195.6l4.1 9.9M480.4 197.3l10.8 0.5M474.1 193l6.9 1.5M482.4 197.1l4.1 4M468.7 201.1l10.5 -1.8M469.7 196l10.3 -0.9M475.4 195.4l7.6 -0.1M484 198.4l2.4 5.5M488.1 189l4.4 4.7M473.5 199.2l7.2 -4.8M470 192.7l9.7 3.9M493.3 196.6l5.6 5.3M477.3 199.3l4 -5.5M472.9 192.7l8.1 -0.5M477.8 193.9l5 3.7M492.2 191.4l4.1 3.6M486.7 196.3l5.1 5.1M480.4 192.6l8.2 1.7M474.8 194.7l9.3 3.6M475.1 194.2l8.6 -3M482.3 196.5l9.2 1M467.8 197.5l10.3 0.6M487.7 203.3l7.9 6.3M472.5 200.2l5.8 -3.6M491.5 202.8l4.6 4.5M479.8 191.1l9.5 3.9M467.7 193.8l7.4 -2.9M469.1 196.7l5.2 2.9M477.9 199.2l10.4 -1.7M467.7 200.3l5.6 -4M481.5 197.6l7.4 -5.3M482.8 200.1l9 -5.4M481 198.9l9.6 1.5M470.6 201.7l6.8 -0.7"/>
<path fill="none" stroke="#f7a04e" stroke-opacity="0.16" stroke-width="0.7" stroke-linecap="round" d="M621.8 194.7l3.8 -4.8M625.1 206.9l3.9 -8M641.1 170l5.6 -2.3M617.8 220l6.2 -4.8M628.1 211.9l-6.7 -8.7M611.8 214.8l6.3 -9.4M606.4 211.7l4.1 -7.3M621.9 202.7l1.5 -7.3M618.7 212.3l-0.1 -9.5M628.2 216.2l2.4 -11.2M647.9 173.5l5.9 -1.4M649.1 168.4l8.6 -1.9M658.5 177.8l5.1 -6.1M609.1 225.2l2.5 -7.5M619.3 226.6l5.9 -7.9M640.6 176.5l2.8 -6.4M624.5 209.7l-2.8 -9.3M632.4 195.7l3.2 -5.1M649.1 169.2l9.1 2.6M631 173.8l8.2 -0.1M657.1 181.8l7.1 -5.7M613.3 212.9l5.6 -8M616.5 223.7l4.3 -8.2M636.2 180l8.1 -0.2M647.2 173.1l10.6 -4.9M623.5 207l6 -10.1M628.1 193.1l1.9 -9.4M654 175.3l8.1 -5.4M620.8 219l5.8 -6.1M626.4 212.2l2.8 -6.2M619.3 208.3l7.3 -7.2M609.7 221.4l9.1 -6.1M630.8 198.2l6.5 -4.2M639.2 170.9l8.5 -4.4M619.5 195.8l4.4 -7.4M630.4 186.7l4.5 -5.3M613.9 224l5.2 -9.4M630.8 187.8l5.8 -6.8M629.6 199.4l0.2 -10.8M638 177.7l7.2 -8M627.9 191.9l6.9 -7.7M634.4 186.8l-2.1 -10.6M647.1 184.9l8.6 -6.8M634.6 174.3l6.7 1.4M644 180.5l3.9 -6.1M625.7 207.7l-2.9 -9.7M626.8 198.1l4.1 -5.8M633.5 185.6l-1.5 -8.1M616.9 219l11.2 -3.3M621.5 199.9l0.7 -7M631.5 185.2l10.5 1.2M616.3 210.4l0 -8.9M605.1 210.5l5.8 -4.2M615.9 215.4l3 -7.1M627.9 189.8l-0.1 -11.6M646.1 178.2l-1.5 -6M619.8 220.4l4.3 -4.9M629.7 208.3l-2.4 -10.6M627.8 187.7l2.2 -9.2M630.3 182.6l9.6 -3.1M645.7 179.2l7.9 -1.7M611.8 225.4l4.1 -8.3M616 217.7l6.9 -7M618.7 228.2l4.5 -6.8M607.7 211.3l6.9 -3.9M634.8 171.3l9.5 7.1M609.3 225.3l6.4 0.5M622 210.4l1.7 -6.8M614.4 195.5l3.9 -10.4M616 218.1l0.3 -8M638.2 175.8l7.6 -4.4M615.2 197.1l2 -8.6M606 214.6l11.5 -0.8M635.3 169.5l7.5 -5.4M641.5 170.1l9.2 1.9M639.1 173.2l5.2 -3.6M612.4 221.3l4.1 -7.2M629.3 209.7l3.8 -10.4M632.6 195.2l-4 -7.2M634.3 175.9l3.9 -5.3M626.8 179.1l5.3 -9M616.2 207.1l0.1 -10.5M632.9 183.1l9.6 -5.7M628.5 216.9l-2.1 -11.6M644.4 179.6l8.7 -1.4M625.1 191.9l4.4 -8.5M618.8 215.8l4.5 -4.8M620.2 198.5l5.2 -6.4M646.4 177.9l3.3 -5.9M628.3 196l1.6 -9.9M627.3 197.7l-0.7 -10.2M648.9 171l6.8 1.3M638.1 188.9l3.5 -8.1M613.2 223.3l6.4 -8.4M629 198l6.4 -3.7M634.8 183.4l0.2 -10.6M627.2 178.6l5.7 -10M619.1 222.5l4.3 -8.9M632.2 185.5l5.3 -10.6M619.3 223.5l1.2 -8.3M638.8 174.3l4.2 -5.7M630.6 185.3l1.1 -6.8M649.1 173.3l8 -0.9M625.3 190.6l7.1 -6.2M639 175.1l10.4 -1.1M627.7 186.3l8.1 -6.6M629 204.4l0.2 -11.4M626.2 208.1l-5.7 -7.9M614.9 215.7l5.2 -10.2M619.6 216.7l3.6 -9M633.1 176.4l5.4 -3.9M615.2 213.2l6 -3.4M609.7 224.7l9.7 0.8M621.4 190.2l9 -4.7M608.7 213.4l7.8 -6M625.3 200.2l4.9 -7.9M624.5 193.8l5.8 -4.7M645.8 170.3l9.5 -0.3M631 190.1l7.5 -9.2M638.1 181.8l7.2 -1.9M617.1 213.2l7 -8.4M622.4 206.3l1.5 -6.2M630.4 188.1l4.2 -8.5M638.5 184.8l2.1 -7.4M623.6 217.1l3.9 -6.4M612.5 210.5l-0.2 -10.3M613.5 194.3l5.4 -10.1M622.1 204.5l4.8 -5.8M633.7 181.3l9.6 1.9M626.3 204.1l-4.8 -9.2M615.1 226.3l4.1 -5.5M626.5 191.5l3.2 -5.4M636.3 178.7l7.7 -2.9M642.2 177l8 -0.7M642.7 185.5l4.7 -5M606.6 221.2l1.6 -5.8M637.1 176.9l3.5 -7.1M640.3 180.2l9.2 -3.6M614.9 218.5l3.2 -8.2M626 179.8l7.3 -5M639.4 181.6l5.5 -8.9M632 170.4l10 -6.6M621.2 218.1l4.3 -10.7M624 201.4l6.4 -5.8M626.8 195.3l0.6 -6.8M615.1 220.2l5.4 -3.3M629 189.7l10.7 -4.1M610.2 224.5l5.2 -5.3M647.5 166.3l10.7 5M626.7 200.1l6.7 -2.7M614.2 215.5l4 -5.6M647.7 171.9l11.6 -2.4M646.8 170.9l11 2.6M636.4 191.9l-0.4 -7.3M625.4 193.6l2.6 -7.7M642 172.3l11.5 -2M638 187.7l0.5 -8.1M650.8 179l5 -9.9M613.8 205.9l8.5 -2.5M620 210.6l-1.1 -11.1M631.1 183.6l7 -7.9M626.2 220.5l4.3 -8.1M624.3 188.1l2.7 -7.7M624.5 213l0.9 -10.6M616.1 228.3l6.3 -1.5M628.8 180.4l8.7 -4.9M629.8 200.6l0.3 -9.2M626.1 204.2l-4 -9M629.5 183.9l5.8 -8.6M645 179.2l5.3 -5M645.1 179.1l7.8 0.1M651.8 168.5l9.2 -1.1M620.9 217.7l1.3 -8.4M650.5 173.4l5.9 -3.2M621.3 214.8l5.5 -9.8M640.1 167.8l6.4 -0.1M631.3 189.4l5.1 -7.1M639.3 185.8l10.3 -4M631.2 202.5l1.6 -10.6M644 178.5l11.7 -0.3M637.6 167.7l11.5 1.6M655.8 160.5l6.3 3.4M627.5 191.1l5 -9.1M619.5 201.8l-1.3 -9.5M608 220.4l4.7 -8M636 187.3l6.5 -1.8M626.1 208.7l9.5 -4.5M612.4 209.4l9.1 -7.2M625.8 202l-2.2 -5.6M640.4 179l7.2 -4.3M650 170.7l10.3 -6.1M645.9 174.5l6.6 1.5M625 204.2l-2.3 -5.6M626.4 193.6l4.8 -6.4M649.5 170.8l9 1.7M626 187.5l9.2 -6.8M620.4 203.1l3 -7M636.6 197.6l0.3 -6.1M645.2 176.7l5.7 -2.2M621.3 219.1l0.3 -9.4"/>
<path fill="none" stroke="#f7a04e" stroke-opacity="0.15" stroke-width="0.7" stroke-linecap="round" d="M629 209.3l-3.3 -9.4M642 200.7l0 -10.9M630.8 213.8l-2.2 -8.2M646.8 187.2l7.3 -9.5M629.6 213l5.6 -8.3M628.2 214.6l-2.8 -7.9M625.9 216.7l6.2 -3M635.9 205.6l0.3 -9.5M637.5 209.2l0.2 -10.7M635.2 207l1.1 -10.5M643.7 192.5l7 -4.4M636.3 208l2 -5.9M628.2 220.2l-6.3 -6.6M643.6 190.5l-0.5 -8.4M631.5 209.3l3.8 -10.9M642.7 193.2l6.6 -4.1M641.9 187.4l3.3 -5.5M636.1 214.3l3.2 -5.9M637.4 208.1l3.9 -11.1M643 184.4l6.6 -7.2M635.7 205l6.5 -3.2M630.5 205.4l-0.8 -8.6M628.4 216.5l0.6 -10.1M641.3 184.1l5.8 -5.4M628.1 217l4.6 -4.7M649.5 188.9l9.3 -5.8M646.6 191.3l-2.9 -9.6M631.1 194.2l5.7 -2.7M644.9 189.6l1.4 -11.1M633.7 188.6l5.6 -4M629.7 213.5l2.2 -7.4M625.9 216.8l-4 -7M632.9 203.6l2.5 -6M641.5 200l0.6 -8M645.1 200.6l3.3 -7.3M647.3 195.1l0 -10.1M644 178.4l10.7 -4.1M624.5 213.7l3 -6M639.5 202l-0.5 -7.5M631.9 209l1.6 -6M636.6 197l5.1 -3.3M640.3 198.8l4.9 -4.8M635.3 189.1l4.4 -6.2M639.5 210.7l3.6 -9M646.6 196l3.1 -9.1M624.7 220l-4.1 -7.5M634.5 196.6l5.5 -3.9M623.5 216.8l5 -9.1M627.9 219.8l-4.4 -9.2M644.5 196.1l3.3 -9.5M637.8 190.3l4.9 -7.8M629.6 200.7l6.5 -7.1M634.5 191.9l7.3 -6.2M637.2 195.2l7.1 -1.2M631.4 206.2l4 -4.9M627.7 213.5l6 -2.2M642.3 187.3l5.6 -7.8M628.7 209.2l4.9 -5.4M641.3 191.9l4.9 -10.6M640.4 200l5 -7.4M641.6 194.3l4.8 -4M626 213.6l3.7 -7.6M641.9 200.7l-0.9 -6.1M632.5 211.2l1.3 -10.2M641.8 198.1l7.7 -6.5M639.9 201.7l-0.6 -10.3M635.6 191.1l5.8 -9.1M641.1 193.6l7.4 -4M628.5 221.8l6.5 -3M644.7 190.2l0.6 -6.2M642.8 185.1l10.1 0.4M637.1 198.6l10.7 -1.5M644.7 197.4l2.2 -7.5M630 215.2l7.1 -6.9M641.2 190.3l7.8 -5.3M638.4 200l-1.6 -8M640.1 200.9l-3 -10.4M638.9 186.6l6.6 -4.9M645.3 190.3l4.9 -8.1M626.8 199.7l4.2 -8M646.1 179.6l6.6 -2.1M640.2 192.1l6 -1.9M637.6 184l6.6 -1M638.1 178.8l4.7 -7.2M622.5 209.1l6.8 -8.2M647.2 193.7l-0.9 -7M637.7 191.8l7.2 -8.2M635.2 196.6l7.2 -7.4M636.1 199.4l5.9 -1.8M635 215.1l-4 -10.3M632.2 199.2l4.7 -6.7M630.8 200.5l7 -4M644.7 180.3l9.5 4.7M633.5 203.3l8.1 -2.5M624.6 216.7l3.3 -5.5M638.3 210.3l0.8 -10.3M649.2 191.2l-0 -10M653.8 190.5l-0.1 -7.2M647.4 188.5l9 -4.1M647.6 189.4l2.5 -11.4"/>
<ellipse cx="532.5" cy="215.8" rx="2.6" ry="2" fill="#BE1E2D" opacity="0.9"/>
<ellipse cx="548" cy="226.3" rx="2.4" ry="1.8" fill="#BE1E2D" opacity="0.9"/>
<path fill="none" stroke="#a070b8" stroke-opacity="0.6" stroke-width="0.7" d="M643.16 196.63L636.37 216.18M641.94 197.08L637.58 216.61M643.23 197.19L635.76 215.5M640.65 200.43L637.53 217.67M643.32 198.89L636.58 216.6M647.78 196.28L637.44 217.51M644.66 195.14L637.24 216.32M644.39 196.04L636.74 216.24M640.42 196.73L635.39 216.38M644.78 196.09L637.66 216.85M644.76 194.8L637.61 215.84M644.28 198.79L636.37 216.65"/>
<polyline fill="none" stroke="#b25dab" stroke-opacity="0.55" stroke-width="6" stroke-linecap="round" stroke-linejoin="round" points="474.8,319.4 476,318.9 477.6,318.1 479.5,317.2 481.5,316.4 483.5,315.9 485.5,315.7 487.6,315.7 489.7,315.8 491.9,316.1 494,316.6 496.1,317.3 498.2,318.1 500.4,319.2 502.5,320.4 504.6,321.8 506.7,323.6 508.8,325.7 510.8,327.9 512.9,329.9 515,331.3 517.1,332.2 519.2,332.7 521.4,332.9 523.5,332.7 525.6,332.3 527.7,331.5 529.9,330.3 532,328.9 534.1,327.2 536.1,325.3 538.1,323.1 540,320.7 541.8,318 543.5,315.4 544.9,313 545.9,310.8 546.7,308.6 547.3,306.6 547.8,304.5 548.4,302.6 549,300.7 549.6,298.8 550.1,297 550.9,295.3 551.9,293.8 553.3,292.4 554.9,291.1 556.7,289.9 558.7,289 560.6,288.5 562.6,288.4 564.7,288.5 566.8,289 569,289.6 571.1,290.3 573.3,291 575.5,291.9 577.6,292.9 579.7,294.1 581.6,295.5 583.3,297.2 584.8,299.2 586.2,301.3 587.5,303.6 588.7,306 589.9,308.6 591.1,311.3 592.2,314.2 593.1,317.1 593.9,320 594.5,322.9 594.8,325.8 595,328.7 595.3,331.5 595.7,334.1 596.3,336.5 597.1,338.8 597.8,340.9 598.6,342.9 599.2,344.6 599.7,346.1 600.1,347.3 600.4,348.4 600.7,349.3 600.9,349.9"/>
<polyline fill="none" stroke="#b25dab" stroke-opacity="0.45" stroke-width="0.8" stroke-linejoin="round" points="472.8,316.4 474.8,316.9 476.9,317.1 479.2,316.9 481.5,316.4 483.8,316 486,315.6 487.9,315.4 489.4,315.5 491.2,315.8 493.3,316.3 495.6,317.1 497.6,318.5 499.4,320.1 501.2,321.7 503.4,322.7 505.7,323.6 508.3,324.9 510.7,326.8 512.9,329.2 514.9,331.3 516.9,332.5 519.1,333 521.5,332.8 524.1,332.5 526.9,332.2 529.3,331.7 531.3,331.2 532.9,330.2 534.4,328.8 536,326.6 537.9,324.1 539.9,321.2 541.9,318.6 543.6,316.1 545.1,313.7 546.3,311.7 546.9,309.7 547,308 546.8,306.2 547,304.1 547.5,301.7 548.6,298.9 550,296.4 551.5,294.3 552.8,292.7 553.7,291.5 554.5,290.4 555.5,289.7 557.4,289.2 559.8,289.4 562.3,289.6 564.5,290.1 566.5,290.3 568.4,290.6 570.5,290.7 573,291.1 575.7,291.7 578.3,292.6 580.9,293.7 583.1,295 585,296.5 586.3,298.4 587.1,300.4 587.4,302.6 588.1,304.5 589,306.8 590.7,309.3 592.3,312.7 593.9,316.4 594.7,320.2 594.9,323.6 594.5,326.6 594.3,329.1 594.3,331.5 594.8,334.1 595.6,336.9 596.5,339.7 597.2,341.9 597.7,343.7 598,345.1 598.4,346.3 598.8,347.1 599.5,347.6 600.2,347.7 600.9,347.8"/>
<polyline fill="none" stroke="#b25dab" stroke-opacity="0.45" stroke-width="0.8" stroke-linejoin="round" points="472.1,319.4 474.1,318.4 476.7,317.2 479.5,316.2 482.1,315.7 484,315.8 485.4,316 486.9,316.1 488.9,316.1 491.4,316.4 494,316.9 496.5,317.5 498.9,318.3 501,319.1 503.3,320 505.6,321 508,322.6 510.3,325 512.5,327.6 514.6,330 516.6,331.4 518.5,331.9 520.1,331.7 521.6,331.5 523.4,331.3 525.5,331.3 527.7,330.8 530,329.9 532.2,328.4 534.5,326.6 536.5,324.6 538.4,322.3 540.3,319.6 542.3,316.8 544.1,314.5 545.2,312.7 545.6,310.9 545.7,308.6 546.1,305.8 547,303.3 548,301.1 548.8,299.3 549.3,297.9 549.9,296.7 550.6,296 551.4,295.3 552.6,294.4 554.2,292.9 556.3,290.9 558.6,288.8 560.8,287.1 562.9,286.4 565.1,286.8 567.2,288.1 569.4,289.3 571.3,290.2 573.4,290.8 575.4,291.3 577.4,292.2 579.2,293.5 581,295.5 582.8,297.9 584.5,300.5 586,303 587,305.4 588.2,307.8 589.4,310 590.9,312.5 592.4,315 594,317.6 595.4,320.1 596.5,322.8 596.8,325.7 596.7,328.9 596.1,332.2 595.9,335.3 596.2,338.2 597.3,340.8 598.7,343 600.1,344.7 601,345.5 601.3,345.9 601.1,346.2 600.9,347.2 600.7,348.5 600.5,349.8"/>
<polyline fill="none" stroke="#b25dab" stroke-opacity="0.45" stroke-width="0.8" stroke-linejoin="round" points="473.1,318.9 475,317.7 477.1,316.5 479.3,315.7 481.5,315.6 483.6,316 485.6,316.6 487.4,317 489.1,317.2 491,317.3 493,317.3 495.3,317.7 497.5,318.5 499.6,319.8 501.3,321.1 503.1,322.2 504.8,323.6 507.1,325.2 509.6,327 512.3,328.7 515,330.1 517.4,331.2 519.7,332.2 521.7,332.7 523.6,332.7 525.1,332.1 527,331 529.3,329.9 532,328.7 534.6,327.3 536.5,325.3 538,323 539.3,320.4 540.9,317.9 542.6,315.4 544.2,313.2 545.5,310.8 546.7,308.5 547.7,305.9 548.7,303.8 549.6,302 550.5,300.6 551.3,299 551.7,297.4 552.1,295.8 552.9,294.2 554.6,292.8 556.6,291.1 558.5,289.9 560.1,288.9 561.4,288.5 562.8,288.4 564.1,288.7 565.7,289.2 568,289.5 571.1,289.2 574,288.7 576.6,288.7 578.4,290 580.2,291.9 582.1,294.4 584.3,296.7 586.4,298.9 588.1,300.7 589.1,302.8 589.6,305.2 590.3,308.1 591.3,311.2 592.6,314.5 593.8,317.8 594.9,321.1 595.8,324.1 596.2,326.9 596.2,329.6 596,332.2 595.8,334.7 596.2,336.9 597,339 597.6,341 597.7,342.9 597.7,344.8 597.9,346.2 598.3,347.2 598.6,347.9 598.5,348.6 598.1,349.3"/>
<polyline fill="none" stroke="#b25dab" stroke-opacity="0.45" stroke-width="0.8" stroke-linejoin="round" points="474,320.6 476,319.7 478.1,318.7 480.2,317.7 482,316.9 483.6,316.3 485,315.8 486.6,315.4 488.6,315.4 490.8,315.9 493.2,316.5 495.8,317.3 498.3,318.3 500.6,319.6 502.5,320.8 504.2,322 506.1,323.3 508.4,325.1 511,327.4 513.5,329.8 515.6,331.9 517.2,333.3 519.1,333.8 521.6,333.6 524.4,332.8 526.9,331.7 528.7,331 530.1,330.3 531.4,329.6 533.1,328.2 534.9,326.4 536.8,323.9 538.6,321.2 540.6,318.2 542.9,315.4 545.4,312.9 547.5,311.1 548.4,309.5 548.6,308.1 548.6,306.4 549.1,304.4 549.4,301.8 549.5,299.1 549.5,296.8 550.1,295.7 551.2,295.2 552.7,294.4 554.3,292.5 556.5,290.4 559,288.8 561.7,288.3 564.1,288.3 565.9,288.9 567.5,289.5 569.2,290.4 571.2,291.2 573.4,291.5 575.6,291.6 577.7,292.1 579.8,293.4 582.1,295.3 584.2,297.4 585.9,299.7 587.1,301.9 587.9,304.2 588.9,306.3 589.9,308.6 591.1,311.4 591.7,314.5 592.1,317.8 592.4,320.7 593.1,323.4 594.1,326 595,328.5 595.7,331 596,333.4 596.5,335.9 597,338.2 598,340.5 599.1,342.8 600,345.1 600.1,347.2 600,348.6 600,349.4 600.1,349.6 600.3,349.7"/>
<polyline fill="none" stroke="#b25dab" stroke-opacity="0.45" stroke-width="0.8" stroke-linejoin="round" points="476.2,320.1 476.5,319.7 477.7,318.8 479.6,317.5 481.8,316.4 483.9,316 485.8,316.2 488,316.4 490.1,316.3 492.6,316.1 495,316.3 497.5,317.3 499.7,318.7 501.4,320.1 502.8,321.2 504,321.9 505.4,323 507,324.7 509.2,327 511.6,329.5 514.3,331.6 516.9,333 519.3,333.5 521.6,333.1 523.9,332.1 525.8,331.1 528.1,330.4 530.2,330.1 532.5,329.5 534.5,327.9 536.3,325.3 537.9,322 539.7,318.9 541.4,316.7 543.2,315.1 544.7,313.6 545.8,311.3 546.2,308.7 546.9,305.5 547.8,302.7 549.1,300.2 550.1,298.5 550.4,297.3 550.5,296.2 550.7,295.2 551.5,294.2 552.9,293.2 555,292.1 557.1,291 558.9,290 560.6,289.5 562.2,289.4 564.3,289.9 566.5,290.1 568.7,290.2 570.6,289.9 572.8,289.7 575.1,289.7 577.2,290.5 578.9,292 580.4,294 581.8,296.1 583.3,298.4 584.8,300.8 586.1,303.4 587.6,305.5 589.3,307.8 591,310.3 592.1,313.5 592.7,316.9 592.8,320.1 592.9,322.7 593.2,325.4 593.9,328.4 594.7,331.3 595,333.9 594.9,336.1 594.6,338.1 594.9,340.1 596,342 597.4,343.8 598.9,345.4 600.4,346.6 601.7,347.8 602.6,349.2 603.2,350.7"/>
<polyline fill="none" stroke="#b25dab" stroke-opacity="0.45" stroke-width="0.8" stroke-linejoin="round" points="478.7,321.3 478.2,319.5 478.5,318 479.4,317.1 480.9,316.7 482.7,316.5 485,316.5 487.4,316.2 489.6,315.9 491.7,315.8 493.6,316.3 495.7,317.4 497.8,318.7 499.8,319.7 501.7,320.4 503.7,321.5 505.7,323.6 508,326.4 510.5,329.1 513.7,331.4 516.9,332.9 519.8,333.4 521.7,333.4 522.7,333.2 523.7,333 525.3,332.7 527.8,331.7 530.2,330.2 532.5,328.5 534.2,326.9 535.8,325.3 537.7,323 539.7,320.2 541.9,317.1 543.7,314.4 545.3,312.2 546.1,310.2 546.8,307.9 547.5,305.7 548.6,303.8 549.5,302.4 550.2,301.1 550.3,299.6 550.3,297.9 550.2,296.2 550.7,294.4 552.1,292.7 553.8,290.8 555.8,289.2 557.5,287.9 559.4,287.6 561.3,287.8 563.8,288.7 566.5,289.3 569.3,289.5 571.8,289.3 574.1,289.6 576,290.5 577.8,291.8 579.3,292.9 580.7,294.1 582.1,295.9 583.7,298.3 585.4,301.2 587,304 588.4,306.8 589.9,309.6 591.6,312.4 593.2,315.2 594.2,317.7 594.3,320.2 594.1,322.5 593.9,324.9 594.3,327.3 595.1,330 596.1,332.9 597,335.9 597.7,338.6 598.3,340.8 598.9,342.7 599.6,344.1 600.2,345.4 600.8,346.6 601.4,348 601.8,349.5 601.9,351"/>
<polyline fill="none" stroke="#b25dab" stroke-opacity="0.45" stroke-width="0.8" stroke-linejoin="round" points="474,322 475.8,319.5 478.1,317.9 480.6,317.2 482.7,317 484.3,316.8 485.5,316.5 487.2,316.1 489.2,315.8 491.4,315.8 493.5,316.1 495.5,316.8 497.6,318.1 499.7,319.7 502.1,321.3 504.1,322.9 506.1,324.7 507.9,326.8 510.1,329.2 512.4,331.2 515,332.5 517.2,332.8 519,332.8 520.5,332.6 522.2,332.4 524.2,332.1 526.9,331.8 529.9,331 532.9,329.9 535.3,328.2 537.2,326.4 538.7,323.9 540.1,320.7 541.6,317.3 543.2,314.3 544.7,311.7 545.8,309.6 546.5,307.6 547.3,306 548,304.4 548.8,302.9 549.5,300.9 550,299.1 550.5,297.7 551.1,296.8 551.9,296 553.1,294.6 554.6,292.6 556.1,290.6 557.6,289.1 559.4,288.6 561.6,288.9 564,289.7 566.5,290.5 569,290.8 571.6,291 574.1,291.2 576.6,292.1 578.6,293.4 580.5,294.8 582.2,296 584.1,297.7 585.7,299.9 586.8,302.5 587.2,304.9 587.8,306.8 589.1,308.7 590.9,311 592.7,314 593.7,317.2 594.4,320.4 594.9,323.2 595.2,325.8 595.2,328.2 595,330.8 595,333.4 595.4,336.1 596.4,338.7 597.6,340.8 598.8,342.5 599.6,343.6 600,344.6 599.9,345.5 599.9,346.3 600.1,346.6 600.7,346.2"/>
<polyline fill="none" stroke="#b25dab" stroke-opacity="0.45" stroke-width="0.8" stroke-linejoin="round" points="479.3,317.5 478.5,317.5 479,317.3 480.6,316.8 482.7,316.4 484.6,316.3 486.3,316.4 488.1,316.5 490.1,316.5 492.3,316.6 494.4,317.1 496.2,317.9 497.6,318.8 498.9,319.6 500.6,320.6 502.9,321.7 505.3,323.5 507.5,325.8 509.3,328.3 511.2,329.9 513.5,330.7 516.1,331.1 518.6,331.6 520.8,332.1 523,332.2 525.3,332.1 527.6,331.5 530,330.7 532.2,329.3 534.3,327.7 536.2,326.1 538.3,324.1 540.6,321.5 542.7,318.1 544.5,314.8 545.8,312 546.6,309.9 547,307.8 547.3,305.7 547.6,303.8 548.1,302.1 548.5,300.8 549.1,299.4 550,297.6 551.4,295.6 552.6,293.7 553.6,292.2 554.8,291.2 556.5,290.6 558.7,290 561,289.6 563.3,289.2 565.6,289.2 568,289 570.4,289.1 572.5,289.2 574.2,289.7 575.8,290.6 577.6,292.2 579.4,294 581.4,295.8 583.2,297.2 585,298.6 586.6,300.3 587.9,302.4 588.9,304.9 589.7,307.7 590.7,310.9 591.7,314.2 593.1,317.2 594.5,319.5 595.5,321.4 596.1,323.7 596.3,326.3 596.5,329.5 596.7,333 597,336.7 597.1,340 597.4,342.4 597.9,343.9 598.5,345.1 599.1,346.1 599.7,347 600.5,347.9 601.7,348.8 603.2,349.8"/>
<polyline fill="none" stroke="#b25dab" stroke-opacity="0.45" stroke-width="0.8" stroke-linejoin="round" points="474.4,320.2 475.9,319.3 477.6,318.3 479.3,317.4 481.1,316.9 483.1,317 485.2,317.4 487.5,317.7 489.6,317.6 491.4,317.3 493,317 494.7,317.2 496.6,318 498.9,319.3 501.4,320.8 504,322.3 506.4,324.1 508.4,326.4 510,328.9 511.5,330.9 513.3,332.3 515.6,333.2 518.2,333.8 520.6,334 522.7,333.5 524.7,332.5 526.8,331.2 529.5,329.4 532.2,327.3 534.8,325.4 536.7,323.8 538.5,322.2 540,319.9 541.5,317.1 542.7,314.4 544.1,312.1 545.8,310 547.6,307.7 549.4,305.6 550.4,304 550.8,302.7 550.2,301 549.4,299 548.8,296.6 549.5,294.7 551.1,293.3 553.5,292.3 555.7,291.3 557.4,290.1 558.4,289.2 559.3,288.8 560.6,288.9 562.7,289 565.3,288.9 568,288.9 570.8,289.5 573.5,290.5 576.1,292 578.4,293.2 580.1,294.3 581.6,295.6 583.2,297.4 585,299.4 586.8,301.6 588.2,303.7 588.9,306.2 589.6,308.8 590.5,311.7 591.8,314.7 593.4,317.5 594.5,319.9 594.9,322.5 594.8,325.3 594.7,328.4 594.9,331.2 595.6,333.8 596.4,336 597.4,338.1 597.8,339.9 598,341.5 597.9,343.4 598.4,345.5 599.3,347.6 600.1,348.9 600.2,349.5 599.7,349.6"/>
<polyline fill="none" stroke="#b25dab" stroke-opacity="0.45" stroke-width="0.8" stroke-linejoin="round" points="474.2,319.3 476.5,319.2 478.8,318.4 480.8,317 482.2,315.7 483.2,315.3 483.9,315.7 485.2,316.4 487.2,316.9 490.3,317 493.7,316.9 496.9,316.9 499.5,317.5 501.6,318.9 503.6,320.8 505.5,322.8 507.5,324.7 509.6,326.8 512,329.2 514.3,331.3 516.3,332.7 518.1,333.3 519.9,333.5 521.7,333.5 523.6,333.5 525.4,333.4 527.1,332.9 528.5,331.5 530,329.4 531.8,327.1 534.2,325.1 536.6,323.2 539,321 541.2,318.7 543.1,316.2 544.5,313.7 545.4,311.5 546.1,309.4 546.9,307.5 547.5,305.3 547.7,303.1 547.8,300.8 548.1,298.9 548.9,297 550.6,295.4 552.6,293.8 554.7,292.4 556.3,291.1 557.7,289.9 559.1,288.8 560.5,288.4 562.3,288.7 564.1,289.2 566.2,289.3 568.3,289.1 570.7,289.1 573.2,289.4 575.7,290.3 578,291.4 579.8,292.5 581,293.8 582,295.3 583.3,297.2 585.3,299.6 587.5,302.3 589.1,305.3 589.8,308.2 590.3,311 591,313.8 592,317 592.7,320.5 593.2,323.8 593.4,326.8 594.1,329 594.8,331 595.8,333 596.8,335.6 597.5,338.4 597.8,340.9 597.8,342.7 598.1,344.1 598.8,345.6 599.9,347.1 600.7,348.1 600.7,348.5 599.9,348.5"/>
<polyline fill="none" stroke="#b25dab" stroke-opacity="0.45" stroke-width="0.8" stroke-linejoin="round" points="475.6,319.1 476.9,318.2 478.5,317.4 479.8,316.7 481.1,315.9 482.4,315.3 484.2,315 486.6,315.1 489.4,315.5 492,316.1 494.2,316.6 496.4,316.9 498.6,317.1 500.8,317.9 502.7,319.2 504.5,321 506,322.9 507.7,325.1 509.5,327.5 511.5,329.5 513.6,331 515.9,331.7 518,332.2 520.2,332.5 522.3,332.5 524.4,332.1 526.7,331.4 529,330.5 531.2,329.3 533.2,327.6 534.9,325.2 536.8,322.3 539.1,319.3 541.6,316.7 543.7,314.7 545.2,312.9 545.9,311 546.4,308.7 547.2,306.2 548.2,303.6 549.9,301.3 551.2,299.2 552.1,297.6 552.4,296.3 552.8,295 553.4,293.6 554.8,292.5 556.2,291.8 557.9,291.7 559.3,291.2 560.7,290.4 562.3,289.2 564.7,288.4 567,288.6 569.3,289.6 571,291 572.9,292.1 575,292.7 577.4,293.3 579.6,294.3 581.7,296 583.6,297.9 585.4,299.8 586.7,301.6 587.4,303.5 587.8,305.6 588.2,308 589.1,310.8 590.7,314 592.5,317.3 594.5,320.3 595.6,323.1 596.4,325.9 596.7,328.7 597.1,331.4 597.2,333.6 597.4,336.1 598,338.7 598.8,341.4 599.5,343.5 599.6,345 599.6,345.9 599.7,346.8 600.6,348.1 602.2,350.2 604.2,352.8"/>
<polyline fill="none" stroke="#b25dab" stroke-opacity="0.45" stroke-width="0.8" stroke-linejoin="round" points="474.7,318 475.2,317.9 476.5,317.5 478.3,316.8 480.4,316.1 482.6,315.6 485,315.5 487.5,315.6 489.8,315.6 491.8,315.8 493.3,316.3 495,317.2 496.8,318.5 498.9,319.6 501.1,320.9 503.7,322.3 506.5,324.2 509.2,326.3 511.7,328.3 513.7,330 515.7,331.1 517.6,331.7 519.6,332 521.5,332.2 523.2,332.1 524.9,331.8 526.7,331.3 529,330.5 531.3,329.4 533.9,327.6 536.4,325.6 538.7,323.3 540.4,320.8 541.7,318 542.8,315.1 544.1,312.2 545.5,309.6 547,307.3 548.4,305.5 549.4,303.7 549.7,301.8 549.4,299.6 549.1,297.4 549.2,295.5 550.4,293.7 552.1,292.4 554.3,291.3 556.4,290.6 558.2,290.4 559.9,289.9 561.4,289.4 562.8,288.7 564.5,288.7 566.4,289.1 568.7,289.7 570.8,290.2 572.8,290.3 574.8,290.6 576.8,291.4 579.1,292.9 581.4,295 583.7,297.4 585.8,299.5 587.5,301.7 588.7,303.9 589.7,306.3 590.7,309.2 591.8,312.4 592.8,315.9 593.6,318.9 594.1,321.8 594.1,324.4 593.8,327.2 593.5,329.9 593.6,332.6 594.1,334.8 595,336.7 596.1,338 597,339.2 598,340.7 598.9,342.8 599.8,345.3 600.3,347.7 600.7,349.7 600.5,350.7 600.3,350.8"/>
<path fill="none" stroke="#7a5a9a" stroke-opacity="0.35" stroke-width="0.6" d="M593.67 334.62l-2.51 3.62M578.69 291.05l1.29 -3.08M547 300.11l-1.47 -0.4M549.79 305.18l4.15 2.2M595.89 341.69l-2.01 0.15M553.8 289.31l-1.64 -3.26M476.68 316.15l-1.16 -1.74M524.86 330.33l0.49 -4.6M543.62 319.16l2.23 2.03M550.4 303.24l2.48 3.27M524.86 330.33l1.96 -0.6M590.16 314.88l-1.93 -0.45M543 312.11l-3.46 -1.94M595.09 339.53l-2.81 0.94M478.45 319.96l1.14 2.13M548.2 296.14l-3.76 -2.42M499.32 321.02l-2.83 1.85M571.78 288.31l-0.21 -3.54M595.09 339.53l-1.79 2.01M526.34 334.27l2.74 3.36M581.61 298.49l-1.9 1.47M591.85 307.76l2.7 -2.57M560.76 290.59l-1.62 3.27M530.7 327.24l-1.13 -1.68M538.28 319.46l-1.73 0.02M509.39 329.43l-0.08 1.92M475.02 316.98l-1.78 -0.86M598.09 347.98l-2.94 -0.42M494.65 314.6l-0.81 -4.71M501.42 317.37l0.44 -3.23M580.99 292.4l3.25 -2.87M547.55 298.16l-2.34 -0.1M476.68 316.15l-0.47 -2.28M552.6 296.5l3.38 2.05M576.33 289.97l-0.81 -2.19M584.33 302.33l-2.46 0.47M534.55 323.89l-2.76 -2.31M590.16 314.88l-3.85 -0.14M580.99 292.4l1.42 -3.48M538.28 319.46l-2.76 -3.22M475.02 316.98l-3.05 -2.95M598.7 349.9l-2.17 1.61M487.7 313.57l2.12 -4.45M499.17 316.26l0.91 -3.38M584.33 302.33l-2.93 -0.88M482 318.43l0.64 2.43M491.39 318.15l-1.35 4.52M590.6 305.1l3.02 -1.35M539.71 324.44l2.79 0.39M590.6 305.1l2.64 -2.08M595.89 341.69l-1.41 2.06M602.7 348.63l2.31 -0.14M548.71 309.19l1.76 1.4M483.71 317.99l-0.66 2.6M576.33 289.97l0.12 -2.77M591.08 317.7l-3.84 1.31M512.28 326.38l0.71 -2.13M554.59 294.04l-0.51 4.8M589.11 312.08l-1.71 1.51M560.76 290.59l0.54 2.67M570.42 292.29l-1.19 4.06M531.08 332.06l-0.1 1.92M539.71 324.44l1.65 0.79M487.44 317.76l-0.53 2.16M601.68 345.43l1.45 -0.6M530.7 327.24l-3.13 -2.4M559.23 291.07l2.26 1.81M546.8 313.89l3.14 -0.13M523.92 334.8l0.48 2.29M507.23 327.14l-2.29 2.85M551.04 301.25l2.47 1.84M523.05 330.69l1.16 -3.09M593.05 310.61l4.35 -2.17M483.29 313.81l0.33 -4.35M568.32 291.61l-1.35 1.25M565.1 286.49l0.7 -3.89M592.69 325.98l-2.72 -0.33M530.7 327.24l-0.79 -2.8M602.09 346.71l2.24 0.12M514.2 333.24l-0.15 2.72M546.4 301.96l-2.12 2.01M572.51 293l-1.23 0.96M478.45 319.96l1.45 2.94M473.91 317.5l-0.05 -3.41M511.73 331.61l-3.34 3.25M548.71 309.19l3.81 -1.29M507.23 327.14l-0.03 1.76M538.28 319.46l0.89 -2.76M592.93 328.91l-2.36 -0.03M601.68 345.43l-0.13 -2.67M482 318.43l-0.05 3.01M578.69 291.05l1.97 -2.87M478.72 315.2l-1.42 -3.77M543.95 310.09l-3.47 -0.35M591.85 307.76l4.55 -0.04M593.21 331.84l-1.95 1.86M596.88 325.63l1.64 -0.66M602.43 347.78l1.16 0.96M551.55 299.43l1.24 1.58M509.39 329.43l-2.5 1.35M545.22 306.02l-2.14 -1.97M519.42 330.6l2.39 -1.66M552.05 297.84l2.88 1.25M591.08 317.7l-0.36 2.07M597.2 345.25l-1.82 0.98M595.89 341.69l-1.86 -0.71M497.32 320.03l-1.37 3.71M521.22 330.79l1.47 -2.46M530.7 327.24l-1.22 -2.91M503.25 323.41l-2.89 0.79M567.39 286.97l0.5 -4.39M602.09 346.71l4.14 -1.15M523.92 334.8l2.38 4.07M586.54 298.01l1.9 -1.9M543.62 319.16l3.01 -0.81M598.7 349.9l-4.34 -0.14M576.33 289.97l-1.1 -1.16M528.73 333.34l1.13 2.15M515.8 329.36l-0.05 -3.23M537.65 326.71l3.51 2.37M501.34 322.17l-4.23 1.01M571.78 288.31l1.24 -2.65M546.8 313.89l4.5 1.44M508.2 322.1l1.86 -1.72M487.44 317.76l0.46 1.67M548.71 309.19l3.11 0.42M545.22 306.02l-1.87 -0.03M598.7 349.9l-3.03 -1.32M493.35 318.6l-1.44 2.88M570.42 292.29l-2.68 1.83M511.73 331.61l-0.56 3.2M600.57 342.18l3.61 0.97M554.59 294.04l1.66 1.08M482 318.43l1.02 4.59M593.21 331.84l-2.41 -1.99M589.32 302.63l2.28 0M475.69 321.3l3.22 1.28M591.85 307.76l1.06 -2.66M549.13 294.13l-2.29 -3.54M555.86 288.04l-1.45 -2.93M553.8 289.31l-2.54 -3.86M593.05 310.61l4.24 -2.53M538.28 319.46l-0.76 -1.69M540.07 316.91l-2.1 -1.49M519.05 334.79l-0.31 3.78M599.04 338.09l1.5 -1.05M545.78 303.91l-1.8 -3.41M591.85 307.76l2.97 -1.05M482 318.43l0.97 2.87M548.71 309.19l2.94 0.97M564.24 290.6l-1.18 1.48M494.65 314.6l1.74 -2.8M551.96 290.76l-2.35 -2.21M595.09 339.53l-1.15 2.01M536.4 321.85l-1.38 -2.47M521.22 330.79l-1.4 -2.26M595.96 319.6l2.71 -0.79M592.69 325.98l-2.25 -2.61M493.35 318.6l-3.29 3.51M592.93 328.91l-4.33 0.74M578.69 291.05l2.18 -4.07M601.2 343.95l2.68 2.58M519.05 334.79l0.89 2.41M570.42 292.29l-4.21 1.41M599.04 338.09l1.68 -0.14M511.73 331.61l-1.73 2.09M550.4 303.24l1.65 0.13M594.15 313.57l3.63 -0.69M481.01 314.35l-2.63 -1.55M587.98 309.39l-4.52 -0.38M501.34 322.17l-1.11 1.18M599.81 340.2l3.65 -1.31M505.95 320.19l2.46 -4.02M546.8 313.89l2.09 0.48M538.28 319.46l-4.17 0.82M552.05 297.84l2.95 0.59M510.3 324.26l3.85 0.03M592.93 328.91l-3.07 0.2M501.42 317.37l-0.88 -1.86M531.08 332.06l4.36 1.01M576.6 294.7l-1.15 1.97M487.44 317.76l1.1 1.05M519.42 330.6l-1.11 -1.45M521.22 330.79l0.52 -2.39M602.09 346.71l2.14 -2.38M592.93 328.91l-1.9 -0.6M594.15 313.57l4.55 -1.58M552.6 296.5l2.34 0.46M549.28 307.09l1.42 2.74M592.93 328.91l-2.62 0.03M519.42 330.6l0.91 -4.18M505.18 325.02l-2.28 0.62M491.39 318.15l1.18 4.76M583.1 294.03l2 -2.61M499.32 321.02l-3.17 2.47M495.32 319.23l-1.39 1.48M591.85 307.76l3.82 -2.41M517.61 330.13l0.83 -1.84M549.79 305.18l3.06 2.83M493.35 318.6l-4.14 1.94M511.73 331.61l-4.11 1.53M519.05 334.79l-1.09 3.48M556.04 292.86l3.77 3.18M541.72 321.88l1.91 0.99M559.23 291.07l0.63 1.61M578.45 295.74l-1.95 3.49M496.91 315.34l0.19 -2.89M495.32 319.23l-1.73 0.89M590.6 305.1l1.35 -1.89M592.93 328.91l-3.31 -0.52M602.43 347.78l2.7 -2.29M550.4 303.24l3.69 2.08M485.52 317.8l-0.69 3M602.09 346.71l2.71 -2.51M595.09 339.53l-2.12 1.52M538.28 319.46l-2.11 -2.15M485.45 313.6l0.33 -1.94M578.69 291.05l1.48 -2.07M497.32 320.03l-0.28 3.03M537.65 326.71l1.96 0.11M476.68 316.15l-2.13 -2.96M507.23 327.14l-3.17 3.77M585.59 304.55l-2.01 0.11M587.98 309.39l-3.81 -1.35M499.32 321.02l-3.99 2.17M493.35 318.6l-1.94 1.66M551.04 301.25l2.38 1.23M598.43 349.04l-1.33 3.72M590.6 305.1l1.31 -2.05M552.6 296.5l3.23 1.48M487.7 313.57l0.59 -1.97M591.08 317.7l-2.58 -1.09M528.73 333.34l4.44 1.59M523.92 334.8l0.54 4.46M600.57 342.18l1.1 -1.73M538.28 319.46l-2.1 0.18M490.01 313.72l-0.45 -4.6M505.95 320.19l-1.37 -3.77M589.11 312.08l-2.67 2.38M584.93 295.92l1.8 -0.78M487.44 317.76l-1.82 2.01M543.62 319.16l2.02 3.95M586.8 306.9l-4.18 -2.02M517.61 330.13l-0.81 -1.6M510.3 324.26l0.87 -2.26M593.67 334.62l-2.61 0.97M551.96 290.76l-0.76 -3.64M493.35 318.6l-1.76 3.24M547.55 298.16l-2.6 -2.69M544.66 308.07l-1.57 0.18M583.01 300.29l-2.97 2.75M597.73 333.58l2.8 1.46M562.78 286.26l1.73 -3.47M547.55 298.16l-3.61 -2.16M596.88 325.63l1.92 -2.11M524.86 330.33l-2.32 -2.56M541.69 314.38l-3.69 -1.1M547.92 311.46l2.56 -3.44M551.04 301.25l1.27 1.04M595.09 339.53l-0.49 3.95"/>
<polyline fill="none" stroke="#7e2a7c" stroke-opacity="0.6" stroke-width="1.2" stroke-linecap="round" stroke-linejoin="round" points="474.8,319.4 476,318.9 477.6,318.1 479.5,317.2 481.5,316.4 483.5,315.9 485.5,315.7 487.6,315.7 489.7,315.8 491.9,316.1 494,316.6 496.1,317.3 498.2,318.1 500.4,319.2 502.5,320.4 504.6,321.8 506.7,323.6 508.8,325.7 510.8,327.9 512.9,329.9 515,331.3 517.1,332.2 519.2,332.7 521.4,332.9 523.5,332.7 525.6,332.3 527.7,331.5 529.9,330.3 532,328.9 534.1,327.2 536.1,325.3 538.1,323.1 540,320.7 541.8,318 543.5,315.4 544.9,313 545.9,310.8 546.7,308.6 547.3,306.6 547.8,304.5 548.4,302.6 549,300.7 549.6,298.8 550.1,297 550.9,295.3 551.9,293.8 553.3,292.4 554.9,291.1 556.7,289.9 558.7,289 560.6,288.5 562.6,288.4 564.7,288.5 566.8,289 569,289.6 571.1,290.3 573.3,291 575.5,291.9 577.6,292.9 579.7,294.1 581.6,295.5 583.3,297.2 584.8,299.2 586.2,301.3 587.5,303.6 588.7,306 589.9,308.6 591.1,311.3 592.2,314.2 593.1,317.1 593.9,320 594.5,322.9 594.8,325.8 595,328.7 595.3,331.5 595.7,334.1 596.3,336.5 597.1,338.8 597.8,340.9 598.6,342.9 599.2,344.6 599.7,346.1 600.1,347.3 600.4,348.4 600.7,349.3 600.9,349.9"/>
<polyline fill="none" stroke="#8e3a8a" stroke-opacity="0.6" stroke-width="5" stroke-linecap="round" stroke-linejoin="round" points="588.7,300.8 590.7,300.9 593.5,301.1 596.7,301.3 599.9,301.2 602.7,300.8 605.1,299.9 607.2,298.6 609.3,297.1 611.3,295.4 613.2,293.8 615.2,292 617.3,290 619.2,288 620.8,286.2 622,285"/>
<polyline fill="none" stroke="#8e3a8a" stroke-opacity="0.45" stroke-width="0.8" stroke-linejoin="round" points="587,301.3 589.5,300.7 593.1,300.2 596.9,300 600.2,299.9 602.9,299.7 605.3,298.9 608,297.8 611,296.3 613.6,294.9 615.5,293.4 616.8,291.8 618,289.7 619.4,288 621.1,286.9 622.9,286.8"/>
<polyline fill="none" stroke="#8e3a8a" stroke-opacity="0.45" stroke-width="0.8" stroke-linejoin="round" points="587.2,299.8 589.5,300.8 592.5,302 596,303.1 599.7,303.8 603.2,303.4 606.2,302 608.5,299.8 610.5,297.5 612.2,295.2 613.9,293.3 616,291.9 618,290.2 619.9,288.2 621.3,285.9 622.1,283.9"/>
<polyline fill="none" stroke="#8e3a8a" stroke-opacity="0.45" stroke-width="0.8" stroke-linejoin="round" points="590.3,302.7 591.8,301.8 594,301.2 596.7,301.1 599.6,301 602.5,300.6 605.2,299.7 607.8,298.7 609.9,297.5 611.4,296.2 612.7,294.4 614.4,292.1 616.6,289.5 619,287.3 621.3,285.4 623,284.1"/>
<polyline fill="none" stroke="#8e3a8a" stroke-opacity="0.45" stroke-width="0.8" stroke-linejoin="round" points="592,302.6 592.6,301.6 594.5,301.1 597.4,300.8 600.8,300.6 604,300.3 606.4,299.4 608.2,298.3 609.7,296.8 611.1,295.2 612.9,293.5 615.1,291.6 617.4,289.5 619.2,287.5 620,285.6 619.9,284.2"/>
<polyline fill="none" stroke="#8e3a8a" stroke-opacity="0.45" stroke-width="0.8" stroke-linejoin="round" points="590.1,301.6 591.7,300.8 594.1,300.7 597,301.1 600.3,301.8 603.3,301.6 605.9,300.4 608,298.6 609.8,296.9 611.7,295.5 613.8,294.5 616.1,292.9 618.7,290.6 621.1,287.9 622.9,285.8 623.9,284.6"/>
<polyline fill="none" stroke="#8e3a8a" stroke-opacity="0.45" stroke-width="0.8" stroke-linejoin="round" points="590.2,304.2 591.4,302.5 593.5,301.6 596.5,301.5 599.7,301.6 602.6,301.3 604.9,300.5 606.8,299.1 608.3,297.4 609.9,295.4 611.6,293.6 613.7,292 615.8,290.3 618.1,288.4 620.2,286 622.1,283.3"/>
<polyline fill="none" stroke="#8e3a8a" stroke-opacity="0.45" stroke-width="0.8" stroke-linejoin="round" points="586.1,303.2 590.3,301.9 594.6,301.5 598,301.5 600.8,301.3 603.1,300.3 605.3,298.8 607.7,297.3 609.9,295.9 612,294.5 613.8,293.1 615.6,291.8 617.1,290.1 618.2,288 618.7,285.3 618.7,282.5"/>
<polyline fill="none" stroke="#8e3a8a" stroke-opacity="0.45" stroke-width="0.8" stroke-linejoin="round" points="588.7,300.2 590.3,299.7 592.8,299.9 596,300.6 599.4,301.3 602.5,301.5 605,301 606.8,299.8 608.3,298.1 610,296.2 611.9,294.1 614.2,291.8 616.4,289.5 618.3,287.5 619.7,286 620.8,285.2"/>
<path fill="none" stroke="#8e3a8a" stroke-opacity="0.35" stroke-width="0.6" d="M590.8 299.17l-0.22 -2.09M606.19 297.18l-2.62 -2.56M605.94 301.38l0.14 3.76M617.92 286.78l-2.09 -1.87M608.28 300l2.89 2.23M608.17 295.72l-2.78 -2.34M612.04 292.49l-2.78 -1.99M618.53 291.2l1.75 2.95M608.28 300l3.71 1.1M590.52 302.66l-0.49 1.76M619.56 285.02l-0.11 -2.65M588.8 299.05l-0.78 -1.95M596.65 299.55l1.27 -2.05M617.92 286.78l-1.86 -1.61M596.65 299.55l-0.91 -2.95M593.37 302.88l-1.35 1.85M610.41 298.41l0.79 2.28M590.8 299.17l0.84 -3.68M608.28 300l2.22 0.36M605.94 301.38l1.31 2.45M599.62 299.52l-0.25 -1.84M619.56 285.02l-1.37 -1.82M600.18 302.98l0.46 3.75M606.19 297.18l-1.62 -1.11M620.47 289.17l1.08 1.34M590.8 299.17l-1.07 -3.61M610.41 298.41l2.78 0M605.94 301.38l-0.22 3.13M618.53 291.2l1.89 0.1M603.34 302.43l1.26 2.31M614.36 295.11l2.42 1.9M613.98 290.77l-1.73 -1.23M612.39 296.77l3.16 1.53M593.37 302.88l-2.41 2.48M604.16 298.37l-2.9 -1.47M600.18 302.98l2.1 2.54M588.8 299.05l0.17 -2.58M619.56 285.02l-0.71 -1.79M616.44 293.26l0.91 2.1M610.14 294.09l-0.38 -3.31M593.37 302.88l-1.04 1.63M603.34 302.43l-0.34 3.02M610.41 298.41l0.04 1.63M590.52 302.66l1.04 2.05M602.06 299.17l-1.99 -3.08M622.1 287.43l2.4 2.32M618.53 291.2l1.66 2.25M593.37 302.88l-0.98 1.46M608.28 300l3.08 1M593.55 299.39l-1.42 -3.58"/>
<polyline fill="none" stroke="#6d2170" stroke-opacity="0.6" stroke-width="1.2" stroke-linecap="round" stroke-linejoin="round" points="588.7,300.8 590.7,300.9 593.5,301.1 596.7,301.3 599.9,301.2 602.7,300.8 605.1,299.9 607.2,298.6 609.3,297.1 611.3,295.4 613.2,293.8 615.2,292 617.3,290 619.2,288 620.8,286.2 622,285"/>
<polyline fill="none" stroke="#b25dab" stroke-opacity="0.55" stroke-width="6" stroke-linecap="round" stroke-linejoin="round" points="595.7,328.8 597.6,328.9 600.3,329 603.4,329.2 606.7,329.1 609.7,328.8 612.5,328.2 615.3,327.3 618.1,326.2 620.9,325 623.7,323.6 626.5,322 629.3,320.3 632.1,318.4 634.9,316.5 637.7,314.8 640.7,313.2 644,311.5 647.1,310 649.8,308.7 651.7,307.8"/>
<polyline fill="none" stroke="#b25dab" stroke-opacity="0.45" stroke-width="0.8" stroke-linejoin="round" points="599.4,327.4 599,328.2 600.4,329.1 603.5,329.4 607.4,329.2 611.2,328.4 614.5,327.7 617.3,327.1 619.6,326.5 621.3,325.8 623.2,324.8 625.6,323.3 628.9,321 632.6,318.3 635.7,315.9 637.9,314.2 640,312.9 642.8,311.7 646.4,310.5 649.9,309.7 652.8,309.4"/>
<polyline fill="none" stroke="#b25dab" stroke-opacity="0.45" stroke-width="0.8" stroke-linejoin="round" points="597.8,325.2 598,326.4 599.7,327.5 602.9,328.3 606.9,328.7 610.9,328.3 614.2,327.9 617.1,327.4 619.5,327 621.6,326.1 623.9,324.4 626.7,321.9 629.8,319.1 632.7,316.9 635.3,315.1 638.2,313.9 641.8,312.6 645.6,311.3 648.7,310.4 650.8,310 651.8,310.2"/>
<polyline fill="none" stroke="#b25dab" stroke-opacity="0.45" stroke-width="0.8" stroke-linejoin="round" points="596,329.1 598.2,327.9 601.2,327 604.3,326.6 607.3,326.4 610,326.5 612.9,326.3 615.9,326.1 619.1,325.6 621.9,325.2 624.6,324.3 627.1,323 629.6,321 632.1,318.7 634.6,316.2 637.2,313.8 640.4,311.6 644,309.8 647.2,308.5 649.4,307.7 650.3,307.3"/>
<polyline fill="none" stroke="#b25dab" stroke-opacity="0.45" stroke-width="0.8" stroke-linejoin="round" points="592.7,326.9 596.3,327.8 600.1,328.3 603.8,328.4 607.3,328.5 610.4,328.8 613.3,328.6 615.9,327.8 618.7,326.3 621.2,324.9 623.9,323.6 626.6,322.2 629.8,320.3 633.1,318.2 636.1,316.1 638.5,314.5 640.7,313.1 643.4,311.6 646,309.9 648.2,307.8 649.2,305.5"/>
<polyline fill="none" stroke="#b25dab" stroke-opacity="0.45" stroke-width="0.8" stroke-linejoin="round" points="599.1,330.3 599.8,329.2 601.6,328.4 604.6,327.9 608,328 611.4,328.5 614.4,328.5 617.1,327.9 619.5,326.7 621.9,325.5 624.2,324.6 626.5,323.7 628.7,322.2 631.5,320.1 634.5,317.7 637.8,315.7 640.9,314.2 643.9,313.2 646.5,312.2 648.7,311.3 649.9,310.5"/>
<polyline fill="none" stroke="#b25dab" stroke-opacity="0.45" stroke-width="0.8" stroke-linejoin="round" points="591.9,329.3 595.3,329 599.3,329 603.2,329.3 607.2,329.3 610.3,328.9 613,328.2 615.3,327.2 618.1,326.3 621.5,325.4 625.5,324.4 629,322.7 631.7,320.3 633.5,317.3 635.4,314.5 637.7,312.6 640.8,311.2 644.5,310.5 648.1,310.1 650.9,310.6 652.7,312.1"/>
<polyline fill="none" stroke="#b25dab" stroke-opacity="0.45" stroke-width="0.8" stroke-linejoin="round" points="596.6,328.5 597.5,328.5 599.6,328.6 602.7,328.8 606.2,328.9 609.6,328.7 613,328.2 616.2,327.4 619.4,326.3 622,325 624.3,323.6 626.5,322.2 628.9,320.7 631.8,319 634.5,316.8 637,314.5 639.2,312.3 642,310.3 645,308.6 648.1,307.4 650.5,306.7"/>
<polyline fill="none" stroke="#b25dab" stroke-opacity="0.45" stroke-width="0.8" stroke-linejoin="round" points="595.6,326.5 597.7,327.5 600.7,328.6 603.9,329.3 606.9,329.3 609.6,328.7 612.3,327.5 615.7,326.3 619,324.8 622.2,323.6 624.8,322.2 627.3,321.1 629.9,319.7 632.6,318.2 635.1,316.4 637.4,314.7 639.8,313 642.9,311.3 646.7,309.7 651.4,308.2 656.2,307"/>
<polyline fill="none" stroke="#b25dab" stroke-opacity="0.45" stroke-width="0.8" stroke-linejoin="round" points="594.5,326.6 597.1,329.1 600.4,330.9 603.7,331.4 606.7,331 609.3,329.8 611.7,328.2 614.2,326.9 616.8,325.7 619.6,324.8 622.6,323.7 625.5,322.3 628.2,320.4 631,318.2 633.9,316 637.3,314.2 640.7,313.2 644,312.5 646.6,311.7 648.6,310.6 649.7,309.4"/>
<polyline fill="none" stroke="#b25dab" stroke-opacity="0.45" stroke-width="0.8" stroke-linejoin="round" points="595.9,328.6 597.1,328.7 599.4,329.2 602.7,329.7 606.4,330.3 609.7,330 612.7,329.3 615.8,327.8 619,326.5 621.8,324.9 624.3,323.6 626.6,321.7 629.5,319.7 632.9,317.3 636.7,315.4 639.9,313.8 643.1,312.3 645.8,310.6 648.4,309 650.3,307.6 651.5,306.5"/>
<path fill="none" stroke="#7a5a9a" stroke-opacity="0.35" stroke-width="0.6" d="M610.17 330.85l-0.46 1.87M648.01 311.9l4.1 2.2M595.79 326.7l1.36 -2.66M638.7 316.65l1.84 1.47M643.05 309.65l0.54 -2.94M613.13 330.15l1.06 1.2M606.45 327.05l0.83 -2.79M610.17 330.85l0.19 1.52M614.55 325.31l0.11 -3.87M630.47 321.99l0.89 2.72M595.79 326.7l0.53 -3.32M619.99 323.06l-3 -2.9M646.2 308.12l-1.13 -4.25M627.63 323.81l1.21 2.82M630.47 321.99l4.23 1.02M635.99 318.3l0.49 4.89M618.95 328.11l1.23 1.79M603.4 327.07l3.4 -1.97M616.05 329.23l-0.41 1.96M648.01 311.9l1.06 1.12M627.63 323.81l0.22 2.54M641.67 315.05l4.13 -2.11M648.01 311.9l2.25 3.78M624.72 325.43l2.45 1.1M630.94 316.61l1.71 -3.28M595.79 326.7l0.45 -1.71M625.37 320.27l-2.3 -4.05M611.87 326.15l-0.6 -1.81M639.78 311.3l-1.14 -3.76M595.61 330.9l1.74 3.44M595.79 326.7l0.09 -3.25M595.61 330.9l-0.02 3.72M595.79 326.7l0.08 -3.27M636.7 312.95l-1.19 -2M633.81 314.71l-0.19 -2.09M650.71 310.61l1.42 0.98M650.71 310.61l0.6 1.94M641.67 315.05l2.05 1.46M636.7 312.95l0.16 -1.64M636.7 312.95l-2.84 -1.72M643.05 309.65l0.37 -1.81M644.89 313.42l0.75 3.76M628.13 318.51l-0.51 -4.33M597.73 326.79l-0.83 -4.84M606.45 327.05l-4.57 -1.75M611.87 326.15l-0.19 -1.51M638.7 316.65l3.08 3.41M648.88 306.83l0.28 -3.03M600.21 331.15l-2.13 1.84M638.7 316.65l-1.05 2.99M597.73 326.79l-0.55 -2.44M618.95 328.11l-2.5 3.45M597.73 326.79l0.27 -2.08M617.25 324.27l1.11 -3.22M628.13 318.51l-1.23 -2.14M606.45 327.05l1.99 -3.79M600.21 331.15l1.81 3.04M619.99 323.06l-3.58 -3.05M610.17 330.85l0.93 4.72M614.55 325.31l-1.68 -3.25M617.25 324.27l-0.85 -1.89M628.13 318.51l-0.51 -2.46M603.4 327.07l2.21 -1.17M616.05 329.23l-0.55 2.64M622.68 321.77l-3.14 -3.6M610.17 330.85l-0.02 2.98M597.47 330.98l-0.99 1.18M633.81 314.71l-1.66 -3.81M648.88 306.83l-1.08 -2.7M619.99 323.06l2.83 -1.91M622.68 321.77l-1.56 -1.77M617.25 324.27l-2.81 -2.68M600.38 326.95l-2.27 -2.4M639.78 311.3l-1.29 -2.01M635.99 318.3l2.54 4.18M603.4 327.07l0.53 -4.65M635.99 318.3l2.18 3.19M606.91 331.22l1.91 3.38M643.05 309.65l-3.01 -2.15M643.05 309.65l-3.88 -1.68M606.45 327.05l-2.54 -4.1M616.05 329.23l0.53 2.92M624.72 325.43l0.77 3.17M619.99 323.06l-1.05 -3.99M595.79 326.7l-3.94 -2.38M643.05 309.65l-1.7 -1.43M643.05 309.65l-1.6 -2.05M628.13 318.51l-0.74 -2.45M603.45 331.27l-2.91 -0.42M617.25 324.27l-0.62 -2.31M630.94 316.61l-0.54 -2.02M611.87 326.15l-4.4 -0.09M619.99 323.06l-1.5 -1.65M618.95 328.11l3.57 3.39M595.79 326.7l4.05 -2.72M597.47 330.98l-3.54 2.75M644.89 313.42l2.26 2.49M639.78 311.3l-0.81 -3.69M595.61 330.9l-0.67 1.82M603.4 327.07l1.18 -2.45M600.38 326.95l0.68 -1.51M600.38 326.95l-0.04 -2.03M650.71 310.61l-0.22 2.56M614.55 325.31l-0.54 -3.89M595.61 330.9l0.66 1.85M630.47 321.99l0.24 4.71M648.01 311.9l3 2.01M639.78 311.3l-0.52 -1.8M650.71 310.61l2.62 1.89M609.23 326.75l-1.86 -1.41"/>
<polyline fill="none" stroke="#7e2a7c" stroke-opacity="0.6" stroke-width="1.2" stroke-linecap="round" stroke-linejoin="round" points="595.7,328.8 597.6,328.9 600.3,329 603.4,329.2 606.7,329.1 609.7,328.8 612.5,328.2 615.3,327.3 618.1,326.2 620.9,325 623.7,323.6 626.5,322 629.3,320.3 632.1,318.4 634.9,316.5 637.7,314.8 640.7,313.2 644,311.5 647.1,310 649.8,308.7 651.7,307.8"/>
<path fill="none" stroke="#b866b0" stroke-opacity="0.25" stroke-width="0.8" stroke-linecap="round" d="M535.2 324.9l5.8 -4.1M557.7 288.3l8.5 0.9M597.9 345.4l-0.6 8M522 332.7l7.3 -3.2M493.5 318l7.4 0.3M549 299.3l-1.5 -5.3M571.8 286.6l8.5 5.1M523.1 329.5l5.1 -3.3M593.7 337.1l4.2 5.5M600.8 346.7l-0.4 5.8M482 315.3l7.1 -0.3M480.6 313.7l6 -0.5M540.3 318.9l2.5 -6.1M599.3 339.7l0.1 5.4M475.4 321.2l6.8 -3.1M521.2 338.7l8.3 -5.1M588.8 313.2l5 8M488.3 313.5l7.2 5.2M494.3 317l5.6 2.6M598.4 341.8l2 6.5M534.9 326.9l8 -5.2M590.2 311.3l0.9 7.1M514.6 324.6l1.5 9.5M545.6 307.7l3.4 -3.8M519.4 332.5l5.1 2.4M536.8 329.1l2.9 -4.9M555.3 290.8l2.4 -4.4M594.6 325.4l-1 5.6M479.2 321.1l3.6 -6.9M595.2 317l2.8 5.5M504.3 324.8l7.6 5.7M492.3 314.2l4.8 1.5M586.4 304l4.7 8M579.7 293.8l4 4.1M588.9 317.6l6.3 4.6M521.5 334.1l8.2 -4.8M593.1 314.5l3.1 4.2M577.5 293.3l7.1 4.8M512.5 334.6l7.5 -2.2M579.4 293.1l4.8 4.3M507.7 324.5l4.3 4M548.4 316.3l0.9 -5.4M472.2 319.1l9.5 -1M545 310.8l1.9 -9.8M508 326l4.9 2.1M520.9 332.2l7.9 -1.7M569.4 291.7l9.5 -1.5M599.4 334.9l-2.3 9.7M487.9 314.3l6.6 1.9M487.1 313.9l8 -0.5M498.2 319l4.6 3.6M530.9 325.5l6.9 -3.2M596.1 330.7l0.7 7.1M572.5 290.7l4.7 3.6M572.1 288.6l7.3 1.6M520.8 335.2l6.5 -3.3M480.7 317.7l9.7 0.2M523.4 331.2l4.1 -3.2M495.8 316.8l3.6 3.8M592.6 314.7l3.4 5.5M504.1 324.1l8.1 3.3M546.3 307.8l1.3 -5.9M576.6 294.3l8.5 1.1M552.1 304.2l-2.4 -6.1M596.7 331.1l0.5 5.7M544.2 313.2l6.3 -6.6M526.6 332.1l7.7 -2.7M501.5 318.1l7.3 5.4M511.2 330.5l4.8 1.7M547.5 299.9l4.9 -3.3M491 316.5l4.8 2.6M546.5 296.2l5.7 -6.3M501.1 318.7l5.2 2M543.7 306l4.3 -8M592.8 315.4l1.8 9.2M585.6 303l3.5 6.4M528.8 326.3l8 -5.4M586.8 307l8.5 4.6M596.6 339.1l4.7 5.8M547.7 309.5l1.3 -6.4M505.9 321.5l5 8.1M473.6 319l5.3 -5.7M499.7 321.9l9.3 3.4M500.1 318.6l4.8 5.2M584.9 299.4l5.3 8M600.1 343.5l0.5 6.4M513.9 328.9l5.2 5.4M550 303.5l5 -5M529 326.1l7.3 -1.8M588.4 303.5l0.3 7.9M591.8 323.1l4 7M505.4 321.4l3.8 6.1M561.4 283.2l6.9 2.5M548.4 298.8l1.7 -5.6M586.9 303.4l5.7 7.3M472.5 317.7l9 1.1M553.7 291.6l7.3 -0.8M506.7 325.4l7.2 4.6M566.4 291.6l7.3 2.7M570.9 291.2l6 0.3M520.2 334.2l5.6 -6.2M513.9 324.1l-0.8 9M547.6 293.3l4 -4.4M524.2 335.2l8.1 -5.1M502.9 320.5l7 6.4M497.9 319.4l5.6 0.8M573.4 292.1l6.9 1.9M553.4 293.9l7.3 -6.1M543 316.1l1.5 -9.7M597.8 335.3l-0.8 8.5M506.4 327.1l8.4 4.5M593.2 336.5l8 5.2M588 299.8l3.1 7.6M550.2 305.3l-0.5 -7.1M516.5 328.5l4.8 5.8M560.2 291.1l9.7 -1.3M592.4 331.3l2.8 7.5M586.8 297.7l0.4 5.9M473.3 316.4l6 -1.6M499.4 324.2l5 1M480.3 315l5.7 0.9M597.4 343.3l0.7 5.6M545.7 306.6l3.9 -4.9M568.9 293.2l7.6 1.3M602.6 343l2.8 9M592.9 316.7l1 5.5M504.5 323.1l2.9 5M505.6 324l4.8 4.5M546.3 299.3l6.3 -4.5M551.9 295.3l9.2 -3.8M597.8 342.6l1.9 4.8M590.8 329.5l5.2 7.1M593 318l4.1 5.2M538.8 323.9l3.1 -5.3M598.7 340.8l0 7.9M582.3 299.4l2.7 5.5M484.8 316.7l8.8 -1.1M583.3 293.6l3.4 3.7M537 324.6l3.5 -5.2M599.3 338l1.6 4.9M596.8 317.1l-0.4 7.5M551.5 294.1l7.3 -6.4M482.2 317.6l7.8 1.1M540.4 323l5 -5.9M539.1 321l4.8 -7.3M518.6 336.2l7.7 -1.9M597.8 338.7l2.1 6.1M543.7 319.1l0 -8.5M595 322.2l-0.8 5.6M594.5 329l1.6 7.9M546 306.2l2.7 -7.9M524.4 331.2l8.8 -1.9M544.8 296.5l3.2 -5.6M490.5 314.7l8 3.4M536.5 323.9l6.7 -2.3M512.4 331l4.5 4.9M502.8 324.6l5.8 2.3M560.7 286.3l9.1 0.3M483.6 315.3l5.4 2.4M593.7 329.4l-0.4 5.3M470.9 321.6l8.6 -4.9M560 288l6.6 1.5M491.7 320.5l5.4 -1.3M596.2 322.6l-2.2 8.4M527 334.6l7.4 -4.8M578.5 289.6l5.1 3.1M593.2 327.6l3.1 5.8M587.7 312.6l3.8 6.1M470.5 318.9l7.6 -3.6M513.8 328.9l8 1.8M481.1 321.3l5.3 -6.2M485.8 315.1l5.4 -0M591.4 322.4l6.5 7.4M539.6 318.7l2.4 -8.7M596.4 326.1l-0.9 5.1M594.4 316l-0.3 9.5M525.5 329.8l6.6 -4.6M513.7 331.5l5.5 -1.4M484.7 315.1l6.1 2.4M511.1 329.3l6.3 6.3M521.6 333.3l5.4 -2.3M479.1 319.9l6.7 -3M574.9 289.2l8.3 4.5M515.3 333.6l5.5 -1.2M474.4 321.6l5.2 -6.2M590.6 308.5l1.1 9.1M536.9 327.2l6.6 -5.8M499.6 320.1l3.6 3.7M554.8 292.6l6.7 -6M579.5 292.6l6.5 6M524.1 333.4l6 -5.6M534.8 330.2l4.7 -7.7M527.6 331.5l5.4 -6.8M581.6 297.8l4.5 6.4M584.8 300.6l2.1 4.9M557.4 286.2l6.4 -0.5M605.2 345l1.6 6.6M489.5 313.6l5.9 2.2M597.8 320l-0.3 7.8M560 289l6.2 -0.4M594.3 337.4l1.9 8.7M531.2 329.5l6.1 -6M491.6 316.3l6.5 -0M590 307.3l1.1 7.9M594.7 319.7l0.1 7.1M592.2 312.6l-2.3 7.9M601.8 341.7l-1.6 6.1M551.9 296.9l3.8 -7.9M490.9 311.6l6.8 3.5M509.8 325.7l5.6 4.6M483.5 316.2l5 1.6M552.5 292.6l2.4 -6.1M504 315.7l3.4 5.1M593.7 309.2l1.5 6.9M520.5 332.2l8.9 0.6M580.5 294.4l7.8 3.4M587.2 304l0.6 7M506.9 323.1l4.8 4.8M495.2 316.9l7.4 1.9M505.6 315.8l6.7 6.6M531.1 326.6l6.1 -0.2M500.6 323l6.8 1.6M526.2 334.4l4 -6.2M590.2 312l0.7 9.3M546.3 302.9l2.8 -9M508.2 325.7l5.4 5.4M563.7 291.4l6.3 -0.4M551.3 303l0.8 -6.7M494.5 316.6l7.8 4.2M475.3 314.9l6.6 -2.8M511.1 327.2l4.8 5.8M505.7 324.3l3.6 6.3M530.7 335.8l5.4 -1.9M591.3 320.4l5.3 4.9M593.2 334.7l4.1 4.6M526.1 332.9l4.6 -2.4M520.8 332.9l6.9 -1.4M533.9 329.2l3.8 -4.4M546.4 300.9l4.8 -7.3M553.9 291.1l10 -0.1M574.3 293.6l7 1.9M546 313.5l4.8 -5.8M512.2 328.4l8.6 5M589.1 313.5l2 6.1M561.7 288.6l5.2 0.5M596.2 329.9l-0.6 9.3M545.9 292.6l8.2 -4.7M519.8 331.7l8.8 -0.9M531.6 332.3l3 -4.6M579.5 298l6.2 3.3M556.5 289.8l7.8 -2.2M491.3 314.5l8.3 2.4M576.7 291.1l4.8 6.9M516.4 334.7l6.6 -2M505.2 321.6l5.7 7.2M484.8 314.8l8.9 3.8M596.4 342l5.6 4M580.3 291.7l5.4 7.3M582.6 297.1l3.3 6.1M587.3 304l4.1 7.4M527.7 330.9l7.5 -3.6M573.1 286.8l5.3 5.4M566.4 291l4.7 2.6M599.9 325.4l-2.8 6.8M596.7 337.8l3 7.1M532.1 325.6l8.5 0.9M542.8 307.5l4.8 -5.9M550.5 293.2l4.6 -2.3M593.8 311.1l3.5 9M530.3 331.8l6 -6.5M563.4 288.9l6.6 1.4M597.1 329.1l1.1 6.1M486 318.4l7.1 -1.2M578.4 295.8l7.5 0.7M483.1 317.8l8.9 -4.1M508.9 325.9l7.5 6M531.3 334l4 -5.2M537.4 321.1l7.4 -2.6M577.6 292.5l5.3 3.2M522.7 331l6.8 3.1M582.3 297.6l3.7 4.7M591 337.1l4.4 5.7M600.4 346.2l2.3 5.2M543.8 301.7l5.8 -8.1M559.3 289.4l6.4 0.5M513.8 335.2l9.3 -1.7M595.7 339.3l3.4 6.4M530.2 330.3l5.4 -4.7M513.5 324.9l5.1 6M544.4 311.1l5.2 -8M567.6 286.6l3.9 6.3M585.4 304.7l5.5 7.4M563.7 293.2l7.2 0.8M546.2 308.5l4.3 -6.4M581 293.2l7 4.1M593.9 324.1l0.2 7.5M542 315.7l3.7 -7.7M476.6 320.4l4.8 -4.7M591.4 312.8l-0.7 8.3M563.5 286.3l7 7M504.3 324.6l6.6 4.7M508.6 324.2l3.8 5.5M547.6 310.8l0.9 -8M599.1 325.4l-0.4 9.9M559.3 288.3l9.8 2M595.3 331.3l3.1 4.7M500.4 317.5l6.5 7M510.7 328.6l4.5 4M507.3 323l3.5 6.4M475.1 316.5l8.4 -3.1M542.6 305.1l5.9 -5.7M583 299.9l3.9 5.1M589.7 301.6l-0.4 9.4M547.2 311l6.3 -7.2M483.5 314.7l9.6 2.8M592.1 315l-0.9 7.2M583.4 291.1l2.7 6.3M503.9 326l6.3 2.6M485.3 315.4l8.7 0.4M535.7 325.9l3.9 -9.1M549.3 290.8l7.6 -4.5M578.2 294l5.6 5.1M545.8 311.6l3.6 -6.1M507.8 321.8l3.3 7.9M542.8 312.2l3.3 -6M591.9 303.3l-1.7 7.6M485 316.4l4.6 -2.3M561.7 290.2l5 0M474.4 323.4l4.3 -4.9M594.4 327.4l2 7.9M528.3 334l6.9 -3.4M506.9 325.3l6.9 6.3M531.9 330.3l4 -4.4M556.9 294.4l6 -6.3M532.2 328.2l4.5 -7.7M538.9 320.4l6 -5.3M554.4 290.3l8.4 -1.1M533.8 330.7l4.3 -3.8M591.8 323.8l0.1 5.6M593.3 313.2l2.3 7.8M483.3 313.8l8 0.2M489.2 318l8.7 0.2M595.1 318.5l2.6 7.5M593.1 330.4l5.7 7.2M539 319.8l2.9 -6.7M600.2 344.1l0.2 8.6M552.8 293.7l7.2 -2.4M479.2 316l6.7 -0.1M523.8 332.1l6.3 -6M597 327.1l-0.2 5.6M594.3 316.6l0.9 9.2M491.4 318.3l5.4 -2.5M597.7 345l0.7 9.3M595.2 339.5l4.6 7.2M495.8 317.5l4.6 2M527.2 330.7l7.4 -4.3M533.9 326.8l4.4 -6.1M599.4 344.9l5.3 7.8M541.2 322.8l2.3 -6.8M541.1 327l2.9 -7M560.9 290.7l7.1 -3.5M479.2 319.9l6.5 0.1M575 290.2l4.9 1.6M535.7 327.6l3.6 -7M505.4 328.1l6.1 1.3M584.7 299.2l5 6M594.2 312.1l0.2 8M577.6 292l6.1 6.6M596.1 335.4l2.9 7.1M581.2 294.1l2 5.9M493.8 315.3l6.4 0.6M585.9 297l3.3 7.7M547.4 299.6l1.6 -7M513.7 329.5l8.1 0M521.1 335.5l5.5 -6M489.6 318.5l4.7 4M480.5 315.7l6.8 -4.3M594.3 330.1l2.4 7M562.4 287.6l9.3 3M514.9 334.3l6.2 -1.7M535 324.2l7 -4M532.5 325.4l6.1 -6.2M473.3 322.4l6.6 -5M593.5 316.9l-1.5 7.2M548.6 308.6l-0.8 -7.3M570.5 291.4l8.1 0.8M580.3 290.9l2.9 5.3M535.6 328.3l2.8 -4.6M583.1 303.6l5.5 5.8M560.8 289.3l7.4 2.5M541.9 315.6l2.1 -7.4M581.7 292.6l4.3 2.8M562.6 287.6l8.2 3.4M504.5 320.9l7.3 5.7M519.5 330.6l6.7 1.9M526.8 328l7.7 -3.3M475.3 317.9l5.2 -2.1M524.2 332.3l6.2 -1.6M475.5 319.9l7 -1.1M560.2 285.8l5.2 2.8M562.6 287.6l8.8 4.7M503.5 323.8l7.7 4.6M589.7 312.1l4.5 8.7M498.8 319.3l4.7 3.5M546.6 296.9l4.1 -4.2M600.5 341.6l-1.1 8.3M593.9 329.2l1.7 8.4M518.2 334.6l5.3 -0.5M553.5 290.1l7.3 -4.4M590 307.8l0.5 9.8M494.8 313.5l3.3 7.9M524 330.9l4.6 -3.4M489.8 312.9l8 3M475.3 321.8l7.7 -4.5M532.8 329.4l8 -4.7M510.2 323l5.8 6M596.3 315.6l0.1 5.9M492.3 315.6l8.9 0.5M569.9 287.6l5.1 7.4M509 329.1l5.4 3.3M532.6 330.2l3.4 -4.2M484 311.9l8.5 0.6M473.4 320l7 -6.9M590.2 313.3l5.3 7.4M592.8 334.1l1.8 9.2M555.2 291.6l8.5 -4.1M513.8 329.8l5.8 1.7M550.9 301.2l0.5 -5.4M498.3 320.8l9 3.4M544.1 314.2l3.7 -6.9M506.9 322.6l7.3 5M539.3 324.1l2.2 -9.6M587.5 301.9l7.6 5.4M594.8 312.8l-0.1 7.5M599.8 340.5l-1.1 6.7M545.5 310.2l1.5 -5.6M517.6 332.7l7.1 -3.3M596.2 320.5l-2.7 8.9M573.2 286.2l6.3 5.2M532.2 327l5.6 -6.6M472.8 322.3l6.8 -3.2M520.8 336.9l6.7 -2.5M558.9 287.8l9.7 1.8M546 305.5l4.3 -5.2M586.5 301.2l2.2 6.5M587.6 301.7l2.5 7.8M595.5 317.5l0.9 6.3M547.4 294.7l7.3 -5.6M490.5 317l6.4 -2.7M580.7 292.7l5.2 3.8M515.4 329.6l9.3 1.8M549.7 297.4l5.5 -6.8M522.1 337.5l5 -2.7M530.7 330.4l4.2 -3.9M546.5 308.4l2.2 -8.6M584.6 302.7l1.5 5.1M520.7 335.3l5.1 -2.5M504.7 323.6l4.3 4.4M540.3 320.5l4.6 -2.9M536.6 326.6l4.2 -4.4M596 319.8l-1.1 9.2M537.1 322.9l5.7 -6.6M528 333.9l7.7 -5.3M551.6 293.5l7.2 -4.1M575.5 291l8.4 4.8M498.1 318l8.3 2.7M593 330.4l2.3 6M499.8 317.4l7.3 2.6M498.4 318.3l4.9 7.4M536.9 321.7l7.1 -6.8M546.3 300.9l1.9 -6.4M595.6 330.1l0.2 7.1M593.5 322.4l2.1 8.1M598.2 328.8l-0.5 7.5M596.2 325.2l-4.2 6.4M551.9 290.8l6.8 -5M586.8 301.1l5.1 6.3M487.1 316.3l8.9 0.4M494.9 312.9l6.7 4.1M546 316.3l3.5 -7.7M594.8 312.6l-0.4 6.8M583.3 298.6l5 7.7M540.6 317.9l3.1 -3.9M593 331.7l4.4 6.7M520.5 334.6l8.4 -5.2M506.9 323.4l2.9 4.7M514 325.2l1.7 6.4M538.4 324.6l3.5 -5.6M497 317.1l7.4 3.5"/>
<path fill="none" stroke="#6a6090" stroke-opacity="0.25" stroke-width="0.6" stroke-linecap="round" d="M583.1 296.3l5.2 2.2M577.7 290.1l4.5 0.6M595.9 334.3l2.4 4.1M570.7 292l3.6 -1.3M483.9 310.6l6.3 2.3M602.5 352l-3.8 0.3M521.4 332.7l2.7 -4.9M540.1 323.4l2.7 -5.2M595.8 313.8l-2 2.9M575.5 288.2l-1.5 6.3M555.4 293.5l2.8 -3.8M575.4 288.8l4.3 2.9M502.5 323.2l3 -0.7M541.7 324.8l1.2 -6.3M483.6 315.6l3.8 0.8M553.9 293.3l-1.5 -3.9M490 319.7l2.8 1.5M592.1 311.8l1.8 6.8M539.8 331l3.8 -4.6M554.9 292.6l3.6 -2.9M559.9 289.3l1.5 -2.8M550.9 296.9l5 -4.1M550.7 297.1l-0.3 -5.7M594.5 308.7l-0.8 5.2M574.3 289.4l3.5 2.4M483.5 317.4l5.4 -0.3M560.4 288.3l4.3 2.2M509.6 319.2l0.9 5.5M546.7 296.7l2.8 -5.6M539 317.7l4.2 2.8M583.5 292.8l-3.5 5.4M527.4 326.6l3.1 -0.7M519.2 335.3l2.7 -4.4M509.5 322l0.6 3.1M499.1 315.7l4.7 0.6M526.1 333.2l-4.1 4.1M551.3 290.7l3.7 -1.1M594.1 330.4l-0.7 3M496.4 314.5l0 3.6M491.4 309.4l4.7 0.7M548.7 309.1l0.3 -6.6M579.3 293l5.6 1.4M575.9 295.5l5.6 -0.2M488.5 319.1l3.2 1.9M547.3 302.9l3.4 -4.6M547.7 303.6l4.7 -3.3M599.3 321.3l3.2 3.8M520.3 334.4l1.8 -6.5M513 322.4l4.1 2.6M545 306l-1.3 -3.8M511 324.9l1.6 6.1M546.8 298.6l3.6 -5.5M551.9 294.7l5.1 -0.6M494.3 317.6l3 6.1M476.7 315.8l4 4.1M548.7 300.2l1.2 -4.6M556.9 287.4l5.4 3.1M541.5 315.5l2.9 -3.4M594.5 330.7l0.8 6.9M598.5 327.2l-4.5 1.9M557 292.8l3.7 -2.8M531.9 330.4l1.6 -5.3M520.3 328.9l3.4 1.3M550.1 301l3.6 -5.5M572.9 289.1l-0.6 3.4M585.1 306.2l-0.2 4.4M598.3 323.1l3.9 3.2M522.6 328.8l3.5 4.3M554 291.2l2.8 -3.9M548 295.4l5.2 0.8M546.7 308.4l-0 -4M547.5 301.2l4.1 -3.6M598.3 341l-1.3 3.5M599.7 335.6l-1.1 4.6M537.3 328.1l6.1 -0.9M591.3 307l-1 3.5M564.3 285.8l4.4 -2M482.2 320l2.4 -2.2M586.6 306.9l5.8 0.4M549.5 309.8l-2.6 -4.3M565.9 290.1l1.3 3.6M592.4 340.1l4.8 4.1M539.9 319.5l3.3 -5.3M519.9 335l1.3 -6.2M534.6 325.1l5.9 2M595.5 324.2l2.1 2.9M527.4 331.2l3 1.4M487.4 319l2.7 -1.6M530.2 326.3l5.4 -1.4M594.9 314.9l-0.2 3.9M508 323.2l5.5 3.9M601.1 339.2l-1 4.8M581.8 295.3l-0.5 3.2M596.6 335.5l4.5 2.5M559.3 291.3l3.4 -1.1M474.6 320.9l5.3 0.8M575.3 291.7l3.6 2.1M522.8 333.8l2.8 -3.6M477.8 314.7l4.1 -0.4M488.5 316.5l6.6 -2.2M510.2 328.8l5.1 2.1M553.3 293l5.8 -3.2M473.3 318.7l5.1 0.4M518 334.1l4.2 2.1M534.2 321.1l1.9 -5.7M594.5 340.2l3.7 3.1M549.6 310.6l0.3 -6.5M568.5 295.9l6.2 -1.9M547.8 293.2l1 -3M536.5 322.8l3.4 -2.5M566 282.9l5 4.9M481 314.5l5.6 0.8M496 315l1.7 3.1M557.4 290.2l4.3 -1.1M481.7 307.5l4.3 1M502.7 318.7l6 3.6M519.7 333.3l1.7 -3.1M554.8 296.3l-3 -4.1M503.3 325.2l3.5 3M491.1 317.4l2.3 -2.3M593.6 312.1l-2.4 5.9M595.8 337.8l0.6 6.2M485.9 318.5l-3.8 -3M546 302.3l-2.1 -3.2M545.1 299.9l-2.7 -5.8M527.3 335.3l2.8 -1.8M479.2 318.3l4.6 0.7M591.1 304.2l-4 3.8M585.5 290.1l5 3.6M508 328.8l4.5 -0.9M504.9 327.8l2.3 4.6M504.3 324.1l3.3 -0M540.7 321.8l4.6 -3.4M588.5 312.6l3.7 1.5M540.2 322.9l3.1 -5.2M592.7 307.5l-4.9 4M541.7 313.9l2.9 -2.1M577.8 292.5l5.7 2M590.6 305.9l3 5.6M515 319.1l1.4 6.6M530.9 324.4l6.3 2.3M590.7 300.3l1 4.2M551.6 310.2l-1.6 -5.8M506.5 321.3l-0.3 3.5M580.5 304.3l6.5 0.2M513.5 332.7l3 4.2M590.3 307.6l3 4.8M513.3 333.7l3.4 -1.7M599.4 345.2l3.2 -2.6M592.4 308l1.6 3.3M596.4 315.1l2.4 4M596.9 327.6l-3.7 -2.8M506.3 325l2.4 1.8M567.8 290.8l5.1 -0.7M599.3 339.3l3.2 1.3M519.5 337.4l-2 -5.6"/>
<path fill="none" stroke="#b866b0" stroke-opacity="0.25" stroke-width="0.8" stroke-linecap="round" d="M616 327.1l8.6 -4.5M599 327.5l9.8 1.5M599.8 328.3l8.4 -0M641.4 316.2l6.4 -4.6M613.3 328.8l5.8 -2.7M609.3 328.6l8.6 -2.1M594 329.6l5.1 1M605.3 325.1l8.2 1.9M638 317.2l7.2 -4.2M598.9 328.3l9.2 3.3M626.8 324.3l5.2 -2.9M607 326.1l4.9 -1.5M594.8 327.6l5.6 -1.6M638.2 312.8l5 -4.3M607.6 330.2l8 -2.2M595.2 328.5l6.1 -0.1M626.8 323.5l7 -5.8M643.2 307.1l9 2.7M596 329.6l5.3 2.7M604.7 326.5l6.3 -0.1M611.7 331.8l6.9 -2.6M596.5 330.2l5.2 2M633.9 313.3l4 -3.1M599.5 326.8l9.6 1.3M643.3 308.5l5.4 -1M634.6 315.2l7.1 -5M623.3 321.5l6.5 0.6M621 325.5l7.4 -2.1M636.8 314.9l6.3 -1M613.1 327.4l8.2 -2.1M605.5 328.4l9 -2.3M636.4 314.6l8.1 -5.5M608.4 328.8l6.4 -2.5M615.8 328l7.1 -4.6M641.8 317.3l4.9 -2.7M619.6 327.8l4.9 -4.1M617.1 322.9l4.9 -1.2M607.7 330.1l8 -3.9M613.6 325.9l7.6 -1.4M617.4 324.7l8.8 -2M618.3 325.5l7.5 -4.5M596.3 328.3l8.2 -1M629.5 321.3l3.4 -6.4M607.4 327.6l5.8 1.1M621.8 324.7l5.2 -0.9M633.4 318.8l7.2 -1.8M604.4 327.8l8.8 1.7M632.5 320.6l4 -5.8M638.7 315.1l8.8 -4.3M640.2 305.8l9.8 -0.1M597.4 330.1l7.9 1.4M638.7 310.9l6 -2.1M645.6 307.4l6.2 -1.3M632.2 317.7l4.9 -3.4M624.6 325.2l5.1 -3.1M615.8 325.7l5.9 -3M642 310.2l9.1 -0.9M643.1 313.5l4 -3.1M627 318.1l8.7 -3.7M596.8 330.4l5 -3.5M591.6 329.1l8.9 -1.2M619.4 324.1l4.5 -3.4M609.9 327.9l6.6 0.8M625 324.1l6 -4.8M597.5 327.7l7.8 3.5M620.3 325l6.3 -3.5M635.9 314.7l5.9 -3.5M594.5 329.4l6.1 0.4M643.6 310.7l8.2 -3.1M618.6 327l4.3 -3.2M635.4 314.7l9.9 -0.5M637.5 313.9l9.7 -1.4M616.2 331.4l5.3 -7.7M607.8 327.2l6.7 -2.8M624.9 322.3l4.7 -2.8M644.8 310l9.3 -2.6M616.8 325.3l6.6 -3.5M638.5 312.7l9 -0.5M605.3 330.4l8.4 -2M643.7 308.2l6.9 0.1M624.6 324.2l4.5 -3.8M628.9 317.9l5.2 -2M610.3 329l5.1 -0.4M615.3 325.5l7.9 -4.4M619.4 327.6l6.6 -5.3M647.5 310.3l8.7 -4M606.8 331.2l6.9 -5.4M597 327.6l7.6 1.8M625.5 324l2.7 -5.5M644.6 309.4l8.2 -3.5M615.7 328.1l7 -3.9M610 328.8l8.3 -4.4M601.3 325.9l6.6 1.1M595.9 331.7l7.4 -0.7M625.7 318.9l7.3 -2.8M627.2 324.7l6.6 -3.7M623.1 327.6l5.3 -5.5M633.8 320.9l5.3 -4.1M594.4 328.3l9.5 1.5M644.8 307.9l9 -0.3M620.9 327l4.3 -5M633.4 312.8l8.2 -2.4M613 325.4l6.2 -1M611.5 328.8l6.6 -4M618.1 324.2l7.4 -0.6M614.6 325.2l5.2 -3M644.6 311.7l7 -3.3M647.3 310.7l5.8 -4.8M629.5 319.9l5.9 -4.2M644.9 312.1l6 -3.2M639.1 312.1l4.6 -3.7M613.6 328l6.3 -1.8M621.8 320.7l6.4 -2.9M606.5 327.6l5.7 1.4M630.3 319.1l8.9 -3.3M646.3 307.3l6 -2.3M609.4 330.5l8.4 -4.4M591.9 329.1l8 -1.7M634.1 321l6 -5.7M606.9 333.4l7.5 -5.7M635.9 316.4l5.1 -4.5M624.9 319.5l6.4 -3.5M631 320.1l6.1 -3.5M624.2 324.6l6.2 -4M596.3 326.9l6.2 4.5M626.6 323.5l8.2 -5.3M615.1 326.2l8.7 -2.1M630.8 322.4l6.6 -5.8M608.2 329.6l9.8 -1.5M607.4 329l8 1.3M645.4 311l4.1 -6.7M596.9 329.7l7.4 0.2M598 328.4l6.5 -0.6M638.3 314.2l5.2 -3.2M612.3 328.5l4.1 -3.6M640.7 309.6l7.1 -3.4M595 329.2l5.3 -0.5M619.7 322.2l7.1 -1.6M644.5 312.4l8.1 -5.3M632.4 321l8.1 -3.3M613.3 326.2l7.5 -1.8M636.2 316l7.5 -2.6M613.6 327.7l5.7 -4.9M602.5 330l6.1 0.5M641.3 313l5.9 -6.1M613.6 327.6l7.1 -2.7M591.2 330l8.2 3.6M600.5 328.6l5.8 -0.1M641.5 315l4.1 -4.4M624.4 323.5l9 -2.6M623.9 323.9l6.7 -7.1M603.4 327.6l6.9 -2"/>
<path fill="none" stroke="#6a6090" stroke-opacity="0.25" stroke-width="0.6" stroke-linecap="round" d="M606.1 326l5.8 1.8M604 329.8l4.6 0.9M627.4 314.3l5.4 -0.5M615.8 324.1l4.7 0M646.3 312.4l5.2 -1.5M594.4 325.4l5.6 4.1M598.3 327l3.1 -0.1M603.8 330.5l4.6 -2.5M614.9 329.4l2.9 -5.6M625.9 323.3l-0.5 -3.4M639.6 317.6l4.6 0.1M640.5 309.3l2.7 -1.7M626.7 326.6l3.9 -0.9M628.3 315.1l6.6 -0.5M640.9 310.3l5 2.2M639 316.9l4.7 -3M651.8 310.4l-2.2 -4.3M623.1 323l1 -3.5M630.8 317.2l2.5 -4.5M617.9 326.8l3.9 0.3M612.8 333.2l6.1 -1.1M593.3 329l2.8 3.8M642.6 310.5l3.3 -2M650.4 305.1l3.7 1.3M596 328.5l4.9 4.3M634.3 319.7l5.1 -4.4M637.5 309.9l3.6 -4.3M630.5 317.5l5 -1.3M636 315l4.3 1M636.1 314.9l5.5 -0.2M646.6 312.1l-0.3 -6.6M615 327.4l5.9 -1.1M621.4 322l4.8 1.8M615.2 326.6l3.4 2.6M632.2 310.4l6.3 0.6M595.5 331.6l3.2 -5.2M641.2 306.5l4.6 -0.8M622.9 324.6l6.1 -2.2M608.7 330.5l3.4 -3.7M597.6 333.5l6.4 -2.6M648.2 311.5l4.8 -3.7M615.1 328.2l4 2.4M636.5 320l2.7 -1.8M613.1 334.4l4.2 -5.4M601.6 327.7l4.2 -4.6M637.5 314.2l3.3 -5.5M622.5 325.2l2.1 -2.7M597.4 327.8l3.1 1.2"/>
<path fill="none" stroke="#b866b0" stroke-opacity="0.25" stroke-width="0.8" stroke-linecap="round" d="M615.8 295.3l3.7 -5.4M593.9 303.5l7.5 -3.7M593.8 298.3l4.9 1.4M588.6 301.8l9 0.8M612.9 290.2l7.9 -4.9M612.3 297.3l4.8 -3.7M615.7 291.5l5.5 -6.8M605.7 297l6 -3.6M616.1 290.8l3.3 -4.2M589.9 303.3l7.6 -0.6M590.9 306.3l9.4 -1.2M606.9 296.7l6 -5.4M604.7 302l2.4 -6.4M605.2 301.3l5.2 -6.4M587.8 300.7l5.9 -0.6M608.6 293l7.5 -2.8M603.9 298.4l7.8 -4.4M612.9 298.3l5.2 -4.9M601.1 303l6.6 -5.6M585.6 303.7l6.3 -5.8M604 300l4.3 -3.6M587.3 303.9l6.2 -2.1M618.2 293.4l3.5 -3.9M587.3 301.9l6.3 -0.3M606.5 298.7l5 -3.4M619.3 286.2l5.6 -1.5M601.9 298.7l7.7 -5.5M607.2 299.6l5.9 -4.1M616 295.5l3.7 -8.8M613.4 293.6l4.8 -3.2M591.4 303.9l6.5 0.4M595.5 298.9l8.7 2.1M607.6 298.7l7.4 -4.8M604.8 301.9l5 -5.3M618.3 286.8l4.6 -2.7M614.1 291.8l8.4 -4.4M592.6 303.6l9.5 2.4M608.2 304.1l3.8 -4.9M613.6 293.5l3.1 -4M606.6 297.9l6.6 -3.3M606.6 299.8l8.5 -4.4M588.5 300.4l8.6 1.5M587.5 299.4l4.9 1.5M589 302l5.1 -2.3M614.2 291.4l5.1 -6.3M609.4 295l4.9 -3M587.9 298.1l4.9 1.2M605.3 297.3l6.1 -2.5M603.8 295.9l9.1 -3.9M587.9 296.7l6.3 3.6M610.6 297.7l5.5 -4.9M606.9 301.9l3.6 -7M606.2 296.8l6.9 -4.4M610.9 298.9l5 -6.2M608.8 305.5l6 -5.2M607.3 295.3l5 -2.7M613.6 295.3l7.6 -5.1M616.4 288.3l5.5 -3.8M614.8 293.3l2.8 -4.4M593.7 301.3l6.7 -2.1M609.7 296.8l9.3 -1.2M611.5 294.5l6.4 -3.4M597.6 300.8l5.5 -1.4M600.5 303.6l6.9 -4.8M606.1 301.3l3.3 -7.2M611.9 297.7l4.5 -5.8M610.4 295.7l3.5 -4M589.4 301.2l8.4 -2.6M605.1 298.4l5.1 -3.3M603.7 303.7l8.4 -5.3M592.3 298.9l9.1 1.7M618.2 290.3l4.2 -6.8M612.7 291.8l5.8 -3.5M588.1 298.2l7.4 1.8M587.5 299.4l4.6 3.1M603.3 304.2l7 -6.7M595.6 301.3l6.6 1.4M615.6 292.5l7.1 -4.3M594.6 302.7l7.8 -0M588 304.5l7.7 -0.7M605.6 296.1l6.1 -2.6M585.7 301.2l8.9 1.7M612.1 291.2l4.2 -3.9M601.7 299.3l7.4 -0.9M595.1 300.6l6.8 2.5M610.1 296l5.3 -8.4M611.1 295.6l5.2 -3M605.5 301.8l2.6 -8.4M606.2 294.2l4.7 -5.4M599.3 303.8l9.9 -0.7M606.1 297l8.5 -4M613.5 292.8l6.8 -0.8M614.9 288.7l5.5 -2.8M609.8 296.8l4.8 -5.8M612.3 295.4l6.1 -1.2M612.3 297.3l3.6 -6.1M586.4 299.9l4.6 3"/>
<path fill="none" stroke="#6a6090" stroke-opacity="0.25" stroke-width="0.6" stroke-linecap="round" d="M600.4 304.6l3.9 -2.1M586.5 302.7l5.6 -4.1M617.1 291.5l1.4 -3.2M596.6 304.7l5.4 -3.4M621.9 288.9l2.7 -3.7M596.7 300.2l3.9 3.5M612.6 289.9l5.6 3.7M604.9 297.2l4.3 4.2M612.8 286.4l0.3 3.9M621.2 288.3l3.8 -2.2M585.3 298.9l5.8 -1.8M597.2 300l3.6 -3.7M596.5 299.9l-0.7 3.9M609.3 300.3l1.2 -4M586.9 302.6l4.5 3.7M616.1 284.1l4.5 -3M605.9 299.7l4.7 -2.6M597.2 305.9l4.4 0.7M606 290.1l0.3 4.2M609.5 297.5l1.4 -3.1M612.6 298.3l5.7 -0.7M589.7 302.8l1.4 -4.4M617.3 291.4l-1.7 -4.8M600.8 300.9l5.6 0.7M616.1 290.7l2 -2.8M590.6 300l5.8 0.3M619 292.4l-4.2 -4.4M623.5 287l-1.7 -2.8M616.6 285.7l4.4 -2.5M620.6 288.5l-0.4 -3.6M596.1 301.8l6.4 -1.6"/>
<path fill="none" stroke="#b866b0" stroke-opacity="0.25" stroke-width="0.8" stroke-linecap="round" d="M610.1 346.9l8.2 0.3M615 353.1l7 -0.5M606.7 342.3l2.7 5.2M598.5 338.1l6.1 4.5M611.3 345.9l5.9 4.8M613.3 345.8l8.3 5.2M596.9 340.6l6.7 0.6M596.6 338.5l5.7 1.4M609.6 346.7l4.7 2.3M614.4 343.4l6.1 7.4M607.2 340.4l8.6 3.8M604.5 344.6l8.7 -1.7M613.2 345l5.5 2.4M610 348l6 1.4M614.3 346.9l7.3 5.7M596.9 337.4l4.8 5M606.6 342.5l4.5 6M597.6 339.9l6 2.2M609.4 345.6l5.5 5.3M601.1 341l6.9 2.8M605.6 341.4l4.6 2.4M613.9 344l4.2 8.9M613.3 347.1l3.4 4.4M615.6 345.7l7.3 3.3M605.5 339.9l4.1 6M606.6 343.8l5 4M614.7 350.9l6.1 1.8M598.5 339.3l6.4 0.7M613.9 344.1l5.1 0.7M603.8 342.7l8.8 2.4M599.7 336.9l4.8 1.5M609.3 347.2l8.8 0.4M605.9 341.8l3.2 4.4M599.3 337.3l5.4 3.7M607.7 342.8l8.9 1.4M604.3 342.1l8.2 0.1M600.5 337.7l3.3 5.7M604.4 343.3l6.2 7.2M606.5 340l6.4 7.1M606.1 342l2.5 5.2M600.4 337l6.1 5.4M613.4 348.2l6.6 4M611.2 340.3l4.1 4.5M603.3 343.2l6.9 1.3M609.5 347.4l7.1 1.3M602.8 340.8l8.3 5.4M602.4 339.3l4.9 2.3M605.7 340.2l5.3 3.2M601 344.4l7.2 1.9M606.6 339.2l5.9 4.9M594.8 338.6l7.1 5.3M600.3 342.1l9.3 2.9M608.1 344.1l6.3 6.2M594.7 340.7l7.1 4.4"/>
<path fill="none" stroke="#6a6090" stroke-opacity="0.25" stroke-width="0.6" stroke-linecap="round" d="M612.8 346.1l4.3 -2M600.2 340.1l3.2 2.5M605.1 344.3l4.2 2M593 341.2l1.4 -5.9M617.7 347.9l2.2 2.4M611.7 345.3l5 1.1M608.6 347.2l5.2 1.3M608 346l5.5 -4.2M598.6 332.8l6.3 1.8M602.5 338.1l5.4 0.4M599.8 339.9l2.1 3.4M601.1 339.7l3.7 1.3M615 350.4l2.4 -3M599 337.1l6.5 2.2M606.1 345.7l4.3 1.2M602 344.4l4.3 -3.8M601.3 342.8l3.2 4.5"/>
<polyline fill="none" stroke="#b25dab" stroke-opacity="0.5" stroke-width="5" stroke-linecap="round" stroke-linejoin="round" points="599.2,339.3 600.7,340 602.7,341 605.1,342.2 607.5,343.5 609.7,344.6 611.7,345.7 613.7,347 615.6,348.2 617.2,349.2 618.4,349.9"/>
<polyline fill="none" stroke="#b25dab" stroke-opacity="0.45" stroke-width="0.8" stroke-linejoin="round" points="600.6,338.4 600.9,340 602.2,341.2 604.4,341.9 606.9,342.7 609.1,343.4 611,344.7 612.6,346.2 614.4,347.9 617,349.1 620.2,350"/>
<polyline fill="none" stroke="#b25dab" stroke-opacity="0.45" stroke-width="0.8" stroke-linejoin="round" points="601.5,339.9 602.3,340.1 603.9,341.3 606,343.1 608.3,344.5 610.4,345.2 612.6,345.7 614.5,346.7 616,348.5 616.9,350.7 617.3,353.1"/>
<polyline fill="none" stroke="#b25dab" stroke-opacity="0.45" stroke-width="0.8" stroke-linejoin="round" points="600.9,338.3 601.9,338.5 603.2,339.3 604.8,340.8 606.7,342.4 609.2,344.1 611.9,345.7 614.4,347.5 615.9,348.5 616.3,348 615.7,345.9"/>
<polyline fill="none" stroke="#b25dab" stroke-opacity="0.45" stroke-width="0.8" stroke-linejoin="round" points="599.9,342.5 601.1,341.5 603,341.2 605.2,341.7 607.5,342.7 609.6,343.8 611.7,344.9 614.1,346.1 616.6,347.3 618.7,348.4 620.3,349.3"/>
<polyline fill="none" stroke="#b25dab" stroke-opacity="0.45" stroke-width="0.8" stroke-linejoin="round" points="596.2,338 598.5,339.3 601.4,340.5 604.4,341.5 606.9,342.5 609,343.5 610.8,344.4 612.9,345.5 614.6,346.9 615.7,349 615.9,351.4"/>
<polyline fill="none" stroke="#b25dab" stroke-opacity="0.45" stroke-width="0.8" stroke-linejoin="round" points="599.3,342.2 600.7,341.7 602.5,342 604.8,343.4 607.2,344.9 609.6,346.2 611.6,346.9 613.6,347.6 615.4,348.2 616.9,348.6 618,348.6"/>
<polyline fill="none" stroke="#b25dab" stroke-opacity="0.45" stroke-width="0.8" stroke-linejoin="round" points="596.5,338.1 599.5,339.2 602.5,340.1 605.4,340.8 608,341.5 610.4,342.6 612.6,344.1 614.9,346.1 616.8,348.1 618,349.8 618.4,350.7"/>
<polyline fill="none" stroke="#b25dab" stroke-opacity="0.45" stroke-width="0.8" stroke-linejoin="round" points="601.9,341.2 602.9,340.5 604.7,340.6 606.9,341.7 609,343.2 610.4,344.8 611.7,346.1 613.2,347.3 614.8,348.6 615.7,350 615.7,351.2"/>
<path fill="none" stroke="#b25dab" stroke-opacity="0.35" stroke-width="0.6" d="M606.73 345l-0.62 3.46M599.98 337.73l0.91 -2.64M599.89 341.59l1.91 3.5M612.8 348.46l-1.26 1.73M604.33 343.79l-0.99 1.45M608.83 346.12l-2.1 1.66M612.8 348.46l-2.26 1.49M601.43 338.45l1.39 -1.89M599.89 341.59l-0.65 3.65M606.73 345l-1.28 1.48M614.7 349.64l-0.62 2.67M614.7 349.64l-1.11 2.98M610.57 343.08l1.9 -2.62M608.37 341.91l0.31 -3.61M618.17 347.69l0.34 -1.74M599.89 341.59l-2.7 1.36M603.51 339.47l2.04 -0.25M612.8 348.46l-1.15 0.98M598.42 340.87l-1.58 1.49M601.43 338.45l1.74 -1.27M614.7 349.64l-0.07 1.94M614.65 345.49l0.96 -3.03M608.37 341.91l0.41 -3.05M614.65 345.49l1.04 -3.71M603.51 339.47l0.85 -1.42M598.42 340.87l-0.76 2.71M608.37 341.91l1.31 -2.31M614.65 345.49l1.26 -3.37M606.73 345l1.06 2.48M605.92 340.67l1.73 -1.36M612.6 344.25l2.39 -2.24M601.43 338.45l0.45 -3.94M608.37 341.91l-0.31 -3.67M618.17 347.69l0.89 -2.24M616.57 346.68l1 -1.16M601.95 342.61l-2.66 0.64M605.92 340.67l0.64 -2.44M601.95 342.61l-0.06 1.57M601.95 342.61l-1.38 2.07M610.79 347.24l-0.04 2.2"/>
<polyline fill="none" stroke="#7e2a7c" stroke-opacity="0.55" stroke-width="1.6" stroke-linecap="round" stroke-linejoin="round" points="474.8,319.4 476,318.9 477.6,318.1 479.5,317.2 481.5,316.4 483.5,315.9 485.5,315.7 487.6,315.7 489.7,315.8 491.9,316.1 494,316.6 496.1,317.3 498.2,318.1 500.4,319.2 502.5,320.4 504.6,321.8 506.7,323.6 508.8,325.7 510.8,327.9 512.9,329.9 515,331.3 517.1,332.2 519.2,332.7 521.4,332.9 523.5,332.7 525.6,332.3 527.7,331.5 529.9,330.3 532,328.9 534.1,327.2 536.1,325.3 538.1,323.1 540,320.7 541.8,318 543.5,315.4 544.9,313 545.9,310.8 546.7,308.6 547.3,306.6 547.8,304.5 548.4,302.6 549,300.7 549.6,298.8 550.1,297 550.9,295.3 551.9,293.8 553.3,292.4 554.9,291.1 556.7,289.9 558.7,289 560.6,288.5 562.6,288.4 564.7,288.5 566.8,289 569,289.6 571.1,290.3 573.3,291 575.5,291.9 577.6,292.9 579.7,294.1 581.6,295.5 583.3,297.2 584.8,299.2 586.2,301.3 587.5,303.6 588.7,306 589.9,308.6 591.1,311.3 592.2,314.2 593.1,317.1 593.9,320 594.5,322.9 594.8,325.8 595,328.7 595.3,331.5 595.7,334.1 596.3,336.5 597.1,338.8 597.8,340.9 598.6,342.9 599.2,344.6 599.7,346.1 600.1,347.3 600.4,348.4 600.7,349.3 600.9,349.9"/>
<polyline fill="none" stroke="#7e2a7c" stroke-opacity="0.55" stroke-width="1.6" stroke-linecap="round" stroke-linejoin="round" points="595.7,328.8 597.6,328.9 600.3,329 603.4,329.2 606.7,329.1 609.7,328.8 612.5,328.2 615.3,327.3 618.1,326.2 620.9,325 623.7,323.6 626.5,322 629.3,320.3 632.1,318.4 634.9,316.5 637.7,314.8 640.7,313.2 644,311.5 647.1,310 649.8,308.7 651.7,307.8"/>
<polyline fill="none" stroke="#6d2170" stroke-opacity="0.55" stroke-width="1.6" stroke-linecap="round" stroke-linejoin="round" points="588.7,300.8 590.7,300.9 593.5,301.1 596.7,301.3 599.9,301.2 602.7,300.8 605.1,299.9 607.2,298.6 609.3,297.1 611.3,295.4 613.2,293.8 615.2,292 617.3,290 619.2,288 620.8,286.2 622,285"/>
<polyline fill="none" stroke="#1B3060" stroke-width="2.2" stroke-linecap="round" points="546.8,290 546.5,281 546.2,272.8"/>
<path fill="none" stroke="#55608a" stroke-opacity="0.6" stroke-width="0.7" d="M549.34 292.26l-4.92 -3.23M544.02 291.22l-2.11 -8.23M547.06 292.03l-5.47 -3.82M547.07 292.32l2.39 -8.93M546.1 293.57l-4.52 -8.28M543.63 291.5l1.26 -8.62M546.99 292.07l-1.89 -6.48M543.76 289.94l-4.05 -5.81M543.2 291.19l-2.77 -5.79M547.06 293.7l-3.28 -5.91M543.44 291.55l-8.38 -6.69M545.49 294.67l-4.02 -10.09M547.5 292.2l-3.97 -4.85M548.13 293.12l-2.57 -7.83"/>
<polyline fill="none" stroke="#1B3060" stroke-width="1.8" stroke-linecap="round" points="474.5,320 480,317 486,316"/>
<polyline fill="none" stroke="#1B3060" stroke-width="1.8" stroke-linecap="round" points="637.7,314.8 645,311 652,307.8"/>
<circle cx="654" cy="307" r="1.5" fill="#F0671F"/>
<polyline fill="none" stroke="#1B3060" stroke-width="1.6" stroke-linecap="round" points="598,342 600.5,348 602,351"/>
<polyline fill="none" stroke="#F99F4D" stroke-width="1.5" stroke-linecap="round" points="543.5,314 546,308"/>

<path d="M53.4 432.88Q64.1 435.49 74.81 432.95" fill="none" stroke="#F99F4D" stroke-width="0.45" stroke-opacity="0.11"/>

<path d="M49.84 439.46Q71.33 459.83 99.7 468.22" fill="none" stroke="#F99F4D" stroke-width="0.45" stroke-opacity="0.11"/>

<path d="M29.26 439.96Q21.68 447.81 18.49 458.23" fill="none" stroke="#F99F4D" stroke-width="0.45" stroke-opacity="0.11"/>

<path d="M35.92 443.6Q29.03 472.15 35.85 500.71" fill="none" stroke="#F99F4D" stroke-width="0.45" stroke-opacity="0.11"/>

<path d="M43.48 443.39Q53.9 478.16 78.97 504.41" fill="none" stroke="#F99F4D" stroke-width="0.45" stroke-opacity="0.11"/>

<path d="M75.1 432.88Q64.4 435.49 53.69 432.95" fill="none" stroke="#F0671F" stroke-width="0.45" stroke-opacity="0.11"/>

<path d="M93.3 443.41Q96.33 453.79 103.73 461.65" fill="none" stroke="#F0671F" stroke-width="0.45" stroke-opacity="0.11"/>

<path d="M75.28 433.56Q46.68 441.88 24.98 462.26" fill="none" stroke="#F0671F" stroke-width="0.45" stroke-opacity="0.11"/>

<path d="M79.18 439.98Q54.05 466.19 43.56 500.93" fill="none" stroke="#F0671F" stroke-width="0.45" stroke-opacity="0.11"/>

<path d="M85.82 443.6Q78.93 472.15 85.75 500.71" fill="none" stroke="#F0671F" stroke-width="0.45" stroke-opacity="0.11"/>

<path d="M99.99 468.3Q71.58 459.97 50.05 439.67" fill="none" stroke="#BE1E2D" stroke-width="0.45" stroke-opacity="0.11"/>

<path d="M103.93 461.87Q96.47 454.04 93.39 443.7" fill="none" stroke="#BE1E2D" stroke-width="0.45" stroke-opacity="0.11"/>

<path d="M99.8 469.02Q64.2 460.44 28.59 468.95" fill="none" stroke="#BE1E2D" stroke-width="0.45" stroke-opacity="0.11"/>

<path d="M99.98 476.47Q71.6 484.73 50.07 504.95" fill="none" stroke="#BE1E2D" stroke-width="0.45" stroke-opacity="0.11"/>

<path d="M103.91 482.91Q96.5 490.66 93.42 500.91" fill="none" stroke="#BE1E2D" stroke-width="0.45" stroke-opacity="0.11"/>

<path d="M18.4 458.52Q21.53 448.06 29.05 440.18" fill="none" stroke="#1B3060" stroke-width="0.45" stroke-opacity="0.11"/>

<path d="M24.76 462.46Q46.43 442.02 74.99 433.65" fill="none" stroke="#1B3060" stroke-width="0.45" stroke-opacity="0.11"/>

<path d="M28.3 469.02Q63.9 460.44 99.51 468.95" fill="none" stroke="#1B3060" stroke-width="0.45" stroke-opacity="0.11"/>

<path d="M18.43 486.27Q21.55 496.64 29.03 504.44" fill="none" stroke="#1B3060" stroke-width="0.45" stroke-opacity="0.11"/>

<path d="M24.78 482.32Q46.45 502.68 74.98 510.98" fill="none" stroke="#1B3060" stroke-width="0.45" stroke-opacity="0.11"/>

<path d="M35.92 501Q29.03 472.45 35.85 443.89" fill="none" stroke="#651E68" stroke-width="0.45" stroke-opacity="0.11"/>

<path d="M43.48 501.21Q53.9 466.44 78.97 440.19" fill="none" stroke="#651E68" stroke-width="0.45" stroke-opacity="0.11"/>

<path d="M49.86 505.16Q71.35 484.87 99.69 476.55" fill="none" stroke="#651E68" stroke-width="0.45" stroke-opacity="0.11"/>

<path d="M29.24 504.66Q21.7 496.89 18.52 486.56" fill="none" stroke="#651E68" stroke-width="0.45" stroke-opacity="0.11"/>

<path d="M53.4 518.48Q64.1 521.09 74.81 518.55" fill="none" stroke="#651E68" stroke-width="0.45" stroke-opacity="0.11"/>

<path d="M79.18 504.62Q54.05 478.41 43.56 443.67" fill="none" stroke="#A64F9A" stroke-width="0.45" stroke-opacity="0.11"/>

<path d="M85.82 501Q78.93 472.45 85.75 443.89" fill="none" stroke="#A64F9A" stroke-width="0.45" stroke-opacity="0.11"/>

<path d="M93.33 501.2Q96.35 490.91 103.7 483.13" fill="none" stroke="#A64F9A" stroke-width="0.45" stroke-opacity="0.11"/>

<path d="M75.27 511.06Q46.7 502.82 25 482.52" fill="none" stroke="#A64F9A" stroke-width="0.45" stroke-opacity="0.11"/>

<path d="M75.1 518.48Q64.4 521.09 53.69 518.55" fill="none" stroke="#A64F9A" stroke-width="0.45" stroke-opacity="0.11"/>
<path d="M74.92 432.01Q44.1 437.38 25.82 458.77" fill="none" stroke="#F0671F" stroke-width="1.3" stroke-opacity="1.0"/>
<path d="M23.8 461.13L25.18 455.92L25.95 458.62L28.73 458.95z" fill="#F0671F" fill-opacity="1.0"/>
<path d="M28.26 468.86Q57.58 461.52 76.62 442.25" fill="none" stroke="#1B3060" stroke-width="1.3" stroke-opacity="1.0"/>
<path d="M78.81 440.04L77.05 445.14L76.49 442.39L73.73 441.86z" fill="#1B3060" fill-opacity="1.0"/>
<path d="M102.28 463.73Q79.3 446.55 55.78 436.52" fill="none" stroke="#BE1E2D" stroke-width="1.3" stroke-opacity="1.0"/>
<path d="M52.92 435.3L58.31 435.06L55.96 436.59L56.47 439.35z" fill="#BE1E2D" fill-opacity="1.0"/>
<path d="M109.8 458.49Q106.77 448.11 101.51 442.52" fill="none" stroke="#BE1E2D" stroke-width="1.3" stroke-opacity="1.0"/>
<path d="M99.37 440.25L104.41 442.19L101.64 442.66L101.01 445.39z" fill="#BE1E2D" fill-opacity="1.0"/>
<path d="M95.15 442.72Q99.33 452.06 103.47 457.84" fill="none" stroke="#F0671F" stroke-width="1.3" stroke-opacity="1.0"/>
<path d="M105.28 460.37L100.55 457.77L103.35 457.68L104.35 455.06z" fill="#F0671F" fill-opacity="1.0"/>
<path d="M50.92 438.17Q73.9 455.35 97.52 465.42" fill="none" stroke="#F99F4D" stroke-width="1.2" stroke-opacity="1.0"/>
<path d="M100.28 466.6L95.07 466.83L97.34 465.35L96.84 462.68z" fill="#F99F4D" fill-opacity="1.0"/>
<path d="M44 443.22Q55.62 477.16 77.39 501.77" fill="none" stroke="#F99F4D" stroke-width="1.2" stroke-opacity="1.0"/>
<path d="M79.38 504.02L74.58 502L77.27 501.63L77.96 499.01z" fill="#F99F4D" fill-opacity="1.0"/>
<path d="M85.55 501.07Q76.31 465.44 52.16 441.97" fill="none" stroke="#A64F9A" stroke-width="1.3" stroke-opacity="1.0"/>
<path d="M49.93 439.8L55.04 441.52L52.3 442.11L51.79 444.87z" fill="#A64F9A" fill-opacity="1.0"/>
<path d="M25.15 481.91Q47.3 501.18 72.2 509.46" fill="none" stroke="#1B3060" stroke-width="1.3" stroke-opacity="1.0"/>
<path d="M75.15 510.44L69.8 511.12L72.01 509.4L71.27 506.69z" fill="#1B3060" fill-opacity="1.0"/>
<path d="M77.89 506.03Q55.24 487.82 30.58 478.55" fill="none" stroke="#A64F9A" stroke-width="0.9" stroke-opacity="1.0"/>
<path d="M28.06 477.6L32.71 477.19L30.74 478.61L31.29 480.97z" fill="#A64F9A" fill-opacity="1.0"/>
<path d="M74.98 512.26Q64.4 510.11 56.66 511.64" fill="none" stroke="#A64F9A" stroke-width="1.1" stroke-opacity="1.0"/>
<path d="M53.81 512.2L57.84 509.18L56.84 511.6L58.69 513.46z" fill="#A64F9A" fill-opacity="1.0"/>
<path d="M53.52 517.94Q64.1 520.09 71.63 518.6" fill="none" stroke="#651E68" stroke-width="1.3" stroke-opacity="1.0"/>
<path d="M74.69 518L70.37 521.23L71.44 518.64L69.47 516.65z" fill="#651E68" fill-opacity="1.0"/>
<circle cx="39.3" cy="429.5" r="13.799999999999999" fill="#f6a65e" stroke="#f39a4a" stroke-width="0.8"/>
<text x="39.3" y="432.8" font-size="9.5" text-anchor="middle" fill="#231f20">35%</text>
<circle cx="89.2" cy="429.5" r="13.799999999999999" fill="#fdddc6" stroke="#F0671F" stroke-width="0.8"/>
<text x="89.2" y="432.8" font-size="9.5" text-anchor="middle" fill="#231f20">10%</text>
<circle cx="113.9" cy="472.4" r="13.799999999999999" fill="#dc9483" stroke="#BE1E2D" stroke-width="0.8"/>
<text x="113.9" y="475.7" font-size="9.5" text-anchor="middle" fill="#231f20">16%</text>
<circle cx="14.2" cy="472.4" r="13.799999999999999" fill="#9d9dba" stroke="#1B3060" stroke-width="0.8"/>
<text x="14.2" y="475.7" font-size="9.5" text-anchor="middle" fill="#231f20">15%</text>
<circle cx="39.3" cy="515.1" r="13.799999999999999" fill="#e3d4e3" stroke="#651E68" stroke-width="0.8"/>
<text x="39.3" y="518.4" font-size="9.5" text-anchor="middle" fill="#231f20">6%</text>
<circle cx="89.2" cy="515.1" r="13.799999999999999" fill="#cfa5cc" stroke="#A64F9A" stroke-width="0.8"/>
<text x="89.2" y="518.4" font-size="9.5" text-anchor="middle" fill="#231f20">18%</text>
<text x="23.7" y="410.8" font-size="9" text-anchor="start" fill="#231f20">On larvae</text>

<path d="M190.2 432.88Q200.9 435.49 211.61 432.95" fill="none" stroke="#F99F4D" stroke-width="0.45" stroke-opacity="0.11"/>

<path d="M186.64 439.46Q208.13 459.83 236.5 468.22" fill="none" stroke="#F99F4D" stroke-width="0.45" stroke-opacity="0.11"/>

<path d="M166.06 439.96Q158.48 447.81 155.29 458.23" fill="none" stroke="#F99F4D" stroke-width="0.45" stroke-opacity="0.11"/>

<path d="M172.72 443.6Q165.83 472.15 172.65 500.71" fill="none" stroke="#F99F4D" stroke-width="0.45" stroke-opacity="0.11"/>

<path d="M180.28 443.39Q190.7 478.16 215.77 504.41" fill="none" stroke="#F99F4D" stroke-width="0.45" stroke-opacity="0.11"/>

<path d="M211.9 432.88Q201.2 435.49 190.49 432.95" fill="none" stroke="#F0671F" stroke-width="0.45" stroke-opacity="0.11"/>

<path d="M230.1 443.41Q233.13 453.79 240.53 461.65" fill="none" stroke="#F0671F" stroke-width="0.45" stroke-opacity="0.11"/>

<path d="M212.08 433.56Q183.48 441.88 161.78 462.26" fill="none" stroke="#F0671F" stroke-width="0.45" stroke-opacity="0.11"/>

<path d="M215.98 439.98Q190.85 466.19 180.36 500.93" fill="none" stroke="#F0671F" stroke-width="0.45" stroke-opacity="0.11"/>

<path d="M222.62 443.6Q215.73 472.15 222.55 500.71" fill="none" stroke="#F0671F" stroke-width="0.45" stroke-opacity="0.11"/>

<path d="M236.79 468.3Q208.38 459.97 186.85 439.67" fill="none" stroke="#BE1E2D" stroke-width="0.45" stroke-opacity="0.11"/>

<path d="M240.73 461.87Q233.27 454.04 230.19 443.7" fill="none" stroke="#BE1E2D" stroke-width="0.45" stroke-opacity="0.11"/>

<path d="M236.6 469.02Q201 460.44 165.39 468.95" fill="none" stroke="#BE1E2D" stroke-width="0.45" stroke-opacity="0.11"/>

<path d="M236.78 476.47Q208.4 484.73 186.87 504.95" fill="none" stroke="#BE1E2D" stroke-width="0.45" stroke-opacity="0.11"/>

<path d="M240.71 482.91Q233.3 490.66 230.22 500.91" fill="none" stroke="#BE1E2D" stroke-width="0.45" stroke-opacity="0.11"/>

<path d="M155.2 458.52Q158.33 448.06 165.85 440.18" fill="none" stroke="#1B3060" stroke-width="0.45" stroke-opacity="0.11"/>

<path d="M161.56 462.46Q183.23 442.02 211.79 433.65" fill="none" stroke="#1B3060" stroke-width="0.45" stroke-opacity="0.11"/>

<path d="M165.1 469.02Q200.7 460.44 236.31 468.95" fill="none" stroke="#1B3060" stroke-width="0.45" stroke-opacity="0.11"/>

<path d="M155.23 486.27Q158.35 496.64 165.83 504.44" fill="none" stroke="#1B3060" stroke-width="0.45" stroke-opacity="0.11"/>

<path d="M161.58 482.32Q183.25 502.68 211.78 510.98" fill="none" stroke="#1B3060" stroke-width="0.45" stroke-opacity="0.11"/>

<path d="M172.72 501Q165.83 472.45 172.65 443.89" fill="none" stroke="#651E68" stroke-width="0.45" stroke-opacity="0.11"/>

<path d="M180.28 501.21Q190.7 466.44 215.77 440.19" fill="none" stroke="#651E68" stroke-width="0.45" stroke-opacity="0.11"/>

<path d="M186.66 505.16Q208.15 484.87 236.49 476.55" fill="none" stroke="#651E68" stroke-width="0.45" stroke-opacity="0.11"/>

<path d="M166.04 504.66Q158.5 496.89 155.32 486.56" fill="none" stroke="#651E68" stroke-width="0.45" stroke-opacity="0.11"/>

<path d="M190.2 518.48Q200.9 521.09 211.61 518.55" fill="none" stroke="#651E68" stroke-width="0.45" stroke-opacity="0.11"/>

<path d="M215.98 504.62Q190.85 478.41 180.36 443.67" fill="none" stroke="#A64F9A" stroke-width="0.45" stroke-opacity="0.11"/>

<path d="M222.62 501Q215.73 472.45 222.55 443.89" fill="none" stroke="#A64F9A" stroke-width="0.45" stroke-opacity="0.11"/>

<path d="M230.13 501.2Q233.15 490.91 240.5 483.13" fill="none" stroke="#A64F9A" stroke-width="0.45" stroke-opacity="0.11"/>

<path d="M212.07 511.06Q183.5 502.82 161.8 482.52" fill="none" stroke="#A64F9A" stroke-width="0.45" stroke-opacity="0.11"/>

<path d="M211.9 518.48Q201.2 521.09 190.49 518.55" fill="none" stroke="#A64F9A" stroke-width="0.45" stroke-opacity="0.11"/>
<path d="M211.94 433.04Q182.62 440.38 163.58 459.65" fill="none" stroke="#F0671F" stroke-width="1.3" stroke-opacity="1.0"/>
<path d="M161.39 461.86L163.15 456.76L163.71 459.51L166.47 460.04z" fill="#F0671F" fill-opacity="1.0"/>
<path d="M243.47 459.83Q238.42 451.08 235.14 445.38" fill="none" stroke="#BE1E2D" stroke-width="2.8" stroke-opacity="1.0"/>
<path d="M233.38 442.33L238.42 445.78L235.25 445.57L233.84 448.41z" fill="#BE1E2D" fill-opacity="1.0"/>
<path d="M174.94 443.95Q172.68 472.15 174.67 497.24" fill="none" stroke="#F99F4D" stroke-width="1.3" stroke-opacity="1.0"/>
<path d="M174.92 500.35L172.21 495.69L174.66 497.05L176.86 495.31z" fill="#F99F4D" fill-opacity="1.0"/>
<path d="M180.8 443.22Q192.42 477.16 214.12 501.69" fill="none" stroke="#F99F4D" stroke-width="1.3" stroke-opacity="1.0"/>
<path d="M216.18 504.02L211.21 501.93L213.99 501.55L214.71 498.84z" fill="#F99F4D" fill-opacity="1.0"/>
<path d="M155.75 486.1Q159.21 496.13 164.18 501.73" fill="none" stroke="#1B3060" stroke-width="1.3" stroke-opacity="1.0"/>
<path d="M166.24 504.06L161.27 501.97L164.05 501.59L164.76 498.87z" fill="#1B3060" fill-opacity="1.0"/>
<path d="M171.87 501.23Q168.75 490.86 163.28 485.15" fill="none" stroke="#651E68" stroke-width="1.1" stroke-opacity="1.0"/>
<path d="M161.27 483.06L165.98 484.83L163.4 485.28L162.84 487.84z" fill="#651E68" fill-opacity="1.0"/>
<path d="M162.66 481.02Q185.81 498.18 209.39 508.11" fill="none" stroke="#1B3060" stroke-width="1.4" stroke-opacity="1.0"/>
<path d="M212.36 509.36L206.79 509.63L209.21 508.04L208.66 505.19z" fill="#1B3060" fill-opacity="1.0"/>
<path d="M214.34 506.48Q191.19 489.32 167.13 479.18" fill="none" stroke="#A64F9A" stroke-width="0.9" stroke-opacity="1.0"/>
<path d="M164.64 478.14L169.31 477.91L167.28 479.25L167.74 481.64z" fill="#A64F9A" fill-opacity="1.0"/>
<path d="M211.78 512.26Q201.2 510.11 193.67 511.6" fill="none" stroke="#A64F9A" stroke-width="1.3" stroke-opacity="1.0"/>
<path d="M190.61 512.2L194.93 508.97L193.86 511.56L195.83 513.55z" fill="#A64F9A" fill-opacity="1.0"/>
<path d="M190.32 517.94Q200.9 520.09 208.43 518.6" fill="none" stroke="#651E68" stroke-width="1.3" stroke-opacity="1.0"/>
<path d="M211.49 518L207.17 521.23L208.24 518.64L206.27 516.65z" fill="#651E68" fill-opacity="1.0"/>
<circle cx="176.1" cy="429.5" r="13.799999999999999" fill="#fde3cc" stroke="#f7a055" stroke-width="0.8"/>
<text x="176.1" y="432.8" font-size="9.5" text-anchor="middle" fill="#231f20">9%</text>
<circle cx="226" cy="429.5" r="13.799999999999999" fill="#fef3ec" stroke="#F0671F" stroke-width="0.8"/>
<text x="226" y="432.8" font-size="9.5" text-anchor="middle" fill="#231f20">2%</text>
<circle cx="250.7" cy="472.4" r="13.799999999999999" fill="#fbf1f1" stroke="#BE1E2D" stroke-width="0.8"/>
<text x="250.7" y="475.7" font-size="9.5" text-anchor="middle" fill="#231f20">2%</text>
<circle cx="151" cy="472.4" r="13.799999999999999" fill="#9d9dba" stroke="#1B3060" stroke-width="0.8"/>
<text x="151" y="475.7" font-size="9.5" text-anchor="middle" fill="#231f20">15%</text>
<circle cx="176.1" cy="515.1" r="13.799999999999999" fill="#6b216b" stroke="#5e1a60" stroke-width="0.8"/>
<text x="176.1" y="518.4" font-size="9.5" text-anchor="middle" fill="#e0d8e2">44%</text>
<circle cx="226" cy="515.1" r="13.799999999999999" fill="#c28bbc" stroke="#A64F9A" stroke-width="0.8"/>
<text x="226" y="518.4" font-size="9.5" text-anchor="middle" fill="#231f20">28%</text>
<text x="160.7" y="410.8" font-size="9" text-anchor="start" fill="#231f20">On OP50</text>
<text x="25.2" y="545.6" font-size="9.2" text-anchor="start" fill="#231f20">Nodes</text>
<circle cx="80.6" cy="555.6" r="7" fill="#F99F4D"/>
<circle cx="96.4" cy="555.6" r="7" fill="#F0671F"/>
<circle cx="72.1" cy="569.8" r="7" fill="#1B3060"/>
<circle cx="104" cy="569.8" r="7" fill="#BE1E2D"/>
<circle cx="80.6" cy="584.1" r="7" fill="#651E68"/>
<circle cx="96.4" cy="584.1" r="7" fill="#A64F9A"/>
<text x="69.9" y="558.6" font-size="9.2" text-anchor="end" fill="#231f20">Predatory search</text>
<text x="61.8" y="572.8" font-size="9.2" text-anchor="end" fill="#231f20">Dwelling</text>
<text x="68.8" y="587.1" font-size="9.2" text-anchor="end" fill="#231f20">Roaming</text>
<text x="107.1" y="558.6" font-size="9.2" text-anchor="start" fill="#231f20">Predatory biting</text>
<text x="114.6" y="573" font-size="9.2" text-anchor="start" fill="#231f20">Predatory feeding</text>
<text x="106.4" y="587" font-size="9.2" text-anchor="start" fill="#231f20">Search</text>
<text x="191.6" y="549.2" font-size="9.2" text-anchor="start" fill="#231f20">Arrows</text>
<line x1="194.5" y1="558.8" x2="203.7" y2="558.8" stroke="#999999" stroke-width="3.0"/>
<path d="M209.9 558.8L201.84 555.08L204.01 558.8L201.84 562.52z" fill="#999999"/>
<line x1="194.5" y1="571.3" x2="205.9" y2="571.3" stroke="#999999" stroke-width="1.3"/>
<path d="M209.7 571.3L204.76 569.02L206.09 571.3L204.76 573.58z" fill="#999999"/>
<line x1="194.5" y1="584.6" x2="206.1" y2="584.6" stroke="#999999" stroke-width="1.1"/>
<path d="M209.7 584.6L205.02 582.44L206.28 584.6L205.02 586.76z" fill="#999999"/>
<line x1="254" y1="571.3" x2="266.5" y2="571.3" stroke="#999999" stroke-width="0.7"/>
<path d="M269.1 571.3L265.72 569.74L266.63 571.3L265.72 572.86z" fill="#999999"/>
<line x1="254" y1="584.6" x2="266.9" y2="584.6" stroke="#c8c8c8" stroke-width="0.5"/>
<path d="M269.1 584.6L266.24 583.28L267.01 584.6L266.24 585.92z" fill="#c8c8c8"/>
<text x="213.7" y="562.2" font-size="9.2" text-anchor="start" fill="#231f20">100%</text>
<text x="213.7" y="574.6" font-size="9.2" text-anchor="start" fill="#231f20">80%</text>
<text x="213.7" y="588" font-size="9.2" text-anchor="start" fill="#231f20">60%</text>
<text x="272.8" y="574.6" font-size="9.2" text-anchor="start" fill="#231f20">40%</text>
<text x="272.8" y="588" font-size="9.2" text-anchor="start" fill="#231f20">20%</text>
<line x1="326.4" y1="458.3" x2="326.4" y2="417" stroke="#8c8c8c" stroke-width="0.8"/>
<line x1="326.4" y1="513.5" x2="326.4" y2="506.46" stroke="#8c8c8c" stroke-width="0.8"/>
<line x1="324.2" y1="417" x2="328.6" y2="417" stroke="#8c8c8c" stroke-width="0.8"/>
<line x1="324.2" y1="513.5" x2="328.6" y2="513.5" stroke="#8c8c8c" stroke-width="0.8"/>
<rect x="321.35" y="458.3" width="10.1" height="48.15" fill="#F99F4D" stroke="#9a622f" stroke-width="0.8"/>
<line x1="321.35" y1="484.26" x2="331.45" y2="484.26" stroke="#704722" stroke-width="0.8"/>
<line x1="345.9" y1="504.04" x2="345.9" y2="489.38" stroke="#8c8c8c" stroke-width="0.8"/>
<line x1="345.9" y1="513.5" x2="345.9" y2="513.5" stroke="#8c8c8c" stroke-width="0.8"/>
<line x1="343.7" y1="489.38" x2="348.1" y2="489.38" stroke="#8c8c8c" stroke-width="0.8"/>
<line x1="343.7" y1="513.5" x2="348.1" y2="513.5" stroke="#8c8c8c" stroke-width="0.8"/>
<rect x="340.85" y="504.04" width="10.1" height="9.46" fill="#F99F4D" stroke="#9a622f" stroke-width="0.8"/>
<line x1="340.85" y1="512.82" x2="350.95" y2="512.82" stroke="#704722" stroke-width="0.8"/>
<line x1="375.1" y1="501.92" x2="375.1" y2="486.48" stroke="#8c8c8c" stroke-width="0.8"/>
<line x1="375.1" y1="513.02" x2="375.1" y2="512.82" stroke="#8c8c8c" stroke-width="0.8"/>
<line x1="372.9" y1="486.48" x2="377.3" y2="486.48" stroke="#8c8c8c" stroke-width="0.8"/>
<line x1="372.9" y1="513.02" x2="377.3" y2="513.02" stroke="#8c8c8c" stroke-width="0.8"/>
<rect x="370.05" y="501.92" width="10.1" height="10.9" fill="#F0671F" stroke="#943f13" stroke-width="0.8"/>
<line x1="370.05" y1="507.42" x2="380.15" y2="507.42" stroke="#6c2e0d" stroke-width="0.8"/>
<line x1="394.6" y1="512.73" x2="394.6" y2="512.05" stroke="#8c8c8c" stroke-width="0.8"/>
<line x1="394.6" y1="513.5" x2="394.6" y2="513.5" stroke="#8c8c8c" stroke-width="0.8"/>
<line x1="392.4" y1="512.05" x2="396.8" y2="512.05" stroke="#8c8c8c" stroke-width="0.8"/>
<line x1="392.4" y1="513.5" x2="396.8" y2="513.5" stroke="#8c8c8c" stroke-width="0.8"/>
<rect x="389.55" y="512.73" width="10.1" height="0.77" fill="#F0671F" stroke="#943f13" stroke-width="0.8"/>
<line x1="389.55" y1="513.21" x2="399.65" y2="513.21" stroke="#6c2e0d" stroke-width="0.8"/>
<line x1="423.7" y1="489.38" x2="423.7" y2="472.97" stroke="#8c8c8c" stroke-width="0.8"/>
<line x1="423.7" y1="513.5" x2="423.7" y2="513.5" stroke="#8c8c8c" stroke-width="0.8"/>
<line x1="421.5" y1="472.97" x2="425.9" y2="472.97" stroke="#8c8c8c" stroke-width="0.8"/>
<line x1="421.5" y1="513.5" x2="425.9" y2="513.5" stroke="#8c8c8c" stroke-width="0.8"/>
<rect x="418.65" y="489.38" width="10.1" height="24.12" fill="#BE1E2D" stroke="#75121b" stroke-width="0.8"/>
<line x1="418.65" y1="503.27" x2="428.75" y2="503.27" stroke="#550d14" stroke-width="0.8"/>
<line x1="438.2" y1="513.5" x2="447.7" y2="513.5" stroke="#aaaaaa" stroke-width="1.0"/>
<line x1="472.3" y1="501.53" x2="472.3" y2="488.41" stroke="#8c8c8c" stroke-width="0.8"/>
<line x1="472.3" y1="513.21" x2="472.3" y2="512.53" stroke="#8c8c8c" stroke-width="0.8"/>
<line x1="470.1" y1="488.41" x2="474.5" y2="488.41" stroke="#8c8c8c" stroke-width="0.8"/>
<line x1="470.1" y1="513.21" x2="474.5" y2="513.21" stroke="#8c8c8c" stroke-width="0.8"/>
<rect x="467.25" y="501.53" width="10.1" height="11" fill="#1B3060" stroke="#101d3b" stroke-width="0.8"/>
<line x1="467.25" y1="507.81" x2="477.35" y2="507.81" stroke="#0c152b" stroke-width="0.8"/>
<line x1="492" y1="493.72" x2="492" y2="473.36" stroke="#8c8c8c" stroke-width="0.8"/>
<line x1="492" y1="513.5" x2="492" y2="513.5" stroke="#8c8c8c" stroke-width="0.8"/>
<line x1="489.8" y1="473.36" x2="494.2" y2="473.36" stroke="#8c8c8c" stroke-width="0.8"/>
<line x1="489.8" y1="513.5" x2="494.2" y2="513.5" stroke="#8c8c8c" stroke-width="0.8"/>
<rect x="486.95" y="493.72" width="10.1" height="19.78" fill="#1B3060" stroke="#101d3b" stroke-width="0.8"/>
<line x1="486.95" y1="508.29" x2="497.05" y2="508.29" stroke="#0c152b" stroke-width="0.8"/>
<line x1="521" y1="507.81" x2="521" y2="499.02" stroke="#8c8c8c" stroke-width="0.8"/>
<line x1="521" y1="513.5" x2="521" y2="513.5" stroke="#8c8c8c" stroke-width="0.8"/>
<line x1="518.8" y1="499.02" x2="523.2" y2="499.02" stroke="#8c8c8c" stroke-width="0.8"/>
<line x1="518.8" y1="513.5" x2="523.2" y2="513.5" stroke="#8c8c8c" stroke-width="0.8"/>
<rect x="515.95" y="507.81" width="10.1" height="5.69" fill="#651E68" stroke="#3e1240" stroke-width="0.8"/>
<line x1="515.95" y1="513.31" x2="526.05" y2="513.31" stroke="#2d0d2e" stroke-width="0.8"/>
<line x1="540.6" y1="450.1" x2="540.6" y2="419.51" stroke="#8c8c8c" stroke-width="0.8"/>
<line x1="540.6" y1="513.5" x2="540.6" y2="496.23" stroke="#8c8c8c" stroke-width="0.8"/>
<line x1="538.4" y1="419.51" x2="542.8" y2="419.51" stroke="#8c8c8c" stroke-width="0.8"/>
<line x1="538.4" y1="513.5" x2="542.8" y2="513.5" stroke="#8c8c8c" stroke-width="0.8"/>
<rect x="535.55" y="450.1" width="10.1" height="46.13" fill="#651E68" stroke="#3e1240" stroke-width="0.8"/>
<line x1="535.55" y1="473.36" x2="545.65" y2="473.36" stroke="#2d0d2e" stroke-width="0.8"/>
<line x1="569.7" y1="486.29" x2="569.7" y2="450.29" stroke="#8c8c8c" stroke-width="0.8"/>
<line x1="569.7" y1="513.21" x2="569.7" y2="512.05" stroke="#8c8c8c" stroke-width="0.8"/>
<line x1="567.5" y1="450.29" x2="571.9" y2="450.29" stroke="#8c8c8c" stroke-width="0.8"/>
<line x1="567.5" y1="513.21" x2="571.9" y2="513.21" stroke="#8c8c8c" stroke-width="0.8"/>
<rect x="564.65" y="486.29" width="10.1" height="25.77" fill="#A64F9A" stroke="#66305f" stroke-width="0.8"/>
<line x1="564.65" y1="504.72" x2="574.75" y2="504.72" stroke="#4a2345" stroke-width="0.8"/>
<line x1="589.2" y1="475.48" x2="589.2" y2="452.42" stroke="#8c8c8c" stroke-width="0.8"/>
<line x1="589.2" y1="513.5" x2="589.2" y2="499.99" stroke="#8c8c8c" stroke-width="0.8"/>
<line x1="587" y1="452.42" x2="591.4" y2="452.42" stroke="#8c8c8c" stroke-width="0.8"/>
<line x1="587" y1="513.5" x2="591.4" y2="513.5" stroke="#8c8c8c" stroke-width="0.8"/>
<rect x="584.15" y="475.48" width="10.1" height="24.51" fill="#A64F9A" stroke="#66305f" stroke-width="0.8"/>
<line x1="584.15" y1="487.06" x2="594.25" y2="487.06" stroke="#4a2345" stroke-width="0.8"/>
<line x1="314.3" y1="416.9" x2="314.3" y2="518.3" stroke="#9a9a9a" stroke-width="0.8"/>
<line x1="314.3" y1="518.3" x2="597" y2="518.3" stroke="#9a9a9a" stroke-width="0.8"/>
<line x1="311.3" y1="513.5" x2="314.3" y2="513.5" stroke="#9a9a9a" stroke-width="0.8"/>
<text x="308.8" y="516.6" font-size="8.6" text-anchor="end" fill="#231f20">0</text>
<line x1="311.3" y1="474.9" x2="314.3" y2="474.9" stroke="#9a9a9a" stroke-width="0.8"/>
<text x="308.8" y="478" font-size="8.6" text-anchor="end" fill="#231f20">40</text>
<line x1="311.3" y1="436.3" x2="314.3" y2="436.3" stroke="#9a9a9a" stroke-width="0.8"/>
<text x="308.8" y="439.4" font-size="8.6" text-anchor="end" fill="#231f20">80</text>
<text x="292" y="467" font-size="9.25" text-anchor="middle" fill="#231f20" transform="rotate(-90 292 467)">Time in state (%)</text>
<line x1="326.4" y1="518.3" x2="326.4" y2="521.4" stroke="#9a9a9a" stroke-width="0.8"/>
<text x="329" y="524.4" font-size="8.9" text-anchor="end" fill="#231f20" transform="rotate(-90 329 524.4)">Larvae</text>
<line x1="345.9" y1="518.3" x2="345.9" y2="521.4" stroke="#9a9a9a" stroke-width="0.8"/>
<text x="348.5" y="524.4" font-size="8.9" text-anchor="end" fill="#231f20" transform="rotate(-90 348.5 524.4)">OP50</text>
<line x1="375.1" y1="518.3" x2="375.1" y2="521.4" stroke="#9a9a9a" stroke-width="0.8"/>
<text x="377.7" y="524.4" font-size="8.9" text-anchor="end" fill="#231f20" transform="rotate(-90 377.7 524.4)">Larvae</text>
<line x1="394.6" y1="518.3" x2="394.6" y2="521.4" stroke="#9a9a9a" stroke-width="0.8"/>
<text x="397.2" y="524.4" font-size="8.9" text-anchor="end" fill="#231f20" transform="rotate(-90 397.2 524.4)">OP50</text>
<line x1="423.7" y1="518.3" x2="423.7" y2="521.4" stroke="#9a9a9a" stroke-width="0.8"/>
<text x="426.3" y="524.4" font-size="8.9" text-anchor="end" fill="#231f20" transform="rotate(-90 426.3 524.4)">Larvae</text>
<line x1="443" y1="518.3" x2="443" y2="521.4" stroke="#9a9a9a" stroke-width="0.8"/>
<text x="445.6" y="524.4" font-size="8.9" text-anchor="end" fill="#231f20" transform="rotate(-90 445.6 524.4)">OP50</text>
<line x1="472.3" y1="518.3" x2="472.3" y2="521.4" stroke="#9a9a9a" stroke-width="0.8"/>
<text x="474.9" y="524.4" font-size="8.9" text-anchor="end" fill="#231f20" transform="rotate(-90 474.9 524.4)">Larvae</text>
<line x1="492" y1="518.3" x2="492" y2="521.4" stroke="#9a9a9a" stroke-width="0.8"/>
<text x="494.6" y="524.4" font-size="8.9" text-anchor="end" fill="#231f20" transform="rotate(-90 494.6 524.4)">OP50</text>
<line x1="521" y1="518.3" x2="521" y2="521.4" stroke="#9a9a9a" stroke-width="0.8"/>
<text x="523.6" y="524.4" font-size="8.9" text-anchor="end" fill="#231f20" transform="rotate(-90 523.6 524.4)">Larvae</text>
<line x1="540.6" y1="518.3" x2="540.6" y2="521.4" stroke="#9a9a9a" stroke-width="0.8"/>
<text x="543.2" y="524.4" font-size="8.9" text-anchor="end" fill="#231f20" transform="rotate(-90 543.2 524.4)">OP50</text>
<line x1="569.7" y1="518.3" x2="569.7" y2="521.4" stroke="#9a9a9a" stroke-width="0.8"/>
<text x="572.3" y="524.4" font-size="8.9" text-anchor="end" fill="#231f20" transform="rotate(-90 572.3 524.4)">Larvae</text>
<line x1="589.2" y1="518.3" x2="589.2" y2="521.4" stroke="#9a9a9a" stroke-width="0.8"/>
<text x="591.8" y="524.4" font-size="8.9" text-anchor="end" fill="#231f20" transform="rotate(-90 591.8 524.4)">OP50</text>
<text x="336.15" y="566.9" font-size="9" text-anchor="middle" fill="#231f20">Predatory</text>
<text x="336.15" y="576.9" font-size="9" text-anchor="middle" fill="#231f20">search</text>
<text x="384.85" y="566.9" font-size="9" text-anchor="middle" fill="#231f20">Predatory</text>
<text x="384.85" y="576.9" font-size="9" text-anchor="middle" fill="#231f20">biting</text>
<text x="433.35" y="566.9" font-size="9" text-anchor="middle" fill="#231f20">Predatory</text>
<text x="433.35" y="576.9" font-size="9" text-anchor="middle" fill="#231f20">feeding</text>
<text x="482.15" y="566.9" font-size="9" text-anchor="middle" fill="#231f20">Dwelling</text>
<text x="530.8" y="566.9" font-size="9" text-anchor="middle" fill="#231f20">Roaming</text>
<text x="579.45" y="566.9" font-size="9" text-anchor="middle" fill="#231f20">Search</text>
<text x="336.15" y="414.2" font-size="10" text-anchor="middle" fill="#231f20">****</text>
<text x="384.85" y="414.2" font-size="10" text-anchor="middle" fill="#231f20">****</text>
<text x="433.35" y="414.2" font-size="10" text-anchor="middle" fill="#231f20">****</text>
<text x="482.15" y="411.6" font-size="9" text-anchor="middle" fill="#231f20">NS</text>
<text x="530.8" y="414.2" font-size="10" text-anchor="middle" fill="#231f20">****</text>
<text x="579.45" y="414.2" font-size="10" text-anchor="middle" fill="#231f20">****</text>
<text x="601.1" y="408.7" font-size="9" text-anchor="start" fill="#231f20">States</text>
<rect x="601.4" y="414.45" width="7.7" height="7.7" fill="#F99F4D"/>
<text x="613" y="421.6" font-size="9" text-anchor="start" fill="#231f20">Predatory search</text>
<rect x="601.4" y="427.25" width="7.7" height="7.7" fill="#F0671F"/>
<text x="613" y="434.4" font-size="9" text-anchor="start" fill="#231f20">Predatory biting</text>
<rect x="601.4" y="440.05" width="7.7" height="7.7" fill="#BE1E2D"/>
<text x="613" y="447.2" font-size="9" text-anchor="start" fill="#231f20">Predatory feeding</text>
<rect x="601.4" y="452.85" width="7.7" height="7.7" fill="#1B3060"/>
<text x="613" y="460" font-size="9" text-anchor="start" fill="#231f20">Dwelling</text>
<rect x="601.4" y="465.65" width="7.7" height="7.7" fill="#651E68"/>
<text x="613" y="472.8" font-size="9" text-anchor="start" fill="#231f20">Roaming</text>
<rect x="601.4" y="478.45" width="7.7" height="7.7" fill="#A64F9A"/>
<text x="613" y="485.6" font-size="9" text-anchor="start" fill="#231f20">Search</text>
</svg>
</body></html>
